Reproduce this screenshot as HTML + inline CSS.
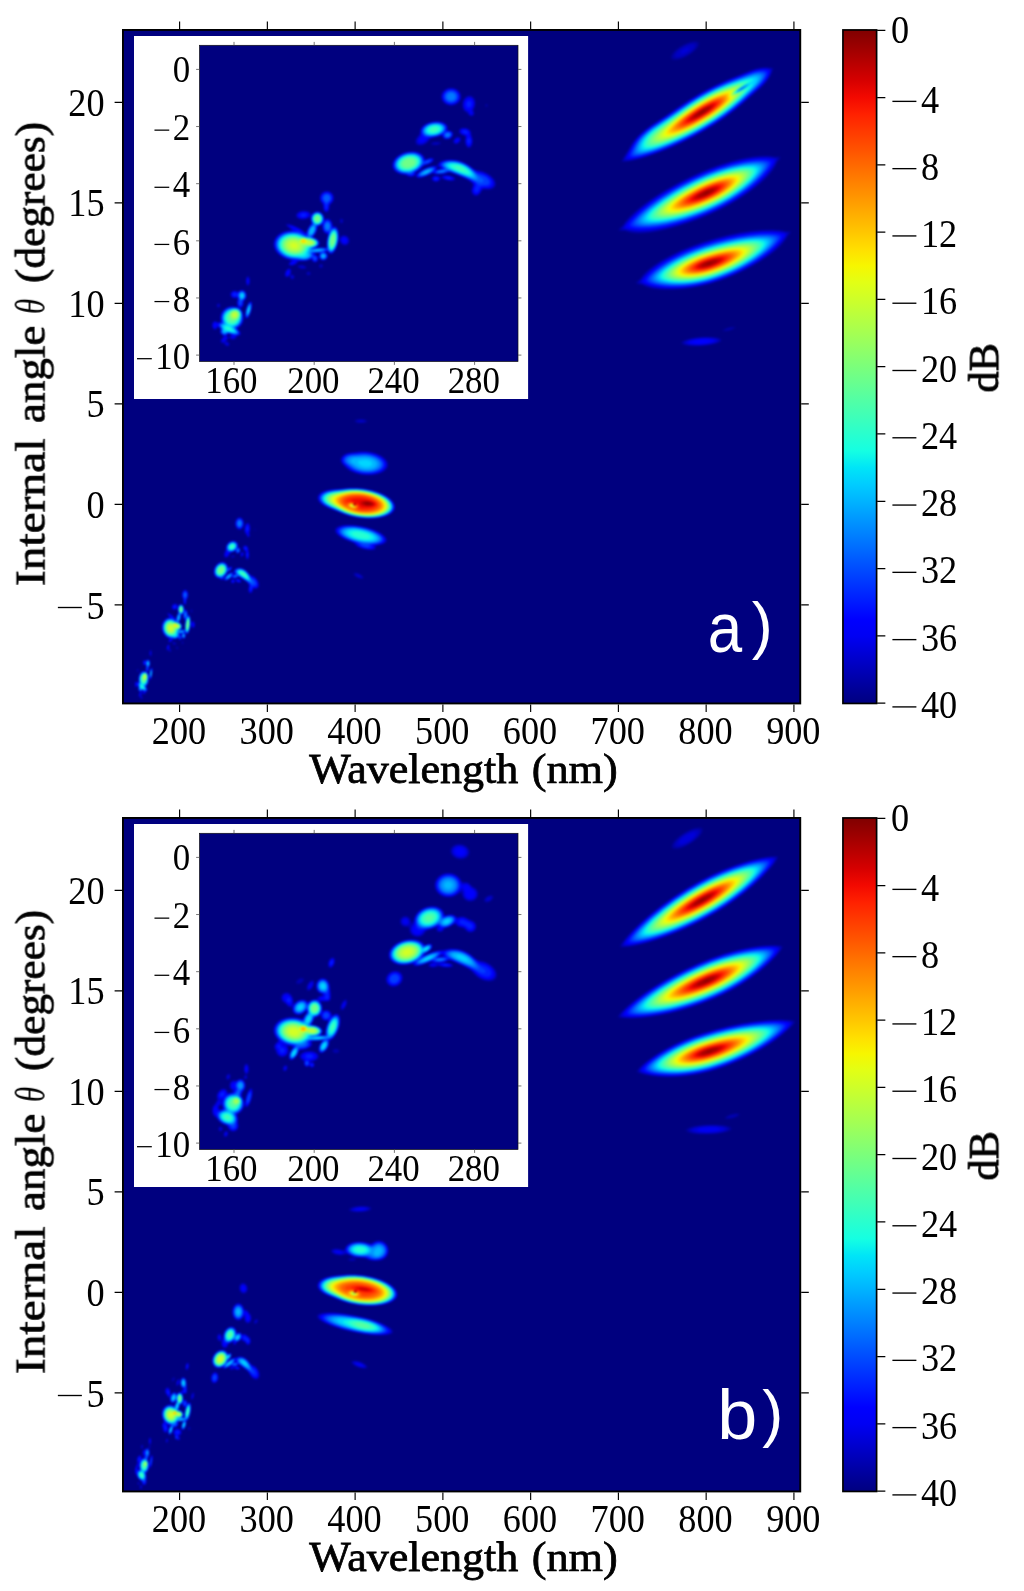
<!DOCTYPE html>
<html><head><meta charset="utf-8"><title>figure</title>
<style>html,body{margin:0;padding:0;background:#fff}svg{display:block}</style></head>
<body>
<svg width="1024" height="1591" viewBox="0 0 1024 1591">
<rect width="1024" height="1591" fill="#fff"/>
<defs><filter id="blM" x="-5%" y="-5%" width="110%" height="110%" color-interpolation-filters="sRGB"><feGaussianBlur stdDeviation="0.9"/></filter><filter id="blI" x="-5%" y="-5%" width="110%" height="110%" color-interpolation-filters="sRGB"><feGaussianBlur stdDeviation="1.2"/></filter></defs>
<g transform="translate(0,0)">
<rect x="122.95" y="29.95" width="677.30" height="673.50" fill="#00007f"/>
<clipPath id="cma"><rect x="122.95" y="29.95" width="677.30" height="673.50"/></clipPath><g clip-path="url(#cma)"><g filter="url(#blM)">
<path fill="#000090" d="M677.4 60l-3 0.2-2-0.3-0.9-0.5-0.5-0.4-0.2-0.6-0.2-1 0.5-2 1.2-2 2.2-2.4 2.5-2.2 3.4-2.5 2.6-1.4 3-1.5 4-1.5 3-0.7 2.4-0.2 2 0.3 1 0.5 0.6 0.5 0.3 0.7 0.1 1-0.2 1-0.7 1.4-1.8 2.6-3.3 3-3.4 2.6-4.2 2.4-4.8 2zM624 162l-2.6-0.1-0.2-0.5 0.7-1.4 4.7-7.6 3.6-6.4 2.6-4 1.9-2.6 4.3-4.5 4-3.7 2.4-2 6-4.5 15-9.7 14-9.7 10-6.6 6.6-4 8-4.5 12-6 9-4 13-5.1 10.4-4.4 7.6-2.4 2.4-0.6 3.6-0.4 4.4 0 2.6 0.3 3 0.1 0.5 0.3 0.2 0.4-0.1 0.6-1.2 2.1-0.3 1.3-1 2.6-1.9 3.4-2.6 3.6-4.7 5-18.9 16.7-8.6 7-10 7.5-12 8-11 6.5-12 6.5-13.4 6.5-10.6 4.5-12 4.5-12.4 4-10.6 2.5zM645.4 233.5l-6.4 0.3-5.6-0.3-4-0.8-4-1.5-4 0.1-2-0.2-1-0.4-0.2-0.3-0.1-0.4 0.5-1 0.9-1 3.5-2.9 1.4-2.7 4.1-5 4-4 5-4.4 6.5-5.1 7-5 8.4-5.5 8.6-5.1 9-5 7-3.6 7-3.4 10-4.5 14-5.5 9-3.1 6.4-1.9 7.6-2 7-1.5 5.4-1 8-1 5-0.3 4.6 0.1 3 0.2 4 0.9 3-0.4 1.4 0.1 0.6 0.1 0.7 0.5 0.1 0.4-0.3 1-3.3 4-1.3 3.6-2.4 4-4 5-4.8 5-5.7 5-8.6 6.6-9.4 6.5-10 6-10.6 5.6-10.4 4.9-11 4.6-12 4.4-11 3.5-11.6 3-9 2zM678 289.5l-3.6 0.2-10 0.1-6-0.2-5-0.6-2.4-0.4-4-1.1-2-0.8-2-1.3-5.6-1.1-0.9-0.3-0.6-0.6-0.2-0.4 0-0.6 1.3-1.5 3.4-2.6 1-1.9 1.5-2 2.1-2.2 2.3-2.2 6.7-5.1 7-4.5 10-5.4 11-5.2 12.4-5 10.6-3.6 11.4-3.4 14-3.5 12.6-2.5 10.4-1.5 5.6-0.5 7-0.4 7 0 6.4 0.4 3.6 0.6 3 0.8 4-0.1 0.9 0.3 0.3 0.6-0.1 0.4-0.6 1-2.5 2.6-1.9 3.4-2.6 3.6-3.5 3.9-4 3.6-6.6 5.1-7.4 5-7.6 4.5-8.4 4.6-8 3.9-8 3.5-8 3.1-10.6 3.5-7.4 1.9-10 2.1-7 1zM727.4 331.1l-4 0.2-1-0.3 0-0.6 0.6-0.6 1.4-0.9 1.6-0.7 3-1 3-0.5 2.4 0 1.1 0.3 0.2 0.4-0.4 0.6-1.9 1.2-2.4 1zM700.4 346l-2.4 0.2-4.6 0-6.4-0.5-2.6-0.6-2.4-1-0.7-0.7-0.2-0.4 0-0.6 0.9-1 1-0.5 4-1.6 4.4-1.1 8-1.1 8-0.3 7.6 0.4 3 0.5 2 0.6 1.1 0.7 0.6 0.4 0.2 0.6-0.3 1-1.3 1-2.3 1.1-2 0.6-7 1.5-4 0.5zM364 423.1l-3 0.2-3-0.2-2-0.5-1-0.5-0.7-0.7 0-0.4 0.3-0.6 0.8-0.6 1.6-0.5 3.4-0.3 4 0.2 2 0.7 0.8 0.5 0.3 0.6 0 0.4-0.5 0.6-1 0.5zM373.4 475.1l-2.4 0.2-5.6 0-5-0.6-5.4-1.4-4-1.7-2.6-1.5-2-1.5-4.1-4.2-1.1-1.4-0.6-1.6-0.2-1.4 0.3-2 1-1.6 1.3-1.2 1.4-1 2.6-1 1.5-0.2 0.5-0.3 2.4-0.3 1-0.2 8-1 4.6 0 5 0.5 6 1.5 4.4 1.9 2 1.2 2 1.5 2.2 2.2 0.9 1.4 0.6 1.6 0.2 2-0.1 1.4-0.7 1.6-1.1 1.4-2 1.8-1.4 1-2 1-3 1zM373.4 518.6l-1.4 0.2-4 0-1.6-0.1-1-0.3-4.4-0.1-0.9-0.3-2.7-0.2-0.7-0.4-1.7 0-0.6-0.1-0.4-0.4-1.6-0.1-0.6-0.4-1.4-0.1-0.5-0.3-1.5-0.2-0.3-0.4-1.1-0.1-0.4-0.3-1.2-0.2-0.4-0.4-1-0.1-0.4-0.3-2.2-0.7-0.3-0.3-0.7-0.1-0.4-0.5-2-0.6-0.6-0.4-1-0.2-1.4-0.8-1-0.1-0.4-0.3-1.2-0.2-0.3-0.4-1.1-0.2-0.3-0.2-2.3-0.7-0.3-0.3-0.7-0.2-0.4-0.4-2.6-1.1-2.4-1.6-3.4-3.3-0.9-1.4-0.4-1.6-0.1-1 0.4-1.4 0.5-1 2.3-2.3 3-1.6 0.9-0.1 0.7-0.4 1-0.2 0.4-0.3 1.8-0.1 0.8-0.4 2.6-0.2 0.8-0.2 7.7-0.2 1.3-0.4 4-0.2 0.6-0.2 1-0.1 12.4-0.1 1 0.1 0.8 0.3 3.2 0.2 0.7 0.4 2.3 0.1 0.5 0.3 1.5 0.1 0.6 0.1 0.4 0.4 1.6 0.1 0.3 0.3 1.1 0.1 0.6 0.2 0.2 0.3 1.2 0.1 0.4 0.3 1.2 0.2 0.3 0.4 1.1 0.1 0.4 0.3 2.2 0.7 0.3 0.3 0.7 0.2 0.4 0.4 0.6 0 0.4 0.4 0.6 0.1 0.4 0.5 0.6 0 0.4 0.5 0.6 0.1 0.3 0.4 0.7 0.2 3.4 2.5 1.9 1.7 1.5 2 1 2 0.5 2-0.2 2-0.8 2-1.9 2.3-2 1.5-0.6 0.2-0.4 0.4-0.6 0.2-0.4 0.3-0.6 0.1-0.4 0.4-2.2 0.6-0.8 0.4-1 0.2-0.4 0.3-1.7 0.1-0.3 0.4-2.5 0.2-1.1 0.3zM241 529.5l-0.6 0.3-1.4 0-0.6 0-0.3-0.4-0.7-0.2-0.8-0.8-1-1.4-0.2-1.1-0.3-0.5 0-3.4 0.6-2 1.3-1.7 1-0.7 1-0.5 1.4 0.1 1.6 0.9 0.7 0.9 0.2 0.4 0.4 0.6 0.6 1.4 0.2 2.6-0.4 2.4-0.9 1.6-1.4 1.3zM249 537.3l-1 0-0.9-0.9-0.1-0.5-0.6-0.8-1.3-1.7-0.5-1-0.2-1.6-0.2-0.8 0-2 0.5-2.6 0.9-1.4 1.4-1.4 1.4 0.1 0.8 0.7 0.6 1 0.5 2 0 4-0.3 0.6-0.3 1.4-0.3 0.6 0 0.6 0.4 0.8 0.1 1.6-0.1 0.4zM374.4 549.7l-3 0.2-4.4-0.1-0.9-0.4-1.7-0.1-0.7-0.3-1.3-0.2-0.5-0.4-0.9-0.1-0.6-0.3-1-0.2-0.3-0.4-1.7-0.6-1.4-1-2.2-2.4-1.4-1-7-2.6-4-2-2.4-1.6-2.1-1.8-1.7-2-0.5-1.4-0.1-1 0.3-1 1.5-1.8 2-1.1 1.6-0.5 1.3-0.2 0.7-0.2 4-0.5 4.4 0 1.6 0.3 4 0.1 1 0.3 2.4 0.2 0.7 0.4 1.9 0.1 0.7 0.3 1.7 0.2 0.5 0.4 1.5 0.1 0.5 0.3 1.5 0.3 0.3 0.3 1.3 0.2 0.3 0.2 1.1 0.2 0.4 0.4 1.2 0.2 0.2 0.2 2.2 0.8 0.3 0.2 0.7 0.2 0.4 0.4 2.6 1.1 4 2.6 2.8 2.7 1 2-0.1 1.6-0.5 1-1.2 1.1-2 1.1-3.4 1-2.4 0.2-1.4 0.6-0.1 0.4 0.2 1.6-0.1 0.4-0.8 0.9zM255.4 530.7l-0.4 0.1-0.8-0.8 0-0.6 0.8-0.8 0.4 0.1 0.4 0.7 0 0.6zM226 558.1l-0.6 0-1-0.7-0.7-1.4-0.1-1 0.6-2.6 1.2-2.1 0.2-2.3 0.4-0.7 0-1.3 0.4-0.5 0.1-0.5 0.5-0.6 0.1-0.4 1.3-1.4 1.6-1.1 0.6-0.1 0.4-0.3 1.3-0.1 0.7-0.4 0.4 0 0.6 0.1 0.2 0.3 1.2 0.1 1.6 1.1 0.9 1.2 0.1 0.7 0.3 0.3 0 0.6 0 2 1.1 0.5 0.9 0.9 0.1 3-0.4 0.5-0.2 0.5-0.8 0.9-0.8 0.1-0.2 0.3-0.6 0.1-0.3-0.4-0.7-0.1-0.3-0.3-0.1-0.6-0.5-0.4-0.1-0.8-0.4-0.1-1 0.7-1.1 0.2-0.5 0.3-0.8 0.1-1.2 0.9-0.6 1.7-1 1.4-0.8 0.8zM247.4 559.8l-0.4 0-0.8-0.8-0.2-1.3-0.3-0.3-0.2-6-0.4-0.4-0.7-0.2-1.2-1.4-0.2-1-0.3-0.4 0.4-1.6 0.9-0.8 1-0.3 1.4 0.3 1.4 1.4 0.5 1 0.1 2.2 0.4 0.8 0.1 2 0.3 1 0.1 1-0.3 1-0.2 2-0.4 0.4-0.1 0.6zM242.4 556.7l-0.4 0.2-1-0.1-0.4-0.4-0.2-0.7-0.2-0.3 0-0.4 0.2-0.3 0.2-1.3 0.8-1 1-0.8 0.6 0 0.8 0.8 0.1 2-0.2 0.6zM233.4 557.6l-1 0.2-1-0.1-0.9-0.7-0.1-0.6 1-0.8 0.8-0.2 0.2-0.2 2 0 0.9 0.8 0 0.4-0.9 0.9zM251 593.3l-1 0-0.6-0.3-0.8-1-0.4-2.6 0.2-0.7 0.2-1.7 0.4-1.2-0.5-1.4-0.5-0.9-2.5-2.5-1.1-0.6-1-1-0.4 0-1.2-1-1.4-0.7-1-0.8-1.4 0-0.6 0.5-0.5 0-0.5 0.5-1.1 0.1-0.3 0.3-0.6 0.1-1.4-0.1-0.5-0.3-1.1-0.4-1 0.3-1.4 1.5-0.6 0-0.4 0.5-1 0.5-0.7 0-0.3 0.4-0.6 0-0.4 0-1.4-1.4-0.6 0.4-2 0-1-0.9-0.8-0.5-1.8-0.2-1.4-0.9-0.9-0.9-1-1.4-0.1-1.2-0.4-0.4-0.1-2 0.1-1 0.4-0.7 0.1-1.3 0.3-0.3 0.1-0.7 0.5-0.4 0.1-0.6 0.9-1 0.2-0.4 0.8-0.8 2-1.5 1.4-0.7 2-0.2 2 0.3 1.6 0.9 1.3 1.4 0.1 0.7 0.4 0.3 0.2 1 0.4 1.1 0.4-0.1 1.2-0.7 1-0.2 0.4 0 0.9 0.9-0.5 1.6-0.4 0.4-2 1.9-0.5 0.1-0.5 0.5-0.4 0-0.6 0.5-0.6 1.6-2.4 2.6 0 1 1.8-2.2 2.2-1.9 0.6 0 1-0.8 1-0.3 0.4-0.3 1.5-0.1 0.5-0.7 0.2-0.9 1.8-1.8 0.6-0.2 0.4-0.3 1-0.1 0.6-0.3 1-0.1 1.4 0.1 0.3 0.3 1.3 0 0.6 0.4 0.8 0.2 1.2 0.8 0.4 0.1 5.4 5.5 2.6 0.6 1.4 1 2.9 2.8 1 1.6 1 3-0.1 2.4-0.5 1-1.3 1.3-1.4 0.5-2-0.3-0.4 0.1-0.6 0.8-0.2 1.2-0.4 0.3-0.1 0.7zM363.4 578.6l-1.4 0.3-2-0.2-2.6-0.9-2.4-1.6-0.8-0.8-0.9-1.4 0-0.6 0.7-0.6 2-0.2 3.4 1.1 2.6 1.5 1.6 1.8 0.3 1zM234.5 574.4l0.5-0.4-0.6-0.6-0.4-0.1-0.6 0.6 0 0.5 0 0.2zM234 583.2l-0.6 0.2-1.4-0.1-0.9-0.9 0-2.4 0.9-0.9 2 0 0.4 0.4 0.6 0.2 0.4-0.6 1-0.5 1.6 0 0.4 0.4 1 0.1 1.6 1.1 0.4 0.8 0 1-0.4 0.4-0.6 0.4-1 0.1-1-0.1-0.3-0.4-0.7 0-0.4-0.5-0.6-0.1-1-0.9-0.4 0.4-0.3 1.1zM185 605l-0.9-0.6-0.1-0.5-0.5-0.5 0-3.4-1.3-2.6-0.3-2.4 0.2-2.6 0.3-0.3 0.2-0.7 1.4-1.4 0.4-0.3 0.6-0.1 0.4 0 1 0.5 0.9 0.9 0.6 1 0.1 0.6 0.3 0.4 0.1 2-0.1 1.4-0.3 0.8-0.2 0.8-1.4 2-0.2 3.4-0.2 0.3-0.2 0.7zM170.4 642.3l-1.4 0.1-0.8-0.4-0.1-1 0.3-0.4 0.2-0.6 0.4-0.6 0.2-0.4-0.5-0.6-0.7-0.1-0.4-0.3-0.6-0.3-1-0.8-1.9-1.9-1-1.6-0.1-0.6-0.4-0.4-0.2-0.7-0.3-0.7-0.1-1-0.3-0.6-0.1-1 0-3 0.4-0.6 0.1-1.4 0.3-0.3 0.1-0.7 0.6-1 1.9-2.2 1.4-1.1 0.8-0.1 0.2-0.3 1.6-0.3 0.2-0.4-0.2-0.6-1.4-1.4-0.2-0.6-0.3-0.4-0.1-0.6 0.4-0.6 1.6 0.3 0.3 0.3 0.7 0.2 1.4 1 2.6 2.1 1.4 1.8 0.6 0.3 0.4-0.9 0.1-1.5 0.5-0.4 0-1 0.4-0.5 0.1-0.5 0.5-0.6 0.2-1-0.2-3.3-0.6-0.3-1.4 1-1.6 0.1-1.4-0.2-1.4-1.3 0-2.4 0.8-1.3 1.6-1 0.4-0.1 2 0.1 1.4 1.3 0.6 0.8 2-1.7 1 0 1 0.7 1 1.2 0 0.5 0.5 0.5 0.1 1.6 0.3 0.4 0.1 0.4 0.6-0.3 1 0.1 0.8 0.8 0.2 0.6 0.3 0.4 0.1 1.1 0.4 0.3 0.1 0.6 0.1 1.6 1 0.1 0.2 0.3 0.7 1 0.1 0.8 0.4 0.6 0 4.2 0.6 0.5 0.4-0.9 1-0.5 0.6 0 0.9 0.7 0.9 1 0.2 1.2 0.2 0.4 0 2-0.2 0.2-0.2 0.8-0.8 0.9-0.6 0.4-1 0-1.3-1.3-0.1-0.7-0.4-0.3-0.2-1-0.1 1.4-0.4 0.6-0.1 2-0.4 0.3-0.1 1.7-0.3 0.3-0.1 0.7-0.5 0.4 0 0.6-1 1.1-0.4 0.3-0.6-0.1-0.8-0.9-0.2-0.8-0.5-0.2 0 0.6 0.4 0.4 0.1 1.1 0.4 0.5 0.1 1-0.5 0.7 0 0.7-1.4 1.5-1-0.1-1-0.8 0-0.6-0.6-0.1 0 1.7-1.4 1.3-1.5-1.3-0.1-0.7-0.4-0.1-0.7 0.2-0.3 0.4-1.2 0.2-0.4 0.3-2.4 0.1-1.3 2zM192 612.7l-0.6 0.1-0.8-0.8 0-0.6 0-1.4 0.8-0.9 0.6 0.1 0.3 0.8 0 2zM185 629.4l0-6 0-0.4 0.4-0.5 0.1-2.1-0.5-0.1-0.9-0.9-0.6-1-0.1-0.6-0.3-0.4-0.1-3.5-0.6 0-1 1.1-0.1 1-0.3 0.4-0.1 2-0.5 0.5 0 1.1-0.5 0.4 0 0.6-0.5 0.7 0 0.7 1.2 1 1.3 1.6 0.1 1.1 0.3 0.3-0.3 0.8-0.1 0.8-1.1 1.4zM181.5 636l0-1.6 0.1-0.4 0.4-0.6-1.2 0-0.7 0.6 1.2 1.4 0.1 0.9zM183 644.1l-0.6 0.2-0.8-0.9 0-1.4 0.8-0.9 0.6 0 0.3 0.3 0.4 1 0 0.6zM176 644.7l-0.6 0.1-1.4 0-0.4-0.4-0.6-0.2-0.8-0.8-0.1-1 1.3-0.7 1.6 0.4 1 0.7 0.3 0.6 0 0.6zM170 652.3l-0.9-0.9-0.1-1.2-0.6 0.1-0.4 0.4-0.6 0.1-0.8-0.8 0-2.6 0.4-0.6 0-0.8 0.5-0.6 0.1-0.4 0.8-0.9 0.6 0 0.3 0.3 0.5 1 0 1-0.4 1 0 1.1 1 0.1 0.4 0.4 0.3 1.4-0.2 1zM177.4 649.3l-0.4 0-0.9-0.9 0.1-1.4 0.8-0.4 0.4 0 0.9 0.8 0 1zM150.4 656.8l-0.3-0.4-0.1-0.8-0.4-0.6-0.1-2 0.1-1.6 0.4-0.7 0.1-0.7 0.3-0.4 0.9 0.8 0.1 2.6-0.1 3zM142 699.3l-0.6 0-0.9-0.9-0.5-1.1-1.4-0.9-0.1-2 1-1.4 0.1-1-0.1-0.6-1-1-0.1-1-0.3-0.4 0-0.6 0.3-0.5 0-1.1-0.3-0.4-0.1-0.5-0.6 0 0 0.5-0.5 0.6-0.5 0.4-0.4 0.1-0.7-0.5-0.3-0.6 0-0.7-0.4-0.7 0-1 0.1-0.6 0.3-0.2 0.1-1.2 0.9-0.9 0.4 0 1 0.9 1-0.1 0.2-5.9 0.4-0.4 0.1-1.2 0.9-1.4 2-1.9 1.1-0.1 0.3-0.3 2.6 0.5 0-0.7-0.4-0.5-0.1-1.6 0.1-1 0.4-0.4 0-1.6-2-0.1-0.9-0.9-0.5-2 0.4-0.6 0.1-0.8 0.9-0.9 1-0.2 1.4 0.6 1-1 1 0 1.4 1.5 0.2 2.2 0.1 0.2-0.1 0.3-0.2 2.3-0.8 1.2-0.2 3.2-0.4 0.4 0 0.6-1 1 0.5 1 0.1 0.6 0.4 0.4 0 1.6 0.4 0.4 0.1 1.6 0 3.4-0.5 0.8-0.1 1.2-0.3 0.4-0.2 0.6-0.4 0.4-0.2 0.6-0.8 1 0 1 0.5 0.6 0.1 0.5 0.4 0.5 0.3 1.4-0.7 1-1 0.8-0.3 1.2-0.7 0.8-1.6 0.1-1-0.7-0.4 0.4-0.6 1.4 0.9 1 0.1 0.7 0.4 0.3 0 0.6zM150 679.9l-0.5-0.5-0.4-1.4 0-1.6 0.4-0.4 0-3 0.5-0.8 0-1.8 0.4-0.4 0.1-1 0.5-0.5 0-0.5 0.4-0.5 0.6 0 0.4 0.5 0 5.4-0.4 0.8-0.1 1.8-0.5 0.5 0 1.5-0.4 0.4-0.1 0.6zM138 671.9l-0.6 0-0.4-0.5-0.4-1 0.1-0.4 0.7-1 0.6-0.1 0.7 1.1 0 1zM142.2 692l0.8-1-0.6-0.6-0.5 0-0.2 1 0.3 0.7z"/>
<path fill="#00009f" d="M676.4 59.5l-2 0-1.6-0.5-0.9-1-0.2-1.6 0.5-1.4 1.3-2 1.8-2 2.3-2 2.8-2 3.4-2 3.2-1.6 2.9-1 2.5-0.5 2.6-0.2 1.6 0.3 0.8 0.4 0.6 0.5 0.2 0.5 0.1 1-0.2 1-0.7 1.6-1.9 2.4-3.3 3-3.8 2.6-4.7 2.4-4.3 1.5zM626 161.5l-3 0.1-0.7-0.2-0.3-0.4 0.3-1 1.1-2 3.8-6 5.3-9 3-4 3.7-4 5.8-5.1 6-4.5 15.2-10 15.2-10.5 8.6-5.6 12.4-7.4 12.6-6.5 12.4-5.6 22.6-9 6-2 6-1.1 3-0.2 2.4 0.1 3.6 0.4 1 0 1 0.4 0 1-0.6 1-1 3-2.4 4.8-3.1 4.2-4.3 4.6-19.2 16.8-7.4 6.2-10 7.6-12 8-10 6-11 6-12 6-12.6 5.5-11.4 4.4-12 4-9.6 2.5zM645 233l-6.6 0.2-5.4-0.4-4-0.8-3.6-1.3-3 0.1-2-0.2-1-0.4-0.2-0.8 1-1.4 2.8-2.4 2.4-3.9 3.7-4.3 4.5-4.4 5.4-4.7 6.9-5.3 7.5-5.3 8.6-5.4 9-5.3 8-4.3 7.4-3.8 8-3.8 8-3.5 7.6-3.1 7.4-2.7 7.6-2.5 7.4-2.2 7.6-1.9 6.4-1.3 6.6-1.1 6-0.6 5-0.2 4.4 0 3.6 0.4 3 0.7 3.4-0.2 0.6 0.1 0.8 0.4 0.1 0.6-0.4 1-2.5 2.9-1.4 3.5-2.7 4.6-4 5-5.4 5.4-7 6-8.1 6.2-9 6-9.4 5.7-10 5.3-11 5.1-11 4.5-11.6 4.1-11 3.5-11.4 3-10 2zM672 289.5l-6 0-5.6-0.2-5-0.5-4-0.6-5-1.4-4-2-4.3-0.8-1-0.6-0.4-0.4 0-0.6 0.2-0.4 0.8-1 2.7-2.1 2.7-3.9 4.3-4.5 5.8-4.5 7.2-4.8 9.4-5.2 10.2-4.9 11-4.6 12-4.2 13-4 12.4-3.2 12.6-2.5 11.4-1.7 10.6-1 9.4-0.1 7.6 0.5 3.4 0.6 3 0.7 2.6 0 1.1 0.4 0.2 0.4-0.5 1-2.2 2.6-1.6 2.9-2.6 3.5-4.1 4.6-5.1 4.4-6.6 5-8.2 5.4-8.4 4.9-9.2 4.7-8.8 4.1-8.6 3.5-9 3.1-8.4 2.5-8.6 1.9-9 1.5-9 1zM726 331l-1.8 0-0.9-0.6 0.3-0.4 1.5-1 2.6-1 1.9-0.6 3.4-0.4 1 0.1 0.6 0.3-0.1 0.6-0.6 0.4-1.9 1-3.2 1zM704.4 345.5l-9 0.4-7.4-0.4-2.8-0.5-1.8-0.6-1.3-1-0.2-0.4 0-0.6 0.9-1 0.8-0.4 4-1.6 4.8-1.1 8-1 7-0.2 6.6 0.3 3.4 0.6 1.7 0.4 1.1 0.6 0.6 0.4 0.3 0.6 0 0.4-0.8 1-3 1.6-5.9 1.5zM362.4 423l-3 0-2.9-0.6-1-0.4-0.6-0.6 0-0.4 0.5-0.7 1.6-0.6 1.4-0.4 2.6-0.1 2.4 0.1 1.6 0.4 1.4 0.7 0.5 0.6 0 0.4-0.5 0.5-1 0.5zM372 475l-6 0.1-5-0.6-6-1.5-4.6-2-2.4-1.6-1.9-1.4-2.7-2.7-1.5-1.9-0.8-1.4-0.4-1.6 0-1.4 0.6-1.6 1.1-1.4 1.6-1.2 2-1 1.4-0.5 2.6-0.5 7-1 4.4-0.3 5 0.1 5 0.7 5.6 1.6 4.4 2.1 3.4 2.4 1.4 1.6 1 1.4 0.6 1.6 0.2 1.4-0.1 1.6-0.5 1.4-0.9 1.6-1.1 1-1.8 1.4-1.8 1-4.4 1.7zM372.4 518.5l-3.4 0.1-7-0.3-2-0.4-2-0.1-0.9-0.4-2.1-0.2-0.6-0.2-2-0.3-0.3-0.3-1.7-0.2-0.3-0.2-1.1-0.2-3.6-1.2-5-1.9-4-1.8-6.4-2.2-5.6-2.6-3-2-1.7-1.7-0.9-1-1-2-0.3-2 0.4-1.4 1.4-2 2.1-1.7 3.6-1.5 4.4-1.1 4.6-0.5 7-0.2 7-0.9 11 0 5 0.6 0.7 0.3 2.3 0.2 0.6 0.2 1.8 0.3 0.6 0.3 3.4 0.7 6 2 4.6 2 3.4 2 1.6 1 3 2.7 1.6 2 0.6 1 0.4 1 0.5 2.6-0.5 2.4-0.5 1-1.7 2-1.4 1.3-1.6 0.9-5 2.1-4 1-3 0.5zM240.4 529.6l-1 0.1-1-0.2-1.4-1-1.3-2.1-0.5-2 0-2.4 0.5-1.6 0.5-1 1.8-1.7 1.4-0.4 1.6 0.4 1 0.7 1.1 1.6 0.7 2 0.1 2-0.2 2-1.1 2-1.2 1.1zM249 537.1l-1 0.1-0.8-0.8-0.6-1.4-1.3-1.6-0.6-1.4-0.2-1.6 0-2 0.3-2.4 1-2 0.6-0.7 1-0.5 0.8 0.2 0.8 0.6 0.7 1.4 0.5 2-0.1 3-0.8 3 0.4 1.4 0 1.6zM374 549.6l-2.6 0.2-4-0.1-5-1.1-4-1.5-2.4-1.6-1.8-2.1-1.5-1-8.3-3.3-3-1.5-3-2.1-2.1-2.1-1-1.4-0.4-1.6 0.3-1.4 0.8-1 1.4-1.1 2.6-1 2.4-0.6 6-0.4 6.6 0.3 6.4 1 6.6 1.6 6 2 5.4 2.5 4 2.7 2.1 2 1.2 2 0.2 1-0.1 1-1 1.4-0.8 0.7-1.6 0.8-2 0.7-4.6 0.8-0.8 0.4-0.3 0.6 0.3 1.6-0.1 0.4-0.5 0.6zM255 530.6l-0.5-0.6 0-0.6 0.5-0.6 0.6 0.6-0.2 0.9zM227 557.6l-1 0.2-1-0.2-0.7-0.6-0.4-1.6 0.4-2.4 1.4-3 0.5-4 0.4-1 1.8-2.3 1.6-1 1-0.5 2.4-0.3 2 0.4 1.5 1.1 0.8 1 0.5 1.6-0.1 2 1.3 0.6 0.8 0.8 0.2 1-0.2 2-1.2 1.6-0.6 0.3-1 0.2-1.1-0.5-0.7-1-0.2-1.1-0.4 0-1.6 0.9-2.1 0.6-1.1 1-1.2 2.6-0.6 0.6zM247.4 559.6l-0.4-0.1-0.8-1.1-0.5-1.4 0-5.6-0.4-0.4-1.5-1-0.7-1 0-0.6-0.1-1 0.3-1 0.7-0.6 1-0.3 1.4 0.3 1.3 1.2 0.5 1 0.2 2.4 0.4 1.6 0.2 3-0.3 3-0.5 1zM242 556.7l-0.6 0.1-0.6-0.4-0.3-1 0.1-1.4 0.2-0.6 0.8-1 0.8-0.6 0.6 0 0.6 0.6 0.1 2-0.4 1zM233 557.5l-1 0-0.6-0.2-0.6-0.3-0.1-0.6 0.7-0.6 1.6-0.5 1 0.1 1 0.6 0 0.4-0.6 0.6zM251 593.1l-1 0.1-0.8-0.8-0.6-1-0.1-2 0.5-4-0.9-2-1.4-1.4-1.7-1.6-5.6-3.6-1.4 0.1-1.6 0.9-2.4 0.5-1-0.1-1.6-0.8-1 0.5-1.4 1.3-0.6 0.2-0.4 0.4-0.6 0.2-0.4 0.3-1.6 0.4-0.4-0.1-0.6-0.3-0.4-0.9-0.6-0.1-0.4 0.4-1.6 0.1-0.4-0.1-1.6-1.3-1.4-0.2-2-1.1-0.7-0.7-1.2-2-0.4-2.4 0-1 0.4-2 0.6-1.6 0.9-1.4 2.8-2.9 2-0.9 2.6-0.2 1.4 0.3 1 0.5 1.3 1.2 1 1.4 0.3 1.3 0.4 0.9 0.6-0.1 1.4-0.9 1 0 0.4 0.4 0.3 0.4-0.3 1-0.5 1-1.3 1.4-1.6 1-0.4 0.1-0.6 0.5-1.1 2-1.9 2-0.2 1 0.2 0.5 1.6-1.9 2.4-2.3 3-1.5 1.8-0.2 0.6-1.6 1.6-1.7 1-0.5 2.6-0.5 3 0.5 2 0.9 1.4 1 4.8 4.9 2.8 0.9 1.4 0.9 2.3 2.2 1.3 2 0.7 1.4 0.3 1.6 0 2-0.6 1.4-1 1-1.4 0.5-2-0.2-0.6 0.1-0.4 0.8-0.9 2.4zM363 578.5l-1 0.2-1.6-0.2-3-1-1.6-1.1-1.2-1-0.8-1-0.1-0.4 0.1-0.6 1.1-0.4 1.1-0.1 2 0.5 2.3 1 2.1 1.6 0.8 1 0.3 1zM234.7 574.4l0.4-0.4-0.7-0.8-0.4-0.1-0.6 0.6-0.1 0.7 0.1 0.4zM233.4 583.3l-1 0-0.4-0.3-0.9-1 0-1.6 0.2-0.4 1.1-0.9 1 0 1.6 0.9 0.4-0.6 1-0.6 1.6 0 1.4 0.4 1 0.8 0.9 1-0.1 1-0.2 0.2-1 0.5-0.6 0-2-0.4-1-0.6-1-1-0.4 0.3-0.2 1-0.4 0.4zM185.4 604.6l-0.4 0.2-0.6-0.1-0.7-1.3-0.2-3.4-1.3-3-0.2-2 0.1-2 0.6-1.6 1.3-1.2 1-0.4 0.4 0 1 0.5 0.7 0.7 0.6 1 0.4 1 0.2 1.4-0.1 2-0.5 1.6-1.4 2-0.1 3zM170.4 642.2l-1.4 0.1-0.5-0.3-0.3-0.6 0.1-0.4 1.1-2.1-0.4-0.5-1-0.3-2-1.4-1.8-1.7-1.4-2.6-0.6-1.4-0.5-2.6 0-2.4 0.4-2 1.1-2.6 1.8-1.9 1.4-1.1 1.6-0.7 1.4-0.3 0.1-0.4-2.2-3-0.1-0.6 0.2-0.3 1.6 0.2 2.4 1.4 2.5 2.3 2.1 2.1 0.4-1 0.2-1.7 0.4-0.4 0.1-1 0.3-0.4 0.2-0.6 0.4-0.6 0.5-1-0.4-1-0.1-2.7-0.6-0.2-1.4 1.1-1.6 0.2-1-0.1-1.1-0.7-0.6-1 0.1-2 1.2-1.5 1.4-0.7 1.6 0 1 0.4 1.4 1.9 1.6-1.5 1-0.5 0.4 0.1 1.9 1.8 0.1 0.6 0.4 0.4 0.2 1.9 0.2 0.5 0.2 0.3 0.6-0.4 0.4-0.1 1.1 0.8 0.7 1 0.5 2 0.3 1.7 1 0.3 0.8 1 0.2 1.1 0.3 0.9 0.1 4.2 0.6 0.1 0.5-0.9 0.9-0.4 1 0.2 0.8 0.8 0.5 1 0.3 1.4 0 1-0.4 1.6-1.2 1.1-1-0.1-1.1-1-0.9-2.6-0.1 1.6-0.4 1-0.1 1.4-0.4 0.8-0.1 1.2-0.3 0.6-0.2 1-0.4 0.4-0.1 0.6-1.3 1.3-0.6-0.1-0.6-0.8-0.4-1-0.6 0 0 0.6 0.4 0.4 0.5 2-0.4 2-0.9 1-0.4 0.4-0.6 0-0.4-0.1-0.8-0.7-0.2-0.7-0.5-0.3 0-0.6 0.1-2 0.4-1-1.4 0-0.7 0.6 1.2 1.4 0.3 1.6-0.1 2-0.9 0.8-0.4 0.3-0.6-0.3-0.8-0.8-0.2-0.9-0.4-0.2-1.6 0.9-1.4 0.4-2 0.1-1.6 2.1zM191.4 612.6l-0.5-0.6-0.2-1 0.2-1 0.5-0.7 0.6 0.2 0.2 0.5 0.1 1-0.1 1-0.2 0.4zM185 629.4l0-5.4 0.2-1 0.3-0.6 0-2-0.1-0.2-0.4-0.2-0.8-0.6-0.6-1-0.5-1.4-0.1-3.3-1.3 0.7-0.4 0.6-0.3 1.2-0.3 2.2-0.3 0.3-0.1 1.3-0.3 0.3-0.2 0.7-0.4 0.4-0.1 1 2.5 2.6 0.2 1.4-0.2 1.6-1.2 1.4 0.4 0.2 4 0zM182.4 644l-0.6-0.6-0.1-1 0.1-0.4 0.6-0.8 0.7 0.2 0.3 1-0.2 1-0.2 0.4zM175.4 644.6l-1 0.1-1.4-0.7-0.7-1 0.1-0.6 1-0.4 1.6 0.3 1.2 1.1 0 0.6zM170 652l-0.7-0.6-0.3-1.6-1.6 0.8-0.5-0.6-0.2-0.6-0.1-1.4 0.6-2 0.5-1 0.7-0.8 0.6 0.1 0.1 0.1 0.5 1 0 1-0.3 1.6 0.1 0.7 0.6 0 0.4 0.2 0.4 0.5 0.1 1-0.2 1zM177.4 649.1l-0.4 0-0.8-0.7 0-1 0.8-0.7 0.4 0 0.7 0.7 0 0.6-0.1 0.4zM150.4 656.5l-0.7-1.5-0.1-2 0.1-1.6 0.7-1.6 0.8 0.6 0.2 2.6-0.1 2.4-0.1 0.6zM142 699l-0.6 0.1-0.4-0.4-1-1.6-1-0.5-0.4-0.6 0.1-1.6 0.8-1.4 0.2-1-0.1-0.6-0.9-1-0.3-1.2-0.2-0.2 0.3-1-0.1-1.3-0.4-0.9-0.6-0.1-0.2 0.7-0.4 0.6-0.4 0.3-0.4 0-0.9-0.9-0.3-2.4 0.3-1.6 0.9-1 0.4 0 1 0.8 1.1-0.2 0.1-5.6 0.5-1.4 1.1-2 1.2-1.3 1-0.6 1.6-0.1 2 0.4 0.1-0.4-0.4-1.6-0.1-1 0.4-1.4 0-1.6 0-0.2-1.6 0.1-0.4-0.2-0.7-0.7-0.5-2 0.5-1.4 0.7-0.8 0.4-0.1 1 0 0.6 0.4 0.4 0.1 1-1 1 0 0.9 0.8 0.5 1 0.1 2-0.1 2-0.9 1.6-0.1 3-0.6 1.4-0.9 1 1 2.6 0.1 1.2 0.4 0.8 0 2 0 2-0.5 2-0.6 1.4-1.5 2 0.2 1 0.9 1.6 0.1 1.4-0.1 0.6-0.3 0.3-1.1 0.7-0.2 1-0.8 1-0.5 0.2-1 0-1-0.9-0.4 0.4-0.8 1.7 1 1 0.4 1 0 0.6zM150 679.7l-0.3-0.3-0.5-2 0.3-1.4 0.1-3 0.4-0.5 0-1.5 0.1-0.6 0.3-0.3 0.2-1.1 0.4-0.4 0.2-0.6 0.2-0.3 0.6-0.1 0.3 0.4 0.1 0.4-0.1 5-0.3 0.5-0.2 2.1-0.4 0.4-0.2 1.6-0.2 0.2-0.2 0.8zM138 671.7l-0.6 0-0.2-0.3-0.3-1 0.3-1 0.2-0.3 0.6 0 0.2 0.3 0.4 1-0.4 1zM142.5 692l0.6-1-0.7-0.6-0.4 0-0.6 1 0.6 0.9z"/>
<path fill="#0000b1" d="M677 58.5l-1.6-0.1-1.4-0.7-0.6-0.7 0-1.6 0.6-1.4 1.5-2 2-2 1.9-1.6 4.9-3 2.1-1 3-1 2.6-0.6 2 0 1.4 0.3 1 0.8 0.3 0.5 0 1-0.8 2-2 2.6-2.9 2.4-2.9 2-3.8 2-4.2 1.6zM627 161l-2 0.1-1.6-0.2-0.4-0.5 0.4-1.4 9.6-16.3 2.8-3.7 3.7-4 5.1-4.6 5.9-4.4 15.9-10.5 14.7-10.1 8.9-5.8 13-7.7 13-6.7 10.6-4.8 23.7-9.4 6.4-2 5.7-1 3-0.2 3 0.2 3.1 0.4 0.9 0.6 0 0.4-1.4 4.2-2.6 4.8-2.9 4-4.3 4.6-18.7 16.4-7.8 6.6-10.3 7.6-10.4 7.1-11 6.6-11.6 6.3-11.4 5.7-11.7 5.1-11.9 4.7-11.4 3.8-9.6 2.6-4.8 0.9zM642 232.5l-5.6-0.1-5-0.6-3.4-0.7-2.6-0.9-4-0.2-0.8-0.6 0-0.4 0.5-1 2.1-2 1.3-2 1.9-2.7 3.4-3.9 5.2-5 5.8-5 7.3-5.4 8.3-5.8 9-5.6 9.6-5.4 15-7.6 8.4-3.9 7-3 7.6-2.9 7-2.5 13.4-4 7-1.7 6.6-1.3 6.4-1 5.6-0.6 5.4-0.2 4.6 0.1 3.4 0.4 2.6 0.6 2.4-0.1 1.2 0.5 0.1 0.4-0.4 1-1.5 2-1.8 4.1-2.9 4.5-4.5 5.4-5.4 5.6-7.2 6.1-8.5 6.3-9.5 6.3-9.6 5.6-10.4 5.3-11 5-11.6 4.5-12 4.1-11.4 3.4-11 2.5-9.6 1.6zM675.4 289l-6.4 0.1-6-0.1-5.6-0.4-5-0.8-5-1.2-2.4-1-2.6-1.4-3.5-0.8-0.7-0.4-0.3-0.6 0.1-0.4 0.7-1 2.3-1.8 1-1.8 1.4-2 4.6-4.5 6.2-4.9 7.2-4.8 9-5 10.6-5.1 11-4.5 11-3.9 13-3.9 12.4-3.2 12.6-2.6 11.4-1.7 11-0.9 9.6-0.1 8.4 0.7 5 1.1 1.6 0 1 0.5 0.1 0.4-0.4 1-1.3 1.3-2 3.4-2.4 3.4-4.5 4.9-5.1 4.4-6 4.6-7.4 5-8.3 5-8.7 4.6-8.6 3.9-8.4 3.6-8.6 3-8.4 2.6-8 2-8.6 1.6-8.4 1.1zM728.4 330l-2 0.2-0.8-0.2 0.3-0.6 2-1 2.1-0.5 2.3 0.1-0.1 0.4-0.7 0.6zM702 345.5l-7.6 0.1-3.8-0.2-2.6-0.3-2.6-0.6-1.4-0.5-0.7-0.6-0.3-0.4 0-0.6 0.3-0.4 1.4-1 4.1-1.6 5.6-1.1 7.6-0.8 7-0.1 5.4 0.4 3.6 0.8 1.4 0.7 0.6 0.7 0 0.4-0.2 0.6-1.3 1-3.9 1.4-5.2 1.2zM363.4 422.5l-2.4 0.2-3-0.3-1.5-0.4-0.6-0.6-0.1-0.4 0.4-0.6 1-0.4 3.8-0.5 3.6 0.5 1 0.4 0.4 0.6-0.1 0.4-0.6 0.6zM374 474.5l-6 0.4-6.2-0.5-5.8-1.3-5-2.1-2.6-1.5-1.9-1.5-2.5-2.5-1.8-2.1-0.9-1.4-0.4-1.6 0.1-1.4 0.4-1.3 0.9-1.3 1.1-1 1.6-1 2-0.7 3.4-0.8 10-1.2 5.6 0.1 5 0.6 4.4 1.2 4.6 1.8 2 1.2 1.8 1.4 2.4 2.4 0.8 1.6 0.5 1.4 0.1 1.6-0.2 1.4-0.7 1.6-0.7 1-1.5 1.4-1.4 1-1.9 1-2.2 0.9zM377.4 518l-1.4 0.2-5.6 0.2-8.4-0.3-3.6-0.4-5.4-1-4-1.1-4.6-1.4-8-3.4-7.4-2.7-3.6-1.6-2.4-1.5-2.6-2-1.6-2-0.8-1.6-0.2-1 0.2-2 0.7-1.4 1.7-1.8 2.2-1.2 2.8-1.1 5-1.1 10-0.7 8-0.9 9 0 6 0.6 8 1.5 6.6 1.9 5 2.1 2 1.1 2.4 1.5 2.8 2.1 2.1 2 1.4 2 0.9 2 0.3 2-0.3 2-1.1 2-1.3 1.4-2.2 1.7-3 1.5-3 1.1-4 0.9zM240 529.5l-1.6-0.2-1.4-1-1.2-1.9-0.5-2.4 0-1.6 0.3-1 0.8-2 1.6-1.5 1.4-0.4 1.6 0.3 1.4 1.4 1.1 2.2 0.3 2-0.2 2-0.9 2-1.3 1.5zM248.4 537.1l-0.4-0.2-0.5-0.5-0.7-1.4-1.4-1.7-0.5-1.3-0.3-2 0.1-2.6 0.5-2 1.2-1.9 1-0.4 1 0.3 0.6 0.6 0.5 1 0.5 2.4 0 2-0.9 3.6 0.5 2 0 1-0.6 0.9zM373.4 549.5l-2 0.2-2.4-0.1-4-0.5-3.6-1-3.7-1.7-1.4-1-1.8-2-1.1-0.8-8.9-3.6-2.8-1.6-3-2-2.1-2-1-1.4-0.3-1.6 0.3-1.4 0.8-1 1.5-1 2.1-0.8 2-0.5 5.4-0.6 6.6 0.2 7 1 6.4 1.5 6 2 5.8 2.6 3.3 2 2.7 2.6 1.1 2 0.2 1-0.1 1-1 1.4-2 1.2-2.4 0.9-5 1-0.7 0.5 0.3 2-0.1 0.4-0.5 0.6zM255 530.2l0-1 0.2 0.2 0 0.6zM226.4 557.5l-1 0-0.8-0.5-0.4-1-0.1-1 0.3-1.9 1.4-3.1 0.4-3.6 0.6-1.4 1.6-2.1 1.6-1.1 1.4-0.6 2.6-0.1 1 0.1 1 0.5 0.8 0.7 0.8 1 0.3 1.6 0.1 2 1.4 0.8 0.8 1.2 0.1 1.4-0.2 1-1.1 1.5-1 0.5-1-0.2-0.6-0.3-0.6-0.9-0.4-1.3-0.4 0.1-1.6 0.9-2.3 0.7-0.7 0.6-2 3.2-1 0.8zM248 559l-0.6 0.3-0.4-0.1-0.6-0.8-0.5-1.4-0.2-2 0.1-3.6-0.4-0.5-1.4-0.9-0.7-1-0.2-1 0.1-1 0.8-1 0.4-0.3 1.6 0.1 1 0.5 0.5 0.7 0.6 1.4 0.2 2 0.4 2 0.2 2.6-0.3 2.4zM242 556.6l-1-0.2-0.3-0.4-0.1-1 0.1-1 0.6-1 0.7-0.7 0.4-0.3 0.6 0.1 0.6 0.9 0 1.4-0.5 1zM234 557l-1 0.2-1 0-0.8-0.2-0.1-0.6 0.6-0.4 0.7-0.3 1.6-0.1 0.6 0.4 0 0.4zM250.4 593l-0.4 0-0.6-0.4-0.6-1.2-0.2-2.4 0.6-3.6-0.6-1.4-1.2-1.5-1.7-1.5-6.3-4.2-1.4 0-1.6 0.9-2.4 0.4-1-0.1-1.6-0.7-1 0.5-1 0.9-1.4 1-1 0.5-1.6 0.3-0.4-0.1-0.7-0.4-0.3-1.5-0.2 0.5-0.8 0.5-0.6 0.2-1 0-2-1.4-1.4-0.3-1-0.4-1-0.6-1.3-1.6-0.4-1-0.5-2.4 0.4-3 1.5-3 1.7-1.9 2-1.4 1.6-0.5 2-0.1 1 0.2 1 0.4 1.5 1.3 1.2 2 0.4 1.4 0.3 0.3 2-0.9 1 0 0.2 0.2 0.3 0.4 0 0.6-0.7 1.4-1.2 1.3-2.6 1.5-1.3 2.2-1.8 2-0.3 1.6 0.4 0.1 1.7-2.1 1.9-1.8 2.4-1.5 1.6-0.4 1.4-0.1 0.6-1.8 1-1.1 2-1.1 2-0.3 2.4 0.3 2.6 1 2 1.5 4 4.3 0.4 0.3 2.6 0.8 2 1.3 1.5 1.6 1.5 2.4 0.8 2.6 0.1 1.4-0.2 1-0.7 1.3-1 0.7-1 0.3-2.6-0.1-0.4 0.7-1 2.5-0.6 0.7zM233.5 575l1.3-0.6 0.5-0.4-1.3-1.3-0.6 0.7-0.2 1 0.1 0.6zM362.4 578.1l-1 0.2-1.4-0.2-3-1.1-2-1.6-0.6-1-0.1-0.4 0.7-0.6 1.4-0.1 2 0.6 1.4 0.5 1.6 1 1.1 1 0.4 1-0.2 0.6zM240 582.5l-1 0-1.6-0.4-1.6-1.1-0.5-0.6 0-0.4 0.7-0.8 1-0.3 2 0.3 1 0.5 0.8 0.7 0.3 0.6 0.1 0.4-0.2 0.6zM233.4 583.1l-1 0.1-0.4-0.3-0.8-0.9 0-1.6 0.8-0.9 0.4-0.3 1 0 1.2 0.8 0.3 0.4-0.3 1.6zM185 604.7l-0.6-0.3-0.7-1.4-0.2-3.6-1.2-2.4-0.2-2 0.2-2 0.7-1.5 1-1.1 1-0.4 0.4 0 1 0.4 0.9 1 0.8 2 0.1 1.6-0.1 1-0.4 1.4-1.4 2.6-0.2 3-0.7 1.4zM170.4 642l-1 0.2-0.7-0.2-0.3-0.6 0.1-0.4 1.2-2-0.3-0.4-2-1-2-1.5-1.6-2.1-1.1-2-0.5-1.6-0.3-2.4 0-1.6 0.4-2.4 1.1-2.5 1.6-1.9 2-1.3 2.7-0.9-0.1-0.4-2.1-3-0.1-0.6 0.6-0.1 0.9 0.1 1 0.6 2.1 1.3 1.8 1.7 2.2 2.3 0.4-1 0.2-1.3 0.7-2 1.2-2.6-0.4-1.4-0.1-2.9-0.6 0.1-1 0.9-1 0.5-1 0.1-1-0.2-0.9-0.5-0.6-1-0.1-1 0.2-1 0.4-0.8 1-0.9 1.6-0.4 1 0.1 1 0.4 0.5 0.6 0.5 1 0.4 0.3 1.6-1.7 1-0.3 0.4 0.1 0.6 0.2 1.2 1.4 0.6 1.4 0.3 2 0.3 0.4 1-0.4 1 0.7 0.8 1.3 0.8 3.5 1 0.2 0.7 0.9 0.6 2.4 0.1 5.6-0.6 4.4-0.4 0.6-0.2 1.4-1 2.6-1.2 1.1-0.6-0.1-0.7-1-0.3-0.7-0.4 0-0.3 0.1 0 0.6 0.6 1 0.2 2-0.3 1.4-1.2 1.3-0.6 0-1-0.6-0.7-1.1-0.1-2 0.5-1.6-0.1-0.1-1.6 0.1-0.6 0.6 1.4 2 0.2 1-0.3 2-0.7 0.7-0.4 0.2-0.6-0.2-0.6-0.7-0.4-1.1-0.4 0-1.6 0.8-1.4 0.3-2 0.1-1.6 2.2zM192 612.1l-0.6 0.3-0.4-1 0-1 0.4-0.9 0.6 0.5 0.1 1zM185.1 629.4l0-5 0.4-2 0.1-2-0.2-0.4-1-0.6-0.7-1-0.5-2-0.1-2.4-0.1-0.5-1.5 0.9-0.3 0.6-0.2 0.8-0.2 2.2-0.6 2-0.8 1.4-0.2 1 2.1 2 0.5 1 0.1 1-0.2 1.6-1.3 1.6 4.6 0.2zM194 627.5l-1 0.4-1-0.5-0.6-0.6-0.5-1.4-0.3-1.4 0.1-1 0.7-1.2 0.6-0.4 0.4-0.2 1 0.2 0.6 0.5 0.7 1.5 0.1 2-0.4 1.4zM183 643.6l-0.6 0.1-0.5-0.7 0.1-0.9 0.4-0.6 0.6 0.2 0.1 0.3 0.1 1zM175 644.5l-0.6 0-1.1-0.5-0.5-0.6-0.2-0.4 0.2-0.6 1.2-0.2 0.9 0.2 0.7 0.6 0.3 0.4 0 0.6-0.5 0.4zM168 650.2l-0.6 0.2-0.3-0.4-0.3-1 0-1 0.5-2 0.6-1 0.5-0.5 0.6 0 0.4 1.5-0.2 2.4 0.1 0.6zM177.4 648.8l-0.4 0.1-0.6-0.5 0-1 0.6-0.5 0.4 0.1 0.4 0.4 0.1 0.6zM170.4 651.6l-0.4 0.2-0.6-0.4-0.1-0.4-0.3-1.6 0.7-0.4 0.4 0 0.5 0.4 0.2 1zM150.4 656.3l-0.6-1.9-0.1-1.4 0.1-1 0.6-1.9 0.6 0.3 0.2 0.6 0.1 2-0.1 2.4-0.2 0.5zM142 698.8l-0.6 0.1-0.4-0.3-0.9-1.6-1.1-0.6-0.3-0.4 0.1-1.6 0.9-1.4 0.2-1-0.1-0.6-0.6-0.4-0.6-1-0.2-3.5-0.4-0.8-0.6-0.1-0.7 1.4-0.3 0.2-0.4 0-0.7-0.8-0.3-1.4 0.1-1.6 0.2-1 0.7-0.8 0.4 0 1 0.7 0.6 0.1 0.6-0.4 0-3 0.2-2.6 0.9-2.4 1.1-1.6 0.6-0.6 1.6-0.6 1-0.1 2 0.5 0.2-0.2-0.5-2.4 0.4-2 0-1.6-0.1-0.4-1.6 0.2-0.9-0.8-0.3-0.4-0.2-1 0.1-1 0.3-1 0.6-0.6 1-0.3 0.4 0.2 0.6 0.4 0.4 0 1-1 1 0 0.9 0.7 0.5 1 0.1 2-0.1 2-0.9 1.6-0.1 0.4-0.2 2.6-0.5 1.4-0.9 1 1.1 2.6 0.4 4 0 2-0.5 2-1 2-1.1 1.4 0.2 1 0.8 1.6 0.2 1.4-0.3 0.8-1.3 0.8-0.2 1-0.3 0.4-0.8 0.7-0.4 0-0.6-0.1-0.9-1 0-0.6 0.7-1.4-0.8-0.7-0.6 0.1-0.5 1 0.7 1.2 0.4 0.4-0.4 0.4-1 2 1 1 0.4 1 0 0.6zM150 679.5l-0.4-0.5-0.2-1.6 0.3-4.4 0.3-0.4 0.1-1.6 0.3-0.7 0.4-1.3 0.5-1 0.7-0.3 0.2 0.3 0.1 1-0.1 4.4-0.2 0.4-0.2 2.2-0.4 0.4-0.1 1-0.7 1.6zM138 671.5l-0.6 0-0.2-0.5 0-1 0.2-0.7 0.6 0 0.3 0.7-0.1 1z"/>
<path fill="#0000c4" d="M679 57l-1.9 0-1.1-0.5-0.5-0.5-0.1-1 0.3-1 0.9-1.6 1.3-1.4 1.7-1.6 3.7-2.4 4.7-2.1 2-0.5 2-0.2 1.4 0.2 0.8 0.6 0.3 0.4 0.1 1-0.6 1.6-1.6 2-2.3 2-2.9 2-2.9 1.4-2.7 1zM628 160.5l-2.6 0-1-0.2-0.3-0.3-0.1-0.6 0.5-1.4 9-15.6 3.1-4 3.3-3.4 5-4.6 6-4.4 15.5-10.2 15-10.3 8.6-5.6 13-7.8 13-6.7 11-4.8 23-9.2 6.4-2.1 5.6-1 3.4-0.1 3 0.2 2.6 0.5 0.7 0.5-0.2 1.6-0.7 2-1.1 2.4-1.3 2.6-3.3 4.4-4.3 4.6-18.7 16.4-7.2 6-9.9 7.6-11 7.4-11 6.6-11.6 6.3-11.3 5.7-11.2 5-11.5 4.5-11.8 3.9-9.3 2.6-4.8 1zM647.4 231.5l-7.4 0.3-6.6-0.4-4.4-0.7-4-1.1-2-0.2-1-0.4-0.1-0.6 0.6-1 0.9-1 2.6-3.6 3.6-4.4 5.1-5 5.7-5 7-5.4 7.6-5.3 8-5.1 9-5.2 7.4-4.1 8-4.1 15.6-7.1 7.4-3 7-2.5 7-2.3 7-2.1 6.6-1.6 7-1.5 6.4-1.1 6.6-0.7 5.4-0.3 5 0.1 4 0.4 2.6 0.5 1.4 0.1 0.9 0.3 0.2 0.6-0.1 0.4-0.9 1.6-2.1 4.3-2.3 3.7-4.3 5.4-5.8 6-6.9 6-7.9 6-8.8 6-9 5.3-9.4 5.1-10.6 4.9-11 4.5-11 4-11 3.4-10.4 2.7-9.6 2zM678.4 288.5l-6.4 0.2-6.6 0-6-0.4-5-0.6-4.4-1-3.6-1-2.4-1.1-1.6-0.9-2.7-0.7-0.5-0.6-0.1-0.4 0.6-1 1.3-1.1 3-4.2 4.2-4.3 5.8-4.6 7.4-5 9-5.1 10-4.9 11-4.6 11-3.9 13-4 12.6-3.2 12-2.4 11.4-1.8 11-0.9 10-0.2 5 0.3 4 0.4 3 0.5 3.3 1 0.2 0.4-0.1 0.6-2.4 3.9-2.4 3.4-4.2 4.7-5.5 5-5.8 4.4-7.3 5-7.8 4.7-8.4 4.6-8 3.9-8.6 3.6-8.4 3.1-8.6 2.7-8 2.1-8 1.6-8 1.1zM704.4 345l-8 0.4-7-0.4-2.6-0.6-1.4-0.4-0.7-0.6-0.4-0.4-0.1-0.6 0.3-0.4 1.4-1 4.3-1.6 5-1 5.2-0.5 6.6-0.3 6 0.4 2.8 0.4 1.5 0.6 0.9 0.4 0.5 0.6 0.1 0.4-0.7 1-1.8 1-1.4 0.6-3.8 1zM363.4 422l-2.4 0.2-2-0.1-1.6-0.7-0.1-0.4 0.5-0.6 1.2-0.3 1-0.1 2 0 2 0.4 0.6 0.6-0.2 0.4zM372.4 474.5l-6 0.2-6-0.7-5.4-1.5-4.5-2.1-2.3-1.4-1.8-1.5-3-2.9-1.2-1.6-0.8-1.6-0.2-1.4 0.2-1.6 0.5-1 0.7-1 1.4-1.1 1.5-0.9 1.9-0.7 4-0.7 10-1.1 5 0.1 5 0.8 4.6 1.2 4.4 2 1.6 1 1.9 1.4 2.2 2.6 0.7 1.4 0.4 1.6 0 1.4-0.4 1.6-0.9 1.4-0.9 1.2-1.7 1.4-1.7 1-4.2 1.5zM376.4 518l-4.4 0.3-4 0-5-0.2-4-0.5-8-1.5-6.6-2.1-8-3.3-8.4-3.2-4.8-2.5-2.5-2-1.7-2.1-0.7-1.5-0.3-1 0.2-2 0.5-1 0.7-1 1.6-1.3 2.4-1.3 3-1.1 5.6-1 8.4-0.5 8.6-0.9 7.4 0 6.6 0.5 8 1.5 7 2.1 3.4 1.4 3.6 1.7 3 1.8 2.6 2.1 1.9 2 1.3 2 0.8 2 0.1 2-0.5 2-0.9 1.6-1.9 1.9-2 1.4-2.4 1.2-3 1.1-4.6 1zM241 529l-1 0.3-1 0-1.6-0.7-1.2-1.6-0.7-2-0.1-2 0.6-2.6 0.6-1 0.8-1 1.6-0.7 1.4 0.1 1.6 1 1 1.5 0.5 1.7 0.1 2-0.3 2-0.9 1.6zM249 536.7l-0.6 0.2-0.4-0.2-0.6-0.5-0.7-1.8-1.3-1.4-0.6-2.6 0-3 0.6-2 1-1.6 1-0.5 1 0.4 0.6 0.5 0.4 1.1 0.4 1.7 0 3-0.8 3 0.5 2.4zM372.4 549.5l-3.4 0-3.6-0.5-2.3-0.6-3-1-2.8-1.4-1.2-1-1.2-1.6-1.4-1-7.5-3-4-2-3.6-2.4-1.8-2-0.6-1-0.3-1 0-1 0.4-1 0.8-1 1.5-1 3.6-1.1 2.6-0.5 2.8-0.1 6.6 0.2 6.9 0.9 6.4 1.6 7.4 2.4 5.1 2.6 3 2 2.1 2 1.1 2 0.1 1-0.1 1-1.1 1.4-1.9 1.2-2.7 0.8-5.1 1-0.4 0.6 0.4 1.4-0.2 1-0.6 0.6zM227 557.1l-1 0.2-0.9-0.3-0.7-1-0.1-1 0.4-2 1.3-2.9 0.3-3.7 0.6-1.4 1.1-1.5 1-0.9 2.4-1.3 2.6-0.2 1 0.2 1 0.5 1 0.9 0.6 1.3 0.3 1.4-0.1 1.6 0.2 0.3 1.4 0.6 0.7 1.1 0.1 2-0.5 1-1.3 1.1-1 0.2-1-0.5-1-2.2-0.4 0.1-1.6 0.9-2 0.6-1 0.5-2 3.2zM247.4 559.1l-0.4-0.1-0.6-0.7-0.5-1.9-0.1-2 0.2-3-0.3-0.4-1.7-1.3-0.7-1.3-0.1-1 0.2-0.6 0.6-0.6 1-0.4 1 0.1 0.9 0.5 0.5 0.7 0.6 1.3 0.2 2 0.4 2 0.2 3-0.3 2-0.5 1.3zM241.4 556.5l-0.4-0.4-0.3-0.7 0.2-1.4 0.5-1 0.6-0.6 0.4-0.2 0.6 0 0.5 0.8-0.1 1.4-0.4 1-0.6 0.7-0.4 0.3zM233 557l-1.1 0-0.2-0.6 0.7-0.5 1.6 0.1 0.1 0.4-0.7 0.6zM222.4 579.6l-1 0-2-1.4-2-0.5-1.4-0.9-1.1-1.4-0.5-1-0.4-2.4 0.4-3 0.9-2 1.1-1.8 1.6-1.4 1.4-0.9 1.6-0.6 1.4-0.1 1.6 0.2 2 1.1 0.8 0.9 0.5 1 0.7 2.2 0.4 0.2 1-0.5 1.6-0.5 0.4 0.1 0.4 0.5-0.1 1-0.6 1-1.1 1.2-2.6 1.5-1.4 2.3-1.8 2-0.3 0.6-0.1 1.4-0.3 0.6zM251 592.7l-0.6 0.1-0.4-0.1-0.6-0.3-0.5-1-0.2-2.4 0.6-3.6-0.6-1.4-1.2-1.6-1.6-1.4-6.5-4.3-1-0.1-2.4 1.1-2 0.3-1.6-0.3-1-0.5-3.4 2.4-2 0.7-1 0-0.6-0.3-0.2-1 0.1-0.6 1-1.4 1.3-1.6 1.4-1.1 2.4-1.5 1.6-0.4 1 0 0.4 0.6-0.4 2 0.4 0 1.6-0.6 0.4-0.4-1.4-1.6-0.2-0.4 0.2-1 0.4-1 0.5-0.6 1.5-0.9 1.6-0.4 2 0 1.4 0.2 2.6 1 2.4 1.9 3.6 3.9 1 0.6 2.4 0.9 2 1.5 1.9 2.3 1.1 2.6 0.2 2.4-0.2 1-0.4 0.9-0.7 0.7-0.9 0.3-1 0.2-2-0.1-0.4 0.6-1 2.6zM362 577.5l-0.6 0.3-1 0-1.4-0.3-1.3-0.5-2.1-1.6-0.5-1 0.3-0.5 1-0.1 1.3 0.2 1.4 0.4 2.3 1.6 0.7 1zM233.4 583l-1 0-0.4-0.3-0.7-0.7 0-1.6 0.7-0.7 0.4-0.3 1 0 1 0.6 0.3 0.4-0.2 1.6zM240.4 582.2l-1 0.2-2-0.4-1.4-1-0.4-0.6-0.1-0.4 0.5-0.6 1-0.4 2 0.3 1 0.5 1 1.2 0 0.8zM185 604.5l-0.6-0.2-0.6-1.3-0.2-3.6-1.1-2.4-0.3-2 0.1-1.6 0.7-1.7 1-1.2 1-0.3 1.1 0.2 1 1 0.7 1.6 0.3 2-0.5 2.4-1.2 1.8-0.2 0.8-0.3 3-0.5 1.2zM175.4 609.5l-1.4 0-1-0.4-0.7-0.7-0.4-1 0.1-1 0.4-1 1.2-1 1.4-0.3 1 0.1 1 0.4 0.6 0.8 0.3 1 0 1-0.4 0.6-1 1zM170 642l-1 0-0.4-0.6 0.2-1 1-1.4-0.2-0.6-2.2-0.9-1.9-1.5-1.6-2-1-2-0.5-1.6-0.4-2.4 0-2 0.4-2 1.2-2.6 1.7-2 1.7-1 3-1-0.2-0.4-1.9-2.6-0.2-0.4 0.3-0.6 0.4 0 1.3 0.6 2.3 1.4 1.7 1.6 2.3 2.4 0.4-0.9 0.8-3.1 1.4-3-0.4-1.4-0.2-4 2-2.3 1-0.3 0.4 0.1 0.6 0.2 1.1 1.3 0.6 1.4 0.3 2.2 0.4 0.4 1-0.4 0.6 0.1 0.4 0.5 0.7 1.2 0.7 3.6 1.2 0.2 0.7 1.2 0.5 2 0.2 5.6-0.6 4-0.6 2.4-1.1 2.6-0.7 0.7-0.4 0.3-0.6-0.1-1-1.7-0.4 0-0.5 0.2 0 0.6 0.7 1 0.2 2-0.3 1.4-1.1 1.1-0.6 0.1-0.9-0.6-0.8-1.6 0-1.4 0.5-1.6-0.2-0.1-1.8 0.1-0.5 0.6 1.4 2 0.2 1-0.1 1.4-0.8 1.2-0.4 0.2-0.6-0.2-0.5-0.6-0.5-1.2-0.4 0-1.6 0.8-1.4 0.3-2 0.1-0.6 0.4-1 1.7zM191.4 612l-0.2-1 0.2-1.1 0.5 0.5 0.1 0.6 0 0.5zM185.1 629.4l0-5 0.4-2 0.2-2-0.2-0.4-1.1-0.7-0.5-0.9-0.6-2-0.1-2.4-0.2-0.6-1.6 1-0.3 0.6-0.4 3-1 3-0.4 0.4-0.2 1 2.1 2 0.5 1 0.2 1-0.3 1.6-1.3 1.4 0.1 0.4 2.6-0.1 2 0.2zM193.4 627.6l-1-0.1-0.4-0.3-0.6-0.8-0.5-1.4 0-1 0.4-1.6 0.7-0.8 0.4-0.2 0.6 0 1 0.8 0.6 1.8 0.1 1.4-0.2 1-0.5 0.8zM183 643.1l-0.6 0.3-0.2-0.4 0-0.6 0.2-0.6 0.6 0.3zM175.4 644l-1 0.2-0.8-0.2-0.6-0.6 0-0.6 0.4-0.4 1 0.1 1 0.7 0.2 0.2zM168 650.1l-0.6 0.1-0.4-0.8-0.1-1.4 0.4-1.6 0.7-1.3 0.4-0.4 0.6 0 0.3 1.3-0.2 2.4-0.4 1zM177.4 648.5l-0.4 0-0.4-0.5 0.4-0.7 0.5 0.1zM170 651.6l-0.6-0.6-0.1-1 0.1-0.6 0.6-0.3 0.5 0.3 0.1 1-0.2 0.9zM150.4 656.1l-0.5-1.7-0.1-1.4 0.1-1 0.5-1.7 0.7 0.7 0.1 2-0.1 2.4zM142 698.6l-0.6 0.1-0.4-0.3-0.7-1.4-0.3-0.4-0.7-0.2-0.4-0.4 0.1-1.5 1.1-2.5-0.2-0.6-1.2-1.4-0.2-1 0.1-2-0.1-0.6-0.5-0.8-0.6-0.2-0.9 1.6-0.5 0-0.6-0.6-0.1-0.4-0.2-1.6 0.1-1 0.2-1 0.6-0.6 0.4-0.1 1 0.8 0.6 0 0.7-0.5 0.1-5 1-3 1.1-1.6 1.1-0.8 1-0.3 1.4 0 1.6 0.4 0.3-0.3-0.4-2.4 0.3-3.6-0.2-0.6-1.6 0.2-0.7-0.6-0.5-1 0-1.4 0.4-1 0.8-0.7 0.6 0 1 0.5 0.4 0 1-1 1 0 0.8 0.6 0.5 1 0.1 2-0.1 2-0.9 1.6-0.1 0.4-0.2 2.6-0.5 1.4-1 1 1.2 2.6 0.5 4-0.1 1.4-0.5 2.6-1 2-1.2 1.4 0 0.6 1.3 2.4 0 1-0.2 0.7-1.5 0.9-0.2 1-0.3 0.6-1 0.4-1-0.6-0.3-0.4 0-0.6 0.6-1.4-0.9-0.8-0.4 0-0.6 0.8-0.3 0.4 0.8 1.6-0.3 1-0.8 1.4 0.2 0.6 0.7 0.4 0.4 0.6 0.1 1zM150.4 679l-0.4 0.4-0.4-1 0-5 0.4-1 0.1-1.4 0.3-0.6 0.2-1 0.8-1.4 0.6-0.1 0.3 1.1-0.1 4-0.3 1-0.1 1.4-0.4 1-0.2 1zM138 671.3l-0.6-0.1-0.1-0.2 0.1-1.5 0.6 0 0.1 0.5z"/>
<path fill="#0000da" d="M684 53l-1.6 0.4-1 0-0.5-0.4-0.1-0.6 0.2-0.4 0.7-1 1.1-1 1.6-1 2.6-1.1 1-0.1 1 0.2 0.2 0.4-0.1 0.6-1 1.4-2 1.6zM631.4 159.5l-3 0.4-2-0.1-0.9-0.4-0.3-0.4 0-0.6 0.3-1 1-2 6.8-12 2.9-4 3.1-3.4 4.8-4.6 6.5-5 16.4-10.6 21.4-14.6 13-7.9 6.6-3.6 7-3.5 11.4-5.1 22.9-9.1 6.7-2.2 3-0.7 3-0.4 3-0.1 3 0.2 2 0.4 0.4 0.3 0.4 0.5 0.1 1-0.6 2-1 2.4-1.4 2.6-2.8 4-4.2 4.4-18.7 16.6-7.1 6-9.9 7.4-10.2 7-10.6 6.4-10.9 6.2-10.9 5.4-10.9 5-11.3 4.6-11.1 4-10.3 3zM643.4 231l-6.4-0.1-6-0.6-3-0.6-2.9-0.7-1.3-0.6-0.3-0.4 0.9-1.9 1.5-2.1 4.1-5 5.6-5.6 7-6 7.4-5.5 8.4-5.8 9-5.6 9.6-5.4 14.4-7.3 14.6-6.4 14-5.2 13.4-4 6.6-1.6 7-1.4 6.4-0.9 6-0.6 6-0.1 5 0.3 3.7 0.5 1.5 0.6 0.5 0.4-0.3 1.6-1.4 2.9-1.8 3.1-2 3-5 6-6.1 6-7.1 6-8.4 6.2-8.6 5.5-9.4 5.5-10 5.1-11 4.8-10.6 4.1-11.4 3.9-11 3.2-10.6 2.4-9.4 1.5zM680 288l-7 0.3-6.6-0.1-6-0.3-5.4-0.7-5-1.1-4.6-1.5-4.4-2.2-0.4-0.4 0-0.6 3.6-5 5-5 6.3-5 7.5-4.9 9-5 10-4.8 10-4.1 11-3.9 12.4-3.8 12.6-3.2 12.4-2.6 11.6-1.7 11-0.9 10.4-0.1 5 0.3 4 0.6 2.7 0.7 1.1 0.4 0.2 0.4-0.1 1.2-0.7 1.4-3.6 5-4.6 5-4.9 4.6-6.1 4.6-7 4.8-8 4.8-8 4.3-8 3.9-8 3.4-8 3-8.4 2.7-7.6 2-8 1.6-7.4 1.1zM699.4 345l-5 0-4.8-0.6-1.9-0.4-1.1-0.6-0.5-0.4-0.1-0.6 0.2-0.4 1.4-1 2.6-1 4.5-1 7.3-0.9 5.4-0.1 5.4 0.4 2.2 0.6 1.2 0.4 0.6 0.6 0.2 0.4-0.1 0.6-1.3 1-2.5 1-1.8 0.4-5.7 1zM369 474.5l-5-0.3-5-0.8-4.7-1.4-4-2-2.2-1.6-2.1-1.8-2.2-2.2-1.3-1.4-0.7-1.6-0.3-1.4 0.2-1.6 0.5-1 1.2-1.4 1.6-1 1.4-0.7 2-0.6 10.6-1.3 5.4-0.2 6 0.6 5 1.3 2.6 1 2.4 1.3 1.7 1 1.8 1.6 2 2.4 0.6 1.6 0.2 1.4-0.1 1.6-0.4 1-0.8 1.3-0.9 1.1-2.7 2-3.5 1.6-4.3 1zM376 518l-4 0.2-4 0.1-4.6-0.3-4.4-0.5-7.6-1.4-3.9-1.1-4.1-1.5-7-2.9-8.2-3.2-4.8-2.5-2.4-2-2-2.5-0.7-2 0.2-2 0.5-1 0.8-1 1.6-1.4 2.6-1.3 3-0.9 5-0.9 18-1.5 7 0 5.4 0.5 3.6 0.5 7 1.5 6 2 3.7 1.5 2.8 1.6 2.5 1.5 2.4 2 1.9 1.9 1.3 2 0.8 2 0.1 2-0.5 2-1 1.8-1.9 1.8-2.1 1.4-2.3 1-3.3 1.2-4 0.9zM240.4 529l-1.4 0.1-1.6-0.8-1-1.3-0.5-1-0.3-1.6 0.1-2.4 0.7-2 1-1.3 1.6-0.8 1.4 0.1 1.5 1 1.1 1.6 0.4 1.8 0.1 2-0.6 2-0.9 1.6zM248.4 536.6l-0.4-0.1-0.5-0.5-0.5-1.8-1-1-0.5-0.8-0.6-2.4 0.1-2 0.4-2.1 1-1.7 1-0.5 0.9 0.3 0.7 0.7 0.4 1.3 0.3 1.4-0.2 3-0.8 2.6 0.6 2.4-0.3 1zM373.4 549l-3 0.4-4.3-0.4-4.1-1-3.5-1.6-1.4-1-1.7-2-1.4-1-8.7-3.4-2.9-1.6-3-2-2-2-1-1.4-0.3-1.6 0.3-1.2 0.6-0.8 1.3-1 1.7-0.7 2-0.6 5-0.6 6 0.1 7 0.8 6.7 1.6 6.2 2 5.6 2.4 3.2 2 2.3 2 1.4 2 0.2 1 0 1-0.8 1.6-0.8 0.7-1.5 0.7-2.1 0.7-4.5 0.9-1.5 0.4-0.2 0.6 0.5 1.4 0 0.6-0.3 0.4zM227 556.7l-1 0.2-0.6-0.2-0.6-0.7-0.2-1 0.3-2 1.2-2.6 0.2-3.4 0.7-2 1-1.3 1-1 1.2-0.7 1.2-0.6 2.6-0.2 1 0.3 0.9 0.5 1.1 0.9 0.5 1.1 0.3 1.4-0.1 1.6 0.2 0.4 1.4 0.6 0.7 1 0.1 1.4-0.5 1.6-1.2 1-1 0.2-0.4-0.1-0.7-0.7-0.9-2-2 1-3 1.1-0.5 0.5-1.5 2.5zM247.4 558.8l-0.4-0.1-0.5-0.7-0.4-1.6-0.2-2 0.3-3-0.3-0.4-1.9-1.5-0.6-1.1 0.1-1.4 0.5-0.6 1-0.5 1 0.2 0.6 0.3 0.8 1 0.4 1 0.3 2.6 0.5 2 0.1 2-0.3 2.1-0.4 1.3zM242 556.2l-0.6 0-0.4-0.5 0-1.6 0.4-1 0.6-0.5 0.4-0.2 0.4 0 0.4 0.6 0.2 0.4-0.2 1-0.4 1zM222 579.5l-1-0.3-1.6-1.1-2.2-0.7-1.4-1-0.8-1-0.6-1.2-0.3-1.2 0-1.6 0.2-2 0.6-1.4 0.8-1.6 1.1-1.4 1.2-1.1 1.4-0.9 1.6-0.5 1.4-0.2 2 0.4 1.8 1.3 1 1.4 0.8 2.5 0.4 0.1 1-0.6 1.6-0.5 0.4 0.2 0.3 0.9-0.1 0.4-1.2 1.6-1.4 1.1-1 0.5-0.9 0.8-1.3 2-1.8 2-0.2 0.6-0.2 1.4-0.3 0.6-0.9 0.4zM250.4 592.6l-0.4-0.1-0.6-0.5-0.4-1.1-0.2-1.9 0.7-3.6-0.6-1.4-1.2-1.6-1.7-1.4-6.6-4.4-1-0.1-2.4 1.1-2 0.3-1.6-0.3-1-0.6-3.4 2.5-2 0.7-1-0.1-0.6-0.5 0-0.6 0.3-1 1.1-1.6 1.6-1.6 2-1.4 1-0.5 1.6-0.4 1 0.2 0.2 0.7-0.4 1.6 0.2 0.2 2.2-0.8 0.4-0.4-1.3-1.6-0.2-0.4 0.1-1 0.8-1.3 1.4-1 1.6-0.5 2 0 1.4 0.2 2.6 1 2.4 1.9 4 4.4 3 1.1 2 1.6 1.7 2 1.1 2.6 0.2 2-0.1 1-0.5 1-0.4 0.4-1 0.6-1 0.2-2-0.1-0.4 0.5-1 2.6-0.5 0.8-0.5 0.4zM360 576.6l-1.5-0.2-0.8-0.4-0.5-0.6 0.1-0.4 0.7 0 1.2 0.4 0.7 0.6 0.2 0.4zM233 583l-0.6-0.1-0.6-0.5-0.4-0.5 0-0.9 0.1-0.6 0.5-0.6 1-0.4 1.1 0.6 0.4 0.4 0.1 0.6-0.2 0.6-0.4 0.8zM240.4 582l-1 0.3-1.7-0.3-1.5-1-0.4-0.6 0-0.4 0.3-0.6 0.9-0.2 2 0.2 1 0.6 0.8 1 0.1 0.4zM185 604.3l-0.6-0.2-0.4-1.2-0.3-3.5-1.1-2.4-0.3-2 0.1-1.6 0.6-1.5 1-1.2 1-0.4 1 0.2 1 0.9 0.7 1.6 0.2 2-0.5 2.4-1.2 2-0.2 2.6-0.4 1.4-0.2 0.5zM176 609.1l-1 0.3-1-0.1-1-0.5-0.7-0.8-0.2-1 0.3-1 0.6-0.8 1-0.7 1-0.2 1 0 1 0.6 0.4 0.7 0.3 0.8-0.2 1-0.7 1zM169.4 642l-0.4-0.3-0.2-0.7 0.2-0.6 1.1-1.4-0.1-0.6-2.6-1.1-1.7-1.3-1.7-2-1-2.2-0.6-1.8-0.3-2 0.1-2 0.4-2 1.1-2.6 1.7-1.9 1.9-1.1 2.7-0.7 0.2-0.3-2-3-0.1-0.4 0.3-0.2 1 0.2 0.9 0.4 2.1 1.6 1.6 1.4 2 2.3 0.4-1 0.8-3.3 1.4-3-0.4-2-0.1-2.4 0.2-1 0.6-1 1.1-1.2 1-0.3 0.4 0.1 0.6 0.2 1 1.2 0.7 1.4 0.3 2.8 0.4 0 0.6-0.4 0.4-0.1 0.6 0.2 0.4 0.5 0.7 1.6 0.6 3 0.3 0.3 1 0.1 0.6 1 0.6 2.6 0.1 4.4-0.6 4.6-0.5 2-1.2 2.9-0.6 0.7-0.4 0.2-0.6-0.1-1-1.6-0.4 0-0.6 0.3 0 0.6 0.7 1 0.3 2-0.4 1.4-0.6 0.7-0.4 0.3-0.6 0.1-0.8-0.5-0.8-1.6 0-1.4 0.5-1.6-0.3-0.2-2 0.2-0.5 0.6 1.5 2 0.2 1-0.1 1.4-0.7 1.1-0.4 0.2-0.6-0.2-1-1.9-0.4 0.1-2 0.9-3.4 0.4-1.2 2-1 0.7zM185 630l0.2-0.6 0-5 0.6-4-0.1-0.4-1.3-0.9-0.4-0.8-0.6-1.9-0.2-3-0.2-0.2-1.7 1.2-0.3 0.6-0.4 3-0.4 1.4-1.2 2.6 0 0.4 1.7 1.6 1 1.4 0 2-0.5 1-1 1 0 0.6 2.2-0.2zM193.4 627.2l-0.4 0.2-1-0.6-0.6-0.8-0.2-1-0.1-1 0.3-1.4 0.6-0.6 0.4-0.3 1 0.3 0.6 0.6 0.5 1.4-0.1 2-0.4 0.8zM174.4 643.6l-0.6-0.2 0.1-0.4 0.5 0.1 0.4 0.3zM168 649.9l-0.6 0-0.2-0.5-0.1-1.4 0.3-1.7 0.6-1 0.4-0.4 0.6 0.1 0.1 0.4 0.1 1.6-0.5 2zM170 651.2l-0.4-0.8 0-0.4 0.4-0.6 0.4 0.5 0.1 0.5-0.2 0.6zM150.4 655.7l-0.4-1.7-0.1-1 0.5-2.4 0.6 0.4 0.1 2-0.1 2.3zM147.4 671.7l-0.4 0.2-0.4-0.5-0.5-1.4-0.1-1.6 0.3-2.4-0.2-1-0.1-0.4-1 0.3-1-0.3-0.6-0.7-0.2-1.5 0.2-1 0.6-0.7 0.4-0.3 0.6 0 1 0.6 0.4 0 1-1.1 0.6-0.1 0.4 0.1 0.7 0.5 0.5 1 0.2 2.6-0.2 1.4-1 2-0.2 2.6-0.4 1.2zM150 679.2l-0.4-0.8-0.1-1 0.2-4 1-4 0.7-1.3 0.6-0.1 0.2 1 0.1 3-0.6 3.4-0.4 1-0.1 1-0.8 1.5zM140 696.3l-0.6-0.1-0.4-0.8 0.2-1 1.2-2.4-0.2-0.6-0.8-0.5-0.7-0.9-0.1-1 0.1-2-0.1-0.6-0.6-0.9-0.6-0.3-1 1.5-0.4 0.1-0.6-0.8-0.2-1.6 0.1-1 0.1-0.7 0.6-0.7 0.4-0.1 1 0.8 1-0.3 0.5-0.4-0.2-3 0.2-2 0.6-2 0.9-1.8 1-1.1 1-0.6 1-0.2 1 0.1 1.9 0.6 0.6 0.4 0.8 1.6 0.5 1.4 0.4 3.6-0.4 3-0.7 2-1.7 2.4 0.1 0.6 1.2 2.4 0 1-0.2 0.6-1.6 1-0.2 1-0.3 0.4-0.8 0.3-0.7-0.3-0.3-0.4-0.1-0.6 0.5-1 0.1-0.4-1.1-0.9-0.4 0-1 1.3 0 0.6 0.6 1-0.1 1-1.1 1.9zM141.4 698.5l-0.4-0.4-0.2-0.7-0.1-0.4 0.3-0.6 0.4 0 0.6 0.6 0.1 1-0.1 0.3z"/>
<path fill="#0000f2" d="M631.4 159l-3 0.1-1.4-0.4-0.5-0.7 0.3-1.6 1.2-2.4 6.1-11 3-4 3.1-3.6 5-4.4 5.9-4.6 16.3-10.6 14-9.7 7.9-5.1 13.1-7.9 13-6.8 11-4.9 22.6-8.9 6.4-2.2 3-0.6 3-0.5 3-0.1 3 0.2 1.6 0.4 0.9 0.7 0.1 1-0.5 2-1 2.6-1.1 2-2.9 4-4.2 4.4-18 16-7.7 6.6-9.9 7.4-10.3 7-10.4 6.4-11 6.1-11 5.5-11 5-11.3 4.6-11.3 3.9-9.1 2.5zM647 230l-8 0.2-7-0.6-3-0.5-2.3-0.7-1-0.4-0.4-0.6 0-0.4 0.6-1.6 1.3-2 4.3-5 5.6-5.4 6.3-5.5 7-5.3 8-5.5 8.6-5.3 9-5.1 14.4-7.5 14.6-6.5 13.4-5.1 13.6-4.1 7-1.7 6.4-1.3 6.6-1 6-0.6 6-0.3 5 0.2 3.4 0.6 1.5 0.4 0.6 0.6 0.2 1-0.7 2-1.3 2.4-1.9 3-4.8 6-6.4 6.6-6.9 6-7.9 6-8.8 5.8-9 5.3-9.6 4.9-10 4.6-10.4 4.2-11 3.8-10.6 3.1-10.4 2.6-9.6 1.7zM681 287.5l-7 0.3-6.6-0.1-6.4-0.4-5.6-0.7-5.2-1.2-4.4-1.4-2.9-1.6-0.5-0.4-0.2-0.6 0-0.4 0.8-1.6 1.8-2.4 2.3-2.6 2.9-2.6 6.4-5.2 7.6-4.9 9-5.1 9.4-4.5 10.6-4.3 10.4-3.7 12.6-3.8 12-3.1 12-2.4 11.4-1.7 11.6-1 10.4 0 4.6 0.3 3.7 0.6 2.3 0.6 0.9 0.8 0.1 1-0.7 1.6-3.2 4.4-4.6 5-5.1 4.6-6 4.7-6.9 4.7-7.5 4.6-8 4.3-8 3.9-8 3.4-8 3-8 2.6-7.6 1.9-7.4 1.6-7.6 1.1zM705 344l-6 0.4-5-0.1-2.6-0.3-1.8-0.6-0.9-0.4-0.3-0.6 0.2-0.4 0.5-0.6 2.1-1 4-1 5.8-0.7 5-0.1 4.4 0.3 2.7 0.5 1 0.6 0.4 0.4 0 0.6-0.5 0.4-1.9 1-3.8 1zM371.4 474l-5.4 0.1-5.3-0.7-5.3-1.4-4-1.8-1.9-1.2-2.1-1.7-3-2.7-1.4-1.6-0.6-1-0.5-1.6 0.1-1.4 0.4-1.2 1.1-1.4 1.3-1 1.6-0.8 1.6-0.5 3.4-0.6 10.6-1 5 0.1 4.9 0.8 4.5 1.4 3.4 1.6 1.6 1.1 1.9 1.5 2 2.4 0.6 1.6 0.2 1.4-0.1 1.6-0.4 1-0.6 1.1-1.2 1.3-2.9 2-3.9 1.6-2.6 0.6zM374.4 518l-7.4 0.1-7.6-0.6-7.9-1.5-3.6-1-4.3-1.6-7.6-3.1-7.4-2.9-3.1-1.4-2.4-1.6-2.3-2-1.5-2-0.6-2 0.2-2 0.8-1.4 1.7-1.7 2.6-1.3 3-1 5.4-1 17-1.5 8 0 8 0.9 7.3 1.6 6.2 2 3.5 1.4 3 1.7 3 1.9 2.3 2 1.8 2 1.1 2 0.6 2 0 2-0.7 2-1 1.4-1.6 1.6-2.5 1.5-3.4 1.5-3 0.8-3.6 0.7zM239.4 529l-1.4-0.5-1.1-1.1-0.9-2-0.3-2 0.3-2 1-1.9 1.1-1.1 1.3-0.3 1.6 0.4 1.1 0.9 0.9 1.7 0.3 2.3-0.2 2-1 2-1.1 1.2zM248.4 536.2l-0.4-0.2-0.4-0.6-0.3-1.4-1.5-1.6-0.4-1-0.2-1.4 0-2 0.5-2 0.7-1.2 1-0.6 0.6 0.1 0.4 0.3 0.6 0.8 0.5 2-0.1 2.6-1.1 3 0.7 2 0 0.6zM372 549l-2 0.1-2.6-0.1-2.8-0.6-3.3-1-3-1.4-1.2-1-1-1.6-1.4-1-7.7-3-4.1-2-3-2-2.1-2-1-2-0.1-1 0.3-1 0.7-1 1.4-1 3.3-1.1 5-0.6 6.6 0.2 7.4 1 6.4 1.5 5.8 2 5.3 2.6 3 2 2.1 2 1 2 0.1 1-0.2 1-1.4 1.4-1.9 1-2.2 0.7-4.4 0.7-1 0.3-0.4 0.3-0.1 0.6 0.5 1 0 1-0.6 0.5zM227 556.2l-1 0-0.5-0.2-0.3-0.6-0.2-1 0.3-1.4 1-2.6 0-2.4 0.3-1.6 0.8-1.9 0.9-1.1 1.1-0.9 2-0.9 1-0.2 1.6 0 1.7 0.6 1.1 1 0.6 1 0.3 1.4-0.1 2 1.5 0.6 0.8 1 0.2 1.4-0.6 1.6-1.1 1-1 0.1-0.4-0.2-0.6-0.5-0.6-2-0.4-0.2-2.3 1.2-3 1-0.6 0.6-1.5 2.4zM247.4 558.4l-0.4-0.1-0.3-0.3-0.5-1.6-0.1-1.4 0.3-3-0.2-1-1.8-1.3-0.7-1.3-0.1-1 0.2-0.4 0.5-0.6 0.7-0.2 1 0.1 0.4 0.3 0.9 0.8 0.3 1 0.2 2 0.6 2.6 0.1 2-0.2 2-0.3 0.9zM242.4 555.6l-0.4 0.3-0.6 0-0.4-0.9 0.4-1.6 0.6-0.5 0.4-0.2 0.6 0.3 0.1 1-0.1 0.8zM223 579l-1 0.3-0.6 0-1.4-1.1-2.5-0.8-1.1-0.6-0.9-0.8-0.6-1-0.5-1.2-0.2-1.4 0-1.4 0.4-2 0.8-2 1-1.4 1.1-1.2 1.5-1 1.4-0.7 1.6-0.3 2 0.3 1 0.4 1 0.8 1.1 1.5 0.9 2.8 0.4-0.1 1.6-0.8 1-0.2 0.4 0.3 0.2 0.6-0.5 1-0.7 1-3.1 2-1.6 2.4-1.8 2-0.5 1.9zM251 592.1l-0.6 0.2-0.4-0.2-0.6-0.5-0.3-1.2-0.1-1.4 0.7-3.6-0.5-1.4-1.3-1.6-1.7-1.4-6.8-4.5-1-0.1-2.4 1.1-2 0.3-1.6-0.3-0.4-0.5-0.6-0.1-3 2.2-1.4 0.7-1 0.3-1-0.1-0.4-0.6-0.1-0.4 0.4-1 1-1.6 1.5-1.5 2-1.4 1.2-0.5 1.4-0.3 0.8 0.3 0.2 0.4-0.4 1.6 0.4 0.4 2.4-1 0.4-0.4-1.2-1.6-0.2-0.4 0-1 0.6-1.1 1.4-1.1 1.6-0.4 2-0.1 2 0.4 1.8 0.7 2.6 2 4 4.5 2.7 1.1 1.9 1.2 1.5 1.8 1.2 2.4 0.3 1 0.1 1.6-0.2 1-0.5 0.8-0.7 0.6-0.7 0.4-2.6-0.1-0.3 0.3-0.4 0.4-0.8 2.6zM240 582l-1.6 0-1.4-0.6-0.6-0.4-0.3-0.6 0-0.4 0.4-0.6 0.9-0.1 1.2 0.1 1 0.6 1 1 0 0.4zM233.4 582.6l-0.4 0.2-1-0.4-0.5-1 0.2-1 0.3-0.4 0.4-0.3 1 0 0.8 0.7 0.2 0.6-0.3 1zM185 604l-0.6-0.2-0.4-1.4-0.2-3-1-2.4-0.4-2 0.2-1.6 0.6-1.4 0.8-1 1-0.4 1 0.2 1 0.9 0.5 1.3 0.3 2-0.4 2-1.3 2.4-0.2 2.6-0.4 1.4zM175.4 609l-1 0.1-1-0.3-0.5-0.4-0.5-1 0-1 0.6-1 1-0.6 1-0.3 1 0.1 0.6 0.4 0.4 0.4 0.4 1-0.5 1.6-0.5 0.5zM170.4 641.5l-1 0.2-0.3-0.3-0.1-0.4 0.4-1 1-1 0-0.6-2.4-1-1.6-1-1.9-2-1.1-2-0.7-2-0.4-2 0-2.4 0.4-2 1.2-2.6 1.5-1.7 2-1.2 2.9-0.5 0.1-0.3 0.1-0.3-0.3-0.4-1.5-2-0.2-0.6 0.5-0.2 1 0.2 2.2 1.6 1.6 1.4 2.2 2.7 0.4-1.1 0.9-3.6 1.3-2.4 0.1-0.6-0.5-2.4 0.1-2.6 0.4-1 1.3-1.5 1-0.3 0.4 0.1 1 0.6 0.8 1.1 0.5 1.6 0.3 2.8 1-0.8 0.4-0.1 0.6 0.2 0.4 0.6 0.6 1 0.5 3.3 0.4 0.4 0.5 0 0.6 0.1 0.5 0.9 0.6 2.6 0.1 4.4-0.6 4.6-0.5 2-1.1 2.8-0.6 0.6-0.4 0.3-0.6-0.2-1-1.5-0.4 0-0.7 0.4-0.1 0.6 0.8 1 0.3 1.4-0.2 1.6-0.7 1-1 0.4-0.4-0.2-0.6-0.5-0.3-0.7-0.3-1 0-1 0.6-1.6-0.4-0.3-2 0.3-0.3 0-0.3 0.6 0.2 0.4 1 1 0.5 1.6-0.1 1.4-0.6 1-0.4 0.2-0.6-0.2-1-2-2.4 1.2-3.6 0.2-0.2 0.2-0.8 1.6zM185.1 630l0.1-5 0.7-5-0.5-0.5-0.4-0.2-0.6-0.4-0.4-0.9-0.6-2 0-2.6-0.4-0.4-2 1.8-0.4 2.6-0.5 2-1.2 2.6 0 0.4 2.2 2 0.6 1.6 0 1-0.3 1-1.6 2 0.6 0.1 2.6-0.3 2 0.3zM193.4 626.8l-0.4 0.1-0.6-0.2-0.4-0.4-0.6-1.2 0.1-1.7 0.5-0.9 0.4-0.3 0.6 0 0.4 0.3 0.6 0.8 0.1 0.7 0.1 1.4-0.2 0.8zM168 649.5l-0.6-0.1-0.2-1.4 0.2-1.3 0.6-1.1 0.4-0.4 0.6 0.3 0 1.9-0.5 1.6zM150.4 655.3l-0.3-2.3 0.3-2 0.6 0.6 0 1.4 0 1.8zM147.4 671.6l-0.6-0.2-0.4-0.5-0.2-0.9-0.1-1.6 0.3-2.4-0.2-1-0.2-0.6-1 0.3-0.6 0-0.4-0.3-0.6-0.9-0.1-1.1 0.3-1 0.4-0.4 0.4-0.3 0.6-0.1 1 0.6 0.4 0 1-1.1 0.6-0.2 0.4 0.1 0.6 0.4 0.5 1 0.2 2.6-0.2 1.4-1 2-0.1 2-0.2 1-0.2 0.6zM150 679.1l-0.4-1.7 0.2-4 1-4 0.6-1.2 0.6 0 0.2 1.2 0 2.6-0.5 3.4-0.6 2-0.7 1.3zM144.4 693.2l-0.4 0.2-0.6-0.4 0-1 0.5-0.6-0.2-0.4-1.3-0.9-0.4-0.1-1 1.3-0.6 0.1-1-0.6-0.6-0.8-0.1-0.6 0.1-2.4-0.8-1.7-0.6-0.4-1 1.5-0.4 0.1-0.6-0.9-0.1-1.2 0.1-1.3 0.6-0.8 0.4-0.1 1 0.7 1-0.3 0.6-0.5-0.1-4.1 0.7-3 0.8-1.6 0.9-1 1.1-0.7 1-0.3 2 0.3 1 0.5 0.6 0.5 0.6 1.3 0.5 1.4 0.3 3-0.1 2.6-0.5 2-0.8 1.8-1.3 1.6 0.1 0.6 1.2 2.4 0 1-0.6 0.7-0.8 0.3-0.7 0.6-0.2 1zM140 695.7l-0.6-0.3 0-1 1-2 0.6 0 0.3 0.6 0 0.4-0.9 1.7zM141.4 697.9l-0.1-0.5 0.1-0.2z"/>
<path fill="#0000ff" d="M634 158l-3 0.3-2-0.2-0.9-0.7-0.2-0.4 0.1-1 1.3-3 5.1-9.6 2.8-4 3.1-3.4 4.8-4.6 5.9-4.4 16.4-10.8 21-14.2 13.1-8 6.5-3.6 7-3.5 11.4-5.1 21.1-8.4 7.4-2.4 5.5-1.1 3-0.2 2.6 0.1 2 0.5 0.7 0.7 0.3 1-0.2 1.4-0.7 2-1.1 2.2-3.1 4.4-4.2 4.4-17.3 15.6-7.4 6.2-9.6 7.3-10.1 6.9-10.3 6.4-10.6 5.9-10.4 5.4-11 5.1-10.6 4.3-11 4-10 2.9zM649.4 229l-8.4 0.3-7.6-0.4-3-0.5-2-0.7-1-0.7-0.2-1 0.6-1.6 1-1.4 3.7-4.6 5.7-5.4 6.4-5.6 6.8-5.1 8-5.5 8-5 9-5.2 14.6-7.5 14-6.3 13.4-5 13-4 7-1.7 7-1.4 6.6-1 6-0.6 6-0.1 4.4 0.2 3.3 0.8 0.9 0.4 0.4 0.6 0.1 1-0.6 2-1.4 2.4-2 3-5 6-6 6-6.9 6-7.8 5.8-8.4 5.7-8.6 4.9-8.4 4.5-10 4.5-10.6 4.2-10.4 3.7-10 3-10 2.5-9 1.7zM681.4 287l-7 0.3-6.4-0.1-6-0.4-5.6-0.7-5.1-1.1-4.4-1.6-2.5-1.4-0.4-0.6-0.1-1 0.6-1.4 1.5-2 2.3-2.6 2.7-2.5 6.4-5.1 8-5.3 8.6-4.7 9.4-4.5 10-4.1 10-3.5 12-3.7 12.6-3.1 11.4-2.4 11-1.6 11.6-1.1 10-0.1 4 0.3 3.6 0.4 2.4 0.7 1.1 0.9 0.2 1-0.2 1-1.1 2-1.5 2-4.5 5-5.5 5-5.7 4.4-6.8 4.8-7.6 4.5-8 4.4-7.4 3.6-8 3.5-8 3-8 2.5-7 1.9-7.6 1.5-7.4 1.2zM705 343l-4.6 0.4-3.4 0-2.9-0.4-1-0.6-0.2-0.4 0.4-0.6 1-0.4 1.6-0.6 2.7-0.4 3.4-0.4 3 0 3 0.3 1.8 0.5 0.3 0.6-0.3 0.4-0.9 0.6zM372.4 473.5l-5 0.3-5-0.4-5-1.1-4.6-1.9-3.8-2.4-3.6-3-1.5-1.6-1-1.4-0.5-1.6 0-1.3 0.5-1.1 0.7-1 1.1-1 1.7-1 1.6-0.6 3-0.5 10.4-1 4.6 0 4.4 0.6 4.6 1.2 4 1.7 1.6 1 1.8 1.5 2 2.4 0.6 1.1 0.4 1.6 0 1.4-0.3 1-0.7 1.3-0.9 1.3-2.7 2-3.5 1.4zM373 518l-7.7 0-8.3-1-7-1.6-7.4-2.4-14.6-6-4.5-2.6-2.3-2-1.5-2-0.6-2 0.2-2 0.9-1.4 1.8-1.7 2.6-1.3 3.2-1 5.2-0.9 17.4-1.5 7 0 7.7 0.8 7.1 1.6 3.5 1 4.1 1.4 3.3 1.6 3.3 1.8 2.4 1.6 2.2 2 1.6 2 1 2 0.4 2-0.2 2-0.8 2-1.3 1.6-1.9 1.4-2.7 1.6-2.7 1-3.6 1-3.8 0.6zM240.4 528.5l-1.4 0.1-1.6-0.9-1-1.5-0.4-1.8 0-2 0.4-1.6 1-1.5 1.6-0.9 1.2 0 1.2 0.7 1 1.4 0.7 1.9 0 2-0.6 2-1.1 1.5zM247.4 532.7l-1-0.3-0.4-0.7-0.4-1.3-0.2-1.4 0.6-2.6 0.5-1 0.5-0.4 0.4-0.1 0.6 0.1 0.7 1 0.3 1 0.2 1.4-0.2 1.9-0.5 1.1-0.5 1zM372 548.5l-2 0.3-2.6-0.1-2-0.4-3.3-0.9-3.1-1.4-1.1-1-1.1-1.6-1.4-1-7.8-3-4.1-2-3-2-2.1-2-0.6-1-0.4-1-0.1-1 0.3-1 0.9-1 1.5-0.9 3.3-1.1 4.7-0.5 6 0.2 6.5 0.9 6.5 1.4 6 2 5.3 2.6 3 2 2.1 2 0.6 1 0.4 1 0 1.4-1.1 1.6-2.3 1.3-2.4 0.7-4.2 0.6-1.4 0.4-0.4 0.4 0.6 2-0.2 0.6zM227 555.2l-0.6 0-0.4-0.2-0.2-1 0.8-2.6 0-4.4 0.4-1.3 0.6-1.3 0.9-1 0.9-0.8 2-0.9 1.3-0.3 1.3 0.1 1 0.3 1 0.5 1 1.1 0.4 1 0.1 1-0.2 2 0.1 0.3 1.6 0.3 0.4 0.4 0.4 0.6 0.2 1.4-0.6 1.4-0.5 0.6-0.9 0.6-1-0.2-0.7-0.8-0.3-1.8-0.6-0.2-2.4 1.4-3.5 1-0.6 0.6-1 1.4zM247.4 557.9l-0.4-0.2-0.6-1.7-0.1-2 0.5-2.6-0.1-0.4-0.7-0.8-1.5-0.8-0.6-1 0.1-1.1 0.4-0.6 0.6-0.2 0.5-0.1 1 0.6 0.5 0.4 0.4 1.2 0.1 2.4 0.6 1.4 0.3 2-0.4 2.6zM242.4 555l-0.4 0.4-0.6-0.4 0-0.6 0.6-1 0.4-0.1 0.3 0.7zM222.4 579.1l-1 0-1.4-1.1-2.6-0.7-1.2-0.9-0.8-0.8-0.6-1.2-0.4-1.4-0.1-1.6 0.2-1.4 0.5-1.6 0.9-2 1.1-1.2 1.3-1.2 1.1-0.7 1.6-0.6 1.4-0.1 2 0.4 1.6 1.1 1 1.4 0.6 2.5 0.4 0.4 2.4-1.1 0.8 0.1 0.2 0.6-0.4 1-0.8 1-3.1 2-1.5 2.4-1.9 2-0.6 2zM251 591.6l-0.6 0.2-0.4-0.2-0.7-1.2 0-2 0.6-3-0.2-1-0.3-0.4-1.3-1.6-1.7-1.4-7-4.6-1-0.2-2.5 1.2-1.9 0.3-1.4-0.3-0.5-0.4-0.1-0.5-0.6 0.2-3 2.3-1 0.5-1.4 0.5-0.7 0-0.5-0.6-0.1-0.4 0.3-1 1-1.6 1.5-1.4 1.5-1.1 2-1 1.4 0 0.4 0.5-0.5 2 0.1 0.3 3.3-1.3 0.3-0.4-1.1-1.6-0.3-0.4 0-1 0.6-1 1.3-1 1.7-0.6 1.8 0 2 0.4 1.6 0.6 1.5 1 1.3 1.2 4 4.6 3 1.3 1.6 1.2 1.4 1.7 1 2 0.3 1.6 0 1-0.6 1.4-1.1 0.9-1 0.1-1.6-0.1-0.4 0.2-0.6 0.9-0.9 2.6zM233 582.5l-0.6 0-0.4-0.5-0.3-1 0.3-0.6 0.4-0.5 0.6 0 0.4 0.1 0.6 0.4 0.1 0.6-0.2 1-0.5 0.4zM240 581.7l-1 0.2-1.6-0.5-1-0.9 0-0.5 1-0.5 1.9 0.5 0.7 0.4 0.2 0.6 0 0.4zM185 603.7l-0.6-0.4-0.1-0.3-0.4-4-0.9-2.1-0.4-1.9 0.2-1.6 0.6-1.4 0.6-0.7 1-0.5 1 0.2 1 1.1 0.5 1.3 0.1 1.6-0.4 2-1.3 2.4-0.5 3.7zM175.4 608.6l-1.4 0.1-0.6-0.3-0.6-1 0-1 0.2-0.4 0.4-0.6 1-0.5 1.6 0.1 0.6 0.4 0.4 0.7 0 0.9-0.2 0.4-0.4 0.6zM180.4 639.2l-0.4 0.2-0.6-0.2-1-2-2.4 1.3-1.6 0.1-2-0.1-1 0.3-0.1-0.4-2.9-0.9-1.4-0.9-2-1.9-1.5-2.3-0.8-2.4-0.3-3 0.2-2 0.5-1.6 0.9-1.7 1-1.3 1.1-1 1.3-0.7 3.6-0.7-0.1-0.6-1.4-2-0.1-0.5 0.6 0 1 0.5 1.4 1.1 1.1 0.9 1.8 2.6 0.7 0.5 0.4-1.1 1-4 1.3-2.4-0.4-3.6 0-1.4 0.3-1 0.9-1.6 0.6-0.4 0.9-0.3 1 0.3 0.5 0.4 0.6 1 0.5 1.6 0.4 3.4 1-1.1 0.4-0.1 0.6 0.2 0.4 0.5 0.6 1.2 0.4 3.5 1-0.1 0.6 0.2 0.4 0.8 0.6 2.5 0.2 4-0.7 5-0.4 2-1.1 2.6-0.6 0.6-0.4 0.3-0.6-0.2-1-1.5-0.4 0-0.9 0.6 0 0.6 0.9 1 0.2 1.4-0.2 1.6-0.6 0.9-0.4 0.3-0.6 0.1-0.4-0.2-0.8-1.1-0.3-1.6 0.5-2.2-0.4-0.2-2.6 0.4-0.2 0.6 0.2 0.4 1 1 0.6 1 0 1.6zM185.2 630l0.1-5 0.7-5.6-1.2-0.4-0.8-1.3-0.5-2.3-0.1-3.2-1 1.2-1.4 1.1-0.5 2.9-0.5 2-1.2 2.6-0.1 0.4 2.3 2 0.6 1.6 0 1-0.3 1-1.8 2 0.9 0.1 2.6-0.2 2 0.4zM193 626.1l-0.6-0.2-0.5-0.9 0.1-1.2 0.4-0.7 0.6-0.1 0.4 0.4 0.3 1-0.3 1.4zM170.4 641.1l-0.4 0.2-0.6-0.3 0.1-0.6 0.9-1 0.6-0.3 0.4 0 0 0.9-0.4 0.8zM168 649.1l-0.6-0.4 0-1.3 0.6-1.3 0.4-0.4 0.4 0.7 0 0.6-0.4 1.5zM150.4 654.5l0-2.7 0.5 1.2 0 0.4zM147.4 671.3l-0.4 0-0.6-0.7-0.1-0.6-0.1-1.6 0.3-2.4-0.5-1.9-1 0.4-0.6-0.1-0.5-0.4-0.4-1.6 0.4-1 0.5-0.5 0.8 0.1 0.8 0.6 0.4-0.2 1-1.2 0.6-0.2 0.8 0.4 0.6 1 0.2 1 0.1 1.6-0.3 1.2-1 2.2-0.4 3zM150.4 678.6l-0.4 0.3-0.3-0.9 0.1-4 0.6-3 0.5-1.6 0.5-1 0.6 0.1 0.1 0.5 0 3.4-0.5 3-0.6 2zM146 691.2l-1.6 0.1-2-1.3-0.4-0.1-1 1.2-0.6 0.2-0.4-0.2-1.1-1.1-0.2-1 0.2-2-0.9-1.9-0.6-0.7-0.4 0.6-0.6 0.9-0.4 0-0.5-1.5 0.5-1.6 0.4-0.1 1 0.7 1.6-1 0.1-0.4-0.2-2 0.1-2 0.7-3 0.7-1.4 1-1.1 1-0.6 1-0.3 1.6 0.1 1.4 0.7 1.1 1.6 0.7 2.4 0.1 3-0.3 2.8-1 2.2-1.5 2 1.2 2.6 0.2 1-0.1 0.4-0.4 0.5zM140 694.7l0-0.5 0.2 0.2z"/>
<path fill="#001fff" d="M635 157l-3 0.1-1.6-0.5-0.4-0.6-0.2-0.6 0.3-1.4 2.7-6 2.7-5 2.9-4 3.1-3.6 5-4.4 5.9-4.5 15-9.8 21.8-14.7 12.8-7.8 13-6.8 11.4-5.1 20.1-7.9 7.2-2.4 5.7-1.3 3-0.2 2.6 0.2 1.4 0.5 1 0.8 0.2 1-0.2 1.4-0.8 2-1.1 2-2.9 4-4.3 4.6-16.1 14.4-7.8 6.6-9.6 7.4-10.4 7.1-10 6.1-10.4 5.9-10.8 5.5-10.8 4.9-11 4.5-10.1 3.6-8.9 2.5-4 0.9zM649 228l-8.6 0.2-3.4-0.2-3-0.4-2-0.5-1.4-0.7-0.7-1 0-1 0.6-1.4 1-1.6 3.9-4.4 5.3-5 6.6-5.6 7.1-5.2 8-5.4 8.6-5.2 8.4-4.8 13-6.6 13.6-6 13-4.9 12.4-3.7 7-1.7 6.6-1.3 6-0.9 6-0.6 5.4-0.2 4 0.3 3 0.7 0.9 0.5 0.4 0.6 0.3 1-0.6 2-1 2-1.6 2.4-4.9 6-6.5 6.6-7.1 6-7.9 5.8-8.4 5.5-8.6 4.9-9 4.5-9 4-10 4-10.4 3.6-10 2.9-9.6 2.2-9 1.6zM679.4 286.5l-6.4 0.1-6.6-0.2-6-0.6-5-0.8-4-1.1-3.5-1.5-0.9-0.6-0.7-0.8-0.2-0.6 0.1-1 0.7-1.4 1.5-2 4.6-4.6 6.5-5 7.9-5 8.6-4.7 8.4-4 10-4.1 10-3.4 11.6-3.5 12-3 11.4-2.3 11-1.7 11-0.9 9.6-0.1 4 0.2 2.9 0.5 1.6 0.6 0.8 0.4 0.5 0.6 0.2 1-0.2 1-0.7 1.4-1.4 2-4.5 5-5.6 5-6.2 4.8-7 4.8-7.5 4.4-7.9 4.3-7.6 3.5-8 3.3-8 2.9-7.4 2.3-7.6 1.9-7 1.3-7.4 1zM372 473l-5 0.2-5-0.4-5-1.3-3.8-1.5-3.8-2.5-3.4-2.9-1.7-1.6-0.9-1.4-0.3-1.2 0.1-1.4 0.4-1 0.8-1 1.3-1 1.3-0.7 2-0.6 3-0.5 10.4-0.8 4 0.1 4.6 0.7 4.3 1.2 3.1 1.5 3 2.1 1 1 1.1 1.4 0.5 1 0.4 1.6-0.1 1.4-0.3 1-0.6 1.2-1 1.2-2.4 1.8-3.6 1.5zM376.4 517.5l-7.4 0.4-4-0.1-4.6-0.4-7.8-1.4-3.8-1-4.4-1.6-15.8-6.4-4.5-2.6-2.4-2-1.5-2-0.6-2 0-1 0.3-1 0.9-1.4 1.7-1.6 1.9-1 3-1.1 5-0.9 17-1.6 7 0 7.7 0.6 7.5 1.6 6.5 2 3.6 1.4 2.9 1.6 3.1 2 2.3 1.8 1.5 1.6 1.3 2 0.8 2 0.1 2-0.6 2-0.9 1.6-1.5 1.4-2.1 1.6-2.2 1-3 1.1-3.4 0.8zM240.4 528.1l-1.4 0.1-1-0.5-1.1-1.3-0.6-2 0-2 0.7-1.9 1-1.2 1-0.5 1.4 0.2 1 0.7 0.9 1.3 0.4 1.4 0.1 1.6-0.4 1.7-1 1.7zM247.4 531.1l-0.4 0-0.6-0.6-0.2-1.5 0.2-1.6 0.6-0.8 0.4-0.2 0.7 0.6 0.4 1.4-0.5 2zM370.4 548l-2 0.2-2.4-0.2-3.7-1-2.6-1.6-1.6-2-1.5-1-8.1-3-5.1-2.4-2.7-2-1.8-2-0.5-1-0.2-1 0.5-1.6 0.7-0.8 1-0.7 2-0.7 2-0.5 5-0.4 5.6 0.2 6.5 0.9 6.1 1.6 5.7 2 5.1 2.4 2.7 2 1.8 2 0.5 1 0.2 1-0.5 1.6-1.1 1.1-2 1-2.6 0.6-5 0.7-1 0.4-0.2 0.2 0 0.4 0.5 1.6-0.1 0.4zM238.4 552.6l-1 0.1-0.4-0.2-0.5-0.5-0.3-2-0.2-0.6-2 1.3-1.6 0.7-3 0.6-1.4-0.2-0.6-0.5-0.3-0.9-0.4-2.4 0.3-2 1-1.7 1-1.1 1-0.7 2-0.8 2 0 1 0.3 1 0.6 1 1.2 0.3 1.2 0 1-0.3 2 2 0.3 0.4 0.4 0.3 0.7 0.1 1-0.3 1zM246.4 549.6l-1.5-0.6-0.4-1 0.5-0.7 0.4-0.1 0.6 0.1 0.4 0.5 0.5 1.2-0.1 0.4zM247.4 556.6l-0.4-0.3-0.3-1.9 0.3-1.4 0.4-0.3 0.6 1.7-0.1 1zM222.4 578.6l-1 0.1-1.4-1-2-0.5-1.6-0.8-0.8-1-0.5-1-0.6-2.4 0.1-1.6 0.4-1.5 0.6-1.5 0.9-1.4 0.9-1.1 1.6-1.1 1.4-0.7 1.6-0.3 2 0.3 1 0.5 1 0.8 1 1.6 0.5 2.4 0.5 0.4 1.4-0.9 1-0.4 0.6 0.2 0.1 0.3-0.3 1-0.8 1-0.7 0.4-1.9 0.9-0.4 0.6-1.6 2.4-2 2.1-0.4 1.7zM251 590.6l-0.6 0.1-0.4-0.4-0.1-0.3 0-1.6 0.5-2.4-0.2-1.6-1.2-1.4-2.3-2-6.3-4.2-1.4-0.8-0.6 0-1.5 1-1.9 0.5-1.9-0.1-0.7-0.4 0-0.6 0.3-0.4 0.8-0.6 2.6-1 0.2-0.4-1.1-1.6-0.3-1 0.3-1 0.9-1 1.9-0.7 2-0.1 2 0.3 2 0.9 1.4 1.1 1.6 1.4 3.4 4.3 1 0.8 2.6 1.1 1.8 1.9 0.6 1.1 0.6 1.5 0.1 1.4-0.3 1-0.4 0.6-1 0.6-2 0-0.8 0.4-0.4 0.4-0.8 2.4zM227 579.6l-1 0.2-0.6-0.1-0.3-0.3-0.2-0.4 0.6-1.6 0.9-1.2 1.9-1.8 1.7-0.9 1.4-0.5 0.6 0.1 0.4 0.3 0 1.1-0.6 1.5-0.4 0.4-2.3 2zM233 582l-0.6-0.2-0.1-0.8 0.1-0.4 0.6-0.2 0.4 0.3 0.2 0.3-0.2 0.7zM239 581.5l-1.5-0.5-0.3-0.6 0.2-0.3 0.6-0.1 1.2 0.4 0.3 0.6zM185 602.8l-0.6-0.6-0.2-3.2-1.1-2.6-0.2-1.4 0.1-1.1 0.4-1.5 0.6-0.6 1-0.5 0.8 0.1 0.6 0.6 0.6 1 0.3 2-0.3 1.9-1.3 2.1-0.3 2.7zM180 639.1l-0.6-0.2-0.5-1.5-0.5-0.5-2 1.2-2 0.3-5-0.8-2.3-1.2-1.7-1.4-1.6-2.6-0.9-2.4-0.3-3 0.4-2.6 1-2.2 1.4-1.9 2-1.3 1.6-0.4 2.6-0.2 0.8-0.7 1 0.7 2 2.2 0.6 0.4 0.1 0 0.3-0.6 0.5-3 0.5-1.7 1.5-2.7-0.6-3.6 0.4-2.4 1-1.6 0.7-0.5 0.6-0.1 1 0.3 1 1.3 0.5 1.6 0.1 3-0.5 1.4-0.4 0.6-1.9 1.4-0.4 2.8-0.4 2-1.4 2.8 0 0.4 1.4 1.1 1 1.1 0.4 0.8 0.2 1-0.2 1-0.4 0.9-1.8 1.7 0.2 0.2 0.6 0.1 3-0.2 2 0.4 0.4-0.5 0-4.6 0.7-6-0.1-0.7-1 0-0.6-0.5-0.5-1.2-0.2-2 0.2-2.6 0.4-1 0.7-0.7 0.4-0.2 0.6 0.3 0.5 0.6 0.5 1.6 0.3 3 0.1 0.2 1-0.4 0.4 0.2 0.6 0.8 0.6 2.6 0.1 3.6-0.6 4.4-0.5 2.5-1 2.5-0.6 0.6-0.4 0.2-0.6-0.1-1-1.6-0.4 0.1-1.2 0.8-0.2 0.6 0.8 0.5 0.7 1.5-0.1 1.4-0.6 1.3-0.4 0.3-0.6 0.1-0.4-0.2-0.6-0.6-0.3-0.9-0.1-1 0.2-1 0.9-1.4-2.7 0.1-1.3 0.3-0.1 0.6 0.2 0.4 0.2 0.6 1 0.8 0.5 1.2-0.2 1.4-0.3 0.5zM175 608l-0.6 0-0.4-0.3-0.4-0.7 0.4-0.9 1-0.5 0.9 0.4 0.2 0.4-0.2 1zM147.4 670.9l-0.4 0-0.6-0.9-0.1-1.6 0.4-2.4-0.7-2.7-1 0.7-0.6-0.1-0.4-0.7-0.1-0.8 0.5-1 0.6 0 1 1 1-1.5 0.4-0.5 0.6-0.2 0.6 0.2 0.7 1 0.2 1 0.1 1.6-0.4 1.4-1 2-0.2 2.6zM150 678.5l-0.3-1.5 0.2-3 0.4-2.6 0.7-1.9 0.4-0.9 0.6 0.3 0 0.5 0 3-0.4 2.6-0.5 2-0.7 1.4zM145.4 691.1l-1-0.2-2-1.1-0.4 0-1 1-0.6 0.2-1-0.5-0.4-0.8-0.2-0.7 0.2-2-1.3-3 0.2-0.6 1.3-1-0.1-4.4 0.3-1.8 0.6-1.4 0.4-0.9 1-1.2 1-0.6 1-0.3 1.6 0.1 1.4 0.7 1 1.4 0.7 2.4 0.1 3-0.3 2.6-0.9 2.2-1.5 1.8-0.1 0.4 1.1 2.6 0.2 1-0.3 0.6z"/>
<path fill="#003dff" d="M635.4 156l-2.4-0.3-1-0.7-0.3-1 0.4-2 2.4-5.6 2.2-4 2.9-4 3.2-3.4 4.5-4 5.3-4 15.4-10 14.5-10 8.3-5.6 12.6-7.5 12.6-6.5 11.4-5 19.4-7.4 7.2-2.4 5.4-1.1 2.6 0 2 0.2 1 0.4 0.9 0.9 0.2 1-0.2 1.4-0.6 1.6-1.1 2-2.9 4-4.4 4.4-15.4 14-7.7 6.6-9.8 7.5-10.6 7.1-10 6.1-10.4 5.8-10.9 5.5-10.7 4.8-10.4 4.2-10.6 3.6-8.4 2.4-3.6 0.6zM649 227l-7.6 0.1-5.4-0.6-1.9-0.5-0.9-0.6-0.7-1-0.1-1 0.6-1.4 1-1.6 3.4-4 5.3-5 6.6-5.4 7.1-5.3 7.6-5 8-4.9 9-5 13-6.6 12.4-5.5 12.6-4.7 12.4-3.7 6.6-1.6 6.4-1.2 6-0.9 5.6-0.5 5-0.2 3.4 0.3 3 0.8 1.2 1 0.2 1-0.2 1.4-0.9 2-1.6 2.6-2.3 3-2.6 3-6.2 6.1-6.9 5.9-7.7 5.6-8.4 5.5-8.6 4.9-8.4 4.3-10 4.4-9.6 3.6-10 3.4-10 2.8-9.4 2.2-9 1.5zM685 285.5l-7 0.4-7 0-6.6-0.4-5.4-0.8-5-1.2-3.6-1.3-1.1-0.8-0.8-1-0.2-0.4 0.1-1 0.6-1.6 1.1-1.4 1.8-2 2.7-2.6 6.4-4.9 7.4-4.8 8-4.3 9-4.3 9.6-3.9 9-3.1 11.4-3.5 11.6-2.9 11.4-2.3 11-1.7 11-1 9-0.1 4 0.3 2.6 0.5 1.4 0.6 1.1 1 0.3 1-0.2 1-0.8 1.4-1 1.6-3.9 4.4-4.9 4.6-5.8 4.4-6.4 4.6-6.8 4.1-7.6 4.2-7 3.4-7 3-7.4 2.9-7.6 2.5-7 2-6.4 1.4-7 1.2zM371 472.5l-4.6 0.1-4.4-0.4-4.6-1.2-3.7-1.6-3-2-3.9-3-1.6-1.4-0.8-1.2-0.4-1.4 0-1 0.3-1 0.6-1 1.2-1 2.9-1.1 3-0.6 10-0.7 4 0 4 0.6 3.4 0.9 3.7 1.5 3.1 2 1.2 1.2 1 1.2 0.6 1.1 0.3 1.5 0 1-0.3 1.3-0.7 1.1-0.8 1-1.2 1-1.7 1-3.6 1.4zM375 517.5l-4 0.2-4 0-4.2-0.3-4.2-0.4-7.4-1.6-3.4-1-4.2-1.4-14.4-6-4.5-2.6-2.5-2-1.4-2-0.7-2 0.1-1 0.2-1 1-1.4 1.8-1.6 2.2-1.1 2.8-0.9 4.8-0.8 17.2-1.6 7.2 0 7.6 0.7 7.9 1.7 6 2 3.4 1.6 3.6 2 2.1 1.4 2.3 2 1.6 2 1 2 0.4 2-0.1 1.6-0.7 2-1.1 1.3-1.4 1.4-2 1.3-3 1.3-3 1-3.1 0.7zM240.4 527.5l-1 0.2-0.4-0.1-1-0.5-0.9-1.1-0.4-1.6-0.1-1.4 0.4-1.6 0.9-1.4 1.1-0.6 1-0.1 1.1 0.7 0.9 1.1 0.4 1.3 0.1 1.6-0.4 1.4-0.7 1.3zM367.4 547l-2-0.2-2.6-0.8-0.8-0.6-2.1-2-0.8-0.4-9.6-3.6-5.2-2.4-2.8-2-1.4-1.6-0.6-1-0.3-1 0.3-1.4 0.8-1 1.7-1 2-0.7 2.4-0.4 6-0.2 7.3 0.7 6.7 1.6 3.2 1 3.9 1.4 4.8 2.6 2 1.4 1.4 1.6 0.8 1.4 0.1 1-0.6 1.6-1 0.9-1.6 0.7-2 0.6-6.1 0.8-1.9 0.4-0.4 0.6 0.1 1-0.1 0.4-0.6 0.4zM231 551.5l-2 0-1-0.5-0.6-0.7-0.4-1.3-0.1-1 0.1-1 0.4-1.6 1.1-1.4 1.9-1.6 1.5-0.4 1.1-0.2 2 0.4 1.1 0.8 0.9 1.4 0.1 1.6-0.5 2-0.7 1-1.8 1.4-1.1 0.6zM238 552.5l-0.6-0.1-0.6-0.4-0.4-0.8 0-1.1 0.5-1.1 0.8-0.6 0.7 0 0.6 0.2 0.4 0.6 0.2 1.2-0.6 1.5zM222 578.1l-0.6 0-1.4-0.7-2-0.4-1.6-1-0.8-1-0.5-1-0.4-2.6 0.3-1.8 0.4-1.5 1-1.7 0.8-1 1.2-1.1 1.6-0.8 1.4-0.4 1-0.1 2 0.5 1.6 1.3 0.9 1.6 0.5 2.7 0.6 0.1 2-1.3 0.5 0.1 0.2 0.4-0.3 0.7-0.8 0.9-2.2 1-0.4 0.5-1.6 2.5-2.3 2.4-0.7 1.4zM255 585.6l-3 0.2-0.6-0.2-0.9-1.6-2.2-2-2.3-1.8-6.6-4.2-1-0.2-1.9 1.2-1.5 0.4-1 0-1-0.3-0.3-0.7 0.4-0.4 0.7-0.6 2.9-1 0-0.4-0.8-1-0.5-1-0.1-1 0.7-1 0.6-0.6 1.4-0.5 2.4-0.1 2.6 0.7 2.4 1.6 2 2 3.6 4.6 3 1.7 1.3 1.6 0.7 1.4 0.2 1.6-0.3 1zM226.4 579.5l-1-0.2-0.1-0.9 0.7-1.4 0.8-1 1.2-1.1 1.4-1 1.6-0.6 1 0.1 0.3 0.6-0.1 0.4-0.4 1-0.6 1-2.4 2-0.8 0.6zM185 599.4l-1.5-3-0.2-1.4 0-1 0.4-1 0.7-1 0.6-0.2 1 0.3 0.4 0.6 0.5 1.3 0.1 1-0.1 1-0.4 1zM180 638.7l-0.6-0.3-0.4-1.8-0.6-0.1-1.1 0.9-0.9 0.6-2 0.2-4.4-0.8-2.6-1-2-1.8-1.4-2.3-1-2.9-0.2-2.4 0.4-2.6 0.9-2 1.3-1.7 2-1.4 2-0.5 3 0.2 1.6 0.7 2 1.8 0.4 0 0.6-3.5 0.4-1.9 1.6-3.1-0.5-3 0.2-2.6 0.7-1.6 0.6-0.5 1-0.3 1 0.3 1 1.2 0.4 1.6 0.1 2.3-0.3 1.6-0.6 1-2 1.4-0.2 2-0.4 2.4-0.6 1.4-1 1.8-0.1 0.4 1.7 1.2 0.7 0.8 0.6 1 0.2 1-0.2 1-0.3 0.8-2.1 1.8 0.1 0.1 0.4 0.4 2.6-0.3 1.4 0.1 1 0.1 0.6 0.5 0.4-0.5 0.1-5 1-7.4-1.1 0.4-0.4-0.2-0.6-0.5-0.4-1.5 0-3 0.4-1.5 0.6-0.6 0.4-0.1 0.6 0.3 0.4 0.7 0.5 2 0.1 3 1-0.8 0.4-0.1 0.6 0.2 0.4 0.9 0.5 2.8 0.1 3-0.5 4-0.5 2.4-0.6 1.7-1 1.6-0.4 0.3-0.6-0.2-1-1.7-0.4-0.1-0.2 0.4-1.4 1.1-4 0.6-0.7 0.3 0.3 1.4 0.3 0.6 0.7 0.3 0.5 0.7 0.1 1.6-0.2 0.4zM184.4 637.5l-0.4 0.3-0.6 0.1-0.7-0.5-0.4-1-0.1-1 0.2-1.3 0.6-0.7 0.4-0.2 0.6 0.1 0.4 0.4 0.6 1.1 0 1.6zM147.4 670.4l-0.4-0.1-0.4-1.3 0.3-2.6-0.7-3.4 0.8-1.8 0.4-0.6 0.6-0.2 0.4 0.1 0.7 0.9 0.3 1.1 0.1 1.5-0.5 1.8-0.9 1.2-0.1 2.3zM150.4 678.1l-0.4 0-0.1-0.1 0-3.6 0.5-3 0.6-1.7 0.4-0.8 0.6 0.5 0 2.6-0.5 3-0.5 2zM146 690.7l-0.6 0.1-1-0.1-2-1-0.4-0.1-1 1-0.6 0.2-0.8-0.4-0.6-1-0.1-0.4 0.2-2-1-2.6 0.2-1 1.2-1-0.3-4 0.2-1.6 0.6-1.6 0.6-1.2 0.8-1 1-0.7 1-0.2 1.6-0.1 1.4 0.7 1 1.6 0.5 1.7 0.1 3.4-0.3 2.6-0.8 2-1.7 2 0 0.4 1.3 3-0.1 0.7z"/>
<path fill="#005cff" d="M640.4 154.5l-3.4 0.3-2.3-0.4-0.7-0.4-0.3-0.6-0.1-1.4 1.3-4 2.4-5 2.3-3.6 3-3.4 4.3-4 5.8-4.6 15.7-10.2 20-13.7 10.6-6.5 10-5.5 10.4-5.1 10.6-4.4 17.4-6.6 7-2.2 3.6-0.6 3-0.1 2.2 0.5 0.8 0.4 0.3 0.6 0.3 1-0.1 1-0.5 1.4-1.1 2-3 4-3.9 4-14.1 13-7.6 6.6-9.3 7.2-10 6.9-9.5 5.9-9.7 5.4-9.8 5.2-10 4.7-10 4.2-10.6 3.9-8.2 2.6zM740.9 89.4l2.2-1.4-0.1-0.3-1.8 0.7-1.3 1 0.5 0.2zM649.4 226l-6.4 0-5-0.6-1.6-0.6-1.1-0.8-0.4-1 0.2-1 0.6-1.6 1.1-1.4 3.5-4 5.4-5 6.3-5 7-5.1 8-5.2 8-4.8 8.4-4.7 13-6.5 11.6-4.9 12.4-4.6 11.6-3.3 6.4-1.5 5.6-1.1 6-0.9 5-0.4 4.4-0.1 3.6 0.4 2.3 0.7 1.1 1 0.3 1-0.2 1.4-0.8 2-1.6 2.6-4.6 5.4-6 6-7.1 5.9-7.4 5.5-8 5.2-8.6 4.8-8.4 4.2-9.6 4.2-9.4 3.6-10 3.3-9.6 2.6-9 2-9 1.5zM684 285l-6.6 0.3-6.4-0.1-6-0.5-5.3-0.7-4.3-1.1-3.3-1.5-0.7-0.5-0.7-0.9-0.2-1.6 0.6-1.4 1-1.6 1.8-2 2.2-2 5.9-4.5 7.4-4.8 8-4.4 8.6-4 9-3.7 9.4-3.3 11.6-3.4 11.4-2.9 11-2.3 10.6-1.6 10.4-0.9 8.6-0.1 3.4 0.4 2.6 0.5 1.2 0.6 1.1 1 0.2 1-0.2 1-0.7 1.4-1 1.6-3.5 4-5 4.4-5.8 4.6-6.5 4.4-6.8 4.2-7.2 3.8-6.8 3.4-7.6 3.2-7.4 2.8-7 2.2-6.6 1.8-7 1.4-6.4 1.1zM369 472l-3.6-0.1-4-0.5-3.5-1-3.5-1.5-6.4-4.5-1.7-1.4-0.9-1.2-0.4-1.4 0-1 0.4-1 0.8-1 1.2-0.8 1.6-0.6 1.4-0.4 13-1 4 0.2 4 0.8 3.9 1.4 2.7 1.4 2.4 2 1.3 2 0.3 1 0 1.6-0.8 2-0.7 1-1.2 1-2.8 1.4-3.4 1zM373 517.5l-8 0-8-1-7-1.5-7.2-2.6-14-6-4.3-2.4-2.2-2-1.2-2-0.4-2 0.3-1.6 1.1-1.4 1.9-1.5 2.1-1.1 2.9-0.8 4-0.7 18-1.8 7 0 7.4 0.9 6.8 1.4 3.4 1 3.8 1.5 3.4 1.5 2.7 1.6 2.8 2 2.1 2 1.4 2 0.9 2 0.3 2-0.3 1.4-0.7 1.7-1.6 1.8-2 1.5-1.9 1-2.5 1.1-3.6 0.9-3.4 0.7zM240 527l-1 0-1-0.7-0.6-0.9-0.4-1.4 0.1-1 0.4-1.6 0.9-1.1 1-0.4 1 0.3 0.6 0.4 0.6 0.8 0.4 1.6-0.1 1.4-0.5 1.4-0.5 0.6zM370.4 543.5l-4.4 0.3-2-0.1-10.7-3.3-4-1.4-4-2-2.3-1.6-1.1-1-1.4-2-0.3-1 0.2-1 0.7-1 1.5-1 1.8-0.6 2.6-0.5 3-0.2 3 0 4 0.3 3.4 0.6 6.4 1.4 3.1 1 3.7 1.6 4.5 2.4 1.8 1.6 1.2 1.4 0.5 1.6-0.2 1-0.7 1-1.3 0.8-1.4 0.6-2.1 0.6zM232.4 551l-2.4 0.3-1.6-0.5-0.4-0.4-0.6-1-0.2-1 0-1.4 0.8-2 1.4-1.7 2-1 2-0.3 1.6 0.4 1 0.8 0.7 1.2 0.2 1.6-0.5 1.6-0.8 1.4-1.6 1.3zM238.4 552l-1 0.1-0.4-0.4-0.3-0.7 0.3-1.5 0.4-0.5 0.6-0.3 1 0.3 0.4 1-0.4 1.4zM221.4 577.5l-3.4-0.8-1.6-1-0.8-1.3-0.4-1-0.3-2.4 0.3-1.6 0.5-1.4 0.7-1.3 1-1.2 1.3-1.1 1.3-0.7 1-0.3 1.4-0.1 1 0.1 1 0.4 1.6 1.4 0.8 1.8 0.5 3 0 0.4-2.3 3.9-2.6 2.6zM229.4 569.3l-0.1-0.3 0.1-0.1 0.2 0.1zM253 583.7l-0.6 0.2-1-0.2-11.4-7.6-1-0.5-1 0-1 0.8-1 0.6-1.6 0.2-1.1-0.2-0.1-0.6 0.3-0.4 0.8-0.6 2.7-0.7 0.2-0.3-1.5-2.4 0-1 0.3-0.6 0.4-0.5 1-0.5 1.6-0.4 1-0.1 2.4 0.6 2.7 1.5 2.5 2.4 3.8 5.7 2 2.3 0.4 1-0.1 0.6-0.3 0.4zM229 569.7l-0.4-0.3 0.4-0.3 0.4 0.3zM227.4 579l-1 0.2-0.4 0-0.3-0.2-0.1-0.6 0.3-1 1.1-1.4 1.2-1 1.8-1.1 1-0.3 0.4 0 0.5 0.4-0.1 1-0.9 1.4-1.7 1.6zM185.4 597.1l-0.4 0.2-0.6-0.4-0.6-1.5 0.2-1.7 0.4-0.8 0.6-0.2 0.4 0 0.6 0.4 0.5 1.3-0.2 1.6zM175.4 638l-1.4 0-4.6-1-2-0.9-1.4-1.3-1.6-2.1-0.9-2.3-0.4-2.4 0.2-2.6 0.7-2.2 1.1-1.8 1.3-1.2 2-0.9 2-0.2 2 0.3 1.6 0.8 2 1.6 0.8 0.2 0.1-0.6 0.1-2.6 0.4-2.4 0.6-1.2 1.1-1.8 0.1-0.4-0.6-3 0.2-2.6 0.4-1 0.8-0.9 1-0.4 0.4 0.1 1 0.7 0.6 1.1 0.4 1.8 0 1.6-0.4 1.6-0.6 0.9-0.6 0.5-1.1 0.6-0.3 0.4-0.1 2-0.3 2-1 2.4-1 1.2 0.1 0.4 1.5 1 1 1 0.6 1 0.1 1-0.3 1.6-1 1-1.4 1 0 0.4 0.8 0.3 2-0.3 2 0 1.2 0.6-0.1 0.4-0.5 0.6-1 0.5-4 0.5-0.6 0.4 0.3 1.6-0.2 1-1.5 1.4zM186 617.5l-0.6 0.3-0.4-0.2-0.6-0.7-0.3-1.5 0-1.4 0.3-1.6 0.6-0.7 0.4-0.1 0.6 0.3 0.3 0.5 0.3 1.6-0.1 2.4zM187.4 632.5l-0.4 0.2-0.6-0.2-0.8-1.5-0.1-5 0.5-4 0.7-3.6 0.7-1.4 0.6-0.5 0.4-0.1 0.6 0.2 0.5 1.4 0.4 2.4 0 3-0.4 3.6-0.5 2.3-0.6 1.5zM184 637.6l-0.6 0.1-0.4-0.2-0.6-0.8-0.1-0.7 0.1-1.6 0.6-0.7 0.4-0.3 0.6 0.1 0.4 0.4 0.5 1.5-0.3 1.6zM180 637.6l-0.2-0.6 0.2-0.2zM147.4 667.9l-0.9-3.9 0-1 0.4-1.6 0.5-0.6 0.6-0.2 0.4 0.2 0.6 0.6 0.4 1.6 0 1-0.4 1.5-1.3 1.5zM150.4 677.8l-0.4-0.2-0.1-0.2 0-3 0.5-2.8 0.6-1.6 0.4-0.8 0.5 0.8 0 2-0.4 3-0.5 1.8zM145.4 690.6l-1-0.1-2.4-1.1-1.2 1-0.4 0.2-0.5-0.2-0.5-0.3-0.2-0.7-0.2-1 0.3-1.4-1-2.6 0.1-0.6 1.1-0.8 0.2-0.6-0.3-2.4 0-2 0.5-2 0.5-1.4 0.6-0.7 1-1 1-0.5 1.4-0.2 1.6 0.3 1 1 0.6 1.5 0.3 2 0 3-0.5 2.2-1 2.1-1.5 1.7 0.1 0.4 1 2 0.3 1-0.3 0.9z"/>
<path fill="#007aff" d="M641 153.5l-2.6 0.1-2-0.4-0.4-0.4-0.6-0.7 0-1.7 1-3.4 2.2-4.6 2.3-3.4 3.1-3.6 4.3-4 5.3-4 14.8-9.6 21-14.4 10-6.2 10-5.5 10-4.8 10.6-4.4 17.4-6.4 6.6-2 3.4-0.5 2.6 0 1.5 0.4 0.8 0.4 0.3 0.6 0.3 1-0.3 1.4-1.5 3-3.1 4-4.5 4.6-12.4 11.4-8.1 7-9.2 7-9.8 6.8-9.4 5.8-9.6 5.4-9.9 5-9.7 4.6-10.7 4.4-9.7 3.6-8 2.3zM739.4 90.4l3-1.4 2.4-2-0.4-0.4-0.4 0.1-2.5 1.3-2.1 1.4-0.8 1zM650 225l-6.6-0.1-2.4-0.4-1.6-0.4-1.1-0.7-0.8-1-0.1-1 0.3-1 0.8-1.4 1.1-1.6 3.6-4 5.1-4.4 6.3-5 6.8-4.9 7.6-4.9 7.4-4.4 8.6-4.7 12-5.9 11.4-5 11.6-4.2 11.4-3.3 11.6-2.5 5.4-0.8 5-0.4 4.6-0.1 3 0.3 2.2 0.8 1.2 1 0.3 1-0.2 1.4-0.8 2-1.3 2-1.9 2.6-2.6 3-6.1 6-6.6 5.4-7.5 5.6-8.3 5.2-8 4.5-8 3.9-9.4 4.1-9.6 3.6-10 3.2-9.4 2.6-9 1.9-8.6 1.3zM682.4 284.5l-6 0.1-6-0.1-5.4-0.5-4.6-0.8-3.4-1-2.8-1.2-0.8-0.7-0.6-0.9-0.2-1.4 0.5-1.6 1-1.4 1.9-2 2.1-2 6-4.6 6.9-4.3 8-4.3 8-3.8 9-3.6 9-3.1 11.4-3.5 11-2.7 11.6-2.3 10-1.5 9.4-0.8 8 0 3 0.3 2.6 0.6 1.1 0.6 0.9 1 0.2 1-0.2 1-0.7 1.4-1 1.6-3.6 4-5 4.4-6 4.6-5.9 4-6.8 4-7.5 4-7.1 3.3-7 2.9-7 2.5-7 2.2-6.4 1.7-7 1.3-7 1zM371 471l-3.6 0.2-4-0.3-4-0.8-3-1.2-2.6-1.5-6.1-4.4-0.8-1-0.5-1 0-1 0.3-1 0.7-1 0.7-0.6 1.3-0.6 1.6-0.5 2.4-0.3 9-0.6 3.6 0.1 3.4 0.5 3.6 0.9 2.3 1.1 2.4 1.4 1.9 2 0.9 2 0.1 1-0.2 1-0.4 1-0.8 1-1.9 1.6-2.9 1.2zM376 517l-7 0.4-7.8-0.4-3.8-0.6-4.4-0.9-7.1-2.1-15.3-6.4-4.7-2.6-2.5-2-1.4-1.8-0.7-1.6 0-1 0.2-1 0.8-1.6 1.7-1.4 2-1.1 2.8-0.9 4.6-0.9 16.6-1.8 7 0 7.1 0.7 7.5 1.4 6.3 2 3.5 1.6 2.8 1.4 2.4 1.6 2.4 1.9 1.4 1.5 1.4 2 0.6 2 0.2 1.6-0.4 2-0.9 1.4-1.4 1.6-2.1 1.4-1.9 1-2.9 1.2-3.6 0.8zM240 526l-1 0-0.6-0.4-0.4-0.9-0.2-0.7 0-1 0.3-1 0.3-0.6 1-0.5 0.6 0.1 0.6 0.4 0.4 0.6 0.3 1 0 1-0.3 1-0.6 0.7zM369 543l-4.6-0.2-3.4-0.6-6.3-1.8-5.4-2-3.8-2-2.6-2-0.8-1-0.5-1-0.2-1 0.3-1 0.9-1 1.4-0.7 2-0.6 2.4-0.4 5.6-0.1 7 0.8 6.1 1.6 3 1 3.5 1.4 1.9 1 2.2 1.6 1.6 1.4 0.7 1 0.4 1-0.1 1-0.5 1-1.4 1-1.4 0.7-2 0.4zM231 551l-1 0-1-0.3-1-0.9-0.6-1.8 0.3-2 1.3-2 1.4-1.1 2-0.6 2 0.2 1.4 0.9 0.6 1 0.2 1.6-0.3 1.4-0.9 1.4-1.3 1.2-1.7 0.7zM238.4 551.5l-0.4 0.2-0.6-0.1-0.3-0.6 0.1-1 0.2-0.4 0.6-0.4 0.4 0.1 0.6 0.7 0 0.6zM221 577l-3-0.6-1.6-1.1-1-1.9-0.3-1.4 0.1-1.6 0.8-2.4 0.9-1.6 1.1-1.1 1.1-0.9 1.3-0.6 1.6-0.3 1 0.1 1 0.3 0.9 0.5 1.2 1.6 0.6 2 0.1 2.4-0.9 2-1.4 2-2.5 2.3zM251 582.1l-1-0.1-1-0.5-9-5.7-1.8-0.8-1.9-2.6-0.2-1 0.4-1 0.5-0.4 1-0.6 2.4-0.2 2.6 0.7 2.4 1.5 2.6 2.9 2.2 3.7 1.1 2.4 0 1zM228 578.5l-1.6 0.4-0.4-0.4 0.2-1.1 0.7-1 1.5-1.4 1-0.7 1-0.4 0.7 0.1 0.3 0.2 0.1 0.8-0.9 1.4-1.6 1.6zM236 576.6l-1.6 0.3-0.6-0.5 0.3-0.4 1-0.6 1.3-0.1 0.7 0.1-0.1 0.6zM178 621.5l-0.6-0.1-0.3-1 0.3-3 0.6-1.9 0.4-0.9 1.1-1.2-0.8-3 0.1-2.4 0.5-1.6 0.7-0.7 0.4-0.3 1-0.1 0.9 0.7 0.7 1 0.4 2-0.2 2-0.3 1-0.7 1-0.8 0.5-1.3 0.5 0 2.4-0.2 1.6-0.9 2.5zM186 616.5l-0.6 0.4-0.4-0.2-0.6-1.6 0.2-1.7 0.4-0.7 0.4-0.3 0.6 0.5 0.2 1.1 0.1 1zM187.4 632.2l-0.4 0.2-0.6-0.3-0.6-1.1-0.2-3 0-2.6 0.4-3 0.7-3.4 0.7-1.6 0.6-0.6 0.4-0.1 0.6 0.3 0.5 1.4 0.3 2.6 0 2.4-0.4 3.2-0.4 2.4-0.6 1.5zM176.4 637.5l-1 0.3-1 0-2-0.6-2.4-0.3-1.3-0.5-2.3-1.5-1-1.1-1-1.6-0.6-1.8-0.4-2 0-2 0.2-1.4 0.6-1.6 0.8-1.4 1-1 1.4-1 2-0.6 2.6 0.2 1.8 0.8 2.2 1.7 1.4 0.2 2 1.1 1.4 1.6 0.4 1 0 1-0.2 0.7-0.6 0.7-2 1.6-0.2 0.4 0.2 0.4 0.6 0.1 3.4-0.5 1 0.2 0.7 0.4 0 0.4-1.1 0.8-1 0.3-3 0.2-0.7 0.3-0.3 0.4 0.4 1.6-0.3 1-0.7 0.8zM183.4 637.5l-0.6-0.5-0.4-1 0-0.6 0.6-1.4 0.4-0.3 0.6 0.1 0.4 0.5 0.3 1.1-0.3 1.4-0.4 0.6zM148 666.3l-0.6 0-0.1-0.3-0.3-0.8-0.3-1.8 0.3-1.6 0.4-0.7 0.6-0.2 0.4 0.1 0.6 0.7 0.2 1.7-0.2 1.8-0.6 0.7zM150.4 677.5l-0.4-0.7 0-1.8 0.4-3.1 0.6-1.6 0.4-0.7 0.4 1.4-0.3 3.4-0.5 2.1zM145.4 690.3l-1 0-2.4-1-1 0.8-0.6 0.2-0.4-0.1-0.7-0.8-0.1-1 0.2-1.4-0.8-2.6 0.4-0.8 0.9-0.6-0.3-3 0-1.6 0.3-2 0.5-1.3 0.8-1.1 0.8-0.8 1-0.5 1.4-0.3 1.6 0.3 0.8 0.7 0.7 1.6 0.3 2-0.2 3.4-0.4 2-0.8 1.6-1.8 2 1.4 3 0 0.8z"/>
<path fill="#0099ff" d="M645 152l-3.6 0.4-2.4-0.2-1.4-0.8-0.3-0.4-0.2-1 0.1-1.6 0.4-1.4 1.7-4 2.2-3.6 2.4-3 4.2-4 5.7-4.4 14.6-9.6 19.5-13.4 10.1-6.4 9.4-5.3 10-5 10-4.3 16.7-6 8-2.6 3.3-0.6 2.6-0.1 1.4 0.3 0.9 0.4 0.5 0.6 0.3 1-0.1 1-0.6 1.4-1.1 2-2.9 3.6-4.9 5-10.6 10-7.5 6.4-9 7-9.3 6.6-8.7 5.3-9.4 5.5-9 4.7-9.6 4.6-10 4.3-9 3.4-8 2.6zM738.8 91l2.3-1 2.4-1.6 2-1.4 0.8-1-0.3-0.3-1.1 0.3-1.9 0.9-2.6 1.5-2 1.6-0.7 1 0.3 0.1zM650.4 224l-4-0.1-3-0.4-1.7-0.5-1.4-1-0.3-0.6-0.1-1 0.5-1.4 1.2-2 2.1-2.6 3.6-3.4 4.1-3.6 5.2-4 5.4-3.8 12-7.6 13-7.2 12.4-6.1 10.6-4.4 11-3.9 11-3.2 11-2.2 5-0.7 4.4-0.4 3.6 0 3 0.3 2.2 0.8 1.1 1 0.4 1-0.2 1.4-0.9 2-1.2 2-4.1 5-5.6 5.6-6.6 5.4-7.6 5.6-7.5 4.8-8.6 4.7-8.4 4.1-9.6 4.1-9.4 3.5-8.6 2.7-9 2.4-9 1.9-8.4 1.2zM680 284l-5.6 0-5.4-0.4-4.6-0.5-4-0.9-3-1.1-1.8-1.1-0.6-0.8-0.4-0.8 0.1-1.4 0.7-1.6 1.2-1.4 3.6-3.6 5.8-4.3 7-4.3 7.4-4 8-3.7 8.6-3.4 9-3.1 11.4-3.3 10.6-2.6 10.4-2.1 10-1.4 9-0.8 7.6 0 3 0.4 2 0.6 1 0.6 0.8 1 0.2 1-0.2 1-0.7 1.4-1.1 1.6-3.6 4-5.2 4.4-6.1 4.6-6.1 4-7 4-7 3.6-7 3.1-7 2.8-7.6 2.6-6.4 1.9-6.6 1.5-7 1.3-7 0.8zM371 470l-3.6 0.3-3.4-0.2-3.1-0.7-2.9-1-2.8-1.4-5.7-4-1.1-1.6-0.1-1 0.1-0.6 0.6-0.8 1.1-1 1.9-0.8 2-0.3 9-0.5 3 0 3.5 0.6 3.9 1.3 2.6 1.4 1.8 1.7 0.8 1.6 0.2 1-0.1 1-0.7 1.4-1.6 1.6-2.4 1.2zM374.4 517l-7.4 0.2-7.6-0.6-3.6-0.6-4.4-1-6.3-2-14.9-6.6-4.4-2.4-1.8-1.6-1.5-2-0.6-2 0.2-1.4 0.9-1.6 1.4-1.2 2-1.1 2.6-0.8 4.1-0.9 16.9-1.9 7-0.1 6.4 0.6 7.5 1.4 6.4 2 3.6 1.6 2.9 1.4 2.4 1.6 2.4 2 1.8 2 1 1.6 0.7 1.8 0 2-0.6 2-1 1.6-1.7 1.4-1.8 1.2-3 1.4-2.6 0.8-3.1 0.6zM374.4 542l-4.4 0.4-5.6-0.3-5.4-1-5.9-1.7-4.7-2-2.5-1.4-1.3-1-1-1-0.6-1-0.3-1 0.2-1 1.1-1.3 2-0.9 3-0.6 3.4-0.2 4 0.3 4.6 0.6 4.4 1 3.2 1.1 3.7 1.4 2.8 1.6 2.6 2 1.1 1.4 0.3 1.6-0.7 1.1-1.4 1.1zM232.4 550.5l-2 0.2-1.4-0.5-0.6-0.4-0.5-0.8-0.2-1 0-1 0.7-2 1.6-1.5 1.4-0.7 2-0.2 1 0.2 1 0.7 0.7 0.9 0.3 1.6-0.4 1.4-1 1.6-1.3 1zM221.4 576.5l-1 0.1-1.4-0.2-1-0.3-1-0.7-0.8-1-0.5-1-0.3-1 0-1.4 0.6-2.6 0.8-1.4 0.8-1 1.1-1 1.3-0.7 1-0.4 1.4-0.1 1 0.2 1 0.4 1.1 1 0.9 2 0.1 2.6-0.5 1.9-1 1.7-1.6 1.6zM250 581.1l-1-0.1-2-1-8.6-5.4-1.6-2.2-0.3-1 0.5-1 1.4-0.8 2-0.1 2.1 0.5 2.6 1.4 2.4 2.6 2.1 3.4 0.9 2.6-0.1 0.4zM227 578.5l-0.6-0.5 0.2-0.6 1.1-1.4 1.2-1 1-0.6 0.5 0 0.6 0.2-0.1 0.8-1.1 1.6-1.4 1zM181 613.5l-1-0.1-0.6-0.8-0.4-1.4-0.3-1.8 0.2-1.4 0.5-1.5 0.6-0.6 1-0.5 1 0.4 0.5 0.6 0.5 1 0.3 2-0.2 1.6-0.6 1.4-0.5 0.6zM178 621l-0.6-0.4-0.1-0.6 0.1-2.3 0.6-1.7 0.4-0.9 0.6-0.6 0.4-0.1 0.6 1-0.2 2-0.4 1.5-0.4 1.1-0.6 0.7zM187 632.1l-0.6-0.4-0.5-1.3-0.2-3 0.1-3.4 0.6-3.6 0.6-1.7 0.7-1.3 0.7-0.4 0.6 0.4 0.5 1.6 0.2 3-0.1 3-0.6 3.6-0.6 1.6-1 1.7zM175.4 637.5l-1 0-2-0.6-2.4-0.3-1.7-0.6-1.3-1-1-1-1.6-2.6-0.5-1.4-0.3-2 0-1.6 0.4-1.6 0.5-1.4 0.9-1.5 1-1 1.6-0.8 2-0.4 2 0.2 1.4 0.7 2.6 1.7 2 0.5 1.4 0.8 0.9 0.8 0.6 1 0.2 1.6-0.4 1-0.5 0.4-2.1 1.6-0.1 1 0.4 0.3 3-0.6 1 0 1.1 0.3 0.1 0.4-0.6 0.6-1.8 0.4-2.8 0.1-0.4 0.2-0.4 0.7 0.4 1.6-0.3 1-0.9 1zM184 637l-0.8 0-0.2-0.3-0.3-0.7 0.2-1.6 0.5-0.3 0.6 0.1 0.5 0.8-0.1 1.2zM148.4 665.6l-0.4 0.3-0.6-0.2-0.5-1.7 0.1-1.6 0.4-1 0.6-0.2 0.5 0.2 0.5 0.8 0.1 0.8-0.1 1.7zM150.4 677.1l-0.3-1.1 0.3-3.6 0.6-1.7 0.4-0.7 0.2 1.4-0.2 2.7-0.4 2zM145 690.1l-1-0.2-2-0.8-0.6 0.1-1 0.8-0.4-0.1-0.6-0.7 0.2-2.2-0.7-2 0-0.6 0.2-0.4 0.9-0.6 0.3-0.4-0.5-2.6-0.1-1.4 0.3-1.9 0.4-1.5 0.7-1.2 0.9-0.9 1-0.5 1.4-0.5 1 0.1 1.2 0.8 0.8 1.6 0.3 2-0.3 3.4-0.4 2-1 1.8-1.5 1.2-0.2 0.6 1.4 3 0 0.4-0.3 0.5z"/>
<path fill="#00b8ff" d="M645.4 151l-3 0.2-2-0.3-0.8-0.5-0.4-0.4-0.4-1.6 0.5-2.4 1.4-3.6 2.2-3.4 2.5-3 3.6-3.6 5.1-4 14.9-9.8 19.7-13.6 9.7-6.1 9-5.1 9.6-4.7 9.4-4.1 12.4-4.6 11.6-3.6 3-0.6 2.6-0.2 1.4 0.2 1.2 0.8 0.4 1-0.2 1.4-0.6 1.6-1.3 2-3.4 4-7.6 7.4-7.4 7-7.7 6.6-7.9 6-8.5 5.8-8.4 5.3-9.6 5.4-9.4 4.9-9 4.4-9.9 4.2-9.1 3.4-7.6 2.3zM738.1 91.4l3.3-1.4 3.3-2 2.4-2 0.4-0.6 0.1-0.4-1.2 0-2 0.8-4.4 2.6-2.4 2-0.6 1 0.4 0.2zM659 222.5l-7.6 0.4-3-0.1-2.7-0.4-1.6-0.4-1.1-0.8-0.6-1.2 0-1 0.4-1 0.9-1.6 2.4-3 4.2-4 4.9-4 6.1-4.4 6.1-4.2 7-4.4 7.6-4.3 12.4-6.4 11.6-5.2 11.4-4.3 11-3.4 6-1.5 5.6-1.1 5-0.8 5-0.5 4 0 3 0.3 2.2 0.8 1.1 1 0.4 1-0.2 1.4-1.4 3-3.5 4.6-4.9 5-5.8 5-6.6 5-7.3 4.9-7.6 4.4-7.4 3.8-8 3.7-8.6 3.4-8.4 3-8.6 2.6-8 2-8 1.6zM687 283l-6 0.3-6 0-5.4-0.3-4.6-0.7-4-1.1-2.8-1.2-0.8-0.7-0.6-0.9-0.2-1.4 0.3-1 0.9-1.6 1.2-1.4 2-2 5.1-4 6.9-4.4 7-3.8 8-3.8 8-3.2 9-3.2 11-3.2 10.4-2.7 10.6-2.1 10-1.5 9-0.8 7 0.1 2.4 0.3 2 0.5 1.5 0.8 0.7 1 0.1 1-0.2 1-1.4 2.4-3 3.6-3.9 3.4-5.1 4-5.9 4-6.2 3.8-6.6 3.5-6.4 3.1-6.6 2.8-6.4 2.5-6.6 2.1-6 1.7-6 1.3-6.4 1.1zM368 469l-2.6 0-3-0.5-2-0.5-2.2-1-6.6-4.6-0.6-1 0-0.5 0.3-0.9 1-1 1.7-0.7 10-0.7 4.4 0.4 2 0.6 2.2 0.8 2.2 1.6 1.2 1.4 0.4 1.6-0.4 1.4-1.3 1.6-1.7 0.9-2 0.7zM372 517l-7-0.1-7.6-0.8-7.2-1.7-5.8-2-13.4-6-4.6-2.4-2-1.7-1.3-1.9-0.6-2 0.3-1.4 1-1.6 1.2-1 2-1 2.6-1 4.4-0.8 13-1.6 4-0.4 7 0.1 7.1 0.7 6.9 1.6 6.1 2 3.4 1.4 2.7 1.6 2.2 1.5 2.3 1.9 1.7 2 1 2 0.4 2-0.2 1.6-0.8 2-1.3 1.4-1.9 1.6-1.9 1-2.4 1-3.6 1-3.7 0.6zM373 541.5l-4.6 0.3-4.8-0.4-5.2-1-5-1.4-4.5-2-3-2-0.9-1-0.6-1-0.2-1 0.1-0.6 0.7-1 2-1 2.4-0.6 3.6-0.2 4 0.2 4 0.6 4.3 1 3.1 1 3.6 1.6 2.6 1.4 1.8 1.6 1 1.4 0.2 1-0.1 0.6-0.7 1-1.8 1zM233 550l-2 0.4-1.6-0.3-0.4-0.3-0.7-0.8-0.3-1.6 0.4-1.8 1-1.3 1.6-1.1 1-0.3 1-0.1 1.4 0.4 1 0.8 0.5 1 0.1 1-0.1 1-0.9 1.4-1 1zM221.4 576.1l-2 0.1-1-0.2-1-0.6-0.9-1-0.5-1-0.3-1-0.1-1.4 0.3-1.6 0.5-1.4 1.6-2.1 1-0.8 1.2-0.7 1.2-0.3 1 0 1.6 0.4 1.4 1.4 0.7 1.5 0.2 2-0.5 2-1.1 2-1.4 1.6zM249.4 580.2l-1 0.1-2-0.9-6.9-4.4-1.1-0.9-1-1.3-0.3-0.8 0.2-1 0.4-0.6 0.9-0.4 1.8-0.2 1.3 0.2 1.3 0.4 1.7 1 2.1 2 1.7 2.6 1.1 2.4 0.1 1zM228 577.6l-0.6-0.2 0.1-0.4 0.3-0.6 1.2-1 1-0.1 0.1 0.1-0.1 0.6-0.4 0.4-1.2 1zM181.4 613.1l-1 0.1-0.4-0.2-0.6-1-0.5-2 0-1.6 0.5-1.4 0.6-0.9 1-0.5 0.9 0.4 0.5 0.6 0.6 1.1 0.1 1.3 0 1.4-0.3 1-0.5 1zM178.4 620l-0.4 0.2-0.2-0.2-0.1-1.6 0.3-1.6 0.4-1.1 0.6-0.5 0.4 0.1 0.1 0.1 0.1 1.6-0.2 1-0.4 1.4zM187.4 631.6l-0.4 0.1-0.4-0.3-0.5-1-0.3-2.4 0-3 0.6-4 0.6-1.9 0.4-1 0.6-0.6 0.4-0.2 0.6 0.5 0.4 1.6 0.2 4.6-0.6 4.2-0.6 1.6zM176 637l-1.6 0.1-2-0.6-2-0.2-1.4-0.4-2.2-1.5-0.9-1-0.9-1.4-0.7-1.6-0.3-1.4-0.1-2 0.2-1.6 0.4-1.4 0.9-1.6 1-1.1 1-0.6 2-0.7 1 0 1.6 0.3 1.4 0.6 2.3 1.5 1.7 0.4 1.6 0.6 1 0.8 0.5 0.8 0.5 1.1-0.2 1.3-0.8 1.1-2.3 1.5-0.1 1 0.1 1-0.5 1 0 0.4 0.3 1 0 1-0.5 0.9zM182 632l-1.6 0.1-0.9-0.1 0.3-0.6 1.6-0.3 0.6 0 0.7 0.3zM183.4 636.5l-0.3-1.1 0.3-0.7 0.6 0.2 0.1 0.5-0.1 0.9zM148.4 665.1l-0.4 0.3-0.6-0.3-0.3-1.1 0.1-1.6 0.2-0.5 0.6-0.3 0.4 0.2 0.5 1.2 0 1zM150.4 676.5l-0.1-1.1 0.1-2.4 0.6-1.8 0.4-0.4 0 2.6-0.4 2.2zM145 689.7l-1-0.1-2-0.8-0.7 0.2-0.9 0.5-0.4-0.2-0.2-2.3-0.6-2 0.2-0.8 1.2-0.8 0.1-0.4-0.7-2.6-0.1-1.4 0.3-2 0.6-1.6 0.6-1 1-0.9 1.6-0.7 1-0.1 1 0.3 0.8 1 0.6 1.4 0.2 1.6-0.4 3.4-0.5 2-0.9 1.6-1.8 1.4 0 0.6 1.3 2.4 0.1 0.6-0.1 0.4z"/>
<path fill="#00d6ff" d="M645.4 150l-2.4-0.1-1.6-0.7-0.4-0.6-0.3-0.6-0.1-1.6 0.7-2.4 1.4-3 2-3 2.7-3 3.8-3.6 4.7-3.4 12.5-8.4 13.7-9.6 8.3-5.6 9-5.6 9-5 9-4.4 9.6-4.1 12.2-4.3 10.2-3 3-0.6 2 0 1.6 0.5 0.4 0.5 0.2 1-0.3 1.6-0.6 1.4-1.3 2-3.9 4.6-8 8-6.5 6-7.2 6-7.8 5.8-8 5.4-8.6 5.3-9.4 5.3-9 4.7-9.7 4.5-9.3 3.8-8.7 3.2-7.3 2zM737.3 92l3.1-1.3 4.7-2.7 3.3-2.6 0.8-1 0.1-0.4-0.9-0.1-2.4 0.9-3 1.6-2.6 1.5-2 1.5-1.6 1.6-0.4 0.4 0 0.6zM660.4 221.5l-7 0.4-3-0.1-2.3-0.4-1.7-0.5-1.2-0.9-0.4-1 0-1 0.4-1 0.9-1.6 2.4-3 3.7-3.4 4.9-4 5.4-4 6.7-4.6 6.8-4.1 7-4 11.4-5.9 11.6-5.2 11-4.2 11-3.4 11-2.5 5-0.8 4.4-0.4 3.6-0.1 3 0.3 2.3 0.9 1.1 1 0.3 1-0.2 1.4-1.4 3-3.1 4-4.9 5-5.9 5-6.2 4.8-7 4.6-7.6 4.3-7 3.6-8 3.6-8.4 3.4-8 2.8-8 2.5-8 2-7.6 1.5zM685.4 282.5l-6 0.2-5.4-0.1-5-0.5-4-0.8-3-0.9-2.5-1.4-0.5-0.8-0.4-0.8 0.1-1.4 0.4-1 1-1.6 3.5-3.4 5.4-4 6-3.8 7-3.7 7.4-3.5 8-3.1 8-2.8 10-3 10.6-2.6 10-2 9.4-1.5 8.6-0.8 6.4 0 2.6 0.3 1.8 0.5 1.2 0.4 1.2 1 0.3 1-0.1 1-1.2 2.6-2.5 3-3.7 3.4-5.1 4-5.9 4-6.6 4-6.4 3.4-6.6 3.1-6.4 2.7-6.6 2.4-6.4 2.1-6 1.6-6.6 1.3-6 0.9zM369 466.5l-1.6 0.2-2 0-1.8-0.3-1.6-0.5-1.8-0.9-1.1-1-1.2-1.6-0.2-0.4 0.2-0.6 0.9-0.4 1.7-0.6 3.5-0.5 3 0.1 2.9 1 1.1 0.6 0.7 0.8 0.3 0.6 0.2 1-0.2 0.6-0.8 0.8-0.8 0.6zM375.4 516.5l-7 0.3-7.4-0.4-8-1.4-6.7-2-3.8-1.6-10.8-5-4.6-2.4-1.8-1.6-1.6-2-0.4-1-0.1-1 0.3-1.4 0.9-1.4 1.5-1.2 1.9-1 2.2-0.6 4-0.8 12-1.7 4.4-0.4 6.6-0.1 7 0.7 7.3 1.5 6.1 1.9 3.6 1.5 2.7 1.6 2.3 1.4 1.8 1.6 1.6 1.7 1.2 1.7 0.7 2 0.1 1.6-0.4 1.7-1 1.7-1.6 1.5-1.4 1.1-2 1-3 1.1-3.4 0.9zM370.4 541l-4 0-4-0.4-3.5-0.6-5-1.6-3.4-1.4-3-2-1.2-1.6-0.3-1 0.1-0.4 0.6-1 2-1 2.6-0.6 2.7-0.1 3 0.2 3.4 0.5 4.4 1 3.1 1 2.4 1 2.7 1.4 1.8 1.6 0.9 1.4 0 1-0.2 0.6-1.1 0.9-1.4 0.6zM232 550l-1.8 0-1.2-0.8-0.6-1.2 0.1-1.6 0.7-1.4 1.2-1.1 1.6-0.7 1.4 0 1 0.4 0.9 0.8 0.4 1-0.1 1-0.3 1-0.9 1.2-1 0.8zM222 575.5l-1 0.3-1 0.1-1-0.1-1-0.4-1-0.9-0.6-0.8-0.4-1.3-0.1-1 0.2-1.4 0.3-1.3 1.5-2.3 1.9-1.4 1.2-0.5 1-0.1 1.4 0.3 1.6 1.1 0.8 1.6 0.2 1.6-0.3 2-0.7 1.7-1.5 1.7zM248.4 579.6l-1-0.2-2-1-3.3-2-2.7-2-1-1-0.6-1-0.1-1 0.3-0.4 1-0.7 2-0.2 2 0.6 2 1.3 1.9 2 1.5 2.4 0.7 2-0.1 0.8zM181 613l-0.6 0-0.4-0.4-0.5-0.6-0.5-1.6-0.1-1 0.1-1 0.4-1.4 0.6-0.7 1-0.5 1 0.4 0.4 0.7 0.6 1.4 0 1.1 0 1.2-0.6 1.4-0.4 0.6zM187.4 631.2l-0.4 0.1-0.5-0.3-0.3-1-0.3-2 0.1-3.4 0.4-3.2 0.6-1.8 0.4-1.1 0.6-0.6 0.4-0.2 0.6 0.6 0.4 2 0 4.1-0.4 3.3-0.6 1.8-0.4 1.1zM175 636.5l-4.6-0.5-2-0.7-2-1.6-1.4-2.3-0.5-1.4-0.3-1.6 0-1.4 0.2-1.9 0.6-1.3 0.8-1.4 1-1 1.2-0.6 2-0.5 2 0.3 3.3 1.8 2.7 0.7 1 0.5 1 0.8 0.6 1 0.2 1.6-0.5 1-0.9 0.7-1.5 0.7-0.5 0.6-0.7 3 0.1 2-0.2 0.4-0.6 0.8zM148 664.6l-0.5-0.6-0.1-0.6 0.1-0.4 0.5-0.7 0.4 0.5 0.1 0.6-0.1 0.7zM151 674.7l-0.4-0.3 0.4-2.3 0.1 0.9zM145 689l-0.6 0.3-0.4 0-2-0.8-1 0-0.6-0.2-0.8-3.3 0.4-0.6 1-0.4 0.2-0.6-0.8-2-0.2-2 0.2-2 0.4-1.4 0.6-1.1 1-0.9 1.6-1 1-0.1 1 0.3 0.7 0.8 0.6 1.4 0.1 1.6-0.4 3.7-0.6 1.7-1 1.6-1.8 1-0.1 0.4 1.3 2.6z"/>
<path fill="#0cf5ea" d="M649.4 148.5l-3 0.2-2-0.2-1-0.4-0.4-0.5-0.5-1.2 0.1-2 1.1-3 1.8-3 2-2.4 3.6-3.6 4.5-3.4 12.8-8.8 18.9-13.2 9.7-6.2 8.4-4.8 8.8-4.6 8.8-3.9 10.4-4 11-3.4 3-0.7 3-0.5 1.6 0.1 1.1 0.4 0.1 0.6-0.2 0.4-1 1-5.6 2.7-4.4 2.6-4.5 3.3-1.1 1-0.7 1 0.3 0.4 0.4 0 1.6-0.4 2-0.8 4.4-2.5 6.6-4.4 1-0.5 0.4-0.1 0.3 0.3 0 0.4-1.2 2-2.5 3-3.8 4-7.2 7-6.9 6-7.7 6-8 5.7-8 5-9 5.3-9 4.8-9 4.3-9 4-9 3.4-7 2.2zM662 220.5l-6.6 0.4-2.4-0.1-2.6-0.4-1.5-0.4-1.4-1-0.4-1 0.1-1 0.9-2 2.4-3 3.6-3.6 4.9-4 5.4-4 6-4 6.6-4 7-4 11-5.6 11.4-5.2 10.6-4 10.4-3.2 10.6-2.4 4.4-0.7 4.6-0.4 3.4-0.1 3 0.4 2 0.8 1 1 0.3 1-0.1 1.4-0.6 1.6-0.9 1.4-3.2 4-4.4 4.6-5.3 4.4-6.2 4.7-7 4.6-7 4.1-7 3.6-7.6 3.3-8 3.2-8 2.9-8 2.4-7.4 1.9-7.6 1.5zM684 282l-5 0.1-5-0.2-4.6-0.6-3.4-0.7-3-1.1-1.5-1.1-0.5-0.6-0.4-0.8 0.1-1.6 0.4-1 1-1.4 1.3-1.6 2.2-2 4.7-3.4 6.1-3.8 6.6-3.5 7.4-3.4 7.6-3 8-2.7 10-3 10-2.5 9.4-1.9 9-1.4 8-0.7 6.6 0.1 2 0.2 2 0.6 1 0.4 1.1 1 0.2 1-0.1 1-1.3 2.6-2.5 3-3.9 3.4-4.5 3.6-6 4-6 3.5-7 3.7-6 2.8-6.6 2.6-6.4 2.4-6.6 2-6 1.5-6.4 1.2-6 0.8zM373.4 516.5l-7 0.1-7.3-0.6-7.4-1.6-6.2-2-3.5-1.4-10.6-5-3.5-2-1.9-1.6-1.6-1.9-0.5-1.5 0.2-1.6 0.8-1.4 1.1-1 1.8-1 2.6-1 4.6-0.9 11.4-1.6 4-0.4 6.6-0.1 7 0.7 6.5 1.3 6.4 2 3.5 1.4 2.9 1.6 2.2 1.4 2.4 2 1.5 1.9 1 1.7 0.5 2 0 1.4-0.8 2-1.1 1.6-1.8 1.4-1.7 1-2.4 1-3.1 1-3 0.6zM369.4 540l-3 0.2-3.4-0.3-4.6-0.9-3.4-1-3.3-1.6-2.2-1.4-1.1-1.6 0-1 0.7-1 1.3-0.6 2-0.4 2.6-0.2 3.4 0.2 3 0.5 5.4 1.5 2.3 1 1.8 1 1.8 1.6 0.7 1 0 1-0.7 1-1.3 0.6zM232.4 549.5l-1.4 0.1-1-0.3-0.9-0.9-0.3-1.4 0.6-1.6 0.9-1 1.1-0.6 1.6-0.2 1 0.2 0.7 0.6 0.3 0.6 0.2 1-0.1 1-0.7 1.1-0.9 0.9zM220.4 575.5l-1 0-1-0.3-1-0.7-0.4-0.5-0.5-1-0.2-1 0.1-2.4 1-2.2 1.6-1.5 2-1 1-0.1 1 0.1 1.4 0.9 0.9 1.2 0.4 1.4-0.2 2-0.8 2-1.1 1.6-1.6 1.1zM248 578.7l-1 0-1.7-0.7-4.7-3-1.1-1-0.8-1-0.3-1 0.1-0.6 0.4-0.4 0.5-0.3 1.6-0.2 1.6 0.5 1.8 1 1.7 1.4 1.4 2 0.8 2 0 0.6zM181.4 612.7l-1 0-0.4-0.4-0.6-0.9-0.3-1.4 0.1-1.6 0.2-1 0.7-1 0.9-0.3 0.9 0.3 0.4 0.6 0.6 2 0 1-0.4 1.4-0.5 0.9zM187.4 630.8l-0.4 0.1-0.6-0.9-0.4-2.6 0.1-2.4 0.3-3.1 0.6-1.9 0.4-1.1 0.6-0.6 0.4-0.1 0.6 0.6 0.3 1.6 0.1 3.6-0.4 3.1-0.6 1.9-0.4 1.2zM175 635.7l-0.6 0.1-3.4-0.1-2-0.5-2-1.4-1-1.3-0.7-1.1-0.5-1.4-0.3-1.6 0-1.4 0.2-1.6 0.6-1.4 0.7-1.2 1-1 1-0.6 2-0.5 2 0.3 2.8 1.4 3.6 1.1 1.5 0.9 0.5 0.9 0.3 1.1-0.3 1.1-0.8 0.9-2.1 1-0.4 0.6-0.9 3-0.2 1.6-0.6 0.7zM144.4 684.1l-1.4 0.2-0.6 0-0.4-0.5-1.2-2.4-0.4-2.4 0.4-2 0.6-1.6 0.9-1 1.1-0.9 1.6-0.4 1 0.3 0.8 1 0.4 1.6 0.1 1.4-0.3 2.2-0.7 2.4-0.9 1.4zM144 688.8l-3-0.9-0.6-0.9-0.3-1.6 0.2-0.4 1.1-0.4 0.6 0 0.4 0.3 1.5 2.1 0.5 1 0 0.4z"/>
<path fill="#25ffd2" d="M649 147.5l-2-0.1-1.6-0.5-0.8-0.9-0.3-1.6 0.4-2 1.1-2.4 1.7-2.6 2.2-2.4 3.2-3 4.5-3.6 31.5-22 8.5-5.3 8-4.7 8.6-4.3 8-3.7 9-3.4 9.4-3 6.6-1.4 2 0 0.6 0.4-0.1 0.4-1.2 1-6.9 4.4-3.4 2.5-2.3 2.1-0.6 1 0.3 0.4 0.6 0 2-0.6 3.4-1.6 7-3.6 0.6-0.2 0.3 0.2-0.3 1-0.8 1-4.4 5-6.6 6.4-6.9 6-7.7 6-8.6 6-8.6 5.4-9 5.2-9 4.7-9 4.2-9 3.8-8.4 3-7 2zM664 219.5l-6.6 0.4-4.6-0.5-1.6-0.4-1.2-1-0.5-1 0.1-1 0.9-2 2.4-3 3.1-3 4.2-3.6 5.4-4 6-4 6.4-3.9 6.4-3.7 11-5.7 11-4.9 10.6-4 10-3.1 5.4-1.3 5-1 4.6-0.7 4-0.3 3.4 0.1 2.6 0.4 1.6 0.7 0.9 1 0.3 1-0.1 1-0.5 1.4-0.8 1.6-2.6 3.4-4.4 4.6-5.2 4.4-6.1 4.6-6.1 4-7 4.1-7 3.6-7 3.2-8 3.2-7.6 2.7-7.4 2.3-7.6 2-7 1.4zM689.4 281l-5.4 0.4-5.6 0-5-0.3-4-0.7-3.4-0.9-2-1.1-0.6-0.4-0.8-1-0.1-1.6 0.3-1 0.8-1.4 2.8-3 4.5-3.6 5.5-3.4 6.5-3.6 7.1-3.2 7.4-3.1 8-2.7 10.6-3.1 9.4-2.4 9.6-1.9 8.4-1.3 7.6-0.7 6 0.1 2.4 0.3 1.7 0.6 0.9 0.4 0.9 1 0.3 1-0.2 1-1 2-2.5 3-3.2 3-4.5 3.6-5.2 3.4-5.6 3.5-5.6 2.9-5.4 2.7-6 2.6-6.3 2.3-6.3 2.1-5.4 1.6-5.6 1.2-5.4 1zM375.4 516l-7 0.4-7.8-0.4-3.6-0.6-4.5-1-6.4-2-4.6-2-9.3-4.4-4.2-2.5-1.8-1.5-1.1-1.6-0.4-1.4 0.1-1.6 1-1.4 1.2-1 2-1 2-0.7 3.4-0.8 10.2-1.5 5.8-0.7 6.6-0.1 7 0.7 6 1.1 6.3 2 3.6 1.4 2.8 1.6 2.4 1.4 1.8 1.6 1.5 1.4 1 1.6 0.9 2 0.2 1.4-0.2 1.6-0.9 1.7-1 1.3-1.8 1.4-1.8 1-2.8 1.2-3.3 0.8zM368 538.5l-2.6 0.3-2.4-0.2-2.6-0.4-3-0.8-2.5-1-1.7-1-1-1-0.3-0.4 0.1-1 0.5-0.6 1.1-0.4 2.8-0.4 3.9 0.4 4.1 1 3.4 1.4 1.8 1.6 0.4 1-0.2 0.4-0.5 0.6zM232 549l-1 0-1-0.4-0.6-0.9 0-1.1 0.6-1.2 1-0.8 1-0.4 1 0 0.8 0.2 0.5 0.6 0.3 0.4 0 1-0.7 1.6-0.9 0.7zM221 575l-1 0.1-1-0.2-1.5-0.9-0.7-1.6-0.2-2 0.4-1.2 0.4-1.1 1.4-1.7 1.6-1 1-0.2 1 0 1.6 0.7 0.8 1.1 0.5 1.4 0 1.6-0.4 1.4-0.9 1.6-1.6 1.4zM247 577.7l-1-0.1-1.6-0.6-3.1-2-1.1-1-0.7-1-0.2-0.6 0.1-0.6 0.6-0.5 1.4-0.1 1.2 0.2 1.8 1.1 1.5 1.5 1 1.4 0.5 1.6-0.1 0.4zM181 612.5l-0.6-0.1-0.5-0.4-0.5-1-0.2-1.6 0.4-2 0.8-0.9 0.6-0.2 0.4 0.1 0.6 0.4 0.4 0.6 0.4 2-0.5 2-0.3 0.6-0.6 0.4zM187.4 630.3l-0.4 0.1-0.6-1-0.3-2.4 0.1-2.6 0.8-3.8 0.4-1.2 0.6-0.7 0.4 0 0.6 0.8 0.1 0.9 0.1 4-0.2 2-0.6 2.1-0.4 1.2zM174 635l-3 0.3-2-0.5-2-1.5-1.6-2.4-0.6-2.5 0-1.4 0.2-1.6 0.4-1.1 0.9-1.3 1.1-1 1-0.6 1.6-0.3 2 0.3 2 1 4.4 1.2 1.2 0.8 0.7 1 0.2 1.6-0.5 0.9-1 0.7-2 0.8-1.7 4.6-0.4 0.4zM144.4 683.6l-0.4 0.2-1-0.1-1-0.7-1-2-0.2-2 0.2-1.6 0.9-2 1.5-1.6 0.7-0.4 0.9-0.1 1 0.3 0.6 0.8 0.5 1.6 0.1 1.4-0.3 1.6-0.9 2.9-0.7 1.1zM143 687.6l-1.2-0.2-0.7-0.4-0.1-1 0.4-0.5 1 0.4 0.5 0.5 0.3 1z"/>
<path fill="#3effb9" d="M653 146l-2.6 0.2-2.1-0.2-1.3-0.8-0.6-1.2 0.1-2 0.8-2 1.2-2 2-2.6 3.1-3 4.3-3.4 28.1-20 9-5.9 8-4.7 8.2-4.4 8.2-3.9 9-3.6 8-2.6 4-1.1 3.6-0.6 1.4-0.1 0.6 0 0.4 0.3-0.2 0.6-1.1 1-6.1 4.3-2.6 2.1-1.5 1.6-0.3 1 0.8 0.2 2-0.5 7-3.3 1.6-0.5 0.5 0.1 0 0.4-0.7 1-2 2.6-5.8 6-6.7 6-7.5 6-7.8 5.6-7.5 4.8-8.5 5.1-9 4.8-8.6 4.2-8.9 3.9-7.8 3-7.3 2.3zM665.4 218.5l-6 0.3-4.4-0.4-1.6-0.5-1.2-0.9-0.4-1 0.1-1 1-2 2.4-3 3.1-3 4.3-3.6 4.8-3.4 6-4 11.9-7.1 10.6-5.4 10.4-4.7 10-3.8 10-3.1 10-2.2 4.6-0.7 3.4-0.2 3 0 2.6 0.4 1.7 0.8 0.9 1 0.3 1-0.1 1-0.5 1.4-0.9 1.6-2.7 3.4-3.9 4-5.3 4.6-5.4 4-6.1 4-6.6 3.8-6.4 3.3-7 3.2-7.6 3.1-7.4 2.6-7.6 2.3-7 1.9-6.4 1.3zM689 280.5l-5.6 0.3-5-0.1-4.4-0.3-4-0.8-3-1-1.8-1.2-0.8-1.4 0.1-1.6 0.4-1 1-1.4 3.1-3 4.7-3.6 5.7-3.4 6-3.1 7-3.2 7.6-2.9 7.4-2.5 9.6-2.7 9.4-2.3 9-1.8 8-1.1 6.6-0.5 5.4 0.2 2.3 0.3 1.5 0.6 0.8 0.4 0.8 1 0.1 1.6-0.3 1-0.9 1.4-2.1 2.6-3.2 3-3.8 3-5.1 3.4-5.9 3.6-5.6 3-5.6 2.6-6 2.5-6 2.2-6 2-5.4 1.5-5.6 1.2-5.4 0.9zM374 516l-6.6 0.2-7-0.5-7-1.3-6.6-2-6.8-3-8-4-3.3-2-1.7-1.4-1.1-1.6-0.5-1.4 0.3-1.6 0.7-1.2 1.6-1.2 2-0.9 2-0.6 13.4-2.4 6-0.7 6.6 0.1 6.4 0.6 6.4 1.3 6.2 2 3.4 1.6 2.7 1.4 2.1 1.6 1.8 1.4 1.4 1.8 1 1.7 0.5 1.5 0.1 1.6-0.6 1.8-1 1.5-1.4 1.4-2 1.3-2.1 1-2.9 0.9zM232 548.1l-1-0.2-0.5-0.5 0-1 0.5-0.7 0.4-0.4 1-0.2 0.6 0.1 0.6 0.8-0.1 1-0.5 0.6zM221 574.5l-1.6 0-1-0.4-0.4-0.4-0.8-1.3-0.1-2 0.6-2 1.3-1.6 1.4-0.9 1-0.2 1 0.1 1 0.4 1 1.1 0.4 1.1 0 1.6-0.4 1.4-0.9 1.6-1.2 1zM245.4 576.2l-1.1-0.2-2.3-1.6-0.9-1-0.2-0.4 0.2-0.6 0.9-0.1 0.9 0.1 1.5 1 0.9 1 0.5 1 0 0.6zM181.4 612.1l-0.4 0.1-0.7-0.2-0.4-0.6-0.5-1.4 0-1.3 0.5-1.3 0.5-0.6 0.6-0.2 0.4 0.1 0.6 0.5 0.4 1 0.2 0.8-0.2 1.6-0.4 1zM187.4 629.8l-0.4-0.1-0.6-1.1-0.1-2.2 0.1-2.4 0.6-2.8 0.4-1.3 0.6-0.6 0.4 0 0.5 1.1 0.2 1-0.1 4-0.6 2.5-0.4 1.2zM173.4 634.5l-1.4 0.4-1 0-2-0.6-1-0.6-1-1-1.4-2.3-0.5-2.4 0.3-2.6 1-2 1-1 1-0.5 1-0.3 1.6-0.1 1.3 0.5 1.1 0.6 1.6 0.1 1.4 0.6 1.6 0.3 1.4 0.8 0.7 1 0.2 1-0.3 1.2-1 0.8-2 0.7-0.5 0.3-0.6 2-0.7 1.6-0.8 0.9zM144.4 683l-1 0.2-0.4-0.2-1-0.8-0.6-1.2-0.2-2 0.4-2 1.1-2 1.3-1.3 1-0.2 1 0.3 0.5 0.6 0.5 1.3 0 1.7-0.3 1.6-0.7 1.9-0.6 1.1z"/>
<path fill="#56ffa0" d="M656 144.5l-3 0.3-2-0.1-1.6-0.5-0.7-0.8-0.3-1.4 0.4-1.6 0.9-2 1.8-2.4 2.9-3 4.2-3.6 26.8-19.4 8.3-5.6 8.3-4.9 8-4.4 8-3.8 8.4-3.5 8-2.6 4-1.1 3-0.5 1.6-0.1 0.4 0.1 0.3 0.4-0.8 1-6.9 5.4-1.4 1.6-0.6 1 0.1 0.4 0.3 0.2 1.6-0.2 6.2-2.4 1.8-0.6 0.1 0.6-0.2 0.4-1.6 2-5.2 5.6-6 5.4-6.7 5.6-7.6 5.4-7.4 4.9-8 4.8-8.4 4.7-8.6 4.2-8.4 3.8-7.6 3-6.4 2.2zM667 217.5l-6 0.3-4-0.5-1.6-0.6-0.9-0.7-0.3-1 0.1-1 0.9-2 2-2.6 3.1-3 4.3-3.4 4.8-3.6 5.3-3.4 11.9-7 10.4-5.3 10-4.5 9.4-3.6 9.6-2.9 9.4-2.1 4-0.6 3.6-0.3 3 0.1 2.4 0.5 1.5 0.7 0.8 1 0.2 1-0.1 1-0.5 1.4-0.9 1.6-2.7 3.4-3.6 3.6-4.7 4-5.3 4-6.2 4-6.5 3.7-6 3.1-7 3.1-7 2.9-7 2.5-7 2.1-7 1.9-6.4 1.3zM687.4 280l-4.4 0.1-4.6-0.1-4-0.4-3.2-0.6-2.7-1-1.4-1-0.4-0.6-0.4-1 0.1-1.4 0.4-1 1.1-1.6 3.1-3 4.1-3 5.8-3.4 6.1-3.2 7-3.1 6.4-2.5 7.6-2.4 9-2.6 9-2.2 8.4-1.6 8-1.1 6.6-0.5 5 0.2 2 0.4 1.3 0.6 0.7 0.4 0.7 1 0.1 1-0.2 1-1.2 2-2.1 2.6-3.4 3-3.9 3-5.3 3.4-5.2 3-5.8 3-5.5 2.6-5.8 2.3-6 2.2-5.4 1.7-5.6 1.4-5.4 1.1-5.6 0.8zM370.4 516l-6.4-0.2-7-0.8-6.5-1.6-5.6-2-4.3-2-7.7-4-3.9-2.4-1.6-1.6-0.9-1.4-0.2-1.6 0.3-1 1.1-1.4 1.6-1 2.5-1 2.6-0.7 14-2.4 5-0.3 5.6 0.1 4.4 0.5 4.3 0.8 4.1 1 4.5 1.4 3.5 1.6 2.7 1.4 2.9 2 2 2 1.6 2.6 0.4 1.4 0.1 1-0.2 1.6-0.4 1-0.7 1-1.2 1.2-2.7 1.8-3.9 1.5-4.5 0.9zM221 574l-1.6-0.1-1-0.6-0.7-1.3-0.1-1.6 0.4-1.4 1.1-1.6 1.3-0.9 1.6-0.2 1 0.3 0.8 0.8 0.5 1 0 1.6-0.3 1.3-0.8 1.1-1.1 1zM181.4 611.7l-0.4 0.1-0.6-0.2-0.4-0.6-0.3-1 0-1 0.3-1.2 0.4-0.6 0.6-0.2 0.4 0.1 0.6 0.6 0.3 1.3-0.1 1.4-0.2 0.8zM187.4 629.1l-0.4-0.2-0.2-0.5-0.3-1.4 0-1.6 0.5-3.4 0.4-1.4 0.6-0.6 0.4 0.2 0.3 0.8 0.2 2.4-0.5 3.6-0.4 1.5zM173 634.1l-2 0.3-2-0.6-1-0.7-1-1-1.1-2.1-0.4-2.6 0.5-2.2 1-1.8 1-0.7 1-0.5 1-0.2 1 0 1 0.3 1.4 0.7 1-0.1 1 0.1 1 0.5 2 0.5 1 0.7 0.6 0.8 0.1 0.9-0.3 1-0.4 0.6-0.9 0.4-2.1 0.6-0.3 0.4-0.6 2-0.6 1-0.9 1.1zM144.4 682l-1 0.3-1-0.6-0.5-1.3-0.2-1.4 0.4-2 0.6-1.6 1.3-1.4 1-0.3 1 0.4 0.4 0.7 0.4 1.2 0.1 1-0.6 2.4-0.9 1.5z"/>
<path fill="#6fff88" d="M654.4 143.5l-1.4-0.2-1.2-0.3-0.8-0.9-0.3-1.1 0.3-1.6 0.7-1.4 1.3-2 1.8-2 3.2-3 4.5-3.6 16-12 9.2-6.4 7.7-5.1 7.6-4.5 7.4-4 7-3.3 7.6-3.1 6.4-2.3 6.6-1.6 2-0.2 1.1 0.1 0.1 0.4-0.3 0.6-5.7 5-1.4 1.4-0.4 1 0.5 0.6 1.1-0.1 6-2 1 0-0.4 1.1-1.1 1.4-5.3 5.6-6.1 5.4-6.9 5.6-7.7 5.4-7.8 5-8.7 5.1-8.6 4.5-8.4 4.1-8 3.4-8 2.8-6 1.6zM668.4 216.5l-5.4 0.3-2.6-0.2-1.4-0.3-1.6-0.7-0.6-0.6-0.3-1 0.1-1 1-2 2-2.6 3.2-3 3.7-3 4.1-3 5.2-3.4 5.8-3.6 6.2-3.4 10.2-5.2 9.4-4.2 9.6-3.6 9-2.7 9-1.9 3.4-0.5 3.6-0.2 2.4 0.1 2 0.4 1.6 0.8 0.8 1 0.2 1-0.1 1-1.2 2.4-2.7 3.6-3.5 3.4-4.1 3.6-5.4 4-6 3.9-6 3.4-6 3.1-6.6 2.9-7 2.9-7 2.5-7 2.1-6.4 1.7-6 1.2zM685 279.5l-4-0.1-3.6-0.2-3-0.5-2.8-0.7-2-1-1-1-0.5-1 0.2-1.6 0.4-1 1.1-1.4 2.6-2.6 4-3 4.9-3 5.7-3 6.4-2.8 6.6-2.6 7-2.3 9-2.6 8.4-2.1 8-1.6 7.6-1.1 6.4-0.6 5 0.2 3 0.6 1 0.5 1 1 0.3 1-0.2 1-1 2-2.1 2.4-3.4 3-4 3-5.4 3.6-5.3 3-6 3-5.6 2.4-5.7 2.3-6 2-5.6 1.6-5.4 1.3-5.6 1-5.4 0.6zM374 515.5l-6.6 0.3-7-0.5-7.1-1.3-6.5-2-6.5-3-6.6-3.6-3.3-2-1.7-1.4-1.1-1.6-0.4-1.4 0.1-1 0.5-1 1.2-1.1 1.6-0.9 2.4-0.9 10.4-2.1 7.6-1 6.4-0.1 6.1 0.5 5.9 1.2 6.2 1.8 3.5 1.6 2.9 1.4 2.2 1.6 1.8 1.4 1.3 1.6 1.1 1.9 0.5 1.5 0.1 1.6-0.5 1.4-0.9 1.6-1.6 1.4-1.5 1-2.1 1-3 1zM221.4 573l-1 0.2-1-0.3-0.8-0.9-0.3-1 0.1-1.2 0.7-1.4 1.2-1 1.1-0.3 1 0.3 0.6 0.3 0.4 0.7 0.2 1-0.2 1.2-0.4 1-0.8 0.8zM181.4 611.1l-0.4 0.2-0.6-0.3-0.4-1 0.1-1.6 0.3-0.6 0.6-0.3 0.6 0.5 0.4 1 0 1.3zM187.4 628.1l-0.5-0.7-0.1-3 0.2-1.1 0.4-1.7 0.6-0.6 0.5 0.4 0.1 3-0.2 1.3-0.4 1.8zM173 633.5l-1 0.3-1 0.1-1.7-0.5-0.9-0.4-1-1-1-1.7-0.5-2.3 0.2-1.6 0.3-1 1-1.7 1.6-1 1-0.2 1 0 2.4 0.9 1.6-0.4 1.4 0.7 2 0.5 1 0.8 0.3 0.4 0.2 1-0.5 1.2-1 0.6-2 0.4-0.6 0.4-0.6 2-0.6 1-0.6 0.8zM145 680.6l-1 0.3-0.9-0.5-0.5-1-0.2-1.4 0.2-1.6 0.7-1.4 0.7-0.7 1-0.4 1 0.5 0.3 0.6 0.3 1 0.1 1-0.4 2-0.3 0.6z"/>
<path fill="#88ff6f" d="M658 142l-1.6 0-1.4-0.2-1-0.4-0.8-1 0-1.4 0.6-1.6 0.9-1.4 1.7-2 3.6-3.6 5.6-4.4 12.4-9.6 9-6.4 7.6-5 7.4-4.5 7.4-4 7-3.4 7.6-3.2 7-2.3 6-1.4 1.4-0.1 0.7 0.3-0.5 1-4.7 4.6-0.8 1-0.3 1 0.6 0.3 1 0 5-1.3 0.6 0.4-1.4 2-4.7 5-5.6 5-6.2 5-6.9 5-6.9 4.6-8.5 5-8.4 4.5-8 3.9-8 3.4-7 2.6-6 1.8zM670 215.5l-5.6 0.2-2-0.2-1.4-0.3-1-0.5-0.9-0.7-0.3-1 0.1-1 1-2 2.1-2.6 2.6-2.4 3.7-3 4.2-3 5.3-3.6 10.6-6.2 9.6-4.8 9.4-4.3 9-3.3 8.6-2.6 8.4-1.8 3.6-0.5 3.4-0.2 2.6 0.1 2 0.5 1.2 0.7 0.8 0.9 0.1 1.1-0.1 1-1.3 2.4-2.3 3-3.5 3.6-4.2 3.4-4.7 3.6-5.6 3.5-6 3.5-5.8 3-6.2 2.7-7 2.9-6.4 2.3-6.6 2-6 1.6-6 1.2zM691.4 278.5l-4.4 0.3-4.6 0-4-0.3-3.1-0.5-2.9-1-1.4-1-0.9-1-0.1-1.6 0.9-2 2.3-2.4 3.8-3 4.7-3 5.7-3 6-2.8 6.6-2.6 7-2.4 8.4-2.4 8.6-2.1 8-1.6 7-1 6-0.5 4.4 0.2 3 0.7 1 0.5 0.9 1 0.2 1.4-0.9 2-1.6 2-2.7 2.6-3.1 2.4-4.4 3-5 3-4.8 2.7-10 4.5-5.6 2.1-5.4 1.8-5 1.4-5 1.1-5 0.9zM370.4 515.5l-6.4-0.1-7-0.9-6.4-1.5-5.5-2-3.2-1.6-5.6-3-3.5-2-2.1-1.4-1.6-1.6-0.6-1-0.4-1.4 0.2-1 1.1-1.6 1.6-0.9 2.4-1 2.6-0.7 6.4-1.4 6-0.9 5-0.4 4.6 0.1 4 0.3 5 0.8 4.4 1.1 3.4 1 3.7 1.6 2.8 1.4 2.3 1.6 2.3 2 1.8 2.4 0.6 1.6 0.1 1-0.1 1.4-0.3 1-1.6 2.1-2.7 1.9-3.7 1.6-4.4 1zM172.4 633.1l-1.4 0.2-1.5-0.3-1.1-0.7-1.1-1.3-0.6-1.6-0.3-2 0.3-1.4 0.7-1.4 1.4-1.2 1.6-0.3 1 0.1 1.6 0.7 1-0.5 1-0.3 1.4 0.8 2 0.6 1 1 0.2 0.9-0.2 0.7-1 0.9-3 0.4-1.1 3-0.9 1.1zM145 680l-0.6 0.1-0.4-0.2-0.6-0.4-0.4-1.1-0.2-1 0.1-1 0.5-1.2 0.9-0.8 0.7-0.1 0.4 0.1 0.6 0.6 0.4 0.9 0.1 1.1-0.1 1-0.4 1.1z"/>
<path fill="#a0ff56" d="M661 140.5l-2 0.1-1.4-0.2-1.2-0.4-0.5-0.6-0.2-1 0.4-1.4 0.8-1.6 1.1-1.4 3.4-3.6 5.9-5 10.2-8 8.2-6 7.5-5 7.2-4.5 7-3.9 7-3.4 7-3.1 6.6-2.3 6-1.6 2-0.2 1 0.1 0.1 0.5-0.3 0.4-3.7 4-0.9 1.6 0 0.4 0.8 0.4 4.4-0.7 0.6 0.2-0.2 0.7-0.6 1-3.7 4-5.4 5-6.2 5-6.1 4.4-6.8 4.6-7.6 4.5-8 4.4-7.4 3.7-7.5 3.4-6.5 2.5-6 1.9zM671.4 214.5l-5.4 0.1-1.7-0.2-1.7-0.4-0.8-0.6-0.6-1-0.1-1 0.3-1 1.2-2 1.8-2 2.7-2.4 3.1-2.6 8.7-6 9.5-5.5 9-4.7 9-4.1 8.6-3.2 8-2.5 8.4-2 6.6-0.7 2.4 0 2 0.3 1.6 0.6 0.8 0.8 0.4 1.6-0.2 1-0.6 1.4-2.2 3-2.9 3-4 3.6-4.7 3.4-5.3 3.6-5.9 3.4-5.4 2.8-6 2.7-6.6 2.7-6.4 2.4-6.6 2-6 1.6-6 1.2zM690 278l-4.6 0.1-4-0.1-3.4-0.4-2.5-0.6-2.2-1-1-1-0.4-1 0.1-1.6 1.2-2 2.5-2.4 4.1-3 4.6-2.8 5.4-2.8 5.6-2.5 6.6-2.4 6.4-2.1 8-2.3 8-1.9 7.6-1.5 6.4-0.8 5.6-0.4 4 0.3 2.6 0.6 0.8 0.6 0.8 1 0 1.4-0.9 2-1.7 2-2.8 2.6-3.2 2.4-4.6 3-5 3-5 2.5-10 4.3-10 3.3-5 1.3-4.6 1-5 0.7zM373.4 515l-6.4 0.2-7-0.5-6.6-1.3-6.3-2-6.4-3-5.3-3-3.1-2-1.8-1.4-1-1.6-0.3-1.4 0.2-1 0.7-1 1.4-1 3.8-1.6 8.7-2 7.6-1 5.8 0 6.1 0.6 5.9 1.1 6 1.9 5.3 2.4 2.3 1.6 1.8 1.4 1.4 1.6 1 1.4 0.5 1.6 0.2 1.4-0.4 1.6-0.8 1.4-1.3 1.4-1.6 1.2-2.1 1-2.7 0.9zM172 632.5l-1.6 0-1-0.3-1-0.8-0.6-1-0.6-1.4-0.1-1.6 0.3-1.4 0.6-1 1-0.8 1.4-0.4 1 0.1 1.6 0.7 1-1 1-0.3 0.6 0.1 0.8 0.7 1.3 0.3 0.9 0.6 0.6 1 0.1 0.4-0.3 0.8-0.6 0.4-1 0.3-2-0.1-0.6 0.2-0.9 3-0.9 1zM145 679.5l-0.6 0-0.7-0.5-0.3-0.6-0.2-1 0.1-1 0.4-1 0.7-0.7 0.6-0.1 0.4 0.2 0.6 0.5 0.3 1.7-0.3 1.4-0.6 0.7z"/>
<path fill="#b9ff3e" d="M663.4 139l-2 0.1-1.4-0.1-1-0.5-0.5-0.5-0.2-1 0.3-1 0.8-1.6 1.1-1.4 3.9-4 5.8-5 8.2-6.6 8.2-6 7.4-4.9 7-4.3 6.7-3.8 6.7-3.3 7.5-3.1 6.1-2.1 5.4-1.2 1-0.1 0.6 0.1 0.3 0.3-0.5 1-2.5 3-0.8 1.4 0.2 0.6 0.7 0.3 3-0.3 0.6 0.2 0.2 0.2-0.2 0.6-0.7 1-3.7 4-4.9 4.4-5.6 4.6-6.1 4.4-6.1 4-7.5 4.5-7.2 4.1-7.2 3.6-7.6 3.3-6.4 2.5-5 1.6zM673 213.5l-5 0.1-1.6-0.2-1.5-0.4-0.9-0.7-0.6-0.9 0-1 0.3-1 1.3-2 1.8-2 5.3-4.4 8-5.6 9.4-5.4 8.8-4.6 8.7-3.9 8-3 8-2.5 7.4-1.7 6-0.6 2 0 2 0.3 1.6 0.5 1 0.9 0.3 1.6-0.2 1-0.7 1.4-1.9 2.6-2.8 3-3.5 3-4.6 3.4-5.4 3.6-5.2 3-5.6 2.8-6 2.8-6 2.4-6.4 2.4-6 1.8-6 1.6-5.6 1.1zM687.4 277.5l-6-0.3-2.4-0.4-2-0.5-1.8-0.9-1.1-1-0.4-1 0.1-1 0.6-1.4 1.1-1.6 3.5-3 5.4-3.4 7-3.7 8.1-3.3 8.9-3.1 10.6-2.9 9.4-2 8.6-1.2 6.4-0.3 2.6 0.2 2 0.4 1.4 0.8 0.6 0.7 0.1 1.4-0.8 2-2.2 2.4-2.8 2.6-3.4 2.4-4.8 3-4.5 2.6-5.2 2.4-10 4.1-5.4 1.9-4.6 1.3-5 1.1-5 0.9-4.4 0.5zM369.4 515l-6-0.2-6-0.8-5-1.1-5.8-1.9-6.1-3-4.3-2.6-2.9-2-1.7-1.4-0.8-1-0.5-1.6 0.1-1 1-1.4 1.6-1 2.4-1.1 5.6-1.5 4.8-1 4.2-0.5 4-0.3 4.4 0.1 4 0.4 4.6 0.7 4.4 1.1 3.1 1.1 3.6 1.4 2.8 1.6 2.2 1.4 2.1 2 1.6 2.6 0.4 2-0.1 1.4-0.4 1-1.6 2-2.7 1.8-3.4 1.3-4.1 0.9zM353.8 506l-0.4-0.2-0.4-0.7-0.6-0.1-0.4 0.1-0.3 0.3 0.3 0.6 0.4 0.2 1 0zM172 631.5l-1 0.2-1-0.2-1-0.8-0.6-0.7-0.5-1-0.1-1.6 0.3-1 0.6-1 1.3-0.6 1-0.1 1 0.4 1 0.8 0.7-1.9 0.7-0.6 0.6 0 0.4 0.1 1.6 1.2 0.8 0.3 0.6 0.4 0.3 1-0.3 0.6-0.8 0.4-1.1 0-2.6-0.4-0.2 0.4 0 1.6-0.3 1-0.6 1zM145.4 678.5l-0.4 0.3-0.6 0-0.4-0.4-0.3-0.4 0-1.6 0.3-0.6 0.4-0.5 0.6-0.1 0.4 0.2 0.5 1 0 1z"/>
<path fill="#d2ff25" d="M666 137.5l-2 0.1-1.6-0.1-1-0.5-0.3-0.6-0.1-1 0.3-1 1.6-2.4 3.8-4 5.7-5 6.8-5.6 7.5-5.4 6.7-4.6 7-4.4 6.4-3.6 6.2-3 6.4-2.9 6-2.1 5.6-1.4 1.4-0.2 1 0.2 0.1 0.4-2.4 3.6-0.3 1 0.2 0.4 0.4 0.3 2.8 0.3 0.2 0.4-0.6 1-3.1 3.6-4.3 4-5.5 4.4-5.4 4-5.9 4-6.6 4.1-7 4-7.6 3.8-7 3.2-6 2.4-5 1.6zM674.4 212.5l-4.4 0-2.8-0.5-0.8-0.6-0.7-1 0-1 0.4-1 0.9-1.4 1.8-2 5.2-4.6 7.2-5 9.5-5.4 8.3-4.3 8-3.6 7.4-2.8 7.6-2.4 7-1.6 6-0.6 2 0 2 0.3 1 0.4 1.1 1 0.2 1.6-0.7 2-1.7 2.4-2.9 3-3.5 3-4.7 3.6-4.7 3-5.2 3-4.9 2.5-5.6 2.5-6 2.4-6 2.2-6 1.8-5.4 1.5-5 1zM693.4 276.5l-4 0.2-4 0-3.3-0.3-2.5-0.4-1.6-0.6-1.6-1-0.7-1-0.1-1.4 1-2 1.9-2 3.2-2.6 4-2.4 4.7-2.6 5.6-2.4 5.4-2.2 6-2 7.6-2.2 7-1.7 7-1.4 6-0.8 5-0.3 4 0.2 2.4 0.7 1 0.6 0.4 0.5 0.2 0.6-0.1 1-0.6 1.4-1.6 2-2.1 2-2.6 2-3.7 2.6-8 4.4-8.9 4-10 3.6-8.4 2.2zM372 514.5l-6 0.2-6.6-0.6-5.7-1.1-6.2-2-6.3-3-4.1-2.6-2.8-2-1.6-1.4-0.8-1-0.4-1.6 0.2-1 0.6-1 1.3-1 3.6-1.4 7.8-2 7-1 5.5 0 5.9 0.5 6 1.2 5.6 1.7 5.2 2.6 2.2 1.4 1.7 1.6 1.2 1.4 0.9 1.6 0.4 1.4-0.1 1.6-0.5 1.4-1 1.4-1.4 1.2-1.7 1-4 1.4-2.5 0.6zM354 506.4l0.4-0.4-1-0.4-0.4-0.7-0.6-0.2-1.1 0.3-0.1 0.4 0.2 0.6 0.6 0.3 1 0.3zM176.4 626.5l-1.4 0.3-1-0.4-0.5-1 0.2-1 0.3-0.4 1-0.5 0.8 0.5 1 1.4 0.1 0.6-0.2 0.4zM171.4 630l-0.4 0.1-0.8-0.1-0.9-1-0.1-1.6 0.2-0.5 0.6-0.5 0.4-0.1 1 0.1 0.5 0.6 0.3 0.4 0.2 1-0.1 0.6-0.3 0.6zM145 677.6l-0.6 0 0-0.9 0.6 0z"/>
<path fill="#eaff0c" d="M668.4 136l-2 0.1-1.4-0.1-1-0.5-0.3-0.5-0.1-1 0.4-1 1.7-2.6 3.8-4 5-4.4 6.2-5 6.8-5 6.7-4.6 6.8-4.1 6-3.4 6.4-3.2 6.6-2.7 5.9-2 4.5-1 1 0.1 0.4 0.3-0.3 1-1.2 2-0.2 1 0.3 0.7 2.2 0.9 0 0.4-0.6 1-2.7 3-4.3 4-4.9 4-5.4 4-5.7 3.9-6 3.7-7 3.9-6.6 3.3-6 2.8-6 2.4-5 1.7zM675.4 211.5l-4-0.1-1.9-0.4-0.8-0.6-0.7-1 0-1 0.4-1 1-1.4 3.4-3.6 5.1-4 6.9-4.4 8-4.6 8-4 7.2-3.1 7.4-2.8 7-2.1 6.6-1.3 5-0.4 2 0.1 1.4 0.3 1 0.5 0.8 0.8 0.2 1.6-0.8 2-1.8 2.4-3 3-3.7 3-4.1 3-4.6 2.9-4.7 2.7-4.9 2.4-5.7 2.6-5.7 2.2-5.4 1.9-5.6 1.7-5 1.3-4.5 0.9zM692 276l-6.6 0-3-0.4-2-0.5-1.4-0.7-1.1-1-0.5-1 0.3-1.4 1.3-2 2.1-2 2.7-2 4.1-2.6 4.5-2.3 5-2.2 5.6-2 6-2 7-2 6.4-1.5 6.6-1.2 5.4-0.7 4.6-0.2 3.4 0.3 1.5 0.4 1 0.4 0.8 1 0 1.6-0.8 1.4-1.7 2-2.2 2-2.7 2-3.9 2.6-8.4 4.4-8.6 3.6-9 3-8.4 2zM373.4 514l-6 0.4-6.7-0.4-5.7-1.1-6.6-1.9-3.5-1.6-2.9-1.4-3.3-2-2.8-2-1.7-1.6-0.8-1-0.6-1.4 0-1 0.5-1 1.1-1 3-1.6 3.1-1 4-1 6.5-1 5.4-0.2 6 0.5 6.6 1.2 5 1.5 2.5 1 2.9 1.6 3.5 2.4 2.1 2.6 0.7 1.4 0.2 1.6-0.2 1.4-0.5 1-1.2 1.6-1.3 1-1.8 1-2.5 0.9zM354.6 506.4l0.2-0.4-0.8-0.2-1.6-1.4-1 0.1-0.6 0.5-0.1 0.4 0.3 0.6 1 0.6 1.4 0.3zM175.4 626.5l-1-0.1-0.4-0.4-0.2-0.6 0.1-1 0.5-0.6 1 0.1 0.8 1.1-0.1 1z"/>
<path fill="#ffe700" d="M671 134.5l-3 0.1-0.8-0.2-0.8-0.4-0.3-1 0.3-1 1.6-2.6 3.1-3.4 4.4-4 5.5-4.6 6.7-5 5.9-4 6.4-4 6-3.4 6-3 6-2.6 5.4-2 4.6-1.1 1.4-0.1 0.7 0.2 0.1 0.6-0.8 2-0.1 1 0.1 0.5 1.4 0.9 0.1 0.6-0.8 1.4-2.8 3-3.8 3.6-4.2 3.4-4.7 3.6-5.2 3.4-6 3.7-6 3.4-6.4 3.4-6.6 3-5 2.1-4.4 1.5zM676 210.5l-3.6-0.4-1-0.3-0.9-0.8-0.2-1 0.2-1 1.7-2.6 3.7-3.4 5.4-4 6.4-4 7.2-4 7.2-3.6 6.9-2.9 7-2.5 6-1.8 6-1.2 4.4-0.3 3 0.4 1 0.4 0.9 0.9 0.1 1.6-0.8 2-2 2.4-2.5 2.6-3.1 2.4-4.1 3-4.8 3-4.5 2.6-5.1 2.4-5.5 2.4-5.6 2.2-5.4 1.8-5.6 1.6-4.4 1.1-4.6 0.7zM696 275l-7 0.4-3-0.2-2.6-0.4-2-0.6-1.1-0.8-0.8-1-0.1-1.4 0.7-1.6 1.8-2 2.5-2 4-2.4 4-2.2 5-2.2 5-2 5-1.7 6.6-1.8 6.4-1.7 5.6-1.1 5.4-0.8 4.6-0.3 3.4 0.1 2.6 0.7 0.9 0.4 0.4 0.6 0.3 1-0.4 1.4-1 1.6-2 2-2.5 2-3 2-7 4-7.7 3.5-9 3.2-7.6 2zM369.4 514l-5.4-0.1-6-0.7-5.5-1.2-5.6-2-5.7-3-4.3-3-1.6-1.6-0.7-1-0.5-1.4 0.1-1 1.1-1.6 1.5-1 2.3-1 3.9-1.1 3.5-0.9 3.9-0.5 4-0.3 4 0 7 0.9 4.4 0.9 3.2 1 2.5 1 3 1.6 2.4 1.4 2.2 2 1.4 2 0.5 1.1 0.1 1.5-0.5 2-0.6 1-1 1-2.3 1.4-3.3 1.3-3.4 0.8zM354.5 507l0.6-0.6 0.1-0.4-1.2-0.2-1.6-1.6-1.4 0.2-0.7 0.6 0 0.4 0.3 0.6 0.8 0.6 1.6 0.5zM175.4 626.1l-0.4 0.1-0.6-0.1-0.4-0.7 0-0.5 0.4-0.8 0.6-0.2 0.7 0.5 0.2 1z"/>
<path fill="#ffcb00" d="M673 133l-2.6 0.1-0.9-0.1-0.6-0.6-0.3-1 0.3-1 1.7-2.4 3.2-3.6 4.4-4 5-4 6.1-4.4 5.9-4 6.2-3.9 5.8-3.1 5.8-2.9 5.4-2.3 5-1.6 4-0.8 1 0.3 0.3 0.3-0.4 2.4 1 2-0.4 1-0.7 1-2.8 3-3.3 3-4.3 3.6-4.8 3.4-5 3.4-5.6 3.3-5.9 3.3-5.5 2.9-5.6 2.6-5 2-4 1.3zM682 209l-4.6 0.4-3-0.4-1-0.5-0.5-0.5-0.2-0.6 0-1 0.7-1.4 1.2-1.6 3.9-3.4 6.3-4.6 7.6-4.4 7-3.7 7.4-3.3 6.6-2.6 6.6-2 6-1.3 4.4-0.4 2 0.1 1.6 0.4 1 0.6 0.4 0.6 0 1.6-0.6 1.4-1.5 2-2.4 2.6-3 2.4-3.4 2.6-7.3 4.4-8.2 4.1-10 4-9 2.9zM695 274.5l-6 0.1-2.6-0.2-2-0.4-1.4-0.6-1.3-1-0.5-1 0.1-1 0.7-1.4 1.9-2 2.6-2 3.2-2 3.9-2 4.4-2 5-2 5-1.6 6-1.8 6-1.4 5.4-1.1 5-0.7 4-0.3 3.6 0.2 2.1 0.7 1.1 1 0.2 1-0.6 1.4-1.1 1.6-2.1 2-2.7 2-3.1 2-6.5 3.4-7.9 3.5-8 2.7-7.4 1.9zM371 513.5l-6 0.1-6-0.6-5.1-1-5.9-2-3.2-1.6-2.7-1.4-4.2-3-1.4-1.6-0.7-1-0.4-1.4 0.2-1 0.7-1 1.3-1 3.2-1.6 5.6-1.5 6.6-0.9 5.4 0 5.6 0.6 6 1.3 4.5 1.5 4 2 2.2 1.6 1.3 1.1 1.1 1.3 0.9 1.6 0.3 1.4 0 1-0.5 1.6-0.7 1-1.1 1-1.6 1-2 0.9-2 0.6zM355.1 507l0.4-0.6 0-0.4-1.5-0.3-1.6-1.7-1.4 0.1-0.8 0.3-0.3 0.6 0.3 1 0.8 0.7 1 0.4 2 0.3zM175.4 625.6l-0.4 0.3-0.6-0.3 0-1 0.6-0.2 0.4 0.3z"/>
<path fill="#ffaf00" d="M675.4 131.5l-1.4 0.2-1.6-0.1-0.5-0.2-0.6-0.4-0.2-0.6 0.1-1 1.1-2 2.6-3 3.7-3.4 4.8-4 6.1-4.6 5.9-4 5.6-3.4 5.4-3 5-2.6 5.6-2.3 4.4-1.6 3.6-0.7 1.4-0.1 0.6 0.3 0.2 0.4 0.1 1.6 0.4 2-0.3 1-0.7 1-2.3 2.4-3.2 3-3.7 3-4.7 3.6-9.4 6-11 6-5.2 2.4-4.8 2-4 1.4zM683.4 208l-4 0.3-2.6-0.3-1.1-0.6-0.5-0.4-0.2-0.6 0.1-1 0.8-1.4 1.2-1.6 3.9-3.4 5.8-4 6.8-4 6.8-3.6 6.6-2.9 6-2.3 6-1.8 5.4-1.2 4.6-0.5 1.4 0.1 1.6 0.4 1 0.6 0.4 0.6 0 1.6-0.7 1.4-1.5 2-2 2-2.4 2-3.4 2.6-7 4.2-8 3.9-9 3.7-8.4 2.6zM698 273.5l-6.6 0.4-4.6-0.5-1.8-0.5-1.4-0.9-0.5-1 0.1-1 0.8-1.6 1.4-1.4 2.5-2 3.2-2 3.9-2 4.4-2 9-3.2 11-2.9 5-1 5-0.6 3.6-0.2 3 0.2 2.1 0.7 1 1 0 1-0.4 1-1.1 1.4-1.5 1.6-4.8 3.4-6.3 3.5-6.8 3.1-7.2 2.6-6.6 1.7zM371.4 513l-5.4 0.2-5.6-0.4-5.4-1-5.8-1.8-5.2-2.6-4.5-3-1.5-1.4-0.7-1-0.5-1.6 0.1-1 0.5-1 1-1 2.9-1.4 4.9-1.6 6.2-0.9 5.6-0.1 5.4 0.5 5.2 1.1 4.7 1.4 4.2 2 3.4 2.6 1.1 1.1 0.8 1.3 0.5 1.6 0.1 1-0.4 1.4-0.6 1-0.9 1-1.4 1-3.7 1.6zM354.9 507.4l0.8-0.4 0.2-0.6 0-0.4-1.9-0.4-0.8-0.6-0.2-1.1-2-0.1-1.3 0.6-0.2 0.6 0.2 1 1.3 1 2 0.6z"/>
<path fill="#ff9200" d="M677.4 130l-2.4 0.1-0.8-0.1-0.5-0.6-0.2-0.4 0.2-1 1.2-2 2.6-3 3.8-3.6 4.3-3.4 5.5-4 5.2-3.6 5.7-3.4 5-2.8 5-2.4 4.4-1.9 4.7-1.5 3.3-0.5 0.6 0.1 0.7 0.4 0.3 0.9 0.1 2.1-0.6 1.6-1.2 1.4-2.4 2.6-3.4 3-7.3 5.4-8.8 5.6-10 5.4-8.4 3.7-4 1.3zM684 207l-3.6 0.1-1-0.2-1.2-0.5-0.6-0.4-0.2-0.6 0.1-1 0.5-1 2.1-2.4 3.6-3 5.1-3.6 6.2-3.5 6.4-3.3 6-2.6 5.6-2.2 5.4-1.6 5-1.1 4-0.3 2.6 0.4 1 0.6 0.4 0.6 0.1 1-0.6 1.6-1.5 2-2 2-2.4 2-3.5 2.4-6.7 4-7.8 3.8-8.6 3.3-8 2.3zM697 273l-5.6 0.1-2-0.2-2-0.4-1.1-0.5-0.9-0.8-0.3-0.8 0-1 0.9-1.4 1.4-1.6 1.9-1.4 3.2-2 7.3-3.6 8.2-2.9 10-2.7 4.4-0.9 4.6-0.6 3.4-0.3 3 0.2 2 0.4 1.2 0.8 0.3 1-0.3 1-1 1.6-1.6 1.4-4.1 3-6.4 3.6-6.8 3-7.3 2.4-6.4 1.7zM371.4 512.5l-5.4 0.3-5.6-0.4-5-1-6.1-2-5.1-2.4-3.5-2.6-1.5-1.4-0.6-1-0.4-1.6 0.2-1 0.6-1 1.1-1 3-1.4 4.9-1.4 5-0.7 5.4 0 5.6 0.5 4.7 1 4.5 1.6 4 2 2.8 2 1 1.1 0.9 1.3 0.4 1.6 0.1 1-0.3 1-0.5 1-0.8 1-1.4 1-3.2 1.4zM354 508l1.4-0.4 0.7-0.6 0.2-0.6-0.3-1-0.6 0.4-1.4-0.2-0.7-0.6-0.3-1.3-0.6-0.1-2 0.1-0.6 0.3-0.6 0.4-0.2 0.6 0.2 1 1 1 1.8 0.8z"/>
<path fill="#ff7600" d="M679.4 128.5l-2.4 0-0.9-0.5-0.1-0.6 0.2-1 1.2-2 2.8-3 3.3-3 4.4-3.4 5.6-4 5.3-3.6 4.6-2.7 5-2.6 4.6-2.1 4-1.6 4-1 2.4-0.1 0.9 0.7 0.3 1-0.2 1.4-0.9 1.6-1.2 1.4-2.5 2.6-2.8 2.4-6.7 5-8.8 5.6-8.4 4.4-8.1 3.6-3 1zM684 206l-2.6-0.3-0.7-0.3-0.6-0.4-0.2-0.6 0-1 1.3-2 2.6-2.4 3.3-2.6 4.6-3 5.3-3 5.4-2.6 5.3-2.4 5.3-1.9 4.4-1.4 4-0.8 3.6-0.4 2.4 0.2 1.1 0.3 0.6 0.6 0.4 1-0.5 1.4-1 1.6-1.9 2-2.3 2-2.7 2-7.1 4.2-8 3.8-8 3-8 2.2-3.6 0.6zM700 272l-5.6 0.4-2.4-0.1-2-0.3-1.5-0.6-0.8-0.4-0.6-1 0-1 0.9-1.6 1.5-1.4 2-1.6 2.4-1.4 6.5-3.2 8-2.8 9.6-2.5 8-1.3 3-0.2 2.4 0.1 2 0.6 1 0.7 0.1 1-0.4 1-0.7 1-1.5 1.6-3.4 2.4-5.4 3-5.7 2.6-6.7 2.4-5.3 1.6zM371 512l-5 0.2-5.6-0.4-4.7-0.8-5.8-2-5.2-2.6-3.3-2.4-1.2-1.6-0.4-1-0.1-1 0.2-1 0.7-1 0.8-0.7 3-1.4 5-1.3 4.6-0.6 5 0 4.9 0.6 4.6 1 4.4 1.4 3.8 2 2.6 2 1.1 1.5 0.6 1 0.2 1.1 0 1-0.3 1-0.6 1-1 1-1.3 0.9-3 1.2zM355.6 508l0.7-0.6 0.3-0.4 0.1-0.6-0.3-1-0.4-0.1-0.6 0.4-0.4 0-1-0.2-0.7-0.5-0.3-1.6-1-0.1-1.6 0.1-1 0.3-0.8 0.7-0.1 0.6 0.1 1 0.8 1 1 0.7 1.6 0.6 1 0.1 1.4-0.1z"/>
<path fill="#ff5a00" d="M681.4 127l-2 0-0.8-0.6-0.2-0.4 0.3-1 1.3-2 2.3-2.6 3.4-3 3.8-3 4.9-3.4 9-5.7 4.6-2.4 4-1.8 4-1.5 3-0.8 2-0.2 1 0.2 0.4 0.3 0.4 0.9-0.3 1.4-0.9 1.6-1.3 1.4-4.9 4.6-6.1 4.4-7.3 4.7-8.2 4.3-6.9 3-2.9 1zM689 204.5l-3 0.3-2.5-0.4-0.8-0.4-0.3-0.4 0-1.2 1.3-2 2.7-2.4 4.2-3 5-3 4.7-2.6 5.3-2.4 5.1-2 4.6-1.6 4.1-1 3.6-0.4 2.4 0.2 1 0.2 0.6 0.6 0.3 1-0.2 1-0.9 1.4-1.4 1.6-4.2 3.4-5.6 3.6-5.9 3-7.2 3-6.9 2.2zM698.4 271.5l-4.4 0-3-0.5-1.1-0.6-0.6-0.4-0.2-0.6 0-1 0.5-1 1.4-1.4 2-1.6 2.4-1.4 6.3-3 7.2-2.6 8.5-2.2 7.6-1.1 3-0.1 2 0.2 1.4 0.6 0.7 0.6 0.1 0.6-0.3 1-0.7 1-1.5 1.4-3.5 2.6-5.6 3-5.9 2.4-5.7 2-5.6 1.3zM369 511.5l-3.6 0.1-3.4-0.2-3.6-0.5-3.3-0.9-0.8-0.6 0.4-0.4 1.7-1 0.8-1-0.1-1-0.7-1-1 0.6-1.4-0.1-0.6-0.5-0.2-0.6 0.2-1.1-1.4-0.3-1.6 0-1 0.3-1.1 0.7-0.6 1-0.3 1.4-1-0.1-2.4-1.3-1.6-1.6-1-1.5-0.1-0.9 0.1-1 1.1-1.6 2.5-1.4 4.4-1.3 5-0.6 4.6-0.1 4.4 0.5 4.5 0.9 4.4 1.6 3.7 2 2.4 2 1.3 2 0.2 1-0.1 1-0.3 1-0.8 1-2 1.4-1.7 0.8-2 0.6z"/>
<path fill="#ff3d00" d="M683 125.5l-1.6-0.3-0.3-0.2-0.1-0.6 0.5-1.4 1.6-2 2.5-2.6 3-2.4 7.5-5.6 8.2-5 7.1-3.4 3-1.1 3-0.8 2-0.1 1.1 0.4 0.3 1-0.3 1-1 1.6-1.3 1.4-4.4 4-6.2 4.6-7.2 4.3-7 3.6-6.1 2.5-2.3 0.7zM689.4 203.5l-2.4 0-1.6-0.5-0.4-0.6-0.1-0.4 0.6-1.6 1.8-2 2.5-2 3.7-2.4 4.3-2.6 4.9-2.4 4.3-1.9 4.2-1.7 3.8-1.1 3.4-0.8 3-0.4 2.6 0.3 1 0.7 0.1 0.9-0.2 1-1 1.4-1.5 1.6-3.8 3-5.6 3.4-6.5 3-6.5 2.6-5.6 1.6zM701 270.5l-4 0.3-3.6-0.4-1.2-0.4-0.7-0.6-0.3-0.4 0-1 0.5-1 1.5-1.6 3.7-2.4 5.5-2.7 7-2.3 8-2 6-0.9 2.6-0.1 2 0.3 1 0.4 0.6 0.7 0.1 0.6-0.4 1-1.8 2-2.8 2-4.6 2.4-4.7 2.1-5.4 2-4.6 1.2zM370 510.5l-3 0.3-3 0-3.6-0.3-2.3-0.5-1-0.6-0.1-0.4 0.7-1.6 0.1-1-0.4-1-1-0.9-0.1 0.5-0.9 0.5-1.3-0.1-0.7-0.4-0.1-0.6 0-0.4 0.3-0.6-0.2-0.4-2.4-0.4-1.6 0.2-1 0.3-2 1.3-1-0.1-1.2-0.9-0.7-1-0.4-1 0.3-1.4 0.6-0.9 0.7-0.7 2-1 3.4-1 4.3-0.5 3.6-0.1 4 0.2 4.4 0.9 3.6 1.1 3.3 1.4 3.1 2.1 1 0.9 0.8 1 0.3 1.6-0.2 1-0.6 1-1.7 1.4-2.6 1.3z"/>
<path fill="#ff2100" d="M687 123.5l-2 0.3-1.1-0.4-0.2-0.4 0-0.6 0.9-1.4 1.7-2 2.2-2 3-2.6 4.2-3 7.3-4.5 7-3.5 3.4-1.3 2.6-0.6 1.5-0.1 1 0.6 0 1-0.4 1-2 2.4-3.3 3-4.7 3.6-5.7 3.5-6.3 3.5-5.7 2.4zM693 202l-2.6 0.2-1.9-0.2-0.7-0.6-0.2-1 0.9-1.4 2.1-2 3.5-2.6 4.2-2.4 8.2-4 3.8-1.6 3.7-1.1 3.4-0.8 2.6-0.2 2 0.3 0.5 0.4 0.3 0.4 0.1 0.6-0.4 1-0.6 1-1.4 1.4-3.2 2.6-4 2.4-5 2.6-5.9 2.4-5 1.6zM703 269.5l-4.6 0.4-3-0.3-1.5-0.6-0.5-0.6 0-1 0.5-1 0.9-1 3.7-2.4 4.2-2 5.5-2 6.8-1.8 6-1 4 0 1 0.2 1 0.8 0.1 0.8-0.2 0.4-1.2 1.6-2.7 2-3.5 2-4.4 2-4.1 1.4-4 1.3zM368.4 509.5l-5 0.2-2.4-0.3-1.6-0.4-0.5-0.6-0.3-2-0.5-1-1.7-1.5-0.2 1.1-0.9 0.4-1 0-0.8-0.4-0.1-1 0.6-0.9 0.7-0.1-3.3-0.8-5 0.1-0.6-0.3-0.2-0.6 0.1-1 0.7-1 1-0.7 1.9-0.7 1.7-0.5 4.4-0.6 5 0 4.6 0.7 4.4 1.4 4.6 2 1.4 1 1 1 0.6 1 0 1-0.5 1-0.5 0.5-1.6 1-1.8 0.9-1.6 0.6z"/>
<path fill="#ee0500" d="M688 122l-1-0.1-0.5-0.5 0-0.4 0.5-1 1.2-1.6 3.8-3.4 6.3-4.6 5.8-3.4 5.3-2.6 2.6-0.9 2-0.5 1.4 0 0.7 0.4 0.1 0.6-0.3 1-2.1 2.4-3.4 3-4.2 3-5.8 3.5-4.8 2.5-4.6 1.9zM696 200.5l-2.6 0.3-1.4 0-1.1-0.4-0.4-0.4 0-0.6 0.4-1 0.9-1 3.1-2.4 4.9-3 6-3 5.2-2 4.4-1.2 2-0.2 1.6 0.1 0.8 0.3 0.5 0.4 0.1 0.6-0.3 1-1.2 1.4-2.3 2-3.9 2.6-3.8 2-4.7 2-4.3 1.4zM704.4 268.5l-3.4 0.4-3-0.1-1.4-0.4-0.6-0.4-0.4-0.6 0-0.4 1-1.6 2.7-2 4-2 4.1-1.5 5.2-1.5 5.4-1 4-0.1 1.2 0.1 0.9 0.6 0.3 0.4-0.1 0.6-1.1 1.4-1.9 1.6-2.6 1.4-3.1 1.6-3.8 1.4-3.8 1.3zM369 507.5l-5 0.2-2.6-0.3-1-0.7-1.5-1.7-1.9-1.8-2-1-4-1.2-0.4-0.6 0.4-0.4 1-0.5 2.7-0.5 3.7-0.2 4 0.3 4.6 0.6 4 1 2.8 1.3 1.2 0.8 0.5 0.6 0.2 1-0.1 0.6-1.2 1-2 0.8zM356 505l-1 0.4-0.6 0-0.7-0.4-0.3-0.6 0-0.4 0.6-0.7 1.4-0.2 0.9 0.9z"/>
<path fill="#cb0000" d="M691 120l-1-0.1-0.4-0.5 0.3-1 0.8-1 3.2-3 4.1-3 4.8-3 5-2.4 3.6-1.2 1-0.1 0.9 0.3 0.2 0.4-0.1 0.6-1.4 2-2.8 2.4-3.4 2.6-4.1 2.4-4.7 2.5-3.6 1.5zM698 199l-2 0.2-1.6-0.1-0.5-0.1-0.3-0.6 0.1-0.4 1.1-1.6 2.5-2 4.1-2.4 4-2.1 3.8-1.5 3.8-1 3-0.4 1.5 0.4 0.2 0.6 0 0.4-1 1.6-1.7 1.4-3 2-3.8 2-3.5 1.6-3.3 1.1zM705.4 267.5l-3 0.4-2-0.1-1.5-0.4-0.6-0.4-0.1-0.6 0.1-0.4 0.8-1 2.1-1.6 2.9-1.4 4.3-1.6 5-1.3 4-0.6 2.6 0.1 1 0.4 0.3 0.4-0.3 1-1 1-1.4 1-2.8 1.6-4.8 2zM372 506l-2 0.3-2 0.1-2.6-0.3-2-0.5-1.6-0.6-1.3-1-0.5-1 0.1-0.6 0.4-0.4 0.9-0.6 2.6-0.6 3 0 3.4 0.6 2.6 1 1 0.8 0.4 0.8-0.1 0.4-0.3 0.6-0.6 0.4zM355.4 505.1l-1 0.2-0.6-0.3-0.3-0.6 0.1-0.4 0.4-0.5 1-0.3 0.4 0.1 0.6 0.5 0.1 0.6-0.3 0.6z"/>
<path fill="#a80000" d="M695 117.5l-1 0.1-0.6-0.2 0-0.4 0.6-1 2.1-2 3.3-2.6 4-2.4 3-1.4 2.6-0.8 1.2 0.2 0.1 0.4-0.2 0.6-0.7 1-1.6 1.4-2.7 2-6.1 3.6zM701.4 197l-3 0.4-1-0.3 0-0.7 0.7-1 1.9-1.4 3.3-2 3.2-1.6 2.7-1 2.2-0.5 2-0.2 0.9 0.3 0.1 0.2 0 0.8-0.8 1-2.6 2-5 2.4zM705.4 266.5l-2 0.1-1.4-0.1-0.7-0.5-0.1-0.6 0.8-1 1.4-1 1.9-1 2.7-1 3.6-1 2.8-0.4 2.1 0 1.1 0.4 0.1 0.6-0.8 1-1.5 1-1.9 1-3.7 1.4zM370.4 505.5l-3 0.1-2.4-0.5-1.6-0.6-0.6-0.5-0.4-0.6 0-0.4 0.4-0.6 0.6-0.3 2-0.5 2.6 0 2.4 0.5 1.8 0.9 0.5 0.4 0.2 0.6-0.2 0.4-0.6 0.6zM355.4 505l-0.4 0.1-1-0.1-0.3-0.6 0.1-0.4 0.6-0.6 1 0.2 0.5 0.4 0.1 0.4z"/>
<path fill="#8b0000" d="M701 113.5l-1.6 0.4-0.1-0.5 1-1 2.2-1.4 2.5-1 0.2 0.4-1 1zM704 194.5l-0.7-0.1 0-0.4 2.2-1.6 2.5-1 1-0.1 0.5 0.1-0.1 0.6-1.3 1-2.1 1zM708 264.5l-1 0.1-1-0.2 0.1-0.4 1.9-1.1 2.4-0.6 1-0.1 0.6 0.2-0.3 0.6-0.8 0.4zM369.4 504.6l-1.4 0-1.5-0.2-1.2-0.4-0.4-0.6 0.3-0.4 1.2-0.4 1-0.1 1.6 0.3 0.6 0.2 0.8 0.6 0 0.5zM355 505l-0.6 0-0.4-0.5 0-0.5 1-0.3 0.6 0.3 0 0.4-0.2 0.3z"/>
</g></g>
<rect x="134.0" y="36.0" width="394.10" height="363.00" fill="#fff"/>
<rect x="199.5" y="45.3" width="318.50" height="316.20" fill="#00007f"/>
<clipPath id="cia"><rect x="199.5" y="45.3" width="318.50" height="316.20"/></clipPath><g clip-path="url(#cia)"><g filter="url(#blI)">
<path fill="#000090" d="M453.5 105.5l-2 0.2-2.5-0.1-3-1.1-1.5-1-1.8-1.7-0.9-1.5-0.6-1.5-0.1-2 0.1-2 1-2.5 2.8-2.8 3-1.4 3.5-0.4 2.5 0.3 1.5 0.5 1 0.5 2.2 1.8 1.6 2 0.4 1 0.6 2 0 1.5-0.1 1.5-0.5 1.5-1.6 2-2.1 1.8-2 1zM472 116.3l-0.5 0.2-1.5-0.4-1.2-0.8-1.8-2.2-2.5-1.7-1.3-1.6-0.9-2.5-0.1-4.5 0.1-1 0.5-1.5 1-1.5 1.4-1.5 0.8-0.7 2-1 1.5-0.2 1.5 0.1 2 1.2 1.7 2.1 0.6 1.5 0.4 2 0 2-0.5 2.5-1.2 2.5-0.2 1 0.1 1 0.4 1 0.2 1.5-0.2 1-1.3 1.3zM487 107.1l-1 0-0.5-0.4-0.6-0.9 0-0.5 0.2-0.5 0.4-0.5 0.5-0.3 1 0 0.5 0.3 0.6 1-0.3 1zM422.5 145.4l-2 0.3-1.5 0-1.5-0.3-1-0.6-0.6-0.5-0.6-1-0.2-1.5 0.2-1.5 0.6-1.5 0.9-1.5 1.8-2 0.9-1.4 0.6-4.1 1.1-2 2.8-2.8 2.5-1.5 2.2-0.7 0.3-0.3 1.2-0.2 0.8-0.4 1.4-0.1 0.6-0.3 3-0.1 4 0 1 0.4 1.5 0.2 0.3 0.3 0.7 0.1 2 1.1 1.7 1.8 0.7 1.5-0.1 3 0.2 0.2 0.5 0.4 1.5 0.1 0.3 0.3 0.7 0.1 1 0.7 0.6 0.7 0.7 1.5 0 1-1 2-1.3 1.3-2 1.1-2.5 0.4-0.7-0.3-1.3-0.1-1.7-1.4-0.6-1-0.2-0.7-0.3-0.3-1.2 0-0.5 0.4-0.9 0.1-0.6 0.4-1.1 0.1-0.4 0.3-1.5 0.1-0.5 0.3-2 0.3-0.5 0.3-1 0.2-1.5 1.3-2 2.6-1 1-1 0.7zM470 148l-1 0.2-1-0.1-1-0.8-0.8-1-0.5-1-0.6-2-0.1-2.5 0.2-3.5-0.1-1-0.8-0.5-1.3-0.3-2-0.9-1.8-1.8-0.5-1 0-1 0.5-1 1.3-1.3 1-0.5 4-0.1 2 0.5 1 0.6 1.7 1.3 1.1 2 0.2 2.4 1.3 4.1 0 4-0.5 2-0.7 1.5-0.3 0.5zM457 144.1l-2.5 0-0.9-0.8-0.4-0.5-0.1-0.5 0.2-2 1-1.5 1.7-1.4 1-0.5 2.5 0.1 0.5 0.3 0.8 1 0 2-0.4 1-0.9 1-1.5 1.3-0.7 0.2zM438 144.9l-1.5 0.3-4-0.1-1.5-0.5-0.4-0.3-0.3-0.5 0.3-0.5 1.4-0.8 2.5-0.5 3-0.2 2.5 0.2 1.3 0.8 0 0.5-0.8 0.8-1 0.5zM477 195.9l-1.5 0.2-1.5-0.5-1.1-0.8-1.1-1.5-0.6-2 0-1 0.5-2 0.8-2.2 0.1-0.8-0.1-1-0.5-0.7-2.4-2.3-2.9-2-1.7-0.7-0.3-0.3-0.7-0.2-0.3-0.3-0.7-0.1-0.5-0.5-2-0.6-1.5-0.8-2-0.6-0.5-0.5-2-0.5-0.4-0.4-2.1-0.6-0.5-0.4-1-0.1-1-0.4-1 0.3-1.4 0.2-0.6 0.4-1.1 0.1-0.4 0.4-1.8 0.1-0.7 0.4-5 0.3-3-0.3-0.7-0.4-1.3-0.2-1.5 0.2-0.5 0.4-0.6 0.1-0.4 0.4-0.6 0.1-0.4 0.4-0.6 0.1-0.4 0.4-0.7 0.1-0.3 0.3-1.1 0.2-0.4 0.4-1 0.1-0.5 0.4-1.2 0.1-0.3 0.3-2.4 0.2-0.6 0.2-1 0-1.5-0.4-1.5-1.5-1 0.2-1 0.4-4 0-1.5-0.6-1.3-0.8-1.4-0.5-2.8-0.2-3.5-1-2-1-1.5-1.1-1.8-2.2-0.9-2-0.1-3.5 0.6-2 1.9-3 2.3-2.3 2-1.5 2.5-1.4 2.2-0.8 0.3-0.3 4.5-1.1 3.5-0.1 3.5 0.1 2.5 0.6 0.3 0.3 0.7 0.1 2 1.1 2.2 1.8 1.1 1.5 0.5 1 0.2 0.8 0.5 0.7 0.9 0 0.6-0.4 0.9-0.1 0.6-0.4 1-0.1 0.5-0.3 0.5-0.1 2.5 0 1 0.9 0.2 0.5-0.4 1-2.3 2.3-0.5 0.1-1 0.9-0.7 0.2-0.3 0.3-0.9 0.2-0.6 0.4-0.7 0.1-0.3 0.3-1.2 0.2-0.3 0.3-0.7 0.2-0.8 0.5-2.5 2.7-2 1.6-2.6 1.7-0.4 0.5-0.1 0.5 0.1 0.3 0.5 0.3 4.5-3.5 0.5-0.1 0.5-0.4 3-1.5 0.6-0.1 0.4-0.4 0.7-0.1 0.3-0.3 1-0.2 0.5-0.4 1.1-0.1 0.4-0.4 1.5-0.1 0.5-0.3 2-0.2 2.5-0.4 0.5-0.4 1-1.7 1.5-1.3 2-1 0.8-0.2 0.7-0.4 1.2-0.1 0.8-0.4 2.5-0.1 1-0.3 3 0 1.6 0.3 2.9 0.2 0.6 0.3 1.9 0.2 0.3 0.3 1.2 0.1 0.4 0.4 1.1 0.1 0.4 0.4 2.1 0.7 0.3 0.3 0.7 0.1 0.4 0.4 0.6 0.2 1 0.6 1 0.8 0.5 0.1 1 0.8 0.5 0.2 3 2.4 1.6 0.9 1.4 0.6 4.5 0.7 2 0.5 4.5 2 2.5 1.5 2.5 2.1 2.3 2.6 0.9 1.5 0.7 2 0.2 2-0.4 1.5-1.2 1.6-1.5 1-1.5 0.6-3 0.5-3.5-0.3-2 0.1-1 0.8-1.2 2.2-1.2 1.5-1.6 1.3zM439.1 169.3l0.4-0.4 1.2-0.1 0-0.5-0.7-0.5-1.5-0.4-0.5 0.2-0.5 0.5-0.6 0.7-0.1 0.5 0.2 0.2zM438 181.6l-3.5 0.1-1.5-0.6-1.3-1.3-0.1-2 1.9-1.8 1.1-0.2 0.4-0.3 2 0 0.6 0.3 1.4 0.3 0.5 0.3 1 0.2 0.5-0.1 1.5-1 3.5-0.4 0.9 0.2 2.6 0.1 0.6 0.4 1.4 0.2 0.3 0.3 0.7 0.1 2 1.1 0.8 0.8 0.2 0.5 0 0.5-0.2 0.5-1.3 0.8-5.5 0.1-1-0.1-0.5-0.3-1.5-0.2-0.3-0.3-0.7-0.1-3-1.5-0.5 0.2-0.5 0.7-0.2 0.7-0.8 0.9zM327 212.5l-1 0.1-1-0.5-0.8-0.8-0.6-1-0.4-1.5-0.2-3.7-0.5-1-1.7-1.8-0.6-1-0.5-1-0.1-2 0.2-2.5 0.4-1 1.1-1.5 2.2-1.8 1.5-0.5 1.5-0.1 2.5 0.1 1 0.5 1.5 1 1.3 1.3 0.5 1 0.5 1 0.4 2-0.4 2.5-0.7 1.5-3.2 3.5-0.4 1.2-0.2 2.8-0.5 1.5zM293 265.6l-2.5 0.2-1.5-0.2-0.7-0.8-0.1-1 1.2-1.5 1.1-1 0.3-0.5-0.6-0.5-3.2-0.8-0.3-0.2-2.2-0.7-0.3-0.3-1.7-0.7-3-2-3.3-3.3-1-1.5-1.4-3-0.6-2.5 0.1-2.5 0.4-2 0.6-1.5 0.9-1.5 1.8-2.2 2.5-2 3-1.6 2.1-0.7 0.4-0.3 2.5-0.5 2.1-0.2 1.3-0.5-0.2-0.5-0.6-0.5-3.1-2.3-1.2-1.2-0.4-1 1.1-0.6 3 0.3 0.4 0.3 1.1 0.2 0.5 0.3 1 0.2 0.5 0.4 2 0.6 0.3 0.3 0.7 0.1 0.5 0.5 0.5 0 1.5 1 0.5 0 0.5 0.5 0.5 0.1 2 1.4 0.5 0.1 2.5 1.9 1 0.4 0.5-0.4 0.1-0.6 0.5-0.5 0.1-1 0.3-0.3 0.1-0.7 0.4-0.4 0.1-0.6 2.1-3 0.9-1 0.4-0.9-0.4-0.6-0.1-1.2-0.3-0.3-0.2-2.1-0.5-1.1-0.5 0-1.5 0.9-1.5 0.6-2 0.5-2.5 0.1-1.5-0.2-1.5-0.4-1.5-0.7-1.3-1.1-0.2-0.5-0.3-0.5 0-1.5 0.5-1 0.8-0.8 2-1.4 1.5-0.6 2-0.4 3-0.1 2 0.5 1.5 0.6 2.5 2.2 1-0.4 2-1.5 0.9-0.1 0.6-0.4 3 0.1 0.3 0.3 0.7 0.1 0.5 0.4 0.5 0.1 2.2 2.4 0.6 1 0.2 1.3 0.2 0.2 0.3 1.5 1 0.1 1-0.4 1-0.1 1 0.1 1 0.5 1.8 1.8 0.6 1 0.1 0.6 0.3 0.4 0.7 3.1 0.5 0.4 2 0.1 1.2 0.9 1.1 1.5 0.2 1.1 0.4 0.4 0.1 1.8 0.4 0.7 0.1 3.4 0.5 1.2 2-1.9 1-0.4 2.5-0.1 1.5 0.6 1 0.8 1.3 1.4 0.5 1 0.4 2-0.4 2-0.6 1-0.7 0.7-2 1.1-2.5-0.1-2-1.1-1.1-1.1-1.4-2.4-0.5 0.7-0.2 1.2-0.3 0.3-0.1 1.2-0.4 0.5-0.1 1-0.4 0.4-0.2 1.1-0.3 0.3-0.1 0.7-0.4 0.5-0.1 0.5-0.4 0.4-0.1 0.6-1 1.5-1.9 1.9-1 0.5-1.5 0-1-0.6-0.8-0.8-0.2-0.5-0.5-0.6-0.5-0.2-1.2 0.3 0.1 0.5 1.5 1.5 0.5 1 0 2-0.5 1.5-1.9 1.8-0.9 0.2-0.6 0.4-1.5-0.1-0.4-0.3-0.6-0.1-1-0.5-1.3-1.4-0.2-0.4-0.5 0-0.1 1.9-0.4 0.4-0.1 0.6-1.4 1.4-0.8 0.1-0.2 0.2-1 0-0.2-0.2-0.8-0.1-1.4-1.4-0.6-1.1-0.5-0.2-1.5 0.3-0.5 0.4-1.1 0.1-0.4 0.3-2 0.2-0.5 0.3-5.8 0.2-0.7 0.4-1.5 1.7-1.5 1.2-0.6 0.2-0.4 0.3-1.2 0.2zM342 223.6l-1 0-0.5-0.3-0.8-1-0.1-0.5 0.1-2 0.8-1.1 1-0.4 1.1 0.5 0.7 1 0.1 0.5-0.1 2zM326.6 247.3l0-6 0.1-0.5 0.3-0.4 0.1-2.1 0.4-0.8 0.3-2.7-0.3-0.5-1.5-0.3-1.5-1.1-1.3-1.6-0.2-0.6-0.3-0.4-0.2-1-0.3-0.5-0.2-3.3-0.5-0.4-0.5 0.1-1 0.5-0.6 0.1-0.4 0.4-0.7 0.1-0.3 0.3-0.5 1-0.1 1.7-0.4 0.7-0.1 0.8-0.4 0.7-0.2 0.8-0.3 0.3-0.2 0.7-0.9 1.5-1.4 1.8-0.1 0.7 0.6 0.2 0.3 0.3 0.7 0.1 0.4 0.4 0.6 0.1 1.5 1 1.8 1.9 0.6 1.5-0.1 1-0.3 0.3-0.1 0.7-1.9 1.9-1.1 0.6 0.1 0.2 7-0.1 2.5 0.3zM318.5 256.8l0.1-1.5 0.4-0.7 0.2-0.8 0.4-0.5-0.1-0.2-0.5-0.3-1.5 0.4-2.2 0.1 0 0.5 1.8 1.5 1.3 1.5 0.1 0.4zM322 268l-1.5 0.1-0.5-0.1-0.8-0.7-0.5-1 0-0.5 0.5-1 0.8-0.8 1-0.1 1 0.1 1.1 1.3 0.2 1-0.5 1zM305.5 268.9l-1 0.2-2 0-2.5-0.5-2.2-1.3-0.5-0.5 0-1 1.2-0.8 1-0.1 3 0.1 2 0.6 1 0.5 1.2 1.2 0.1 0.5-0.2 0.5zM293 279.4l-1 0.2-1-0.5-0.7-0.8-0.3-1.1-0.5-0.7-1 0.3-1.5 0.8-0.5 0-1-0.5-0.8-1.3 0-2.5 0.3-0.3 0.2-1.2 0.6-1 2.2-2.3 1-0.5 1 0.2 0.5 0.3 0.8 1.3 0.1 2-0.5 1.5 0.1 1 2 0.2 1.3 1.3 0.2 1-0.2 1.5-0.8 0.8zM309 275.4l-1 0-1-0.3-0.8-0.8 0-1.5 0.8-0.8 1-0.5 1 0 1 0.5 0.8 0.8 0 1.5-0.8 0.8zM248 286.1l-0.5-0.2-0.7-0.6-0.5-1-0.5-3.5 0.4-3 0.3-0.3 0.2-0.7 0.8-0.8 0.5 0 0.5 0.2 0.8 1.1 0.2 0.9 0.3 0.6 0.1 2-0.1 2.5-0.3 0.5-0.2 1zM227.5 346.4l-1.5-0.3-1.4-1.3-0.6-1.1-2.5-0.6-0.8-0.8-0.3-0.5-0.2-0.5 0.1-1 2.2-2.8 0.6-1.2 0-0.5-1.1-1-0.5-0.2-0.8-0.8-0.2-0.5-0.4-0.5 0-2.5 0.2-1-0.3-0.7-1.5-1.2-0.5 0.2-2 2.1-1 0.2-1-0.2-1.4-1.4-0.5-1-0.3-2 0.4-2 1-1.5 0.8-0.7 0.5-0.2 1.5 0.1 1.5 0.9 1 0.4 1.7-0.5 0.3-0.5-0.3-1.5-0.1-3 0.5-2.5 0.6-1.5 1-1.5 3.3-3.3 3-1.4 3-0.6 1.5 0.1 0.6 0.2 1.9 0.1 1 0.4 0.8 0 0.1-0.5-0.2-0.5-0.4-3 0.2-0.6 0.1-1.4 0.5-1-0.1-1.4-0.5-0.2-2.5 0.4-2-0.6-1.9-1.7-0.4-1 0-1.5 0.4-1 0.9-1 1-0.8 1.5-0.5 1.5 0 1.5 0.5 0.5 0.4 1 0 2.5-1.5 2 0 0.4 0.4 0.6 0.1 1.4 1.4 0.9 1.5 0.1 4-0.5 1.5-2 2.5-0.1 2.5-0.3 0.7-0.2 1.3-1.1 1.5-1.4 1 0.1 1 1.5 2 0.1 0.7 0.3 0.3 0.2 1 0.3 0.5 0.2 1.4 0.3 0.6 0.1 2-0.2 2.5-0.2 0.3-0.2 1.2-0.9 2-0.6 1-0.9 1-1.9 1.8-1.1 0.7 0 1 1.9 2 1 1.5 0 1.5-1.3 1.3-1.3 0.2-0.9 0.5-0.3 0.5-0.2 1-0.8 0.8-0.5 0.4-1.5 0.6-2 0-3-1.3-0.5 0.3-1.7 2.2 0.2 0.5 1 0.6 1.4 1.4 0.4 1-0.1 0.5-0.7 1zM247 318.7l-1 0-0.8-0.9-0.1-0.5 0-4 0-0.5 0.4-0.5 0.1-2 0.4-0.4 0.1-1.1 0.4-0.8 0.1-0.7 0.4-0.8 0.1-0.7 0.4-0.4 0.1-0.6 0.4-0.5 0.1-0.5 0.4-0.5 0.2-0.5 1.3-1.4 1 0 0.9 0.9 0 0.5 0 5 0 0.5-0.4 0.5-0.1 1.5-0.4 0.5-0.2 1.5-0.3 0.3-0.1 0.7-0.4 0.6-0.1 0.9-0.4 0.4-0.1 0.6-1 1.5zM219.5 307.4l-0.5 0.3-1 0-0.6-0.4-0.8-1 0-1.5 0.2-0.5 0.7-0.8 1-0.2 1 0.2 0.7 0.8 0.2 0.5 0 1.5zM228.7 336.3l0.8-0.5 1-1-0.4-0.5-0.6-0.2-0.5-0.3-0.4 0-0.7 0.5-0.5 0.5-0.1 0.5 0.2 0.6 1 0.5z"/>
<path fill="#00009f" d="M453 105.3l-1.5 0.2-2-0.1-2-0.5-2-1-1.5-1.1-1-1.1-1.1-1.9-0.5-1.5-0.2-2 0.2-1.5 0.6-1.5 0.9-1.5 1.1-1.2 1.5-1.1 1.5-0.8 1.5-0.5 2-0.3 2 0.1 1 0.2 2.5 0.9 1.5 0.9 1.4 1.3 1 1.5 0.7 1.5 0.4 2 0.1 1.5-0.3 1.5-0.8 1.5-1.2 1.5-1.9 1.5-2.4 1.2zM473 115.8l-1 0.3-1 0.1-1-0.3-0.8-0.6-1.7-2.1-2.1-1.4-1.1-1-1-1.5-0.7-2-0.2-1.5 0-2.5 0.3-1.5 0.5-1.5 0.9-1.5 1.4-1.5 1.5-1 1.5-0.5 2 0 2 0.9 1.5 1.6 1.1 2.5 0.3 2-0.2 2.5-0.5 2-1.3 3 0.7 2 0.2 1.5-0.3 1zM486.5 106.8l-1-0.5-0.3-1 0.3-0.6 0.5-0.4 0.5-0.1 0.5 0.1 0.5 0.4 0.3 0.6-0.3 1zM421.5 145.3l-1.5 0.2-1.5-0.1-1-0.4-1-0.6-0.5-0.6-0.5-1.3-0.1-1.2 0.2-1 1.2-2.5 2.8-3.5 0.8-4.5 1-2 2.1-2.2 1.5-1 3-1.5 3-1 4-0.6 4.5 0 2.5 0.6 1.5 0.5 2.5 1.6 1.2 1.6 0.5 1.5-0.1 2.5 0.4 0.5 3 0.8 1 0.8 0.8 0.9 0.3 1.5-0.3 1.5-1.3 1.7-1.5 1.1-1 0.4-2.5 0.3-2-0.4-1.4-1.1-1.1-2-0.5-0.3-1 0.2-4 1.3-3.5 0.7-1.8 0.6-1.3 1-2.4 3-1 0.9-3 1.5zM469.5 147.9l-1 0-1-0.4-1.1-1.2-0.5-1-0.7-2.5 0-2.5 0.4-3-0.3-1-0.8-0.6-2.5-0.8-1-0.6-1.2-1-0.6-1-0.3-1 0.2-1 0.7-1 1.2-0.8 1.5-0.4 1.5-0.1 2 0.2 2.5 1 1.4 1.1 0.7 1 0.5 1.5 0.3 2.5 0.7 2 0.5 2 0.1 2.5-0.5 2.5-0.5 1.5-1.2 1.5zM456.5 144l-1.5 0-1.2-0.7-0.5-1 0.1-1.5 0.4-1 0.7-0.9 1.5-1.3 1.5-0.5 1-0.1 1 0.2 1.1 1.1 0.1 1-0.1 1-0.5 1-1.1 1.3-1 0.8zM437 144.9l-4 0-1.8-0.6-0.3-0.5 0.3-0.5 1-0.5 2.8-0.7 4 0 0.9 0.2 0.8 0.5 0.1 0.5-0.4 0.5-1.4 0.6zM477.5 195.5l-2 0.3-1.5-0.5-1-0.7-0.9-1.3-0.5-1.5-0.1-1.5 0.4-2 0.9-2.5 0.1-1-0.4-1-1.5-1.5-2.5-2-3.5-2-13.5-5.6-1.5-0.4-1-0.1-4.5 1.4-3.5 0.6-6-0.1-2.7-0.8-1.3 0.4-2.5 1.4-3.3 1.2-0.2 0.2-4 1.1-2.5 0.2-1.5-0.2-0.5-0.2-0.6-0.6-0.4-0.7-0.5-0.3-2.5 0.8-1.5 0.1-2-0.2-3.7-1.7-2.8-0.3-2.5-0.6-1.5-0.5-2-1-1.4-1.1-1.7-2-0.5-1-0.5-1.5-0.1-2.5 0.5-2 1-2 1.5-2 1.7-1.6 2-1.5 4-2.1 3-1 3-0.6 3.5-0.1 3 0.2 2 0.5 2.5 1 1.8 1.2 1.2 1.1 1.1 1.4 0.9 2.3 0.5 0.4 1-0.1 2-0.8 2.5-0.6 2 0.1 0.8 0.7 0.1 0.5-0.3 1-1.6 1.8-1.5 1-2 1-4.5 1.7-4.5 4.2-3.4 2.3-0.4 1 0.3 0.9 0.5-0.1 0.5-0.3 2.5-2.2 1.5-1 5-2.6 4.5-1.5 2-0.5 4-0.3 0.5-0.3 0.9-1.6 0.9-1 1.7-1.2 2.5-0.9 2.5-0.6 5.5-0.4 4.5 0.4 2.5 0.5 4.5 1.4 5 2.5 7 4.9 1.5 0.7 6 1.2 2.5 0.9 3.2 1.6 2.3 1.5 2.3 2 1.7 2 1.1 2 0.6 2 0 1.5-0.4 1.5-1.3 1.6-1.5 0.9-2.5 0.7-2 0.2-4-0.3-1 0.1-1 0.8-1.4 2.5-1.1 1.3-1 0.9zM439.3 169.3l1.6-0.5 0.2-0.5-1.1-0.7-1.5-0.5-0.5 0.1-0.5 0.5-1 1.6 0.5 0.4zM438 181.3l-1 0.3-2 0-0.5-0.1-1.5-0.7-0.6-0.5-0.6-1 0.1-1.5 1.1-1.2 1-0.6 1.5-0.3 1 0 2 0.4 2 0.9 0.5-0.2 2-1.2 3-0.3 3 0.2 3.5 1.1 2 1.2 0.7 1 0 0.5-0.3 0.5-1.4 0.7-4.5 0.1-3-0.6-1.5-0.5-3-1.6-0.5 0-1.4 2.4zM326.5 212.3l-0.5 0-1-0.4-1.2-1.6-0.5-2-0.3-3.5-2.6-3.5-0.5-1.5-0.2-2 0.2-1.5 0.4-1 0.7-1.3 1-1.1 1.5-1.1 1.5-0.6 2-0.2 1.5 0.2 1.5 0.5 2 1.6 1.1 1.5 0.4 1 0.4 2.5-0.2 1.5-0.5 1.5-1.1 1.5-2.1 1.9-0.3 0.6-0.3 1-0.2 2.5-0.5 1.5-0.5 1-0.7 0.6zM292.5 265.5l-2.5 0.1-0.9-0.3-0.5-0.5-0.2-0.5 0.4-1 2.3-2.5-0.4-0.5-4.7-1.4-4-1.9-3-2.2-2.1-2-2-3-1-2.5-0.4-2.5 0.1-2 0.8-3 1.1-2 1.6-2 1.9-1.6 2.5-1.5 2.5-1.1 3.5-0.9 3.1-0.4 0.6-0.5-0.9-1-2.6-2-1.5-1.5-0.3-0.5 0-0.5 0.6-0.3 2.5 0.1 4.5 1.5 5.5 2.5 2.5 1.5 4 2.8 0.5 0.1 0.5-0.4 1.8-4.3 0.9-1.5 2.4-3-0.1-0.8-0.8-2.2-0.2-2.2-0.5-0.9-3.5 1.7-3.5 0.6-2.5-0.3-2.5-0.8-1-0.7-0.8-0.9-0.3-1 0.1-1 1-1.6 1.2-0.9 1.3-0.7 1.5-0.5 2.5-0.3 3.5 0.3 1.5 0.5 1 0.6 1.5 1.8 0.5 0.1 3-2 1.5-0.5 2.5-0.1 1.5 0.5 1.5 1 1.3 1.3 1 2 0.7 2.8 0.5 0.2 1.5-0.6 1-0.1 1 0.2 1 0.5 1.2 1 1 1.5 1.3 4.4 0.5 0.3 2 0.1 1 0.8 0.8 0.9 1 2.5 0.5 2.5 0.2 3.8 0.5 0.9 0.9-1.2 1.2-1 1.4-0.5 1.5-0.1 1.5 0.5 1 0.6 1.1 1 0.9 1.5 0.4 2-0.4 2-0.7 1-0.8 0.8-1 0.5-1 0.3-2-0.2-1-0.4-1-0.7-1.2-1.3-1.3-2.7-1 2.6-0.8 3.1-1.4 3.5-1.6 2.5-1.7 1.6-1 0.6-1.5 0-1-0.6-1-1.3-0.8-0.8-0.7 0-0.9 0.5 0.2 0.5 1.5 1.5 0.4 1 0.1 1.5-0.6 2-1.2 1.3-1 0.5-1.5 0.4-1-0.1-1-0.3-1-0.6-0.7-0.7-1-1.5-0.1-0.5 0.1-1.5 0.9-2-0.2-0.5-1.4 0-1.1 0.3-1.5 0.1-0.5 0.1-0.1 0.5 2.1 1.6 1.2 1.4 0.2 0.5-0.2 2.5-0.5 1-1.2 1.2-1.5 0.3-1.5-0.3-1.2-1.2-0.8-1.3-0.5-0.3-4 1.4-3 0.4-4.5 0.1-0.5 0.1-0.5 0.3-1.7 1.8-1.3 1.1zM342 223.3l-1 0-0.5-0.3-0.5-0.9-0.2-0.8 0.1-1 0.4-1 0.7-0.6 0.5-0.1 1 0.4 0.6 1.3-0.1 1.8-0.5 0.9zM326.2 247.8l0.4-0.5 0.1-5.5 0.3-1.1 0.2-2.4 0.3-0.4 0.2-1.6 0.3-0.9 0-0.8-0.5-0.5-2-0.6-1-0.8-1.1-1.4-1.1-3-0.2-3-0.1-0.3-0.5-0.1-3.5 1.5-0.5 0.9-0.3 2-0.4 1.5-1.5 3-2 3 0 0.5 0.7 0.5 2 0.8 1.5 1 1.3 1.2 0.9 2 0 0.5-0.5 1.5-1.7 1.8-1.3 0.7 0.3 0.4 5.5-0.2zM321.5 267.9l-1 0-0.5-0.2-0.5-0.5-0.4-0.9 0-0.5 0.4-1 1-0.7 1 0 0.5 0.2 0.5 0.5 0.4 1 0 0.5-0.4 0.9zM304.5 268.9l-2 0-2.5-0.6-1.9-1-0.4-0.5-0.2-0.5 0.5-0.7 1.5-0.5 2.5 0.1 2 0.5 1.3 0.6 1.1 1 0 0.5-0.3 0.5zM293.5 278.9l-1 0.4-0.5 0-1-0.5-0.7-1-0.3-1.3-0.5-0.4-1.5 0.8-1.5 0.4-1-0.5-0.3-0.5-0.4-1 0-1 0.5-2 1-2 1.7-1.6 1.5-0.4 1 0.5 0.3 0.5 0.4 1 0 1-0.5 3 0.3 0.4 1.5 0 0.5 0.2 1.1 0.9 0.2 1-0.1 1zM309.5 275l-1 0.2-1.4-0.4-0.5-0.5-0.2-0.5 0.1-1 0.5-0.6 1-0.4 1 0 1 0.4 0.5 0.6 0.1 1-0.2 0.5zM248.5 285.5l-0.5 0.3-0.5-0.2-0.7-0.8-0.6-1.5-0.1-2 0.2-3 0.7-1.5 0.5-0.4 0.5-0.2 0.5 0.3 0.6 0.8 0.7 2.5-0.1 3-0.4 1.5zM228.5 346l-1 0.2-1.5-0.4-1.1-1-0.9-1.3-2-0.5-1.1-0.7-0.4-1 0.1-1 0.2-0.5 1.7-2 0.8-1.5 0-0.5-1.8-1.4-1.3-1.6-0.1-2 0.4-1.7-0.5-0.8-1.5-1.1-0.6 0.1-1.2 1.5-0.7 0.6-1 0.2-1-0.2-1.2-1.1-0.5-1-0.2-2 0.2-1.5 0.7-1.5 0.5-0.6 1-0.6 1.5 0.2 1.9 1 0.6 0.1 1-0.1 1-0.5 0.1-0.5-0.3-2 0-2 0.6-3 1.5-3 2.6-2.7 2.5-1.4 2-0.7 3-0.2 2.5 0.2 2 0.5 0.6-0.2-0.6-3.5 0.3-2.5 0.4-1-0.1-1.5-0.6-0.3-2 0.3-1-0.1-1-0.2-1-0.5-1.1-1.2-0.5-1.5 0-1 0.4-1 0.7-0.8 1.5-1 2-0.3 3 0.9 1-0.3 1-0.8 1-0.4 1-0.1 1 0.1 1 0.5 1.6 1.7 0.7 1.5 0.1 3-0.7 2-1.7 2-0.2 0.5-0.1 2-0.4 2-0.5 1-0.8 0.9-1.5 1.1 0 0.5 1.7 2.5 0.6 1.5 0.8 3.5 0.1 1.5 0 1.5-0.4 2-1.1 2.5-1.5 2-1.2 1.2-1.8 1.3-0.1 0.5 0.2 0.5 2.5 3 0.4 1-0.1 1-0.6 0.7-1 0.5-1.1 0.3-0.9 0.5-0.6 1.5-0.4 0.5-1 0.7-1.5 0.4-1 0-1.5-0.4-2-1.1-0.5 0.4-1.9 2.5 0.1 0.5 1.3 0.8 1.2 1.2 0.2 1.5-0.4 0.8zM247 318.5l-1 0-0.7-1.2-0.1-3.5 0.4-1.5 0-1.5 0.4-0.7 0.1-1.3 0.4-0.5 0.1-1 0.4-0.5 0.2-1 0.3-0.3 0.7-1.7 1.1-1.5 0.7-0.7 1-0.1 0.7 0.8 0.2 1.5 0 3.5-0.5 1.5-0.1 1.5-0.3 0.3-0.1 1.2-0.4 0.6-0.1 0.9-0.4 0.4-0.8 2.1-0.9 1.5zM219 307.4l-1 0-0.5-0.3-0.6-0.8-0.1-1.5 0.7-0.9 0.5-0.3 0.5-0.1 0.9 0.3 0.8 1-0.1 1.5-0.6 0.8zM229.3 336.3l1.4-1.5-0.3-0.5-1-0.5-0.9-0.1-1.2 1.1-0.3 0.5 0.2 0.5 1.3 0.9 0.5-0.1z"/>
<path fill="#0000b1" d="M454 104.9l-2 0.3-1.5 0-2-0.3-1.5-0.5-1.5-0.7-1.5-1.2-1-1.2-0.9-1.5-0.5-1.5-0.1-1.5 0.1-1.5 0.4-1.5 0.8-1.5 0.8-1 1.4-1.2 1.5-0.9 2-0.7 2-0.3 2 0 2 0.5 1.5 0.6 1.5 1 1.5 1.5 0.9 1.5 0.6 1.5 0.3 2-0.2 2-0.6 1.5-1.1 1.5-1.4 1.3-2 1.2zM472.5 115.8l-1.5 0.1-1.5-0.6-0.9-1-1.1-1.6-2-1.3-1-0.9-1-1.5-0.6-1.7-0.2-1.5 0-2 0.3-2 0.6-1.5 0.9-1.4 1-1.1 1.5-1.1 1.5-0.6 2 0 1 0.4 1 0.6 1.5 1.8 0.9 2.4 0.2 2-0.1 2-0.5 1.7-1.4 3.3 0.9 2.5 0.1 1-0.6 1.3zM486.5 106.3l-0.5-0.2-0.2-0.8 0.2-0.4 0.5-0.2 0.5 0.2 0.2 0.4-0.2 0.8zM422 144.9l-2.5 0.2-1.4-0.3-0.9-0.5-0.7-0.7-0.5-1-0.1-1.3 0.1-1 1-2.2 2.3-2.8 0.6-1 0.6-4 0.5-1.5 0.6-1 1.4-1.5 1.2-1 1.8-1.1 2-0.9 3.5-1.2 4-0.5 3.5 0.1 2.5 0.4 1.5 0.5 2.5 1.4 1.5 1.8 0.5 1.5-0.1 2.5 0.2 0.5 3.4 1 1 0.7 0.6 0.8 0.3 1.5-0.3 1.5-0.7 1-0.9 0.9-1 0.7-1 0.4-2 0.4-2-0.2-1-0.5-0.8-0.7-1.2-2.3-0.5-0.2-0.5 0.1-3 1.1-5.5 1.2-1.8 0.6-1.2 1-1.6 2-1.5 1.5-2.4 1.4zM470 147.4l-1 0.3-1.3-0.4-1-1-0.7-1.4-0.5-1.6-0.2-1.5 0.1-2.5 0.4-2-0.3-1-1-0.8-3.2-1.2-1.2-1-0.7-1-0.2-1 0.2-1 0.8-1 0.8-0.6 1.3-0.4 1.2-0.2 1.5 0.1 1.5 0.3 1.5 0.6 1 0.7 1 1 0.5 0.8 0.4 1.2 0.3 2.5 1.1 3.5 0.2 2.5-0.2 2-0.7 2-0.6 1.1zM456 143.8l-1.5-0.3-0.7-0.7-0.2-0.5-0.1-1 0.5-1.4 1-1.3 1.5-1 1.5-0.4 1.5 0.3 0.5 0.4 0.5 0.9 0 1-0.5 1.3-1.5 1.7-1 0.6zM438 144.4l-2.5 0.4-1.5-0.1-1.8-0.4-0.5-0.5 0.4-0.5 1-0.5 2.4-0.5 2.9 0 1.5 0.5 0.2 0.5-0.5 0.5zM413 176.3l-1.5 0.3-2-0.1-1.5-0.6-2.5-1.2-4-0.6-2-0.5-2.8-1.3-1.3-1-1-1-1.1-1.5-0.5-1.5-0.3-1.5 0.1-2 0.5-1.5 1-2 1.4-1.9 1.6-1.6 1.4-1.1 2.5-1.5 3.5-1.4 4.5-1.1 4-0.1 2 0.1 2 0.5 2 0.7 1.8 0.9 2.3 2 1 1.5 0.8 2 0.6 0.3 1-0.1 2.5-0.9 2-0.4 1.5 0 1.1 0.6 0.1 0.5-0.3 1-1.4 1.6-1.5 1.1-2 1-3.7 1.3-1.3 0.7-3.5 3.4-4.1 2.9-0.4 1 0.3 1.5-0.5 0.5zM477 195.4l-1.5 0.1-1.5-0.5-1-0.8-0.9-1.4-0.3-1.5 0-1.5 1.2-4 0.1-1-0.3-1-1.4-1.5-2.6-2-3.5-2-13.8-5.7-1.5-0.4-1-0.1-4.5 1.4-2.5 0.5-3.5 0.2-3.5-0.2-2.5-0.9-1.5 0.5-5 2.4-3 1-2.5 0.5-2 0.1-1.7-0.3-0.6-0.5-0.6-1.5 3.4-3.1 1.5-1.1 4.5-2.5 2.5-1 3-1 2.5-0.5 4-0.1 0.4-0.2 0.9-2 0.8-1 1.5-1 2.9-1.1 4-0.7 4.5-0.1 3 0.3 2.5 0.4 3.5 1 3.5 1.5 3 1.6 7.5 5.2 1.5 0.5 3.5 0.6 2.5 0.7 2.5 1 2.2 1.1 2.3 1.5 2.4 2 1.6 1.9 1 1.6 0.7 2 0.1 2-0.5 1.5-1.3 1.4-2 1.1-2 0.5-2.5 0-3-0.2-1.2 0.2-1.1 1-1.2 2.2-1 1.3-1.2 1zM437.4 169.8l3.8-1 0.2-0.5-1.9-1.2-1.5-0.4-0.5 0.4-1.2 2.2 0 0.5zM453 180.4l-4 0.1-3-0.7-1.5-0.5-1.9-1-0.7-0.5-0.4-0.5 0.1-0.5 0.5-0.5 1-0.5 1.9-0.3 3.5 0.1 2.5 0.6 2.5 1.1 1.2 1 0.3 0.5-0.1 0.5-0.4 0.5zM437.5 181.3l-2.5 0.1-2-0.8-1-1.3-0.1-1 0.5-1 1.6-1.1 2-0.3 2.4 0.4 1.9 1 0.1 0.5 0 0.5-0.6 1.5-1.1 1zM327 212l-0.5 0.1-1-0.2-0.8-0.6-0.6-1-0.6-2-0.3-3.5-0.5-1-2-2.5-0.6-1.5-0.2-1.5 0.1-1.5 0.5-1.5 1.3-2 1.2-1 1-0.5 2.5-0.6 2.5 0.4 1.5 0.7 1 0.8 1 1.1 0.6 1.1 0.4 1.1 0.2 1.4-0.2 2-0.5 1.3-1 1.5-2.3 2.2-0.4 1-0.2 2.5-0.5 2-0.7 1zM292 265.4l-1.5 0.1-0.9-0.2-0.7-0.5-0.2-0.5 0.3-1 0.4-0.5 2.1-2-0.2-0.5-5.3-1.6-4-1.9-3.5-2.7-1.5-1.5-1.3-1.8-1.4-3-0.6-3 0.3-3 1-2.8 1.1-1.7 1.4-1.6 1.7-1.4 2.3-1.4 2-0.9 2.5-0.8 5.5-0.9 0.1-0.5-0.4-0.5-3.2-2.5-1.5-1.5-0.1-0.5 0.6-0.5 1.5 0 2 0.4 4 1.5 6 3 5 3.5 0.5 0 0.5-0.3 2.3-5.1 2.9-4-0.2-1-0.6-2-0.4-3.2-0.5-0.4-2.6 1.6-1.4 0.5-2 0.4-2.5 0-2.5-0.6-1-0.5-1-0.8-0.5-0.7-0.3-0.8 0.1-1 0.6-1 1.7-1.5 1.9-0.8 2-0.4 2-0.1 2 0.2 1.5 0.5 1.1 0.6 1.1 1 0.8 1.3 0.5-0.2 2.5-1.8 1-0.5 1.5-0.5 1.5 0 2 0.6 1.5 0.9 1.7 2.2 0.5 1 0.8 3.2 0.5 0 1.5-0.6 1-0.1 1 0.2 1 0.5 1 0.9 1 1.5 0.6 1.4 0.5 2.5 0.4 0.7 0.5 0.2 1.5 0 1 0.4 1.1 1.2 0.5 1 0.5 1.5 0.6 3 0.2 5.5-1.7 6-1.6 4-0.9 1.5-1.2 1.6-1.1 0.9-1.4 0.6-1-0.1-0.8-0.5-1.7-2-1-0.1-1.1 0.6 0.2 0.5 1.5 1.5 0.5 1.5 0.1 1-0.5 1.5-0.6 1-1.6 1.2-1.5 0.3-2-0.3-1-0.7-0.9-1-0.6-1-0.1-1 0.4-2 0.5-1 0-0.5-1.3-0.1-3 0.4-0.7 0.2-0.1 0.5 2.5 2 0.7 1 0.3 1-0.1 1.5-0.4 1-0.6 1-0.7 0.5-1.4 0.4-1.4-0.4-1.1-1-0.9-1.5-0.6-0.2-4.5 1.4-3 0.4-4.5 0.1-0.6 0.3-1.8 2-1.1 0.9-1.5 0.7zM342 222.9l-0.5 0.1-0.7-0.2-0.4-0.5-0.3-1 0.1-1 0.3-0.8 0.5-0.4 0.5-0.1 0.5 0.1 0.5 0.4 0.4 1.3-0.3 1.5zM326.5 247.8l0.3-0.5 0-5 0.5-3.5 0.8-3.5 0-1-0.6-0.4-2-0.7-1.6-1.4-0.8-1.5-0.5-1.5-0.5-4-0.6-0.1-3.5 1.5-0.4 0.6-0.4 2-1 3-1 2-2.1 3 0 0.5 3.4 1.7 1 0.8 1.1 1 0.8 1.5 0.1 1-0.5 1.5-1 1.2-2 1.3-0.1 0.5 5.6-0.2 4 0.3zM346 244.9l-2 0.1-1.5-0.5-1.5-1.3-1-1.7-0.4-1.7 0.3-1.5 0.9-1.5 1.5-1 1.7-0.3 2 0.5 1.5 1 1.2 1.8 0.4 2-0.1 1-0.4 1-1.1 1.4zM322 267.3l-1 0.3-0.5-0.1-0.5-0.2-0.4-0.5-0.2-1 0.1-0.5 0.5-0.6 1-0.3 0.5 0.1 0.5 0.2 0.5 0.6 0.1 1zM305 268.4l-2 0.2-2.2-0.3-2.2-1-0.4-0.5-0.1-0.5 0.4-0.5 1.5-0.4 1.5 0 2.1 0.4 1.1 0.5 0.8 0.5 0.3 0.5 0.1 0.5zM287.5 276.9l-1 0.1-0.5-0.1-0.5-0.5-0.5-1.6 0.2-1.5 0.7-2 1.1-1.5 1.3-1 1.2-0.2 0.5 0.1 0.5 0.5 0.4 1.1 0.1 1-0.6 4zM309 274.9l-1.3-0.1-0.7-0.5-0.3-1 0.2-0.5 0.6-0.5 1.5-0.2 0.5 0.2 0.6 0.5 0.2 0.5-0.3 1zM293 278.9l-1 0.1-0.6-0.2-0.5-0.5-0.6-1.5 0-1 0.3-0.5 0.9-0.3 1 0 0.8 0.3 0.5 0.5 0.3 1-0.1 1-0.5 0.7zM248 285.5l-0.5-0.1-0.5-0.6-0.5-1-0.3-3 0.2-2 0.3-1 0.6-1 0.7-0.3 0.5 0.3 0.6 1 0.4 1.5 0.2 1.5-0.1 1.5-0.5 2-0.6 0.9zM228 345.9l-1 0.1-1-0.4-0.9-0.8-1.1-1.6-2-0.4-0.8-0.5-0.3-0.5-0.2-1 0.3-0.9 1.7-2.1 0.8-1.5 0.1-0.5-2.1-1.6-1.1-1.4-0.2-1.5 0.5-2-0.2-0.5-1.5-1.5-0.5-0.3-0.5 0-1.5 1.8-0.5 0.4-1 0.2-1-0.2-1-1-0.6-1.4-0.2-1.5 0.2-1.5 0.8-1.5 1.3-0.9 1-0.1 2.5 1.2 0.5 0.1 1.5-0.3 0.7-0.5 0.1-0.5-0.4-3.5 0.3-2 0.4-1.5 0.9-2 1-1.5 1-1.1 1.5-1.2 2.5-1.3 2.5-0.6 3-0.1 4 0.7 0.4-0.4-0.6-2-0.1-1.5 0.1-2 0.6-2-0.2-1-0.2-0.4-0.5-0.2-2.5 0.4-1.5-0.3-0.9-0.5-0.6-0.5-0.7-1-0.2-1 0.1-1 0.7-1.5 1.6-1.1 1.5-0.3 1 0.1 2.5 0.8 3-1.5 1.5-0.1 1.5 0.6 1.1 1 1.1 2 0.1 2-0.1 1.5-0.4 1-2.2 3-0.5 4-1.1 1.7-1.8 1.3 0.1 0.5 1.4 2 1 2 0.6 2.5 0.3 2.5-0.5 3.5-1.1 2.5-1.5 2-3 2.5-0.1 0.5 2.7 3.5 0.4 1.5-0.5 1-1 0.5-1.6 0.5-0.7 0.5-0.6 1.5-0.6 0.6-1 0.5-1.5 0.3-2-0.4-0.8-0.5-1-1 0.5-1 1.3-1.5-0.4-0.5-1.6-0.7-0.5 0-0.9 0.7-0.9 1 0.2 0.5 1.5 1.5 0 0.5-0.9 1.5-1.3 1.5 0 0.5 2.3 1.5 0.6 1 0.1 1-0.2 0.5zM247 318.3l-0.5 0.1-0.5-0.1-0.7-1.5-0.1-2.5 0.6-3.5 0.9-3.5 1.6-3.5 1.7-2 0.5-0.2 0.5 0.1 0.7 1.1 0.1 1 0 3.5-0.5 2.5-1.1 3.5-0.9 2-1.2 2zM219.5 306.8l-1 0.5-0.5-0.2-0.5-0.3-0.3-0.5-0.2-0.5 0.1-1 0.4-0.6 0.5-0.4 1 0 0.5 0.4 0.4 0.6 0.1 1z"/>
<path fill="#0000c4" d="M453 104.9l-2 0.1-1.5-0.1-2-0.5-1.3-0.6-1.5-1-1.2-1.2-0.9-1.3-0.6-1.5-0.3-1.5 0.1-1.5 0.3-1.5 0.7-1.5 1.1-1.5 1.1-0.9 1.5-1 1.5-0.6 2-0.4 2 0 2 0.4 1.4 0.5 1.6 0.9 1.3 1.1 1.1 1.5 0.7 1.5 0.4 1.9 0 1.6-0.4 1.5-0.7 1.5-1.3 1.5-1.6 1.2-1.5 0.8zM472.5 115.5l-1.5 0.2-1-0.3-0.7-0.6-1.7-2.5-2.1-1.3-1-1-0.9-1.7-0.5-1.5-0.1-1.5 0.1-2 0.3-1.5 0.6-1.5 1-1.5 1-1 1.5-0.9 1-0.4 2 0.1 1.6 0.7 1.5 1.5 1 2.5 0.2 2-0.2 2.5-0.5 1.5-1.3 2.5-0.1 0.5 1 2.5 0.1 1-0.4 1zM422.5 144.4l-1.5 0.3-1.5 0-1-0.3-1-0.5-0.6-0.6-0.5-1-0.1-1 0.2-1.1 1-2.2 2.5-3.2 0.3-1 0.3-3.5 0.4-1.1 0.8-1.4 1.2-1.3 1.5-1.2 1.6-1 2.4-1.1 3.5-1 4-0.5 3.5 0.2 3.6 0.9 2.4 1.4 1.3 1.6 0.5 1.5-0.2 2.5 0.1 0.5 0.8 0.4 2 0.4 1 0.4 1.1 0.8 0.5 1 0.1 1.5-0.6 1.5-1.4 1.5-1.7 0.9-2 0.4-2-0.3-1.6-1-1.3-2.5-1.1 0-3 1-6 1.4-1.8 0.6-0.7 0.5-2 2.4-1.5 1.4-2 1.2zM469 147.3l-0.5 0-1-0.5-1-1.3-0.5-1.2-0.5-3 0.5-4-0.2-1-0.8-0.7-3.5-1.4-1.1-0.9-0.7-1-0.2-1 0.2-1 0.8-1 1-0.5 2.5-0.5 2.8 0.5 2.2 1.2 0.7 0.8 0.6 1 0.7 3.5 1.1 3.5 0.2 3-0.3 2-0.9 2-1.1 1.2zM457 143.4l-1.5 0.2-0.9-0.3-0.5-0.5-0.4-1 0.3-1.5 1-1.4 1.5-1.1 1.5-0.4 1 0.1 1 0.8 0.3 1-0.2 1-0.4 1-0.7 0.8-1 0.8zM436.5 144.3l-2.6 0-0.9-0.5 0.3-0.5 1.4-0.5 0.8-0.1 2.5 0 0.4 0.1 0.6 0.5-0.5 0.5zM412 176.4l-2.5-0.1-1.5-0.5-2.5-1.3-4-0.6-2.3-0.6-2.9-1.5-2.1-2-0.9-1.5-0.5-1.5-0.1-1.5 0.2-2 0.6-1.6 1.1-1.9 1.2-1.5 1.6-1.5 3.6-2.4 3.8-1.6 4.2-0.9 4-0.2 2.5 0.3 2 0.5 2 0.8 1.5 0.8 1.4 1.2 0.9 1 1.7 3.4 1 0 3-1 2-0.4 1.5 0.1 0.8 0.4 0.2 0.5-0.3 1-1.3 1.5-1.4 1-2 1.1-3.5 1.2-1.5 0.7-3.6 3.5-4.2 3-0.3 0.5-0.3 2-0.4 0.5-1.2 0.7zM477.5 194.9l-1.5 0.4-1.5-0.3-1.1-0.7-0.9-1.3-0.5-1.7 0-1.5 1.3-4 0.1-1-0.3-1-1.4-1.5-3.4-2.5-3.3-1.7-14-5.8-2-0.3-5 1.5-4 0.5-4.5-0.1-2.5-0.9-0.5 0-1.5 0.5-5 2.4-3 1-2.5 0.5-2 0.1-1.5-0.3-0.5-0.4-0.3-0.5 0-1 0.7-1 1.6-1.5 3.5-2.5 4.5-2.2 4.5-1.5 3-0.4 2.5 0.2 0.5 0.4 0 0.5-1 2.5 0.5 0.2 5-1.2 0.2-0.5-3.1-2-0.4-0.5 0-1 0.4-1 0.9-1 1.5-1 2.5-0.9 4-0.8 4.5-0.1 5 0.7 4 1.1 2.5 0.9 3 1.6 2.5 1.5 5 3.7 1.5 0.8 1.5 0.5 3 0.5 2.5 0.7 2.5 1 2.5 1.3 2.2 1.5 1.7 1.5 1.6 1.8 1.1 1.7 0.7 2 0.1 1.5-0.4 1.5-1.2 1.5-1.6 1-2.2 0.6-2 0.1-4-0.2-1 0.3-1 1-2 3.4-1 0.9zM452.5 180.3l-3.5 0-2.5-0.5-1.5-0.5-1.2-0.5-1.5-1-0.3-0.5 0.1-0.5 0.9-0.7 2-0.5 3 0.1 2.8 0.6 2.4 1 1.2 1 0.2 0.5 0 0.5-0.5 0.5zM436.5 181.4l-1.5-0.1-1-0.3-1-0.6-0.6-0.6-0.3-1 0-0.5 0.4-0.8 0.7-0.7 1.3-0.6 2-0.2 1.5 0.3 1.8 1 0.3 1-0.6 1.6-1.1 0.9zM326.5 211.9l-0.7-0.1-0.8-0.5-1-1.5-0.3-1.5-0.3-3.5-0.5-1-1.4-1.6-0.8-1.4-0.5-1.5-0.1-1.5 0.3-1.5 0.3-1 1.4-2 1.4-1 1-0.5 2.5-0.4 2.5 0.6 2 1.3 0.8 1 0.7 1.3 0.4 1.2 0.1 1.5-0.4 2-0.6 1.3-0.9 1.2-1.6 1.4-0.5 0.6-0.3 1-0.3 3-0.5 1.5-0.9 1.1zM305 218.8l-2 0.2-1.5 0-1.5-0.3-1.5-0.6-1.1-0.8-0.7-1-0.1-1 0.3-1 0.8-1 1.3-0.9 1.3-0.6 1.7-0.5 1.5-0.1 2 0.1 1.5 0.3 1.5 0.6 0.8 0.6 0.8 1 0.3 1-0.1 1-1 1-1.4 1zM291 265.3l-1-0.1-0.7-0.4-0.3-0.5 0-0.5 0.6-1 2.3-2-0.1-0.5-5.8-1.8-4-1.9-1.8-1.3-1.8-1.5-1.4-1.6-1.3-1.9-1.3-3-0.5-3 0.4-3 1.1-2.5 1.1-1.7 1.5-1.6 1.6-1.2 1.9-1.2 2-0.9 2.5-0.8 5-0.8 1.1-0.3-0.1-0.5-0.5-0.5-3.2-2.5-1-1-0.3-0.5 0-0.5 0.5-0.2 2.6 0.2 3.1 1 2.4 1 4.8 2.5 2.3 1.5 2.3 1.9 0.5 0.3 0.5 0 0.7-0.7 1.2-3 1-2 2.7-3.5 0.2-0.5-0.9-3.5-0.2-4 1.8-2 2.5-1.6 1.5-0.4 1.5-0.1 1.5 0.4 1 0.5 1.5 1.2 1.1 1.5 1.4 4.5 2-0.7 1-0.1 1 0.2 1 0.5 1 0.9 1 1.6 0.5 1.4 0.5 2.4 0.5 0.8 2 0.1 1 0.4 0.9 1 0.6 1 0.6 2 0.5 3 0.1 5-1.6 6-0.9 2.5-1 2-1.2 1.8-1 1.1-1 0.7-1 0.3-1-0.1-0.5-0.2-2-2.2-1-0.1-1.3 0.7 1.8 2 0.4 1 0.2 1-0.3 1.5-0.5 1-0.8 1-1 0.6-1.5 0.3-1.5-0.2-1.3-0.7-1-1-0.5-1-0.2-1.5 0.4-1.5 0.7-1.5-1.6-0.1-3 0.3-1 0.3-0.1 0.5 2.7 2 0.7 1 0.3 1-0.1 1.5-0.4 1-0.6 0.9-0.9 0.6-1.1 0.3-1.1-0.3-0.9-0.6-1.3-1.9-0.7-0.3-4.5 1.4-3 0.3-4.5 0.1-1 0.5-1.7 2-1.4 1-1.4 0.6zM342 222.3l-0.5 0.2-0.5-0.2-0.5-1 0.1-1 0.4-0.6 0.5-0.2 0.6 0.3 0.4 0.9 0 0.7zM326.7 247.8l0.2-0.5 0-5 0.4-3 0.9-4 0-1-0.2-0.5-1.5-0.3-1-0.5-1-0.8-0.7-0.9-1-2.5-0.4-4-0.4-0.4-4.3 1.9-0.3 0.5-0.7 3.5-0.6 1.5-1 2-2.2 3 0 0.5 3.6 1.8 0.9 0.7 1.1 1.1 0.7 1.4 0.1 1.5-0.4 1-0.9 1-2.2 1.5-0.4 0.5 1.6 0.1 5-0.2 4 0.3zM346.5 244.4l-1.5 0.4-1.5-0.3-1.5-0.7-1.3-1.5-0.7-2 0.1-1.5 0.8-1.5 1.1-1 1.5-0.4 2 0.2 1.5 0.9 1.1 1.3 0.6 1.5 0 2-0.8 1.5zM321.5 267l-0.5 0.2-0.5-0.2-0.5-0.4-0.1-0.8 0.2-0.5 0.4-0.3 0.5-0.2 0.5 0.2 0.5 0.4 0.1 0.9zM303.5 268.3l-1.5 0-1.8-0.5-0.9-0.5-0.4-0.5-0.1-0.5 0.7-0.5 1.5-0.1 1.5 0.1 1.5 0.5 1 0.8 0.2 0.2-0.1 0.5-0.6 0.3zM288 276.4l-1 0.4-0.5 0-0.8-0.5-0.3-0.5-0.2-1 0.2-1.5 0.6-1.8 1-1.4 1.5-1.1 1-0.2 0.5 0.3 0.6 0.7 0.2 1-0.1 1.5-0.8 2.5-0.3 0.5zM309 274.4l-1 0-0.5-0.3-0.2-0.3-0.1-0.5 0.3-0.5 1-0.3 1 0.3 0.3 0.5-0.1 0.5zM293 278.6l-1 0.1-0.8-0.4-0.3-0.5-0.2-1.5 0.2-0.5 0.6-0.5 1.2 0 0.8 0.5 0.2 0.5 0.2 0.5-0.2 1zM248.5 284.9l-0.5 0.3-0.5-0.1-0.5-0.6-0.5-1.4-0.2-1.3 0.2-3 0.5-1.3 0.5-0.6 0.5-0.1 0.5 0.3 0.5 0.8 0.5 2.4-0.2 2.5-0.3 1.3zM227.5 345.8l-1.6-0.5-0.5-0.5-0.9-1.6-0.5-0.3-2-0.4-0.5-0.3-0.5-0.7 0-1.2 1.9-2.5 0.9-1.5 0.1-0.5-2.4-1.7-1-1.3-0.2-1.5 0.5-2-0.2-0.5-1.6-1.7-1-0.3-2 2.1-1 0.3-1-0.3-1-1.1-0.4-1-0.2-1 0.1-1.5 0.5-1.4 0.5-0.6 1-0.7 1.5 0.1 1.5 0.8 1 0.3 1.9-0.5 0.5-0.5-0.3-4.5 0.3-2 0.5-1.5 0.7-1.5 1.1-1.5 1.3-1.4 1.5-1.1 2.5-1.1 2.5-0.6 2.5 0.1 4 0.7 0.8-0.1-0.8-2.5-0.2-1.5 0.1-2 0.6-2-0.1-1-0.4-0.6-0.5-0.2-2.5 0.4-1-0.1-1.1-0.5-0.9-0.8-0.5-0.7-0.2-1 0-1 0.9-1.5 0.8-0.7 1-0.4 2-0.1 2.5 0.9 3-1.6 1-0.1 1 0.1 1.5 0.9 1.1 1.5 0.6 1.5 0 2-0.1 1-0.6 1.3-2 2.7-0.3 3-0.7 1.9-1 1.1-1.5 0.7-0.2 0.3 1.8 2.5 0.7 1.5 0.7 2.5 0.4 3-0.4 3-1.2 3-1.8 2.3-2.7 2.2-0.1 0.5 0.3 0.5 2.4 3 0.4 1.5-0.1 0.5-0.7 0.6-2.6 0.9-0.4 0.3-0.5 1.4-0.7 0.8-1 0.5-1.3 0.2-1.3-0.2-0.7-0.3-0.9-0.7-0.3-0.5 0.3-1 1-1 0.2-0.5-0.5-0.5-1.8-0.8-1 0.3-0.6 0.5-0.9 1 0 0.5 1.1 1 0.3 0.5 0.1 0.5-0.5 1.1-1.7 1.9-0.2 0.5 0.4 0.5 2 0.8 0.9 1.2 0 1-0.3 0.5zM247.5 317.8l-1 0.5-0.5-0.3-0.5-1.2-0.2-2.5 0.5-3 1-4 1.1-2.5 1.6-2.4 0.5-0.4 0.8-0.2 0.2 0.1 0.5 0.7 0.2 1.2 0 3-0.5 3-1.5 4.5-1 2zM219 306.8l-1 0-0.5-0.5-0.2-1 0.2-0.6 0.5-0.5 1 0 0.6 0.6 0.1 1-0.2 0.6z"/>
<path fill="#0000da" d="M454 104.3l-2 0.4-1.5 0.1-3-0.7-2.5-1.4-1-1-1-1.4-0.7-1.5-0.3-1.5 0.1-1.5 0.3-1.5 0.8-1.5 0.8-1.1 1-1 1.5-1 1.5-0.6 2-0.4 2 0 2 0.4 1.8 0.7 1.5 1 1.2 1.2 0.8 1.3 0.7 1.8 0.2 1.7-0.1 1.5-0.6 1.5-0.9 1.5-1.5 1.5-1.6 1zM472 115.3l-1.3 0-1.2-0.8-1.5-2.7-2-1.1-1.4-1.4-0.6-1.1-0.5-1.8-0.1-1.6 0.1-1.5 0.3-1.5 0.7-1.5 1.6-2 1.4-0.9 1-0.3 1-0.1 1 0.1 1.5 0.7 1 1 0.5 0.8 0.8 2.2 0.1 2-0.3 2-0.5 1.5-1.4 2.5 0 0.5 1.2 2.5 0 1-0.5 1zM422.5 143.8l-2.5 0.3-1-0.2-1-0.5-0.5-0.6-0.4-1-0.1-1 0.2-1 0.7-1.5 2-2.5 0.6-1 0.4-4.5 0.5-1.5 0.7-1 1.4-1.5 1.2-1 1.8-1.1 2.5-1 3.5-1 4-0.4 3.5 0.3 3 0.9 2.3 1.3 1.2 1.5 0.6 1.5 0 1-0.2 1.5 0.1 0.7 0.5 0.3 2.5 0.4 1 0.4 0.8 0.7 0.6 1 0.2 1.5-0.6 1.5-1.5 1.5-1.5 0.7-1 0.3-1.5 0.1-1-0.1-1-0.4-1.3-1.1-0.8-2-0.4-0.4-0.5 0.1-4 1.3-6 1.3-1.5 0.5-1.1 0.7-1.9 2.3-1.4 1.2-1.6 1zM469.5 146.8l-1 0.1-1-0.6-1-1.4-0.4-1.1-0.4-3 0.6-3.5-0.1-1-0.7-0.8-3-1.1-1-0.5-0.7-0.6-0.7-1-0.3-1 0.3-1 0.4-0.5 1-0.7 2-0.5 2.5 0.2 1.4 0.5 1.1 0.7 0.9 0.8 0.6 1 0.6 3.5 1.2 3.5 0.3 2.5-0.2 1.5-0.6 2-0.8 1.3zM457.5 142.9l-1.5 0.4-1-0.2-0.8-0.8-0.1-0.5 0-1 0.9-1.5 1-0.9 1.4-0.6 1.1 0 1 0.5 0.3 0.5 0.1 1-0.3 1-0.6 1zM411 176.3l-2.5-0.5-3-1.4-4-0.6-3-1-2.5-1.5-1.9-2-0.7-1.5-0.4-1.5 0-2 0.3-1.5 0.6-1.5 1.1-1.7 1.5-1.8 1.5-1.3 3.5-2.2 3.9-1.5 4.1-0.8 4-0.1 4 0.8 1.6 0.6 1.8 1 2.1 2 0.9 1.5 0.6 1.8 0.5 0.4 1-0.1 3.1-1.1 1.4-0.3 1.5 0 1 0.4 0.2 0.4-0.2 1-1.3 1.5-1.4 1-1.9 1-3.9 1.3-1.3 0.7-3.6 3.5-4.2 3-0.3 0.5-0.2 1.5-0.7 1-1.2 0.6zM476.5 194.9l-1.4-0.1-1.1-0.5-1-1-0.4-1-0.3-1.5 0.1-1.5 1.3-3.5 0.1-1-0.3-1-1.3-1.5-3.5-2.5-3.2-1.7-14.5-5.9-2-0.3-5 1.5-4.5 0.6-4-0.2-2.5-1-0.5 0-1 0.3-4.5 2.3-2.5 0.9-2 0.6-2.5 0.4-2 0-1-0.4-0.4-0.6 0-1 0.6-1 1.5-1.5 3.6-2.5 4.2-2.1 4.5-1.4 3.5-0.5 1 0.2 0.8 0.3 0.3 0.5 0 0.5-0.9 2 0.3 0.4 6-1.4 0.1-0.5-2.8-2-0.4-0.5-0.2-1 0.3-1 0.9-1 1.6-1 2-0.7 4-0.8 4.5-0.2 4.5 0.6 4.2 1.1 3.7 1.5 2.8 1.5 8.3 5.8 1.5 0.6 5.3 1.1 2.6 1 2 1 2.2 1.5 1.8 1.5 1.6 1.8 1.1 1.7 0.6 2 0.1 1.5-0.5 1.5-1.3 1.4-1.5 0.8-2 0.5-2 0.1-3.5-0.2-1 0.2-1 0.9-1.5 2.8-1 1.2-1 0.8zM453.5 179.8l-1.5 0.4-1.5 0.1-3.5-0.5-1.6-0.5-2-1-0.9-1 0.1-0.5 0.5-0.5 1.9-0.5 2.4 0 2.8 0.5 2.6 1 1.2 1 0.2 0.5-0.1 0.5zM437.5 181l-2 0.2-1-0.2-1-0.5-1-1.2-0.1-1 0.2-0.5 1-1 1.4-0.5 2 0 1.6 0.5 0.7 0.5 0.3 0.5 0.1 1-0.7 1.3zM327 211.4l-0.5 0.2-1-0.2-1-1.1-0.6-1.5-0.2-3.5-0.2-1-2.5-3.4-0.5-1.5-0.1-1.1 0.1-1.5 0.3-1 1.2-2 2-1.5 1.5-0.5 1-0.1 1.5 0.1 1 0.3 2.1 1.2 0.9 1 0.6 1 0.4 1.1 0.2 1.4-0.1 1.5-0.5 1.5-0.9 1.5-1.7 1.5-0.8 1-0.7 4.7-0.5 1zM305.5 218.4l-2 0.3-1.5 0-1.5-0.2-1.5-0.5-1-0.7-0.8-1-0.1-1 0.3-1 0.8-1 0.8-0.6 1.5-0.7 1.5-0.4 3-0.1 1.7 0.3 1.3 0.5 1 0.8 0.5 0.7 0.3 1-0.3 1-1.4 1.5zM293 264.8l-2.5 0.2-0.6-0.2-0.5-0.5 0-0.5 0.6-1 2.4-2 0.1-0.5-1-0.4-5-1.4-3.7-1.7-3.5-2.5-2.7-3-1.6-3-0.7-3 0.1-3 1-3 1.1-1.7 1.5-1.7 2-1.6 1.7-1 3.8-1.5 2.5-0.6 4-0.4 0.8-0.5-0.8-1-3.8-3-0.3-0.5-0.1-0.5 0.7-0.4 2.5 0.4 5.2 2 3.8 2 2.9 2 2.1 1.8 0.5 0.3 0.5 0 0.5-0.4 0.4-0.7 1.1-3 1-2 1-1.5 1.8-2 0.1-0.5-0.8-3-0.2-1.5 0-2 0.5-1.5 0.8-1 1.1-1 2.2-1.2 1.5-0.3 1 0.1 2 0.5 1.5 1 1.5 1.9 0.6 1.5 0.6 3 0.3 0.4 2.5-0.9 1 0 1.5 0.7 1 0.9 1 1.8 1.1 4.1 0.4 0.3 1.5-0.1 1.1 0.3 0.9 0.7 1 1.7 0.5 1.6 0.4 2.5 0.1 5-0.3 2-1 4-1.7 4.2-1 1.7-1 1.3-1 0.9-1 0.5-1 0.1-1-0.4-2-2.1-1 0-1.6 0.8 0.3 0.5 1.6 1.5 0.5 1 0.1 1-0.2 1.5-0.5 1-0.7 0.8-1.1 0.7-1.4 0.3-1.5-0.2-1.2-0.6-0.9-1-0.6-1-0.1-1.5 0.3-1.4 0.9-1.6-1.4-0.2-3.5 0.3-1.4 0.4 0 0.5 2.9 2.2 0.6 0.8 0.3 1.5-0.4 2-0.5 0.7-1 0.7-1.5 0.2-1-0.5-0.6-0.6-0.9-1.5-0.5-0.4-0.5-0.1-2.7 1-2.3 0.6-2.5 0.2-4 0-1.3 0.2-0.7 0.5-1 1.5-1 0.9-1 0.6zM326.8 247.8l0.2-0.5-0.1-3 0.2-2.5 0.3-2.5 1-4.5-0.1-1-0.3-0.3-1.5-0.3-1-0.4-1.5-1.5-0.8-1.5-0.4-1.5-0.2-4-0.6-0.2-4.5 2.2-0.2 0.5-0.8 3.5-0.5 1.4-1.5 2.8-1.8 2.3 0 0.5 2.8 1.4 1.7 1.1 1.3 1.3 0.6 1.2 0.1 1.5-0.7 1.3-1 1-2.5 1.7 1.5 0.2 6-0.2 3.5 0.3 0.5 0zM345 244.3l-1.5-0.2-1.4-0.8-1.1-1.3-0.4-1.2-0.1-1.5 0.6-1.5 1-1 1.4-0.5 1.5 0.1 1.5 0.7 1.1 1.2 0.6 1.5 0.1 1.5-0.6 1.5-1.2 1.1zM303 267.4l-1.9-0.1-0.5-0.5 0.9-0.3 1 0.1 0.6 0.2 0.3 0.5zM287.5 276.3l-1 0.1-0.7-0.6-0.3-1 0.1-1.5 0.5-1.5 1-1.5 1.4-1 1-0.1 0.5 0.3 0.5 1.1 0 1.2-0.3 1.5-0.4 1-0.7 1zM293 278l-0.5 0.3-0.5-0.1-0.6-0.4-0.2-1 0.1-0.5 0.5-0.5 0.7-0.1 0.7 0.6 0.2 1zM248.5 284.4l-0.5 0.4-0.5-0.2-0.3-0.3-0.4-1-0.3-1.5 0-1.9 0.4-1.6 0.6-0.9 0.5-0.2 0.5 0.4 0.5 0.9 0.3 1.8-0.1 2.5zM241 307.3l-1 0.3-0.5 0-0.5-0.3-0.5-0.6-0.7-1.4-0.3-1-0.1-1.5 0.8-4-0.2-0.7-0.5-0.7-0.5-0.1-2 0.4-1.5-0.1-1.4-0.8-0.8-1-0.3-1 0.1-1 0.4-1 1.2-1 1.3-0.5 1 0 3 0.9 2.5-1.5 1.5-0.3 1 0.2 1 0.4 0.8 0.8 0.7 1 0.6 2-0.2 2.5-0.6 1.5-2 2.5-0.2 3-0.6 1.5-0.5 0.8zM247 318l-0.5 0.1-0.5-0.3-0.5-1.5 0-2 0.3-3 1-3.5 1.2-2.9 1.5-2.3 1-0.7 0.7 0.4 0.5 1.5-0.1 3-0.5 3-0.9 3-1.1 2.5-1.1 1.8zM218.5 306l-0.5-0.2 0-0.5 0.5-0.4 0.5 0.4 0 0.5zM223.5 342.3l-1 0-0.5-0.3-0.5-0.4-0.2-0.8 0.4-1 2.6-3.5 0.1-0.5-2.5-1.5-1.2-1.5-0.3-1.5 0.5-2-0.1-0.5-1.8-1.9-1-0.4-0.5 0.2-1.5 1.8-1 0.4-1-0.4-1-1.2-0.3-1 0-1.5 0.3-1.3 0.9-1.2 1.1-0.5 1 0.2 2 1 2-0.4 1-0.5 0.2-0.8-0.3-2-0.1-2 0.2-1.5 0.5-1.7 0.8-1.8 1.1-1.5 1.5-1.5 1.5-1 2.6-1.1 3-0.4 3 0.2 4 0.9 2 2.3 1 1.6 0.8 2.5 0.4 3-0.2 3-1.1 3-1.8 2.5-3.1 2.5 0 0.5 0.3 0.5 2.4 3 0.4 1-0.1 0.7-0.5 0.7-0.5 0.3-2.8 0.8-0.4 0.5-0.3 1.2-0.8 0.8-1.7 0.4-1.7-0.4-0.6-0.5-0.3-0.5 0-0.5 0.2-0.5 1.1-1 0-0.5-0.6-0.5-1.6-0.7-1-0.2-0.5 0.3-1.9 1.6-0.2 0.5 1.5 1.5 0.1 0.5-0.3 1-1.9 2-0.8 1.3zM228 345.3l-1 0.1-1-0.5-0.5-0.6-0.3-1.5 0.3-0.2 1-0.2 1 0.3 0.5 0.4 0.5 0.6 0.1 0.6-0.1 0.5z"/>
<path fill="#0000f2" d="M452.5 104.3l-2 0.1-1.5-0.2-1.5-0.5-1.5-0.7-1.5-1.2-0.8-1-0.7-1.3-0.4-1.2-0.2-1.5 0.1-1.5 0.5-1.4 0.6-1.1 1.9-2 1.5-0.9 1.5-0.6 2-0.3 1.5 0 1.5 0.3 1.5 0.5 1.5 0.8 1.3 1.2 1.1 1.5 0.6 1.5 0.3 1.5-0.1 1.5-0.4 1.5-0.8 1.5-1 1.2-1.5 1.1-1.5 0.7zM472 114.6l-1 0.1-1-0.4-0.7-1-0.5-2-2.3-1.1-1-0.8-1-1.5-0.5-1.6 0-2.9 0.9-2.6 0.6-1 1-1 1-0.7 1-0.3 1.5-0.1 1.5 0.6 1.4 1.5 0.8 2 0.2 2-0.4 2.4-0.5 1.2-1.7 2.9 1.5 2.5-0.1 1zM421 143.3l-1-0.1-1-0.4-0.8-1-0.2-1 0.5-2 1.9-2.5 0.5-1 0.2-1-0.1-3 0.5-2 1.2-2 1.7-1.5 2.4-1.5 2.7-1.1 3.5-0.9 4-0.3 3.1 0.3 3.2 1 2.2 1.5 1 1.5 0.3 1.5-0.3 2.5 0.1 0.5 2.9 0.5 1 0.3 1.1 0.7 0.6 1 0.2 1.5-0.7 1.5-1.2 1.3-1.5 0.8-1.5 0.3-1 0.1-1.8-0.5-1.2-1-1-2.5-0.5-0.2-5 1.7-7.5 1.6-1.5 0.9-1.7 2-1.8 1.4-1.5 0.7zM469 146.4l-0.5-0.1-1-0.6-0.6-0.9-0.6-1.5-0.3-2.5 0.7-4-0.3-1-0.9-0.7-3.5-1.3-0.6-0.5-0.8-1-0.3-1 0.2-0.7 0.6-0.8 0.9-0.6 2-0.3 2.5 0.4 1.8 1 1.3 1.5 0.3 1 0.2 2.5 1.4 3.5 0.3 2.5-0.3 2-0.5 1.4-1 1.2zM456.5 142.8l-1-0.1-0.6-0.4-0.4-1 0.3-1 0.7-1 1-0.8 1-0.3 1.1 0.1 0.6 0.5 0.2 0.5 0.1 0.5-0.3 1-1.2 1.4zM412.5 175.9l-1.5 0.2-1.5-0.2-3.5-1.6-4-0.6-2-0.5-2.9-1.4-1.3-1-1-1-0.9-1.5-0.5-1.5-0.2-1.5 0.2-2 0.6-1.6 1.1-1.9 1.2-1.5 1.7-1.5 3.5-2.3 4-1.6 4-0.7 4-0.1 2 0.3 2 0.5 2 0.8 1.5 1 1.2 1.1 0.8 1 1.5 3.3 1 0.1 2.5-0.9 2.5-0.6 1.5 0 0.5 0.2 0.4 0.4 0.1 0.5-0.5 1-1 1-1.4 1-2 1-4.1 1.3-1.1 0.7-3.4 3.4-4 2.6-0.7 1-0.3 1.5-0.3 0.5-0.5 0.5zM476.5 194.4l-1 0-1-0.4-0.9-0.7-0.6-1-0.3-1.5 0.1-1.5 1.3-3.5 0.2-1-0.2-1-1.4-1.5-2.8-2-3.9-2.1-15-6.2-2-0.2-5.5 1.6-4.5 0.5-2 0-1.5-0.3-1-0.3-1-0.7-0.5-0.1-1.5 0.5-5.9 2.8-3.2 1-2.4 0.4-1.5-0.1-1.1-0.3-0.4-0.5-0.1-1 0.6-1 0.9-1 3.3-2.5 3.8-2 4.5-1.6 3.5-0.6 2.1 0.2 0.5 0.5 0.1 0.5-1 2.5 0.3 0.2 7-1.7 0-0.5-2-1.5-1-1-0.3-1 0.3-1 0.9-1 1.6-0.9 1.4-0.6 4.1-0.9 4-0.1 4.5 0.4 4.3 1.1 3.7 1.5 2.9 1.5 3 2 4.1 3.2 2 1.2 1.5 0.5 5 1.1 2.5 1 1.9 1 2.2 1.5 1.6 1.5 1.3 1.5 0.9 1.5 0.7 2-0.1 1.5-0.5 1.4-1 1.1-1.5 0.8-1.5 0.4-2 0.1-3.5-0.2-1.4 0.4-1 1-1.3 2.5-0.8 1.2-1 0.8zM452.5 179.8l-3 0.2-3.5-0.7-1.2-0.5-1.4-1-0.3-0.5 0.1-0.5 0.7-0.5 0.6-0.1 2-0.2 2.8 0.3 1.8 0.5 1.1 0.5 1.3 1 0.2 0.5-0.2 0.5zM437 180.9l-2 0-1.3-0.6-0.9-1 0-1 0.2-0.5 1.2-1 1.3-0.3 2 0.2 1.3 0.6 0.5 1-0.1 1-0.9 1zM327 211l-0.5 0.2-1-0.2-1-1.2-0.5-2-0.2-3.5-0.6-1-1.3-1.5-0.6-1-0.4-1-0.2-1.5 0.1-1.5 0.3-1 1.3-2 1.1-0.8 1-0.6 2-0.4 1.5 0.1 1 0.3 2 1.3 1 1.1 0.5 1 0.4 2-0.2 2-0.7 1.5-0.8 1-1.7 1.6-0.5 0.8-0.6 4.1-0.4 1.1zM304 218.3l-3-0.1-1.4-0.4-0.9-0.5-0.7-0.8-0.3-0.7 0-0.5 0.3-1 0.9-1 0.8-0.5 1.1-0.5 1.7-0.4 1.5-0.1 1.5 0.1 1.5 0.4 0.9 0.5 0.6 0.5 0.6 1 0 1-0.6 1-1 0.9-1 0.5zM293.5 264.4l-2.5 0.3-0.9-0.4-0.2-0.5 0.6-1 2.6-2 0.3-0.5-0.9-0.5-5.5-1.4-3.7-1.6-3.6-2.5-1.6-1.5-1.2-1.5-1.6-3-0.7-3 0.1-3 1.1-3 1.2-1.9 1.5-1.6 2-1.5 1.7-1 2.3-0.9 2.5-0.7 6.4-0.9 0.1-0.5-0.4-0.5-3.2-2.5-0.9-1-0.1-0.5 0.6-0.3 2 0.3 1.7 0.5 4.5 2 4 2.5 3.3 2.8 0.5 0.3 0.5 0.1 0.5-0.5 0.5-1 1-2.9 1-2 3-4 0-0.8-0.7-2-0.3-2 0.1-2 0.6-1.5 0.7-1 1.1-1 2-1 1.5-0.3 1 0 2 0.6 1.7 1.2 1.3 1.8 0.6 1.7 0.4 3.3 0.5 0.1 1.5-0.9 1-0.2 1.5 0.1 1 0.6 1 1 0.8 1.5 0.9 4 0.3 0.5 0.5 0.1 1.5-0.1 1 0.2 1 0.8 0.9 1.5 0.6 2 0.3 2 0.2 3-0.2 2.5-1.2 5.5-1.6 4-1 1.7-1 1.3-1 0.9-1 0.5-1 0.1-1-0.4-2-2.1-0.5-0.1-1 0.3-1.4 0.8 2 2 0.5 1 0.2 1-0.2 1.5-0.5 1-1.1 1-1 0.5-1 0.2-1.5-0.2-1.5-1-0.8-1-0.3-1 0-1.5 0.3-1 0.9-1.5-0.1-0.1-1.5-0.2-3.7 0.3-1.5 0.5 0 0.5 0.4 0.5 1.8 1 1 0.9 0.6 1.1 0.2 1-0.1 1-0.4 1-0.4 0.5-0.9 0.7-1 0.2-1.3-0.4-0.7-0.6-1-1.7-0.5-0.4-0.5 0-3.2 1.2-2.3 0.5-2 0.2-5.5 0-0.8 0.3-0.8 1.5-0.9 1zM327 247.8l0.2-6.5 1.4-7.5-0.2-0.5-1.9-0.4-1-0.4-1.5-1.6-1-2.6-0.2-1.5 0.1-2.5-0.1-0.5-0.3-0.2-2 1.2-2.5 1-0.7 0.5-0.8 3.5-0.5 1.6-1.5 2.9-2 2.5 0 0.5 4.6 2.5 1.4 1.5 0.6 1.5-0.2 1.5-0.7 1-1.2 1-2.5 1.5 1 0.3 6.5-0.2 4 0.3 0.5 0zM346 243.4l-1 0.3-1.5-0.3-1.1-0.6-0.8-1-0.5-1.5 0.1-1 0.3-1 1-1 1-0.3 1.5 0.1 1.4 0.7 0.8 1 0.4 1 0 1.5-0.6 1.4zM287.5 275.9l-1-0.1-0.5-0.5-0.2-1 0.2-1.5 0.5-1.2 1-1.3 1-0.6 1 0.1 0.5 0.5 0.1 0.5-0.1 2.1-0.9 1.9-0.6 0.5zM248 284.1l-0.5-0.1-0.5-0.8-0.3-2.4 0.3-2 0.5-0.8 0.5-0.2 0.5 0.4 0.2 0.6 0.4 2-0.2 2-0.4 1zM241 307l-1 0.2-0.5-0.1-1-0.8-0.5-1-0.4-2.5 0.2-1.5 0.5-1.5 0.1-1-0.4-1.1-0.5-0.6-0.5-0.1-1.5 0.4-1.5 0-1.4-0.6-0.9-1-0.4-1 0.2-1.3 0.5-0.8 1-0.8 1-0.3 1 0 1.1 0.2 1.4 0.7 0.5 0 2.5-1.6 1.5-0.3 1 0.1 1 0.5 1.4 1.6 0.6 2.1 0 1.4-0.2 1-0.7 1.5-1.7 2-0.3 0.5-0.1 2.5-0.5 1.7-0.5 0.8zM246.5 317.8l-0.6-0.5-0.3-2 0.3-3.5 0.5-2.5 1-3 1.1-2.2 1-1.4 1-0.5 0.5 0.2 0.3 0.4 0.3 1.5 0 2-0.5 3-1 3.5-1.1 2.5-1.5 2.1-0.5 0.4zM234 338l-1.5 0.1-1-0.4-0.3-0.4 0-0.5 0.3-0.5 1.1-1-0.3-0.5-0.8-0.5-2-0.8-1-0.2-0.5 0.2-2 1.6-1 0.4-1.5-0.5-1-0.5-1-0.7-0.9-1.5-0.1-1 0.5-2-0.1-0.5-1.9-2.1-1-0.6-0.5 0.1-1.5 1.8-1 0.4-1-0.4-0.5-0.5-0.5-1.7 0-1 0.3-1 0.6-1 0.6-0.4 1.1-0.1 2.4 1 1.5-0.3 1.7-0.7 0.2-0.5-0.4-3 0-2 0.5-2.1 1.1-2.4 1.5-2 1.9-1.5 2.5-1.2 2.5-0.6 2.5 0 2.5 0.4 2.5 0.7 1 0.6 1.4 1.6 0.9 1.5 0.7 2 0.4 2.5 0.1 2-0.1 1.5-1 3-0.9 1.5-1 1.3-3.3 2.7 0.1 0.5 0.3 0.5 1.8 2 0.6 1 0.3 1 0 0.5-0.3 0.5-0.7 0.5-3.6 1-0.3 0.5-0.1 1zM224 341.4l-0.5 0.1-0.8-0.2-0.4-0.5-0.1-0.5 0.1-0.5 2.2-2.8 0.5-0.3 1 0 0.7 0.6 0.1 0.5 0 0.5-0.3 0.5zM227.5 344.4l-0.5 0.1-0.5-0.2-0.2-0.5 0.2-0.3 0.5-0.1 0.5 0.3z"/>
<path fill="#0000ff" d="M453 103.8l-3 0.2-1.5-0.3-1.5-0.6-1.2-0.8-1.1-1-0.8-1-0.7-1.5-0.3-1 0-1.5 0.1-1.1 0.5-1.4 1-1.5 1-1 2.5-1.4 1.5-0.4 2-0.1 1.5 0.2 1.5 0.4 1.5 0.8 1.3 1 1.1 1.5 0.6 1.2 0.3 1.3 0 1.5-0.3 1.5-0.7 1.5-0.8 1.1-1.5 1.2-1.5 0.8zM469 109.8l-1 0-1-0.4-1.3-1.1-0.8-1.5-0.3-2.5 0.4-2 1.1-2 1.4-1.2 1-0.4 1-0.1 1.5 0.5 1.2 1.2 0.8 1.8 0.2 1.7-0.4 2-0.8 1.8-1.5 1.6zM471 113l-0.5-0.2 0.2-0.5 0.4 0 0.2 0.5zM422 141.8l-1 0-0.5-0.2-0.5-0.4-0.3-0.9 0.3-1.3 1.6-2.7 0.1-1-0.4-4 0.2-1.2 0.5-1.3 1.5-2 1.9-1.5 2.9-1.5 2.7-0.9 3.5-0.6 3.5-0.1 3 0.5 2.5 1 1 0.6 1 1 0.9 1.5 0.1 1.5-0.5 2.5 0.5 0.4 2.5 0.2 1.5 0.4 1.2 1 0.4 1-0.1 1.5-0.5 1-1.5 1.4-1.5 0.7-2 0.2-1-0.2-1-0.5-1-1.1-0.5-2-0.4-0.5-0.6 0-5.5 1.9-8.1 1.6-1.9 1-2 2-1 0.6zM469.5 145.4l-1 0.1-0.5-0.2-1-1.4-0.3-1.1-0.3-1.5 0.1-1.3 0.9-3.2-0.1-1-0.8-0.7-3.5-1.3-1.4-1-0.6-1 0-0.5 0.4-1 0.6-0.5 2-0.5 2 0.3 1.6 0.7 0.9 0.8 0.5 0.8 0.4 1.4-0.1 2 1.7 3.3 0.3 2.2-0.3 2.6-0.5 1.1zM457 141.9l-0.5 0.1-0.8-0.2-0.3-0.5 0.1-0.8 1-1.2 1-0.3 0.5 0.1 0.5 0.4 0 1-0.5 0.8zM411 175.8l-2-0.3-3-1.5-4-0.6-2.5-0.7-2.7-1.4-2-2-0.8-1.5-0.4-1.5-0.1-1.5 0.2-1.5 0.8-2 0.9-1.5 1.3-1.5 1.6-1.5 3.1-2 3.6-1.5 4.5-0.9 3.9-0.1 2.1 0.3 2 0.5 1.6 0.7 1.6 1 2 2 0.8 1.5 0.5 1.8 0.5 0.4 1-0.1 3-1.1 1.5-0.4 1.5 0 0.9 0.4 0.2 0.5-0.1 0.5-1.3 1.5-2.4 1.5-4.8 1.6-1 0.5-4 3.9-3.9 2.5-0.4 0.5-0.6 2-0.6 0.7-1 0.5zM476 193.8l-1.5-0.5-0.8-1-0.4-1-0.1-1 0.3-1.5 1.3-3 0.1-1-0.2-1-1.3-1.5-3-2-3.9-2.1-15.5-6.3-2-0.3-5.8 1.7-4.7 0.5-2-0.2-1.5-0.3-1.5-1.3-8.3 3.8-2.7 0.8-2 0.4-1.5 0-1-0.3-0.6-0.4-0.1-1 0.5-1 0.9-1 3.2-2.5 3.9-2 4.2-1.5 3.5-0.5 1 0 1 0.5 0.3 0.5 0 0.5-1.2 2.5 0.4 0.2 8-2.2 0-0.5-2-1.5-0.9-1-0.2-0.5 0-1 0.6-1 0.5-0.5 1.5-0.9 1.7-0.6 3.3-0.7 4-0.1 4 0.3 4.3 1 3.7 1.4 3.1 1.6 3 2 4.4 3.5 2 1.3 1.5 0.6 5 1.2 4 1.8 1.7 1.1 1.7 1.5 1.3 1.5 0.9 1.5 0.5 1.5 0.1 1.5-0.6 1.5-0.9 1-1.2 0.6-2 0.6-4.5-0.1-1.5 0.2-0.5 0.3-0.8 0.9-1.2 2.5-1 1.4-1 0.7zM452.5 179.3l-1 0.3-1.5 0.1-3-0.4-2.4-1-0.5-0.5-0.2-0.5 0.3-0.5 1.5-0.5 1.9 0 2.4 0.5 2.3 1 0.5 0.5 0.1 0.5zM437.5 180.3l-1 0.3-1 0-1.5-0.6-0.5-0.4-0.3-0.8 0.3-1 0.6-0.5 1.4-0.5 1.1 0 1.4 0.5 0.6 0.5 0.2 1-0.5 1zM327 210.4l-1 0.2-0.5-0.2-0.5-0.6-0.6-1.5-0.3-4-0.4-1-1.9-2.5-0.5-1-0.2-1.5 0.3-2 1.1-2 1-0.9 1-0.5 2-0.5 1 0 1.5 0.4 1.6 1 0.9 1 0.5 0.9 0.5 2.1-0.1 1.5-0.5 1.5-0.9 1.2-1.5 1.3-0.7 1-0.3 1-0.4 3.5-0.6 1.2zM304 217.9l-2.5-0.1-2-0.8-0.7-0.7-0.3-0.5 0-0.6 0.4-0.9 0.6-0.7 1-0.6 2.5-0.7 2.5 0.1 1.2 0.4 0.8 0.5 0.7 1 0 1-0.2 0.5-1 1-0.9 0.5zM315.5 261.4l-1 0-1-0.5-0.5-0.6-1-1.8-0.5-0.2-4 1.4-2.5 0.5-2.5 0.1-4-0.2-3 0.2-1.4-0.5-5.1-1-3.5-1.2-2.5-1.3-2-1.3-2-1.7-1.3-1.5-1.3-2-0.9-2-0.5-2-0.1-2 0.4-2.5 1.1-2.5 1.6-2.1 2.5-2.1 2.5-1.3 3-1.1 3.5-0.7 4-0.2 1.1-0.5-0.7-1-2.9-2.5-0.2-0.5 0.2-0.2 0.5-0.1 1.6 0.3 3.7 1.5 4.2 2.5 4 3.5 1 0.3 0.4-0.3 1.6-4.3 1-2.2 1-1.5 2.2-2.5 0-1-0.7-2-0.3-2 0-1.5 0.4-1.5 1-1.5 1.4-1.2 1.8-0.8 1.7-0.2 1.5 0.2 1.2 0.5 1.3 1 0.9 1 0.6 1.1 0.5 1.4 0.2 2 0 2 0.3 0.5 1.5-1.3 1-0.5 1-0.1 1.5 0.4 1.1 1 1 1.5 0.4 1.5 0.5 3 0.5 0.5 2.5-0.2 1 0.5 0.5 0.5 0.9 1.7 0.6 2 0.3 2.5 0 3-0.6 4-1.2 4.3-1.5 3.4-1.7 2.3-1.3 1-1.5 0.2-1-0.4-1.5-1.7-0.5-0.3-0.5-0.1-1.5 0.6-1.3 0.7 0.4 0.5 0.9 0.6 1 0.9 0.6 1.5 0 1.5-0.4 1-0.7 0.9-0.8 0.6-1.2 0.5-1.5 0-1.5-0.7-1-1.1-0.5-1.2 0-1 0.4-1.5 1.1-1.5-0.5-0.4-5.5 0.3-1 0.2-0.7 0.4 0.1 0.5 0.6 0.8 2 1 0.7 0.7 0.8 1.5 0 1.2-0.5 1.3-0.5 0.6zM326.8 248.3l0.4-0.5 0.1-0.5-0.1-3.5 0.3-3.5 1.3-6 0-1-0.3-0.5-1.5-0.1-1.2-0.4-0.8-0.6-1-1.4-0.6-1.5-0.3-2 0.4-5 0 0.5-2.5 2-1.5 0.8-1.9 0.7-0.5 0.5-0.6 3.1-1 2.8-1.5 2.5-1.7 2.1-0.1 0.5 0.8 0.5 2.5 1.1 1.5 1 1.3 1.4 0.6 1.5-0.2 1.5-0.7 1-1.2 1-2.7 1.5 0.4 0.4 7-0.2 4.5 0.4zM345.5 242.3l-1.5 0.1-1-0.5-0.4-0.6-0.4-1.5 0.3-0.8 0.8-0.7 0.7-0.2 1 0.1 0.8 0.6 0.4 0.5 0.4 1-0.1 0.8-0.4 0.7zM293.5 263.9l-1 0.2-1 0-0.5-0.3-0.1-0.5 0.4-0.5 1.2-1 2-0.9 1 0 0.3 0.9-0.2 0.5-1 1zM288 275l-1 0.2-0.5-0.4-0.2-1 0.2-1 1-1.8 1-0.6 0.5 0 0.5 0.4 0.1 0.5-0.1 1.5-0.5 1.2zM248 283.1l-0.5-0.3-0.4-2 0.4-1.6 0.5-0.3 0.5 0.7 0.1 1.2-0.1 1.6zM240.5 306.9l-0.8-0.1-0.7-0.4-0.5-0.6-0.5-1.1-0.2-2.4 0.8-3-0.2-1-0.4-1-0.5-0.7-0.5-0.1-2 0.6-1.5-0.2-1-0.6-0.5-0.7-0.2-0.8 0-1 0.6-1 0.7-0.5 0.9-0.3 1-0.1 1 0.3 1.5 0.8 0.5-0.1 2.5-1.8 1-0.3 1 0 1.5 0.6 0.9 0.9 0.5 1 0.5 2 0 1-0.4 1.5-0.5 1-1.9 2-0.3 1 0 2-0.5 1.5-0.8 1.1zM247 317.5l-0.5 0-0.5-0.5-0.3-1.2 0.1-2.5 0.6-3.5 1.1-3.4 1-2.1 1-1.3 1-0.6 0.6 0.4 0.4 1.6 0 1.9-0.5 3-1 3.5-1 2.3-1 1.6zM238 334.8l-2 0.4-2 0-4-1.7-1.5-0.3-0.5 0.1-1.5 1.2-1 0.5-1 0.1-1-0.3-1.5-0.8-1-1.1-0.3-1.6 0.5-2-0.1-0.5-2.6-2.9-0.5-0.4-0.5-0.1-1.5 1.8-1 0.5-0.9-0.4-0.6-1 0-1.7 0.5-1.1 0.5-0.4 1-0.2 2 0.9 0.5 0.1 3-1.2 0.6-0.4 0.1-0.5-0.4-2.5-0.1-2 0.4-2 0.7-2 1.2-1.9 1.5-1.6 1.5-1.1 2-0.9 2-0.5 2.5-0.1 2.5 0.2 2.5 0.7 1 0.5 1.5 1.4 0.9 1.3 0.7 1.5 0.5 2.5 0.2 2.5-0.2 2-0.5 2-1 2-1.1 1.4-1.5 1.4-1.8 1.2-0.3 0.5 0.5 1 2.1 2.5 0.5 1-0.1 1-0.3 0.5zM224 340.1l-0.5 0-0.2-0.3 0.2-0.5 0.5-0.4 0.5 0.1 0 0.5z"/>
<path fill="#001fff" d="M452.5 103.3l-1.5 0.1-1.5-0.1-2.5-0.9-2-1.7-0.9-1.4-0.4-1-0.2-1.5 0.1-1 0.4-1.5 0.5-0.9 0.9-1.1 1.1-1 2.2-1 1.8-0.3 1.5 0 1.5 0.3 1.3 0.5 1.5 1 1 1 0.7 1.1 0.5 1.3 0.2 1.1-0.1 1.5-0.5 1.5-0.6 1-1 1.1-1.2 0.9-1.3 0.6zM469.5 107.4l-1 0.2-1-0.4-0.8-0.9-0.4-1.5 0.2-1.5 0.5-1.2 1-1 1-0.3 0.5 0 1 0.5 0.7 1 0.3 1.4-0.1 1.1-0.4 1.1-0.6 0.9zM447 138.3l-1.5-0.3-1.2-0.7-0.4-0.5-0.4-1 0-2.1-0.5-0.2-4.3 1.8-3.7 1-7 0.9-1.5 0-1.5-0.2-1.5-0.8-1-1.5-0.7-2.4 0-1.5 0.2-1 1.1-2 1.5-1.5 2.2-1.5 3.2-1.3 3-0.8 3-0.3 3 0.2 2.8 0.7 1.2 0.5 1.5 1 0.9 1 0.5 1 0.2 1.5-0.9 3 0.1 0.5 2.7-0.2 1.5 0.2 1.5 0.8 0.7 1.2-0.1 1.5-0.9 1.5-1.7 1.1zM467.5 133.8l-1.1 0-2.9-0.9-0.7-0.6-0.3-0.5 0-0.5 0.5-0.6 1-0.4 1 0 1.4 0.5 0.7 0.5 0.8 1 0.1 1zM469.5 143.5l-0.5 0.3-0.5-0.1-0.5-0.5-0.5-1.4 0-1.5 0.2-1 0.8-1 0.5-0.1 0.5 0.2 0.5 0.7 0.4 1.7-0.4 2zM412.5 174.9l-1.5 0.4-1-0.1-4-1.5-3.5-0.5-2-0.5-3-1.4-1.3-1-0.9-1-0.8-1.5-0.5-1.5-0.1-1.5 0.2-1.5 0.8-2 0.9-1.5 1.3-1.5 1.7-1.5 3.3-2 3.9-1.5 4-0.7 3.5 0 2 0.3 2 0.6 1.7 0.8 1.5 1 1.8 2 0.7 1.5 0.3 1.5 0.5 0.7 1-0.1 2.8-1.1 1.8-0.5 1.7 0 0.6 0.5 0 0.5-0.7 1-2 1.5-2.4 1-2.8 0.7-1.5 0.8-3.4 3.5-4.6 3-0.4 0.5-0.9 2zM476.5 192.3l-0.5 0-0.9-0.5-0.6-1.5 0.2-1.5 1.2-3 0.1-1-0.2-1-0.8-1-1.3-1-4.7-2.7-7-3.1-11.5-4.5-2-0.1-4 1.4-2.2 0.5-3.3 0.3-3-0.3-1-0.5-0.3-0.5 0.2-0.5 0.6-0.5 2.5-1 4.6-1 1.3-0.5-0.1-0.5-2-1.5-0.9-1-0.3-1 0-0.5 0.7-1 0.7-0.6 1.9-0.9 1.6-0.5 4.5-0.6 4.5 0.2 4.5 0.9 2.9 1 2.3 1 4.3 2.5 6 4.8 2 1.4 1.5 0.6 5 1.4 3.5 1.7 2.6 2.1 0.9 1.1 0.8 1.4 0.5 1.5-0.1 1-0.3 1-0.8 1-1.1 0.7-1.5 0.4-5 0-1.5 0.4-1 1-2 3.6-0.5 0.5zM422.5 176.4l-2.5 0.3-1.5-0.3-0.6-0.6 0.1-1 1.1-1.5 1.7-1.5 2.4-1.5 3.1-1.5 2.7-1 3-0.6 2 0 0.5 0.1 0.6 0.5 0.1 0.5-0.3 1-1 1.5-1.1 1-5.6 3-2.6 1zM450.5 178.9l-1.5 0.1-1.4-0.2-1.3-0.5-0.6-0.5 0.1-0.5 1.7-0.3 2.1 0.3 1.1 0.5 0.4 0.5-0.2 0.5zM436.5 179.8l-1.1 0-0.9-0.5-0.2-0.5 0.2-0.6 0.4-0.4 0.6-0.2 1 0 0.6 0.2 0.5 0.5 0.1 0.5-0.2 0.5zM326.5 209.4l-0.5 0-0.6-0.6-0.4-1.3-0.2-2.7-0.2-1-0.5-1-1.9-2.5-0.4-1-0.1-1.5 0.5-2 1.2-1.5 1.6-1 2-0.3 2 0.5 1.5 1.1 1.1 1.7 0.3 2-0.3 1.5-0.5 1-2.8 3-0.5 1.5-0.3 2.8-0.5 1zM315.5 261l-1 0-1-0.6-1.1-2.1-0.4-0.4-1 0.1-2.5 1.2-2 0.5-4 0.4-11-1.2-3-0.7-2.7-0.9-2.3-1.2-2.1-1.3-1.8-1.5-1.6-1.8-1.1-1.7-0.9-2-0.5-2-0.1-2 0.3-2 0.5-1.5 1.1-2 1.3-1.5 1.7-1.5 1.7-1.1 2-0.9 2.5-0.8 3.5-0.7 6-0.2 0.7-0.3 0.3-0.8 0.5-0.1 2.1 0.9 5.4 3.6 1 0.5 0.5-0.1 0.4-0.5 1.1-4.2 1-2.3 1.5-2.3 2-2.2-0.1-1-0.7-2-0.3-1.5 0-2 0.5-1.5 1-1.5 1.2-1 1.9-0.8 1.5-0.2 1.5 0.2 1 0.4 1.3 0.9 0.9 1 0.8 1.5 0.3 1 0.2 1.5-0.1 1.5-0.2 1-0.5 1-1.3 1.5-1.6 1-2.8 1.1-0.4 0.9-0.4 3-0.8 2-1.4 2.5-2.1 2.5-0.1 0.5 0.8 0.5 2.9 1.3 1.7 1.2 0.9 1 0.6 1.5-0.2 1.3-0.8 1.2-1.2 1-3 1.5-0.2 0.5 1.2 0.2 7.5-0.3 2.1 0.1 2.4 0.5 0.5-0.1 0.3-0.4 0.1-0.5-0.1-3.5 0.2-3.2 0.5-2.9 1.1-4.4 0.1-1.5-0.2-0.2-1.5 0.1-1-0.2-1.2-0.7-0.8-0.9-0.5-1-0.6-2.6 0.1-2 0.5-1.8 0.8-1.2 1.2-1 1-0.4 1 0.1 1 0.4 1 0.9 1 2 0.3 1.5 0.2 2.5 0.2 0.5 0.3 0.1 2-0.5 1 0.1 0.7 0.3 0.8 0.8 0.9 1.7 0.5 2 0.2 2.5 0 2.5-0.5 4-1.2 4-1.4 3.3-1 1.5-1 1.1-1.5 0.9-1 0.1-1-0.5-1.5-1.6-1-0.4-3.6 1.6 0.3 0.5 1.3 0.5 1 0.8 0.5 0.7 0.3 1 0.1 1-0.4 1.4-0.5 0.7-1 0.8-1.5 0.4-1.5-0.2-1-0.6-1.1-1.5-0.2-1.5 0.3-1.2 0.5-0.9 1.5-1.4-2-0.1-5.5 0.4-1.1 0.2-0.7 0.5 0.2 0.5 0.6 1.1 2.5 1.2 1 1.3 0.2 0.9-0.2 1.3-0.5 0.8zM303.5 216.8l-1 0-1.5-0.5-0.4-0.5-0.2-0.5 0.1-0.5 0.4-0.5 1.1-0.6 1.5-0.3 1.5 0.2 1 0.5 0.4 0.7-0.4 1-1 0.6zM240.5 306.3l-0.5 0-0.9-0.5-0.8-1.5-0.1-2 0.7-3-0.4-1.5-1-2.1-0.5-0.3-1.5 0.8-1.5 0.1-1-0.7-0.4-0.8 0-0.5 0.5-1 0.7-0.5 0.7-0.1 1.1 0.1 1.4 1.1 0.5 0.1 1.7-1.7 1.3-1 1-0.3 1 0 1.5 0.7 1 1.2 0.6 1.4 0.1 2-0.7 2-2.2 2.5-0.2 0.5-0.2 2.5-0.4 1.3-0.5 0.7zM247.5 316.9l-0.5 0.3-0.5-0.1-0.5-0.8-0.1-0.5 0-3 0.6-3 1-3.1 1-2.1 1-1.3 0.5-0.4 0.5-0.1 0.5 0.5 0.3 1.5-0.3 4.1-0.5 2.1-1 2.8-1 1.9zM236.5 334.8l-1.5 0.1-1.5-0.3-4-1.4-1-0.2-0.5 0.1-1.5 1.1-1 0.5-1.5 0-1.2-0.4-1.3-1-0.5-1-0.1-1 0.5-2 0-0.5-2.1-2.5-0.6-1-0.1-0.5 0.2-0.5 0.5-0.5 2.4-1 0.4-0.5-0.5-3 0-2 0.4-2.5 1-2.1 1-1.4 1.5-1.5 2-1.2 2-0.8 2-0.3 2.5 0 2 0.2 2 0.6 1.5 1 1 1 1 1.5 0.5 1.5 0.4 2.5 0.1 2.5-0.3 2-0.5 1.5-0.7 1.5-1.1 1.5-1.4 1.4-2.4 1.6-0.1 0.5 0.2 0.5 2.5 3 0.4 1.5-0.2 0.5-0.5 0.5z"/>
<path fill="#003dff" d="M453.5 102.3l-2.5 0.4-2.5-0.4-2-1.2-1.5-1.8-0.6-2 0.1-2 1-2 1-1 1-0.7 2.5-0.8 2.5 0 1.5 0.5 1 0.5 1.2 1 0.8 1 0.5 1 0.3 1.5-0.1 1.5-0.3 1-0.5 1-0.9 1-1.3 1zM433 136.3l-3.5 0.3-2.5-0.1-2-0.6-1.5-1.1-1-1.9-0.2-2.1 0.6-2 1.6-2 2-1.5 2.5-1.2 2.6-0.8 3.4-0.5 3 0 2.5 0.4 2.5 1 1.4 1.1 1 1.5 0.2 1.5-0.6 2.1-1.3 1.9-2.4 1.5-2.3 1.1-3 0.9zM448 137.8l-2 0-1.1-0.5-0.7-1-0.2-1.5 0.5-1.3 1-0.9 1.5-0.5 2 0 1 0.3 1 0.9 0.2 0.5 0.1 1-0.3 1-0.9 1-0.7 0.5zM410.5 174.3l-1.5-0.1-2.5-0.8-4.2-0.6-2.3-0.7-1.8-0.8-1.2-0.9-1.1-1.1-0.7-1-0.6-1.5-0.2-1.5 0.1-1.5 0.4-1.5 0.7-1.5 1.1-1.5 1.5-1.5 1.8-1.4 3-1.7 4-1.3 3.5-0.5 3.5 0.1 3.5 0.9 1.8 0.9 1.4 1 1.5 2 1.3 3.7 1 0.1 3-1.3 1.8-0.5 1.2 0 0.5 0.4-0.1 0.6-0.3 0.5-2.2 1.5-1.4 0.5-3 0.7-1 0.4-4.5 4.4-4.6 3-1.4 1.8-0.5 0.3zM487 184.8l-1.5 0.3-6.5 0.1-0.5-0.2-2.8-2.7-4.4-2.5-7.3-3.3-13.5-5.3-2-0.1-4.8 1.7-3.2 0.5-3 0-1.6-0.5-0.4-0.5 0.2-0.5 1.6-1 1.7-0.5 5-1 0.8-0.5-0.3-0.5-2.4-2-0.6-1 0-1 0.2-0.5 1.1-1 1-0.5 3.2-1 3.5-0.3 4 0.2 3.5 0.6 4.5 1.5 3.1 1.5 3.8 2.5 7.6 6.2 2 1 4.5 1.5 1.6 0.8 1.5 1 1.8 2 0.6 1 0.2 1 0 1-0.5 1-0.7 0.6zM421 176.3l-1.3 0-0.7-0.2-0.5-0.6 0-0.7 0.6-1 0.9-1 2.8-2 4-2 3.2-1 3-0.3 1 0.2 0.5 0.5-0.1 1.1-0.9 1.3-1.3 1.2-1.6 1-2.8 1.5-2.4 1-1.9 0.6zM326.5 204.5l-0.5-0.2-0.9-1.5-2-2.5-0.6-1.5 0-1 0.5-1.8 1-1.2 1.5-0.8 1.5-0.2 1.9 0.5 1.1 0.9 0.9 1.6 0.2 1.5-0.3 1.5-0.6 1-2.2 2zM315.5 260.4l-1 0-0.8-0.6-1.2-2.6-1 0.2-2.5 1.3-1.8 0.6-2.2 0.4-2 0.1-11.5-1.3-3-0.7-2.5-0.9-2.3-1.1-2.2-1.5-1.8-1.5-1.3-1.5-1-1.5-0.9-2-0.5-2-0.1-2 0.3-2 0.6-1.5 0.8-1.5 1.4-1.7 1.5-1.4 2-1.2 2-1 2.3-0.7 2.2-0.4 2.5-0.3 3 0.1 3.5 0.3 2 0.5 1.5 0.6 4.5 2.4 1 0 0.4-0.7 0.6-3.8 1-2.7 1.5-2.4 2.1-2.1 0.3-0.5-0.2-1-0.8-2-0.3-1.5 0.1-2 0.5-1.5 1-1.5 1.3-1 1.5-0.6 1.5-0.2 1.5 0.2 1 0.4 1 0.7 1 1.1 0.5 0.9 0.6 1.5 0.2 1.5-0.1 1.5-0.8 2-1.4 1.5-1.5 0.9-2 0.6-0.9 0.5-0.2 0.5-0.4 3.2-1 2.7-1.5 2.4-2.2 2.2 0 0.5 0.8 0.5 2.9 1.2 2 1.3 1 1.2 0.4 1.3-0.2 1.5-0.7 1-1.5 1.1-3.1 1.4-0.4 0.5 0.5 0.4 0.5 0 6.3-0.4 3.2 0.1 2.4 0.4 1 0.5 0.1 0.5-1.5 1-2.5 0.9-8.5 0.8-1.6 0.3-0.3 0.5 0.9 2.2 0.5 0.4 2 0.5 0.5 0.4 0.5 0.7 0.2 0.8-0.1 1-0.6 0.8zM331 252.3l-1-0.2-0.5-0.4-2.2-2.4 0.4-1.5-0.2-4 0.3-3.5 0.7-3.5 1.5-5.3 0-0.7-2.5 0.8-1.5-0.5-0.9-0.8-0.6-0.9-0.6-2.1 0-2 0.6-2.1 1-1.4 1.5-0.7 1 0 1 0.5 0.7 0.7 0.6 1 0.7 2.5-0.2 3.5 0.2 0.3 3-1.3 1 0 0.5 0.3 0.8 0.7 0.7 1.2 0.5 1.5 0.3 1.8 0.2 3-0.3 3-0.7 3.5-0.9 3-1.1 2.4-1.5 2.2-1.1 0.9zM323.5 259.3l-1.5-0.2-1-0.7-0.8-1.1-0.2-1 0.2-1.5 0.6-1 1.2-0.9 1-0.3 1.5 0.3 1 0.6 0.9 1.3 0.2 1-0.1 1.2-0.8 1.3-1.2 0.8zM241 305.4l-1 0.1-0.5-0.2-0.5-0.6-0.3-0.9 0-1.5 0.6-2.5-1.2-4 0-1 0.6-1.5 1.3-1.3 1.4-0.7 1.1 0 1.5 0.7 1 1.3 0.4 1.5 0 1.5-0.4 1.5-0.5 0.8-2.2 2.2-0.2 0.5-0.2 2.5-0.4 1zM247.5 316.5l-0.5 0.3-0.5-0.2-0.5-1.3 0-2 0.5-3 1-3.2 1-2.2 1-1.3 0.5-0.3 0.5 0 0.5 0.7 0.2 1.8-0.2 2.4-0.5 2.1-1.5 4.2-1 1.6zM237 334.4l-1.5 0.1-1.5-0.1-5.5-1.6-1 0.3-1 0.8-1 0.5-1.5 0.1-1.6-0.7-0.5-0.5-0.6-1-0.1-1 0.5-2-0.1-0.5-1.9-2.5-0.4-1 0-0.5 0.2-0.5 0.5-0.4 2-0.8 0.5-0.3 0.1-0.5-0.7-4 0.1-1.7 0.4-1.8 1.1-2.3 1.4-1.7 2-1.5 2.1-1 2-0.4 2.5-0.1 2 0.1 2 0.5 1.5 0.7 1 0.9 1 1.3 0.6 1.5 0.4 2 0.1 3-0.2 2-0.5 2-1.1 2-1.3 1.5-3.5 2.5 0 0.5 0.3 0.5 1.8 2 0.9 1.5 0.1 1-0.3 0.5z"/>
<path fill="#005cff" d="M453.5 101.3l-2 0.5-2-0.2-1.8-0.8-1.5-1.5-0.7-1.6 0-1.9 0.6-1.5 1.4-1.6 2-0.9 2.5-0.1 2 0.6 1 0.7 1 1.1 0.6 1.2 0.2 1-0.3 2-1 1.6-1 0.9zM434.5 135.8l-3.5 0.4-2.5-0.1-2-0.3-1.9-1-1.1-1.2-0.7-1.8 0.2-2 0.7-1.5 1.4-1.5 2.1-1.5 2.8-1.2 3-0.8 3.5-0.3 2.8 0.3 2.7 0.9 1.7 1.1 1.1 1.5 0.3 1.5-0.6 2-1 1.4-1.5 1.3-2.4 1.3-2.6 0.9zM448 137.4l-1.5 0-1-0.4-0.7-0.7-0.2-1 0.2-1 0.8-1 1.4-0.7 1.5-0.1 1 0.2 0.8 0.6 0.3 0.5 0.2 1-0.3 0.8-0.5 0.7-1 0.7zM410.5 173.3l-1.5 0.1-6.5-0.9-2.3-0.7-2-1-1.7-1.5-1.2-2-0.4-2 0.2-2 0.9-2.3 1.7-2.2 2.3-2 3-1.7 3.5-1.3 3-0.5 3.5 0 3 0.5 1.5 0.5 1.8 1 1.2 1 0.9 1 0.9 2 0.8 3.5-0.1 0.5-2.9 3.5-2.1 2-4.2 2.5-2.3 1.7zM427 162.4l-1 0.1-0.3-0.2 1.6-1 0.7-0.1 0.7 0.1-0.4 0.5zM481.5 182.4l-2 0.1-2-0.6-11.5-4.9-15.5-6.1-1.5-0.3-1 0.1-3.6 1.6-2 0.5-1.9 0.2-2 0-1.3-0.2-0.7-0.5 0.1-0.5 0.6-0.5 1.1-0.5 1.7-0.5 5-0.7 0.7-0.3 0.1-0.5-2.4-2-1.1-1.5 0.1-1 0.3-0.5 0.5-0.5 1.3-0.8 2.5-0.8 3.5-0.4 3.5 0.1 3.5 0.6 3 0.8 3.6 1.5 3.5 2 3.2 2.5 6.7 6.2 5.5 4.3 0.6 1-0.1 1-0.5 0.5zM422.5 175.8l-1.5 0.1-1.1-0.1-0.6-0.5-0.1-0.5 0.8-1.5 2.5-2 2.6-1.5 4-1.5 2.9-0.5 1 0.2 0.6 0.3 0.2 0.5-0.3 1-1.3 1.5-1.3 1-2.6 1.5-2.3 1zM327.5 201.4l-1 0.3-1-0.5-1-0.9-0.7-1.5-0.1-1 0.3-1.1 0.7-0.9 1.3-0.7 1-0.1 1.2 0.3 1.1 1 0.5 1 0.1 1-0.4 1.3-1 1.2zM305.5 259.4l-3.5 0-4.5-0.7-6.5-0.6-4-1.2-3.5-1.7-2-1.4-1.6-1.5-1.3-1.5-1.1-1.9-0.6-1.6-0.4-2 0-2 0.3-1.5 0.5-1.5 0.9-1.5 1.2-1.5 1.6-1.4 1.8-1.1 1.7-0.8 4-1.1 4.5-0.4 4.5 0.5 3.5 1 5 2.5 1 0.2 1-0.2 0.2-0.2-0.3-2 0.1-1.5 1-3.4 1.5-2.5 2.7-2.6-0.1-1-1-2.5-0.3-1.5 0.1-2 0.5-1.5 1.1-1.5 1.5-1 2-0.6 2 0.2 1 0.5 1 0.7 1.3 1.7 0.7 2-0.1 2.5-0.8 2-1.4 1.5-1.7 0.9-2.4 0.6-0.6 0.5-0.3 3.5-1.1 3-1.6 2.4-2.5 2.1 0.2 0.5 3.8 1.6 2 1.2 1.1 1.2 0.6 1.5-0.3 1.5-0.9 1.1-1.5 1-3.2 1.4-0.5 0.5 0.1 0.5 1.1 0.2 6.5-0.5 3.5 0.1 2 0.5 0.4 0.2 0.2 0.5-0.4 0.5-1 0.5-2.2 0.7-3.5 0.5-5.5 0.3-1 0.2-0.5 0.3-0.1 0.5 0.6 1.5 0.1 1-0.7 1-2.4 1.5-1.5 0.6zM328.5 230.5l-1 0.2-0.5 0-1-0.5-1-1.2-0.5-1.5 0-2.2 0.4-1.5 1.1-1.4 1-0.5 1 0 1 0.6 0.9 1.3 0.4 1.5 0.1 1.5-0.4 1.9-0.7 1.1zM331.5 251.9l-1 0-0.5-0.3-1-0.8-1-1.5-0.4-5 0.3-3.5 1.1-5.2 1.6-4.3 0.7-1 1.2-1 1-0.5 1-0.1 1 0.3 0.5 0.4 0.6 0.9 0.6 1.5 0.5 3.5-0.1 4.5-1.1 4.8-1.5 3.7-1.5 2.2-1 0.9zM324.5 258.8l-1 0.2-1.4-0.2-0.8-0.5-0.8-1-0.2-1 0.2-1.5 0.7-1 0.8-0.6 1-0.2 1.5 0.2 1 0.7 0.6 0.9 0.2 1-0.2 1.5-0.6 0.8zM315 258.9l-0.5-0.1-0.2-1 0.2-0.2 0.5 0 0.4 0.7zM240.5 303.3l-0.5-0.4 0.4-1.6-1.6-4.5-0.3-1 0-1 0.7-1.5 0.9-1 0.9-0.6 1.5-0.1 1.4 0.7 0.8 1 0.5 1.5 0 1.5-0.5 1.5-0.7 1-3.3 2.5zM247.5 316.1l-0.5 0.2-0.5-0.4-0.2-0.6-0.1-1.5 0.3-2.8 1-3.5 1-2.2 1-1.3 0.5-0.3 0.3 0.1 0.4 0.5 0.3 1.5-0.5 4.1-1.5 4.2-1 1.6zM237 334l-1.5 0.2-1.5-0.1-5.5-1.5-1 0.2-2 1.3-1.5 0.1-1.5-0.7-0.9-1.2-0.1-1 0.4-1.5 0-1-1.7-2.5-0.4-1 0.1-0.5 0.4-0.5 2.4-1 0.4-0.5-0.8-4 0-2 0.4-1.5 0.8-2 1.5-2.1 1.8-1.4 2.2-1.1 2-0.4 2.5-0.3 2 0.1 1.5 0.3 1.5 0.7 1 0.7 1.2 1.5 0.7 1.5 0.4 2 0 3-0.2 2-0.6 2-0.8 1.5-1.2 1.5-1.5 1.2-2.2 1.3-0.4 0.5 0.5 1 2.2 2.5 0.5 1-0.1 1z"/>
<path fill="#007aff" d="M451.5 100.3l-1.5-0.1-1.5-0.7-1-1-0.5-1.2 0.1-1.5 0.9-1.5 1-0.7 1.5-0.5 1.5 0 1.6 0.7 1 1 0.6 1.5-0.2 1.5-0.5 1-1.2 1zM435 135.4l-3 0.4-2.5 0-2-0.3-2-0.8-1.4-1.4-0.6-1.3-0.1-1.7 0.6-1.5 1.1-1.5 2-1.5 2.4-1.2 3-0.9 3-0.3 3 0.1 2.5 0.7 2 1.1 1.2 1.5 0.3 1.5-0.3 1.5-1 1.5-1.6 1.5-1.7 1-2.5 1zM448.5 136.5l-1.5 0.3-1.1-0.5-0.4-0.5 0-0.9 0.7-1.1 0.8-0.4 1-0.2 0.8 0.1 0.8 0.5 0.3 0.5-0.1 1-0.3 0.5zM411 172.3l-2 0.4-5-0.4-2.6-0.5-2.3-1-1.9-1.5-1.1-1.5-0.7-2 0.1-2 0.8-2.5 1.5-2 2.1-2 2.4-1.5 3.2-1.3 2.9-0.7 3.1-0.2 3 0.2 1.8 0.5 1.7 0.7 1.2 0.8 1.3 1.2 0.9 1.3 0.4 1 0.2 1.5 0 2-0.3 1-0.6 1-1.1 1.5-1.5 1.6-2.7 1.9zM477 180l-2-0.1-3-0.9-20-7.9-4-1.3-4.2-3.5-0.5-1 0.1-1 0.9-1 2.1-1 2.3-0.5 2.8-0.2 3 0.2 3.2 0.5 3.3 1 2.4 1 2.8 1.5 2.9 2 2.9 2.5 3.3 3.5 2 2.5 0.7 1.5 0.1 1-0.1 0.5-0.5 0.5zM423 175.3l-1.5 0.2-0.9-0.2-0.5-0.5 0-0.5 1-1.5 2-1.5 2.7-1.5 2.7-1 3-0.5 1.3 0.5 0.2 0.5-0.5 1-0.9 1-1.3 1-3.8 2zM442.5 172.4l-2 0.2-1.5-0.1-0.9-0.2-0.2-0.5 0.6-0.5 1.3-0.5 2.7-0.5 2.3 0 0.8 0.5-0.4 0.5-0.9 0.5zM310.5 236l-1 0-0.8-0.7-0.3-1 0-1.5 0.6-2.5 1-2.1 1.5-1.9 2.2-1.5 0.2-0.5-1.4-2.9-0.5-1.6 0-2 0.4-1.5 1.1-1.6 1-0.9 0.9-0.5 2.1-0.4 1.8 0.4 1.2 0.7 0.9 0.8 1.1 2 0.3 2.5-0.4 2-1 1.5-1.4 1.2-1.5 0.6-3 0.7-0.2 0.5 0.2 1.5 0 1.5-0.5 1.9-0.5 1.2-1 1.7-1 1.1-1 0.8zM328 229.4l-1 0-0.5-0.2-0.8-0.9-0.3-1-0.1-1.5 0.2-1.1 0.5-0.9 1-0.6 1 0 0.5 0.3 0.6 0.8 0.4 1.2 0 1.3-0.2 1-0.6 1zM331.5 251.4l-1 0-0.5-0.2-1-0.9-0.6-1-0.6-4.5 0.2-4 1-4.5 1-2.9 0.8-1.6 0.7-1.1 1-0.9 1-0.5 1-0.2 1 0.4 0.5 0.5 0.5 0.8 0.6 1.5 0.5 3.5-0.2 4-0.9 4.2-1.5 3.8-1.5 2.3-1 0.9zM306.5 258.8l-2 0.3-2 0-5-0.8-6.5-0.7-2.5-0.6-2-0.7-2-1-2-1.3-1.9-1.7-1.3-1.5-1.3-2-0.7-2-0.3-2 0.1-2 0.6-2 1.2-2 1.1-1.3 1.4-1.2 1.6-1.1 2-0.9 3.5-1 4.5-0.4 3.5 0.4 3 0.7 2.5 0.9 3.6 1.9 4.4 0.6 3.8 1.4 1.9 1 1.2 1 0.7 1 0.3 1.5-0.3 1-0.8 1-0.8 0.6-4.4 1.9-0.5 0.5-0.1 0.5 0.5 0.5 1 0.1 5.2-0.6 4.3 0 2.4 0.5 0.3 0.5-0.4 0.5-0.9 0.5-1.9 0.5-3.3 0.5-5.7 0.2-1.3 0.3-0.6 0.5 0.7 2 0 1-0.3 0.5-1.8 1.5zM324.5 258.4l-1 0.3-1-0.2-1-0.5-0.5-0.7-0.4-1 0.1-1 0.5-1 0.8-0.6 1-0.4 1 0.1 1 0.5 0.7 0.9 0.3 1-0.2 1-0.5 1zM241.5 299.8l-0.5 0-0.5-0.3-0.5-0.7-0.9-2-0.2-1.5 0.4-1.5 0.7-1 1-0.7 1-0.2 1 0.2 1 0.8 0.7 1.4 0.2 1.5-0.3 1.5-0.6 1-1 0.9zM247.5 315.6l-0.5 0.1-0.5-0.9-0.1-0.5 0.1-2.2 0.4-2.3 0.6-1.8 1-2.3 1-1.2 0.5-0.2 0.5 0.3 0.3 1.2-0.3 3.4-0.5 1.9-1 2.6-1 1.5zM235.5 333.8l-2.5-0.2-4.5-1.3-1 0.1-1.5 1.1-1 0.3-1 0-1-0.4-0.7-0.6-0.4-1 0-1 0.4-1.5 0-0.5-1.4-2-0.4-1 0-0.7 0.5-0.6 2.6-1.2 0.1-0.5-0.9-3.5-0.1-2 0.5-2.5 1.3-2.3 1.6-1.7 1.9-1.2 2.2-0.8 2.8-0.5 2 0 1.5 0.2 1.5 0.5 1 0.7 1 0.9 0.8 1.2 0.7 2.5 0 2-0.2 3-0.4 1.5-0.6 1.5-1 1.5-1.3 1.3-3.6 2.2-0.1 0.5 0.3 0.5 2.2 2.5 0.7 1.5 0 0.5-0.3 0.5-0.7 0.3z"/>
<path fill="#0099ff" d="M433 135.3l-3 0.1-2-0.4-1.9-0.7-1.2-1-0.8-1.5 0-1.5 0.5-1.5 1.2-1.5 2.1-1.5 2.1-1 2-0.6 2.5-0.4 2.5-0.1 2.5 0.4 1.8 0.7 1.4 1 1 1.5 0.2 1.5-0.6 1.5-1.2 1.5-2.1 1.5-2 0.9-2 0.6zM410 171.9l-3 0.2-3.8-0.3-2.7-0.8-2-1.2-1.5-1.5-0.9-2-0.2-2 0.5-2 1.1-2 1.9-2 2.1-1.6 3-1.5 3-0.8 3-0.4 3 0.1 2.9 0.7 2.7 1.5 1 1 0.7 1 0.4 1 0.3 1.5-0.1 1.5-0.4 1.5-1.6 2.5-2.4 2.2-3 1.8zM475.5 178.4l-1 0.3-1-0.1-3.5-0.9-7.9-2.9-12.6-5.1-1.5-0.8-2.8-2.1-0.7-1-0.2-0.5 0.2-1 1.1-1 1.4-0.6 2-0.5 3-0.2 3 0.2 2.5 0.4 2.6 0.7 2.6 1 2.9 1.5 2.3 1.5 2.4 2 2.5 2.5 1.7 2 1.2 2 0.4 1.5-0.1 0.5zM423 174.8l-1 0-0.5-0.3-0.2-0.2 0-0.5 0.6-1 2-1.5 1.8-1 2.7-1 2.1-0.3 1.1 0.3 0.2 0.5-0.6 1-1.7 1.5-2.9 1.5-1.6 0.6zM318.5 224.3l-2.5 0.3-1-0.2-0.5-0.3-1.5-2.2-0.7-2.1 0-2 0.7-2.1 1.5-1.6 2-0.9 2 0.1 2 1 1.3 1.5 0.7 2 0 2-0.7 2-1.3 1.5zM311.5 234.9l-1 0.3-0.5 0-0.6-0.4-0.4-0.8-0.1-0.7 0.2-2 0.9-2.3 1-1.5 1.5-1.3 1-0.4 0.5 0.1 0.5 0.3 0.5 1.1 0 1.5-0.1 1-0.4 1.2-1 1.9-1 1.2zM332 250.8l-1 0.2-0.5-0.1-1-0.7-0.7-0.9-0.3-1-0.4-3 0.1-4 0.8-4.3 1.6-4.2 0.9-1.5 1-1 1-0.6 1-0.1 1 0.4 0.5 0.6 0.9 2.2 0.5 3-0.2 3.5-0.7 4-1 3-1.5 2.7-1 1.1zM306.5 258.4l-2 0.3-2 0-4.5-0.8-7-0.7-2-0.5-2.4-0.9-3.6-2-1.7-1.5-1.8-2-1-1.8-0.6-1.7-0.3-2 0.1-2 0.7-2 0.8-1.5 1.2-1.5 1.2-1 1.4-1 2-1 4-1.1 4-0.3 3 0.2 3 0.7 2.5 0.9 4 1.9 1 0.2 3 0.3 1.5 0.4 2.5 0.8 2 1.1 1.1 0.9 0.9 1.4 0.1 1.1-0.3 1-0.8 1-1 0.7-4.6 1.8-0.5 0.5-0.1 0.5 0.2 0.7 0.5 0.3 1 0.1 4-0.6 4.5-0.3 2.3 0.3 0.7 0.5-0.3 0.5-1.1 0.5-2.1 0.5-3.5 0.3-4.5 0-1.5 0.2-0.7 0.5-0.2 0.5 0.9 2 0 0.7-0.4 0.8-1.1 1.1zM324.5 257.8l-1.5 0.4-1-0.4-0.5-0.5-0.4-1.5 0.4-1 0.5-0.6 1-0.4 0.5 0 1 0.4 0.6 0.6 0.4 1 0 0.5-0.4 1zM242.5 298.9l-1 0.2-1-0.5-0.8-1.3-0.4-1.5 0.2-1.5 0.5-0.8 1-0.9 1-0.2 1 0.2 0.8 0.7 0.6 1 0.2 1-0.1 1.2-0.5 1.2-0.5 0.6zM247.5 315l-0.5-0.2-0.3-1 0.3-3.4 0.5-1.8 1-2.3 1-1.2 0.5-0.1 0.4 0.8 0.1 1-0.5 3.6-1 2.7-1 1.6zM235.5 333.4l-2.5-0.1-4-1.2-1-0.1-1 0.3-1.7 1-0.8 0.1-1-0.2-1-0.9-0.2-1 0.4-1.5 0-1-1.3-2-0.3-1 0.1-0.5 0.4-0.5 2.4-0.9 0.4-0.6-1-3-0.3-2.5 0.4-2.5 1.3-2.5 1.7-1.8 2-1.2 2.5-0.8 3-0.5 2.7 0.3 1.3 0.5 1 0.6 0.9 0.9 0.6 1 0.6 1.5 0.2 1.5-0.1 2-0.5 3-0.4 1.5-0.8 1.5-1 1.3-1 0.9-1.5 0.9-2 0.9-0.4 0.5 0.5 1 1.8 2 0.9 1.5 0.1 0.5-0.2 0.5z"/>
<path fill="#00b8ff" d="M433.5 134.8l-2.5 0.1-2-0.2-1.5-0.4-1.6-1-0.8-1-0.4-1.5 0.4-1.5 1-1.5 1.8-1.5 2-1 2.1-0.7 2.5-0.4 2.5 0 2 0.3 2 0.8 1.3 1 0.7 1 0.2 1.5-0.6 1.5-1.1 1.3-1.6 1.2-2 1-1.9 0.6zM410 171.3l-2.5 0.3-3.5-0.1-2.5-0.6-2.1-1.1-1.6-1.5-1.1-2-0.2-2 0.5-2 1.1-2 1.9-2 2.2-1.5 2.8-1.3 3-0.8 3-0.3 3 0.2 2.3 0.7 2.5 1.5 0.9 1 0.6 1 0.4 1 0.2 1.5-0.5 2.5-1.6 2.5-2.2 2-3.1 1.8zM473.5 177.4l-1 0.1-1.5-0.2-3.6-1-6.9-2.5-9.5-4-2.5-1.3-2.2-1.7-0.7-1-0.1-1 0.8-1 1.7-0.8 2-0.4 2.5-0.2 2.5 0.2 2.5 0.4 2.9 0.8 2.5 1 2.8 1.5 2.2 1.5 2.3 2 1.9 2 1.5 2 0.9 2-0.2 1zM425.5 173.4l-1.5 0.2-0.7-0.3 0.1-0.5 0.5-0.5 2.4-1.5 1.7-0.6 1.6 0.1 0.1 0.5-0.9 1-1.7 1zM319 223.9l-2 0.4-1-0.1-1-0.4-1.5-1.6-0.9-1.9-0.2-2 0.6-2 1.1-1.5 0.9-0.7 1-0.5 2-0.1 1 0.2 1 0.5 1.5 1.6 0.7 1.5 0.1 2-0.5 2-1.1 1.5zM311.5 233.9l-1 0.2-0.5-0.3-0.3-0.5-0.1-1.5 0.4-1.5 0.5-1.1 1-1.4 1-0.7 1-0.2 0.5 0.4 0.4 1-0.3 2-1.1 2.3zM332 250.4l-1 0.1-0.5-0.1-1-0.8-0.5-0.8-0.7-3.5 0.1-4.5 1.1-4.7 1.5-3.5 1.5-1.8 1-0.6 1-0.1 1.1 0.7 1 2 0.5 3-0.1 3.8-0.7 3.7-1.3 3.5-1.5 2.3zM306 257.9l-3 0.3-5-0.8-4.5-0.3-2.2-0.3-2-0.5-2.3-0.8-3.5-2-2-1.7-1.3-1.5-0.9-1.5-0.8-2-0.3-2 0.2-2 0.6-1.9 0.9-1.6 2.1-2.1 3.1-1.9 3.9-1.2 4-0.3 3 0.3 2.5 0.5 6.7 2.7 5.8 0.9 3 1.1 1.5 0.8 1.2 1.2 0.5 1 0.1 1-0.3 1-0.9 1-0.7 0.5-1.4 0.6-3 1-0.8 0.4-0.4 0.5-0.3 1 0.3 1.5-1.1 1.5-0.1 0.5 0.8 2-0.1 1-0.3 0.5-1 0.8zM319.5 250.8l-3 0.3-2.7-0.3 0.3-0.5 1.8-0.5 3.1-0.2 2.2 0.2 0 0.5zM323.5 257.3l-0.5 0-0.5-0.3-0.5-0.7 0.2-1 0.8-0.6 1 0.2 0.4 0.4 0.2 0.5-0.3 1zM242 298.4l-1-0.2-0.5-0.5-0.5-0.9-0.2-1 0.1-1 0.5-1 0.6-0.6 1-0.2 1 0.3 0.5 0.4 0.5 1 0.1 1.1-0.1 0.7-0.5 1-0.5 0.5zM248 313.9l-0.5 0.2-0.4-0.8-0.1-1 0.2-1.5 0.8-2.8 1-1.7 0.5-0.4 0.5 0.3 0.1 0.6-0.1 2.4-1 3.2zM235 332.9l-2.5-0.1-4.5-1.1-1.1 0.1-1.9 0.8-1 0-0.5-0.3-0.3-0.5-0.1-3-1.2-2.5-0.1-0.5 0.3-0.5 0.9-0.5 1.7-0.5 0.6-0.5-0.1-0.5-1.3-3-0.3-2 0.3-2.5 1.1-2.5 1.5-1.7 2-1.3 3.5-1.2 2.5-0.3 2.5 0.3 2.1 1.2 0.9 1 0.5 1 0.5 2.5-0.1 2-0.6 3-0.6 1.5-0.8 1.5-0.9 1.1-1.5 1.2-3.7 1.7 0 0.5 0.3 0.5 2.3 2.5 0.6 1 0 1-0.5 0.5z"/>
<path fill="#00d6ff" d="M434 134.3l-2 0.1-2-0.1-1.9-0.5-1.1-0.6-1-1-0.4-1.4 0.3-1.5 0.6-1 1-1 1.5-1 2.3-1 2.2-0.5 2.5-0.2 2 0.2 1.7 0.5 1.6 1 0.8 1 0.3 1.5-0.4 1.1-1 1.4-1.3 1-1.9 1-1.4 0.5zM410 170.8l-2.5 0.3-3-0.1-2.5-0.5-2-1-1.5-1.3-1-1.7-0.3-1.7 0.3-2.1 0.9-1.9 1.6-1.8 2.3-1.7 2.2-1.1 2.7-0.9 2.8-0.4 3 0.1 2.5 0.6 2.3 1.2 1.1 1 0.7 1 0.6 2 0 1-0.3 1.5-0.4 1-1 1.5-2 2-3 1.8zM472 176.3l-2.1 0-3.9-1-5.6-2-7.2-3-3-1.5-2.1-1.5-1.2-1.5 0-1 1.1-1 1.4-0.5 2.1-0.3 2-0.1 2.5 0.3 2.5 0.5 4.5 1.6 4.2 2.5 1.8 1.5 1.9 2 1.4 2 0.6 1.5-0.2 1zM318 223.9l-2-0.1-1.5-0.8-1.2-1.7-0.6-2 0-1 0.3-1.3 1-1.7 1.2-1 1.8-0.6 1 0 1 0.3 1.5 1 1 1.3 0.6 2-0.2 2-0.9 1.8-1.4 1.2zM332 249.8l-1 0.2-0.5-0.2-1-1-0.4-1-0.6-3.3 0.2-3.7 0.8-4 1.5-3.6 1.5-1.9 1-0.6 1 0 1 0.6 0.5 0.8 0.5 1.3 0.4 2.9-0.2 3.5-0.7 3.6-1 2.8-1.5 2.4zM304 257.3l-2 0-4-0.5-4.5-0.2-2.5-0.4-4-1.3-2-1-1.6-1.1-1.6-1.5-1.2-1.5-1.1-2-0.5-1.5-0.1-2 0.1-1.5 0.7-2 1-1.5 2.3-2.2 3-1.6 3.5-0.9 3.5-0.3 4.2 0.5 2.3 0.7 3.1 1.3 1.7 0.5 2.2 0.5 4.5 0.6 2.6 0.9 1.8 1 1 1 0.5 1 0.1 1-0.3 1-0.7 0.7-1.1 0.8-1.4 0.6-3.2 0.9-0.9 0.5-0.5 1-0.5 2-0.8 1.5-0.1 0.7 0.4 1.8-0.1 0.5-0.8 1-0.9 0.5zM242.5 297.1l-0.5 0.2-0.5-0.1-0.5-0.5-0.2-0.4-0.1-1 0.2-0.5 0.6-0.7 0.5-0.1 0.5 0.1 0.6 0.7 0.1 1-0.1 0.5zM248 312.5l-0.3-1.2 0.3-1.8 0.5-1.3 0.5-0.6 0.5 0.2 0 1.5-0.5 1.8-0.5 1zM234.5 332.3l-2 0.1-4-1-2.5-0.1-1-0.3-0.5-0.3-0.5-0.8-1.3-3.6 0.2-0.5 0.6-0.4 2.3-0.6 0.6-0.5-1.8-3.5-0.4-2-0.1-1.5 0.3-1.5 1.1-2.3 1.5-1.6 2-1.3 3.5-1.3 2.5-0.3 1.5 0.2 1 0.4 1.7 1.2 0.8 1 0.4 1 0.3 2-0.2 2-0.8 3-0.7 1.8-0.7 1.2-1 1-1.3 1-1.5 0.7-2.9 0.8 0 0.5 0.3 0.5 2.4 2.5 0.7 1 0.1 1z"/>
<path fill="#0cf5ea" d="M433 133.8l-2 0-1.5-0.3-1.5-0.6-0.7-0.6-0.6-1-0.1-1 0.4-1.3 1-1.2 1.3-1 1.2-0.6 2-0.6 2-0.4 2 0 1.5 0.3 1.5 0.5 1.1 0.8 0.6 1 0.2 1-0.4 1.2-1.1 1.3-1.4 1-1.5 0.7-2 0.6zM409.5 170.4l-3 0.2-2.5-0.2-2.1-0.6-1.8-1-1.4-1.5-0.7-1.5-0.1-1.5 0.5-2 1.1-1.9 1.6-1.6 2.2-1.5 2.2-1 2.5-0.7 3-0.2 2.5 0.2 2.2 0.7 2.3 1.5 1 1.5 0.5 2-0.1 1-0.4 1.5-1.3 2-2.2 2-2.6 1.5zM470.5 175.1l-1 0.1-1 0-3.5-0.9-4.5-1.5-4.8-2-3.2-1.5-2.4-1.5-1.5-1.5-0.1-1 0.5-0.7 1-0.5 1.5-0.4 2-0.2 4 0.5 4.3 1.3 2 1 2.4 1.5 1.9 1.5 1.4 1.5 1.1 1.5 0.5 1 0.1 1-0.3 0.5zM318.5 223.4l-2 0.2-1.5-0.7-1.1-1.1-0.8-2 0-2 0.5-1.5 1.4-1.5 1.5-0.7 1.5 0 1.8 0.7 1.2 1.3 0.7 1.7 0 2-0.5 1.5-1.2 1.4zM331.5 249.4l-1-0.3-0.5-0.4-0.8-1.9-0.4-3 0.2-3.6 1-4 1.5-3.1 1.5-1.6 0.6-0.2 0.9 0 1 0.8 0.5 0.9 0.4 1.3 0.2 3-0.2 3-0.9 3.9-1 2.3-1.5 2.1-1 0.7zM302 256.3l-7.5-0.1-3.5-0.5-4-1.3-3.3-2.1-1.6-1.5-1.1-1.5-1-2-0.3-1.5-0.1-2 0.3-1.5 0.6-1.5 1-1.5 2.3-2 3-1.5 3.2-0.8 3.5-0.2 4 0.6 5.6 1.9 3.4 0.7 3 0.3 2 0.5 2.5 0.9 1.6 1.1 0.8 1 0.3 1-0.2 1-0.5 0.8-0.8 0.7-1.2 0.7-4.5 1.2-0.9 0.6-1.1 2.7-1.1 1.8-0.6 2.5-0.8 0.7-1 0.5zM232 325.3l-2-0.1-1-0.2-1.5-1.1-1.4-1.6-0.8-1.5-0.5-1.5-0.1-1.5 0.3-1.8 0.5-1.3 0.9-1.4 1-1 1.5-1 1.9-1 2.2-0.8 2-0.2 1.5 0.2 2 1 0.8 0.8 0.7 1 0.3 1 0.2 1.5-0.5 2.5-1.5 4-1.5 2-1 0.8-1.4 0.7zM233.5 331.5l-1 0.2-1-0.1-5.8-1.3-0.7-0.5-0.5-0.9-0.5-1.6-0.1-0.5 0.3-0.5 0.8-0.4 1.5-0.3 1.5 0.1 1 0.3 1.5 1 2.5 2.3 0.8 1.5-0.1 0.5z"/>
<path fill="#25ffd2" d="M434.5 132.9l-3 0.1-1.1-0.2-1.2-0.5-0.7-0.5-0.5-1 0-1 0.4-1 1.8-1.5 1.3-0.6 2-0.6 3 0 1.1 0.2 1.4 0.7 0.5 0.4 0.5 0.9 0 1-0.5 1-1.8 1.5-1.2 0.5zM409 169.9l-2.5 0.2-2.4-0.3-2.1-0.7-1.5-1-1.1-1.3-0.6-1.5 0-1.5 0.6-2 1-1.5 1.6-1.5 2.5-1.5 2-0.7 2.5-0.5 2.5-0.1 2.2 0.3 1.8 0.7 1.9 1.3 0.7 1 0.4 1 0.1 2-0.6 1.9-1.5 2-2 1.6-2.5 1.2zM468 173.8l-2-0.1-3.4-0.9-6.3-2.5-3-1.5-1.4-1-1-1-0.3-1 0.3-0.5 0.8-0.5 1.3-0.3 2-0.1 3.1 0.4 1.7 0.5 2.5 1 3.3 2 2.6 2.5 0.6 1 0.3 1-0.1 0.5zM319 222.9l-1 0.3-1 0-1.5-0.4-1.1-1-0.8-1.5-0.2-2 0.4-1.5 0.7-1.1 1.5-1 1.5-0.3 1.6 0.4 1.3 1 0.8 1.5 0.3 1.5-0.5 2-1 1.4zM332.5 248.3l-1 0.4-0.5-0.1-0.5-0.3-0.7-1-0.6-2.5 0-3.5 0.7-4 1.1-2.7 1.5-2 1-0.6 0.5-0.1 1 0.5 0.5 0.7 0.5 1.2 0.3 2.5-0.1 2.5-0.4 2.5-0.8 2.8-1 2.1zM300.5 255.3l-5 0.3-4-0.3-2-0.6-2-0.7-2-1.1-1.5-1.2-1.4-1.4-1.1-1.5-0.7-1.5-0.5-2 0-1.5 0.4-1.5 0.7-1.5 1.1-1.5 1-1 1.5-1 2.5-1.1 3-0.7 3.5-0.1 3.5 0.6 4 1.4 2.5 0.2 2.5 0.7 4.5 0.5 2.7 1 1.8 1.3 0.5 0.7 0.3 1-0.2 1-0.7 1-1.9 1.1-5.3 1.4-0.5 0.5-1.3 3-2.4 3.2-1.5 0.9zM233.5 324.4l-2 0.2-1.5-0.3-1.1-0.5-1.4-1-1.2-1.5-0.6-1.5-0.3-1.5 0.1-1.5 0.5-1.5 0.6-1 0.9-1.1 1.7-1.4 1.8-1.2 2-0.8 1.5-0.2 1.5 0 2 0.8 1.4 1.4 0.7 2 0 2-0.9 2.5-1.8 3.5-1.5 1.5-0.9 0.5zM231 329.9l-0.5 0.1-2.2-0.2-1.8-0.5-0.5-0.5 0-1.1 0.2-0.4 0.8-0.3 1.9 0.3 0.9 0.5 1 1 0.4 0.5 0 0.5z"/>
<path fill="#3effb9" d="M435 131.4l-2 0.3-1.8-0.4-0.7-0.5-0.2-0.5 0.1-1 1.1-1 2-0.8 1.5-0.1 1.8 0.4 0.6 0.5 0.2 0.5-0.1 1-1.1 1zM408 169.3l-2 0-2-0.3-1.7-0.7-1.4-1-0.9-1.5-0.3-1.5 0.2-1.5 0.8-1.5 1.3-1.5 1.5-1.1 1.6-0.9 2.4-0.8 2.5-0.4 2 0.1 2 0.5 1.5 0.7 1.5 1.4 0.6 1.5 0 2-1 2-1.3 1.5-2.2 1.5-2.4 1zM465 171.5l-1 0.1-1.8-0.3-4.1-1.5-2.6-1.5-1-1-0.1-0.5 0.3-0.5 0.3-0.1 2-0.2 2 0.3 2.6 1 1.7 1 1.7 1.5 0.5 1-0.1 0.5zM319 222.4l-1.5 0.4-1.5-0.3-1.1-0.7-0.9-1.5-0.3-1.5 0.3-1.5 1-1.5 1-0.7 1.5-0.3 1.5 0.4 1 0.8 0.8 1.3 0.3 1.5-0.3 1.5-0.8 1.3zM331.5 247.9l-1-0.6-0.5-0.8-0.3-1.2-0.3-2.5 0.2-2.5 0.9-3.5 1-2.2 1.1-1.3 0.9-0.5 0.5 0 1 0.6 0.7 1.9 0.3 2.5-0.3 3-0.7 2.8-1 2.2-1.2 1.5-0.8 0.5zM298 254.8l-4 0.2-4-0.7-3.5-1.6-1.5-1-1.5-1.4-1.7-2.5-0.5-1.5-0.2-1.5 0.2-1.5 0.4-1.5 0.8-1.3 1-1.2 2-1.5 2.5-1.1 3-0.6 3-0.1 3 0.5 4 1.2 3 0.1 3 0.8 4 0.5 2.5 0.9 1.7 1.3 0.6 1 0.1 1-0.4 0.9-0.6 0.6-1.9 1-4.8 1-0.7 0.3-0.7 0.7-1.3 2.8-2 2.2-2 1.2zM234 323.3l-1.5 0.4-1.5-0.1-1.1-0.3-1.4-0.8-1-1-0.7-1.2-0.4-1.5 0-1.5 0.2-1 0.7-1.5 1.2-1.5 1.6-1.5 2.5-1.5 1.4-0.4 1.5 0 2 0.6 1.5 1.3 0.7 1.5 0.1 2-0.8 2.5-1.5 2.4-1.8 2.1z"/>
<path fill="#56ffa0" d="M409 168.3l-2 0.2-1.5-0.1-1.9-0.6-1.1-0.6-1-1.1-0.5-1.3 0-1.5 0.3-1 1-1.5 1.1-1 1.6-1 2-0.8 1.5-0.4 2-0.1 2 0.2 1.5 0.6 1.4 1 0.9 1.5 0.2 1.5-0.5 1.5-1 1.5-1.9 1.5-2 1zM318.5 222l-1.5 0.2-1-0.3-1-0.8-0.6-1.3-0.1-1.5 0.2-1 0.7-1 1.3-0.8 1-0.1 1.5 0.4 1 1 0.4 1 0.1 1.5-0.3 1-0.7 1.1zM332 246.8l-0.5 0-0.5-0.3-0.5-0.6-0.4-1.1-0.2-2 0.1-2.5 0.5-2.2 1-2.4 1-1.4 1-0.5 0.5 0 0.5 0.3 0.5 0.7 0.4 1.5 0.1 2-0.1 2-0.4 2-1 2.5-1 1.4zM296.5 254.3l-2 0.1-2-0.2-3.5-1-1.9-0.9-1.4-1-2.2-2.2-0.8-1.3-0.5-1.5-0.1-2.5 0.4-1.5 0.5-1 1-1.3 1.4-1.2 1.8-1 2.3-0.8 2.5-0.3 2.5 0 2.5 0.4 3 1 4-0.1 3 0.8 3.8 0.5 2.6 1 1.1 0.8 0.6 0.7 0.4 1-0.1 0.5-0.4 0.8-0.7 0.7-2.3 1-4 0.6-1.4 0.4-0.5 0.5-1.5 3-2 2-2.6 1.3zM233 322.3l-2 0-1-0.3-1-0.7-0.8-1-0.4-1-0.2-1 0.1-1.5 0.5-1.5 0.9-1.5 1.9-2.2 1.3-0.8 1.2-0.4 1.5-0.2 1.1 0.1 1.4 0.6 1.4 1.4 0.6 1.5-0.1 2-0.9 2.1-1.5 1.8-2 1.7z"/>
<path fill="#6fff88" d="M407.5 167.3l-1.5-0.1-1.2-0.4-0.9-0.5-0.9-1-0.4-1 0.1-1 0.3-1 0.7-1 1.9-1.5 1.4-0.6 1.6-0.4 1.4-0.1 1.5 0.2 1.3 0.4 0.8 0.5 0.9 1 0.3 1-0.2 1.5-0.6 1-1 1.1-1.5 0.9-2 0.8zM318 221.4l-1 0-1-0.4-0.6-0.7-0.4-1 0-1 0.4-1 0.6-0.7 1-0.4 1 0 1 0.6 0.5 0.6 0.3 0.9 0 1-0.3 0.9-0.5 0.6zM332 245.4l-0.5-0.1-0.7-1-0.3-1.5 0.1-2 0.4-2.3 0.5-1.3 1-1.5 0.5-0.4 0.5-0.1 0.5 0.2 0.3 0.4 0.4 1 0.2 1.5-0.1 2-0.3 1.5-1 2.4-0.5 0.6zM298 253.3l-3.5 0.3-3.5-0.5-3.2-1.3-2.6-2-0.8-1-0.9-1.5-0.4-1.5-0.1-1 0.2-1.5 0.3-1 1.5-2 2-1.5 2-0.8 2.5-0.5 2.5-0.1 2.5 0.4 3 0.9 3-0.6 2 0.1 2.5 0.9 2.5 0.2 2 0.5 2.1 1 1 1 0.3 1 0 0.5-0.4 0.7-0.9 0.8-1.1 0.5-1.5 0.4-5 0.6-0.7 0.5-1.2 2.5-1.6 1.9-2 1.3zM234 320.3l-2 0-1-0.4-0.7-0.6-0.7-1-0.3-1 0-2 0.9-2 0.8-1 1-0.8 2-0.9 2 0.1 1.5 0.6 1 1 0.6 1.5-0.1 1.9-0.7 1.6-1.3 1.5-1.5 1z"/>
<path fill="#88ff6f" d="M298 252.4l-3 0.4-3-0.3-3-1.1-2.4-1.6-1.6-2-0.5-1-0.3-1.5 0.2-2 1.1-2 1-1 1.5-1 3-0.9 2-0.2 2 0.1 4 1.1 0.5 0 2.5-1 1.5-0.1 1.5 0.3 2.5 0.9 2.5 0.3 1.5 0.4 1.3 0.6 1.1 1 0.4 1-0.1 0.5-0.7 1-1 0.6-1.5 0.4-6.2 0.5-0.6 0.5-1 2.5-1.2 1.5-2 1.4zM235.5 319l-1 0.2-1 0-1.5-0.5-1.4-1.4-0.4-1.5 0.2-1.5 0.8-1.5 1.3-1.1 1-0.5 1-0.2 1.5 0.1 1.4 0.7 0.8 1 0.5 1.5-0.2 1.5-0.5 1.1-1 1.2z"/>
<path fill="#a0ff56" d="M297.5 251.4l-2.5 0.4-2.5-0.2-2.5-0.8-2.3-1.5-1.6-2-0.6-2 0.3-2 0.9-1.5 1.9-1.5 2.4-0.8 2-0.3 1.6 0.1 4.4 1.1 2.5-1.6 2-0.3 1.7 0.3 2.3 1.1 3.5 0.6 1 0.4 1.1 0.9 0.4 1-0.1 0.5-0.9 0.9-1 0.5-3 0.4-4.5-0.2-1 0.4-0.8 2.5-1 1.5-1.7 1.3zM235 318.4l-1.5-0.1-1.1-0.5-1-1-0.4-1.5 0.3-1.5 0.7-1 1.4-1 1.6-0.3 1 0.2 1.1 0.6 0.8 1 0.2 1.5-0.4 1.5-0.7 1-1 0.7z"/>
<path fill="#b9ff3e" d="M296 250.4l-2 0.1-2-0.4-1.9-0.8-1.6-1.3-0.8-1.2-0.4-1.5 0.2-1.5 1-1.5 1-0.8 1.5-0.6 2.5-0.4 2.1 0.3 1.5 0.5 1.9 0.9 0.5 0 0.3-1.4 0.7-1 1.5-0.9 1.5-0.2 1.5 0.3 2.5 1.4 2.3 0.4 1.2 0.4 0.9 0.6 0.3 0.5 0.1 0.5-0.2 0.5-0.5 0.5-1.1 0.5-1 0.1-2 0.1-6.9-0.7 0.1 2.5-0.2 1-0.5 0.8-1.5 1.4-1 0.5zM235.5 317.4l-1 0.1-1-0.1-0.9-0.6-0.6-1-0.1-1 0.3-1 0.8-0.9 1-0.5 1-0.1 1 0.2 0.5 0.3 0.7 1 0.1 1-0.2 1-0.6 0.9z"/>
<path fill="#d2ff25" d="M306 243.3l-2.5 0.3-2-0.6-0.9-0.7-0.2-0.5-0.1-1 0.3-0.5 0.9-0.9 1-0.4 1.5-0.1 1.2 0.4 1.4 1 1.4 2-0.1 0.5zM296 248l-1 0.2-1.5 0-1.3-0.4-0.9-0.5-0.5-0.5-0.5-1 0-1 0.5-1 1.2-0.8 1.5-0.3 1.5 0.2 1.8 0.9 0.8 1 0.2 1-0.1 0.5-0.6 1zM235 315.8l-1 0-0.4-0.5 0-0.5 0.4-0.5 0.8 0 0.5 0.5 0.1 0.5z"/>
<path fill="#eaff0c" d="M305 243l-2 0.1-1.5-0.6-0.6-0.7-0.1-0.5 0.2-1 1-0.9 1-0.2 1.5 0.1 1 0.5 0.8 1 0.1 1-0.4 0.6z"/>
<path fill="#ffe700" d="M305 242.4l-1.5 0.4-1.5-0.5-0.5-0.5-0.2-0.5 0.2-1 0.6-0.5 0.9-0.3 1 0 0.8 0.3 0.7 0.5 0.3 1-0.1 0.5z"/>
<path fill="#ffcb00" d="M304.5 242l-1 0.2-1-0.3-0.5-0.6 0.1-0.5 0.4-0.5 0.5-0.2 1.5 0.2 0.5 0.5 0.1 0.5z"/>
</g></g>
<rect x="199.5" y="45.3" width="318.50" height="316.20" fill="none" stroke="#111" stroke-width="0.7"/>
<path d="M234.00 361.5v3.4M234.00 45.3v-3.4M314.20 361.5v3.4M314.20 45.3v-3.4M394.40 361.5v3.4M394.40 45.3v-3.4M474.60 361.5v3.4M474.60 45.3v-3.4M199.5 69.40h-3.4M518.0 69.40h3.4M199.5 126.54h-3.4M518.0 126.54h3.4M199.5 183.68h-3.4M518.0 183.68h3.4M199.5 240.82h-3.4M518.0 240.82h3.4M199.5 297.96h-3.4M518.0 297.96h3.4M199.5 355.10h-3.4M518.0 355.10h3.4" stroke="#555" stroke-width="0.8" fill="none"/>
<rect x="122.95" y="29.95" width="677.30" height="673.50" fill="none" stroke="#000" stroke-width="1.9"/>
<path d="M179.60 704.40v7.6M179.60 29.00v-7.4M267.36 704.40v7.6M267.36 29.00v-7.4M355.12 704.40v7.6M355.12 29.00v-7.4M442.88 704.40v7.6M442.88 29.00v-7.4M530.64 704.40v7.6M530.64 29.00v-7.4M618.40 704.40v7.6M618.40 29.00v-7.4M706.16 704.40v7.6M706.16 29.00v-7.4M793.92 704.40v7.6M793.92 29.00v-7.4M122.00 604.80h-7.4M801.20 604.80h7.6M122.00 504.30h-7.4M801.20 504.30h7.6M122.00 403.80h-7.4M801.20 403.80h7.6M122.00 303.30h-7.4M801.20 303.30h7.6M122.00 202.80h-7.4M801.20 202.80h7.6M122.00 102.30h-7.4M801.20 102.30h7.6" stroke="#000" stroke-width="1.15" fill="none"/>
<g font-family="Liberation Serif, serif" opacity="0.999">
<text transform="translate(151.81,744.32) scale(0.893,1)" font-size="40.6" text-anchor="start" fill="#000">200</text>
<text transform="translate(239.57,744.32) scale(0.893,1)" font-size="40.6" text-anchor="start" fill="#000">300</text>
<text transform="translate(327.33,744.32) scale(0.893,1)" font-size="40.6" text-anchor="start" fill="#000">400</text>
<text transform="translate(415.09,744.32) scale(0.893,1)" font-size="40.6" text-anchor="start" fill="#000">500</text>
<text transform="translate(502.85,744.32) scale(0.893,1)" font-size="40.6" text-anchor="start" fill="#000">600</text>
<text transform="translate(590.61,744.32) scale(0.893,1)" font-size="40.6" text-anchor="start" fill="#000">700</text>
<text transform="translate(678.37,744.32) scale(0.893,1)" font-size="40.6" text-anchor="start" fill="#000">800</text>
<text transform="translate(766.13,744.32) scale(0.893,1)" font-size="40.6" text-anchor="start" fill="#000">900</text>
<rect x="57.87" y="606.83" width="24.0" height="1.35" fill="#000"/><text transform="translate(86.47,618.62) scale(0.893,1)" font-size="40.6" text-anchor="start" fill="#000">5</text>
<text transform="translate(86.47,517.72) scale(0.893,1)" font-size="40.6" text-anchor="start" fill="#000">0</text>
<text transform="translate(86.47,417.22) scale(0.893,1)" font-size="40.6" text-anchor="start" fill="#000">5</text>
<text transform="translate(68.34,316.72) scale(0.893,1)" font-size="40.6" text-anchor="start" fill="#000">10</text>
<text transform="translate(68.34,216.22) scale(0.893,1)" font-size="40.6" text-anchor="start" fill="#000">15</text>
<text transform="translate(68.34,115.72) scale(0.893,1)" font-size="40.6" text-anchor="start" fill="#000">20</text>
<text transform="translate(205.24,393.31) scale(0.935,1)" font-size="37.3" text-anchor="start" fill="#000">160</text>
<text transform="translate(287.24,393.31) scale(0.935,1)" font-size="37.3" text-anchor="start" fill="#000">200</text>
<text transform="translate(367.44,393.31) scale(0.935,1)" font-size="37.3" text-anchor="start" fill="#000">240</text>
<text transform="translate(447.64,393.31) scale(0.935,1)" font-size="37.3" text-anchor="start" fill="#000">280</text>
<text transform="translate(172.76,81.81) scale(0.935,1)" font-size="37.3" text-anchor="start" fill="#000">0</text>
<rect x="154.46" y="129.52" width="14.8" height="1.25" fill="#000"/><text transform="translate(172.76,140.35) scale(0.935,1)" font-size="37.3" text-anchor="start" fill="#000">2</text>
<rect x="154.46" y="186.66" width="14.8" height="1.25" fill="#000"/><text transform="translate(172.76,197.49) scale(0.935,1)" font-size="37.3" text-anchor="start" fill="#000">4</text>
<rect x="154.46" y="243.80" width="14.8" height="1.25" fill="#000"/><text transform="translate(172.76,254.63) scale(0.935,1)" font-size="37.3" text-anchor="start" fill="#000">6</text>
<rect x="154.46" y="300.94" width="14.8" height="1.25" fill="#000"/><text transform="translate(172.76,311.77) scale(0.935,1)" font-size="37.3" text-anchor="start" fill="#000">8</text>
<rect x="137.02" y="358.07" width="14.8" height="1.25" fill="#000"/><text transform="translate(155.32,368.91) scale(0.935,1)" font-size="37.3" text-anchor="start" fill="#000">10</text>
<text transform="translate(891.00,43.22) scale(0.893,1)" font-size="40.6" text-anchor="start" fill="#000">0</text>
<rect x="892.40" y="100.70" width="24.0" height="1.35" fill="#000"/><text transform="translate(921.00,112.50) scale(0.893,1)" font-size="40.6" text-anchor="start" fill="#000">4</text>
<rect x="892.40" y="167.98" width="24.0" height="1.35" fill="#000"/><text transform="translate(921.00,179.78) scale(0.893,1)" font-size="40.6" text-anchor="start" fill="#000">8</text>
<rect x="892.40" y="235.26" width="24.0" height="1.35" fill="#000"/><text transform="translate(921.00,247.06) scale(0.893,1)" font-size="40.6" text-anchor="start" fill="#000">12</text>
<rect x="892.40" y="302.55" width="24.0" height="1.35" fill="#000"/><text transform="translate(921.00,314.34) scale(0.893,1)" font-size="40.6" text-anchor="start" fill="#000">16</text>
<rect x="892.40" y="369.82" width="24.0" height="1.35" fill="#000"/><text transform="translate(921.00,381.62) scale(0.893,1)" font-size="40.6" text-anchor="start" fill="#000">20</text>
<rect x="892.40" y="437.11" width="24.0" height="1.35" fill="#000"/><text transform="translate(921.00,448.90) scale(0.893,1)" font-size="40.6" text-anchor="start" fill="#000">24</text>
<rect x="892.40" y="504.39" width="24.0" height="1.35" fill="#000"/><text transform="translate(921.00,516.18) scale(0.893,1)" font-size="40.6" text-anchor="start" fill="#000">28</text>
<rect x="892.40" y="571.67" width="24.0" height="1.35" fill="#000"/><text transform="translate(921.00,583.46) scale(0.893,1)" font-size="40.6" text-anchor="start" fill="#000">32</text>
<rect x="892.40" y="638.95" width="24.0" height="1.35" fill="#000"/><text transform="translate(921.00,650.74) scale(0.893,1)" font-size="40.6" text-anchor="start" fill="#000">36</text>
<rect x="892.40" y="706.23" width="24.0" height="1.35" fill="#000"/><text transform="translate(921.00,718.02) scale(0.893,1)" font-size="40.6" text-anchor="start" fill="#000">40</text>
<g transform="translate(0,783)" font-size="41.7"><text transform="translate(309.20,0) scale(1.056,1)" stroke="#000" stroke-width="0.75">Wavelength</text><text transform="translate(531.70,0) scale(1.063,1)" stroke="#000" stroke-width="0.75">(nm)</text></g>
<g transform="translate(44.6,584.8) rotate(-90)" font-size="41.7"><text transform="translate(-1.28,0) scale(1.139,1)" stroke="#000" stroke-width="0.75">Internal</text><text transform="translate(161.79,0) scale(1.079,1)" stroke="#000" stroke-width="0.75">angle</text><text transform="translate(270.80,0) scale(0.744,1)" font-style="italic">θ</text><text transform="translate(301.85,0) scale(1.039,1)" stroke="#000" stroke-width="0.75">(degrees)</text></g>
<text transform="translate(998.2,367.9) rotate(-90) scale(1.02,1)" font-size="41.7" stroke="#000" stroke-width="0.75" text-anchor="middle">dB</text>
</g>
<text transform="translate(707.7,652.3) scale(0.877,1)" font-family="Liberation Sans, sans-serif" font-size="70.5" fill="#fff">a</text>
<text x="751.7" y="646.9" font-family="Liberation Sans, sans-serif" font-size="63" fill="#fff">)</text>
<linearGradient id="cb0" x1="0" y1="0" x2="0" y2="1"><stop offset="0.0000" stop-color="#800000"/><stop offset="0.0250" stop-color="#9c0000"/><stop offset="0.0500" stop-color="#b90000"/><stop offset="0.0750" stop-color="#d60000"/><stop offset="0.1000" stop-color="#f30900"/><stop offset="0.1250" stop-color="#ff2100"/><stop offset="0.1500" stop-color="#ff3900"/><stop offset="0.1750" stop-color="#ff5000"/><stop offset="0.2000" stop-color="#ff6800"/><stop offset="0.2250" stop-color="#ff8000"/><stop offset="0.2500" stop-color="#ff9700"/><stop offset="0.2750" stop-color="#ffaf00"/><stop offset="0.3000" stop-color="#ffc600"/><stop offset="0.3250" stop-color="#ffde00"/><stop offset="0.3500" stop-color="#f7f600"/><stop offset="0.3750" stop-color="#e2ff15"/><stop offset="0.4000" stop-color="#ceff29"/><stop offset="0.4250" stop-color="#b9ff3e"/><stop offset="0.4500" stop-color="#a5ff52"/><stop offset="0.4750" stop-color="#90ff67"/><stop offset="0.5000" stop-color="#7bff7b"/><stop offset="0.5250" stop-color="#67ff90"/><stop offset="0.5500" stop-color="#52ffa5"/><stop offset="0.5750" stop-color="#3effb9"/><stop offset="0.6000" stop-color="#29ffce"/><stop offset="0.6250" stop-color="#15ffe2"/><stop offset="0.6500" stop-color="#00e5f7"/><stop offset="0.6750" stop-color="#00ccff"/><stop offset="0.7000" stop-color="#00b3ff"/><stop offset="0.7250" stop-color="#0099ff"/><stop offset="0.7500" stop-color="#0080ff"/><stop offset="0.7750" stop-color="#0066ff"/><stop offset="0.8000" stop-color="#004cff"/><stop offset="0.8250" stop-color="#0033ff"/><stop offset="0.8500" stop-color="#001aff"/><stop offset="0.8750" stop-color="#0000ff"/><stop offset="0.9000" stop-color="#0000f3"/><stop offset="0.9250" stop-color="#0000d6"/><stop offset="0.9500" stop-color="#0000b9"/><stop offset="0.9750" stop-color="#00009c"/><stop offset="1.0000" stop-color="#000080"/></linearGradient>
<rect x="842.95" y="29.95" width="33.65" height="673.50" fill="url(#cb0)" stroke="#000" stroke-width="1.7"/>
<path d="M877.15 30.30h8.2M877.15 97.58h8.2M877.15 164.86h8.2M877.15 232.14h8.2M877.15 299.42h8.2M877.15 366.70h8.2M877.15 433.98h8.2M877.15 501.26h8.2M877.15 568.54h8.2M877.15 635.82h8.2M877.15 703.10h8.2" stroke="#000" stroke-width="1.25" fill="none"/>
</g>
<g transform="translate(0,788)">
<rect x="122.95" y="29.95" width="677.30" height="673.50" fill="#00007f"/>
<clipPath id="cmb"><rect x="122.95" y="29.95" width="677.30" height="673.50"/></clipPath><g clip-path="url(#cmb)"><g filter="url(#blM)">
<path fill="#000090" d="M678 61.1l-3 0.2-2-0.3-0.9-0.6-0.4-0.4-0.4-1.6 0.6-2 1.6-2.4 2.1-2.6 2.8-2.5 4-3 2.6-1.6 4.5-2.3 3.9-1.7 3.6-0.8 2.4-0.2 2 0.3 1.2 0.8 0.4 1 0 1-0.9 2.6-2.2 3-3.6 3.4-3.3 2.6-5 3.1-5 2.4zM627.4 159l-5.4 0.4-1.6-0.1-0.7-0.3 0.3-1 0.8-1.6 4-5.4 2.9-3.6 7.7-8.1 7.6-7.1 4.4-3.9 6-5 7-5.5 12-8.6 7.6-5 8-4.9 11.4-6.6 13-6.5 12.6-5.4 12-4.5 11.4-3.6 12.6-3 10-1.5 5-0.1 2.4 0.3 0 0.6-0.4 1-1.4 2.4-2.5 3.6-4 5-7.4 8-9.3 8.7-9.4 8-8.6 6.4-9.4 6.6-9.6 6-10.4 6-11.6 5.9-12 5.6-12 5-11 3.9-11.4 3.6-10 2.5-5 1zM634 230.5l-6.6 0.1-6.4-0.4-3-0.6-0.4-0.2-0.2-0.4 0.5-1 1.9-2.6 6.2-6.1 7-6 10-7.6 12-8 9-5.4 10-5.6 14-7 14.4-6.5 10.6-4 13.4-4.5 13.6-3.5 13-2.5 7.4-1 5.6-0.5 7.4-0.2 5.6 0.2 3.4 0.7 0.7 0.5-0.5 1.6-2 3-4.5 5.4-8.7 8.8-7.4 6.4-8 6.1-10.6 7-8.4 5-10.6 5.5-10 4.5-11.4 4.5-10 3.5-12 3.5-10 2.5-13 2.5-10.6 1.5-5.4 0.5zM676 289l-4 0.2-7.6 0-7.4-0.5-4.6-0.5-6-1-4.4-1.1-3-1-1.5-0.7-0.9-0.4-0.2-0.6 0.9-1.4 1.7-2 5.4-5.2 8-6.1 8.6-5.4 10-5.6 9.4-4.5 11-4.5 10-3.4 12-3.6 14-3.5 14.6-2.9 13-2.1 9-1 6.4-0.5 10.6-0.2 8 0.3 4 0.6 2 0.5 0.6 0.5-0.5 1-1.5 2-6.2 6.2-6.4 5.5-6 4.6-9 6-7.6 4.5-6.4 3.5-10 5-8 3.5-9 3.5-10.6 3.5-7 2-8.4 2-8.6 1.4-9 1.1zM729 331.1l-3 0-1.3-0.7-0.1-0.4 0.8-1.1 2-1.2 2-0.9 3.6-1 3-0.5 1.4-0.1 1.6 0.2 0.9 0.6 0.1 0.4-0.3 0.6-2.3 1.6-4 1.6zM715 346l-2.6 0.2-9 0.2-6.4-0.2-4-0.5-3-0.7-3-1-1.4-1-0.2-0.6 0.1-0.4 0.8-1 0.7-0.6 2.4-1 2-0.6 4.6-1 3.4-0.5 7-0.6 11.6 0 6 0.6 3 0.5 3 1 1.1 0.6 0.8 1 0.1 0.6-0.7 1-1.9 1-1.4 0.6-6 1.5zM361 424l-4.6 0.2-4.4-0.5-2-0.7-1-0.6-0.4-0.4 0-0.6 0.4-0.5 1-0.7 2.4-1 1-0.1 1-0.4 4.6-0.6 5.4 0 2.6 0.2 2.4 0.5 1 0.4 1 0.6 0.4 0.6-0.1 0.6-0.4 0.4-2.3 1.3-4 1zM354 473l-1.6 0.2-2-0.1-1.4-0.4-1.1-0.7-0.1-0.6 0.2-0.4 1-0.7 2-0.6 2.4-0.3 0-0.4-0.9-0.6-2.1-0.7-1.4-0.8-2-0.5-0.9 0-2.7 0.8-2.4 0.2-3-0.1-2.6-0.6-2.4-1.1-1.5-1.2-0.8-1 0-1 0.3-0.4 1-0.8 2-0.6 4 0 3 0.6 1 0.4 2 0 0.5-0.6 1.1-2.6 1.8-1.8 1.6-0.9 2.1-0.7 0.3-0.4 1.4-0.2 0.6-0.3 2.1-0.1 0.5-0.3 1-0.1 5 0.1 0.7 0.3 2.3 0.1 0.6 0.3 1.4 0.2 0.4 0.4 1.6 0.2 0.4 0.3 1.6 0 4-2.2 2-0.7 4 0.1 1.4 0.4 2 1.1 2.8 2.8 1.1 2 0.4 1.4 0.1 2 0 2-0.5 1.6-1 2-1.3 1.4-2 1.8-1 0.5-3.6 1-6.4 0.1-1-0.1-0.5-0.3-1.5-0.1-0.7-0.3-0.9-0.2-2.4-1.4-1.6-0.5-8-0.1-0.6 0.2 0.5 1 0 0.4-0.2 0.6-1.1 0.7zM378 517.6l-2.6 0.3-9.4 0-2.6-0.1-1-0.4-3-0.1-1-0.3-2.4-0.2-0.7-0.4-1.9-0.1-0.7-0.3-1.7-0.2-0.5-0.4-1.5-0.1-0.5-0.3-1.5-0.2-0.4-0.4-1.2-0.1-0.4-0.3-1-0.2-0.6-0.4-1-0.1-0.4-0.4-1-0.1-0.4-0.4-2.2-0.6-0.3-0.4-2.1-0.6-0.4-0.4-0.6 0-0.7-0.4-0.9-0.2-0.3-0.4-1.1-0.1-0.4-0.3-2.2-0.7-0.5-0.3-0.9-0.2-0.4-0.4-0.6-0.1-0.6-0.3-2-0.9-3-1.8-2.8-2.9-1-1.4-0.5-1.6 0-1.4 0.2-1 0.4-1 1-1.6 1.3-1.1 2.4-1.7 2.6-1 0.7-0.2 0.3-0.2 1.5-0.2 0.5-0.4 1.8-0.2 0.6-0.3 2.6-0.1 1-0.4 3.7-0.2 1.3-0.3 4-0.1 1.4-0.4 12.6-0.1 1.4 0.1 1 0.4 3.6 0.1 0.6 0.3 2.4 0.2 0.7 0.4 2.3 0.1 0.3 0.3 1.7 0.2 0.6 0.4 1.4 0.1 0.6 0.3 1.4 0.2 0.4 0.4 1 0.1 0.7 0.3 2.3 0.6 0.7 0.4 0.9 0.2 0.3 0.4 2.1 0.6 0.4 0.4 0.6 0.1 0.5 0.3 0.5 0.1 1.6 1 0.4 0.1 0.6 0.4 0.4 0.1 3 2 2 1.6 1.8 1.7 1.6 2.6 0.9 2.4 0 1.6-0.5 2-1 1.4-1.8 1.9-3 1.9-2.1 0.8-0.3 0.3-1.1 0.1-0.5 0.4-1.1 0.2-0.3 0.3-1.6 0.1-1 0.4-1.6 0.2-0.8 0.3-2.6 0.1zM245 505.7l-2 0.1-1.6-0.9-0.6-0.5-1.1-1.4-0.5-1.6-0.1-3 0.6-1.4 1.3-1.5 1.4-0.7 1-0.1 1.6 0.6 0.4 0.3 1.3 1.4 0.6 1 0.4 1.4 0.1 2.6-0.6 1.4-0.8 1.2zM248 535.6l-1.6-0.4-1.2-1.2-0.5-1-0.5-1.6-0.2-1.4-0.6-0.3-3 2.4-1.4 0.5-1 0-1.6-0.3-1.4-1.1-1.8-2.2-0.2-1-0.4-0.6-0.2-1.2-0.3-0.8 0.1-3.4 0.2-0.5 0.3-1.5 1-2 2.3-2.3 1.4-0.6 1.6 0 1.4 0.5 1 0.7 1.9 2.1 1.1 2.9 0.6 0.3 1.4 0 0.6 0.4 1.2 1.4 0.2 0.7 2.3 2.3 0.5 1 0.5 2.6-0.4 2.4-1.3 2.2-1 0.7zM381 547.5l-8-0.2-1.5-0.3-3.5-0.2-0.8-0.4-2.8-0.1-1-0.4-2-0.1-0.7-0.4-2.3-0.2-0.5-0.2-1.9-0.2-0.6-0.4-2-0.2-0.4-0.2-1.6-0.2-1-0.4-1.4-0.2-0.4-0.2-1.6-0.3-0.4-0.3-1.6-0.2-0.3-0.2-1.3-0.2-0.6-0.4-1.4-0.1-0.4-0.3-3-0.8-0.3-0.2-2.7-0.8-0.4-0.2-1.2-0.3-0.2-0.3-3.8-1.2-0.2-0.2-0.8-0.2-3.4-1.6-3-1.6-3-2-1.7-1.6-0.6-1.6 0.1-1 1.2-1.1 1-0.5 2-0.6 3.4-0.6 8.6 0 2.4 0.1 1.4 0.3 3.6 0.1 1.6 0.4 2.4 0.1 0.9 0.4 2.7 0.2 0.6 0.2 2.4 0.3 0.5 0.3 1.9 0.1 1 0.4 1.6 0.1 1 0.4 1.4 0.1 0.7 0.3 1.9 0.2 0.4 0.4 1.6 0.1 0.6 0.3 1.4 0.2 0.7 0.4 1.3 0.1 0.6 0.3 1.4 0.2 0.4 0.4 1 0.1 0.8 0.3 1.2 0.3 0.3 0.3 1.3 0.1 0.3 0.3 1.1 0.3 0.3 0.3 1.3 0.2 1.4 0.8 1 0.2 0.3 0.2 0.7 0.2 0.5 0.4 1.1 0.2 3 1.4 4.4 2.6 2.8 2.2 1 1.6 0.2 1-0.5 1-1.5 1.1-1.4 0.5-3 0.6zM255.4 536l-0.4 0.2-0.6-0.3-0.7-0.9 0-0.6 0.4-1.4 1.9-1.9 1-0.4 0.4 0.1 0.7 0.6 0.2 0.6-0.1 1-0.2 0.2-0.2 0.8-0.8 0.9-1 0.9zM225 560.5l-1.6-0.3-1.3-1.2-0.9-2-0.2-2.8-0.9-0.8-1.1-0.2-1.4-1.2-0.5-1 0-3 0.7-1.6 0.6-0.7 1-0.2 1 0.2 0.8 0.7 0.6 1 0.2 1.1 0.4 1.2 0.6-0.7 0.1-2 0.3-0.4 0.1-1.2 0.5-0.5 0.1-0.9 0.3-0.4 0.3-0.6 1.6-2 1.7-1.5 2-0.9 3 0.1 1.4 0.9 0.9 0.8 0.9 1.6 0.8 3 1-0.4 2.4 0 1.6 1.5 1 0 1.4-0.4 1.6 0.6 3.8 3.1 0.5 1 0.1 0.8 0.3 0.2 0.1 2.6-0.5 1.4-0.9 1.3-1 0.6-1 0-1.3-1.3-0.5-0.6-0.2-0.6-0.8-0.8-1.2-0.3-0.4-0.4-2-2-1.6 1.5-1.4 1.1-0.7 0.1-0.5 0.4-0.4 0.6-0.1 1-0.9 0.8-1.4 0-0.9-0.8-0.1-0.8-0.6-1.1-2.9 1.3-0.6 0.6-1.1 2.4-0.8 1-1 0.9zM257 591.7l-1.6 0-1.4-0.5-1.6-1-1.7-1.8-1-1.4-1.2-2.6-1.5-1.8-2.5-2.2-0.5-0.1-1-0.9-0.6-0.2-1.4-1.3-0.6-0.1-1-0.9-1 0-1.4 1-0.6 0.1 0.9 0.4 1.7 0.3 1.4 1.3 0.3 0.4-0.4 0.6-0.3 0.3-0.6 0.1-0.4 0.4-2 0-0.5-0.4-1.1 0-0.6-0.4-0.8-0.1-1.6 0.9-1.4 0-1.4-0.8-0.2-1 0.3-1 1.3-0.9 0-0.2-0.7 0.1-2.9 1.8-0.6 0.2-0.4 0.3-1 0.1-0.4 0.4-1.6 0-0.8-0.8-0.2-0.6-0.4 0-0.6 0.4-1.4 0.2-0.6 0.3-0.4 0-1.6-0.1-0.2-0.2-1.2-0.2-1.6-1-0.8-0.8-1-1.6-0.2-1.1-0.3-0.3 0-4 0.3-0.5 0.1-1.1 0.5-0.4 0.2-1 0.8-1 0.1-0.6 3.3-3.2 0.7-0.2 0.3-0.4 0.8-0.2 0.2-0.2 1.7-0.2 0.9-0.4 1 0 2 0.6 0.4 0.4 2 1.8 0.6 1.2 1.1-0.2 0.3-0.3 1-0.1 1 1 0 2-0.4 0.4-0.1 0.6-0.5 0.4-0.1 0.6-1.9 2-0.1 0.4 0.1 0.2 0.6-0.1 1-0.9 0.4-0.1 0.6-0.5 0.4 0 0.6-0.5 0.5-0.1 0.5-0.4 0.6 0 0.4-0.4 1.4-0.1 0.6-0.3 1.3-0.2 0.7-0.4 4-0.1 0.4 0.2 0.3 0.3 0.7 0 0.6 0.5 0.4 0 1.6 1 1.9 1.9 1.4 1.6 0.1 0.5 1.9 1.9 2.1 0.7 1 0.5 1.6 1.2 1.8 2.2 0.9 1.4 1 3 0 3-0.5 1.6-1.2 1.2zM366.4 580.5l-1.4 0.2-2-0.1-4-0.9-0.3-0.3-2.3-0.7-2.4-1.4-1.7-1.3-1.1-1.6 0.1-1 0.7-0.6 0.4-0.1 3.6-0.1 3 0.6 0.2 0.2 2.2 0.7 3 1.6 1.6 1 1.2 1.3 0.5 1 0 0.4-0.3 0.6zM235.5 574l-0.1-0.6-0.4 0-0.6 0.6zM187 582.2l-0.6 0.1-0.7-0.9-0.2-0.4 0.1-3 0.4-0.5 0-1.1 0.5-0.4 0.1-0.6 0.8-0.8 0.6 0 0.8 1.4 0 2.4-0.4 0.7-0.1 1.3-0.6 1zM215.4 595.3l-2 0-0.4-0.1-0.9-0.8-0.9-1.4-0.4-2.6 0.3-2.4 0.6-1.6 1.7-1.8 0.6-0.5 0.4 0 1.6 0 0.4 0.2 0.9 0.7 0.9 1.4 0.4 2.6-0.3 2.4-0.6 1.6zM173 593.6l-0.6 0.1-0.4-0.3-0.4-0.4-0.1-0.6 0.2-1.4 1.7-1.9 1-0.2 0.8 0.5 0.1 1.6-0.5 1-0.8 0.9zM170 646.9l-1-0.1-0.4-0.4-0.1-0.4 0.1-4 0.4-0.4 0.1-1.2 0.3-0.3 0.1-0.7 0.5-0.4 0-1-0.4-0.6-0.6-0.1-0.6 0.1 0 1.3 0.3 0.7 0 1.6-0.5 2-1.2 1.4-0.6 0.4-1.4 0-1.3-0.8-0.6-1-0.1-0.9-0.4-0.7-0.1-1.4-0.4-1-0.1-2.6 0.6-1.4 0.8-1.1 0.1-1.5-0.9-1.4-0.2-0.8-0.2-0.2-0.2-1.6-0.4-0.4 0.1-4 0.3-0.4 0.1-1.2 0.3-0.5 0.4-0.9 1-1.6 1.2-1.1 2-1.2 1.4-0.5 3 0 0.6 0.1 0.2 0.3 0.8 0.1 0.5 0.3 0.9 0.2 0.6-0.6 0-1 0.4-0.5 0.1-0.5 0.5-0.8 0.1-1.2-0.1-0.2-2 2.1-1 0.4-1 0-1.5-1.3-0.5-1 0-1.8-0.5-1.2-1.1-0.2-0.3-0.4-1.1-2.1-1.3-1.3-0.3-0.7-0.3-0.3 0-3.6 0.5-1 1.4-1.3 1 0 0.4 0.5 1.3 1.4 0.3 1 0.3 0.4 0.1 2 0.3 0.6 0.3 1.8 2-2.2 0.6-0.2 0.4-0.3 1 0 1 0.5 1 1.4 2-1.9 1.2-0.1 0.9-1.6 0.9-0.8 0.6-0.2 0.5-0.4-0.1-0.4-0.6-0.3-1.3-1.3-0.1-0.7-0.4-0.3-0.2-1.9-0.3-0.7 0-0.4 0-1 0.3-0.8 0.1-1.2 0.5-0.5 0-0.5 1-1 1-0.9 0.4 0 1 0.5 0.9 0.8 0.1 0.6 0.5 0.4 0.1 0.7 0.3 0.3 0.1 3.3 0.3 0.3 0.1 1 0.1 6 0 1.4-0.2 0.6-0.7 0.8-3.6 0.2 0 0.5 0.5 0.5 0.1 1.2 0.2 0.2 0.2 0.6 0 3 0.6-0.4 1.4-0.1 1.5 1.5 0.1 0.5 0.3 0.5 0.1 1.1 0.6-0.1 1-0.8 0.4-0.1 1.4 1.3 0.5 4-0.3 0.9-0.1 3.1-0.1 0.6-0.4 0.3 0 1.7-0.4 0.4-0.1 1-0.5 0.8 0 0.8-0.5 0.4-0.1 1-0.9 1.6-1.5 1.3 0 2.7-0.1 0.4-0.3 0.4-0.1 1.2-0.5 0.4-0.1 1-0.9 1.2 0 0.4-1 0.9-1 0.4-0.8-0.9-0.1-4.4 0.5-0.8 0-0.8 0.4-0.6 0.2-0.8 0.4-0.4 0-0.6-0.6 0.3-0.4 0.1-3.1 0 0 3-0.6 1-1.9 1.8-0.6 0.2-0.4 0.4-2 0.1-0.4 0.5-0.1 1.6-0.5 0.7 0 0.7-0.4 0.5-0.1 0.5-0.5 0.6 0 0.4zM177.4 598.2l-0.4 0.1-0.9-0.9 0-2.4 0.3-0.5 0.2-1.1 1-2 0.8-0.8 0.6 0 0.8 0.8 0 2.6-0.4 0.3-0.1 1.1-0.4 0.6-0.1 0.4-0.4 0.6-0.1 0.4zM192 611.9l-0.6 0-0.3-0.5 0-3 0.3-0.7 0.2-1.3 0.4-0.3 0.1-0.7 1.3-1.3 0.7 0.9 0.2 0.4-0.1 1-0.3 0.6 0 1.4-1.1 2.6zM184 629.4l0.2-2 0.2-0.4 0.1-3 0.1-0.6 0.4-0.3 0-1.7 0.5-0.4 0-1.6-1.5-0.1-0.9-0.9-0.1-0.4-0.5-0.6-0.1-1.1-0.4-0.5-2 1.4-0.2 0.8-0.4 0.3-0.1 1.7-0.4 0.4 0 1.6 0.5 0 0.5 0.4 0.5 0.1 0.6 0.5 0.4 0 1.4 1.4 0.2 0.6 0.4 0.4 0 2-0.1 0.6-0.9 1 0 0.4zM190 642l-0.6 0.3-0.4 0-0.6-0.2-0.7-0.7-0.2-1 0.3-1 1.2-0.7 0.4 0 0.6 0.4 0.8 0.9 0 1-0.2 0.4zM179 652.3l-0.6 0-1-1-0.5 0.1-0.5 0.5-0.7-0.5-0.7-1 0-2.7-1.4-1.3-0.5-1 0.1-2.4 1.2-1.6 1-0.8 2-0.3 2 0.4 1.5 1.3 0.8 1 0 2.4-1 1.6-1.4 1 0.1 1 0.5 0.4 0 1.6-0.2 0.4zM149.4 660.7l-0.8-0.7 0-1.6 0.4-0.4 0.5-1-0.4-0.6-0.1-1.5-0.4-0.5 0-2 0-0.4 0.4-0.5 0.1-1.5 0.9-0.9 0.7 0.9 0.6 3.4-0.3 1-0.1 1.6-0.6 1 0.1 3zM167 654.8l-0.6 0.1-0.4-0.5-0.4-1 0-0.4 0.4-0.7 0-0.9 1-1.1 0.4 0.2 0.5 0.5 0 1-0.1 2zM142.4 660.5l-0.4 0.4-0.6-0.1-0.3-0.4-0.1-1 0.1-2 0.9-0.9 0.4 0 0.5 0.5 0.4 1-0.5 2zM145 697.2l-1.6 0.1-0.4-0.5-0.9-0.8-0.1-0.8-0.4-0.8-0.2-1-0.9-1-0.5-0.1-1.9-1.9-0.1-0.4-0.5-0.6-0.1-0.5-1.8-2.5-0.5-1-0.5-3.4 0.4-1.1 0.2-1.9 0.8-1.3 0.1-0.7 0.3-0.4 0.3-1.2 0.3-0.4 0-1-0.4-1 0.1-1 0.3-0.5 0.1-1.5 0.3-0.4 0.2-0.6 1.8-1.9 1-0.1 0.9 0.4 0.5 1 0.2 1.6 0.4 0 1-0.6 0.2-0.4-0.9-1.6-0.4-2.4 0.3-2.6 0.8-1 0.6-0.3 1.4 0 1.6-1.1 0.4 0 0.6 0.1 0.8 0.9 0.2 0.5 0.4 0.5 0 1.5 0.4 0.5 0 1.4-0.1 0.6-0.3 0.2-0.1 1.8-0.9 1.2-0.1 1.2-0.4 0.6 0.1 1.4 0.4 0.6 0 0.6 0.4 0.4 0.2 1.7 0.4-0.7 0.2-2.6 0.4-0.3 0-1.7 0.4-0.7 0.2-1.3 0.4-0.3 0.1-0.7 0.9-0.8 0.7 0.8 0.1 0.6 0 3-0.4 1 0 2.4-0.4 0.8-0.2 1.8-0.4 0.3-0.1 1.1-0.3 0.4-0.1 0.6-0.9 0.9-1-0.4-0.1 1.1-0.5 0.4-0.1 1-2.2 3 0.2 1 0.1 5 0.4 1 0 1.6-0.4 0.7 0 0.7-0.6 1zM139 681.4l0.5-0.4 0-0.6-0.5-1.6-0.7 0.6-0.4 1 0.5 1.2zM139 697.1l-0.6 0.2-0.8-0.9-0.1-0.4 0.1-1.6 0.8-0.8 0.6 0 0.3 0.4 0.1 0.7 0.3 0.3 0 1zM141 701.3l-0.6-0.1-0.2-0.2-0.5-1.6 0.3-0.4 0.1-1.6 0.9-0.8 0.4 0 0.4 0.4 0.4 1.4-0.2 0.4-0.1 1.2-0.2 0.4z"/>
<path fill="#00009f" d="M678 60.5l-2.6 0.1-1.4-0.2-0.8-0.4-0.5-0.6-0.3-0.5-0.1-0.9 0.6-2 1.3-2 2.1-2.6 2.7-2.4 3.4-2.6 3.2-2 3.8-2 3-1.2 2.6-0.8 3-0.4 2 0.1 0.9 0.3 0.6 0.6 0.5 1 0 1-0.2 1-0.8 1.4-2.2 3-3.2 3-4 3-5.1 3-4.7 2zM624.4 159l-3 0-0.9-0.6 0.4-1.4 1.1-1.7 3.2-4.3 4.3-5 5.2-5.6 6.2-6 11.5-10 11-8.5 12.8-8.9 13.8-8.6 13.4-7.5 11.6-5.6 10.4-4.5 12-4.4 11.6-3.5 6-1.6 7-1.4 6-1 4.6-0.5 3.7 0 1.3 0.6 0.1 0.4-0.4 1-1.4 2.6-2.5 3.4-3 3.7-7.1 7.9-8.9 8.5-9.4 8-10.6 8-9.4 6.5-10.6 6.6-12.4 6.9-11 5.5-11 5-12.6 5-11.4 4-12.6 3.6-11 2.3zM638.4 230l-8 0.3-7-0.2-4.1-0.7-0.9-0.4-0.1-0.6 0.8-1.4 1.6-2 6.1-6 7-6 8.6-6.6 8.8-6 9.8-6 10.4-6 10.6-5.5 15-7 13.4-5.5 13.6-4.6 12.4-3.4 6.6-1.5 8-1.5 6.4-1 6.6-0.7 6-0.4 5.4 0 4.6 0.5 1 0.2 1.2 0.4 0.2 0.6-0.1 0.4-1.1 2-2.1 3-2.9 3.6-6.8 7-8.5 7.4-8.5 6.6-8 5.5-9 5.5-11 5.9-10 4.6-12.4 5-10 3.5-11.6 3.5-10 2.5-12 2.5-10 1.5zM680.4 288.5l-7 0.4-7 0-7.4-0.3-5.6-0.6-6.4-1-6-1.6-2.6-1-0.9-0.4-0.3-0.6 0-0.4 1-1.6 2.2-2.4 2.6-2.6 3.6-3 7.5-5.4 8.9-5.6 9.2-5 9.8-4.5 10-4.1 10-3.4 14-4 14.4-3.6 12.6-2.4 13.4-2 12.6-1.2 11-0.4 5.4 0.1 4 0.3 3.6 0.6 1.5 0.6 0.2 0.6-0.8 1.4-4 4.6-6.1 5.4-7 5.6-7.1 5-7.3 4.5-8 4.6-8.4 4.4-10 4.5-7.6 3.1-8 2.8-8 2.6-7.4 2-9.6 2-6.4 1.1zM730.4 330.5l-3.4 0.2-1.2-0.3-0.4-0.4 0.2-0.6 0.5-0.4 1.5-1 4-1.6 2.4-0.5 3-0.2 1.7 0.3 0.4 0.4-0.1 0.6-0.5 0.4-1.5 1-2.6 1.1zM712 346l-9.6 0.1-4-0.2-4.4-0.5-2.7-0.4-3.1-1-1.4-1-0.2-0.6 0-0.4 0.8-1 1.8-1 5.2-1.6 6.6-1 7.4-0.5 8 0 7 0.7 3 0.6 2.5 0.8 1.1 0.5 0.8 0.9 0 0.6-0.2 0.4-1.2 1-3.9 1.6-6.1 1.2zM364.4 423.5l-6 0.4-5.4-0.3-2.4-0.6-1-0.6-0.4-0.4 0-0.6 0.3-0.4 0.6-0.6 2.9-1.1 2.4-0.5 4.6-0.5 5 0 3.4 0.5 1.9 0.6 0.7 0.6 0.3 0.4-0.3 0.8-1.1 0.8-2.9 1zM379 472.6l-3 0.1-3-0.1-3-0.5-1.6-0.5-2.4-1.3-1.6-0.5-5.4-0.2-4-0.3-6-2.5-2-0.6-1 0-3.6 0.9-2 0.1-2.4-0.2-3.6-1-2-1-1-1-0.3-0.6 0-1 0.4-0.4 0.7-0.6 2.8-0.6 2.4 0 5.6 1.1 1 0 0.5-0.5 1.4-3 1.5-1.5 3-1.7 3.6-1 3.4-0.4 3.6 0 3.4 0.4 5 1.4 1.6 0.1 0.7-0.3 3.7-2.1 2.6-0.5 2.4 0 3 1 1.6 1 1.6 1.6 1 1.6 0.6 1.4 0.4 2 0 2-0.5 2.6-0.5 1-1 1.4-1.2 1.3-1 0.9-2 1.1-1.4 0.5zM352 473l-2.8-0.6-0.8-0.4-0.1-0.6 0.2-0.4 0.8-0.6 2.7-0.5 2.4 0.1 1 0.4 0.4 0.6 0.1 0.4-0.3 0.6-0.8 0.4zM377.4 517.5l-2.4 0.3-7.6 0-7.4-0.6-8.6-1.4-0.7-0.4-3.3-0.7-5-1.5-8-3.3-7.4-2.7-3-1.5-2.6-1.7-2.2-2-1.3-2-0.6-2.6 0.5-2 1.3-2 1.9-1.6 3-1.6 2.4-0.9 4.6-1.1 3.4-0.5 11-1 10.6-0.1 6.4 0.6 8.6 1.5 5.4 1.5 0.4 0.2 2.6 0.8 7 3 3.6 2 2 1.5 2.4 2.3 1.7 2 1 2 0.4 2.4-0.4 2-1.2 2-1.5 1.6-2.4 1.7-2 1-4.6 1.5-5 1zM244.4 505.5l-1.4 0-1-0.5-0.8-0.6-1.2-1.4-0.7-2 0-2 0.7-2 1-1.2 1.4-0.7 1 0 1 0.2 1.6 1.1 1 1.6 0.5 2 0 1.4-0.6 2-0.9 1.3zM249 535.1l-1.6 0.1-0.7-0.2-0.7-0.6-1.3-2-0.7-3-0.6-0.1-2.4 2.3-1 0.5-1.6 0.3-1.4-0.2-1-0.5-1-0.8-1.3-1.5-1-2.4-0.4-2-0.1-2 0.5-2.6 0.7-1.4 0.9-1.6 1.1-1.1 1-0.6 1.6-0.4 1 0 1.4 0.5 1.6 1.2 1.1 1.4 1.3 3.2 0.6 0.2 1.4 0 0.6 0.4 0.7 0.8 0.7 1.3 1.7 1.7 1 2 0.2 1.4 0 1.6-0.3 1.4-0.4 1-0.6 0.9zM386.4 547l-7.4 0.3-4.6-0.1-5.4-0.5-7-1-5.6-1.1-13-3-5-1.5-6-2-5-2-3.4-1.7-2.6-1.4-2.8-2-1.2-1.6-0.3-1 0-0.4 0.6-1 0.7-0.6 1-0.5 2-0.5 4.6-0.6 7.4 0 6.6 0.5 10 1.4 10.4 2 8 2 6.6 2 6.4 2.5 6.4 3.2 3.5 2.6 0.9 1 0.6 1 0.1 1-0.5 1-0.6 0.4-1.4 0.7zM256 535.6l-1 0.2-0.6-0.1-0.4-0.7 0.1-1 0.3-1 0.8-1 0.8-0.7 1-0.3 0.7 0.4 0.3 1-0.5 1.6zM226 560l-1 0.3-1-0.2-1-0.6-0.6-0.5-0.6-1-0.4-1.6-0.2-2-0.2-0.9-0.6-0.3-1.4-0.3-1.1-0.9-0.6-1.6-0.1-2 0.5-1.4 0.7-0.9 0.6-0.3 1 0 0.4 0.2 0.8 1 1.2 3.3 0.6-0.8 0.7-4.1 1.5-3 2.2-2.3 1.6-1 1.4-0.4 1-0.1 1 0.1 1 0.4 1.2 0.9 1.2 1.4 0.4 1 0.2 1.4 0.6 1.3 1.4-0.5 1.6 0 0.4 0.1 1.6 1.5 0.4 0.2 1.6-0.4 1.4 0.2 3.6 2.8 1.2 1.4 0.5 2-0.1 1.6-0.5 1.4-0.7 1-1 0.7-0.4 0-1-0.4-0.8-0.7-1.3-2-1.9-0.8-1.2-1.2-0.4-0.6-0.4-0.2-3 2.5-0.8 0.3-0.8 0.7-0.3 1.3-1.1 0.7-1-0.1-0.7-0.6-0.3-2.1-0.6 0-3.1 1.5-0.9 1-0.8 2-0.6 0.8zM257.4 591.2l-1 0.2-1.4-0.2-1.6-0.6-1-0.7-2.1-2.5-1.7-3-1.6-2-2.4-2-5.2-3.6-1 0-1.4 1-0.7 0.2 0.7 0.4 1.4 0.2 1 0.5 0.9 0.9 0.1 0.4-0.4 0.8-1.6 0.5-1.4-0.1-1.6-0.4-0.4-0.3-1-0.2-1.6 0.9-1.4 0.1-1.1-0.7-0.3-1 0.4-1 1.2-1-0.2-0.3-1 0.3-1 0.8-3 1.5-1.6 0.5-1-0.2-1-1.3-1.4 0.5-2.6 0.4-2-0.4-1-0.5-1.1-0.9-1.2-1.4-0.9-2.6 0-3 0.5-2 0.9-2 1-1.4 1.4-1.4 1-0.9 1.4-0.9 1.6-0.6 3-0.4 1.4 0.4 1 0.5 1.8 1.7 0.8 1.4 0.4 0 1-0.5 1-0.2 0.9 0.9 0 2-0.3 0.3-0.2 0.7-1 1.4-1.5 1.6-0.3 0.6 0 0.4 1-0.5 2-1.4 0.4-0.1 1.6-0.9 1.4-0.4 1.6-0.2 2.4-0.8 3.6 0 2.4 1 1.6 1 1.8 1.7 3.3 4 3.3 1.5 1.4 1.1 1.4 1.4 0.9 1.6 0.9 2 0.5 2 0.1 1.4-0.6 2.4-0.6 0.7zM364.4 580.5l-3-0.4-2-0.5-2.4-1-2-1-1.8-1.2-1-1-0.6-1-0.1-0.4 0.3-0.6 1.2-0.5 3-0.1 4 1 3.4 1.6 2.9 2 0.8 1 0.1 0.6 0 0.4-0.4 0.6-0.8 0.3zM235.7 574l0-0.6-0.3-0.2-0.4 0.1-0.7 0.7 0.1 0.1zM186.4 582l-0.7-1-0.1-2.6 0.4-1 0.2-1 0.5-1 0.7-0.6 0.6 0 0.7 1.2 0 2.4-0.3 0.4-0.1 1.2-0.5 1-0.8 0.9zM215.4 595l-1 0.3-1-0.1-1-0.8-1.2-2-0.2-2 0.3-2.4 0.9-2 1.2-1.3 1-0.5 0.6 0 1 0.1 1 0.6 0.4 0.6 0.8 1.5 0.2 2-0.1 2-0.6 1.4-0.5 1zM173.4 593l-1 0.3-0.4-0.3-0.3-0.6 0.1-1 0.5-1 0.7-0.6 0.4-0.4 1-0.1 0.6 0.7 0 1-0.5 1zM170 646.8l-0.6 0-0.6-0.4-0.2-0.4-0.1-1.6 0.2-2.4 0.3-0.3 0-0.7 0.4-0.8 0.2-0.8 0.4-0.4 0.1-1-0.2-0.6-0.9-0.3-0.6 0-0.2 0.3 0.3 2.6-0.3 2.4-0.5 1-0.7 0.8-1 0.5-1-0.1-1-0.6-0.7-1-0.7-3-0.4-1-0.1-2 0.1-0.6 0.6-1.4 0.8-1 0.1-1-0.1-0.6-0.9-1.4-0.5-1.6-0.5-2.4 0.1-2.6 0.4-2 1-2 1.2-1.4 1.6-1.3 2.4-1 1.6-0.1 1.4 0.1 3 1.1 0.6-0.7 0.1-1.1 0.3-0.4 0.2-0.6 0.4-0.6 0.4-1.4-0.4-0.4-2 2.2-1 0.4-1-0.1-1.4-1.1-0.4-1-0.2-2.5-0.3-0.5-1.3-0.6-3-4.4-0.3-1.6 0.2-2 0.5-1 1.2-1 1 0 0.7 0.6 0.5 0.4 0.9 2 0.5 4 0.1 0.6 0.3 0 1.4-1.8 1.6-0.9 1 0 1 0.6 1 1.2 1.4-1.5 1-0.5 1.2-0.1 0.7-1.6 0.7-0.6 0.9-0.4 0.4-0.4-0.2-0.6-0.7-0.2-0.7-0.8-1.1-2-0.3-2.4 0.3-2.6 0.5-1.4 0.9-0.9 0.4-0.5 1-0.3 1 0.4 0.8 0.7 0.6 1 0.2 1 0.3 0.6 0.1 3.3 0.4 1.7 0.1 5-0.2 1.4-0.7 1.1-0.6 0.2-3 0-0.1 0.3 0.1 0.6 0.3 0.4 0.3 1.5 0.3 0.5 0 3 0.1 0.2 1-0.6 1 0.1 1.3 1.3 0.5 1 0.2 1.3 0.6-0.1 0.4-0.5 1-0.4 0.9 0.7 0.5 1 0.2 3-0.2 4-0.4 1-0.2 2-0.2 0.2-0.2 1.2-0.4 0.6-0.1 1-0.3 0.3-0.7 1.7-0.6 1-1.3 1.2-0.1 2.8-0.3 0.5-0.2 1.5-0.4 0.3 0 0.7-1.2 2-0.8 0.7-1 0.3-0.7-0.6-0.1-0.4 0-4 0.4-0.5 0.1-1.1 0.3-0.4 0.1-0.6 0.5-0.5 0.1-0.9-1.1 0.3-3.3 0.1-0.1 0.6 0.1 2.4-0.5 1-1.2 1.3-1 0.6-1 0.4-1.6 0.1-0.4 0.5-0.2 1.7-0.4 0.4-0.1 1-0.3 0.4-0.2 0.6-0.4 0.6-0.1 0.4zM177 598.1l-0.6-0.7-0.2-1 0-1 0.5-2 1.1-2 0.6-0.5 0.6-0.1 0.5 0.6 0.2 1-0.1 1-0.3 1.6-0.6 1.4-0.7 1-0.6 0.5zM192 611.7l-0.6 0-0.1-0.3-0.2-1.4 0.1-1.6 1.1-3 0.7-0.8 0.4-0.3 0.6 1.1-0.3 3-1 2.6zM184.1 629.4l0.3-0.4 0.2-5 0.4-0.7 0.1-1.9 0.4-0.4 0.1-1.6-0.2-0.1-1 0-0.4-0.2-0.7-0.7-0.6-1-0.3-1.4-0.4-0.4-1.6 1.2-0.5 0.2-0.2 1-0.3 0.2-0.1 1.2-0.4 1-0.2 1.6 0.7 0.2 0.3 0.2 0.7 0.2 0.4 0.4 0.6 0.2 1.3 1.2 0.5 1 0.1 2-0.1 0.6-0.8 1-0.1 0.4zM189.4 642l-1-0.2-0.6-0.8 0.2-1.3 0.4-0.5 0.6-0.1 0.4 0 0.7 0.3 0.4 0.6 0.1 0.4-0.1 0.6-0.3 0.4zM179 652.1l-0.6 0.1-0.7-0.8-0.3-0.4-1 0.7-0.8-0.7-0.4-0.6-0.1-0.4-0.1-2.6-1.1-1-0.6-1 0-2 0.4-1 0.9-1 1.4-0.7 1.4-0.2 1.6 0.2 1 0.6 0.7 0.7 0.9 1.4 0 1.6-0.4 1-0.8 1-1.4 1 0.3 1 0.5 0.4 0 1 0 0.6zM150 660.2l-0.6 0.2-0.4-0.3-0.3-1.1 0.1-0.6 0.8-1 0.2-0.4-0.7-1-0.4-3 0.4-2.6 0.2-0.4 0.7-0.6 0.7 1 0.3 2.6-0.3 3-0.6 1 0.2 2.4-0.1 0.6zM167 654.7l-0.6 0-0.2-0.3-0.3-1.4 0.2-1.6 0.9-0.9 0.4 0.1 0.3 0.4 0.1 1 0 1.4zM142 660.7l-0.7-0.3-0.2-1 0-1.4 0.2-0.6 0.7-0.7 0.4 0 0.5 0.7 0.1 1-0.3 1.6zM144.4 697.2l-1-0.2-0.7-0.6-0.4-0.4-0.9-2.8-2.7-2.2-1.1-1.6-0.6-1.5-1.3-1.5-0.6-1.4-0.2-3 0.3-2.6 1.2-2.5 0.7-1.9-0.2-2.6 0.2-2 0.7-1.4 1.6-1.8 1-0.1 0.6 0.3 0.3 0.6 0.7 2.1 0.4 0 1.3-0.7 0.2-0.4-1.2-2-0.1-0.6-0.1-1.4 0.2-2 0.5-1 0.8-0.8 1.4 0 1.6-1 0.4-0.1 0.6 0.2 0.7 0.7 0.5 1 0.5 2.4-0.4 3-0.9 1.6-0.5 2.4 0 1 0.9 2 0.2 1.6 0.4-0.7 0.2-2.3 0.4-1 0.1-1.6 0.4-0.4 0.1-1 0.6-1.6 0.8-0.7 0.7 1.3 0 2.4-0.3 1.6-0.1 2.4-0.3 0.5-0.2 1.5-0.4 0.7-0.2 1.3-0.5 1-0.7 0.8-1-0.6-0.3 1.4-0.9 2-1.8 2.3-0.1 0.7 0.4 1 0 4.4 0.3 2-0.4 2-0.8 1.2zM139.2 681.4l0.3-0.4 0.1-0.6-0.6-1.7-0.6 0.2-0.4 0.8-0.1 0.7 0.1 0.6 0.4 0.7zM138.4 697l-0.5-0.6-0.3-1 0.2-1 0.6-0.7 0.6 0.3 0.6 1.4-0.3 1-0.3 0.4zM141 701l-0.6-0.1-0.3-0.5-0.1-1 0.1-1.4 0.9-1.2 0.4-0.1 0.5 1.3-0.1 2z"/>
<path fill="#0000b1" d="M679 59.5l-2.6 0.1-1.4-0.4-0.9-0.8-0.2-0.4-0.1-1 0.5-1.6 1.2-2 1.8-2 2.7-2.4 2.7-2 3.1-2 2.9-1.6 3.6-1.4 2.7-0.8 2.4-0.2 1.6 0.2 1.2 0.8 0.3 0.4 0.1 1-0.2 1-0.7 1.6-1.9 2.4-3.2 3-3.3 2.6-4.2 2.4-4.5 2zM626 158.5l-3 0-1-0.3-0.4-0.2 0-1 0.8-1.6 2.8-4 4.2-5 5.2-5.4 5.6-5.6 10.8-9.4 12.1-9.6 12.9-9 13.5-8.4 11.5-6.6 12.1-6 12.3-5.3 12-4.4 12.6-3.8 6-1.5 6-1.2 5-0.8 5-0.5 3.4 0 1.2 0.5 0.2 0.6-0.3 1-1.1 2-2.4 3.4-2.8 3.6-7.3 8-8.8 8.4-8.8 7.6-9.8 7.4-10.1 7-10.4 6.6-11.6 6.4-11.4 5.9-12 5.4-11.8 4.7-11.8 4.1-11.7 3.5-10.7 2.4zM631.4 230l-5-0.1-4.4-0.5-1.9-0.4-0.6-0.6-0.1-0.4 0.7-1.6 2.1-2.4 6.2-6 7.8-6.6 9.6-7 9.8-6.4 10-6 10.9-6 11.5-5.7 13.4-6.1 12.6-4.8 13-4.2 12.4-3.3 13-2.5 6.6-0.9 6-0.6 6-0.2 5 0.1 3.4 0.4 1.1 0.2 0.8 0.6 0.1 0.4 0 0.6-1 2-2.5 3.4-3 3.6-6.9 7-8.7 7.4-8.9 6.7-9.4 6.3-9.6 5.6-10.4 5.3-11 4.8-11.6 4.4-11.4 3.8-11.6 3.2-11.4 2.7-11.6 2-11 1.2zM676.4 288.5l-6.4 0.2-6-0.1-6-0.4-6-0.7-5.6-1-4.1-1.1-2.7-1-0.9-0.4-0.5-0.6-0.1-0.4 0.7-1.6 1.6-2 2.5-2.4 3.5-3 7.5-5.6 8.7-5.4 9.2-5 9.6-4.6 10-4.1 10.6-3.6 13.4-3.9 13.6-3.4 13-2.6 13-2 13-1.3 11.4-0.4 5 0.1 4.6 0.4 3 0.5 0.9 0.3 0.6 0.6-0.1 1-0.9 1.4-4.2 4.6-6.2 5.4-7.1 5.6-7.3 5-8.2 5-8.1 4.4-9 4.4-8.4 3.8-8.6 3.3-9 3.1-8 2.4-8 1.9-8 1.5-8 1zM731 330l-3 0.1-0.7-0.1-0.3-0.6 0.9-1 2-1 1.5-0.4 3.6-0.7 1.4 0 1 0.3 0.2 0.4-0.3 0.4-1.5 1-2.6 1zM714 345.5l-9.6 0.3-4.4-0.1-4-0.4-3-0.5-2.9-0.8-1.6-1-0.3-0.6 0-0.4 0.8-1 0.8-0.6 2.5-1 1.9-0.4 5.8-1.1 8.4-0.7 8 0.1 6.7 0.7 3.9 1 1.1 0.4 1.1 1 0.1 0.6-0.7 1-1.8 1-1.4 0.4-4 1zM362.4 423.5l-4.4 0.2-4.1-0.3-2.2-0.4-1.2-0.6-0.5-0.4-0.1-0.6 0.4-0.4 0.6-0.6 2.7-1 2.4-0.4 4.4-0.5 3.6 0 3.6 0.5 1.7 0.4 0.8 0.6 0.4 0.4-0.1 0.6-0.5 0.4-2.1 1-1.8 0.6zM377.4 472.5l-3.4 0-3.6-0.5-1.7-0.6-2.7-1.3-1.6-0.5-9-0.5-1.4-0.4-6-2.5-1.6-0.4-1 0.1-2 0.7-1.8 0.4-2.2-0.1-2.4-0.3-2.1-0.6-1.9-1-1.1-1-0.4-1 0.5-0.9 1-0.6 2.4-0.5 3 0.2 4.6 1.1 1 0 0.4-0.3 0.4-0.6 0.8-2 0.6-1 1.5-1.4 2.7-1.6 4-1.1 4-0.4 3.6 0.2 2 0.2 6.4 1.6 1.6-0.4 2.4-1.5 2-0.7 2.6-0.4 2 0.3 1.4 0.4 1.7 0.8 1.3 1.1 1.3 1.5 0.9 1.4 0.6 2 0.3 2-0.1 1.6-0.4 1.6-0.9 1.8-1.1 1.6-1.1 1-1.5 1-2 0.8-2 0.5zM353.4 472.5l-1.4 0.1-1.6-0.2-1.1-0.4-0.2-0.6 0.3-0.4 1.2-0.6 1.8-0.1 1.6 0.1 0.9 0.6 0.1 0.4-0.3 0.6zM376.4 517.5l-3 0.2-5.4 0-7.6-0.5-9-1.6-5.4-1.4-4.6-1.5-15.4-6.2-2-1-2.4-1.5-2.1-2-1.3-2-0.4-1-0.2-1.6 0.4-2 1.3-2 1.8-1.4 2.9-1.6 3-1.1 4.4-1 4-0.5 11-1 9.6 0 9 0.9 7.4 1.5 8 2.5 5 2.2 3.6 1.9 3 2.1 1.4 1.3 2.1 2.2 1.2 2 0.5 2 0 2-0.8 2-1.1 1.6-1.9 1.5-2.4 1.5-2.6 1.1-3.4 1.1-5 0.9zM245 505l-1.6 0.2-1.4-0.5-1-0.7-0.6-0.8-0.7-1.8-0.2-2 0.5-1.8 1-1.4 1.4-0.8 1.6 0 1 0.6 1.4 1.4 0.7 1.6 0.2 2-0.3 1.8-1 1.5zM248.4 535l-1.4-0.2-1-0.7-0.5-0.7-0.7-1.4-0.5-2.6-0.3-0.9-3 2.9-1 0.5-1 0.3-1.6-0.1-1.4-0.6-1-0.8-1.1-1.3-0.9-2-0.4-1.4-0.2-2 0.2-2 0.3-1.6 0.9-2 1.2-1.4 1-0.8 1-0.5 1.4-0.2 1.6 0.3 1 0.6 1.5 1.6 1.9 3.9 0.6 0.2 1-0.1 1 0.4 1.4 2.3 1.8 1.7 0.8 2 0.2 1.6-0.1 1.4-0.5 1.6-0.6 0.9-0.6 0.5zM384.4 547l-4 0.1-4.4 0-10-1-11.6-2.1-6.4-1.4-7.6-2.1-9-3-3.8-1.5-4.1-2-3.2-2-1.6-1.6-0.9-1.4 0-1 0.6-1 0.8-0.6 1.2-0.5 2-0.5 5.6-0.5 7 0.2 8 0.8 9.4 1.4 10 2.1 7.6 1.9 7.4 2.5 6.2 2.6 5.3 3 1.9 1.6 0.9 1 0.5 1 0.1 1-0.7 1-0.6 0.4-2.8 1zM255.4 535.5l-0.7-0.1-0.4-0.4 0.1-1.6 0.6-1 1-0.8 0.4-0.2 0.9 0 0.3 0.6 0.1 0.4-0.3 1.2-0.9 1.4zM225 560l-1.6-0.4-1-1-0.4-0.9-0.4-1.3-0.3-3-0.3-0.5-1.6-0.1-0.8-0.4-0.5-0.4-0.6-1.6-0.1-2 0.6-1.4 0.4-0.6 0.9-0.4 0.7 0 1 1 0.6 1.4 0.4 2.3 0.4 0.3 0.6-0.8 0.7-4.2 1-2.6 0.6-1 1.4-1.4 1.3-1.1 1-0.6 1.4-0.5 1 0 2 0.5 1 0.7 1.2 1.4 0.5 1 0.5 2.6 0.4 0.2 1.4-0.5 1.6 0 1 0.6 1 1.1 0.4 0.2 1.6-0.4 1.4 0.2 3.6 2.8 1 1.2 0.5 2-0.2 2-0.9 1.7-1 0.7-0.4 0.1-1-0.4-2-2.7-2-0.8-0.6-0.6-1-1.3-0.4-0.1-2.6 2.2-1.4 0.8-0.6 0.4-0.6 1.6-0.8 0.6-0.8-0.2-0.8-0.5-0.3-0.9 0.1-1-0.2-0.5-3.6 1.7-0.9 0.8-1.6 3-0.9 0.7zM257 591.1l-1 0.1-1-0.2-1.3-0.6-1.3-0.8-1.9-2.2-2.1-3.4-1.2-1.6-2.5-2-5.3-3.7-1 0-1.4 0.9-0.9 0.4 0.2 0.4 2.1 0.4 1 0.5 0.7 0.7 0.1 0.4-0.2 0.6-1.6 0.5-1 0-1.4-0.3-2-0.6-2 0.9-1-0.1-0.6-0.2-0.4-0.5-0.3-0.7 0.3-0.7 1.1-0.9 0.3-0.4-0.4-0.5-1 0.4-3 1.9-2.6 0.8-1-0.2-0.5-1-0.5-0.3-1.4 0.5-2.6 0.3-2-0.3-1-0.4-1-0.8-1.1-1.4-0.5-1-0.5-2 0-2 0.4-2 1.1-2.6 1.9-2.4 2.3-1.8 2-0.9 3-0.3 1.4 0.3 1.6 1 1 1.1 1 1.6 0.4 0 1.6-0.8 0.4 0 0.8 0.8 0.1 1.4-0.5 1.6-1.1 1.4-1.7 1.9-0.2 0.7 0.2 0.1 3-1.9 2-0.9 3.4-0.8 2-0.7 3 0 3 1.1 2 1.4 1.2 1.1 3.4 4.1 1 0.7 2 0.7 1.5 1.1 1.4 1.4 1 1.6 1.2 3 0.2 1.4 0 1.6-0.3 1.2-0.6 0.9-0.4 0.5zM236 574l-0.1-0.6-0.5-0.4-0.4 0.2-0.8 0.8 0.2 0.2zM365.4 580l-1.4 0.2-2.1-0.2-2.1-0.6-2.7-1-1.9-1-2.1-1.4-0.8-1-0.1-1 0.4-0.6 0.8-0.2 2-0.1 2.6 0.4 4.1 1.5 2.6 1.4 1.6 1.6 0.4 1-0.2 0.4zM187 581.7l-0.6 0.1-0.5-0.8-0.2-1 0.1-1.6 0.5-2 0.6-1 0.5-0.4 0.6 0 0.6 1.4 0 1.6-0.4 2-0.5 1zM215 595l-1.6-0.1-1-0.6-0.5-0.9-0.5-1-0.3-2 0.2-2 0.5-1.4 0.6-1 1-1.1 1.6-0.6 0.9 0.1 0.5 0.3 1 1.1 0.7 1.6 0.2 1.6-0.2 2-0.5 1.4-1.2 1.7zM173.4 592.6l-0.4 0.2-0.6 0-0.3-0.8 0.3-1 0.3-0.6 0.7-0.6 0.6-0.1 0.5 0.3 0.1 1-0.5 1zM170 646.7l-0.6 0-0.7-0.7-0.1-1.6 0.1-2 0.4-1.4 1-2 0.2-1-0.3-0.7-1-0.4-0.8 0.1-0.2 0.4 0.3 2.6-0.1 1.4-0.5 1.6-0.7 1-1 0.5-1-0.1-1-0.8-0.7-1.2-1-4-0.1-1.4 0.5-1.6 1-1.4 0.2-1-1.7-4-0.4-2.6 0.3-2.4 0.7-2.6 1-1.4 1.4-1.6 1.8-1 2-0.6 1.4 0 2 0.4 2 0.8 0.6-0.7 0.3-1.3 1.1-2.5 0.1-0.5-0.1-0.3-0.4-0.3-1.6 1.8-1 0.6-1 0.2-1-0.4-0.6-0.6-0.5-1-0.3-3.4-1-0.1-0.6-0.3-1.4-2.4-1.2-1.4-0.5-1.4 0-2 0.7-1.5 1-0.8 1 0 0.9 0.7 0.7 1 0.5 1.6 0.3 4.4 0.6-0.2 1.4-1.9 1.6-0.8 0.4-0.1 1 0.3 1.6 1.6 1.4-1.6 1-0.5 1.4-0.2 0.7-1.6 1.7-1 0.3-0.4-0.2-0.6-1.5-1-1.1-2-0.2-2.4 0.2-2.6 0.6-1.4 0.7-0.8 0.4-0.5 1-0.2 1 0.4 0.6 0.5 0.6 1 0.5 1.6 0.6 5.4 0.1 4.6-0.2 1.4-0.6 0.9-0.6 0.2-3 0-0.2 0.5 0.6 1.4 0.4 2 0 2.6 0.2 0.3 1-0.5 0.6-0.1 1 0.5 0.6 0.8 0.8 2.6 1.6-1 0.4-0.1 0.7 0.5 0.5 1 0.3 2.4-0.1 3.6-0.5 3.4-1.1 3.6-1 2-0.7 1-1.1 1-0.1 0.4-0.1 2-0.5 2.6-0.3 0.2-0.1 0.8-0.5 1-0.7 1-0.7 0.6-1 0.3-0.5-0.5-0.3-1 0.1-3.4 0.3-0.6 0.1-1 0.3-0.3 0.9-2.1-4.7 0.4-0.2 0.6 0.2 2-0.6 1.4-1 1.1-1 0.6-1 0.4-1.6 0.2-0.4 0.5-0.3 1.8-0.9 2.4-1.1 1.6zM177.4 597.7l-0.4 0.1-0.6-0.8 0-1 0.4-2 0.6-1.6 0.6-0.8 0.4-0.4 0.6-0.1 0.2 0.3 0.3 1-0.4 2.6-0.6 1.4zM192 611.5l-0.6-0.2-0.1-0.3 0-2 0.5-2 0.6-1.5 0.6-0.7 0.4-0.2 0.4 1.4-0.1 2-0.7 2-0.5 1zM184.3 629.4l0.2-0.4 0.1-4.6 0.4-1 0.1-1.4 0.4-1 0.2-1.6-0.3-0.3-1 0-0.9-0.7-0.6-1-0.5-1.9-0.4-0.1-1.6 1.3-0.5 0.3-0.5 1-0.2 1.4-0.7 2 0.1 0.6 1.8 0.7 1 0.7 0.7 0.6 1 1.4 0.2 0.6 0 1.4-1.2 2zM189.4 641.6l-0.9-0.2-0.4-0.4-0.1-0.6 0.2-0.4 0.8-0.6 0.4 0 0.6 0.3 0.2 0.7-0.2 0.9zM178.4 652l-0.6-0.6-0.4-0.6-1 0.8-0.8-0.6-0.5-1 0-2.6-1.1-1.2-0.6-1.2 0-1.4 0.5-1.2 1.1-1 1.4-0.6 2 0 1.5 0.6 1 1 0.5 1.6-0.2 1.4-0.5 1-1.3 1-1.4 0.8 0 0.4 0.4-0.6 1.2 1.4 0.1 0.6 0 1-0.7 0.9zM150 656.8l-0.7-0.8-0.4-3 0.4-2.6 0.7-0.7 0.6 0.7 0.3 2.6-0.2 2.4-0.1 0.6zM167 654.5l-0.6-0.1-0.4-1.4 0.3-1.6 0.7-0.7 0.6 0.3 0.2 1-0.1 1.4zM142 660.5l-0.6-0.1-0.1-0.4 0-2 0.7-1.1 0.4 0 0.3 0.5 0.1 1-0.3 1.6zM150 660l-0.6 0.2-0.3-0.2-0.3-0.6 0.2-0.9 0.4-0.8 0.6 0 0.2 0.7 0 1zM144.4 697l-0.4 0-1.1-0.6-0.7-1-0.8-2.4-2.6-2-1-1.6-0.8-1.7-1.1-1.3-0.6-1.4-0.2-3.6 0.3-2 0.7-1.4 1.2-3-0.2-3 0.2-1.6 0.7-1.4 1-1.2 1-0.5 0.4 0 0.6 0.4 0.3 0.7 0.4 1.6 0.3 0.3 0.4-0.1 1.6-0.7 0.1-0.5-0.1-0.5-0.6-0.6-0.6-1.5-0.2-1.4 0.3-2 0.5-1 0.6-0.6 1.4 0.1 1.6-1.2 0.4 0 1.1 0.7 0.5 1 0.2 0.4 0.3 2-0.3 3-0.9 1.6-0.5 2.4 0 1 0.8 2 0.4 2.1 0.4-0.8 0.3-2.7 1-4 0.7-1.6 0.6-0.4 0.6 1.4 0 1.6-0.4 4-1 4-0.7 1.4-0.5 0.6-1-0.9-0.8 2.9-0.5 1-1.7 2-0.2 0.4 0.4 2 0.2 6.6-0.3 1.4-0.7 1zM139.3 681.4l0.3-0.4 0-0.6-0.2-1-0.4-1-0.6 0.3-0.4 0.6-0.2 1.1 0.2 1 0.4 0.5zM139 696.6l-0.6 0.2-0.6-0.8 0-1 0.6-1.1 0.6 0.2 0.3 0.9 0 1zM141 700.8l-0.6-0.1-0.1-0.3-0.2-1 0.1-1 0-0.4 0.8-1 0.4 0 0.4 1-0.1 1.4-0.1 0.6z"/>
<path fill="#0000c4" d="M681 58l-2.6 0.4-1.4-0.2-1.1-0.8-0.3-1 0.3-1.4 0.9-1.6 1.2-1.4 2-2 2.5-2 2.9-2 5.2-2.6 2.8-0.8 2-0.4 2 0.2 0.9 0.6 0.4 0.4 0.1 1-0.8 2-1.4 2-2.6 2.6-3.3 2.4-3.3 2-3.1 1.6zM627 158l-3 0-1.3-0.6-0.1-0.4 0-0.6 1-2 2.9-4 3.8-4.4 4.7-5 5.6-5.6 10.8-9.4 12.1-9.6 12.8-9 13.1-8.2 12-6.7 12-5.9 12-5.2 12-4.4 13-4 11.6-2.5 5.4-0.9 4-0.3 3 0.1 1.2 0.6 0.2 1-0.9 2-2 3-3.1 4-7.2 8-8.9 8.4-8.8 7.6-9.8 7.4-10.1 7-10 6.3-11.1 6.3-11.8 6-11.7 5.3-11.6 4.7-11.4 4-11.8 3.4-11.1 2.6zM636.4 229.5l-6.4 0.1-5.6-0.3-2-0.3-1.3-0.6-0.5-0.4-0.1-0.6 0.7-1.4 1.6-2 5.5-5.6 7.8-6.4 8.7-6.6 8.9-6 10.3-6.2 10.2-5.8 10.8-5.4 14.2-6.6 12.6-5 13.2-4.4 13-3.4 7-1.6 6.4-1.2 6.6-0.9 6.4-0.6 6-0.3 5 0.1 3 0.4 1.3 0.5 0.6 0.4 0.1 1-0.9 2-2.1 3-2.5 3-6.8 7-8.6 7.6-8.6 6.4-8.9 6-9.3 5.6-9.7 5-10 4.6-11 4.4-11.5 4-11.1 3.2-11 2.7-11 2.2-11 1.6zM680 288l-7 0.3-6.6 0.1-6.4-0.3-6.6-0.7-6-1-5.3-1.4-2.2-1-0.6-0.6-0.3-1 0.8-1.4 1.6-2 2.6-2.6 3.6-3 7.5-5.4 8.9-5.5 9-4.9 9.4-4.4 10-4 10-3.4 13.6-3.9 13.4-3.3 13.4-2.6 12.6-2 13-1.2 11.6-0.4 4.4 0.2 4 0.4 2.6 0.5 1 0.5 0.4 0.4 0 1-0.9 1.6-3.7 4-5.6 5-7 5.4-7.3 5-7.5 4.7-8 4.5-8.4 4.3-8 3.6-8.6 3.4-8.4 3-8.6 2.7-7.4 1.9-7.6 1.5-8 1.2zM706.4 345.5l-7-0.3-5.2-0.8-3-1-0.8-0.4-0.4-0.6 0-0.4 0.8-1 0.9-0.6 2.7-1 2.1-0.4 6.5-1 5.4-0.4 6.6 0 6 0.6 3.7 0.8 1.3 0.4 1.3 1 0.1 0.6-0.2 0.4-1.3 1-2.6 1-1.9 0.6-6.2 1zM360 423.5l-3.6-0.1-3.4-0.4-1.4-0.6-0.6-0.4-0.1-0.6 0.3-0.4 0.7-0.6 1.1-0.4 3.4-0.8 3.6-0.4 3-0.1 3 0.3 2.1 0.4 1 0.6 0.4 0.4 0 0.6-0.5 0.4-2.2 1-2.4 0.6zM380 472l-4.6 0.4-4.4-0.4-2-0.6-4-1.8-7.6-0.4-3-0.5-7-2.9-1.4-0.4-4 1.2-2 0.1-2.4-0.3-1.9-0.4-2.1-1-1.2-1-0.2-1 0.2-0.6 0.6-0.5 1.4-0.5 1.6-0.1 2.5 0.1 4.9 1.3 1-0.1 0.6-0.5 1.1-3.1 1.3-1.6 1.3-1 1.7-0.8 4-1.2 3.6-0.3 4 0.1 4 0.7 4 1.1 1 0.1 1-0.3 2.4-1.5 2-0.8 2-0.4 2 0.2 1.6 0.3 1.4 0.7 1.6 1 1.1 1.1 1 1.6 0.7 1.4 0.3 1.6 0.2 2-0.3 1.9-0.6 1.4-0.9 1.7-0.8 1-1.3 1.1-1.4 0.9zM353 471.5l-1 0.1-0.7-0.2 1.1-0.1zM375 517.5l-8 0.1-6-0.5-3.6-0.5-7.4-1.5-4-1.1-4.6-1.5-14.1-5.5-3.1-1.6-2.3-1.4-2.2-2-1.3-2-0.4-1.3-0.2-1.3 0.4-2 1.4-2 2.5-2 3.3-1.5 3.6-0.9 7-1.1 8.4-0.8 5-0.3 6 0.1 5.6 0.4 6.4 1 5 1.1 6.6 1.9 4 1.6 5 2.4 3.8 2.7 2.7 2.4 1.2 1.6 0.8 1.4 0.5 1.6 0.1 1.4-0.1 1.2-0.5 1.4-1 1.4-1.1 1.2-3 2-4.4 1.9-4.6 1.1-3 0.5zM245 504.6l-1.6 0.3-1.4-0.6-1-0.9-1-2-0.2-2 0.3-1.4 0.9-1.4 0.9-0.6 0.5-0.3 1.6 0.1 1 0.5 1.1 1.1 0.7 1.6 0.3 2-0.3 1.4-0.8 1.5zM248.4 534.6l-1.4-0.1-1.2-1.1-0.9-2-0.5-3.2-0.4-0.4-2.6 3-1 0.7-1.4 0.5-1.6 0-1-0.4-1.4-1.1-0.9-1.1-0.7-1.2-0.5-1.8-0.3-2 0-2 0.3-1.4 0.8-2 1-1.6 1.2-1 1.1-0.5 1.4-0.2 1.4 0.3 1.2 0.5 1 1 0.7 0.9 1.7 3.9 1.6-0.1 1 0.5 1.4 2.3 1.6 1.6 0.8 1.8 0.1 2.6-0.4 1.4-0.5 1-0.6 0.7zM381 547l-8.6-0.3-9.4-1.2-12.8-2.5-11.2-3-8.6-3-4.5-2-2.8-1.6-2.3-1.4-1.6-1.6-0.8-1.4 0.1-1 0.8-1 0.8-0.6 1.4-0.4 2.5-0.6 5.4-0.3 7 0.3 9.6 1 8.9 1.6 9.1 1.9 7.4 2 7.3 2.5 6.4 3 4 2.6 1.7 1.4 0.6 1 0.3 1-0.1 0.6-0.7 1-0.9 0.5-1.6 0.6-2 0.4zM256 535l-0.6 0.1-0.6-0.1-0.2-0.6 0.2-1 0.2-0.4 0.9-1 1.1-0.2 0.4 0.6 0 0.6-0.4 1zM225.4 559.6l-1.4 0-0.9-0.6-0.7-0.8-0.4-1.1-0.3-1.1 0.1-3 0.4-1 0.8-1.1 0.8-4.9 1-2.6 1-1.4 1.2-1.2 1-0.8 1.4-0.8 2-0.3 2 0.5 1 0.7 1.1 1.3 0.6 1.6 0.4 2 0.5 0.3 1.4-0.5 1.6 0 1 0.6 1 1.3 0.4 0.2 1.6-0.6 1.1 0.1 0.8 0.6 1.5 1.3 1.6 1.1 0.5 0.6 0.5 1 0.4 2-0.3 1.4-0.7 1.5-1 0.7-1 0-0.4-0.3-2-2.7-2-0.9-0.8-0.7-0.8-1.2-0.4 0-2.6 2.3-1.6 0.9-0.5 0.4-0.3 1-0.4 0.6-0.6 0.4-1-0.2-0.6-0.6-0.1-0.6 0.1-1.7-0.4 0-4 2.1-0.7 0.6-1.3 2.5-0.6 0.6zM220.4 552.5l-1 0-1-0.5-0.4-0.8-0.4-1.2 0-1 0.4-1.6 0.4-0.7 1-0.5 0.6 0.1 0.7 0.7 0.8 2 0 2.4-0.2 0.6zM257.4 590.5l-1 0.4-1-0.1-1.2-0.4-1.2-0.7-2-2-2.4-3.7-1.3-1.6-2.9-2.2-4.4-3.3-1-0.5-0.6 0.1-3 1.8-2.5 0.1 1.1 0.5 1.4-0.4 2.6 0.3 1.4 0.6 0.6 0.6 0.1 0.4-0.1 0.3-0.6 0.4-1 0.3-2.4-0.3-2-0.7-2 0.9-0.6 0.1-1-0.4-0.4-0.6 0-1 0.4-0.5 1.2-0.5 0.1-0.4-0.7-0.6-4 2.3-1 0.4-1.6 0.4-1-0.3-0.4-1-0.6-0.2-2 0.6-2 0.3-2-0.4-1-0.5-1-0.7-1-1.3-0.5-1-0.4-1.6-0.1-2.4 0.4-2 0.6-1.6 1.5-2.4 2.1-2 2-1.2 1.4-0.5 2-0.2 1.6 0.2 1.4 0.8 1.5 1.3 1.1 1.7 0.4-0.1 1.6-0.7 0.4 0 0.7 0.7 0.1 1.4-0.5 1.6-1.1 1.4-1.6 1.8-0.3 0.8 0.3 0.2 3-1.9 2-0.9 3.4-0.7 2.6-0.8 2.4 0 2.6 0.8 1.4 0.9 1.6 1.3 4 4.8 1 0.7 1.6 0.6 1.4 0.8 1.2 1.2 1.2 1.4 1.2 2.6 0.4 1.4 0.1 1.6-0.3 2-0.6 1zM236.2 574l-0.2-0.8-0.6-0.4-0.4 0.3-0.9 0.9 0.3 0.3zM365.4 579.5l-1.4 0.3-1.6-0.1-1.6-0.3-3.1-1-2-1-2.1-1.4-0.7-1-0.1-0.6 0.1-0.4 1.1-0.6 2.4 0 2.4 0.6 2.8 1 1.9 1 1.9 1.4 0.6 1 0 0.6zM187 581.6l-0.6 0-0.4-0.6-0.2-2 0.5-2 0.7-1.4 0.4-0.4 0.6 0 0.5 1.2 0 1.6-0.5 2-0.4 1zM215.4 594.6l-1.4 0.3-1-0.4-0.6-0.5-0.8-1.6-0.3-2 0.2-2 0.9-2.2 1-1.1 1.6-0.6 1.4 0.4 1 1.1 0.6 1.4 0.2 1.6-0.2 2-0.6 1.4-1 1.5zM170 646.5l-0.6 0.1-0.6-0.6-0.2-1.6 0.2-2 1.6-4.4-0.1-0.6-0.3-0.3-1.6-0.4-0.6 0.3 0.4 2.4-0.1 1.6-0.3 1.4-0.8 1.4-1 0.5-1-0.1-0.9-0.8-0.7-1-1-4-0.1-1 0.2-1 0.5-1.2 0.8-1.2 0.2-1-1.2-2.6-0.5-1.4-0.3-2.6 0.2-2.4 0.6-2 1.1-2 1.5-1.6 1.6-0.9 1.4-0.4 2-0.2 2 0.4 2 0.9 0.6-0.8 0.7-2.4 0.7-1.4 0.1-0.6-0.1-0.6-0.4-0.1-0.9 1.1-1.1 1.1-1.6 0.4-1-0.4-0.5-0.5-0.6-1.6-0.3-3.6-1 0.4-0.6-0.2-1.4-2.5-1-1.1-0.6-1.6 0.1-1.8 0.5-1.2 1-0.9 1 0 1 0.8 0.4 0.9 0.7 1.8 0.2 4 0.1 0.7 1.6-2.1 1.4-1.2 1-0.3 1 0.3 1.6 1.6 1.4-1.6 1-0.4 1.6-0.2 0.4-1.2 0.3-0.6 1.7-0.9 0.2-0.5-0.2-0.6-1.4-1-0.7-1-0.5-1-0.3-2.4 0.3-2.6 0.6-1.4 0.6-0.7 0.4-0.5 1-0.2 0.9 0.4 0.7 0.6 0.5 0.8 0.6 2 0.5 5.6 0.1 4-0.3 1.4-0.4 0.7-0.6 0.2-3 0-0.3 0.1 1 4 0 2.6 0.3 0.5 1-0.6 0.6 0 1 0.4 0.7 1.1 0.7 2.4 1.6-1.1 0.4 0 0.6 0.2 0.3 0.5 0.4 1 0.2 3-0.2 3-0.5 3-1 3-1 2.6-1.9 2-0.1 2.4-0.4 2-1.1 2.6-0.7 0.9-1 0.8-0.6 0-0.6-0.7-0.2-1 0.2-3 0.4-1.6 1.3-2.4-0.5-0.2-1.6 0.4-2.4 0.1-0.6 0.1-0.2 0.6 0.3 2-0.5 1.3-1 1-1 0.7-1.6 0.5-1 0.1-0.4 0.4-0.3 1.4-1 3-1.1 1.6zM178 597l-0.6 0.4-0.4 0-0.4-1 0.1-1.4 0.7-2.4 1-1.2 0.6 0 0.3 1-0.1 1.6-0.2 1zM192 611.2l-0.6-0.4 0-0.8 0.4-2.6 0.6-1.6 0.6-0.7 0.4-0.1 0.3 1-0.2 2-0.5 1.8-0.6 0.9zM184.4 629.4l0.1-0.4 0.2-4.6 1.2-5-0.5-0.4-1 0-1-0.8-0.6-1.2-0.4-2-2.6 2-0.4 1-0.2 1.4-0.8 2 0 0.6 2 0.8 1.6 1.1 0.8 1.1 0.4 1 0 1.4-0.5 1-0.8 1 2.1 0.2zM179 651.8l-0.6 0.1-0.4-0.5-0.6-0.7-1 0.7-0.7-0.4-0.5-1 0-2.6-1.2-1.4-0.4-1 0.1-1.6 0.5-1 1.1-1 1.1-0.4 1.6-0.1 1.4 0.5 1.2 1 0.5 1 0.1 1.6-0.8 1.4-1 0.8-1.6 0.8 0 0.4 0.2 0.5 0.4-0.4 0.6 0.2 0.6 1.3 0 1zM150 656.4l-0.6-0.4-0.1-0.6-0.3-2.4 0.4-2.6 0.6-0.5 0.6 1.1 0.2 2-0.2 2.4zM167 654.3l-0.6 0-0.3-1.3 0.3-1.6 0.6-0.5 0.4 0.1 0.3 1-0.2 1.4zM142 660.3l-0.6-0.3-0.1-1.6 0.1-0.5 0.6-0.7 0.4 0 0.3 0.8-0.1 1-0.2 0.7zM149.4 660l-0.4-0.6 0-0.4 0.4-1 0.6 0.1 0.1 0.9-0.1 0.7zM145 696.6l-1 0.3-1-0.6-0.6-0.9-0.9-2.4-2.1-1.6-1.5-2-0.9-1.9-1-1.3-0.6-1.2-0.3-2 0.1-1.6 0.2-1.7 0.9-1.7 1.1-3-0.2-3 0.2-1.6 0.6-1.1 1-1.4 1-0.5 0.4 0.1 0.6 0.4 0.5 2.1 0.3 0.4 0.6 0 1.6-0.8 0.3-0.6-0.1-0.6-0.8-1-0.6-1.4 0-1.6 0.3-1.4 0.3-0.9 0.6-0.4 1.4-0.1 1-0.8 1-0.4 0.6 0.2 0.7 0.8 0.5 1 0.2 1.6-0.2 3-1.2 2.9-0.3 2.1 1 3 0.3 2.4 0.4-1.3 0.3-2.7 1.1-4.4 0.6-1.4 0.6-0.4 0.4 1.2 0.1 1.6-0.4 4-1 4-0.7 1.3-0.4 0.4-1-1.6-0.4 2.3-0.5 1.6-0.6 1-1.7 2 0 1 0.4 2-0.1 3 0.2 2.4-0.3 2zM138.7 682l0.7-0.5 0.3-0.5-0.3-1.9-0.4-1-1 0.9-0.4 1 0.4 1.7 0.4 0.4zM139 696.5l-0.6 0.1-0.4-0.8-0.1-0.8 0.5-0.8 0.6 0.1 0.2 0.7zM141 700.6l-0.6-0.2-0.2-1 0.1-1 0.1-0.4 0.6-0.8 0.4 0 0.3 0.8-0.1 1.4-0.1 0.6z"/>
<path fill="#0000da" d="M682 56l-1.6 0.1-1-0.3-0.4-0.6-0.1-0.8 0.3-1 1-1.4 2.5-2.6 3.7-2.4 3-1.6 3.6-0.9 1.4 0.1 0.8 0.4 0.3 0.4 0.1 0.6-0.5 1.4-1.1 1.6-2.1 2-2.7 2-2.7 1.4-2.4 1zM631.4 157l-3.4 0.4-2.6-0.1-1.1-0.3-0.4-0.6-0.1-0.4 0.3-1 0.8-1.6 2.5-3.4 4.3-5 4.7-5 5.2-5 6.1-5.6 12.3-10 13.1-9.4 14.3-9.3 12-6.8 11.8-5.9 12.2-5.5 12-4.6 12.9-3.9 6.1-1.6 6-1.3 5.6-0.9 4.4-0.3 2.6 0.1 1 0.3 0.4 0.3 0.2 0.4 0 1-0.7 1.4-1.9 3-2.7 3.6-6.7 7.4-8.2 8-8.7 7.6-9 7-9.9 7-10.3 6.4-10.5 6.1-11 5.7-11.1 5.2-11.5 4.8-11.4 4.2-11 3.5-10 2.5zM638.4 229l-7 0.2-5.4-0.3-3-0.7-1-0.8-0.1-0.4 0.6-1.6 1.1-1.4 2.2-2.6 3.1-3 7.1-6 8.7-6.4 8.9-6 9.7-6 10.7-6 10.4-5.4 14.4-6.6 12.5-5 13.1-4.5 13-3.5 7-1.5 6.6-1.2 6.4-1 6.6-0.6 6-0.3 4.4 0.2 3 0.4 1.1 0.4 0.6 0.6 0.2 1-0.8 2-1.7 2.4-2.5 3-6.8 7-7.9 7-8.5 6.6-8.9 6-9.2 5.5-10 5.2-9.6 4.4-11 4.4-11 3.8-11 3.3-11 2.8-10.4 2.1-10.6 1.6zM675 288l-6.6 0.1-6.4-0.2-6-0.6-5.6-0.7-5-1.2-3-1-1.7-1-0.4-0.4-0.1-1 0.7-1.6 1.7-2 2.6-2.4 3-2.6 7.5-5.4 8.9-5.6 8.8-4.7 9.6-4.4 10-4 10-3.4 13.4-3.8 13-3.2 13-2.6 13-1.9 13-1.3 11-0.3 4.6 0.2 3.7 0.4 2.3 0.6 0.7 0.4 0.4 0.6 0 1-0.9 1.4-3.6 4-6.2 5.6-7.2 5.4-7.4 5-8.3 5-8.4 4.6-8.2 4-8.5 3.6-8.4 3.3-9 3-8 2.3-8 1.8-8 1.4-8 1zM714 344.5l-8 0.4-7.1-0.5-2.9-0.4-1.6-0.6-1-0.4-0.5-0.6-0.2-0.4 0.3-0.6 0.6-0.4 0.9-0.6 3.2-1 6.3-0.9 5-0.3 6.4 0.1 5 0.6 2.4 0.5 1.1 0.6 0.6 0.4 0.2 0.6-0.2 0.4-0.5 0.6-2.2 1-4.1 1zM362 423l-3.6 0.1-2.9-0.1-2.2-0.6-0.9-0.4-0.2-0.6 0.3-0.4 0.8-0.6 1.3-0.4 2.3-0.6 3.1-0.3 3 0 3 0.3 1.5 0.6 0.6 0.4 0 0.6-0.5 0.4-0.9 0.6-1.7 0.4zM379 472l-3.6 0.2-3.4-0.2-2.6-0.6-3.4-1.7-1-0.3-6.6-0.3-3-0.4-2-0.6-2.9-1.1-5.5-2.9-1.4 1.3-1.2 0.6-2.4 0.3-2.6-0.3-1.9-0.6-1.1-0.5-1.1-0.9-0.2-0.6 0-0.4 0.3-0.6 1-0.4 1.6-0.3 1.4 0 3.6 0.7 3.4 1.5 0.6-0.1 0.9-3.8 0.5-1 0.7-1 1.2-1 1.8-1 3.9-1.3 4-0.5 4 0.1 3 0.5 4.4 1.3 1.6 0.2 1-0.3 2.6-1.6 1.8-0.7 2-0.3 2 0.1 1.6 0.4 1.4 0.7 1.6 1.1 1.1 1.3 1 1.4 0.6 1.6 0.3 1.4 0 2-0.5 2-0.5 1.4-1 1.5-1 1-2.6 1.7-1.4 0.5zM373.4 517.5l-5.4 0-6.6-0.5-4-0.5-5.4-1-4-1-5-1.5-14.1-5.6-2.9-1.2-2.3-1.2-2.2-1.6-1.5-1.4-1.1-1.6-0.7-2-0.1-1.4 0.4-1.6 1.4-2 2.6-2 3.4-1.4 3.7-1 5.8-0.9 10.6-1 6-0.2 6 0.2 6.4 0.8 5.6 1 5.9 1.5 4.5 1.6 4.6 2 4.5 2.4 3.3 2.6 2.3 2.4 0.9 1.6 0.6 1.4 0.3 1.6-0.1 1.4-0.6 1.6-0.6 1-1.2 1.3-1.4 1.1-3.7 2-4.6 1.6-5.7 1zM245 504.1l-1 0.3-1.6-0.3-1-0.7-1-1.7-0.2-1.7 0.2-1.8 0.9-1.2 1.1-0.8 1.6 0.1 1 0.5 1 1.1 0.4 1.1 0.3 1.4-0.2 1.6-0.5 1.2zM249 534l-1 0.3-0.6 0-0.6-0.3-0.8-0.8-0.8-1.8-0.3-3-0.5-1.4-0.4 0-1.2 2-1.3 1.4-1.1 0.9-1 0.4-1 0.1-1.4-0.2-1.6-0.9-1-1.1-0.9-1.6-0.5-1.6-0.2-1.4-0.1-2 0.3-1.6 0.6-2 0.8-1.3 1.1-1.1 0.9-0.7 1.6-0.4 1.1 0.1 1.3 0.5 1 0.7 1.1 1.2 0.7 1.6 0.8 2 0.4 0.8 1.6-0.2 1 0.5 1.4 2.4 1.6 1.6 0.6 1.9 0.1 1.4-0.3 1.5-0.4 1.1zM384.4 546.5l-3.4 0.2-4.6 0-9.4-0.8-11.5-1.9-12.4-3-9.5-3-3.8-1.6-4.3-2-2.7-1.4-2-1.6-1.3-1.4-0.4-1 0-0.6 0.6-1 0.6-0.4 1.1-0.6 2-0.5 5-0.5 6.6 0 7.4 0.7 8.9 1.3 10.1 2 6.3 1.6 6.5 2 6.4 2.4 4.9 2.6 3.6 2.4 1 1 0.6 1 0.2 1-0.4 1-0.6 0.6-1.5 0.6zM256 534.1l-0.6-0.1 0-0.6 0.6-0.6 0.4 0 0.1 0.6zM226 559l-1 0.3-0.6 0-0.8-0.3-0.6-0.6-0.6-0.8-0.3-1.2-0.1-1 0.1-1.4 1.1-3 0.8-5 1-2.5 1-1.5 1-1.1 1.2-0.9 1.2-0.6 2-0.4 2 0.6 1.2 0.8 0.8 1.2 0.6 1.4 0.4 2.2 0.6 0.3 2-0.6 0.9 0.1 0.9 0.4 1.2 1.6 0.4 0.2 1.6-0.6 1.4 0.3 3.6 2.8 1 1.6 0.2 1.7-0.2 1.4-0.6 1.2-1 0.8-0.4 0-1-0.4-1.6-2.2-0.4-0.5-2.1-0.9-1.5-2-0.4 0.2-2.6 2.4-1.9 1-0.4 0.4-0.7 1.6-1 0.2-0.4-0.2-0.4-0.6-0.1-1 0.3-1-0.1-0.4-0.3-0.1-4.9 2.5-0.5 0.6-1 2zM220 552l-0.8 0-0.7-0.6-0.6-1.4 0-1 0.2-1 0.7-1 0.6-0.3 0.6 0.1 0.6 0.6 0.4 0.7 0.2 1.3-0.2 1.9-0.6 0.5zM256.4 590.5l-1 0-1-0.3-2-1.2-1.4-1.7-2.2-3.3-1.3-1.6-3.5-2.7-4-2.9-1-0.5-0.6 0.1-1.6 1-1.8 0.8-2.6 0.1-1.4-1-4 2.3-2.6 0.7-1-0.3-0.4-1.2-2.6 0.7-1.4 0.2-2-0.2-1.4-0.5-1.2-0.9-0.9-1.1-0.5-1.2-0.4-1.4-0.1-1.4 0.1-1.6 0.3-1.4 0.8-2 1.8-2.6 2.5-2 2.4-1 2.6-0.2 1.4 0.4 1.4 0.8 1 1 1.2 1.9 2-0.9 0.4 0.1 0.6 0.5 0.1 1.4-0.5 1.6-1.1 1.4-1.5 1.6-0.6 1.5 0.6-0.1 2.4-1.6 2.6-1.3 1.4-0.4 2-0.2 2.6-0.9 2.4 0 2.7 1 1.6 1 1.7 1.4 3.6 4.6 1 0.7 1.9 0.7 1.1 0.7 1.3 1.3 1.1 1.6 1.1 2.4 0.3 1.6 0 1.4-0.2 1-0.5 1-0.7 0.6zM234.6 574.4l1.8-0.4-0.4-1.1-0.6-0.3-1 0.8-0.4 0.6-0.1 0.4zM364.4 579.1l-1.4 0.3-1.6-0.2-1.2-0.2-2.8-1-1.8-1-1.2-1-0.6-1 0-0.6 0.8-0.4 1.8-0.1 2.6 0.5 1.7 0.6 2 1 1.9 1.4 0.5 1-0.3 0.6zM187 581.4l-0.6 0-0.2-0.4-0.2-1 0-1 0.4-2 0.6-1.2 0.4-0.4 0.6 0 0.2 0.6 0.2 1.4-0.4 2.4-0.6 1.1zM239.4 581l-1 0.3-1.4-0.1-1-0.2-2-0.9-0.6 0.2-1 0.7-1 0.1-1-0.4-0.2-0.7 0.2-0.7 1-0.5 1 0 1 0.4 0.6 0 1.4-0.5 1.6 0 1 0.2 1.2 0.5 0.5 0.6 0.2 0.4zM215 594.6l-1.6-0.1-1-0.8-0.6-1.3-0.4-2 0.2-2 0.8-1.9 1-1.1 1.6-0.7 1 0.2 1 0.8 0.6 1.3 0.4 2-0.2 2-0.8 2-1 1.1zM169.4 646.5l-0.4-0.4-0.3-0.7 0-2 0.6-2.4 1.2-3-0.1-0.6-0.4-0.4-1.6-0.6-1.1 0 0.7 2.8 0 1.8-0.6 1.7-1 1.1-0.4 0.2-1-0.1-1-0.9-0.6-1.2-0.3-1.8-0.6-2-0.1-0.7 0.6-1.8 1.1-1.5 0.1-0.6-0.2-1-1.2-2.4-0.5-2-0.2-2.6 0.3-2 0.7-2 1-1.4 1.3-1.4 1.6-0.9 1.4-0.5 1.6-0.1 2 0.2 2.4 1 0.3-0.3 1.9-4.6-0.2-1.3-0.4 0-1 1.3-1 0.9-1 0.4-1-0.1-1-0.8-0.6-1.4-0.2-2 0.1-1.4 0.4-1 1.3-1.9 1.4-1.2 1-0.2 1 0.2 1.6 1.7 1-1.2 1-0.7 1-0.3 1.4 0 0-1 0.2-0.4 0.4-0.6 1.4-0.7 0.3-0.3 0.1-0.4-0.2-0.6-1.5-1-0.7-1-0.6-1.4-0.2-2.6 0.3-2 1-2 1.1-0.6 1 0.1 1.1 1.1 0.5 1 0.4 1.4 0.5 6 0.1 4-0.3 1-0.3 0.5-0.6 0.3-2 0-1.4-0.3-0.2 0.5 0.8 2 0.4 2 0.1 3 0.3 0.4 1-0.7 0.6-0.1 1 0.5 0.6 0.9 0.5 2 0.3 0.6 1-0.8 1-0.4 0.6 0.3 0.4 0.9 0.3 2 0.1 2-0.2 2.4-0.5 3-0.9 3-1.2 2.6-1.8 2-0.1 2-0.4 2.4-0.6 1.6-1.1 1.8-1 0.8-0.6 0-0.5-0.6-0.2-1.6 0.1-2 0.4-1.4 0.6-1.6 0.8-1.4-0.6-0.2-4.6 0.5-0.2 0.1-0.1 0.6 0.2 2-0.3 1-0.8 1-1.2 0.8-1 0.4-1.6 0.2-0.4 0.4-0.8 3.2-0.6 1.4-1.2 1.6zM177.4 597l-0.4-0.2-0.2-0.4 0.1-2 0.5-1.4 0.6-0.8 0.4-0.4 0.6 0.3 0 0.3 0 2-0.6 1.4-0.4 0.8zM169.4 608.7l-0.4 0.2-0.6-0.3-2.6-4.2-0.2-1.4 0.2-1 0.4-1 0.8-0.8 0.4-0.1 1 0.5 1 1.4 0.4 1 0.3 1.4 0 2-0.1 1.4zM192 610.7l-0.3-0.3-0.1-1 0.3-2 0.5-1.2 0.6-0.7 0.4 0.1 0 2-0.4 1.8-0.6 0.9zM184.5 629.4l0.2-4.4 1.3-6 0-0.2-1.6 0-1-0.8-0.5-1-0.5-2.4-1.2 1.4-1.5 1-1.4 5 2.7 1.2 0.9 0.8 0.8 1 0.4 1 0 1.4-0.5 1-0.8 1 2.2 0.3zM179 651.7l-0.6 0-1-1.2-0.3 0.5-0.7 0.3-0.6-0.3-0.5-1 0.1-2.6-0.2-0.4-0.9-1-0.4-1 0.1-1.5 0.4-1 1-0.9 1-0.4 1.6 0 1 0.2 1.3 1 0.6 1 0.1 1.4-0.5 1.2-1.1 0.9-1.4 0.6-0.3 0.5-0.1 0.4 0.4 0.7 0.4-0.4 0.6 0.1 0.5 1.2 0 1zM150 656.1l-0.6-0.7-0.2-2.4 0.2-2.2 0.6-0.6 0.5 0.8 0.2 2-0.3 2.4zM167 654l-0.6 0-0.1-1 0.1-1.2 0.6-0.7 0.4 0.3 0.1 1-0.1 0.8zM142 659.8l-0.4-0.4-0.1-0.4 0.5-1.4 0.4 0.2 0.1 0.6-0.1 0.6zM149.4 659.6l-0.1-0.6 0.1-0.6 0.5 0.6zM144.4 696.6l-1-0.1-0.4-0.4-0.6-0.8-0.7-2.3-2.3-1.7-1.1-1.3-2.7-5-0.3-1.6 0-2 0.2-1.4 1.1-2 1.1-3-0.4-3 0.1-1.1 0.6-1.5 1-1.2 1-0.5 0.4 0.1 0.6 0.6 0.4 2.1 0.6 0.2 2-0.8 0.3-0.5 0.2-1-0.2-0.4-0.9-0.8-0.4-1.2 0-1.9 0.3-1.1 0.7-1 1.4-0.1 1-1 1-0.4 0.6 0.2 0.6 0.7 0.4 1 0.3 2-0.2 2.6-1.1 2.5-0.4 2.5 0.9 3 0.3 3.4-0.2 1.6-0.7 2-0.9 1.4-1.3 1.6-0.1 0.4 0.5 2.6 0.1 6-0.2 1-0.5 1zM150.4 679.1l-0.4 0.3-0.5-1.4 0.3-4.6 1.1-4.4 0.5-1.2 0.6-0.3 0.3 0.9 0.1 1-0.3 4-0.5 2.6-0.6 2zM139.2 676l0.2-0.5 0-0.5-0.4-0.2-0.3 0.6 0.3 1zM139 682l0.6-0.6 0.2-0.4-0.4-2.4-0.4-1.1-1.3 1.5-0.2 1 0.2 1.4 0.3 0.6 0.4 0.2zM139 696l-0.6 0.2-0.1-0.2-0.1-0.6 0.2-0.9 0.6 0.3zM141 700.4l-0.6-0.2-0.1-0.8 0.1-1.2 0.6-0.8 0.4 0.2 0.2 0.8-0.2 1.2z"/>
<path fill="#0000f2" d="M631.4 156.5l-3.4 0.2-2-0.4-0.6-0.3-0.2-0.6 0.3-1.4 1.5-2.6 3.1-4 4-4.4 4.9-5 5.3-5 5.7-5 11.8-9.6 13.2-9.3 13.4-8.6 11.6-6.5 12-6.1 12.4-5.5 12-4.4 13-4 6.5-1.6 5-1 4.5-0.6 4-0.3 2.6 0.2 0.6 0.3 0.6 0.4 0.1 1-0.7 2-1.6 2.6-2.7 3.4-6.7 7.6-8.3 8-8.8 7.4-9 7-9.5 6.7-10.1 6.3-10.5 6-11.4 6-11 5.1-11 4.6-10.6 3.9-11.2 3.4-9.9 2.6zM639.4 228.5l-7 0.2-5.4-0.4-1.7-0.3-1.2-0.6-0.5-0.4-0.1-1 0.7-1.6 1.1-1.4 4.9-5 7.1-6 8.8-6.6 8.9-6 9.8-6 10.2-5.6 10.4-5.3 14.2-6.5 12.7-5 13.1-4.4 13-3.5 7-1.5 6.8-1.2 6.8-0.8 6-0.5 5.4-0.2 4 0.3 2.6 0.7 0.7 0.5 0.3 0.5 0 1.1-1 2-1.7 2.4-2.5 3-6.4 6.6-8.1 7-7.9 6-9 6-9.1 5.4-9.9 5.2-9.4 4.3-11 4.4-10.6 3.7-11 3.3-10.4 2.6-10.6 2.1-10 1.5zM678 287.5l-7 0.2-6.6-0.1-6-0.4-6-0.8-5-1-4-1.3-1.7-1.1-0.3-0.6 0-1 0.8-1.4 1.7-2 2.6-2.6 3-2.4 7.7-5.6 8.2-5 8.6-4.5 9.4-4.4 9.6-3.8 10-3.4 13.3-3.9 13.1-3.1 13-2.6 12.6-1.9 12.4-1.2 11-0.3 4.6 0.2 3.5 0.5 1.9 0.5 0.8 0.5 0.4 0.4 0 1-0.4 1-1 1.6-1.8 2-5.5 5-7 5.4-7.3 5-8.1 5-8.2 4.6-8.3 4.1-8 3.5-8.5 3.4-8.5 2.9-8 2.4-7.6 1.9-8 1.5-8 1.1zM713.4 343.5l-5.4 0.4-5-0.2-2.1-0.3-2.1-0.4-1-0.6-0.3-0.4 0.1-0.6 0.7-0.4 1.7-0.7 4.4-0.8 3.6-0.3 4 0 3.8 0.2 2.5 0.6 1.1 0.4 0.5 0.6-0.1 0.4-0.5 0.6-1.1 0.4zM361 422.5l-4-0.1-1.9-0.4-0.5-0.6 0.2-0.4 1-0.6 2-0.4 2.6-0.3 4 0.3 1.2 0.4 0.2 0.6-0.5 0.4-1.3 0.6zM377 472l-3 0-2.6-0.3-2.4-0.7-3.6-1.7-8.4-0.6-2.6-0.5-2.2-0.8-4.1-2-1.8-1.4-0.4-1.6 0.3-2.4 0.5-1 0.8-1 1.9-1.5 2.5-1.1 3.1-0.7 3.4-0.3 3.6 0.1 3 0.5 4.4 1.3 1.6 0.3 1-0.3 3-1.7 2-0.7 2.4-0.2 2.6 0.5 1.4 0.7 1.4 1.1 1.2 1.2 0.7 1.2 0.7 1.6 0.3 1.4 0 2-0.3 1.6-0.6 1.4-0.8 1.4-1 1.2-1.3 1-1.7 0.9-1.6 0.5zM341 465.5l-2 0.1-2-0.4-1.7-0.8-0.5-0.4-0.2-0.6 0.4-0.5 1.4-0.5 1.9 0 2 0.6 1.1 0.4 0.6 0.6 0.2 0.4-0.2 0.6zM378 517l-8 0.4-9-0.5-8.6-1.5-4.2-1-4.9-1.4-15.2-6-2.7-1.3-2.1-1.3-2.5-2-1.6-2-0.4-1-0.4-1.4 0.3-2 1.1-2 1.6-1.6 2.5-1.4 2.6-1 2.9-0.8 3.6-0.7 12-1.2 8.4-0.3 8.6 0.7 8 1.3 4 1 4.6 1.4 3.9 1.6 3.3 1.4 3.4 2 2.8 2 2 2 1.5 2 0.9 2 0.2 2-0.4 2-0.8 1.6-1.4 1.5-2.6 1.7-2.5 1.2-2.9 1.1-4 0.9zM244.4 503.6l-1 0.2-1-0.3-1-1-0.5-1.1-0.2-1.4 0.3-1.5 0.6-1.1 0.8-0.5 1-0.1 1 0.4 1 1 0.6 1 0.2 1.2-0.2 1.6-0.6 1zM248.4 533.7l-0.4 0.1-1-0.3-1-1.1-0.6-1.6-0.1-2.8-0.9-2.2-0.4 0.2-0.9 2-1.1 1.7-1 0.9-1.6 0.8-1.4 0.2-1-0.3-1.5-0.9-0.9-1-0.9-1.4-0.5-1.6-0.3-2 0.1-1.8 0.3-1.6 0.7-1.7 0.8-1.3 1.1-1 1.1-0.6 1-0.2 1.4 0.1 1 0.4 1 0.8 1.2 1.5 0.6 1.4 0.8 2.4 0.4 0.8 1.6-0.4 1 0.4 1.4 2.5 1.5 1.9 0.4 1.4 0 1.6-0.3 1.1-0.6 0.9zM381 546.5l-7.6-0.1-9-1-10.4-2-12-3-9-3-4.8-2-3-1.4-2.4-1.6-1.8-1.4-0.9-1.6 0-1 0.7-1 0.8-0.4 1.4-0.6 2.3-0.4 5.1-0.4 6.6 0.2 6.4 0.7 9.6 1.5 10 2 7.6 2 7.1 2.4 5.5 2.6 4 2.4 1.8 1.6 0.7 1 0.4 1-0.1 0.4-0.6 1-0.7 0.6-3 1zM225.4 558.7l-1 0.1-1-0.6-0.6-0.8-0.4-1.4 0-1.9 1-3.1 0.6-4.6 0.9-2.4 1.3-2 1.8-1.7 2-0.9 1.4-0.2 1 0.1 1 0.4 1 0.7 0.8 1 0.5 1 0.7 3.2 0.6 0 2-0.6 1 0.1 1.1 0.9 0.9 1.5 0.4 0.1 1.3-0.6 1.3 0 3.9 3 0.9 1.4 0.2 1-0.1 1.6-0.5 1.1-1 0.9-1 0-0.4-0.4-1.6-2.2-0.4-0.4-2-0.9-1.6-2.2-2.4 2.6-1 0.7-1.8 0.8-0.8 1.4-0.4 0.4-0.6 0-0.5-0.4-0.1-1 0.4-1-0.1-0.4-0.1-0.3-0.6-0.1-2.1 1.4-3.2 1.4-0.5 0.6-1.2 2zM220 551.2l-0.6 0-0.4-0.2-0.6-1 0.1-1.6 0.5-0.7 0.4-0.2 0.8 0.5 0.4 1-0.1 1.4zM256.4 590l-1.4-0.1-2-1-1.6-1.4-2.3-3.5-1.4-1.6-7.7-5.8-1-0.5-0.6 0.1-2 1.3-1.4 0.6-2 0-2-1-4 2.4-2 0.6-1.3-0.1-0.3-1-0.4-0.5-2.6 0.9-1.4 0.2-1.6-0.1-1.4-0.5-1-0.6-1-1.1-0.8-1.3-0.5-1.6-0.1-1.4 0.1-1.6 0.3-1.4 0.8-2 1.6-2.4 2-1.7 2.6-1.2 2.4-0.4 1.6 0.3 1.4 0.8 1.2 1 1.4 2 2-0.9 0.4 0.1 0.6 0.5 0.1 0.9-0.4 1.4-1.3 2-1.5 1.6-0.6 1.4 0.1 0.3 3.8-2.3 2.2-1 1-0.1 1.6 0 2.1-0.9 1.9-0.3 2 0.2 2 0.7 1.5 1 1.7 1.4 4.2 5.3 3.4 1.7 1.2 1.1 1 1.3 1.2 2.6 0.3 2.6-0.2 1-0.5 1-0.4 0.4zM235.3 574.4l1.1-0.2 0.3-0.2-0.7-1.6-0.6-0.1-1 0.9-0.7 1.2 0.3 0.2zM362.4 578.5l-1.5-0.1-3.1-1-0.9-0.4-1.2-1-0.3-0.6 0.2-0.4 0.8-0.3 1.6 0.1 2.3 0.6 1.1 0.6 1.4 1 0.4 0.4 0.2 0.6-0.4 0.4zM187 581.1l-0.6-0.1-0.3-1 0-1 0.3-1.9 0.6-1 0.4-0.4 0.6 0.3 0.2 2-0.2 1.5-0.6 1.1zM239 581l-1.6 0.1-1.2-0.1-1.9-1 0-0.6 1-0.4 0.7-0.2 2 0.2 1 0.4 0.5 0.6 0.1 0.4zM232.4 580.5l-1 0.3-0.6-0.4-0.2-0.4 0.4-0.6 0.4-0.2 1 0.1 0.5 0.1 0.2 0.6zM215.4 594.1l-1 0.3-0.4 0-1-0.5-1-1.5-0.4-2 0.2-2 0.6-1.5 1-1.2 1.6-0.7 1 0.2 1 0.9 0.6 1.3 0.2 1.6-0.1 1.4-0.5 1.6-0.8 1.3zM185 605l-2-0.1-0.9-0.5-0.3-0.4 0.1-1 0.6-0.6 0.9-0.4 0.5-0.6 0.1-0.4-0.2-0.6-1.5-1-0.9-1-0.5-1.4-0.2-1.6 0.1-2 0.4-1.4 0.8-1.4 1-0.7 1 0.1 1 0.9 0.5 1.1 0.5 2 0.4 6.4 0 2.9-0.4 1.3-0.6 0.3zM178 596l-0.6 0.2-0.1-0.2-0.1-1 0.2-1.2 0.6-0.9 0.4-0.3 0.2 0.4 0.1 1-0.3 1zM169.4 608l-0.4 0.3-0.6-0.2-2-3.1-0.4-1 0-1.6 0.4-1.2 0.6-0.5 0.4-0.1 1 0.4 1 1.5 0.4 1.5 0.2 1.4-0.2 1.6zM170 646.3l-0.6 0.1-0.4-0.5-0.3-1.9 0.7-3 1.2-3 0-0.6-0.3-0.4-3.3-1.3-1-0.6-0.3 0.3 0 0.6 0.3 0.4 1 0.8 0.6 1.8 0.2 1.4-0.3 1.6-0.5 1-0.6 0.4-1 0.3-1-0.6-0.6-1.1-1.1-4.6 0.3-1.5 1.4-1.9 0.1-0.6-1.5-3.4-0.6-1.7-0.2-2.3 0.3-2.6 0.8-2 1-1.4 1.1-1.2 1.6-0.9 1.4-0.5 2-0.2 1.6 0.3 2.5 0.9 0.5-0.6 0.3-1.4 1.4-3-0.3-1.6-0.4 0.1-1 1.4-1 0.9-1 0.4-1.1-0.2-0.9-0.9-0.6-1.4 0-2.1 0.3-1.6 1.3-2.1 1.4-1.3 1-0.2 1 0.3 1.6 1.7 1.7-1.8 0.7-0.4 1 0 1 0.6 1.1 2.2 0.4 2.6 0.1 3.9 0.1-0.5 1.1-1 0.8-0.2 0.4 0.2 1 1.1 0.6 2.7 0.4 0.1 1.6-1.3 0.4 0 0.6 0.4 0.2 0.6 0.4 1 0.1 2.4-0.1 2.6-0.5 3-1 3.4-1.1 2.5-0.6 0.7-1.4 1.4 0 2-0.4 2.4-0.5 1.6-1.1 1.7-1 0.8-0.6-0.1-0.4-0.6-0.3-1.4 0.1-1.4 0.4-2 0.6-1.6 0.9-1.4-0.7-0.3-4.6 0.5-0.4 0.2-0.1 0.6 0.2 2-0.3 1-0.8 1-1 0.7-1 0.4-1.6 0.1-0.4 0.5-0.9 3.3-0.4 1-0.7 1.3zM192.4 609.7l-0.4 0.1 0-1.5 0.4-1.5 0.6-0.6 0.2 0.8-0.1 1-0.1 0.6zM184.6 629.4l0.2-4.4 1.3-6-0.1-0.6-1 0.3-0.6-0.1-0.8-0.6-0.6-1.5-0.3-2.1-0.3-0.2-1 1.4-1.8 1.4-1.4 5 2.8 1.2 0.8 0.8 0.8 1 0.5 1.4-0.1 1-0.5 1-0.9 1 0.8 0.3 1.6 0zM179 651.5l-0.7-0.1-0.9-1.3-0.4 0.8-0.6 0.3-0.5-0.2-0.5-1.6 0.1-2.4-1.1-1.5-0.1-0.5 0-1.6 0.6-1 0.6-0.4 1.4-0.6 1.1 0 1.3 0.6 1 1 0.3 1 0 1-0.5 1-1.1 0.8-1 0.4-0.4 0.2-0.1 0.6 0.1 1 0.4 0.4 0.4-0.5 0.6 0.1 0.2 0.4 0.3 1zM150 655.6l-0.6-0.6-0.1-2 0.1-1.6 0.6-0.7 0.4 0.9 0.2 1.4-0.2 1.8zM167 653.6l-0.4-0.2-0.2-0.4 0.1-0.6 0.5-0.8 0.3 0.4 0 0.4zM144 696.5l-0.6-0.3-0.7-0.8-0.9-2.4-2.4-1.8-1.3-1.8-1.1-2.5-1.2-1.9-0.4-1.6 0-2.2 0.6-1.7 0.8-1.1 0.6-1.9 0.6-0.7 0.2 0.6 0 0.6-0.3 1-0.7 1 0 0.4 0.5 2.6 0.3 0.4 0.4 0 1.4-1 0.1-1-0.5-3 0.2-3-0.2-0.2-1 0.2-0.4-0.4-0.3-0.6-0.2-1.4 0.4-2 1.1-1.6 1-0.4 0.4 0.2 0.5 0.8 0.3 1.4 0.2 0.6 2.8-1 0.3-0.6 0.3-1.4-1.4-1.6-0.2-1.4 0.2-1.8 0.6-0.7 1-0.1 0.4-0.3 1-1 1-0.4 0.6 0.2 0.5 0.5 0.6 1.6 0.1 1.4-0.2 2.6-1.1 2.4-0.4 2.6 1 3.4 0.2 3-0.2 1.6-0.7 2-0.8 1.4-1.4 1.6 0.4 3.4 0 6.1-0.8 1.5-0.8 0.4zM150 679.1l-0.4-1.7 0.3-4 1.1-4.2 0.4-1.1 0.6-0.3 0.3 2.2-0.3 3.4-1 4.4-0.6 1zM141 699.9l-0.5-0.5 0-0.4 0.5-1.1 0.4 0.5z"/>
<path fill="#0000ff" d="M634.4 155.5l-3.4 0.3-2.6-0.1-0.9-0.3-0.5-0.4-0.2-1 0.8-2 2.4-3.6 3.4-4 4.2-4.4 5.1-5 5.5-5 5.9-5 6.3-5 13.2-9.6 14-9 11.8-6.8 12-6.1 12.6-5.5 12-4.5 6.4-2.1 6.6-1.8 6.4-1.6 5-1 4.6-0.6 3.4-0.2 2.6 0.4 0.5 0.4 0.4 0.4 0 1-0.8 2-1.6 2.6-2.3 3-6.2 7-8.3 8-8.1 7-9 7-9.3 6.4-9.9 6.3-10 5.8-11 5.8-10.9 5.1-10.5 4.5-10.9 4.1-10.7 3.4-9.7 2.6zM640 228l-6.6 0.1-5-0.4-2.4-0.7-0.6-0.6-0.3-1 0.6-1.4 1-1.6 2.3-2.4 2.6-2.6 7.1-6 8.1-6 9-6 9.8-6 9.9-5.4 10.5-5.4 14-6.4 12-4.8 13-4.3 13-3.5 7-1.5 6.8-1.1 6.6-0.9 5.6-0.5 5-0.1 4 0.3 2.4 0.6 0.8 0.6 0.3 0.4 0 1.6-0.7 1.4-1.3 2-2.4 3-6.4 6.6-8 7-7.9 6-9 6-9.3 5.4-9.5 5-9.6 4.3-10.6 4.3-10.8 3.7-10.6 3.2-10.4 2.6-10.6 2.1-10 1.5zM679.4 287l-7 0.3-6.4-0.1-6-0.3-6-0.7-5.6-1.1-3.4-1.1-1.6-1-0.4-0.6-0.3-1 0.6-1.4 1.1-1.6 2.4-2.4 2.9-2.6 6.8-5 8.8-5.4 8.7-4.7 9.3-4.3 9.7-3.9 10-3.4 13-3.8 13-3.1 12.4-2.5 12.6-2 12.4-1.2 10.6-0.3 4.4 0.2 3.4 0.4 1.7 0.6 1 0.4 0.4 0.6 0.2 1-0.4 1-1 1.4-1.7 2-4.9 4.6-6.3 5-7.2 5-7.2 4.4-8 4.6-9 4.4-8 3.6-8.4 3.4-8.6 3-8 2.4-7.4 1.9-7.6 1.5-7.4 1.1zM379 471.5l-3.6 0.3-3.4-0.3-2.2-0.5-3.1-1.6-1.3-0.4-7.4-0.3-2.6-0.5-2.4-0.7-3.4-1.5-1.6-1-1-1-0.5-1-0.2-1 0.3-2 0.9-1.6 1.7-1.4 2.8-1.3 3-0.8 3.4-0.3 4 0.2 3 0.5 4 1.3 1.6 0.3 1-0.2 3-1.7 2-0.8 2.4-0.2 2.2 0.4 1.4 0.6 1.3 1 1.8 2 0.7 1.4 0.4 1.6 0.2 1.4-0.1 1.6-0.9 2.4-1 1.5-0.9 1.1-2.5 1.6zM377 517l-4 0.2-4.6 0-5-0.2-4.4-0.5-8.3-1.5-3.8-1-4.6-1.6-14.9-6-2.1-1-2.4-1.4-2.2-2-1.4-2-0.5-2 0.2-2 1.2-2 1.6-1.6 2.6-1.4 2.6-1 3-0.8 3.4-0.6 12.6-1.3 8.4-0.1 8.9 0.8 8 1.4 3.8 1 4.6 1.6 3.6 1.4 3.1 1.6 3.3 2 2.6 2 1.9 2 1.3 2 0.7 2 0.1 2-0.7 2-1 1.4-1.6 1.6-2.4 1.4-2.6 1.2-3.6 1.1-3.4 0.7zM244 502.5l-1 0-0.6-0.4-0.6-1.1-0.2-1 0.3-1 0.5-0.7 0.6-0.3 0.4 0 1 0.5 0.6 0.7 0.2 0.8 0 1-0.2 0.7-0.6 0.6zM239.4 531.1l-1 0.2-1-0.1-1-0.4-1-0.7-1.4-2.2-0.6-1.5-0.2-1.4-0.1-1.6 0.3-2 1-2.4 1.6-1.7 1-0.6 1-0.2 1 0 1 0.3 1 0.6 0.9 1 1.1 2 0.8 3.6-0.1 1.4-1.2 3-1.5 1.9zM248.4 532.8l-0.4 0.1-1-0.4-0.6-0.6-0.3-0.9-0.2-2.6-0.7-3 0.2-0.8 0.6-0.3 0.4-0.1 0.6 0.3 1 2 1.1 1.5 0.5 1 0.2 1-0.3 1.4-0.5 1zM383 546l-3.6 0.2-4 0-8.9-0.8-11.4-2-10.4-2.4-9.6-3-5.1-2-3.1-1.6-2.6-1.4-1.9-1.6-1.2-1.4-0.1-1 0.3-0.9 0.8-0.7 1-0.4 1.8-0.6 4.4-0.5 6 0.1 7 0.6 9.4 1.4 10.2 1.9 6.2 1.5 6.4 2 4.9 2 4.8 2.6 3.4 2.4 0.9 1 0.4 1 0 1-0.3 0.6-0.7 0.6-1.6 0.6zM225 558l-1-0.3-0.6-0.5-0.5-1.8 0.1-1 0.6-2.4 0.4-4.8 0.8-2.8 1.5-2.4 2.1-1.8 1.6-0.7 1-0.1 1 0 1 0.3 1 0.6 1 1.1 0.7 1.6 0.4 2.4 0.3 0.5 2.6-0.7 1.3 0.2 0.7 0.6 0.4 1 0.4 1 0 1-2.4 2.9-1.4 1.2-2.3 0.9-0.7 0.7-0.4-0.3-0.2-1.4-0.4-0.7-0.6 0-2.4 1.7-2.6 1-0.9 0.4-1.5 2.1zM248.4 555.5l-0.4 0.1-0.6-0.2-2-2.5-2-0.9-0.5-0.6-0.5-1-0.3-1.4 0.3-0.6 1-0.9 1-0.2 0.6 0.1 3.4 2.7 0.8 0.9 0.4 1 0 1.4-0.2 1-0.4 0.8zM257 589l-1 0.4-1 0-2-1-1-1-2.6-3.4-1.4-1.6-8-5.9-1-0.6-0.6 0-2 1.5-2 0.6-2-0.2-1-0.8-0.4 0-4 2.3-2 0.7-1-0.2-0.3-0.4-0.3-1.2-4 1.3-1.5-0.1-1.8-0.4-1.1-0.8-0.8-0.8-0.8-1.1-0.5-1.3-0.2-1.6 0-1.4 0.3-1.6 0.7-2 1.6-2.4 2.1-2 2.6-1.2 2.4-0.3 1.6 0.3 1.4 0.7 1 1 1 1.6 0.6 0.5 2-1 0.4 0.1 0.6 0.7-0.1 1-0.5 1.4-1 1.5-1.7 1.7-0.7 2 0.4 0 4-2.6 2.6-0.9 1-0.1 1 0.5 2-1.2 2-0.4 2 0.1 1.5 0.6 1.8 1 1.7 1.4 4.4 5.7 1 0.7 2.3 1.2 1.7 1.8 1 1.9 0.6 2.3-0.1 1.4-0.5 1zM236.6 574.4l0.5-0.4-1.1-2.4-0.6 0.3-1.9 2.5 0.5 0.3zM187 580.7l-0.6-0.3-0.1-2 0.1-0.8 0.6-1.1 0.4-0.5 0.6 0.4 0 2-0.6 1.8zM238.4 581l-1.5 0-1.4-0.6-0.6-0.4 0.1-0.6 1.4-0.4 2.1 0.4 0.6 0.6 0.1 0.4zM215 594l-1 0-1-0.6-0.9-1.4-0.3-1.6 0.2-1.5 0.7-1.9 0.9-1 1.4-0.6 1 0.2 1 1 0.5 1.4 0.1 1.4-0.2 1.1-0.4 1.5-1 1.4zM185.4 604.6l-2.2-0.2-0.8-0.4 0-0.7 1.5-1.3 0.3-1-0.2-0.6-0.4-0.4-1.6-1.1-0.6-0.9-0.5-1.6-0.1-2 0.3-2 0.9-1.6 1-0.7 1 0.1 1 0.9 0.4 1 0.5 1.9 0.4 9-0.3 1.2zM169 607.5l-0.6 0-0.4-0.6-1.6-3.4 0.1-1.1 0.5-0.8 0.4-0.2 1 0.3 0.6 0.5 0.5 1.2 0.2 2.6-0.3 1zM170 646.2l-0.6 0-0.4-0.6-0.2-2.2 0.5-2 1.5-4-0.4-0.6-3-1.2-2.4-1.7-1.7-3.5-0.7-2-0.2-2.4 0.3-2.6 0.7-1.9 1-1.5 1.1-1 1.7-1 1.8-0.5 1.4-0.1 2 0.4 2 0.9 0.3-0.3 2-5-0.3-1.9-0.4 0.2-1 1.5-1 0.8-1 0.4-1-0.1-0.6-0.4-0.4-0.7-0.5-1.2 0-1.6 0.3-2 1.2-1.9 1.4-1.3 1-0.3 1 0.4 0.6 0.5 0.4 0.9 0.6 0.4 1.4-1.9 1-0.5 1 0.1 1 0.7 1.2 2.5 0.3 2.4-0.1 2.6-0.6 1.4-0.8 1-1.5 1-0.4 0.6-1.4 5 0.3 0.3 2.6 1 0.7 0.7 0.8 1 0.5 1.4-0.1 1-0.5 1-1 1 0.6 0.3 2 0.1 0.4-0.1 0.3-0.3 0.2-4.4 0.5-2.6 1-4.1 0.1-0.9 1.9-1.9 0.6-0.2 0.4 0 0.6 0.4 0.4 1.2 0.2 1.1 0 3.4-0.6 3.6-1 3.4-1 2.3-0.6 0.8-1.3 0.9-0.2 0.6 0 2-0.4 2.4-0.5 1.6-1 1.6-1 0.7-0.6 0-0.5-0.9-0.1-1.4 0.5-3 0.6-1.6 1-1.4-0.5-0.3-0.4 0-4.6 0.4-0.6 0.3-0.1 0.6 0.2 2-0.3 1-0.6 0.7-1 0.8-1.4 0.5-1.2 0.1-0.4 0.3-0.9 3.6-0.5 1-0.6 1.2zM186 618l-1 0.4-0.6 0-0.9-1-0.4-1-0.1-1 0.2-1.4 0.6-1 0.6-0.4 0.6-0.1 0.4 0.1 0.6 0.5 0.5 0.9 0.3 3zM166 643.1l-1-0.1-0.6-0.6-0.4-1-0.4-2-0.7-1.4 0.1-1.1 0.4-1.2 1-0.9 0.6 0.2 0.4 1.6 1.6 1.4 0.4 1.4 0 1.4-0.3 1.2-0.7 0.9zM176.4 651.1l-0.4-0.3-0.4-0.8-0.2-1 0.5-2-0.1-0.6-0.9-1-0.2-1.4 0.4-1 0.9-0.8 1-0.3 1 0 1 0.4 0.7 0.7 0.3 0.4 0.2 1-0.2 0.9-0.6 0.7-0.6 0.4-1.4 0.6 0 3-0.4 0.7zM179 651.3l-0.6 0.1-0.5-1-0.1-0.4 0.6-0.8 0.6 0.1 0.2 0.7 0.1 0.4zM150 654.8l-0.4-0.8-0.1-1 0.5-1.4 0.3 1.4zM144.4 696.1l-0.9-0.1-0.5-0.6-1-2.4-2.6-2-1-1.2-2.4-5.3-0.3-2.5 0.3-1.6 0.4-0.5 0.6 0.4 0.3 1.7 0.3 0.4 0.4 0.3 1.5-0.7 0.5-0.6 0.1-0.4-0.5-3.6 0.2-3.4-0.4-0.4-1 0.1-0.4-0.5-0.2-0.8 0.1-1.4 0.5-1.5 1-1 0.6-0.1 0.5 0.6 0.5 2.3 0.4 0.1 3-1.4 0.8-2.6-0.2-0.6-1-0.6-0.2-0.2-0.2-1 0.2-1 0.2-0.6 1-0.4 1.4-1.7 0.6-0.4 0.4 0 0.6 0.2 0.6 0.9 0.4 1 0.2 1.4-0.2 2.4-1.3 2.6-0.3 2.6 1 3.4 0.2 3-0.4 2-0.5 1.6-0.7 1.2-1.6 1.8 0.5 3-0.2 3 0.2 2.4-0.5 1.8-0.4 0.7zM150.4 678.5l-0.4 0-0.3-1.1 0.2-3.4 1.1-4.5 0.4-1 0.6-0.2 0.2 1.7-0.2 3-0.6 2.9z"/>
<path fill="#001fff" d="M636 154.5l-3.6 0.2-2.3-0.3-0.9-0.4-0.2-0.5-0.1-1.1 0.9-2 2-3 2.9-3.4 4.2-4.6 4.6-4.4 5.5-5 5.9-5 6.4-5 12.7-9.2 13.6-8.8 11.8-6.8 11.6-5.9 12-5.3 12-4.6 6.4-2.1 6.4-1.9 6.1-1.4 5.1-1 4-0.6 3.4-0.1 2 0.2 1 0.5 0.5 0.4 0.1 1-0.7 2-1.2 2-2.2 3-6.2 7-7.8 7.6-8.1 7-8.8 6.8-9.5 6.6-9.5 6-10 5.8-10.6 5.5-11 5.2-10.4 4.5-10.6 3.9-10 3.2-9.4 2.5zM644.4 227l-7.4 0.3-5.9-0.3-2-0.6-1-0.4-0.4-0.6-0.3-1 0.6-1.4 1-1.6 3.8-4 6.3-5.4 8-6 8.9-6 8.9-5.6 9.5-5.3 9.6-4.9 14-6.6 12.4-5 13-4.5 13-3.5 7-1.6 6.6-1.2 6.4-0.9 6-0.5 5-0.1 3.6 0.3 2.4 0.7 0.9 0.7 0.3 0.4-0.1 1.6-0.6 1.4-1.3 2-2 2.6-5.8 6-7.4 6.4-7.9 6-8.1 5.6-9.2 5.4-9.2 5-9 4.1-10 4.1-10.6 3.8-10 3.1-10.4 2.8-10 2.1-9.6 1.6zM679 286.5l-7 0.2-6.6-0.1-6-0.4-5.7-0.8-4.4-1-2.9-1.1-1-0.6-0.6-0.7-0.2-0.6 0.1-1 0.7-1.4 1.6-2 5.1-4.6 6.9-5 8.3-5 8.6-4.4 9.1-4.2 9.4-3.7 9.6-3.2 12.4-3.6 13-3.1 13-2.6 12-1.7 12-1.1 10-0.2 4 0.3 3 0.5 1.4 0.6 0.7 0.4 0.3 0.6 0 1-0.3 1-1 1.4-1.8 2-4.8 4.6-6.5 5-6.6 4.4-7.4 4.6-8.1 4.4-8.3 4.2-8 3.5-8 3.1-8 2.8-8 2.4-7.6 1.9-7.4 1.4-7.6 1.1zM379 471l-3 0.4-3-0.2-3-0.7-2.6-1.3-1.4-0.5-7.6-0.3-2.4-0.4-2.6-0.6-3.1-1.4-1.5-1-1-1-0.6-1-0.3-1 0-1 0.2-1 1-1.6 1.9-1.5 2.4-1.1 3.6-0.8 3.4-0.2 3.6 0.3 3 0.6 5 1.6 1.4-0.3 2.7-1.6 1.9-0.6 2-0.3 2.4 0.4 2.1 1.1 1.1 1 0.9 1 1.1 2.4 0.3 1.6-0.1 1.4-0.3 1.6-0.5 1.3-1.7 2.1-2.3 1.6zM375 517l-8.6 0-8.4-0.8-8.6-1.8-7.9-2.4-13.5-5.6-2.1-1-2.4-1.4-2.3-2-1.4-2-0.6-2 0.3-2 1.3-2 1.6-1.5 2.6-1.4 2.4-0.9 2.8-0.8 3.8-0.6 13-1.4 4.4-0.1 4.6 0.1 8.4 0.9 8.2 1.7 7.9 2.4 3.5 1.6 3.7 2 2.3 1.4 2.4 2 1.8 2 1.1 2 0.6 2-0.1 2-0.8 2-1.3 1.6-1.9 1.4-2.8 1.6-2.7 1-3.8 1-3.5 0.6zM240 530.5l-1 0.3-1 0-1-0.2-1.1-0.6-0.9-1-0.7-1-0.5-1.6-0.3-1.4 0.1-3 0.8-2.4 1.6-1.8 1-0.6 1-0.3 1 0 1 0.4 1.4 1.1 1.2 2 0.7 2.6 0 2-0.7 2.4-1.2 1.9zM382.4 545.5l-3.4 0.3-4 0.1-9-0.8-9.5-1.7-12.4-3-9.2-3-6.9-3-2.5-1.4-1.9-1.6-0.9-1.4-0.1-1 0.4-0.6 1-0.7 3-0.9 4-0.4 5.6 0 6 0.6 7.2 1 11.1 2 6.5 1.5 6.3 1.9 5 2 4.7 2.6 2.7 2 0.9 1 0.6 1 0.1 1-0.3 0.4-0.4 0.6-1 0.6-1.6 0.5zM227 555l-1 0.2-0.6 0-0.4-0.4-0.6-0.7-0.3-2.1-0.1-4 0.4-2.2 1-2.3 1.6-1.9 1.4-1.2 1-0.5 1.6-0.3 1 0.1 1 0.3 1 0.6 1 1.4 0.6 1.4 0.4 2.6 0.4 0.2 2-0.8 1 0 1 0.5 0.5 0.5 0.4 1-0.1 1.6-1.1 2-1.7 1.6-1.4 0.6-1.6 0.2-1.4-1.5-0.6 0.1-2.4 1.7zM248 554.6l-0.6-0.2-2-2.4-2-1.2-0.3-0.8 0-0.6 0.6-1 0.7-0.1 0.6 0.1 2.8 2 0.6 0.7 0.6 1 0 1.3-0.6 1zM256 588.1l-0.6 0.2-1-0.1-1.3-0.8-1.1-1-2.6-3-1.6-1.4-7.8-5.8-1.6-0.8-1.4 1.6-1 0.5-1.6 0.3-1.4-0.1-0.7-0.3-0.9-0.7-1 0.4-3 1.9-2 0.7-1 0-0.3-0.3-0.2-0.4 0.1-1.3-0.6 0.1-2 0.9-1.4 0.5-2 0.1-1.6-0.4-1-0.6-1-0.9-0.9-1.4-0.5-1.6-0.1-1.4 0.1-1.6 0.9-3 1.5-2.3 2-1.9 2.6-1.2 2.4-0.3 1.6 0.3 1.4 0.8 1.2 1.2 0.8 1.6 0.6 0.1 1.2-0.7 0.8-0.2 0.4 0.1 0.4 0.5 0 1-0.4 1.2-1 1.6-1.8 1.8-1 2.4 0.4 0.1 2.9-2.1 1.7-1 1.4-0.5 1-0.2 0.9 0.3 0.2 0.4-0.4 1-1.5 2 0.1 0.6 4.1-0.3 0.3-0.3-0.7-1.4-0.3-1 0.3-1 0.4-0.6 1.6-0.7 1.4-0.2 2 0.3 1.6 0.6 1.6 1 1.8 1.8 4.6 6.1 2.4 1.5 1.6 1.6 0.9 2 0.2 1.6-0.4 1.4zM187 579.8l-0.3-0.8 0.1-1 0.2-0.6 0.4-0.5 0.2 1.1-0.1 1zM238 580.5l-1.5-0.1-0.7-0.4 0.5-0.6 1.1 0 0.9 0.6-0.1 0.4zM214.4 593.5l-1-0.4-0.6-0.7-0.4-1-0.2-1.4 0.2-1.5 0.6-1.1 1-1.1 1-0.3 1 0.3 0.6 0.7 0.4 1 0.2 1.4-0.2 1.6-0.6 1.1-1 1zM185.4 604.1l-0.4 0-0.4-0.1-0.4-0.6-0.1-0.4 0.5-2-0.2-0.6-0.4-0.4-1.6-0.9-0.4-0.5-0.6-0.8-0.4-1.8-0.1-2 0.5-2 0.7-1 0.9-0.7 1 0.1 1 1 0.4 1.1 0.4 1.5 0.2 2-0.2 5 0.2 2zM169 606l-0.6 0.3-0.4-0.5-0.3-0.8 0.1-1.6 0.6-0.5 0.6 0.4 0.3 1.1zM170 646l-0.6 0-0.3-0.6-0.2-2 0.5-2 1.5-3.4 0.1-1-0.6-0.6-3-1.1-1.7-1.3-0.7-0.9-1.5-2.7-0.6-2-0.3-2.4 0.3-2.6 0.6-1.4 0.9-1.6 1.5-1.4 1.5-0.9 1.6-0.4 1.4 0 2 0.4 2 0.9 0.6-0.5 0.9-3.1 1-2-0.5-2.5-0.4 0.4-1 1.6-1 0.9-1 0.4-1-0.2-1-1-0.3-1 0-2 0.3-1.6 1-1.6 1.4-1.4 1-0.2 0.8 0.2 0.8 0.8 0.4 1.1 0.6 0.2 1.4-2.1 1-0.5 1 0.1 1 0.7 1.1 2.3 0.3 2-0.1 2.4-0.4 1.6-0.6 1-0.7 0.7-1.6 1-1.5 5.3 0.5 0.4 1.6 0.5 1 0.5 1.1 1 0.5 1 0.3 1-0.1 1-0.5 1-1.1 1 0.8 0.4 2 0.1 0.4 0 0.5-0.5 0.1-4 1-4.8 1.1-3.2 0.9-1.1 1-0.8 0.4 0.1 0.6 0.5 0.5 1.9 0 3.4-0.6 3.6-0.9 3.2-1 2.2-1 1.3-1.4 0.7 0.2 2.6-0.3 2-0.5 1.7-1 1.7-1 0.7-0.6-0.1-0.4-1-0.1-1 0.5-3 1-2.2 0.8-0.8-0.2-0.4-6 0.5-0.5 0.3-0.2 0.6 0.2 2-0.3 1-0.8 0.8-1 0.6-2 0.3-0.4 0.3-0.9 3.4-0.6 1.6-0.5 1zM185 618l-0.6 0-0.5-0.6-0.5-0.7-0.1-1.3 0.1-1 0.5-1 0.5-0.4 0.6-0.1 0.4 0.2 0.6 0.5 0.5 1.8-0.2 1-0.3 1-0.6 0.5zM166 642l-0.6 0-0.6-0.6-0.3-1 0.1-1.4-0.3-0.6-0.3-0.1-0.3-0.3-0.1-0.6 0.1-0.4 0.3-0.5 0.4-0.2 0.6 2 1 0.1 0.4 0.5 0.2 0.5 0 1.6-0.2 0.5zM178.4 645.5l-1 0.3-1.1-0.4-0.4-0.4-0.1-0.6 0.2-1 1-0.5 1 0 0.4 0.2 0.6 0.6 0.1 0.7-0.2 0.6zM177 650.5l-0.6 0.3-0.4-0.2-0.4-1.2 0.2-1.4 0.2-0.5 0.4-0.5 0.6 0.5 0.2 0.9 0 1zM178.4 651l-0.1-0.6 0.1-0.7 0.6 0.2 0 0.5 0 0.3zM144.4 695.6l-0.4 0-0.6-0.2-0.4-0.8-0.7-1.6-0.4-0.6-2.3-1.4-1.2-1.4-1.2-3.2-0.4-2.4 0.2-0.5 1-0.3 1.9-1.2 0.4-0.6-0.5-4.4 0.7-4 0.4-0.6 1.1-1 1-0.5 1.4-0.5 0.4-0.4 0.8-2.6-0.6-2 0.2-2 1.2-1.8 0.6-0.4 0.4-0.1 0.6 0.3 0.4 0.6 0.6 1.4 0 1-0.1 2-0.5 1.3-0.7 1.3-0.5 3 1 3 0.2 3.4-0.3 2-0.7 1.7-0.9 1.3-1.1 1-0.2 0.6 0.5 3-0.1 5.4-0.5 1.6zM150.4 677.9l-0.4-0.5 0-2.4 0.4-3.2 0.6-1.8 0.4-0.9 0.6 0.3 0 2.9-0.6 3-0.4 1.7zM139.4 672.5l-0.4 0.2-0.4-0.3-0.2-1 0-0.6 0.5-0.8 0.5-0.5 0.6 0.1 0.2 1.4-0.2 1z"/>
<path fill="#003dff" d="M637 153.5l-3 0-2-0.4-0.8-0.7-0.2-0.4 0.1-1 0.9-2 2.1-3 3.4-4 3.8-4 9.7-9 11.7-9.6 12.5-9 13.2-8.4 11.6-6.6 11.4-5.8 11.6-5.1 11.4-4.4 12-3.7 5.9-1.4 5.1-1 4-0.6 3-0.1 2 0.3 0.9 0.4 0.5 0.4 0.3 1-0.6 2-1.2 2-1.8 2.6-5.7 6.4-7.7 7.6-8.1 7-8.6 6.6-9 6.4-10 6.2-10 5.8-10.4 5.5-10.6 4.9-10.4 4.4-11 4.1-9.7 3.1-9.3 2.3zM640.4 226.5l-5-0.2-3.4-0.5-1-0.4-1-0.9-0.2-0.5 0.1-1 0.7-1.6 1.1-1.4 4.4-4.6 6.7-5.4 7.5-5.6 8.3-5.4 9.4-5.7 9.7-5.3 10.3-5.2 13-5.9 12-4.7 12-4 12.2-3.2 6.8-1.5 6-1.1 6-0.7 5-0.5 4.4 0 3.6 0.2 2 0.6 0.9 0.4 0.5 0.7 0.3 1.3-0.5 1.6-1.2 2-1.9 2.4-5.8 6-7.4 6.6-8 6-8.9 5.9-9 5.2-9.4 4.9-9.6 4.3-10.6 4.1-10.4 3.6-10.6 3.1-10 2.4-10.4 2-10 1.4zM678.4 286l-6.4 0.2-6-0.1-6-0.5-5-0.7-4.1-0.9-2.5-1-1-0.7-0.7-0.9-0.2-0.4 0-1 0.7-1.6 1.1-1.4 2-2 2.9-2.6 6.2-4.4 8.1-5 8.5-4.6 9-4 9.4-3.8 9.6-3.2 12.4-3.6 12.6-3 12.4-2.5 12-1.7 11.6-1.1 9.4-0.2 3.6 0.3 2.4 0.4 2 0.7 1 0.9 0.3 0.8-0.3 1-0.8 1.6-1.2 1.4-4.1 4-6.3 5-7.3 5-7.3 4.6-8.2 4.4-8.2 4-8 3.5-8 3.1-8.6 2.9-7.4 2.3-7.6 1.8-7.4 1.4-7.6 1zM376 471l-2-0.1-2.5-0.5-3.5-1.6-1.6-0.4-8-0.3-2.4-0.4-2.7-0.7-3.1-1.6-1.7-1.4-0.7-1-0.3-1 0-1 0.2-1 1-1.6 2-1.4 2.5-1 2.8-0.7 3.4-0.2 3.9 0.3 2.7 0.7 4.4 1.6 1 0.1 1-0.2 3-1.6 1.6-0.7 2.4-0.2 2 0.4 1.6 0.8 1 0.8 1 1.1 0.7 1.2 0.6 2.6-0.1 1.4-0.3 1.6-0.5 1-1 1.4-1 1-1.4 1-2.6 1.1zM378 516.5l-8 0.4-4.6-0.1-4.4-0.4-8.8-1.4-4-1-4.8-1.6-14.7-6-2.3-1-2.4-1.4-2.3-2-1.4-2-0.6-2 0.4-2 0.8-1.6 1.5-1.5 2.5-1.5 2.6-1 3.5-0.8 3.4-0.6 12-1.3 8-0.2 8.6 0.7 8.4 1.6 7.2 2.2 3.8 1.4 3.1 1.6 3.4 2 2.5 1.9 1.6 1.5 1.4 2.1 0.9 1.9 0.2 2-0.5 2-0.9 1.6-1.5 1.4-2.2 1.6-2.4 1.1-3 1-3.6 0.8zM239.4 530.1l-1 0.2-1-0.1-1.4-0.8-1.5-2-0.7-2.4 0.2-3 0.7-2 1.3-1.7 1-0.6 1-0.3 1 0 1 0.4 1.3 1.2 1.1 2 0.5 2-0.1 2.4-0.6 2-1.2 1.8zM378 545.5l-7-0.2-8-1-9.5-1.9-11.5-3-7.2-2.4-3.5-1.6-2.9-1.4-2.3-1.6-1.1-1-0.6-1-0.1-1 0.6-1 0.9-0.4 2.6-0.8 4.6-0.3 5.4 0.1 9 1 9.4 1.4 7.4 1.6 5.6 1.4 5.8 2 4.3 2 4 2.6 2 2 0.4 1 0 0.4-0.5 1-0.7 0.6-1 0.4-1.8 0.6zM229.4 554l-2.4 0.4-1-0.3-0.8-0.7-0.5-1-0.3-1.4-0.2-2 0.2-2 0.4-1.6 0.6-1.5 1-1.5 1-1 2-1.2 1-0.3 1.6 0 1.4 0.7 1.3 1.4 0.7 1.4 0.3 2.6 0.3 0.6 2.4-0.9 1-0.1 0.6 0.2 0.4 0.4 0.5 0.8 0.1 1.4-0.3 1-0.7 1.4-1 1.1-1 0.7-1 0.4-1 0.1-0.6-0.2-1.4-1.5-0.6 0.2-2 1.6zM225.4 579.5l-0.6-0.1-0.5-0.4 0.4-2-0.3-0.2-2 1.3-1.4 0.6-1.6 0.4-1.4 0-1.6-0.5-1.1-0.6-1-1-0.8-1.6-0.4-1.4 0-2 0.3-2 0.7-1.6 0.9-1.4 1.4-1.8 1.6-1.1 1.4-0.7 2.6-0.5 1.4 0.2 1 0.3 1 0.7 0.9 0.9 1.1 2 0.6-0.1 1.6-0.9 0.6 0 0.5 0.4 0 1-0.3 1.1-1 1.5-2 2-1.5 3-0.1 0.4 5.1-3.4 1.5-0.7 1.6-0.3 0.6 0.4 0 0.6-1.8 3 0.2 0.3 1.7-0.3 1.3-0.1 1 0.2 0.5 0.3 0 0.6-0.3 0.4-0.6 0.6-1.1 0.4-1.5 0.2-1-0.1-0.8-0.5-0.2-0.6-0.6-0.1-3.4 2.2zM254 585.6l-1-0.1-1-0.6-3.7-2.9-9.6-7-1-1.6-0.4-1 0-1 0.3-0.4 0.6-0.6 1.2-0.5 2.6 0 2.4 1 2 1.5 2 2.3 3.6 5.7 2.3 3 0.3 1.6-0.2 0.4zM215 592.5l-1 0-0.6-0.4-0.4-0.8-0.2-1.3 0.2-1.2 0.4-1.1 0.9-0.7 0.7-0.2 0.4 0.1 0.7 0.5 0.3 0.7 0.2 1.3-0.2 1.3-0.3 0.7-0.7 0.9zM185 599.6l-0.6 0.1-2-0.9-0.6-0.8-0.6-1.6-0.1-2 0.3-2 0.6-1 1-0.8 1 0.1 0.4 0.4 0.6 0.7 0.4 1.2 0.3 2 0 2-0.3 1.9zM170.4 645.5l-0.4 0.3-0.6-0.1-0.3-0.7 0-1.6 0.4-2 1.9-4 0-0.4-0.4-0.7-2.6-0.9-1.4-0.8-1.4-1.2-0.6-0.8-1.3-2.2-0.6-2-0.3-2.4 0.2-2 0.7-2 1-1.6 1.3-1.2 1.4-0.8 1.6-0.4 1.4-0.1 2 0.4 2 1 0.6-0.4 1-3.2 1-2.3-0.6-3.5-1 2.1-1 1.2-1 0.6-1 0.1-1-0.7-0.5-1.2 0-2 0.3-1.6 1.2-2 1-0.7 1-0.2 1 0.4 0.7 1.1 0.3 1.3 0.6-0.3 0.7-1.6 0.7-0.8 0.6-0.3 1-0.2 1 0.4 1 1.5 0.6 2.4 0 2.6-0.5 2-0.6 1-0.5 0.5-1.6 0.9-0.9 3.6-0.8 2 0.3 0.4 1.8 0.6 1.2 0.5 1 0.9 0.5 1 0.2 1.6-0.2 1-0.5 0.7-1.1 0.7 0.1 0.2 0.4 0.3 2.6 0.1 0.6 0 0.4-0.4 0.1-4.2 0.9-4.4 1.3-3.6 0.7-0.8 1-0.7 0.4 0 0.6 0.6 0.4 1.9 0 2.6-0.5 3.4-0.5 2-1 2.7-1 1.8-0.4 0.6-2 0.8-6.6 0.5-0.6 0.2-0.7 0.4-0.2 0.6 0 2.4-0.5 0.8-0.9 0.8-1.1 0.3-1 0-0.4 0.3-1 4.1-0.6 1.2zM185 617.5l-0.6-0.1-0.4-0.6-0.4-1.4 0.4-1.3 0.4-0.5 0.6-0.2 0.4 0.3 0.5 0.7 0.2 1-0.1 1.1-0.6 0.7zM183.4 640.7l-0.4 0.2-0.7-0.5-0.3-1.4 0.2-1.6 0.2-1.3 1-2.1 0.6-0.7 1-0.6 0.4 0.5 0.2 0.8 0.1 1.4-0.2 1.6-1.1 2.5zM176.4 650.5l-0.4-0.4-0.2-1.1 0.2-0.9 0.4-0.5 0.6 0.6 0 0.8 0 1zM144.4 694.6l-0.4 0.1-0.4-0.3-0.8-1.4-0.5-0.6-2.3-1.4-1.1-1-1.2-2.6-0.3-2.4 0.3-1 0.5-0.6 2.1-1.4 0.1-0.4-0.4-4.2 0.5-3.4 0.5-1 0.8-1 1.2-0.8 1.4-0.5 0.6-0.5 0.9-2.2-0.5-3 0.2-1.6 0.8-1.5 0.6-0.4 0.4-0.1 0.6 0.3 0.4 0.7 0.5 2-0.3 2.6-1 1.4-0.3 1-0.3 2.6 1.1 3 0.2 3.4-0.3 1.9-0.7 1.7-0.9 1.2-1.4 1.2-0.1 0.6 0.6 2.4 0 1.6-0.5 5zM150.4 677l-0.2-1.6 0.2-2.7 0.6-1.9 0.4-0.9 0.3 1.5-0.3 3-0.4 1.8z"/>
<path fill="#005cff" d="M641.4 152l-4 0.4-2.4-0.2-0.9-0.2-0.6-0.6-0.4-1 0.4-1.4 1.4-2.6 2.3-3 3.1-3.4 4.4-4.6 4.9-4.4 5.8-5 5.6-4.6 12.2-9 13.2-8.6 11.6-6.8 11.4-5.9 11.6-5.3 11.2-4.4 12.2-3.9 5.6-1.4 5-1 4.4-0.6 3-0.1 2 0.3 0.8 0.3 0.6 0.4 0.3 1-0.3 1.6-1 2-1.3 2-5.1 6-7 7-7.4 6.4-8.2 6.6-9.1 6.4-9.3 6.1-9.4 5.6-10 5.3-10 4.9-10 4.4-10 3.9-10 3.4-9 2.5zM645.4 225.5l-6.4 0.1-2.6-0.2-2-0.4-1.2-0.6-0.8-0.5-0.3-0.9 0.1-1 0.7-1.6 1.1-1.4 3.9-4 6-5 6.7-5 8.3-5.6 8.2-5 8.9-5 9.7-5 13.3-6.1 12-4.8 12.4-4.3 12-3.3 12.6-2.5 6-0.9 5.4-0.4 4-0.1 3.6 0.3 2.3 0.7 1.2 1 0.3 1-0.3 1.4-1.1 2-1.5 2-5 5.6-7.4 6.4-7.8 6-8.2 5.6-8.5 5-9 4.7-9 4.2-10 4-10 3.6-10 3-9.6 2.5-10 2.2-9.4 1.5zM677.4 285.5l-6 0.1-6-0.2-5.4-0.4-4.6-0.8-3-0.8-2.4-1.1-1-0.8-0.4-0.5-0.2-1.6 0.6-1.4 1.2-1.6 1.9-2 2.3-2 6.1-4.4 8.2-5 8.3-4.4 8.4-3.9 9-3.5 9.6-3.3 12.1-3.5 12.3-3 12.6-2.4 11.4-1.7 11-1.1 9-0.1 3.6 0.3 2.4 0.4 1.8 0.6 1 1 0.2 1-0.2 1-0.9 1.6-1.2 1.4-4.2 4-5.7 4.6-7.3 5-7.5 4.4-7.4 4.1-8.6 4.1-7.8 3.4-7.9 3-8.3 2.7-7.4 2.2-7.6 1.8-7.4 1.3-7.6 1zM376 470.5l-2-0.2-1.7-0.3-3.3-1.6-1.6-0.4-8.4-0.1-2.8-0.5-2.8-0.8-3-1.6-1.6-1.6-0.6-1.4-0.1-1 0.3-1 1-1.6 2-1.3 2.6-1 3-0.5 3.4-0.1 3.6 0.4 2 0.5 4.4 1.8 1 0.2 1.6-0.2 2.9-1.8 1.5-0.5 2-0.1 2 0.5 1.3 0.7 1.2 1 1.2 2 0.4 1 0.1 1.4-0.1 1.6-0.3 1-1.2 2-1 1-1.4 1-2.6 1zM376 516.5l-4 0.2-4.6 0-8.6-0.7-7.9-1.6-3.8-1-4.5-1.4-14.3-6-2.3-1.2-2.1-1.4-1.7-1.4-1.4-2-0.5-2 0.3-2 0.9-1.6 1.6-1.4 2.6-1.6 2.7-0.9 3-0.8 4-0.6 11.6-1.3 8-0.1 8.2 0.7 7.9 1.6 3.8 1 4.5 1.4 3.6 1.6 3 1.5 3.1 1.9 2.5 2 1.8 2 1.1 2 0.6 2-0.1 1.6-0.7 2-1.1 1.4-1.8 1.6-2 1.1-3 1.3-3 0.9-3.2 0.7zM239.4 529.5l-1.4 0.2-1-0.3-0.8-0.4-1.2-1.7-0.8-2.3 0.1-2.6 0.7-2 0.6-1 0.8-0.8 1.6-0.6 1.4 0.2 1.6 1.1 1 1.6 0.5 2.1-0.1 2-0.5 2-0.9 1.5zM378.4 545l-6.4 0-7.6-0.8-9.3-1.8-9.9-2.4-7.8-2.6-3.7-1.4-3.1-1.6-2.4-1.4-1.2-1-0.7-1-0.2-1 0.1-0.6 0.8-0.6 2.4-0.9 4-0.5 5.6 0.1 6 0.5 9.8 1.4 8.1 1.6 5.9 1.4 5.9 2 4.4 2 3.2 2 2.1 2 0.5 1.6-0.4 1-0.5 0.4-2.4 1zM230 553.6l-2.6 0.3-1-0.3-0.8-0.6-0.6-1-0.3-1-0.2-2 0-1.6 0.3-1.4 0.6-1.6 1.6-2.2 2-1.5 1-0.4 1.4-0.1 1.6 0.4 1 0.8 0.4 0.6 0.8 2 0.4 3 0.4 0.1 2.3-1.1 1.1-0.1 0.8 0.5 0.4 0.6 0.2 1.4-0.3 1-0.5 1.1-1 1.2-1.2 0.7-0.8 0.3-1 0-0.6-0.3-1-1.3-0.4-0.2-2.6 2zM221 578.5l-1.6 0.4-1.4-0.1-1.4-0.4-1.2-0.6-1-1-0.7-1.4-0.4-1.4 0-2 0.2-1.6 0.8-2 0.9-1.4 1.2-1.5 1.6-1.2 1.4-0.7 1.6-0.4 1.4-0.1 1.6 0.4 1.4 0.9 1 1 1 1.9 1.6-0.9 1-0.3 0.5 0.3 0.1 1-0.6 1.8-1 1.2-1.8 1.6-1.2 2.4-1 1.5-1.9 1.5zM251.4 582.5l-0.4 0.3-0.6-0.1-1.4-0.8-5.2-3.5-3.9-3-1.1-1-0.9-1.4-0.1-1 0.5-1 0.8-0.6 0.9-0.2 2 0 2 0.8 2.1 1.4 1.9 2 2.1 3.6 1.3 3 0.2 1zM226.4 579l-1 0.2-0.4-0.1-0.3-0.7 0.5-1.4 1.3-1.6 2.4-2 2.4-1.4 1.7-0.6 1 0.1 0.1 0.5-0.3 1-1.8 2.6-3.4 2.4zM236 577l-2 0.4-1-0.3-0.5-0.7 0.2-0.4 0.9-0.6 1.4-0.2 1 0 0.8 0.2 0.2 0.6-0.2 0.4zM184.4 599.1l-1-0.1-1-0.5-0.4-0.6-0.6-1.5-0.2-1.4 0.2-2.1 0.6-1.1 1-0.9 0.7 0.1 0.7 0.4 0.6 0.8 0.4 1.6 0.2 1.6-0.1 2-0.5 1.3zM170 645.6l-0.6-0.2-0.2-1 0.2-2.4 1-2.6 1.4-2 0.1-0.4-0.1-0.6-0.8-0.4-2-0.6-1.6-0.8-1.4-1.2-1-1.2-1-1.8-0.8-2.4-0.2-2 0.3-2 0.7-1.9 1-1.6 1.1-1.1 1.3-0.7 1.6-0.5 1.4 0 2 0.4 2 1 0.6-0.2 1-3.4 0.8-1.6 0.3-1-0.4-3 0-1.4 0.6-1.6 1-1.4 0.7-0.6 1-0.2 1 0.5 1 1.5 0.5 2.2 0 2.6-0.3 1.4-0.8 1.4-0.4 0.5-1.6 0.8-0.2 0.3-0.8 3.3-0.9 2.3 0.2 0.4 2.3 0.7 1.4 1 1 1.3 0.2 1.6-0.3 1-0.9 1-1 0.7-1.2 0.3 5.2 0.2 0.6-0.2 0.2-0.6 0-4 0.8-4 0.8-2.4 0.6-1.5 1-1.1 0.6-0.2 0.4 0.1 0.6 0.8 0.3 2.3-0.2 3.6-0.7 3-1.4 3.8-0.8 1.2-0.8 0.6-4 0.9-4.4 0.2-1 0.5-0.5 0.8-0.2 2-0.3 0.7-1 0.8-2 0.2-1.1 4.7-0.9 2.2zM173.4 613.5l-1 0.1-0.4-0.3-0.6-0.6-0.4-1.3 0.1-1.4 0.3-1.6 1-1.6 1-0.8 1-0.2 1 0.5 0.4 0.7 0.3 1 0.1 1.4-0.5 1.6-0.7 1.3-0.7 0.7zM183.4 640.5l-0.4 0.1-0.6-0.3-0.1-0.3-0.2-1.6 0.3-1.4 0.6-1.9 0.4-0.9 1-1 0.6 0 0.5 0.8-0.1 2.5-1 2.8zM176.4 649.7l-0.2-0.7 0.2-0.6 0.2 0.6zM144 692.7l-0.6 0.1-2.4-1.3-1.6-1.2-0.9-1.3-0.4-1-0.4-2.6 0.2-1 0.7-1 2.1-1.4 0.1-0.6-0.6-2.4-0.1-1.6 0.3-2 0.4-1.4 0.6-1.3 1-1 1-0.5 1.3-0.2 0.5-0.6 1.1-2.4-0.6-2.6 0.2-2 0.5-1 0.6-0.5 0.4-0.1 0.6 0.3 0.4 0.8 0.3 1.5-0.3 2.3-0.4 0.9-0.8 0.8-0.2 0.6-0.3 2.4 0.2 1 0.8 1.6 0.4 1.4 0 3.6-0.5 2-0.6 1.2-2.3 2.2 0.6 3 0 1.6-0.4 2.4-0.5 1z"/>
<path fill="#007aff" d="M642.4 151l-3.4 0.2-2.2-0.2-0.8-0.5-0.6-0.5-0.1-1 0.6-2 1.3-2 2.3-3 3.2-3.6 4-4 4.8-4.4 10.9-9 12.3-9 13.2-8.6 11.2-6.4 11.3-5.9 11.6-5.1 11-4.3 12-3.7 5-1.2 4.4-0.9 4-0.4 2.6 0 2 0.4 1 0.9 0.2 1.2-0.4 1.4-1.1 2-1.4 2-5.2 6-6.6 6.6-7.5 6.4-8.4 6.6-8.4 6-9.2 5.9-9 5.2-10 5.3-10 4.8-9.8 4.2-10.2 4-9.4 3-8.2 2.3zM649.4 224.5l-6.4 0.2-5-0.3-1.6-0.4-1.1-0.6-0.8-1-0.1-1 0.5-1.4 1-1.6 3.3-3.4 5.2-4.6 6.6-5 7.4-5 8-5 8.8-5 9.2-4.8 13-6.1 12.3-5.1 12.3-4.2 12-3.3 6.1-1.5 6.3-1.1 5.6-0.9 5.4-0.4 4.6-0.1 3 0.2 2.4 0.8 1.2 1.1 0.2 1-0.3 1.4-1.1 2-1.4 2-4.7 5-6.1 5.6-7.1 5.4-8.1 5.6-8.2 5-8.8 4.7-8.6 4-9.4 3.9-9.6 3.5-9.4 3-10 2.8-9.4 2.1-8.6 1.5zM676.4 285l-5.4 0-5.6-0.2-5-0.5-4-0.7-3.4-1.1-1.7-1.1-0.9-1-0.1-1.4 0.6-1.6 1.1-1.4 1.9-2 2.3-2 6.2-4.6 7.4-4.4 7.7-4 8.9-4.1 9-3.6 9.6-3.1 12.4-3.6 12-2.8 12-2.4 11-1.5 10.6-0.9 8.4-0.1 3 0.3 2.6 0.6 1.3 0.6 0.8 1 0.1 1-0.3 1-0.9 1.6-1.2 1.4-4.3 4-5.8 4.6-6.7 4.4-7.6 4.6-7.6 4-8.5 4-7.3 3.1-8 2.9-8.6 2.8-7 2-7.4 1.6-7 1.2-7.6 0.9zM378.4 469.5l-2 0.3-2-0.2-1.4-0.5-2.6-1.4-1.4-0.4-9 0.3-2.6-0.3-2.4-0.6-3.1-1.3-1.9-1.4-1-1.6-0.2-1 0.1-1 0.8-1.4 2-1.6 2.5-1 2.8-0.5 3.4-0.1 3.6 0.5 2.3 0.7 4.1 1.9 1.6 0.3 1.4-0.4 2.6-1.5 1.4-0.6 1.6-0.1 2 0.3 1.7 1.1 1.3 1.4 0.7 2 0.1 2-0.7 2-1.1 1.6-2 1.4zM373.4 516.5l-8-0.1-8.4-0.9-7.4-1.5-7.7-2.6-13-5.4-2-1-2.4-1.6-1.7-1.4-1.4-2-0.6-2 0.4-2 0.5-1 0.9-1 2-1.6 3.3-1.4 3.5-1 6.7-1 8.3-1 5.6-0.2 5.4 0.2 5 0.5 5.6 0.9 6.2 1.6 4.6 1.4 4.7 2 3.7 2 2.8 2 2.5 2.6 1.1 1.4 0.7 1.6 0.3 1.4 0 1-0.3 1.6-0.5 1-1.1 1.4-1.2 1-3.4 2-4.1 1.5-5.2 1.1zM239 529l-1.6-0.1-1.3-0.9-0.9-1.6-0.5-2 0.1-2 0.6-1.7 1-1.3 1.6-0.7 1.4 0.2 1 0.7 1 1.5 0.6 1.9-0.1 2-0.5 1.6-1 1.5zM378 544.5l-6 0.2-7.3-0.7-8-1.6-9.9-2.4-7.8-2.6-5.9-2.4-2.6-1.6-1.3-1-0.8-1-0.3-1 0.2-0.4 0.7-0.7 2.2-0.9 3.8-0.4 4.4 0.1 6 0.5 10.3 1.4 5.7 1 6.4 1.4 4.7 1.6 4.7 2 3.4 2 2.2 2 0.7 1.4-0.2 1-0.5 0.6-2 1zM229 553.5l-1 0-1-0.2-1-0.7-0.6-0.6-0.4-1.3-0.2-1.3 0.1-3 1.1-2.5 1.5-1.9 1.5-1 1-0.4 1-0.2 1 0.2 1.4 0.7 1 1.3 0.6 1.4 0.2 3.4 0.2 0.5 2-1.3 1.6-0.4 0.7 0.2 0.5 0.6 0.3 1-0.1 1-0.4 1-0.7 1-0.9 0.8-1 0.5-1 0.2-1-0.5-1-1.9-0.4 0.2-2.6 2.3-1 0.5zM220.4 578.5l-2 0.2-2-0.6-1.4-1.1-1-1.6-0.5-2 0.1-2.4 0.8-2.5 1.4-2.1 1.6-1.4 1.6-1 1.4-0.5 1.6-0.2 1.4 0.2 1.8 0.9 0.9 1 0.9 1.7 0.4 0.5 1.7-1.2 0.9-0.1 0.2 0.1 0.2 0.4 0.1 0.6-0.5 1.6-1 1.3-1.7 1.1-1.3 2.7-1 1.3-2 1.9zM250 581.4l-1.6-0.4-2-1.1-3.5-2.5-2.5-2-1.4-1.4-0.5-1-0.1-1 0.3-0.6 0.5-0.4 0.8-0.3 2-0.1 2 0.7 2 1.4 2 2.2 1.4 2.6 0.7 1.5 0.3 1.4 0 0.6zM227 578.6l-1 0.2-0.6 0-0.3-0.4 0-0.4 0.4-1 1.3-1.6 1.7-1.4 2.3-1.6 1.6-0.6 0.6-0.1 0.6 0.3-0.1 1-1.8 2.4-2.6 2zM235 577l-1.4 0-0.4-0.6 0.3-0.4 1.3-0.6 0.7 0 0.9 0.6-0.2 0.4zM184.4 598.6l-1 0-1-0.5-0.4-0.7-0.5-1.4-0.1-1.6 0.3-1.4 0.5-1 0.8-0.7 1 0.1 0.4 0.4 0.6 0.9 0.3 1.3 0.1 1.4-0.1 1.6-0.3 1zM175 636l-0.6 0.3-1 0.1-4-1.2-2-0.9-1.4-1.3-1.5-2-0.8-2-0.4-2 0.1-2.6 0.6-1.7 1-1.7 1-1.1 1.5-0.9 1.9-0.5 1.6 0 1.6 0.5 1.8 0.9 0.6 0 1-3.5 1.2-2.4-0.3-4 0.4-2 1.1-2 1-0.5 0.6-0.1 1 0.5 1 1.6 0.4 2 0 2.5-0.4 1.4-0.6 1.1-0.9 0.9-1.1 0.4-0.4 0.6-0.6 2.9-1.1 2.7 0.1 0.5 2.6 0.7 1.4 1 0.9 1.2 0.2 1.6-0.3 1-0.8 0.8-1.4 0.8-1.6 0.3 0 0.2 0.6 0.2 3-0.1 2.4 0.2 0.6-0.1 0.3-0.3 0-4 0.7-4.2 0.4-1.6 1-2.3 1-1.1 0.6-0.2 0.6 0.4 0.5 1.4 0.1 2-0.2 2.7-0.6 2.4-1 3-1.6 2.5-0.8 0.5-4 0.9-4.6 0.2-0.6 0.4-0.4 0.4-1 2.1zM173.4 613.2l-1 0-0.7-0.8-0.4-1 0-1.4 0.4-1.6 0.7-1.3 1-0.8 1-0.2 0.6 0.2 0.5 0.7 0.3 1 0.1 1.4-0.5 1.5-0.4 1-0.6 0.6zM183.4 640.2l-0.4 0.1-0.6-0.4-0.1-1.5 0.1-1.5 1-2.5 1-0.9 0.6 0 0.4 1.4-0.1 1.5-0.3 1.5-0.6 1.1zM170.4 645l-0.4 0.3-0.6-0.3-0.1-1 0.1-1.7 1-2.7 1-1.4 0.6-0.2 0.3 0.4 0 0.6-0.3 3-0.6 1.5zM147.4 667.5l-0.4 0.1-0.6-0.7-0.4-1.9 0.1-1 0.3-1.1 0.6-0.5 0.4-0.1 0.6 0.3 0.3 0.8 0.2 1.6-0.3 1.4-0.2 0.7zM143.4 692.1l-1-0.2-1.4-0.7-1.6-1.1-1.1-2.1-0.4-1.6 0-1 0.3-1 0.7-1 1.8-1 0.4-0.4-0.7-2.8-0.1-1.8 0.3-2 0.7-2 0.7-0.9 1-0.8 3-0.7 1.7 3.4 0.3 1.6-0.1 2.4-0.4 2-0.5 1.4-1 1.2-1.4 1-0.2 0.4 0.6 2.6 0.1 2-0.1 1.1-0.6 1.3-0.4 0.5z"/>
<path fill="#0099ff" d="M643 150l-3 0-1.6-0.5-0.7-0.5-0.2-0.6-0.1-1 0.8-2 1.6-2.4 2.5-3 3.2-3.6 4.2-4 5-4.4 10.5-8.6 11.8-8.4 12-7.7 11-6.3 10.9-5.6 11.1-4.9 10.6-4.1 11.2-3.4 4.6-1.2 4.6-0.8 3.4-0.4 2.6 0 2 0.4 0.6 0.4 0.4 0.6 0.2 1-0.3 1.4-1.1 2-1.3 2-4.7 5.6-6.7 6.4-7.5 6.6-7.8 6-8.5 6-9.4 6-9.5 5.4-10 5.2-10 4.8-9.4 4-9.6 3.6-9.2 3-7.8 2zM652.4 223.5l-7 0.3-5.2-0.4-1.8-0.4-0.9-0.6-0.7-1-0.1-1 0.3-1 0.9-1.4 3.1-3.6 4.5-4 6.6-5 7.3-5 7.3-4.4 8.7-5 8.6-4.6 13-6.1 12.4-5.2 12-4.2 12-3.3 6.6-1.5 6-1.1 5.4-0.8 5-0.4 4 0 3 0.3 2.3 0.9 0.9 1 0.2 1-0.3 1.4-0.8 1.6-1.4 2-4.5 5-6.2 5.4-7.2 5.6-7.4 5-8 4.8-8 4.3-8 3.8-9 3.8-9 3.3-9.6 3.1-9.4 2.7-9 2.1-8.6 1.5zM683.4 284l-6.4 0.4-6 0-6-0.3-4.9-0.7-4.1-1-2.2-1-0.8-0.6-0.7-0.8-0.2-1.6 0.6-1.4 1.1-1.6 3.7-3.4 5.3-4 7.3-4.6 7.6-4 8.7-4 8.8-3.4 9.2-3.1 11.9-3.5 11.7-2.8 11.4-2.3 11-1.6 10-0.9 8-0.1 3.4 0.3 2.4 0.4 1.3 0.6 1.2 1 0.3 1-0.2 1-1.5 2.4-2.9 3-4.8 4-5.7 4-7.2 4.6-7.2 4-7.1 3.5-7.4 3.4-7.6 3-7.4 2.6-7.6 2.4-6.4 1.7-7 1.5-7 1.1zM379 468.5l-2 0.4-1.6-0.1-1.4-0.6-2.6-1.9-1-0.2-5.5 0.9-3.5 0.2-3-0.1-2.9-0.7-2.6-1-2.1-1.4-1-1.6-0.2-1 0.1-1 0.9-1.4 1.8-1.4 2.6-0.9 3-0.5 3.4 0.1 3.5 0.7 2.6 1 3.5 2 1 0.4 1.4-0.3 2.6-1.7 1.4-0.6 1.6-0.2 1.4 0.3 1.6 0.8 1 1.1 0.6 1.6 0.1 1.6-0.3 1.4-1 1.6-1.6 1.4zM377 516l-4 0.3-4 0.1-8.6-0.6-8-1.4-3.9-1-4.7-1.4-14.1-6-2.7-1.4-1.8-1.2-1.8-1.4-1.5-2-0.5-2 0.2-1.6 0.7-1.4 1.5-1.6 2.5-1.4 2.7-1 3.4-0.9 3.9-0.7 10.7-1.2 8-0.1 8 0.7 8.4 1.6 6.8 2 3.7 1.6 3.1 1.4 2.5 1.6 2.6 2 2 2 1.3 2 0.7 2 0.1 1.4-0.4 1.6-0.8 1.5-1.4 1.5-2.2 1.4-2.4 1.2-3 1-3.5 0.8zM239 528l-1.6-0.1-1-0.7-0.7-1.2-0.3-1.6 0-1.7 0.6-1.4 1-1.2 1-0.5 1 0.1 1 0.6 0.8 1.1 0.5 1.6 0 1.4-0.3 1.6-1 1.4zM377.4 544l-5 0.3-6.4-0.5-7.5-1.4-8-2-8.3-2.4-6.3-2.6-2.8-1.4-1.3-1-1-1-0.3-1 0.2-0.6 0.5-0.4 1-0.6 1.2-0.3 3-0.3 4 0 8 0.6 8 1 5.8 1 4.3 1 4.9 1.6 3.8 1.4 3.7 2 2.4 2 0.8 1.6-0.1 1-0.4 0.4-1.7 1zM230 553l-1.6 0.2-1-0.2-1-0.5-0.4-0.5-0.6-0.9-0.3-1.1-0.1-2.6 0.3-1.4 0.6-1.6 1.5-2 1-0.8 1-0.5 1-0.3 1 0 1.7 0.6 1.2 1.6 0.5 2-0.1 2.4-0.6 2-1.1 1.5-1.6 1.3zM237.4 552l-1 0.1-0.9-0.7-0.3-1 0-1 0.5-1 1-1 1.3-0.7 1-0.1 0.4 0.2 0.6 0.5 0.1 0.7-0.1 1-0.4 1-0.6 1zM219 578.5l-1.6-0.2-1.6-0.9-1.3-1.4-0.6-1.6-0.3-2 0.3-2 0.8-2 1.3-2 1.4-1.3 1.6-0.9 1.4-0.5 1.6-0.2 1.4 0.3 1.6 0.8 1.2 1.4 0.8 1.7 0.4 0.2 1.6-1.2 0.4-0.2 0.6 0 0.2 0.5 0.1 0.4-0.5 1.6-0.8 1.1-2 1.3-1.2 2.6-1.4 1.8-1.3 1.2-1.1 0.7-1.6 0.5zM249 580.3l-1.4-0.3-1.9-1-2.3-1.6-2.4-2-1.7-2-0.2-1 0.3-0.7 0.6-0.4 1-0.3 1.4 0.1 2 0.9 1.4 1 1.6 1.8 1.6 2.6 0.5 2-0.1 0.6zM227.4 578.1l-1 0.3-0.4 0-0.4-0.4 0.3-1 1.2-1.6 1.7-1.4 1.6-1.1 1.6-0.7 1 0.1 0.1 0.7-0.2 0.4-1.5 1.9-1.9 1.7zM184.4 598l-0.4 0.2-1-0.2-0.6-0.6-0.5-1-0.3-1.4 0.2-1.6 0.6-1.3 0.6-0.4 0.4 0 0.6 0.2 0.4 0.5 0.6 1.1 0.2 2.5-0.2 1.1zM173.4 635.5l-2.4-0.2-2-0.5-1.6-0.8-1.4-1.4-1.2-1.6-0.9-2-0.4-2.6 0.2-2 0.7-2 0.9-1.4 1.1-1.1 1.6-0.8 1.4-0.4 2 0.2 3.6 1.5 0.3-0.4 0.7-3.1 1.4-2.9-0.3-3.6 0.3-2.4 1-1.7 0.6-0.4 1-0.2 1 0.5 1 1.6 0.4 2.2-0.1 2-0.3 1.2-0.7 1.2-0.9 0.8-1 0.4-0.4 0.4-0.6 2.7-0.4 1.4-1 1.9 0 0.4 0.4 0.3 2.6 0.6 1 0.7 1.2 1.4 0.2 1.6-0.3 1-0.7 0.7-1 0.6-2.4 0.6-0.1 0.5 0.5 0.3 4-0.4 1.4 0.1 1.2 0.4 0.4-0.1 0.3-0.7-0.3-2 0-2 0.6-3.6 0.4-1.8 1-2.3 1-1.2 0.6-0.1 0.5 0.4 0.5 2 0 2.7-0.6 2.9-0.4 1.8-1 2.3-1 1.3-0.6 0.4-1.4 0.4-0.3 0.2-1.2 0.6-1.5 0.3-1.6 0.1-3-0.1-1 0.7-2 2.2zM174 612.5l-1 0.3-0.9-0.4-0.5-1-0.1-1 0.3-1.4 0.6-1.4 0.7-0.6 0.9-0.4 0.4 0 0.6 0.4 0.4 0.7 0.2 1.3-0.2 1.1-0.4 1.2zM183 640l-0.4-0.6-0.2-1 0.6-2.6 1-1.7 0.4-0.3 0.5 0.2 0.4 1.4-0.3 2.1-1 2-0.6 0.4zM170 645l-0.5-0.6-0.1-1 0.6-2.4 1-1.9 0.4-0.4 0.6 0 0.1 0.7-0.1 1.6-0.5 2-0.5 1.1-0.6 0.6zM147.4 666.7l-0.6-0.3-0.4-0.7 0-0.7 0-1 0.3-0.6 0.3-0.3 0.4-0.1 0.6 0.5 0.1 1.5-0.1 1.1zM143.4 691.5l-1 0-1.4-0.5-1.6-1.3-1-1.8-0.2-1.5 0-1 0.2-0.8 0.6-0.8 0.4-0.4 2-1 0-0.4-0.7-2.6-0.2-2 0.3-2 0.6-1.8 0.6-0.7 1-0.8 1-0.4 1.4 0 1 0.8 1 1.6 0.5 1.9-0.1 2-0.4 2-0.9 2-0.9 1-1.6 1 0 0.4 0.8 2.6 0.2 1.4-0.6 2.2-0.4 0.7z"/>
<path fill="#00b8ff" d="M647.4 148.5l-3.4 0.3-2.6-0.2-1.3-0.6-0.5-1 0.2-1.6 1-2 1.8-2.4 2.5-3 3.9-4 4.3-4 10.2-8.6 11.5-8.4 12.2-8 11.1-6.6 10.7-5.5 11-5 11-4.3 11-3.5 4.5-1.1 4.5-0.9 3.4-0.4 2.6 0 2 0.4 1 0.9 0.2 1-0.2 1.4-0.8 1.6-1.2 2-4.2 5-6 6-6.9 6-7.6 6-8.3 5.9-8.6 5.5-8.5 5-9.5 5.2-9 4.4-9.4 4.2-9.5 3.8-8.5 2.9-7.6 2.1zM655 222.5l-7.6 0.4-5-0.4-1.4-0.4-1.3-0.7-0.6-1-0.1-1 0.4-1 0.9-1.4 2.6-3 4.5-4 5.8-4.6 6.6-4.4 8-5 7.8-4.6 8.5-4.4 12.9-6.1 12-5.1 12-4.2 11.4-3.2 6.3-1.4 5.7-1.1 5.6-0.8 5-0.4 3.4 0 3 0.3 2 0.7 1 0.7 0.3 0.6 0.1 1-0.3 1.4-0.8 1.6-1.4 2-4.1 4.4-5.6 5-6.5 5-7.3 5-7.8 4.8-8 4.3-8 3.8-8.6 3.6-9 3.4-9 3-9 2.5-8.4 2.1-8.4 1.5zM683 283.5l-6 0.3-5.6 0-5.4-0.3-4.6-0.6-3.5-0.9-2.2-1-0.7-0.6-0.8-1-0.2-1.4 0.4-1 0.9-1.6 1.3-1.4 2.1-2 5.3-4 7.3-4.6 7.6-4 8.5-3.8 8.6-3.4 9-3 11.4-3.3 11.6-2.7 11.2-2.2 10.8-1.6 10-0.9 7.4 0 3 0.4 2 0.5 1.2 0.6 0.9 1 0.2 1-0.2 1-1.6 2.4-2.9 3-5 4-5.7 4-6.6 4-7.3 4-7.2 3.6-6.8 3-7.4 2.9-7.6 2.6-7 2.2-7 1.7-6.4 1.4-6.6 1zM364.4 466.5l-3 0.2-2.4-0.1-2.6-0.4-2.4-0.9-1.6-0.9-1.5-1.4-0.5-1.6 0.4-1.4 0.8-1 1.5-1 1.9-0.7 2.4-0.5 2.6-0.1 2.4 0.2 2.5 0.5 1.5 0.7 1.7 0.9 1.8 1.4 1 1.6-0.1 1-1.1 1.4-1.3 0.9-1.6 0.7zM377.4 467.5l-1.4-0.1-0.9-0.4-0.7-0.7-0.3-0.9 0-0.4 0.4-2 0.7-1.6 1.2-1.1 1.6-0.7 1.4 0 1 0.4 1 1 0.5 1.4-0.2 1-0.8 1.6-1.3 1.4-1.2 0.8zM374.4 516l-7.4 0.1-8-0.7-7.7-1.4-3.8-1-4.4-1.6-12.7-5.4-4.6-2.6-1.8-1.5-1.5-1.9-0.5-2 0.2-1.6 0.8-1.4 1.6-1.6 1.8-1.1 2.6-1 3.2-0.9 3.2-0.6 6.4-0.8 5.6-0.6 7.6-0.1 8 0.7 7.7 1.4 3.8 1 4.4 1.6 3.5 1.4 2.9 1.6 2.4 1.4 2.5 2 1.8 2 1.2 2 0.5 2-0.1 1.6-0.8 2-1.3 1.4-1.9 1.6-1.8 1-2.5 1-3.6 1-3.3 0.5zM239 526.3l-0.6 0.1-1-0.3-0.5-0.7-0.3-1-0.1-1 0.3-1 0.6-0.8 0.6-0.3 1 0.1 0.6 0.6 0.4 1 0.1 1-0.1 1-0.6 0.9zM377 543.5l-4.6 0.3-5.9-0.4-6.1-1-6.3-1.4-8.3-2.6-6.7-2.4-2.9-1.6-1.5-1-1-1-0.2-1 0.2-0.4 0.7-0.6 1.6-0.5 3-0.3 4 0 7 0.6 7.2 0.8 5.7 1 4.2 1 4.6 1.4 3.5 1.6 2.7 1.4 1.8 1.6 1 1.4 0.1 0.6-0.4 0.9-0.6 0.5-0.8 0.5zM230 552.6l-1 0.2-1-0.1-0.7-0.3-0.9-0.5-0.6-0.9-0.3-1-0.2-2.6 0.7-2.4 1.4-2.2 1-0.8 1-0.6 1-0.2 1 0 1.6 0.6 1 1.2 0.5 2 0 2-0.6 2-0.9 1.4-1.6 1.5zM237.4 551.5l-1 0-0.4-0.4-0.3-0.7 0.1-1 0.5-1 1-1 1.1-0.3 0.6 0.1 0.4 0.2 0.2 0.6-0.1 1.4-1.1 1.5zM220.4 578l-2 0.2-2-0.6-1.3-1.2-0.8-1.4-0.4-2 0.1-2 0.7-2 1.3-2.1 1.4-1.5 1.6-0.9 1.4-0.6 1.6-0.1 1.4 0.2 1.6 1 1 1 1 2.4 0.4-0.1 1.6-1.4 0.4-0.1 0.6 0.1 0 1.1-0.6 1.2-1 1-1.4 0.8-1.4 3-1.1 1.4-2.1 1.7zM248 579l-1-0.1-2-0.9-3.3-2.6-0.9-1-0.6-1 0-1 0.2-0.3 1-0.4 1.6 0.1 1.3 0.6 1.4 1 1.3 1.5 1 1.7 0.4 1.8zM228 577.5l-1 0.3-0.6-0.1-0.1-0.3 0.1-0.5 1.1-1.5 1.8-1.4 1.7-1 1-0.3 0.4 0.3-0.3 1-1.2 1.4-1.9 1.6zM184 597.6l-0.9-0.2-0.6-0.4-0.5-1.7 0-1.3 0.4-1 0.6-0.7 0.4-0.1 0.6 0.2 0.4 0.7 0.5 1.9-0.1 1-0.2 1zM173 635l-2 0-2-0.5-1.6-0.9-1.4-1.4-1.2-1.8-0.7-2-0.3-2 0.2-2 0.4-1.5 1-1.6 1.5-1.3 1.5-0.7 1.6-0.3 1.4 0.2 1.6 0.5 2 1.2 0.4-0.2 0.6-3.3 0.4-1.2 1.2-1.8-0.4-4 0.2-2 1-1.9 0.9-0.5 0.7-0.1 1 0.5 1 1.9 0.2 2.1-0.2 2-0.5 1.6-0.5 0.6-0.6 0.4-1.4 0.4-0.4 0.6-0.2 1.7-0.4 1.9-1.5 2.4 0.1 0.4 0.4 0.3 2.4 0.6 1.6 0.8 1 1.3 0.3 1.6-0.4 1-0.9 0.9-1 0.4-2 0.4-0.4 0.3-0.2 0.4 0.6 0.6 4-0.5 2 0.5-0.1 0.4-1.5 0.6-2 0.2-2.4-0.2-1 0.2-2.6 2.2zM173.4 612.2l-0.4 0-0.6-0.2-0.4-0.9-0.1-1.1 0.5-1.7 0.8-0.9 0.8-0.3 0.4 0.1 0.6 0.5 0.2 0.7 0 1-0.2 1.1-0.6 0.9zM186.4 630l-0.4-0.5-0.5-2.1 0.1-2 0.4-2.4 0.4-1.9 1-2.4 1-1.1 0.6-0.1 0.4 0.5 0.4 2 0 2-0.4 2.3-0.4 2-1 2.3-1 1.2zM183.4 639.5l-0.4 0-0.3-0.5 0.1-2 0.6-1.8 0.6-0.7 0.4-0.3 0.6 0.4 0 0.4 0 1.8-0.6 1.5zM170 644.5l-0.4-1.1 0.4-2 1-1.9 0.4-0.4 0.4 0.3 0.2 0.6-0.6 2.7-1 1.7zM143.4 691l-1 0.2-0.8-0.2-1.6-1.1-1.1-1.5-0.4-1.4-0.1-1 0.2-1 0.7-1 0.7-0.6 1.8-0.4 0.3-0.6-1-2.4-0.3-1.6 0.1-2.4 0.5-1.8 0.6-0.8 1-1 1-0.3 1 0 1 0.3 1 1 0.6 1.6 0.1 2-0.3 2.4-1 2.2-1 1.1-2 0.7 0 0.6 1.1 2.4 0.2 1.6-0.3 1.7-0.4 0.9z"/>
<path fill="#00d6ff" d="M648 147.5l-2.6 0.1-2-0.2-0.9-0.4-0.5-0.6-0.3-1 0.3-1.4 1.4-2.6 1.9-2.4 2.7-3 3.5-3.6 4.4-4 9.7-8 11-8 11.5-7.4 10.3-6.1 10.6-5.5 10.9-5 10.2-4 10.3-3.2 8.6-2 3.4-0.4 2.6 0 2 0.4 1 0.8 0.3 1-0.3 1.4-0.6 1.6-1.3 2-4.2 5-5.5 5.4-6.9 6-7.7 6-7.8 5.6-8.6 5.5-8.4 5-9.6 5-9 4.4-9.1 4.1-9 3.4-8.9 3-7.4 2zM651.4 222l-4-0.1-3-0.4-1.7-0.5-1.1-1-0.2-0.6 0-1 0.6-1.4 1.4-2 1.9-2 3.3-3 4.4-3.6 10.2-7 12.6-7.4 13.2-6.9 12.4-5.7 10.6-4.1 11.4-3.9 11-2.9 11-2.1 5-0.6 4-0.3 3 0.1 2.6 0.4 2 0.9 0.7 1.1 0.2 1-0.4 1.4-0.8 1.6-1.4 2-4.2 4.4-5.7 5-6.7 5-7.5 5-7.8 4.6-8.5 4.4-7.9 3.7-9.6 3.8-9 3.2-9.1 2.9-9.3 2.4-8.6 1.8-8 1.2zM682 283l-5.6 0.2-5.4-0.1-4.6-0.3-4-0.6-2.7-0.8-2.3-1-1-0.9-0.3-0.5-0.2-1.6 0.6-1.4 1-1.6 3.7-3.4 5.5-4 6.7-4 7.8-4 7.8-3.5 8.4-3.3 8.6-2.7 11.4-3.3 11.6-2.7 10.6-2.1 10.4-1.4 9-0.7 7 0.1 2.4 0.3 2 0.6 1.2 0.7 0.8 1 0.1 1-0.3 1-1.7 2.4-3.6 3.6-4.5 3.4-5.9 4-5.8 3.6-6.7 3.6-7.6 3.6-7 3-7.1 2.8-7.3 2.5-7 2-6.6 1.6-6.4 1.3-6.6 1zM363.4 466l-2.4 0.2-2-0.1-2.6-0.5-1.8-0.6-1.6-1-1-1-0.5-1.6 0.2-1 0.6-1 1.4-1 1.7-0.6 2-0.5 2-0.1 2.6 0.2 2 0.4 1.8 0.6 1.7 1 1 1 0.7 1.6-0.2 1-0.6 1-1.3 1-1.7 0.6zM377 515.5l-7.6 0.4-8.4-0.5-4-0.5-4.8-0.9-7.1-2-5.1-2-8.9-4-4.6-2.6-1.9-1.4-1.5-2-0.5-2 0.2-1.6 0.9-1.4 1.6-1.6 1.8-1 2.5-1 2.8-0.7 4.1-0.7 10.5-1.3 7.4-0.2 7.6 0.6 7.8 1.3 7.1 2 3.8 1.6 3.2 1.4 2.6 1.6 2.7 2 1.8 1.7 1.2 1.7 0.8 1.7 0.2 1.9-0.2 1.5-1 1.8-1.6 1.6-1.5 1.1-1.9 1-3 1.1-3.5 0.9zM376 543l-4.6 0.3-5.4-0.3-5.9-1-5.8-1.6-7.5-2.4-6-2.6-1.7-1-1.2-1-0.6-1 0.1-0.3 1-0.8 2.6-0.5 3.4-0.1 5.6 0.1 9 0.9 4.4 0.7 4 1 3.1 1 3.6 1.6 2.6 1.4 1.8 1.6 0.8 1.4-0.3 1-1.3 1zM230.4 552l-1 0.3-1 0-1.4-0.6-1-1.5-0.4-2.2 0.4-2 0.4-1.2 0.9-1.4 1.7-1.3 1-0.4 1-0.1 1.4 0.4 1 0.9 0.7 1.5 0.1 1.6-0.2 1.8-0.8 1.6-1.2 1.6zM238 550.5l-1 0.1-0.5-0.6 0.1-0.6 0.4-0.7 0.4-0.5 0.6-0.2 0.4 0 0.5 0.4 0 0.6-0.4 1zM219 578l-1.6-0.3-1.4-0.8-1-1.1-0.8-1.8-0.1-2 0.4-2 0.9-2 1.2-1.6 1.4-1.1 1.4-0.8 1.6-0.4 1-0.1 1.7 0.4 1.4 1 0.9 1.2 1 2.6 1.4-1.6 1-0.4 0.3 0.2 0.1 0.6-0.4 0.9-1 1.1-1.4 0.3-1.6 3.4-1.4 2-1 0.8-1.6 0.9-1.4 0.5zM246.4 577.2l-1.3-0.2-2.1-1.6-1.2-1.4 0-0.6 0.2-0.3 0.4-0.2 0.8 0.1 1.8 1 1 1 0.6 1 0.1 1zM228.4 576.6l-0.4 0.2-0.5-0.4 0.7-1 2-1.4 0.8-0.2 0.2 0.2-0.2 0.4-0.8 1zM184 596.6l-0.6 0-0.4-0.3-0.5-1.3 0.4-1.6 0.5-0.2 0.6 0.3 0.4 1.5-0.1 1zM179.4 615l-1 0.1-0.4-0.7-0.6-2.4-0.1-2 0.3-1.6 0.7-1.4 0.7-0.6 1-0.3 1 0.6 0.5 0.7 0.5 1.6 0.1 2-0.2 1.4-0.7 1.6-0.8 0.7zM173.4 611.2l-0.6-0.2-0.2-1 0.4-1.2 0.4-0.5 0.6-0.1 0.4 0.4 0.1 1.4-0.5 0.9zM177 620.5l-0.6 0.2-0.3-0.7 0.1-2 0.2-1.1 0.6-0.9 0.4-0.4 0.6-0.2 0.2 1.6-0.2 1.4-0.6 1.5zM187 629.3l-0.6 0-0.5-0.9-0.2-2 0.3-2.5 0.4-2.2 1-2.5 1-1.1 0.6 0 0.4 0.8 0.2 1.1-0.2 3.5-1 3.6-1 1.8zM173 634.5l-2.6 0.1-1.4-0.5-1-0.5-2-1.9-0.9-1.3-0.6-1.4-0.3-1.6-0.1-1.4 0.2-1.6 0.5-1.4 1.4-2 1.2-1 1-0.4 2-0.2 2.3 0.6 2.7 1.6 1.6 1.4 2.4 0.4 1.2 0.6 1 1 0.5 1-0.1 1.4-0.7 1-1.3 0.7-2 0.3-0.6 0.2-0.3 0.8-0.1 1-0.4 0.6-2.2 1.9zM182.4 631.5l-2 0.3-1.2-0.4 1.2-0.4 1.6-0.1 0.6 0.1 0.2 0.4zM183.4 639l-0.4-0.4 0-1.4 0.4-1.5 0.6-0.7 0.4-0.1 0.4 1.1-0.3 1.4-0.5 1.2zM170.4 643.9l-0.4-0.1 0-1.6 0.4-1.4 0.6-0.8 0.4-0.2 0.2 0.6-0.2 1.7-0.4 1.2zM145 682.5l-1.6 0.2-1-0.6-1-1.8-0.4-2.3 0.2-2 0.8-2.1 1-1 1.4-0.5 1 0.1 1 0.5 0.9 1.4 0.3 1.6-0.6 4-1 1.8zM143.4 690.5l-1 0.3-1.2-0.4-1.2-0.9-0.8-1.1-0.4-1-0.1-1.4 0.3-1 1-1.1 1.4-0.4 1 0.3 0.6 0.4 0.8 1.2 0.5 1.6 0.1 1.4-0.4 1.6z"/>
<path fill="#0cf5ea" d="M652 146l-3 0.3-2.6 0-1.4-0.4-0.7-0.5-0.3-0.4-0.1-1.6 0.6-1.4 1.6-2.6 2.1-2.4 3.2-3.6 3.7-3.4 9.4-8 10.8-8 11.7-7.8 10.6-6.2 10.4-5.5 10.4-4.9 10.5-4.2 10.1-3.2 5-1.2 3.4-0.7 3-0.4 2.9 0.1 1.7 0.4 1 0.7 0.3 0.9-0.2 1.4-1.6 3-3.6 4.6-5.4 5.4-6.2 5.6-7 5.4-7.6 5.6-8.3 5.3-8 4.8-8.9 4.9-8.5 4.2-8.6 3.8-8.4 3.5-8.4 2.9-7.2 2.2zM654.4 221l-5 0-3.4-0.6-1.1-0.4-1-1-0.2-1 0.2-1 1.5-2.6 2.8-3 4.7-4 5.4-4 6-4 7.3-4.4 8.1-4.6 7.8-4 11.9-5.5 10.9-4.5 11.1-3.8 10.6-2.9 10.4-2.2 4.6-0.6 4.4-0.4 3.6 0 2.4 0.3 2 0.6 1.1 1 0.4 1-0.3 1.6-0.6 1.4-1 1.6-3.5 4-5.6 5-6.5 5-6.6 4.4-7.8 4.7-8.2 4.3-7.8 3.7-9 3.7-8.7 3.2-8.9 2.8-8.4 2.3-8.6 1.9-8 1.3zM680.4 282.5l-5 0.1-5-0.2-4.4-0.4-3-0.7-2.6-0.9-1.6-1-0.5-0.4-0.5-1 0.1-1.6 0.5-1 1-1.4 3.7-3.6 4.9-3.4 6.6-4 6.8-3.6 8-3.5 8-3.1 8.7-2.8 10.9-3.1 10.4-2.5 10-2 10-1.5 8.6-0.7 7 0 2.6 0.2 2.1 0.6 1.3 0.5 1 0.9 0.2 1-0.1 1-0.5 1-1.1 1.6-2.9 3-4.4 3.4-5.1 3.6-6.6 4-7.5 4-7.5 3.4-7.1 3-7 2.7-7.4 2.5-6.6 1.8-6.4 1.5-6.6 1.2-6.4 0.9zM362 465.5l-3.6-0.2-1.6-0.3-1.8-0.8-1.1-0.8-0.8-1-0.3-1 0.3-1 0.8-1 1.1-0.6 1.4-0.5 2-0.4 2 0 2 0.3 1.6 0.4 1.8 0.8 1.5 1.6 0.3 1-0.2 1-0.8 1-1.2 0.6-1.4 0.5zM375 515.5l-8 0.2-8-0.7-8-1.6-6.6-2-4.9-2-8.7-4-4.3-2.4-1.7-1.6-1-1.4-0.4-1-0.2-1 0.3-1.6 0.9-1.4 1.6-1.4 2-1.2 2.4-0.8 3-0.8 4.9-0.8 9.7-1.2 7.4-0.1 7.9 0.7 7.7 1.6 6.6 2 3.6 1.4 3 1.6 2.5 1.4 2.5 2 1.8 1.9 1 1.7 0.6 2 0 1.4-0.6 2-1 1.4-1.6 1.3-2.1 1.3-2.4 1-3.4 1zM374.4 542.5l-4 0.3-4.4-0.3-5-0.9-4.7-1.2-5.8-2-4.3-2-2.3-1.4-0.8-1-0.1-0.6 0.3-0.4 0.8-0.6 2-0.4 2.9-0.3 3.4-0.1 4 0.2 4 0.6 7.1 1.6 3 1 3.3 1.4 1.7 1 1.7 1.6 0.5 1-0.2 1-0.4 0.4-0.8 0.6zM230.4 551.5l-1.4 0.3-1.6-0.4-0.4-0.5-0.6-0.9-0.4-2 0.4-2.3 1-1.8 1-0.9 0.8-0.6 1.8-0.4 1 0.3 1 0.8 0.7 1.3 0.2 1.6-0.4 2-0.5 1.2-1 1.3zM220.4 577.5l-1.4 0.2-1-0.1-1-0.4-1.1-0.8-0.8-1-0.5-1-0.3-1.4 0.1-1.6 0.4-1.4 0.6-1.6 1-1.4 1-1 1.6-1 1-0.4 1-0.2 1.4 0 1.7 0.6 1.3 1.3 0.8 1.7 0.2 1.4 0 1-0.8 2.6-1.3 2-1.9 1.6zM228.4 569.2l-0.4-0.2 0.4-0.7 0.6-0.2 0 0.5zM180.4 614.5l-1 0.2-1-0.3-0.4-1.1-0.5-1.9 0-1.4 0.5-2 0.4-0.9 1-0.7 0.6 0 1 0.7 0.5 0.9 0.5 1.9-0.1 1.5-0.4 1.6-0.5 1zM187 628.6l-0.6-0.1-0.3-1.1-0.1-1.4 0.1-1.6 0.9-3.5 1-1.8 0.4-0.4 0.6 0.2 0.3 1.1 0.1 1.4-0.1 1.6-0.9 3.5-1 1.8zM173.4 634l-1 0.2-1.4 0.1-1.6-0.3-1-0.5-2-1.6-0.9-1.5-0.5-1.1-0.5-1.3-0.1-1.6 0.1-1.4 0.4-1.6 0.5-1 1-1.3 1-0.7 1-0.5 2-0.2 2 0.5 3 1.8 1.6 1.2 2 0.2 1.4 0.6 1 0.9 0.5 1.1-0.1 1.4-0.7 1-1.1 0.6-2.9 0.4-0.7 2-0.4 0.6-1.6 1.4zM145 682l-1 0.2-0.6-0.1-1-0.7-0.9-2-0.2-2 0.3-2 0.8-1.6 1-0.7 1.6-0.4 1 0.2 0.6 0.5 0.6 1 0.3 1.6-0.2 1.4-0.9 3-0.4 0.8zM143 690.2l-1 0.1-1-0.4-1-0.9-0.7-1-0.3-1.6 0.2-1 0.7-1 0.5-0.3 1-0.1 1 0.4 1 1 0.4 1 0.3 1-0.1 1.5-0.6 0.9z"/>
<path fill="#25ffd2" d="M652.4 145l-3 0.1-2-0.3-0.6-0.4-0.5-0.4-0.3-1 0.4-1.6 1-2 1.9-2.4 2.2-2.6 3.5-3.4 3.8-3.6 9.2-7.4 10.3-7.6 10.7-6.8 10-5.9 10-5.2 10-4.6 10-3.9 9.7-3 7.7-1.7 3-0.3 2 0.1 1.6 0.4 0.7 0.5 0.4 0.4 0.2 1-0.2 1-0.6 1.6-1.2 2-3.7 4.4-5.1 5-6.3 5.6-7.1 5.4-7.1 5.1-8 5.2-8 4.7-8.6 4.6-8.4 4.1-8.6 3.8-8.4 3.4-7.8 2.7-7.2 2zM657.4 220l-5.4 0-3.7-0.6-1.3-0.6-0.8-0.8-0.2-1 0.2-1 1.6-2.6 2.8-3 4.2-3.4 4.7-3.6 5.9-4 6.5-4 7.1-4 8-4.1 11.4-5.4 11-4.6 11-3.8 10.6-3 10-2.1 5-0.7 4-0.3 3.4 0.1 2.6 0.3 1.5 0.6 1.1 1 0.3 1-0.1 1-0.6 1.6-0.9 1.4-3.5 4-4.9 4.6-6.5 5-6.7 4.4-7.3 4.4-7.4 4-7.6 3.5-8.4 3.5-8.6 3.2-8.4 2.7-8 2.3-8.6 1.9-7.4 1.3zM677.4 282l-8-0.4-3.4-0.5-2.4-0.7-2.3-1-1.1-1-0.5-1 0.1-1.4 1.1-2 1.8-2 3-2.6 3.5-2.4 8.5-5 5-2.6 5.7-2.5 11-4.3 11.9-3.6 13.7-3.5 12.4-2.5 12-1.6 5-0.4 4.6-0.1 3.4 0.3 2.6 0.4 1.9 0.8 0.9 1 0.2 1-0.3 1-1.6 2.6-3.6 3.4-4.6 3.6-6.2 4-6.1 3.4-6.9 3.6-7.7 3.4-7 2.8-7 2.5-7 2.2-6.6 1.7-6.4 1.4-7 1.1-6.6 0.6zM360.4 464.5l-2.9-0.5-1.8-1-0.7-1.1 0-0.9 0.3-0.6 0.7-0.5 1.4-0.6 1.6-0.3 1.4 0 2.6 0.5 1 0.5 1.2 1 0.2 0.5 0 0.9-0.9 1-1.5 0.7zM371.4 515.5l-7-0.2-7.5-0.9-6.9-1.5-7.5-2.5-10.9-5-4.4-2.4-1.7-1.6-1.1-1.4-0.4-1-0.1-1 0.3-1.6 1.2-1.7 2-1.5 3.1-1.2 3.8-1 6.1-1.1 7-0.8 5-0.2 5.6 0.2 5 0.5 5 0.9 5.8 1.5 4.4 1.4 3.5 1.6 3.7 2 2.7 2 2.4 2.4 1.4 2.6 0.2 1.4 0 1-0.5 1.6-0.5 1-2.1 2-3 1.7-4 1.3-4.6 1zM372.4 542l-3 0.1-4-0.3-4.9-0.8-3.7-1-4-1.6-2.8-1.4-1.7-1.6-0.4-1 0.2-0.4 0.9-0.8 1.4-0.4 2.4-0.4 2.6 0 5.6 0.6 6.3 1.4 5 2 1.7 1 1.6 1.6 0.3 1-0.1 0.4-0.4 0.6-1 0.5zM230.4 551l-1.4 0.2-1-0.2-0.6-0.4-0.6-1.2-0.3-2 0.5-1.8 1-1.6 1.4-1.1 1.6-0.3 1 0.4 0.9 1 0.4 1 0.1 1.4-0.4 1.6-0.6 1.1-1 1.2zM221 577l-1.6 0.4-1-0.1-1-0.2-1-0.7-1-0.9-0.4-1-0.3-1.1-0.1-1.4 0.3-1.6 0.5-1.4 1.6-2.2 1-0.9 1.4-0.8 1.6-0.4 1-0.1 1.4 0.4 1.6 1.1 0.9 1.9 0.2 2-0.6 2.4-1.1 2-1.5 1.6zM180.4 614.1l-1 0.3-0.8-0.4-0.6-1.4-0.3-1.2 0-1.4 0.3-1.4 0.5-1.2 0.9-0.6 1 0.1 0.6 0.5 0.4 1 0.3 1 0.1 1.6-0.3 1.4-0.5 1.2zM187.4 627.5l-0.4 0.3-0.6-0.6-0.1-1.2 0.1-2 0.6-2.2 0.4-1.2 0.6-0.7 0.4-0.3 0.6 0.8 0 3-0.6 2.2zM171.4 634l-1-0.1-1.4-0.5-2-1.4-1.4-2-0.8-2.6 0-2.4 0.5-1.6 0.5-1 0.6-0.8 1-0.8 2-0.7 1 0 1.6 0.3 1.2 0.6 1.4 1 0.8 0.3 1.6 1.1 1.4 0.1 1.7 0.5 1.2 1 0.5 1.4-0.2 1-0.8 1-1.4 0.6-2 0-0.4 0.2-1.1 2.2-0.9 1.1-1.6 1zM145 681.5l-1 0.2-0.6-0.2-1-0.9-0.5-1.2-0.3-2 0.4-1.9 0.5-1.1 1.2-1 0.7-0.3 1-0.1 1 0.4 0.4 0.6 0.4 1 0.1 1-0.2 1.4-0.9 2.6-0.6 1zM142.4 689.7l-1-0.1-0.4-0.3-0.6-0.4-0.6-0.9-0.3-1 0.1-1 0.4-0.8 0.4-0.4 0.6-0.2 1 0.2 0.8 0.6 0.6 1 0.2 1-0.1 1-0.5 1z"/>
<path fill="#3effb9" d="M656 143.5l-3 0.4-2-0.1-1.6-0.4-0.7-0.4-0.4-0.6 0-1.4 0.6-1.6 1.3-2 2-2.4 2.8-3 3.6-3.6 8.3-7 10.1-7.4 10.6-7 10.1-6 9.7-5.2 10-4.7 9.6-3.8 9.4-3.1 4.6-1.1 3.4-0.6 3-0.3 2 0.1 1.6 0.3 1 0.8 0.3 1-0.1 1-0.6 1.6-0.9 1.4-3.2 4-4.4 4.6-5.6 5-6.9 5.4-6.9 5-7.7 5-7.5 4.6-8.1 4.4-8 4-8.4 3.9-8 3.3-8 2.8-7 2zM659.4 219l-5.4 0.1-3.6-0.7-1-0.4-0.9-1-0.1-1 0.2-1 1.2-2 2.8-3 4-3.6 4.7-3.4 6-4 6.6-4 7.1-4 6.8-3.6 11.2-5.2 10.4-4.3 10.6-3.7 10-2.8 10-2.1 4.4-0.7 4-0.2 3 0 2.6 0.4 1.7 0.6 0.9 1 0.3 1-0.2 1-0.6 1.6-0.9 1.4-3 3.6-5 4.4-5.8 4.6-6.7 4.4-6.7 4.1-7.6 3.9-7 3.3-8 3.4-8 3-8.4 2.8-8 2.2-7.9 1.9-7.1 1.2zM685.4 281l-5 0.3-5 0-4.4-0.3-3.5-0.6-3.1-0.9-1.8-1.1-0.8-1-0.2-1.4 0.3-1 0.9-1.6 3-3 4.7-3.4 5.7-3.6 6.7-3.4 7.5-3.4 8-3.1 8-2.6 10.6-3 10-2.3 10-2 9-1.2 8-0.6 6 0.2 2.4 0.4 1.6 0.5 0.9 0.5 0.7 1 0.1 1-0.3 1-1.3 2-2.5 2.6-3.6 3-4.4 3-5.7 3.4-6.4 3.6-6.5 3.1-6.6 2.8-6.4 2.5-6.6 2.3-6.4 2-6 1.5-6 1.2-6 1zM375 515l-7.6 0.2-8-0.6-4-0.6-4.4-1-6.5-2-3.7-1.6-7.4-3.4-3-1.6-2.4-1.4-1.8-1.6-1.1-1.4-0.4-1-0.1-1 0.3-1.6 1.1-1.4 1.2-1 1.8-1 2.7-1 7.3-1.6 5.4-0.7 4.6-0.4 7-0.1 7.6 0.8 7.5 1.4 6.4 2 3.5 1.6 2.9 1.4 2.4 1.6 1.8 1.4 1.9 2 0.9 1.6 0.6 2 0 1.4-0.5 1.6-1 1.4-1.6 1.4-1.8 1.2-2.2 1-3.3 1zM371.4 541l-3 0.3-3.4-0.3-3.5-0.6-3.6-1-2.6-1-1.9-1-1.6-1.4-0.2-1 0.4-0.6 1-0.6 1.5-0.4 1.9-0.1 5 0.5 5.1 1.2 3.8 1.4 1.8 1 1.1 1 0.4 1-0.1 0.6-0.5 0.5zM229.4 550.5l-1-0.2-0.8-0.9-0.4-1 0-1.4 0.2-1.1 1-1.5 1.6-0.9 1-0.1 0.9 0.6 0.5 0.7 0.3 1.3 0 1-0.3 1-1 1.4-1 0.8zM220 577l-2-0.1-1.1-0.5-0.9-0.8-0.6-0.8-0.4-1.4 0-2.4 1-2.6 1-1.2 1-0.9 1.3-0.9 1.1-0.3 2-0.1 1.6 0.7 1.1 1.3 0.7 2-0.1 2-0.7 2.1-1.4 1.9-1.6 1.3zM180 614l-1-0.2-0.6-0.6-0.5-2.2 0-1.6 0.4-1 0.6-1 0.5-0.3 0.6 0 0.4 0.3 0.6 0.5 0.4 1.1 0.2 1-0.1 1.4-0.2 1-0.6 1zM172 633.5l-2-0.1-2-1-1-1-0.8-1-1-2.4-0.1-2.6 0.3-1.4 0.5-1 1.5-1.7 1-0.5 1-0.3 1.6 0 1.4 0.5 1.6 1 1.4 0.5 1.6 1.1 1.4 0 1.4 0.4 1.2 0.8 0.6 1.2 0 1-0.6 1.1-0.6 0.4-1 0.3-2.4 0-0.4 0.2-0.9 2-0.8 1-1.5 1.1zM187.4 626.1l-0.4-0.2-0.1-1.9 0.5-2 0.6-0.7 0.4 0.2 0.1 1.9-0.5 2zM145 680.7l-1 0.2-1-0.6-0.7-1.3-0.2-1.6 0.2-1.4 0.7-1.2 1.4-1.3 1-0.3 0.6 0.1 0.6 0.7 0.5 1 0.1 1-0.1 1-0.4 1-1.3 2.2zM142.4 688.5l-0.4 0.2-0.6-0.1-0.4-0.3-0.6-0.8 0-1.1 0.6-0.7 0.4-0.1 0.6 0.2 0.5 0.6 0.3 1z"/>
<path fill="#56ffa0" d="M656.4 142.5l-2.4 0.1-1.7-0.2-1.2-0.4-0.7-1 0.2-1.6 0.6-1.4 1.7-2.6 2.2-2.4 6.1-6 8.5-7 8.9-6.6 10.4-6.7 9.7-5.7 9.3-4.9 9.4-4.4 9-3.6 8.6-2.8 7.4-1.6 3-0.4 2 0.1 1.6 0.4 1 0.7 0.3 0.9-0.1 1-0.6 1.6-0.8 1.4-2.8 3.6-4.3 4.4-5.7 5-6.3 5-6.9 5-7.8 5.2-7.4 4.4-8.2 4.4-8 3.9-8 3.6-7.4 3.1-7.6 2.6-6.4 1.8zM662 218l-5.6 0.1-3.4-0.6-1.3-0.5-0.6-0.6-0.4-1 0.1-1 1.1-2 2.6-3 3.4-3 4.6-3.4 5.2-3.6 6.5-4 7.1-4 6.7-3.4 11-5.2 10.4-4.4 10-3.5 10-2.8 9.6-2 4.4-0.6 3.6-0.2 3 0.1 2.4 0.4 1.4 0.6 0.9 1 0.2 1-0.2 1-0.7 1.6-0.9 1.4-3.1 3.6-4.5 4-5.9 4.4-6 4-6.6 4-6.7 3.6-6.9 3.2-7.7 3.2-7.7 2.9-8 2.7-7.6 2.1-7.4 1.8-7 1.3zM684.4 280.5l-5 0.2-4.4-0.1-4-0.4-3-0.7-2.6-0.9-1.4-1.2-0.5-1 0.1-1.4 0.5-1 1-1.6 3.2-3 4.2-3 5.9-3.4 6.6-3.4 7-3.1 7.4-2.8 7.6-2.4 9.4-2.7 9.6-2.3 9.4-1.8 8.6-1.2 7.4-0.6 6 0.1 3.6 0.6 1.1 0.6 1.1 1 0.2 0.4 0 1-0.4 1-1 1.6-2.4 2.4-3.6 3-4.4 3-5.8 3.6-5.6 3-6.3 3-6.5 2.7-6.4 2.5-6.6 2.3-6.4 1.9-6 1.5-6 1.2-6 0.9zM371 515l-7-0.2-7.2-0.8-6.8-1.6-7.3-2.4-10.5-5-4.1-2.6-1.5-1.4-0.9-1.6-0.3-1.4 0.3-1.6 1.2-1.4 2.2-1.6 2.4-1 3.7-1 6.2-1.1 6.6-0.7 5-0.2 5.4 0.2 4.6 0.5 5 0.9 5.7 1.4 4.3 1.5 3.4 1.5 3.5 2 2.6 2 1.9 2 1.3 2.6 0.3 1.4-0.1 1-0.3 1-0.6 1.3-2 1.9-3.3 1.8-3.7 1.3-4.6 0.8zM366.4 540l-4.2-0.6-3.4-1-1.1-0.4-1.4-1-0.5-1 0.2-0.5 1-0.6 2-0.2 2.7 0.3 2.3 0.4 1.8 0.6 2.3 1 1.4 1 0.3 0.4 0 0.6-0.4 0.4-1.4 0.4zM230 549l-1 0-0.5-0.6-0.2-1.4 0.1-0.7 0.6-0.9 0.7-0.4 0.7-0.2 0.6 0.2 0.4 0.5 0.2 1.5-0.6 1.3zM220.4 576.5l-2 0.1-1-0.3-1-0.7-1-1.7-0.2-1.5 0.1-1 0.2-1 0.6-1.4 1.5-2 1.4-1 1-0.4 2-0.3 1.4 0.5 1.3 1.2 0.6 1.4 0.2 2-0.5 2-1 1.7-1.6 1.5zM180 613.5l-0.6 0-0.6-0.5-0.4-0.6-0.2-1.4 0.2-2.3 0.6-0.8 0.4-0.3 0.6 0 0.5 0.4 0.5 0.6 0.3 1.4 0 1-0.3 1.4-0.6 0.8zM172.4 633l-2 0-2-0.8-1.4-1.4-0.6-0.8-0.7-1.6-0.3-2.4 0.6-2.2 0.4-0.9 0.9-0.9 1.7-0.9 1-0.2 1.4 0.1 2.6 1.3 1.4 0.3 1.6 1.3 1.4-0.1 1 0.2 1.4 1 0.6 1 0 1-0.6 1-1.4 0.6-3-0.1-0.4 0.5-0.5 1.4-0.7 1-1.2 1zM144.4 679.6l-0.4 0-0.8-0.6-0.2-0.8-0.1-1.2 0.3-1 0.6-1.6 0.6-0.6 1-0.4 1 0.6 0.3 0.4 0.3 1 0 1-0.6 1.5-1 1z"/>
<path fill="#6fff88" d="M660 141l-3 0.3-2 0-1.6-0.5-0.7-0.8-0.1-1 0.5-1.6 1.1-2 1.6-2 5.3-5.4 7.6-6.6 9.4-7 9.9-6.5 9.4-5.7 9-4.8 9-4.3 9-3.7 9-2.9 7-1.7 3-0.3 2 0.1 1.6 0.4 1 0.7 0.3 0.7-0.1 1-0.5 1.6-0.9 1.4-2.7 3.6-3.9 4-5 4.4-6.3 5-6.3 4.6-7.2 4.7-7 4.2-7.4 4.1-7.8 4-7.6 3.4-7.2 3-7 2.6-6.4 1.9zM664 217l-5.6 0.1-2-0.3-1.4-0.4-1-0.4-0.6-0.6-0.3-1 0.1-1 1.1-2 2.2-2.4 3.3-3 4.6-3.6 5.2-3.4 5.7-3.6 6.2-3.4 6.9-3.7 10.6-5 10-4.1 10-3.5 9.4-2.8 9.6-1.9 4-0.5 3.4-0.2 3 0.1 2 0.4 1.5 0.6 0.8 1 0.1 1-0.2 1-1.3 2.6-3 3.4-3.9 3.6-5.1 4-5.9 4-6.7 4-6.7 3.5-6.6 3.1-7.4 3.2-7.6 2.8-7.4 2.5-7.6 2.2-7 1.7-6.4 1.2zM682 280l-7.6-0.2-3-0.5-2.4-0.6-1.8-0.7-1.2-1-0.5-1 0-1.6 0.5-1 1.1-1.4 2.6-2.6 4.1-3 5.8-3.4 6.4-3.2 7-3.1 7.3-2.7 7.7-2.5 9.4-2.6 9.6-2.2 9-1.7 7.9-1 7.1-0.5 5 0.2 3.2 0.7 0.9 0.6 0.9 1 0.1 1-0.3 1-1.2 2-2.5 2.4-3.8 3-4.5 3-6.1 3.6-5.8 3-6.6 3-6.3 2.6-6.6 2.3-6.4 2.1-6 1.7-6 1.3-6 1-5.6 0.6zM374.4 514.5l-7 0.2-7.4-0.5-6.9-1.2-7-2-7.1-3-6-3-3.4-2-1.8-1.6-1.1-1.4-0.5-1.6 0.2-1.4 0.9-1.6 1.2-1 1.7-1 2.7-1 6.8-1.4 8.7-1.2 7-0.1 7 0.6 6.6 1.2 6.9 1.9 3.7 1.6 3 1.4 2.4 1.6 1.9 1.4 1.5 1.6 1.1 1.4 0.8 2 0 1.6-0.3 1.4-1 1.6-1.6 1.4-1.6 1-2.2 1-3.2 1zM221 576l-2 0.3-1-0.3-1-0.6-1.1-1.4-0.3-2 0.4-2 0.5-1 0.9-1.4 1-0.9 1-0.5 2-0.5 1.6 0.3 1.1 1 0.8 1.4 0.2 1.6-0.2 1.4-0.9 2.1-1.3 1.5zM180.4 612.5l-0.4 0.3-0.6 0-0.4-0.4-0.4-1-0.1-1 0.2-1 0.3-0.7 0.4-0.4 0.6 0 0.4 0.3 0.6 1.3 0 1.2zM172.4 632.5l-2 0.1-1.6-0.6-1.6-1.6-1-2-0.3-1 0-1.4 0.5-2 1-1.5 1.6-0.9 1-0.2 1 0 1 0.3 1.4 0.8 2 0.2 1.6 1.4 1.4-0.1 1.5 0.4 0.7 0.6 0.5 1 0 1-0.1 0.4-1 0.8-1.6 0.3-2-0.5-0.4 0.2-1 2.2-0.6 0.7-1 0.9zM146 678l-0.6 0.2-0.4 0-0.4-0.2-0.5-0.6-0.3-1 0-1 0.4-1 0.8-0.6 0.4-0.1 0.6 0.1 0.4 0.5 0.5 1.1-0.2 1.6z"/>
<path fill="#88ff6f" d="M660 140l-2.6 0-1.4-0.3-1-0.7-0.2-1 0.4-1.6 0.8-1.4 3.2-4 5.7-5.6 7.3-6 8.9-6.4 9.3-6 9-5.4 8.6-4.4 8.4-4 8.6-3.3 8-2.6 6.4-1.4 2.6-0.2 2 0.1 1.4 0.6 0.6 0.6 0.3 1-0.2 1-1.2 2.4-2.8 3.6-3.9 4-5.1 4.4-5.8 4.6-6.9 4.8-7 4.6-7 4.1-7.4 4-7.6 3.7-7.4 3.4-7 2.8-6.6 2.2-6 1.6zM665.4 216l-5 0.1-3.1-0.7-1-0.4-0.7-1-0.1-1 0.3-1 1.3-2 2.4-2.6 3.5-3 4.1-3 4.5-3 5.7-3.4 12.1-6.6 10.6-4.9 9.4-4 9.6-3.3 9.4-2.6 8.6-1.7 3.4-0.5 3.6-0.2 2.4 0.1 2 0.4 1.5 0.7 0.8 1 0.1 1-0.2 1-1.4 2.6-3.1 3.4-4 3.6-4.6 3.4-6 4-5.9 3.6-6.6 3.4-6.6 3.1-7 2.9-7 2.6-7.4 2.5-6.7 1.9-6.9 1.7-6.4 1.2zM688.4 279l-4.4 0.3-4.6 0-4-0.3-3-0.4-2.1-0.6-1.9-1-0.8-1-0.3-1.6 0.4-1 0.9-1.4 2.5-2.6 4-3 4.9-3 5.8-3 6.8-3 6.8-2.6 7.6-2.4 9.4-2.7 9-2.1 8.6-1.7 8-1.1 7-0.4 5 0.2 1.9 0.4 1.4 0.4 0.7 0.6 0.7 1-0.1 1.4-1.1 2-2.5 2.6-3.1 2.4-3.6 2.6-5 3-5.7 3-5.2 2.4-11.4 4.7-11.6 3.9-10.4 2.4-5.6 1zM376 514l-7 0.4-7.6-0.3-7-1.1-7.4-2-3.9-1.6-3.3-1.4-5.9-3-3.4-2-1.8-1.6-1.2-1.4-0.4-1.6 0.2-1.4 0.6-1 1.1-1.1 1.4-1 2.6-1 6.4-1.6 9-1.2 6.6-0.1 6.5 0.4 6.5 1.1 7 1.9 5.9 2.6 2.7 1.4 2.1 1.6 1.6 1.4 1.2 1.6 0.8 1.4 0.4 1.6-0.1 1.4-0.6 1.6-1.2 1.4-1.4 1.1-1.5 0.9-2.5 1.1-3.4 0.9zM221 575.5l-1 0.3-1 0-1.6-0.6-1-1.2-0.4-2 0.4-2.1 1.3-1.9 1.7-1.4 1-0.3 1-0.1 1.6 0.4 0.9 0.8 0.7 1.6 0.1 1.4-0.4 1.6-0.9 1.5-1 1.1zM172 632l-1.6 0-1.4-0.6-1.2-1-1-1.4-0.4-1.6 0-2 0.6-1.5 1-1.2 1-0.5 1.4-0.3 1 0.2 2 0.9 1.6-0.3 1 0.5 1 1.2 2-0.1 0.4 0.2 1 0.7 0.5 1.2-0.5 1.2-1 0.5-1 0.1-2.4-0.7-0.7 0.5-0.7 2-0.6 0.9-1 0.8zM146 677.5l-0.6 0.2-0.4-0.1-0.6-0.5-0.2-0.7 0.1-1.4 0.7-0.8 0.4-0.2 0.8 0.4 0.4 1-0.2 1.5z"/>
<path fill="#a0ff56" d="M664 138.5l-2.6 0.2-2 0-1.4-0.4-0.9-0.9-0.1-1 0.5-1.4 0.9-1.6 1.5-2 4.9-5 7-6 8.1-6 9-6 8.5-5.1 8.6-4.6 9-4.2 8-3.3 8-2.6 6-1.4 2.4-0.3 2 0 1.6 0.4 0.9 0.7 0.2 0.4 0.1 1-0.2 1-0.8 1.6-2.2 3-3.8 4-4.5 4-5.6 4.4-6.2 4.6-6.1 4-6.4 3.8-7 3.9-7 3.5-7 3.3-7 2.9-6 2.2-5.9 1.8zM667.4 215l-4.4 0-2-0.2-1.4-0.4-0.9-0.4-0.5-0.6-0.3-1 0.1-1 1.2-2 2.2-2.4 2.9-2.6 4-3 9.3-6 12-6.4 9.4-4.6 9.4-3.9 9-3.2 9-2.6 8.2-1.7 6.8-0.8 2.6 0.1 2 0.3 1.4 0.5 1 0.9 0.3 1-0.1 1-0.9 2-2.4 3-3.7 3.4-4.5 3.6-5.1 3.4-5.8 3.6-6.8 3.6-6 2.9-7 3-7 2.6-7 2.4-7 2-6.4 1.6-6 1.2zM687 278.5l-4 0.1-4-0.1-3.6-0.3-2.4-0.6-1.8-0.6-1.3-1-0.6-1 0.1-1.6 0.4-1 1.2-1.4 2.7-2.6 3.5-2.4 5-3 6-3 5.8-2.6 6.6-2.4 6.8-2.2 8.6-2.4 8.4-2 8-1.6 7.6-1.1 6.4-0.4 5 0.1 3 0.7 1 0.5 0.9 0.8 0.2 0.6-0.1 1-1 2-1.9 2-3 2.4-3.6 2.6-4.9 3-5.7 3-5.3 2.4-11.1 4.6-5.9 2-6 1.8-5 1.3-5.6 1.1-5.4 0.8zM373 514l-7 0.1-7.1-0.7-7.5-1.4-6.2-2-3.5-1.6-5-2.4-3.7-2-2.3-1.6-1.6-1.4-0.9-1.6-0.2-1.4 0.2-1 0.8-1.1 1.4-1.3 1.6-0.8 2.3-0.8 7.1-1.6 8.6-1 7-0.1 6.4 0.7 7.2 1.4 6.2 2 5.2 2.6 2.3 1.4 1.8 1.6 1.4 1.4 1.1 2 0.4 1.6-0.1 1.4-0.7 1.6-0.8 1-1.8 1.4-1.8 1-4.4 1.6-3 0.5zM354.8 506l0.2-0.6-0.6-0.4-1.4-0.1-0.3 0.1-0.2 0.4 0.9 0.6zM220.4 575.1l-1.4 0.1-1.5-0.8-0.8-1.4-0.1-1.6 0.6-2 1.2-1.4 1.6-1 1.4-0.2 1 0.2 1.1 1 0.5 1 0.1 1.4-0.3 1.6-0.8 1.4-1.2 1zM171.4 631.5l-1.4-0.2-1-0.6-1-0.9-0.8-1.4-0.3-1.4 0.1-1.6 0.4-1.1 1-1.1 1-0.5 1-0.2 1 0.2 1.6 0.8 1.4-0.6 0.6-0.1 1 0.6 1 1.4 1-0.2 1 0 0.7 0.4 0.5 0.4 0.4 1-0.2 0.6-0.4 0.6-0.6 0.2-1 0.1-1-0.3-1-0.6-0.4 0.1-0.8 0.3-0.5 0.6-0.5 1.4-0.8 1.1-1 0.7zM146 677l-0.6 0.2-0.4-0.2-0.5-1 0.3-1 0.6-0.5 0.6 0.2 0.3 0.7 0.1 0.6z"/>
<path fill="#b9ff3e" d="M663.4 137.5l-2-0.1-1.4-0.4-0.5-0.6-0.3-1 0.4-1.4 0.9-1.6 2.8-3.4 5.2-5 6.8-5.6 7.6-5.4 8.5-5.6 8.6-4.9 7.6-4.1 8.4-3.8 7.4-3 7-2.2 5.6-1.1 2.4-0.2 1.6 0.1 1 0.3 1 0.8 0.2 0.7-0.1 1-1.2 2.4-2.3 3-4 4-4.6 4-5.1 4-6.4 4.6-6.2 4-6.3 3.6-7.1 3.8-6.9 3.5-7 3.1-6.3 2.4-5.8 2-5.5 1.5zM669 214l-4 0-3-0.6-1-0.5-0.7-0.9 0-1 0.4-1 1.3-2 2-2 2.9-2.6 4.1-3 8.6-5.4 10.8-5.9 9-4.3 9-3.7 8.6-3.1 8.4-2.4 8-1.7 6.6-0.7 4 0.3 1.4 0.6 1 0.9 0.2 0.4 0.1 1-0.3 1-0.8 1.6-2.5 3-3.3 3-4.5 3.4-5.2 3.6-5.9 3.4-5.6 3-6.2 2.9-6.4 2.8-6.6 2.5-7 2.3-7 2-6 1.5-6 1zM691.4 277.5l-4.4 0.3-4 0.1-3.6-0.1-3-0.4-2-0.5-1.9-0.9-1-1-0.2-0.6-0.1-1 0.3-1 0.6-1 2.4-2.4 3.2-2.6 4.9-3 5.8-2.9 5.8-2.5 6.2-2.4 6.6-2.2 8.4-2.3 8.6-2.1 8-1.5 7-1 6-0.4 4.4 0.2 3 0.7 1 0.7 0.6 0.7 0.1 0.6-0.1 1-0.8 1.4-1.8 2-2.3 2-3.5 2.6-4.1 2.4-4.5 2.6-5.1 2.4-10.5 4.4-11 3.7-9.4 2.4zM374.4 513.5l-6.4 0.3-6.6-0.4-6.4-1-7.4-2-3.9-1.4-3.2-1.6-4.8-2.4-3.3-2-1.8-1.6-1.2-1.4-0.4-1.6 0.1-1 0.5-1 0.9-1 1.6-1 2.3-1 6-1.5 8.6-1.1 6-0.2 6.4 0.4 6.6 1.1 6.4 1.9 5.9 2.4 2.5 1.6 2 1.4 1.5 1.6 1.1 1.4 0.7 1.6 0.1 1.4-0.2 1.5-0.6 1.1-1.4 1.4-1.4 1-2 1-2.6 1zM355.5 506l0.1-0.6-2.2-0.9-1 0.1-0.4 0.4-0.1 0.4 0.5 0.6 1 0.3 1 0.1zM220 574.5l-1.6-0.4-0.7-0.7-0.4-1 0-1.4 0.6-1.6 1.1-1.1 1.4-0.7 1 0 1 0.4 0.6 0.5 0.4 0.9 0 1.6-0.4 1.2-1 1.2-1 0.8zM172 630.5l-1 0.2-1-0.3-1-0.6-1.1-1.4-0.3-1.4 0-1 0.4-1.1 1-1.1 1-0.4 1 0 2 0.8 1-1 1-0.2 1 0.6 1 1.8 1.4-0.4 1 0.3 0.6 0.6 0 0.5-0.2 0.6-0.8 0.4-1-0.1-1-0.7-0.6-0.2-1 0.7-1.2 0.3-0.9 2-0.4 0.6z"/>
<path fill="#d2ff25" d="M667 136l-2 0.2-1.6-0.1-1-0.4-0.8-0.7-0.1-1 0.5-1.6 0.9-1.4 1.6-2 4.5-4.6 5.9-5 7.5-5.4 8.3-5.6 8.3-4.8 7.4-4 7.8-3.6 7.4-3 6.8-2.3 5.6-1.2 2-0.2 2 0.1 1 0.3 0.9 0.7 0.2 0.6 0 1-1.2 2.4-2.3 3-3 3-3.9 3.6-5.1 4-5.5 4-6.2 4-5.8 3.4-6.7 3.7-6.4 3.3-6.6 2.9-6.4 2.7-5.6 1.9-5 1.4zM670 213l-2.6 0-2-0.3-1.4-0.5-1-0.8-0.3-1 0.2-1 0.8-1.4 1.3-1.6 3.9-3.4 6.3-4.6 8.3-5 8.5-4.4 8.5-4 8.5-3.6 8.4-2.9 7.6-2.2 7.4-1.5 6-0.6 2.6 0.1 1.4 0.3 1 0.5 1 0.9 0.2 0.4 0 1-0.3 1-0.9 1.6-2.1 2.4-3.3 3-3.8 3-5.2 3.6-5.9 3.4-5.7 3-6 2.8-6.4 2.7-6.6 2.4-6.4 2.2-6 1.7-6 1.4-5 0.9zM690.4 277l-7.4 0.2-3.4-0.2-2.7-0.6-1.5-0.5-1.5-0.9-0.6-1 0-1.6 1.2-2 2.6-2.4 3.5-2.6 4.3-2.4 5-2.6 5.8-2.4 5.7-2.2 6-1.9 8-2.3 7.6-1.8 7-1.4 7-0.9 5.4-0.4 4.6 0.1 3 0.6 1 0.6 0.5 0.6 0.2 0.4 0 1-0.7 1.6-1.7 2-2.3 2-2.8 2-4 2.4-4.6 2.6-5.1 2.4-10.1 4.2-11 3.7-9.4 2.3-5 0.8zM369.4 513.5l-6-0.2-6.7-0.9-6.4-1.4-5.6-2-7.1-3.6-4.8-3-1.6-1.4-0.7-1-0.4-1.6 0.1-1 1-1.4 2.3-1.6 2.6-1 3.9-1 5.4-0.9 4.6-0.4 4.4-0.2 4.6 0.2 4 0.5 4.8 0.8 3.9 1 4.3 1.6 3.4 1.4 3.3 2 1.9 1.6 1.7 2 0.7 1.1 0.4 1.3-0.2 2-0.4 1-0.7 1-1.8 1.6-3 1.4-3.3 1-4 0.7zM355.6 506.4l0.5-0.4-0.1-0.6-1.6-0.5-1-0.7-1.4 0.2-0.6 0.6 0 0.4 0.4 0.6 1 0.4 1.6 0.3zM220.4 573l-1 0-0.4-0.3-0.5-0.7-0.1-0.6 0.3-1 0.7-1 0.9-0.4 0.7-0.1 1 0.6 0.2 1.5-0.2 0.7-0.6 0.7zM175 627l-0.9 0-1.1-0.6 0-0.4 0-1 0.5-1 0.5-0.6 1-0.3 0.4 0.2 0.7 0.7 0.4 1.4-0.5 1zM171 629.5l-0.6-0.1-1-0.6-0.6-0.8-0.2-1 0.4-1.6 0.4-0.5 1-0.4 1 0.2 1.5 1.3 0 1.4-0.3 1-0.6 0.8z"/>
<path fill="#eaff0c" d="M670 134.5l-2.6 0.3-1.4 0-1.3-0.4-0.6-0.4-0.3-1 0.2-1 0.7-1.6 1.1-1.4 3.7-4 5.8-5 6.6-5 8.2-5.6 7.4-4.4 7.5-4.1 7.4-3.6 7-2.9 6.6-2.3 5.4-1.3 2-0.2 2-0.1 1.6 0.4 0.7 0.5 0.3 0.6 0 1-0.8 2-1.8 2.4-2.8 3-3.9 3.6-4.3 3.4-5.5 4-5.3 3.6-5.6 3.4-6 3.3-12 5.9-5.6 2.4-5.4 2.1-4.6 1.4zM676 211.5l-5 0.4-3.6-0.3-1.4-0.6-0.6-0.5-0.2-0.5 0-1 0.7-1.6 1.1-1.4 2.1-2 3-2.6 7.4-5 9.8-5.4 8.7-4.3 8.6-3.7 8.4-3.1 8-2.4 7.4-1.7 6-0.6 2.6 0.1 1.4 0.3 1 0.5 0.9 0.9 0.2 0.4 0 1-1 2-2 2.6-2.7 2.4-3.8 3-4.3 3-5 3-4.6 2.6-5.1 2.5-5.6 2.4-11.4 4.4-11 3.2-5.6 1.3zM688 276.5l-6-0.2-2.6-0.3-1.7-0.6-1.3-0.6-0.9-0.8-0.4-1 0.2-1 1.2-2 2-2 3.5-2.6 4.2-2.4 5.1-2.6 5.7-2.4 5.6-2 5.8-1.9 7.6-2.1 7-1.6 7-1.3 6-0.8 5-0.3 4 0.1 1.9 0.3 1.1 0.4 0.9 0.6 0.4 0.6 0.1 0.4-0.1 1-0.8 1.6-1.9 2-2.4 2-3.7 2.4-4.3 2.6-9.4 4.4-10.2 4-10.2 3.2-9.4 1.9-4.6 0.6zM371.4 513l-6 0-6.4-0.6-5.6-1-6.3-2-6.7-3-3.6-2-3-2-1.5-1.4-0.7-1-0.4-1.6 0.3-1 0.6-1 1.2-1 1.8-1 1.9-0.6 6-1.5 7.4-0.9 6.6 0 6 0.6 6 1.1 5.9 1.9 5.3 2.4 3.5 2.6 1.4 1.4 0.9 1.6 0.5 1.4 0 1.6-0.5 1.2-1 1.2-1.1 1-1.9 1.2-2.3 0.8-2.3 0.7zM354.8 507l1.2-0.4 0.4-0.5 0-0.7-0.3-0.4-0.7 0.1-1-0.3-1-0.8-0.4 0-1.6 0.4-0.5 0.6 0.1 0.4 0.3 0.6 0.8 0.4 1.3 0.5zM175.4 626.6l-1 0.2-0.4-0.3-0.7-1.1 0-0.4 0.4-1 0.7-0.7 1 0.2 0.7 0.9 0.2 1-0.2 0.6z"/>
<path fill="#ffe700" d="M670 133.5l-1.7-0.1-1.3-0.3-0.8-0.7-0.1-0.4 0.1-1 0.7-1.6 2.3-3 4.1-4 5.5-4.4 6.9-5 7.3-4.7 7.3-4.3 6.7-3.6 7.4-3.4 6.6-2.5 5.4-1.7 4.6-0.9 2-0.1 1.4 0.1 1 0.5 0.4 0.6 0.1 0.4-0.1 1-0.9 2-2 2.6-2.9 3-4 3.4-4.5 3.6-5 3.4-5.5 3.6-11.6 6.5-11.4 5.4-5.6 2.2-5 1.7-4.2 1.2zM677.4 210.5l-4.4 0.3-3.5-0.4-1.1-0.4-0.5-0.6-0.3-0.4 0-1 0.8-1.6 1.2-1.4 2.1-2 3.1-2.6 6.8-4.4 8.9-5 8.2-4 8.3-3.6 8-2.9 7-2.1 7-1.6 5.4-0.5 2.6 0 1.4 0.4 1 0.4 0.8 0.9 0.2 0.4-0.1 1-1 2-1.6 2-2.7 2.6-3.1 2.4-4.4 3-4.1 2.6-5 2.7-10 4.6-11 4.2-10.4 3.1-5 1.1zM693 275.5l-7 0.3-3-0.2-2.6-0.5-1.6-0.7-1.3-1-0.4-1 0.1-1 1.3-2 2.1-2 2.8-2 4.2-2.4 5.1-2.6 4.7-2 5.6-2 6-1.9 7.4-2 6.6-1.5 6-1.1 6-0.8 5-0.2 3.4 0.2 1.6 0.3 1 0.5 0.6 0.5 0.3 0.6 0.1 1-0.7 1.4-1.3 1.6-2.3 2-2.9 2-3.2 2-8.9 4.4-8.7 3.6-9.6 3.2-8.4 2.1zM372 512.5l-6 0.2-6-0.5-6.6-1.2-5-1.6-3.8-1.4-3.1-1.6-3.6-2-2.2-1.4-1.8-1.6-0.8-1-0.5-1.4 0-1 0.5-1 1-1 1.7-1 1.6-0.7 5-1.4 7.6-1 6-0.2 6 0.5 6.4 1.2 5.2 1.6 2.6 1 3 1.4 3.6 2.6 1.4 1.4 0.8 1.2 0.5 1.4 0 1.4-0.4 1.6-0.7 1-1.1 1-1.6 1-3.8 1.4-2.5 0.6zM356.1 507l0.7-0.6 0.2-0.4-0.1-0.6-0.4-0.4-2.1-0.3-1-0.9-2 0.2-0.7 0.4-0.2 0.6 0 0.4 0.3 0.6 1.6 0.9 2 0.4zM175 626.6l-0.6-0.1-0.4-0.3-0.4-0.8 0-0.4 0.4-1.1 0.4-0.3 0.6-0.1 0.7 0.5 0.4 1-0.2 1z"/>
<path fill="#ffcb00" d="M673 132l-3 0-1-0.4-0.6-0.6 0-1 0.4-1 1.7-2.6 3.3-3.4 5.3-4.6 6.1-4.4 6.8-4.6 7-4.1 6.4-3.5 7-3.3 6-2.5 6-1.9 4.6-1 3 0 1 0.3 0.6 0.6 0.2 0.4 0 1-0.7 1.6-1.8 2.4-2.4 2.6-3.3 3-4.4 3.4-4.9 3.6-4.6 3-10.7 6.1-11 5.3-9.6 3.7-4.4 1.3zM678.4 209.5l-4 0.2-2.4-0.3-1.1-0.4-0.5-0.6-0.3-0.4 0-1 0.8-1.6 1.2-1.4 2.2-2 2.5-2 6.9-4.6 9-5 7.3-3.4 8-3.4 7.3-2.6 6.7-2 6-1.2 5-0.5 2 0.1 1.4 0.3 1 0.5 0.7 0.8 0.2 0.4-0.1 1-0.8 1.6-1.5 2-2.7 2.4-3.2 2.6-3.6 2.4-4.2 2.6-4.8 2.6-9.5 4.4-10.9 4.1-10 2.8-4.6 1zM691 275l-5.6-0.1-2.4-0.3-1.6-0.5-1.3-0.7-0.5-0.4-0.5-1 0.2-1 0.8-1.6 2-2 2.7-2 4.2-2.4 4-2 5-2.2 5-1.8 5.4-1.8 6.6-1.8 6.4-1.5 6-1.1 5.6-0.7 4.4-0.3 3.6 0.2 2.4 0.7 1 1 0.1 1.3-0.8 1.4-1.4 1.6-2.5 2-3 2-3.4 2-8.3 4-9 3.4-9.1 2.9-8 1.7zM372 512l-5.6 0.2-6-0.4-5.4-1-6.5-1.8-5.7-2.6-3.7-2-2.2-1.4-1.7-1.6-0.8-1-0.4-1.4 0.1-1 0.6-1 1.1-1 3.2-1.6 6-1.4 6-0.7 5.4-0.1 6 0.5 6.3 1.3 4.9 1.4 4.4 2 3.7 2.6 1.3 1.2 0.8 1.2 0.6 1.6 0.1 1-0.4 1.4-0.6 1-0.9 1-1.5 1-3.7 1.6-2.4 0.5zM355.5 507.4l0.9-0.2 0.9-0.8 0.1-0.4-0.5-1-2.5-0.3-0.8-0.7-0.2-0.4-2 0.1-1.2 0.7-0.2 0.6 0 0.4 0.4 0.7 1 0.8 2 0.6zM175.4 626.1l-0.4 0.2-0.6-0.1-0.4-0.5-0.2-0.7 0.1-0.6 0.5-0.6 0.6-0.1 0.4 0.3 0.3 0.4 0.1 1z"/>
<path fill="#ffaf00" d="M676 130.5l-2 0.2-1.6 0-0.8-0.3-0.7-0.4-0.2-0.6 0.1-1 0.4-1 1.1-1.4 3.2-3.6 4.6-4 5.4-4 6.7-4.4 6.6-4 6.2-3.4 6.4-3.1 5.6-2.2 5.4-1.9 4.6-1 3 0 1 0.3 0.4 0.5 0.2 1.2-0.6 1.6-1.8 2.4-2.4 2.6-6.6 5.4-8.7 6-9.5 5.6-10 4.9-9 3.6-4 1.3zM679.4 208.5l-3.4 0-2.5-0.5-0.6-0.6-0.3-0.4 0-0.6 0.2-1 1-1.4 1.4-1.6 4.4-3.4 6.2-4 8.2-4.6 7.3-3.4 6.7-2.8 6.4-2.4 6.6-1.8 6-1.3 4.4-0.3 1.7 0 1.3 0.4 1 0.5 0.6 0.7 0.1 0.4-0.1 1-0.8 1.6-1.7 2-2.2 2-3.2 2.4-3.7 2.6-8 4.4-9.4 4.4-10.1 3.6-9.5 2.7-4 0.9zM695 274l-6 0.3-4.6-0.5-1.4-0.5-1.3-0.9-0.5-1 0.1-1 0.8-1.4 2.1-2 2.8-2 3.4-2 4.1-2 4.5-2 9.4-3.2 6.6-1.8 6-1.4 5.4-1 5-0.6 4-0.3 3.5 0.3 1.9 0.4 0.8 0.6 0.4 0.4 0.1 1-0.7 1.6-1.3 1.4-1.8 1.6-5.5 3.4-6.9 3.6-7.9 3.2-8.6 2.8-7.4 1.9zM371.4 511.5l-6 0.2-6.4-0.6-5.4-1.1-6-2-5.4-2.6-2.5-1.4-2.1-1.6-1.4-1.4-0.5-1-0.2-1 0.2-1 0.7-1 1.3-1 3.3-1.4 5-1.2 6-0.6 6 0 5.4 0.6 5.2 1 4.7 1.6 4.3 2 3.4 2.4 1 1 0.9 1.6 0.3 1 0.1 1-0.3 1-0.6 1-1 1.1-1.4 1-3.6 1.4zM356.7 507.4l0.8-0.4 0.3-0.6 0.1-0.4-0.2-0.6-0.7-0.8-1.6 0.2-1-0.2-0.7-0.6-0.3-0.7-0.4 0-2 0.2-0.9 0.5-0.5 0.4-0.2 0.6 0.2 1 0.8 0.8 1 0.6 1 0.3 1.6 0.2 1.4-0.1zM175 626l-0.6-0.2-0.3-0.8 0.3-0.8 0.6-0.1 0.4 0.3 0.2 0.6-0.2 0.6z"/>
<path fill="#ff9200" d="M678.4 129l-3 0.3-1-0.1-1-0.5-0.3-0.7 0-0.6 0.4-1 1-1.4 2.7-3 4-3.6 5.2-4 6-4 6.6-3.9 5.4-3 5.6-2.7 5.6-2.4 5.4-1.8 4-0.9 3 0 0.7 0.3 0.6 0.4 0.2 1-0.6 1.6-1.4 2-2.3 2.4-6 5-7.9 5.6-8.5 5-8.9 4.4-8.5 3.5-3.4 1.2zM684.4 207l-4.4 0.4-3-0.2-1.5-0.8-0.3-0.4 0-1 0.5-1 1.2-1.6 3.4-3 5.1-3.4 7-4 7-3.6 6.9-3 6.7-2.4 6-1.8 5.4-1.3 5-0.5 1.6 0.1 1.4 0.3 1 0.6 0.4 0.6 0.1 1-0.7 1.4-1.1 1.6-2.1 2-5.3 4-7.6 4.4-7.7 3.7-9 3.5-9 2.8zM692.4 273.5l-4-0.1-3-0.6-1-0.5-0.9-0.9-0.2-0.4 0-1 0.5-1 0.8-1 3.1-2.6 4.1-2.4 5.3-2.6 6.3-2.4 6.6-2 7.4-2 7-1.4 6-0.7 4.6-0.2 3 0.5 1 0.5 0.6 0.7 0 1-0.9 1.6-1.5 1.4-1.9 1.6-5.8 3.4-7.4 3.6-7.9 3-7.8 2.3-7.4 1.5zM369.4 511l-3.4 0.1-4-0.2-3.6-0.5-3.6-1-0.9-0.4 3.5-1.4 0.8-0.6 0.2-1-0.5-1-0.9-0.7-1 0.4-1.6-0.1-0.7-0.6-0.3-0.9-2.4 0.1-1.7 0.8-0.6 1 0 1 0.4 1-0.1 0.2-1-0.1-2-0.7-4-2-3.3-2.4-0.9-1-0.4-1 0-1.6 1-1.5 1.6-0.9 1.4-0.7 5.6-1.3 5.4-0.6 5.6 0 5.3 0.6 4.8 1 4.6 1.4 4.2 2 2.7 2 1.4 1.5 0.6 1.1 0.3 1 0 1-0.4 1-0.6 1-1.1 1-1.6 1-2.2 0.8-2 0.6z"/>
<path fill="#ff7600" d="M681 127.5l-2.6 0.4-2-0.2-0.4-0.3-0.4-0.4 0-1 0.4-1 1.1-1.6 3.4-3.4 4.9-4 6.4-4.6 5.7-3.4 5.3-3 5.2-2.6 5.4-2.5 5-1.7 4-1 3-0.2 1 0.2 0.6 0.4 0.3 0.8-0.5 1.6-1 1.4-1.8 2-5.1 4.6-7 5-7.5 4.4-9 4.7-8 3.4zM685 206l-3.6 0.2-2.2-0.2-0.8-0.4-0.4-0.5-0.3-0.7 0.1-0.4 0.5-1 1.2-1.6 3.5-3 5.3-3.4 6.3-3.6 6.2-3 6.2-2.6 6-2.2 5.4-1.6 5-1.1 4-0.4 1.6 0.1 1.4 0.4 0.8 0.4 0.3 0.6 0.1 1-0.7 1.4-1.2 1.6-1.6 1.4-5.4 4-6.9 4-7.5 3.6-8.9 3.3-8 2.4zM696.4 272.5l-5 0.2-3.4-0.5-1.6-0.6-0.7-0.6-0.3-0.6 0-1 0.9-1.4 1.5-1.6 2.1-1.4 3.4-2 4.1-2 3.6-1.5 8-2.7 10.4-2.6 4.6-0.8 4.4-0.6 3.6-0.1 2.7 0.3 1.5 0.4 0.6 0.6 0.3 0.4-0.1 1-0.6 1-2.7 2.6-4.8 3-6.1 3-6.4 2.5-7.4 2.5-6.6 1.6zM371 510l-3 0.3-3.6 0-3.9-0.3-2.2-0.6-0.8-0.4 0.2-0.6 0.7-0.7 0.6-0.9 0-0.8-0.5-1-1.1-0.9-0.4 0-0.4 0.3-0.6 0.3-1.6-0.2-0.6-0.5-0.4-1.2-2-0.1-1.4 0.4-1.7 0.9-1.3 1.3-1.6-0.2-2.4-1.3-2.5-1.8-1.1-1.6-0.1-1 0.2-1 0.7-1 0.6-0.4 2.6-1.3 4-0.9 5.6-0.6 4.4-0.1 4.3 0.3 5.3 1 3.4 1.1 3.6 1.5 3.4 2 2.1 2 0.6 1 0.2 1-0.1 1-0.5 1-0.8 1-1.4 1-3.1 1.3z"/>
<path fill="#ff5a00" d="M683 126l-2.6 0.4-1.4-0.2-0.6-0.2-0.3-0.6 0.1-1 0.4-1 1.2-1.4 3-3 4.3-3.6 5.8-4 4.8-3 5.3-3 5-2.4 5-2.2 4-1.4 4-1 2.4-0.1 0.6 0.1 0.7 0.6 0.2 1-0.3 1-1 1.4-1.8 2-4.6 4-6.4 4.6-7.5 4.4-7.9 4-7 3zM685.4 205l-2.7 0-1.7-0.6-0.4-0.4-0.1-1 0.8-1.6 2.6-2.4 3.4-2.6 4.1-2.4 5.6-3 5.2-2.6 5.8-2.4 4.4-1.6 5-1.5 4.6-0.9 3.4-0.3 2.6 0.3 0.9 0.4 0.3 0.6 0.1 1-0.8 1.4-1.3 1.6-1.6 1.4-2.7 2-3 2-6.4 3.6-7.1 3.1-8 2.9-7 2zM699 271.5l-5 0.4-4-0.4-1.4-0.5-0.7-0.6-0.3-0.4 0-1 0.5-1 1.4-1.6 1.9-1.4 2.5-1.6 6.3-3 7.8-2.7 9-2.3 8.4-1.5 3.6-0.2 2.4 0.1 2 0.5 0.9 0.7 0.2 0.4-0.2 1-0.7 1-1.6 1.6-3.8 2.4-4.7 2.6-5.9 2.4-7.2 2.6-5.5 1.4zM370 509l-5 0.3-4-0.4-1-0.6-0.2-2.3-0.6-1-0.5-0.6-1.3-0.7-1.4 0.9-1.6-0.1-0.5-0.5-0.5-1.5-2-0.2-1.4 0.2-3.6 1.2-1.3-0.3-1.7-0.9-1-1.1-0.6-1 0.1-1.4 0.5-0.9 0.8-0.7 2.2-1 4-0.8 4.6-0.5 4 0 4.1 0.3 4.9 1 3.2 1 3.2 1.5 2.8 1.5 1.7 1.6 0.6 1.4-0.2 1-0.3 0.7-2 1.9-2.6 1.2z"/>
<path fill="#ff3d00" d="M685 124.6l-2 0.2-1.6-0.1-0.5-0.3-0.3-0.4 0.2-1 1.3-2 3.1-3 4.4-3.6 5.1-3.4 5-3 4.3-2.4 4.4-2.2 4-1.6 4-1.4 3-0.6 2 0 0.6 0.2 0.5 0.4 0 1-0.4 1-1.1 1.6-1.5 1.4-4 3.6-5.7 4-6.8 4-6.9 3.4-6.1 2.6zM689.4 203.5l-3 0.2-2-0.2-1-0.5-0.2-1 0.5-1 0.8-1 2.9-2.6 3.7-2.4 5.3-3 5.1-2.6 5.5-2.3 4.4-1.7 5-1.4 4-0.9 3-0.3 2 0.2 1 0.4 0.4 0.6 0.1 1-0.5 1-2.3 2.4-4 3-6 3.6-6.5 3-6.5 2.4-6.6 2zM697 271l-3-0.1-2.7-0.5-0.9-0.4-0.4-0.5-0.2-1.1 0.9-1.4 2.3-2 3.4-2 3.1-1.6 4.9-1.9 5-1.5 5.6-1.5 5-1 4.4-0.6 3.6-0.1 2.4 0.3 0.7 0.3 0.5 0.6 0.2 0.4-0.4 1-0.8 1-1.7 1.6-4.1 2.4-5.2 2.6-6.5 2.4-5.7 1.8-5.4 1.2zM368 507.5l-2.6 0.2-2.6-0.3-0.9-0.4-1-1.6-1.1-1-1.8-1-0.6-0.2-1 1.1-0.4 0.3-1.5-0.2-0.6-0.4-0.1-0.6 0-0.4 0.4-0.6-0.2-0.3-2.6-0.4-4.4 0.1-0.9-0.4-0.5-0.4-0.3-0.6 0-1 0.9-1 0.8-0.4 3.4-1 5-0.5 5 0.1 5 0.8 5 1.4 4 1.8 1.2 0.8 0.8 1 0.1 1-0.2 0.6-1.3 1-4 1.8z"/>
<path fill="#ff2100" d="M687 123l-2 0.2-1.3-0.2-0.4-0.6 0-0.4 0.8-1.6 1.8-2 2.3-2 6.9-5 8.5-5 4.1-2 3.6-1.4 3.1-1.1 2.6-0.6 2 0 0.6 0.1 0.4 0.4 0.1 0.6-0.4 1-2 2.6-4 3.4-5.1 3.6-5.9 3.4-5.9 3-5.8 2.5zM693 202l-3 0.4-2 0-1.4-0.4-0.5-0.6 0-0.4 0.4-1 1.4-1.6 3.9-3 6.1-3.4 7.4-3.6 6.7-2.4 6-1.6 4-0.3 1.4 0.3 0.9 0.6 0.1 0.4-0.2 1-1.6 2-3.2 2.6-4.8 3-5.1 2.4-6.1 2.5-6 2zM699.4 270l-3.4 0-2.6-0.4-1-0.6-0.3-0.6 0.2-1 0.7-1 1.1-1 3.9-2.4 5.7-2.6 6.3-1.9 6.4-1.6 6-1 4.4 0.1 1.6 0.4 0.4 0.6 0.1 0.4-0.4 1-1.5 1.6-3 2-5 2.4-5 2-5.6 1.8-5 1.2zM371.4 504.5l-3.4 0.3-4-0.2-2.6-0.6-5-1.8 0 0.2 0.4 0.6 0.1 0.4-0.2 0.6-0.7 0.5-1 0-0.9-0.5-0.1-0.9 1-1.1 0.7 0-4.1-1.6-0.4-0.4-0.1-0.6 0.5-0.4 1.4-0.7 4-0.5 5.4 0.2 5 0.9 4.6 1.5 1 0.6 1.2 1 0.3 0.4 0 0.6-0.3 0.4-1.2 0.7z"/>
<path fill="#ee0500" d="M688.4 121.5l-1.4 0-0.8-0.5 0.2-1 1-1.6 2.1-2 2.5-2 5.8-4 7.2-3.9 5.9-2.5 2.5-0.8 2-0.4 1.5 0.2 0.5 0.4 0.1 0.6-0.5 1-2.2 2.4-3.7 3-4.4 3-5.3 3-5.2 2.6-4.2 1.6zM692.4 201l-2-0.1-1-0.5-0.2-0.4 0.1-0.6 0.6-1 1.5-1.4 2-1.6 3.3-2 3.7-2 8-3.4 6.6-2 3-0.6 2 0 1.4 0.5 0.3 0.5 0 0.6-0.5 1-2 2-3.5 2.4-4.6 2.6-4.5 2-5.4 2-5.2 1.4zM701.4 269l-3 0.1-2.4-0.3-0.8-0.4-0.5-0.4 0-1 0.7-1 1.1-1 3.3-2 4.6-2 4.5-1.6 6.1-1.5 5.4-0.8 3.6 0 1.3 0.3 0.5 0.6 0.1 0.4-0.2 0.6-1.4 1.4-2.2 1.6-3.8 2-4.9 2-4.4 1.4-4 1zM370.4 503.5l-4 0.2-5-0.6-4.7-1.7-1.6-1-0.2-0.4 0.4-0.6 1.1-0.4 2.6-0.3 3.4 0.1 4.1 0.6 3.3 1 1.8 1 0.5 0.6 0.1 0.4-0.3 0.6zM356 504.5l-1.1-0.1-0.7-0.4-0.2-0.6 0.1-0.4 0.9-0.8 1 0 0.7 0.8 0.1 0.4-0.2 0.6z"/>
<path fill="#cb0000" d="M692 119.5l-1.6 0.1-0.8-0.2-0.2-0.4 0.1-0.6 1-1.4 1.6-1.6 5.5-4 5.1-3 5.3-2.4 2.9-1 1.5-0.4 1 0 1.1 0.4-0.1 1-1.6 2-2.3 2-3.6 2.4-4.2 2.6-3.9 2-3.5 1.4zM698 199l-2.6 0.3-1.4 0.1-1-0.3-0.4-0.7 0.1-0.4 0.8-1 2.5-2 4.2-2.6 5.2-2.5 5-1.8 4-1 3-0.2 0.6 0.1 0.7 0.4 0.1 0.6-0.2 0.4-1.2 1.6-1.9 1.4-3.2 2-4.1 2-3.7 1.6zM702 268l-2 0-1.6-0.3-0.6-0.3-0.4-0.3 0-0.7 0.2-0.4 0.9-1 2.3-1.6 3.1-1.4 4.3-1.6 5.2-1.3 4-0.7 3.6-0.1 0.5 0.1 0.9 0.6 0.1 0.4-0.2 0.6-0.9 1-2.2 1.4-3 1.6-3.7 1.4-4.1 1.4-3 0.7zM368.4 502.5l-2 0.2-3.2-0.3-3.5-1-0.8-0.4-0.3-0.6 0.6-0.4 1.2-0.3 4.1 0.3 3.5 1 0.8 0.4 0.2 0.6zM355.4 504.5l-1-0.4-0.3-0.7 0.3-0.7 0.6-0.3 0.4-0.1 0.6 0.1 0.4 0.4 0.3 0.6-0.3 0.6z"/>
<path fill="#a80000" d="M696 117l-2 0.4-0.6-0.1-0.3-0.3 0.5-1 0.9-1 3.9-3 4.1-2.6 4.4-2 2.5-0.7 1 0 0.6 0.3 0 0.4-0.2 0.6-0.9 1-3.8 3-5.2 3zM699 197.5l-1.6 0-0.4-0.2-0.4-0.3 0.1-0.6 0.9-1 1.3-1 3.3-2 4.3-2 4.5-1.4 3-0.4 1.2 0.4 0.1 0.4-0.3 0.6-0.9 1-3.8 2.4-5.7 2.6-3.2 0.9zM705.4 266.5l-2.4 0.2-1.6-0.1-0.8-0.6 0.1-0.6 0.9-1 2.5-1.4 2.3-1 3.2-1 3.8-0.9 2.6-0.3 2 0.1 0.6 0.5-0.1 0.6-1 1-2.6 1.4-5.1 2zM356 504.1l-0.6 0.2-1-0.3-0.1-0.6 0.1-0.4 1-0.5 1 0.5 0 0.7z"/>
<path fill="#8b0000" d="M700.4 113.6l-1 0.2-0.2-0.4 1-1 2.3-1.4 2.4-1 0.6 0 0 0.4-1.1 1-2.5 1.6zM704 194.5l-1-0.1 0.1-0.4 2.3-1.6 2.6-1 1-0.1 0.8 0.1-0.3 0.6-1.4 1-2.2 1zM708 264.5l-1.6 0.1-0.6-0.2 0.2-0.4 2-1.1 3-0.7 1 0.1 0.3 0.1-0.4 0.6-0.9 0.4zM356 504l-1.2 0-0.3-0.6 0.2-0.4 0.7-0.2 0.7 0.2 0.2 0.4z"/>
</g></g>
<rect x="134.0" y="36.0" width="394.10" height="363.00" fill="#fff"/>
<rect x="199.5" y="45.3" width="318.50" height="316.20" fill="#00007f"/>
<clipPath id="cib"><rect x="199.5" y="45.3" width="318.50" height="316.20"/></clipPath><g clip-path="url(#cib)"><g filter="url(#blI)">
<path fill="#000090" d="M463 71.3l-1 0.2-2 0-3-0.5-3-1.5-1.5-1.3-1.2-1.4-1-2.5-0.2-1.5 0.3-1.5 1-2 1.6-1.6 2-1.1 1.5-0.5 2.5-0.2 2.5 0.2 2 0.5 2 1 1.5 1.1 1.1 1.1 1 1.5 0.7 2-0.1 2.5-0.6 1.5-1.1 1.5-1.5 1.2-2 1zM472.5 113.5l-2.5 0.2-2-0.2-2.5-1.1-2.2-2.1-0.9-1.5-1-2.5-0.4-0.6-0.5-0.3-1 0.2-5.5 3-1.5 0.5-2.5 0.5-3 0-2.5-0.5-2-0.6-2-1.1-2-1.4-1.2-1.2-1.4-2-1.1-2.5-0.5-2.5 0.1-1.5 0.3-2 1-2.5 1-1.5 2.8-2.7 2.5-1.4 1.5-0.7 2-0.5 3-0.1 3 0.2 3 0.9 2 1.1 2.7 2.2 1.6 2 1.2 2 0.6 0.5 0.9 0.2 3 0 1.5 0.5 1 0.6 3 2.9 3 1.6 2.2 2.2 1 2 0.2 1 0.1 1.5-0.3 2-1.1 2-1.1 1.2-2 1.4zM487.5 114.5l-2 0-1.3-0.7-0.3-0.5-0.1-1 0.5-1.5 2.2-2.2 2-1.1 1.5-0.4 1-0.1 1 0.1 1 0.5 0.5 0.7 0.2 1-1 2-1.2 1.2-1.5 1.1zM420 148.9l-2.5 0.3-2.5-0.2-1.5-0.6-1.5-1-1.2-1.1-1-1.5-0.5-1.5-0.6-3-0.4-0.5-1.2-0.5-2.6-0.3-1.5-0.5-1.5-1.1-0.5-0.6-0.7-1-0.5-1.5 0.1-2 0.8-2 1.8-1.7 1.5-0.6 2.5 0 1.5 0.6 1 0.7 1.3 1.5 1.2 2.6 0.5 0.5 0.5 0 0.5-0.5 0.5-1.2 0.7-2.4 1.1-2.5 1.4-2 1.3-1.4 1.5-1.4 3-1.9 2.5-1.2 2.5-0.6 0.5-0.3 3.5-0.5 2.5 0.1 0.7 0.2 1.8 0.2 3 1.1 1.5 1 1.8 1.7 1 1.5 0.5 1.5 0.2 1.1 0.5 0.6 3-0.1 1.5-0.5 2.5 0.1 2 0.5 3 1.9 1.5 0 2-0.4 2-0.1 1.5 0.1 1.5 0.5 4 2.4 2 0.7 2 0.9 2.3 2.3 0.5 1 0.4 1.5 0 1-0.4 2-0.6 1-1.2 1.3-0.5 0.5-2 0.9-2.5 0.1-1.5-0.5-1-0.5-3.5-3.4-1.5-0.5-1.5-0.1-2-0.7-1.5-0.8-2-1.9-1 0-0.5 0.4-0.5 0.1-2 1.4-0.6 0.2-0.4 0.4-0.6 0.1-0.4 0.4-3.8 1.1-0.8 0.5-0.6 1.5-0.8 0.8-0.5 0.4-1.5 0.6-2 0-1.5-0.6-1.3-1.2-0.4-2-0.3-0.2-1.5 0.2-0.5 0.3-1.1 0.2-0.4 0.3-3 0.7-2.2 1-1 1-1.6 2.5-1.2 1.1-1 0.7zM491.5 193.4l-2 0.2-2.5-0.2-3.5-0.8-2.5-1.1-4-2.5-2.5-2.2-3.5-4-2.5-2-3.7-2-1.8-0.7-0.5-0.4-0.5 0-0.4-0.4-3.1-1.2-1.4-0.8-3.1-1.2-0.3-0.3-0.7-0.2-0.4-0.3-0.6-0.1-0.5-0.4-2-0.5-1.8 0.5-0.7 0.4-0.7 0.1-0.3 0.3-1 0.1-0.5 0.4-0.8 0.2 1.8 0.2 0.5 0.3 2.5 0.1 0.7 0.4 1.3 0.2 0.4 0.3 0.6 0.1 1 0.6 0.8 0.8 0 0.5-0.8 0.8-1.5 0.6-3.5 0.2-4-0.2-0.5-0.1-0.5-0.3-1.5-0.1-1-0.5-1.5 0-0.8 0.1-1.7 0.8-2 0.5-2 0-2-0.5-1-0.5-0.8-0.8-0.1-1 0.1-0.5 1.3-1.2 2.1-0.8-0.1-0.5-0.5-0.1-0.6 0.1-0.4 0.3-2.1 0.7-0.4 0.3-1 0.2-0.5 0.4-1 0.1-0.5 0.4-0.8 0.1-0.7 0.4-1 0.1-0.5 0.4-1 0-0.5 0.4-2.1 0.2-0.9 0.4-2 0-1-0.3-0.9-0.6-0.7-1-0.4-0.1-1.5 0-1 0.4-2.1 0.2-0.9 0.3-6.5 0-0.8-0.3-1.7-0.2-0.5-0.3-1-0.2-0.5-0.3-1-0.3-1.5-0.9-2.2-1.8-1.1-1.5-1-2-0.1-2 0.1-2.5 1-2.5 2.1-3 1.7-1.7 3.5-2.6 1.7-0.7 0.3-0.3 0.7-0.2 0.3-0.3 2.2-0.7 0.3-0.3 1.4-0.2 0.6-0.4 1.5-0.1 1-0.4 2.5-0.1 1.5-0.3 3.5 0.1 2.5 0.5 1.5 0.5 2 0.9 1.5 1 3 2.9 1-0.1 0.5-0.4 1.2-0.1 0.3-0.3 1-0.1 2 0 1 0.9 0.4 0.5 0 1.5-1 2-2.9 2.9-0.5 0.1-1 0.9-0.5 0.1-1.2 1-0.4 0.5-0.1 0.5 0.2 0.1 0.7-0.1 0.3-0.3 1-0.2 0.5-0.4 0.7-0.1 0.3-0.3 1-0.2 0.5-0.4 0.7-0.1 0.3-0.3 1.2-0.2 0.3-0.3 1.2-0.2 0.3-0.3 1.3-0.2 0.7-0.4 1.3-0.1 0.7-0.4 1.9-0.1 0.6-0.3 3-0.2 0.5-0.2 2.2-0.3 0.8-0.3 4-0.5 2 0 4.5 0.5 0.8 0.3 1.7 0.2 0.4 0.3 1.1 0.1 0.5 0.4 1 0.2 0.4 0.3 2.1 0.7 0.3 0.3 1.7 0.8 3 1.9 5.5 4.4 1.6 0.9 1.6 0.5 4.3 0.8 1.5 0.5 3 1.4 2.5 1.6 2.6 2.2 2.1 2.5 1.4 2.5 0.6 2 0 2.5-0.7 2-1.5 1.6-2 1.1zM442.2 168.3l-0.1-0.5-0.6-0.2-1 0.1-1 0.6 0.5 0.2zM331 180l-1 0.1-0.5-0.1-0.8-0.7-0.5-1-0.1-2.5 0.1-1.5 1.5-3 1.3-1.3 1-0.6 1.5 0.1 1.3 1.3 0.1 1.5-0.1 2.5-1 2.5-1.3 1.6zM394.5 198.9l-1.5 0.1-2.5-0.5-1-0.5-1.5-1-0.6-0.7-1.2-2-0.5-1.5 0-2 0.5-2 0.5-1 1-1.5 1.8-1.7 3-1.6 2.5-0.4 1 0 2 0.4 1.5 0.7 1.9 1.6 0.8 1 0.5 1 0.4 3-0.3 2-0.5 1-0.5 1-1.3 1.6-2 1.6-1 0.6-1.5 0.5zM298 196.3l-1-0.1-0.8-0.4-0.5-1 0.3-1.5 1-1.3 1-0.9 1.5-0.8 2-0.6 1 0 1.4 0.6 0.3 0.5 0.1 1-0.4 1-0.7 1-1.2 1.1-1 0.6-1 0.5zM292 272.1l-1.5 0.1-1-0.9-0.4-0.5-0.5-2 0.5-3 1.6-3 1.8-2.5 0-1-0.6-0.5-1.9-0.5-0.8 0-0.6 0.5 0.4 3.5-0.3 2.5-0.5 1-0.7 1-2 1.7-1.5 0.6-1.5 0.1-2-0.1-2-1-1-0.9-1.1-1.4-0.6-1.5-0.3-1.3-1.3-2.7-0.1-2.5 1.1-2 2.4-2.5 0.2-1-0.2-0.5-2.4-3-1.5-3-0.4-2-0.1-1.5 0.1-1.5 0.4-1.5 1.1-2.5 2.2-2.7 2-1.6 1.5-0.9 4-1.6 4.5-1 4.5-0.1 4.5 0.6 0.6 0.3 1.4 0.2 0.5 0.3 1.5 0.3 1-0.2 1-1.6 0.1-0.5 0.5-0.5 0-0.5 2-2.5 0.1-1-0.2-0.5-0.2 0-0.8 0.4-1.5 1.4-0.5 0.1-0.5 0.5-1.6 0.6-0.4 0.4-1.2 0.1-0.8 0.3-2 0-1.5-0.5-1-0.6-1.3-1.2-0.5-1-0.5-1.5-0.2-1.8-0.4-0.7-0.6-0.2-1.5-0.1-1-0.5-3-3.2-2-1.2-1.8-1.8-0.5-1-0.4-1.5 0-1 0.4-1.5 0.5-1 0.8-0.9 1-0.9 1-0.5 2-0.2 1.5 0.2 2 1 1.7 1.8 0.6 1 1 2.5 0.2 2.9 0.5 1.6 1-0.4 1.5-1.4 0.5-0.1 1-0.8 3-1.2 3.5 0.1 2 1 1.5 1.4 0.5 0 1-0.5 1-1 0.5-0.1 0.5-0.4 0.7-0.1 0.3-0.3 1.9-0.2 1.9-0.5 1-1.5 1.7-1.2 1.5-0.6 1.3-0.2 0.7-0.5-0.3-0.5-2.7-1.1-2.4-2.4-0.1-0.5-0.4-0.5-0.1-0.7-0.3-0.3-0.4-3.5 0.4-2 1-2 2.3-2.3 0.7-0.2 0.3-0.3 2-0.4 2.5 0.4 1.5 1 1.4 1.3 0.9 1.5 0.6 1.5 0.1 1.1 0.4 0.9 0.1 2.5 0.3 1 0.2 2 0.3 1 0.1 6.5-0.1 0.5-0.6 1-0.7 0.7-1 0.6-7.5 0-0.3 0.2 0.3 1.4 0.9 1.6 0.1 0.8 0.4 0.7 0.1 3.6 0.5 0.6 1.5-0.6 1.5-0.1 2 0.2 1 0.5 2.3 2.3 0.7 2 0.5 0.2 1-0.2 1.5-0.9 1.5-0.3 1.5 0.4 1.3 1.3 0.2 0.7 0.3 0.3 0.2 1.4 0.3 0.6 0.1 4-0.4 1-0.1 2-0.4 0.7-0.1 1.3-0.4 0.4-0.1 1.1-0.4 0.5-0.2 1-0.3 0.3-0.1 0.7-0.4 0.4-0.1 0.6-0.4 0.4-0.1 0.6-0.4 0.4-0.2 0.6-0.8 1-0.2 0.5-0.8 1-0.2 0.5-1.3 1.3-2 1.4-0.7 0.3-0.4 0.5-0.4 0.7-0.1 2.3-0.4 0.7-0.2 1.3-0.3 0.3-0.1 0.7-0.4 0.4-0.1 0.6-1 1.5-2.9 2.9-2 1-1.5 0-1-0.2-0.8-1.2-0.1-4.5 0.4-0.7 0.1-0.8 0.4-0.5 0.1-0.5 0.5-1 0.4-0.5 0.1-0.5 1.9-2-0.2-0.5-1.1 0-1.2 0.4-6.7 0.1-0.3 0.3-0.9 0.2-0.1 0.5 0.6 2-0.4 1.5-1.7 1.8-2.5 1.5-2.5 1-2.5 0.5-3.5 0.2-0.5 0.7-0.1 0.8-0.4 0.4-0.2 1.1-0.3 0.3-0.1 0.7-1 1.5-3.4 3.4zM309 202.8l-1 0.2-1.1-0.7-0.6-2 0.5-2.5 1-2 1.7-2.2 1.5-1.1 1-0.5 1 0.1 0.5 0.2 0.8 1 0.1 1.5-0.2 2-0.9 2-1 1.5-1.8 1.8zM342 222.5l-0.5 0-0.5-0.3-0.7-1.4 0-1 0.4-2 0.5-1.5 0.3-0.3 0.8-1.7 1.7-2 1-0.8 1-0.2 0.5 0.2 0.8 1.3 0 1-0.5 2.5-0.5 1.5-1.5 2.5-1.8 1.8zM324.6 247.3l0.5-0.5 0-3.5 0.4-1.1 0.2-1.9 0.3-0.4 0.1-1.1 0.9-2.2 0.1-0.8 0.4-0.5 0.2-1 0.3-0.5 0-0.5-0.5-0.2-2 0-1.5-0.5-1-0.5-1.7-1.8-0.7-1.5-0.1-0.8-0.5-0.4-0.5 0.1-1.5 1-0.7 0.1-0.3 0.3-1.2 0.2-1.3 0.8-0.2 0.7-0.3 0.3-0.7 2.2-0.3 0.3-0.2 0.7-0.8 1.3-0.1 0.7 0.6 0.5 1.5 0.1 0.4 0.4 1.6 0.1 0.4 0.4 1.1 0.1 0.4 0.4 0.6 0.1 0.4 0.4 0.6 0.1 1 0.9 0.5 0.3 1.4 1.7 0.1 0.6 0.3 0.4 0 1-1.1 2-1.3 1 0.1 0.3 0.5 0.2zM337 265.3l-1.5 0.1-1.5-0.3-1-0.7-0.7-1.1 0.1-1 1.1-1.1 1.5-0.6 2 0 1.5 0.6 1.1 1.1 0.1 1-0.7 1.1-1 0.7zM312.5 279.7l-1 0-0.5-0.4-0.5-0.1-1-1-1 0.1-0.5 0.4-0.7 0.1-0.3 0.2-1.5-0.4-0.8-0.8-0.2-0.6-0.4-0.4-0.4-3.5-2.7-1.7-1.2-1.3-0.5-1 0.1-2 0.5-1 1.1-1.1 2-1.2 2.5-0.9 3-0.2 3 0 1 0.1 3 1 2 1.2 1.1 1.1 0.6 2-0.1 1-0.5 1-1.6 1.6-1 0.6-2.1 0.8-0.8 0.5 0.2 0.5 1.1 1.5 0 2-0.1 0.5-0.8 0.9-0.5 0.1zM246 291.5l-1 0.1-1-0.6-0.4-0.7 0-1.5 0.6-1 1.1-1 0-0.5-1.1-2-0.5-3.5 0.5-3 0.3-0.3 0.2-0.7 1.3-1.3 0.5 0 0.5 0 0.8 0.8 0.9 2 0.2 4-0.1 1-0.5 1.5-1.4 2 0.5 1.5 0 2zM285 283.4l-0.5 0.1-1.2-0.7-0.5-1-0.1-1.5 0.3-0.4 0.3-1.1 0.3-0.5 1.4-1.2 1-0.2 0.5 0.2 0.8 0.7 0.4 1.5-0.1 0.5-0.3 1.5-1.3 1.5zM228.5 292l-1 0.1-1.1-0.8-0.5-1.5 0-0.5 0.3-1.5 0.6-1 0.7-0.7 1-0.5 0.5-0.1 1.2 0.8 0.5 1 0.1 1-0.6 2-0.7 0.9zM235 343.5l-1 0.2-2-0.1-1.5-0.5-1-0.7-0.7-0.6-0.6-1-0.5-1-0.2-1-0.8-1-0.7-0.5-3-1.1-0.4-0.4-0.6-0.2-1.5-1-2.4-2.3-1.1-1.5-2.5-1.7-0.8-0.8-1-1.5-0.5-1.5-0.2-3 0.2-2.5 0.5-1.5 0.6-1 1.7-2 1.5-2.5 0.4-1.5-0.4-2.5 0.2-2 0.6-1.5 1-1.5 1.2-1.3 2-1.4 1.5-0.6 2 0.1 1 0.4 1.2 1.3 0.6 2 0.4 0.5 1.3 0.1 1.8-0.6 0.7-0.5 0.1-0.5-1.8-2-0.6-1-0.5-1.5 0.1-2.5 0.5-1.5 0.7-1 0.5-0.7 2-1 1.5 0 1.5 0.3 1.5-0.5 1.5-0.9 2.5-0.1 1.5 0.6 1.2 1.3 1.1 2 0.4 2.5-0.4 3-0.3 0.3-0.1 0.7-0.4 0.4-0.2 0.6-1.8 2-0.6 2 0 2 1.3 2 1.3 3.3 0.5-0.5 0.2-1.3 0.3-0.5 0.2-1.5 0.3-0.5 0.1-1 0.4-0.7 0.1-0.8 0.4-0.7 0.1-0.8 0.5-0.5 0-0.5 0.4-0.5 0.6-1.5 1.2-1.5 1.2-0.8 0.5 0.1 0.7 0.7 0.2 0.5 0.3 2.5-0.4 4-0.3 0.6-0.1 1.4-0.4 0.8-0.1 1.2-0.4 0.5-0.1 1-0.4 0.4-0.7 2.1-1.5 2.5-0.8 0.8-1 0.5-0.5 0-1.5-1-2.1 3.7-2.9 2.8-1.2 0.7-0.8 0.8-0.1 1.2 0.4 0.5 0.2 1.3 0.3 0.7 0 4 0.1 1.5 0.4 1 0 2.5-1 2-1.8 1.7zM221.4 321.3l1.1-0.9 0-1-0.5-1.3-0.3-0.3-0.2-0.2-1 0.1-1 0.6-0.4 1 0.3 1.5 0.6 0.6zM221 343.5l-1 0-0.5-0.3-0.9-0.9-0.4-1 0.1-1 0.5-1 1.2-0.8 1 0 1 0.6 0.7 1.2 0 1.5-0.7 1zM226 349.1l-1.5 0-0.7-0.8-0.2-1.5 0.1-1.5 0.5-1 1.3-1.3 1-0.3 0.5 0 0.5 0.3 0.7 0.8 0.2 1-0.1 1.5-0.3 0.3-0.1 0.7-0.8 1z"/>
<path fill="#00009f" d="M463.5 70.9l-3 0.3-3-0.5-1.5-0.5-1.6-0.9-2.3-2-1.1-2-0.4-1.5-0.1-1 0.3-1.5 0.4-1 0.7-1 1-1 1.6-1 2-0.8 2-0.3 2 0.1 2 0.4 2 0.8 1.5 0.8 1.6 1.5 1.1 1.5 0.6 1.5 0.2 2-0.4 1.5-0.8 1.5-1.3 1.4-1.8 1.1zM471.5 113.3l-2 0.1-1.5-0.2-1.5-0.6-1.5-1-1-0.9-1-1.4-1.5-3.9-0.5-0.5-1 0.1-4 2.4-2 0.9-2 0.6-2 0.3-2 0.1-3-0.3-2-0.6-2.5-1.3-1.8-1.3-1.7-1.8-1.1-1.7-1-2.5-0.3-2.5 0.2-2 0.6-2 1-2 1.6-2.1 2.5-1.9 2-1.1 3.5-1 2.5-0.1 2.5 0.2 3 0.8 2.4 1.2 1.6 1.2 1.3 1.3 2.8 4 0.9 0.4 3 0 2 0.5 1.5 1.1 2.5 2.5 3.5 2.1 1.6 1.9 0.9 2 0.2 1.5-0.2 1.8-0.6 1.7-1.1 1.5-1.3 1.1-1.5 0.9zM488.5 113.9l-2 0.4-1-0.2-0.7-0.3-0.4-0.5-0.2-1 0.5-1.5 1.4-1.5 1.4-1 1.1-0.5 2.4-0.5 1.6 0.5 0.4 0.5 0.2 1-0.5 1.5-0.8 1-1.2 1zM419 148.8l-2 0.2-2-0.4-1.9-0.8-1.3-1-1-1-0.8-1.5-0.5-1.5-0.3-2.5-0.6-1-0.6-0.2-3-0.4-1.5-0.4-1.5-0.9-1-1.1-0.6-1-0.2-1-0.1-1 0.2-1.5 0.5-1 0.7-1 1.4-1 1.6-0.6 2 0.1 1.5 0.6 1.1 0.9 1.1 1.5 1.3 3.2 0.5 0.3 0.5-0.1 0.5-0.6 0.5-1.1 0.9-3.2 0.9-2 0.5-1 2.1-2.5 1.1-1.1 3-2.1 3-1.5 3.5-1 3.5-0.3 2 0 2 0.3 3 1 2 1.3 1.5 1.4 1.2 2 0.8 2.5 0.5 0.5 1 0 3.5-0.7 2 0 2.5 0.7 2.5 1.6 1 0.4 4.5-0.7 1.5 0.1 1.5 0.4 4.5 2.5 3 1.2 1.5 0.9 1.5 1.6 0.8 2 0.1 1-0.1 1.5-0.9 2-1.5 1.5-0.9 0.6-1.5 0.4-1.5 0.1-2-0.5-1.5-1-2-2.2-1-0.7-4.5-1.1-1.9-1.1-1.6-1.5-0.5-0.3-0.5 0-1 0.3-4.5 2.6-4.2 1.4-0.6 0.5-0.7 1.5-0.5 0.6-1 0.6-1 0.3-1 0.1-1-0.1-1-0.3-1-0.6-0.7-1.1-0.1-1.5-0.3-0.5-1.9 0.3-5.4 1.7-1.3 0.5-1.3 0.9-2 2.8-1.4 1.3-1.6 0.9zM492 192.9l-2.5 0.4-2.5-0.2-3-0.7-3-1.2-2.4-1.4-2.1-1.5-2-1.9-3.2-3.6-2.8-2.2-4.5-2.3-13.7-6-1.3-0.1-5.8 2.1 0.8 0.3 4 0.4 2 0.5 1.5 0.6 1 0.6 0.5 0.6 0 0.6-0.5 0.5-2 0.7-3 0.1-3.5-0.1-4-1-1.5-0.1-1 0.2-2 0.8-2 0.4-1 0-2-0.4-1.4-0.7-0.5-0.5-0.3-1 0.2-0.5 1-0.9 2.6-1.1-0.2-0.5-0.9-0.2-1 0.2-4 1.7-4.5 1.5-2 0.5-3 0.5-1.5 0-1-0.3-0.6-0.4-0.9-1.2-0.5-0.1-6.5 1-5 0-2.5-0.5-3-1-2-1.1-1.9-1.6-1.2-1.5-1.1-2.5-0.1-1.5 0.1-2 0.7-2 1.3-2.5 2.3-2.5 1.9-1.7 1.5-1 2.5-1.4 4-1.6 4.5-1.1 4-0.3 4 0.3 3.5 1.1 2 1 1.5 1 2.1 2.2 0.4 0.2 1-0.1 1-0.4 2-0.5 2 0.1 0.9 0.7 0.3 0.5 0.1 1.5-1 2-2.8 2.7-2.2 1.3-1.2 1-0.6 1 0.5 0.2 1-0.2 1.5-0.7 2.2-0.8 0.3-0.3 3-1 5.5-1.5 5-0.5 4.5-0.9 3-0.3 5.5 0.2 3 0.6 4.5 1.5 4 2 3 2 5 4 1.5 0.9 1.5 0.5 4.5 0.9 3.5 1.4 3 1.8 2.7 2.2 1.8 2.1 1.5 2.4 0.7 2 0.2 2-0.4 2-0.9 1.5-1.6 1.3zM440.1 168.8l2.5-0.5-0.1-0.5-1-0.5-1 0.3-1.2 0.7 0.2 0.5zM330.5 179.8l-1-0.1-0.5-0.4-0.6-1-0.2-1.5 0.1-2 1-2.5 1.2-1.6 1.5-1 1.5 0 0.7 0.6 0.5 1 0.1 2-0.2 1.5-0.5 1.5-0.9 1.5-1.7 1.7zM396 198.4l-2 0.3-1.5-0.1-1.5-0.2-1.5-0.7-1.5-1.1-1.1-1.3-0.5-1-0.4-2 0-1.5 0.3-1.5 0.7-1.5 1.1-1.5 1.6-1.5 1.8-1.1 1.5-0.5 1.5-0.3 1.5 0 1.5 0.3 1.5 0.5 1 0.6 1.1 1 0.9 1.3 0.5 1.2 0.3 1.5-0.2 2.5-0.5 1.5-1 1.5-2.1 2.1-1.5 0.9zM299 195.9l-1.5 0-1-0.6-0.3-0.5 0.1-1 0.9-1.5 1.3-1.1 2-0.9 2-0.2 1 0.6 0.3 0.6 0 0.5-0.3 1-0.5 0.7-1.5 1.3-1 0.6zM291.5 272l-1-0.1-1.3-1.1-0.3-2 0.3-2.5 0.5-1.5 2.9-4.5 0.1-1-0.7-0.7-2-0.5-1 0-0.6 0.2-0.2 0.5 0 0.5 0.5 3-0.3 2.5-0.5 1-0.9 1.2-1 0.9-1 0.5-1 0.4-1.5 0.2-1.5-0.1-1-0.3-2.1-1.3-1.5-2-0.9-3-1.1-2-0.1-2 0.5-1.5 0.6-1 2.5-2.5 0.2-0.5 0-0.5-3.2-4.5-1-2.5-0.4-3 0.4-3 1.5-3 2.3-2.5 3.3-2.2 3.5-1.4 2.5-0.6 3-0.4 3-0.1 4.5 0.5 4.2 1.2 0.8 0.1 0.5-0.3 0.5-0.7 1.4-2.6 1.6-2.1 0.4-0.9 0-0.5-0.4-0.7-0.5 0.1-3 2.3-2.5 1.1-2 0.3-1 0-1.5-0.3-1-0.5-1-0.8-1.1-1.5-0.5-1.5-0.4-2.5-0.4-0.5-2.1-0.1-1-0.5-3-3.1-2.5-1.7-1-1.1-0.5-1-0.4-1.5 0-1 0.4-1.5 0.5-1 0.9-1 1.1-0.7 1-0.4 1.5-0.2 1 0.1 2 0.9 1.5 1.3 1.5 2.5 0.6 2 0.4 3.9 0.5 0.4 3.5-2.5 2-1 1.5-0.4 2.5-0.1 2 0.6 2.5 1.9 1-0.3 2.5-1.7 1.5-0.6 2.2-0.2 1.3-0.3 1.2-1.7 0.8-0.7 1-0.5 2.8-0.8 0.5-0.5-0.3-0.5-2-0.8-1.5-1-1.2-1.2-1-1.5-0.5-1.5-0.3-2 0.4-3 0.4-1 1-1.5 1.2-1.2 1-0.6 1-0.4 1-0.2 2.5 0.2 2 1.1 1.1 1.1 1 1.5 0.6 1.5 0.5 2.5 0.2 2.5 0.8 4.5 0.1 4.5-0.1 1-0.7 1.4-0.6 0.6-0.9 0.5-1 0.2-6.5-0.1-0.5 0.2-0.1 0.2 0 0.5 1.4 2.5 0.4 1.5 0.3 4 0.5 0.4 2-0.6 1.5-0.1 1 0.1 1.5 0.6 1.7 1.6 1.3 2.8 0.5 0.2 2.5-1.2 1-0.2 1.5 0.2 1.1 0.7 1.1 2 0.5 2 0.1 2-0.6 4.5-1.4 4.5-1.6 3.5-3.1 4.5-2.1 1.7-1.4 0.8-0.4 0.5-0.4 1-0.1 2-1 3-1.4 2.5-2.8 2.7-2 1-2 0-0.8-0.7-0.5-1.5 0-3 0.5-2 1-2 1-1.5 1.4-1.5 0-0.5-1.6 0-2 0.3-6.1 0.2-1.1 0.5 0 0.5 0.4 1.5 0.1 1-0.4 1-0.9 1.1-2 1.5-2.5 1.1-2.5 0.7-4.5 0.5-0.5 0.6-1.3 3.5-0.9 1.5-3.3 3.3zM309.5 202.4l-1.5 0.2-0.5-0.2-0.5-0.5-0.4-1.6 0.3-2 1.1-2.4 1.5-1.9 1-0.9 1-0.6 1-0.2 0.5 0.1 0.6 0.4 0.5 1 0.1 1.5-0.3 1.5-0.9 1.9-1 1.5-1 1.1zM342.5 222l-1 0.1-0.5-0.3-0.2-0.5-0.2-1.5 0.3-2 1.1-2.5 0.9-1.5 1.6-1.7 1-0.5 0.5 0 0.5 0.3 0.3 0.4 0.2 1-0.4 3-1.4 3-1.1 1.5zM324.8 247.3l0.4-0.5 0-3 0.5-3 1-3.5 1.3-3.1 0.2-0.9-0.2-0.3-0.5-0.2-1.5 0.1-2-0.5-1-0.6-1.1-1-0.6-1-0.8-2.2-0.5-0.2-2 1.1-1.5 0.6-1 0.2-1 0.6-0.5 0.9-0.2 1-0.7 1.5-1.1 2-0.2 1 0.7 0.6 1 0.1 3.5 0.9 1.5 0.6 1.5 1 2.3 2.3 0.4 1.5-0.4 1.5-0.8 1-1.2 1 0 0.5zM337.5 264.9l-2 0.2-1.5-0.4-1-0.9-0.3-1 0.2-0.5 1.1-1 1-0.3 1.5-0.1 1.5 0.4 1.1 1 0.1 1-0.6 1zM312.5 279.5l-1 0-1-0.5-1-1-0.5 0-1 0.6-1 0.2-1-0.2-1.1-0.8-0.6-1-0.4-3.5-0.4-0.5-2.5-1.6-0.8-0.9-0.5-1-0.2-1 0.2-1 0.6-1 1-1 1.7-1 2-0.8 2-0.4 3 0 2 0.1 3 0.9 2.1 1.2 1.1 1 0.5 1 0.2 1-0.2 1-0.5 1-1.7 1.6-3.2 1.4-0.7 0.5 1.7 2 0.1 1-0.3 1.5-0.6 0.7zM246.5 291l-1 0.3-1-0.2-0.5-0.5-0.3-0.8 0.1-1 0.4-0.5 1.5-1.5 0-0.5-0.9-1.5-0.6-1.5-0.2-2.5 0.3-2.5 0.6-1.5 0.4-0.5 0.7-0.5 0.5-0.1 1 0.6 0.6 1 0.6 2 0.1 1.5-0.1 2-0.6 2-1.6 2 0.7 1.5 0.1 1-0.2 1zM285.5 283l-1 0.2-0.9-0.4-0.5-1-0.2-1 0.4-1.5 0.5-1 1.2-0.9 1-0.2 1 0.6 0.4 1 0 1-0.2 1-0.5 1zM229 291.4l-1 0.4-1-0.3-0.6-0.7-0.3-1 0.2-1.5 0.7-1.3 1-0.9 1-0.2 1 0.5 0.4 0.9 0.1 1-0.3 1.5-0.6 1zM234.5 343.4l-1 0.1-1.5-0.1-2.3-1.1-1.3-1.5-0.7-2-0.7-1-1-0.6-3-1.2-2.5-1.6-1.7-1.6-2.3-2.7-2.5-1.8-1-1.6-0.7-1.9-0.1-2.5 0.1-2 1-2.5 1.9-2.5 1.8-3.1 0.2-0.9-0.5-2.5 0.1-1.5 1-2.5 1.7-2 1.5-1.2 1-0.5 1.5-0.3 1 0 1 0.3 1 0.7 0.5 0.8 0.6 1.7 0.4 0.7 0.5 0.2 1-0.2 2.3-0.7 0.7-0.5 0.1-0.5-2.3-2.5-0.5-1-0.3-1.5 0.1-2 0.3-1 0.6-1.2 1-1 1.5-0.7 1-0.1 2 0.3 3.5-1.5 2 0 1.5 0.7 0.6 0.5 1 1.5 0.7 2 0.1 2-0.1 2-0.6 1.5-2.4 3-0.6 3 0.1 1 1.4 2.5 1.3 3.3 0.5-0.5 1.3-5.3 1.5-4 1.7-2.8 1-1 0.5-0.2 0.5 0.1 0.4 0.4 0.4 1 0.1 2-0.1 3.5-0.6 2.5-1.4 4.5-1.6 3-0.7 1-0.5 0.5-1 0.6-0.5-0.1-1.5-1.2-1.3 2.7-1 1.5-2.2 2.2-2.5 1.8-0.3 0.5 0 0.5 0.9 3.5-0.1 3 0.6 3.5 0 1.5-0.4 1.5-1 1.5-1.2 0.9zM221.7 321.3l0.8-0.5 0.2-1-0.7-2.1-0.5-0.4-0.5 0-1 0.4-0.7 0.6-0.3 0.5-0.1 1 0.6 1.6 0.5 0.2 0.5 0zM221.5 343l-1 0.3-0.5-0.1-0.7-0.4-0.7-1-0.2-1 0.4-1 0.4-0.5 0.8-0.5 1 0 0.5 0.2 0.5 0.5 0.4 0.8 0.2 0.5-0.2 1-0.2 0.5zM226 348.9l-1 0.1-0.9-0.7-0.4-1 0-1.5 0.7-1.5 0.6-0.7 1-0.6 1 0 0.6 0.3 0.5 1 0.1 1.5-0.5 1.5-0.7 0.8z"/>
<path fill="#0000b1" d="M463.5 70.4l-3 0.4-2.9-0.5-2.6-1.1-2.3-1.9-1.2-2-0.4-1.5 0-1 0.5-2 0.6-1 0.9-1 1.4-1 1.5-0.7 2-0.4 2 0 2 0.3 2 0.7 1.5 0.8 1.5 1.3 1.1 1.5 0.6 1.5 0.2 2-0.3 1.5-0.9 1.5-1 1-1.6 1zM472 112.9l-2 0.2-1.5-0.2-1.7-0.6-1.6-1-1.2-1.2-0.8-1.3-0.6-1.5-0.6-2.6-0.5-0.8-0.5 0-0.5 0.2-4 2.7-2 1-3.5 1.1-2.5 0.2-3-0.3-2-0.5-2.5-1.2-1.9-1.3-1.6-1.6-1.3-1.9-0.8-2-0.5-2 0.1-2.5 0.5-2 0.9-2 1.6-2.2 2-1.7 2.5-1.4 2.5-0.8 3-0.4 2.5 0.2 3 0.7 2.4 1.1 1.6 1.1 1.5 1.4 3 4.4 1 0.4 3-0.1 2 0.6 1.5 1.1 2.5 2.5 3.3 2.1 1.4 1.5 0.7 1.5 0.3 1.5-0.1 2-0.4 1.5-1 1.5-1 1-1.6 1zM487 113.8l-1.5-0.2-0.7-0.8-0.1-0.5 0.2-1 1.1-1.5 1.5-1.1 2-0.8 1.5-0.1 1.3 0.5 0.3 0.5 0 1-0.4 1-0.7 0.9-1.4 1.1-1 0.5zM419.5 148.3l-2 0.3-2-0.2-2-0.8-1.5-1.1-1-1.2-0.8-1.5-0.3-1.5-0.2-2.5-0.3-1-0.9-0.4-4-0.2-2.1-0.9-1-1-0.7-1.5-0.2-1.5 0.2-1.5 0.5-1 0.8-0.9 1.5-1 1.5-0.3 2 0.3 1.5 0.9 0.9 1 0.8 1.5 0.8 3.1 0.5 0.5 0.5 0 1-0.8 0.5-1 1-3.8 1-2.5 1-1.6 1.6-1.9 2.4-2 2.5-1.6 2.5-1 3.5-1 3-0.3 2.5 0.2 3 0.6 2 0.9 1.7 1.2 1.4 1.5 0.9 1.6 0.7 2.4 0.3 0.5 0.5 0.2 4.5-0.7 2 0 2.5 0.7 2.5 1.7 1 0.4 4.5-0.7 1.5 0.1 1.5 0.4 4 2.2 3 1.3 1.7 0.9 1.5 1.5 0.8 2 0.1 1-0.1 1.5-0.9 2-1.6 1.5-2 0.8-2 0-1.5-0.5-1.5-1.1-2.5-2.5-1-0.4-3-0.7-1.5-0.5-1.5-1-1.5-1.5-0.5-0.2-0.5 0-6 3.3-4 1.3-0.5 0.5-0.8 1.5-0.5 0.5-0.8 0.5-0.9 0.3-2 0-0.9-0.3-0.8-0.5-0.7-1-0.1-1 0.2-1-0.2-0.4-1.5 0.2-7 2.2-2 1-2.3 3-1.2 1.1-1.4 0.9zM490 192.8l-2 0-2.5-0.3-2.3-0.7-2.3-1-2.4-1.4-2-1.5-4.9-5.1-3.1-2.4-7-3.4-10-4.5-1.5-0.4-1.5 0.1-3 1.3-2.8 0.8 0.8 0.4 4 0.4 2.5 0.6 1.5 0.6 0.8 0.5 0.4 0.5 0 0.5-0.5 0.5-1.2 0.5-1.5 0.2-5 0-4.5-1-1.5-0.2-1 0.2-2 0.8-1.5 0.3-1.5 0-2-0.3-1-0.5-0.6-0.5-0.2-1 0.2-0.5 0.6-0.6 3.2-1.4-0.3-0.5-0.9-0.4-1.5 0.3-4.5 1.8-4.5 1.5-2 0.5-2.5 0.3-1.5-0.1-1-0.3-0.6-0.6-0.4-0.7-0.5-0.3-1 0-4.5 0.9-3 0.2-3-0.1-3.5-0.6-2.5-0.9-1.8-1-1.4-1-1.3-1.5-0.9-1.5-0.6-2-0.1-2 0.4-2 1.1-2.5 1.9-2.5 2.2-2.1 3-2 3-1.5 4.5-1.5 3-0.5 3.5-0.3 4 0.3 3.5 1.1 3 1.7 2.5 2.5 0.5 0.2 4-1.1 1.5 0 1.2 0.7 0.4 0.5 0.1 1-0.5 1.5-0.6 1-2.1 2.2-4.1 2.8-0.7 1 0.2 0.5 1.6-0.4 5.5-2.3 5-1.5 2.5-0.5 5-0.5 4.5-0.9 3-0.3 3 0.1 2 0.2 4.5 1 4 1.5 3 1.6 3 2 4.5 3.6 2 1.3 1.5 0.6 4.5 1 2.7 1 3.5 2 3 2.5 1.8 2.2 1.3 2.3 0.6 2.5-0.1 2-0.6 1.5-1.3 1.5-1.9 1zM441.2 168.8l1.8-0.5-0.1-0.5-0.9-0.6-1 0-1.9 1.1-0.2 0.5zM331 179.5l-1 0.1-0.5-0.2-0.6-0.6-0.5-1.5 0-2 0.6-2 1.2-2 1.3-1.1 0.9-0.4 0.6 0 0.9 0.5 0.6 1 0.2 1.5-0.1 1.5-0.5 1.5-1.1 2-1 1.1zM395 198.3l-2 0.1-1.5-0.2-1.5-0.5-1.4-0.9-1.1-1.2-0.8-1.3-0.4-1.5-0.1-1.5 0.3-1.5 0.5-1.5 1-1.6 1.4-1.4 1.5-1 1.6-0.7 1.5-0.4 2 0 2.6 0.6 0.9 0.5 1.2 1 1.4 2 0.4 1.5 0.1 1.5-0.6 2.5-1.6 2.5-1 1-1.4 0.9-1.5 0.7zM300.5 194.8l-1.5 0.5-1-0.1-0.7-0.4-0.3-0.5 0-0.5 0.9-1.5 1.4-1 1.3-0.5 1.5 0 0.7 0.5 0.2 1-1 1.5zM291.5 271.8l-1-0.1-0.5-0.2-0.6-0.7-0.3-1 0-1.5 0.2-2 0.6-1.5 3-5 0.1-0.5-0.3-0.5-0.9-0.5-2.8-0.5-1 0.2-0.3 0.3 0.7 3.5-0.2 2.5-0.4 1-0.8 1.3-1 0.9-1 0.6-2 0.6-1 0.1-1.5-0.3-2-1.1-1.5-1.7-0.5-1-0.7-2.4-1.3-2.5 0-1.5 0.5-1.5 0.5-0.8 2.7-2.7 0.2-0.5-0.1-0.5-2.8-3.9-1.2-2.6-0.4-1.5-0.2-2 0.5-3 0.6-1.5 0.9-1.5 2.3-2.5 3-2 4-1.5 4-0.8 4.5-0.1 3.5 0.3 5.5 1.3 0.5-0.2 0.5-0.7 1.9-3.3 1.2-1.5 0.5-1 0-0.5-0.2-0.5-0.4-0.5-0.5 0.2-3 2.3-2 0.9-1.5 0.4-2.5 0-2-0.7-1.2-1.1-0.8-1.2-0.4-1.3-0.3-2.5-0.3-1-2 0.1-1.5-0.5-3-3.1-2.1-1.5-1-1-0.6-1-0.4-1.5 0.1-1.5 0.3-1 1.2-1.6 1-0.8 1-0.4 2-0.2 1.5 0.5 1 0.5 1.6 1.5 1.4 2.5 0.5 2 0.2 3.5 0.3 0.8 1-0.5 3-2.3 2-1 1.5-0.4 2-0.2 2 0.5 1.2 0.6 1.8 1.5 1-0.3 2.5-1.7 1.5-0.6 3.5-0.4 0.5-0.3 0.7-1.2 1-1 1.3-0.6 2.5-0.7 0.6-0.7-0.2-0.5-0.4-0.3-2-0.7-1.5-0.9-1.1-1.1-0.9-1.5-0.6-1.5-0.2-2 0.1-2 0.5-1.5 1.2-2 2-1.6 1-0.4 1.5-0.3 1.5 0.1 1 0.4 1.4 0.8 1.1 1.1 1.2 1.9 0.5 1.5 1.3 9.5 0.1 3.5-0.1 1.4-0.9 1.6-1.1 0.7-1.5 0.3-6.5-0.1-0.2 0.1-0.2 0.5 1.6 3.5 0.5 2 0.1 2.5 0.2 1.1 0.5 0.1 2.5-0.8 2 0.1 1.3 0.5 1.3 1 0.9 1.4 1 2.3 0.5 0 3-1.3 1-0.1 1.5 0.4 1 1.1 0.5 1.2 0.4 1.5 0.2 3-0.5 3.5-1.4 5-2 4-2.3 3.5-1.4 1.3-2.5 1.6-0.5 0.5-0.8 4.6-0.6 1.5-1.9 3-2.2 2-1 0.7-1 0.3-1.5 0.1-1-0.6-0.6-1-0.2-1 0.1-2.5 0.6-2 0.9-2 1.1-1.5 1.3-1.5 0.2-0.5-1.4-0.1-3 0.4-6.1 0.2-0.9 0.5 0 0.5 0.5 1.5 0 1-0.4 1-0.7 1-2.2 1.5-2.7 1.2-2.5 0.6-4 0.4-0.6 0.8-1.1 3-1.6 2.5-2.7 2.7-1 0.5zM308.5 202.3l-1-0.4-0.6-1.1 0-1.5 0.6-2 1-1.8 1.5-1.7 1.5-0.9 1-0.2 0.5 0.2 0.5 0.4 0.4 1.5-0.1 1.5-0.8 2-1 1.6-1 1.1-1 0.8zM342 221.8l-0.5-0.1-0.4-0.4-0.3-1 0.2-1.9 0.5-1.6 1-2 1-1.5 1.5-1.2 1 0 0.5 0.4 0.3 1.3-0.3 2-0.5 1.5-1 1.9-1 1.4-1 0.8zM325 247.3l0.3-0.5 0.1-2.5 0.5-3.5 1-3.5 1.3-3.5 0-1-0.2-0.2-3-0.1-1.7-0.7-1.1-1-0.7-1-0.9-2.5-0.1-0.2-0.5 0-2.5 1.4-2.3 0.8-0.7 0.4-2.9 6.6 0.4 0.5 3.5 0.8 3 1.1 1.5 0.9 1.8 1.7 0.6 1.5-0.1 1.5-0.5 1-1.7 1.5-0.2 0.5 4.1 0.2zM337.5 264.3l-1.5 0.3-1.5-0.3-0.7-0.5-0.3-0.4 0-0.7 0.5-0.7 1-0.5 1-0.1 1.5 0.3 0.8 0.6 0.2 0.5 0 0.5-0.3 0.5zM312 279.3l-1.4-0.5-1.1-1.1-0.5 0.1-1 0.6-1 0.2-1-0.1-1-0.8-0.7-1.4-0.1-2.5-0.2-0.9-2.5-1.7-0.9-0.9-0.5-1-0.1-1 0.2-1 0.6-1 1-1 1.8-1 1.9-0.6 2.5-0.4 2.3 0 2.7 0.4 1.8 0.6 1.8 1 1.1 1 0.5 1 0.2 1.5-0.3 1-0.7 1-1.3 1-1.1 0.6-3 1.1-1.6 0.3-0.2 0.5 0.3 0.2 1-0.5 0.5 0 1 0.5 0.7 0.8 0.5 1 0.1 1-0.4 1-0.9 0.8zM247 285.9l-0.5 0.2-0.5 0-1-1.2-0.6-1.6-0.2-2 0.2-2.5 0.5-1.5 0.6-0.9 0.5-0.3 0.5-0.1 0.5 0.2 0.5 0.5 0.5 0.8 0.6 2.8 0 2-0.4 1.5-0.7 1.5zM285 283l-1-0.2-0.5-0.5-0.3-1 0-1 0.3-1 0.6-1 0.9-0.7 1-0.2 0.5 0.2 0.5 0.7 0.2 1 0 1-0.7 1.6-1 0.9zM228.5 291.4l-1 0-0.5-0.2-0.5-0.7-0.1-1.2 0.1-1 0.5-1 1-0.9 1-0.2 0.5 0.1 0.5 0.6 0.2 1.4-0.1 1-0.4 1zM246 291l-1 0-0.5-0.2-0.6-1 0.1-0.7 0.5-0.9 1-0.8 0.5-0.2 0.5 0.4 0.4 0.7 0.2 1-0.3 1zM233.5 343.3l-2-0.3-1.5-0.7-1.3-1.5-1.1-2.5-0.3-0.5-0.8-0.5-3.5-1.5-2.4-1.5-1.6-1.5-2.5-3-2.5-1.9-1-1.6-0.4-1.5-0.3-2 0.1-2 0.6-2 0.5-1 1.7-2 2.1-3.5 0.2-1-0.5-2.5 0.1-1.5 0.9-2.3 1.3-1.7 1.1-1 1.1-0.7 1-0.4 1.5-0.2 1 0.2 1.1 0.6 0.7 1 0.7 2 0.5 0.5 1.5-0.1 3-0.9 0.6-0.5 0-0.5-2.5-2.5-0.8-2 0-2 0.2-1.1 0.5-1.1 1-1.2 1.1-0.6 1.4-0.2 2 0.2 3.5-1.6 1.5 0 1.5 0.5 1 0.8 1.2 1.8 0.5 1.5 0.1 2-0.2 2-0.9 2-2 2.5-0.8 3 0.2 1 1.9 3.5 1 3.4 0.5-0.9 1.3-5.5 1.6-4.5 1.6-2.6 1-0.9 0.5-0.2 0.5 0.1 0.4 0.6 0.3 1 0.1 1.5-0.1 3-0.5 2.5-1 3.5-1.6 3.5-1.1 1.7-1 0.9-0.5 0.2-0.5-0.1-0.5-0.5-1-1.5-1.3 3.3-1.2 2-2 2-2.8 2-0.1 1 0.8 3.5 0 3.5 0.5 3-0.1 2-0.6 1.5-1.2 1.3-1.5 0.9zM220.7 321.8l1.4-0.5 0.6-0.5 0.2-0.5-0.1-1-0.6-1.5-0.2-0.5-0.5-0.4-1 0.2-1 0.6-0.8 1.1 0 1 0.5 1.5 0.6 0.5zM221 343l-0.5 0-0.9-0.2-0.8-1-0.1-1 0.3-1 1-0.8 0.5 0 1 0.3 0.7 1 0.1 1-0.3 0.9zM225.5 348.8l-1-0.3-0.5-0.7-0.1-1 0-1 0.6-1.3 0.6-0.7 0.9-0.6 1 0 0.5 0.4 0.4 0.7 0.1 1-0.2 1-0.8 1.6-0.5 0.5z"/>
<path fill="#0000c4" d="M463.5 69.9l-2.5 0.4-3-0.4-2.5-1-2.1-1.6-1.3-2-0.4-2 0.3-2 0.5-1 0.8-1 1.4-1 1.8-0.8 1.5-0.3 2-0.1 1.5 0.2 2 0.7 1.5 0.8 1.5 1.2 1 1.3 0.6 1.5 0.2 1.5-0.2 1.5-0.6 1.3-1.1 1.2-1.4 1zM472 112.4l-2 0.2-1.5-0.1-1.8-0.7-1.4-1-0.9-1-0.9-1.5-0.5-1.5-0.5-3.2-0.5-0.8-0.5-0.1-0.5 0.2-2.8 2.4-2.3 1.5-2 1-2.4 0.7-2.5 0.3-3-0.2-2.5-0.6-2.5-1.1-2-1.5-1.5-1.6-1.3-2-0.7-2-0.3-2 0.1-2 0.4-2 1-2 1.5-2 1.8-1.6 2.4-1.4 2.6-0.9 2.5-0.3 3 0.1 2.6 0.6 2.4 1.1 2 1.3 1.5 1.5 2.5 4 0.5 0.5 1 0.4 3-0.2 2 0.6 1.1 0.8 2.4 2.5 3.1 2 1.5 1.5 0.8 1.5 0.4 1.5 0 1.5-0.4 1.5-0.9 1.5-1 1.1-1.3 0.9zM489 112.9l-1.5 0.4-1.5-0.3-0.5-0.7 0-0.8 0.3-0.7 0.9-1 1.8-1.1 1.5-0.4 1 0.1 0.5 0.3 0.4 0.6 0.1 0.5-0.4 1-0.9 1zM419.5 147.9l-2 0.3-2-0.3-2-0.8-1.6-1.3-1-1.5-0.5-1.5-0.1-2.5 0.4-2 0.3-0.5 2-1.9 0.5-0.8 1-4.3 0.7-2 1.1-2 1.5-2 2.2-2 3-1.9 3-1.3 3-0.7 3-0.3 2.5 0.1 2.7 0.6 2.3 1 1.5 1.1 1.5 1.6 0.9 1.8 0.6 2 0.5 0.8 1 0.1 3.5-0.7 2.5 0 2.5 0.6 1.1 0.7 1.4 1.2 1 0.4 4-0.8 2 0.2 1.5 0.4 4 2.2 3.3 1.4 1.2 0.7 1.5 1.6 0.7 1.7 0.2 1-0.2 1.5-0.3 1-0.9 1.3-1 0.9-1 0.5-1.1 0.3-1.4 0.1-1.5-0.4-1-0.5-2.7-2.7-1.3-0.8-3.5-0.9-2-0.8-2.5-2.3-0.5-0.2-1 0.4-4.5 2.7-5.4 1.9-0.5 0.5-0.7 1.5-0.6 0.5-1 0.5-1.3 0.2-1-0.1-1.5-0.7-0.5-0.7-0.2-0.7 0.6-2-0.4-0.4-9.6 2.9-1.9 1-2.4 3-1.1 1-1 0.6zM407.5 137.8l-2 0.1-2-0.5-1.5-1.1-0.7-1-0.4-1.5 0-1 0.3-1 1-1.5 1.3-0.9 1.5-0.4 2 0.3 1.4 1 1.1 1.5 0.5 2 0 2.5-0.3 0.5-0.5 0.5zM490.5 192.3l-2 0.2-2.5-0.3-2.5-0.7-2.5-1-2-1.2-2-1.5-5-5-3-2.3-6-3-11-4.9-2-0.7-1.5 0.2-3 1.2-4 1.3-5.5 0.2 0.6 0.5 1.4 0.2 4-0.6 5.5 0.4 2.3 0.5 1.3 0.5 0.9 0.5 0.4 0.5 0 0.5-0.6 0.5-1.5 0.5-1.3 0.1-4.5 0-6-1.3-1 0.1-3 1.1-2 0.1-1.5-0.2-1-0.4-0.6-0.5-0.3-0.5 0-0.5 0.2-0.5 0.7-0.6 1-0.4 2-0.5 0.5-0.5-1.5-0.9-0.5-0.1-1.5 0.3-7.5 2.8-3.5 0.9-2 0.3-1.5 0-1.2-0.3-0.6-0.5-0.4-1-0.8-0.3-5 1-3.5 0.3-3.5-0.2-3-0.6-2.1-0.7-2-1-1.8-1.5-1.1-1.3-0.9-1.7-0.4-1.5-0.1-2 0.4-2 1.1-2.5 1.8-2.5 2.2-2 2.9-2 3-1.5 3-1.1 4-0.8 3.5-0.3 4 0.2 3.5 0.9 3 1.6 3.2 3 0.8-0.1 3.5-1 1.5 0 1.1 0.6 0.3 0.5 0.2 1-0.5 1.5-0.6 1-2 2.1-4.3 2.9-0.7 1-0.1 0.5 0.1 0.1 1 0 6.5-2.6 5-1.5 3-0.6 4-0.3 5.5-1.1 3-0.2 3 0.1 3 0.4 2.9 0.7 4 1.5 3.7 2 2.9 2 4 3.3 2 1.4 1.5 0.7 5 1.1 2.5 1 3 1.8 2.7 2.2 1.7 2 1.2 2 0.7 2 0.1 2-0.6 2-1.2 1.5-1.6 1zM442.1 168.8l1.4-0.5-0.2-0.5-0.8-0.7-1-0.2-1.5 0.6-1.1 0.8-0.4 0.5 1 0.2zM330.5 179.4l-1-0.3-0.5-0.5-0.3-0.8-0.2-1.5 0.3-2 0.7-1.7 1-1.4 1.1-0.9 1.4-0.2 0.5 0.2 0.5 0.5 0.4 1 0.1 1.5-0.2 1.5-0.8 2-1 1.4-1 0.8zM396 197.8l-1.5 0.3-1.5 0.1-1.5-0.2-1.7-0.7-1.3-1-0.9-1-0.8-1.5-0.3-1.5 0-1.5 0.4-1.5 0.7-1.5 0.9-1.3 1.3-1.2 1.6-1 1.6-0.6 1.5-0.3 1.5 0 1.5 0.3 2.2 1.1 1.1 1 0.7 1 0.5 1.1 0.3 1.4-0.2 2.5-1.2 2.5-1.9 2-1.5 0.9zM292.5 271.4l-1.5 0.3-1-0.4-0.6-1-0.3-1.5 0.3-2 0.4-1.5 1-2 2.3-3.5 0.1-0.5-0.2-0.5-1-0.7-3-0.6-1 0-0.8 0.3-0.1 0.5 1 3.5-0.1 2-0.5 1.5-0.5 0.8-1 1-1 0.7-2 0.6-1.5 0-1-0.2-2-1.1-1.4-1.8-1-3-1.3-2.5-0.1-1.5 0.3-1 0.5-1 1-1.2 1.5-1.3 0.7-1-0.4-1-2.6-3.5-1.2-2.5-0.5-2-0.1-1.5 0.5-3 0.6-1.5 0.9-1.5 2.4-2.5 3.1-2 3.6-1.4 4-0.7 4.5-0.2 3.5 0.4 5.5 1.3 0.5-0.2 0.5-0.7 1.5-2.8 2-2.7 0.2-1-0.2-0.7-0.5-0.5-0.5 0.2-1.7 1.5-1.5 1-1.8 0.8-1.5 0.4-2.5 0-2-0.8-1.4-1.4-0.7-1.5-0.3-1.5-0.1-3.5-1.5 0.6-1 0.1-1-0.2-1-0.7-2-2.2-2.7-2.1-0.8-1-0.5-1-0.2-1 0.2-2 0.5-1 0.8-1 0.7-0.5 1.2-0.5 1.3-0.2 1 0.2 1 0.3 1.1 0.7 0.9 0.8 1 1.3 1 2.2 0.4 2.2-0.1 3.5 0.2 0.8 4-3.3 1.6-1 1.9-0.7 2-0.2 2 0.2 1.5 0.8 2 1.6 0.5 0 2.3-1.7 1.7-0.8 1.5-0.3 3-0.2 0.4-0.2 0.6-1.5 1-0.9 1.3-0.6 2.7-0.8 0.4-0.7-0.2-0.5-0.7-0.5-2-0.7-1.3-0.8-1.1-1-0.7-1-0.7-1.5-0.4-2 0.1-2 0.5-2 0.6-1.1 1-1.2 2-1.4 1-0.3 1.5-0.1 2 0.4 1.5 1 1 1 1 1.7 0.5 1.5 1.3 9 0.1 5-0.3 1-0.6 0.8-0.5 0.4-1 0.5-5 0-2.5-0.1-0.5 0.1-0.3 0.3 1.9 4 0.5 2 0.1 3.5 0.3 0.6 3-1 2 0.1 1.5 0.6 1 0.9 0.8 1.3 0.7 2 0.5 0.6 0.5-0.1 2.5-1.3 1.5-0.2 1.5 0.5 0.9 1 0.6 1.4 0.3 1.1 0.1 3.5-0.3 2.5-0.4 2-1.2 3.5-1.9 4-2.4 3.5-1.7 1.5-2.5 1.6-0.3 0.9-0.5 3.5-1 2.5-1.6 2.5-2.2 2-1.9 0.9-1.5 0-0.8-0.4-0.4-0.5-0.4-1-0.1-1 0.1-2 1-3 1.1-1.8 2.1-2.7-1.6-0.2-3 0.4-5 0.1-1.5 0.2-0.8 0.5-0.1 0.5 0.6 1.5 0 1-0.3 1-0.8 1-2.2 1.5-2.4 1-2.5 0.6-4 0.4-0.5 0.5-1.3 3.5-1.6 2.5-2.1 2.1zM309 201.8l-1-0.1-0.5-0.5-0.3-0.9 0.1-1.5 0.7-1.9 1-1.7 1.5-1.4 1-0.6 1.3 0.1 0.5 0.5 0.3 1-0.1 1.5-0.5 1.4-1 1.8-1 1.1-1 0.8zM342.5 221.3l-0.5 0.1-0.5-0.3-0.4-1.3 0.2-1.5 0.6-2 1.1-2 1-1.1 1-0.7 0.5-0.1 0.5 0.2 0.4 0.7 0.1 1-0.5 2.5-1.5 2.8-1 1.1zM325.2 247.3l0.3-0.5 0-2.5 0.4-3 0.9-3.5 1.4-3.5 0.4-1.5-0.1-0.2-0.5-0.2-2 0.1-1-0.1-2-1-1.3-1.6-0.8-2.5-0.4-0.6-3 1.7-3 1.2-0.5 0.7-0.9 2.5-1.7 3.5 0.3 0.5 0.3 0.1 3.5 0.8 2.5 0.9 2 1.1 1.6 1.6 0.7 1.5-0.1 1.5-0.7 1.2-1.6 1.3-0.4 0.5 4.5 0.2zM313 278.9l-1 0.3-1-0.3-1.5-1.4-0.5 0.1-1.1 0.7-0.9 0.2-1-0.1-1-0.9-0.6-1.2-0.2-3.5-0.2-0.3-2.5-1.7-0.9-1.5-0.2-1 0.2-1 1.2-1.5 1.4-1 1.8-0.7 2-0.4 2.5-0.2 2.5 0.3 2 0.5 2 1 1.2 1 0.6 1 0.2 1.5-0.4 1-0.7 1-1.4 1-1 0.5-2 0.7-2 0.3-0.6 0.5 0.1 1.1 0.5 0 1-0.5 1 0.1 1 0.7 0.4 0.6 0.3 1-0.1 1-0.6 0.8zM247 285.5l-0.5 0.2-0.5-0.1-0.5-0.4-0.7-1.4-0.4-2 0.1-2.5 0.4-1.5 0.6-1 0.5-0.4 0.5-0.1 0.8 0.5 0.6 1 0.6 2.5 0 1.5-0.4 2-0.6 1.2zM285.5 282.5l-1 0.2-0.7-0.4-0.4-1 0-1 0.6-1.5 0.5-0.6 0.5-0.4 1-0.1 0.8 0.6 0.2 0.5 0.1 1-0.6 1.7zM228.5 291l-0.5 0.1-0.9-0.3-0.3-0.5-0.2-1 0.4-1.5 0.5-0.7 0.5-0.4 1-0.2 0.5 0.3 0.3 0.5 0.2 1.1-0.5 1.6zM245.5 290.8l-1-0.4-0.3-1.1 0.3-0.7 0.5-0.6 0.5-0.3 0.5 0 0.6 0.6 0.3 1-0.4 1zM234.5 342.9l-2 0.2-1-0.3-1.1-0.5-1.4-1.4-1.5-3.1-1-0.7-4.2-1.8-2.6-2-2.7-3.2-2.5-2.1-1-1.3-0.8-2.4-0.1-3 0.4-1.9 0.5-1.1 2-2.4 2.3-4.1 0-1-0.6-2 0.1-1.5 0.7-2 1.5-2 2.1-1.5 1.4-0.5 1 0 1 0.2 1 0.6 0.5 0.7 0.9 2.5 0.6 0.3 1.5-0.2 3.5-1.1 0.5-0.5 0-1-1.5-1-1-0.9-0.6-1.1-0.3-1-0.1-2 0.7-2 0.8-1 1-0.6 1-0.2 2.5 0.1 3-1.5 1-0.3 1 0 1.4 0.5 1.1 0.9 1 1.6 0.6 2 0.1 2-0.4 2-0.8 1.6-1.9 2.4-0.8 3 0.1 1 1.5 2.5 0.8 2 0.5 2.5 0 1.5-0.9 3-1.5 2.5-1.8 1.8-3 2.2-0.1 1 0.6 2 0.3 1.5-0.1 3.5 0.5 3 0 1.5-0.5 1.5-0.7 1.1-1 0.9zM247.5 318.3l-1 0.5-0.5-0.2-0.6-0.8-0.4-1.5 0.3-2.5 1.1-5 1.6-4.3 1.5-2.5 1-0.9 0.5-0.2 0.5 0.2 0.4 0.7 0.3 1.5-0.1 3-0.5 3-1 3.5-1.1 2.5-1 1.8zM221.2 321.8l1.3-0.6 0.5-0.4 0.1-0.5-0.6-2.5-0.5-1-0.5-0.3-1.5 0.6-1 0.7-0.4 0.5-0.2 1 0.3 1.5 0.6 1 0.7 0.3zM221.5 342.4l-1 0.4-0.5-0.1-0.5-0.3-0.4-0.6-0.2-0.5 0.1-1 0.5-0.7 0.5-0.3 1 0 0.5 0.3 0.5 0.7 0.1 1zM226 348.4l-1 0.1-0.5-0.4-0.4-0.8-0.1-1 0.5-1.5 0.5-0.6 0.5-0.5 1-0.3 0.5 0.2 0.5 0.4 0.2 0.8 0 1-0.2 0.9-0.5 0.9z"/>
<path fill="#0000da" d="M463 69.3l-2.5 0.3-2.5-0.4-2.2-0.9-1.8-1.5-1-1.5-0.5-2 0.4-2 1.1-1.5 1.3-1 1.2-0.6 2-0.4 1.5 0 3 0.7 1.5 0.8 1.2 1 0.9 1 0.7 1.5 0.2 1.5-0.1 1-0.7 1.5-0.9 1-1.3 0.9zM472 111.8l-2 0.3-1.5-0.2-1.5-0.6-1.5-1.1-1-1.3-0.5-1.1-0.8-5-0.7-1-0.5-0.4-0.5 0-0.5 0.4-2.3 2.5-2.2 1.8-2.2 1.2-2.3 0.8-2.5 0.4-3-0.1-2.5-0.5-2.5-1.1-2-1.4-1.5-1.5-1.1-1.6-0.9-2-0.4-2 0-2 0.3-2 0.9-2 1.4-2 1.8-1.7 2.1-1.3 2.9-1 3-0.4 2.5 0.1 2.5 0.6 2.5 1.1 1.6 1.1 1.5 1.5 1.1 1.5 1.8 3.2 0.5 0.5 1 0.2 3-0.3 1.6 0.4 1.4 1 2.5 2.7 2.8 1.8 1.4 1.5 0.7 1.5 0.3 1-0.1 1.5-0.4 1.5-0.7 1.2-1 1-1.1 0.8zM488.5 111.8l-1-0.1-0.2-0.4 0.2-0.5 0.4-0.5 1-0.5 0.9 0 0.3 0.5-0.2 0.5-0.4 0.5zM419.5 147.4l-2 0.2-1.5-0.1-1.9-0.7-1.4-1-0.8-1-0.7-1.5-0.3-1.5 0.3-2 0.4-1 2.2-3 1.5-6.5 0.9-2 1.5-2 2.3-2.2 2.7-1.8 3.3-1.5 3-0.7 3-0.3 2.5 0.1 2.5 0.6 2 0.8 1.6 1 1.5 1.5 1.1 2 0.7 2.5 0.6 0.6 1 0 3.5-0.7 2.5-0.1 1.1 0.2 1.4 0.5 3 2.5 1 0 2.5-0.7 1.5-0.1 1.5 0.1 1.5 0.5 3.5 1.9 3.5 1.5 1.3 0.8 1.4 1.5 0.8 2 0 1-0.3 1.5-1.2 1.8-0.9 0.7-1.1 0.5-2 0.2-1-0.2-1.5-0.8-2.5-2.5-1-0.7-1-0.4-3-0.6-1.5-0.6-1.2-0.9-1.3-1.6-0.5-0.3-0.5 0-5.6 3.4-5.7 2-1.2 1.9-1 0.7-1 0.2-1 0-1.2-0.3-0.6-0.5-0.4-0.5 0-1 0.8-1.5 0.1-0.5-0.7-0.4-0.5 0.1-5 1.8-5 1.4-1.5 0.6-1.2 1-1.3 1.8-1 1-1.1 0.7zM407.5 137l-1.5 0.3-1.5-0.2-1.5-0.7-0.9-1.1-0.5-1.5 0-1 0.6-1.5 1-1 1.3-0.6 1.5 0 1.4 0.6 1.1 1.1 0.6 1.4 0.1 2-0.2 0.8-0.4 0.7zM490 191.8l-2 0.1-2.5-0.3-2.5-0.8-2-0.9-3.5-2.2-5-4.9-3-2.2-5-2.6-14-6.1-1.5-0.1-4 1.6-2.5 0.7-2.5 0.3-5 0-1-0.2-2-1.1-1 0.1-8.5 3.1-5 1.1-2.5-0.1-0.8-0.5-0.7-1.5-0.5-0.1-7 1.3-3 0.1-2.5-0.1-2.5-0.5-2.5-0.8-2.5-1.4-1.5-1.4-1.2-1.6-0.8-2-0.2-2 0.2-2 1-2.5 1.7-2.5 2-2 2.8-2 3-1.6 3.5-1.3 3.5-0.8 3.5-0.4 4.5 0.3 3.5 0.9 1.8 0.9 1.5 1 2.7 2.6 1 0 2-0.8 2-0.3 1 0.1 1 0.5 0.4 0.9 0 1-1 2-2 2-4.4 3-1 1.5 0.1 0.5 1.4-0.3 5.5-2.3 3-1 5-1.2 5-0.3 4.5-1 3.5-0.4 4.5 0.2 4.3 0.8 4.2 1.5 3.8 2 2.9 2 4.8 4 2 1.3 1.5 0.6 4.5 1.1 2.5 1 2.6 1.5 2.4 2 1.8 2 1.2 2 0.6 2 0.1 2-0.4 1.5-1.2 1.5-1.6 1zM443.2 168.8l0.9-0.5-1.1-1.4-1-0.4-1.5 0.5-1.5 1-0.8 0.8 0.3 0.3 0.5 0zM331 179l-1 0-0.5-0.3-0.5-0.7-0.3-1.7 0.3-2 0.6-1.5 1.1-1.5 1.3-0.9 1 0 0.6 0.4 0.5 1 0.2 1.5-0.2 1.5-1.1 2.5-1 1.1zM449 178.8l-4 0-2.7-0.5-2.8-0.8-1.5-0.2-1 0.2-2.5 1-2 0.1-1.5-0.2-1-0.6-0.3-0.5 0-0.5 0.2-0.5 0.7-0.5 1.9-0.5 1.5-0.1 4 0.7 3.5-0.7 2.5-0.1 2.8 0.2 2.5 0.5 1.4 0.5 0.8 0.5 0.4 0.5 0 0.5-0.7 0.5zM394.5 197.8l-1.5 0.1-1.5-0.3-1.5-0.6-1-0.7-1-1.1-0.8-1.4-0.3-1.5 0-1.5 0.4-1.5 0.7-1.5 1-1.3 1-0.9 1.5-1 1.5-0.5 1.5-0.3 1.5 0 2.5 0.7 1 0.6 1 0.9 0.9 1.3 0.3 1 0.2 1 0 1.5-0.8 2.5-1.6 2.1-1.1 0.9-1.4 0.8zM292 271.4l-1 0.1-1-0.4-0.6-1.3-0.1-1.5 0.2-1.5 0.7-2 2.8-4.5 0.4-1 0-0.5-0.9-0.7-3.5-0.9-2-0.1-1 0.2 0.1 0.5 1.4 3 0.3 1.5-0.1 1-0.2 1-0.8 1.5-0.9 1-1.3 0.8-2 0.5-2-0.3-1.7-1-1.3-1.6-0.9-2.9-1.4-2.5-0.2-1.5 0.5-1.4 0.5-0.8 2.6-2.3 0.4-0.5 0.1-0.5-0.4-1-2.8-3.5-1.3-3-0.4-2 0-1.5 0.2-1.5 0.5-1.5 1.4-2.5 2.4-2.5 3.2-2 3.6-1.3 3.5-0.6 4-0.2 4.5 0.5 4.5 1.2 0.5 0 0.5-0.2 2-3.4 2.2-3 0.1-1-0.3-1.1-0.5-0.4-0.5 0.2-2.7 2.3-2.8 1.3-2.5 0.3-2-0.4-1.8-1.2-0.7-1-0.4-1-0.3-2.5 0.1-1.5 0.4-1 1.1-1.5 2.1-2 2-1.3 2-0.7 2-0.3 2 0.3 1.5 0.8 1.5 1.5 0.5 0.2 0.5-0.1 2.5-1.9 1.5-0.7 2-0.3 3.5 0.1 0.4-0.1 0-1.5 0.7-1 1.4-0.7 2.5-0.7 0.7-0.6 0.1-0.5-0.2-0.5-0.6-0.5-2.5-0.9-1.1-0.6-0.9-0.8-0.9-1.2-0.7-1.5-0.4-2 0-2 0.4-1.5 0.6-1.3 0.9-1.2 1.1-1 1-0.5 2-0.5 1 0.1 1.5 0.4 1.5 1 1 1.1 1 1.8 0.5 1.6 1.1 8.5 0.1 4-0.2 1.5-0.5 0.9-0.5 0.5-1.5 0.6-5 0-3-0.4-0.5 0.4 2 3.3 0.6 1.7 0.4 2 0 3.9 0.5 0.1 2-1 1-0.2 2 0.1 1.3 0.6 1.2 1.1 0.8 1.4 0.7 2.4 0.5 0 2.5-1.3 1.5-0.4 1.5 0.2 1.2 1.1 0.5 1 0.4 1.5 0.2 2-0.1 2-0.6 4-1.6 4.5-1.5 3-2.5 3.5-1.5 1.4-2.8 1.6-0.6 4.5-1 2.5-1.7 2.5-2.2 2-1.2 0.6-1 0.2-1.4-0.3-0.8-1-0.4-2 0.3-2 0.9-2.5 1.4-2.3 1.9-2.2-1.4-0.3-4.5 0.4-4 0.1-2 0.3-0.7 0.5 0 0.5 0.6 2-0.2 1-1 1.5-2.2 1.5-2.5 1-2.5 0.5-3.5 0.3-0.6 0.7-1.4 3.5-1.5 2.4-2 2.1zM310 200.9l-1 0.3-0.5-0.1-0.5-0.3-0.3-1.5 0.3-1.5 1-1.9 1-1.2 1-0.7 1.1-0.2 0.4 0.2 0.6 0.8-0.2 2-0.9 2-1 1.3zM290.5 218l-1 0-1-0.5-3-3.1-2-1.6-0.8-1-0.4-1.5 0.2-2 1-1.5 1-0.7 1-0.4 1-0.1 2 0.5 2 1.5 1.2 1.7 0.8 2.5 0 3.3-0.5 1.7-0.5 0.6zM343 220.5l-0.5 0.2-0.5-0.1-0.5-0.8 0-1 0.5-2 1.5-2.6 1-0.9 1-0.2 0.5 0.6 0.1 1.1-0.6 2.4-1 1.8zM325.4 247.3l0.2-0.5 0.1-3 0.4-3 0.9-3 1.7-4.5 0.1-1-0.3-0.3-3 0.2-1.4-0.4-0.8-0.5-1-1-0.6-1-0.7-3.1-0.5 0.1-3 2-3 1.1-0.5 0.6-1 2.7-1.8 3.6 0.2 0.5 0.6 0.2 3 0.6 3 1.1 2 1.1 1.5 1.5 0.7 1.5-0.1 1.5-1 1.5-1.9 1.5 1.3 0.2 3.5 0.1zM312.5 279l-1.5-0.2-1.5-1.6-1.5 0.9-1 0.3-1-0.2-1-0.9-0.6-1.5 0.1-3.3-2.5-1.9-0.6-0.8-0.4-1 0.3-1.5 1.2-1.5 1.5-0.9 1.6-0.6 2.4-0.4 2 0 2.5 0.3 1.7 0.6 1.7 1 1 1 0.4 1 0.1 1-0.4 1-0.8 1-1.2 0.8-1.5 0.7-3.5 0.8-0.4 0.7 0.1 1 0.3 0.6 1.5-0.7 0.5-0.1 1 0.4 0.7 0.8 0.3 1-0.1 1-0.4 0.6zM247 285l-0.5 0.2-0.5-0.1-0.5-0.4-0.6-1.4-0.4-2 0.1-1.5 0.4-1.6 0.5-0.9 0.5-0.4 0.5-0.1 0.5 0.2 0.6 0.8 0.4 1 0.2 1.5-0.2 2.9-0.5 1.2zM285 282.4l-0.6-0.1-0.5-0.5-0.2-1.5 0.3-1 0.5-0.7 0.5-0.4 1-0.1 0.6 0.7 0.1 1.5-0.7 1.4zM228.5 290.4l-0.5 0.1-0.5-0.2-0.4-1 0.4-1.4 0.5-0.5 0.5-0.2 0.6 0.1 0.4 1 0 0.5-0.4 1zM246 290l-0.5 0.2-0.6-0.4 0-1 0.6-0.5 0.5 0 0.3 0.5 0.1 0.5zM234 342.8l-2-0.1-1.5-0.7-1.2-1.2-1.2-2.5-0.6-0.7-1-0.6-4-1.8-1.5-0.9-1.5-1.4-2.5-3.2-2.5-2.2-0.9-1.2-0.6-2-0.1-3 0.7-2.5 2.2-2.5 2.7-4.5 0-0.5-0.9-2.5-0.1-1 0.6-2 1.4-2.1 2-1.5 1-0.4 1.5-0.2 1 0.3 1 0.8 0.5 1.1 0.3 1.5 0.7 0.7 1-0.1 4.5-1.2 0.6-0.4 0.3-0.5 0.2-1-0.2-0.5-1.4-0.7-1-0.8-0.9-1.5-0.2-2 0.1-1 0.5-1.2 1-1.1 1-0.5 3-0.1 3-1.6 1-0.3 1 0 1.5 0.6 1 0.8 1 1.7 0.6 2.2-0.1 2-0.4 1.5-0.8 1.5-1.8 2.2-0.9 3.3 0.1 1 1.5 2.5 0.8 2 0.4 2 0 2-0.9 3-1.4 2.5-1.6 1.6-2.9 1.9-0.4 0.5 0 1 0.6 2 0.3 1.5-0.1 3.5 0.4 3 0 1.5-0.5 1.5-0.9 1.2-1 0.8zM246.5 318.3l-0.5-0.2-0.4-0.8-0.3-1.5 0.2-2.5 1-4.3 1-3 1-2.2 1.5-2.1 1-0.4 0.5 0.3 0.3 0.7 0.3 2-0.3 3-0.8 3.5-1 3.1-1 2.1-1.5 2zM222.1 313.8l0.4-1 0-0.6-0.5-0.6-0.5 0-0.4 0.2-0.4 0.5 0 0.5 0.8 1.4 0.5-0.2zM220 322.3l2.5-0.8 0.7-0.7 0-1-0.7-2.6-0.5-1.2-0.5-0.5-2.5 1.8-0.9 1-0.1 1 0.6 2 0.4 0.7 0.5 0.3zM221 342.1l-0.5 0.2-0.5-0.2-0.5-0.5 0-1.2 0.5-0.5 0.5-0.2 0.5 0.2 0.5 0.5 0.1 0.9zM226 348l-0.5 0.2-0.8-0.4-0.3-0.5-0.1-1 0.2-0.8 0.5-0.9 0.5-0.5 1-0.3 0.7 0.5 0.2 0.5 0.1 1-0.5 1.3z"/>
<path fill="#0000f2" d="M462.5 68.4l-2 0.3-2.4-0.4-2-1-1.2-1-0.9-1.5-0.3-1.5 0.3-1.5 1-1.5 2-1.2 1.5-0.3 1.5-0.1 2.5 0.6 1.5 0.8 1 0.9 0.9 1.3 0.3 1 0.1 1-0.2 1-0.5 1-0.9 1-0.7 0.5zM472.5 110.8l-2 0.5-1.5-0.1-1.5-0.6-1.5-1.1-0.9-1.2-0.4-1-0.3-3.5-0.3-1-1.1-2.1-0.5-0.6-0.5-0.2-0.5 0.1-0.5 0.5-2 2.8-1.5 1.5-2.1 1.5-2.4 1.1-2.5 0.6-3 0.1-2.5-0.3-2.7-1-1.8-1.1-1.6-1.4-1.4-1.8-0.9-1.7-0.5-2-0.2-2 0.3-2 0.8-2 1.3-2 1.7-1.7 2-1.3 2.5-1 2.5-0.5 2.9 0 2.6 0.5 2.3 1 2.2 1.4 1.5 1.6 1.1 1.5 1.9 3.9 0.5 0.5 0.5 0.2 3-0.7 1 0.1 1 0.3 1.5 1 2.3 2.7 2.3 1.5 1.1 1 0.6 1 0.4 1 0.1 1-0.1 1.5-0.4 1-0.8 1.1-1 0.9zM418.5 146.8l-2.5-0.1-2-0.8-1.5-1.6-0.6-1.5-0.1-1.5 0.3-1 1.9-3.4 0.4-1.1 0.6-4.5 0.5-2 1-2 1-1.5 1.4-1.5 1.8-1.5 1.8-1.2 2-1 2.3-0.8 2.2-0.5 3-0.3 2.5 0.1 2.8 0.7 2.1 1 1.3 1 1.4 1.5 0.8 1.5 0.6 2.5 0.5 0.7 1 0.1 4.2-0.8 2.3 0 1.5 0.4 1.3 0.6 2.7 2.7 0.5 0.1 2-0.8 2-0.4 1.5 0.1 1.5 0.3 4 2.2 3 1.3 1.5 0.8 1.5 1.7 0.5 1.5-0.2 2-0.4 1-0.8 1-1.7 1-1.4 0.2-1-0.1-1-0.3-1-0.7-2.1-2.1-1.4-1-4-1-1.2-0.5-1.2-1-1.6-2-0.5 0-1 0.5-3.6 2.5-1.8 1-5.6 1.7-0.9 0.8-0.6 1.1-1 0.6-1 0.2-1.5-0.4-0.4-0.5-0.1-0.5 0-0.5 0.9-1.5 0-0.5-0.4-0.5-0.5-0.3-1 0.1-4.5 1.8-6 1.6-1.5 0.6-1.1 0.7-1.9 2.2-0.9 0.8-1.1 0.6zM406.5 136l-1 0.1-1.4-0.3-0.7-0.5-0.6-1-0.1-1 0.2-1 0.6-0.8 1-0.6 1-0.1 1 0.3 0.9 0.7 0.6 1 0.1 1-0.2 1-0.4 0.6zM491 190.8l-2 0.4-2 0-2.5-0.5-2.5-0.9-3.5-2.1-5.4-4.9-3.6-2.5-5.5-2.7-12.5-5.6-1.5-0.5-1.5 0.1-2.4 1.2-2.1 0.7-2 0.5-2 0.2-3 0.1-2-0.2-1-0.3-1.5-0.8-1-0.1-9.4 3.4-4.6 0.9-1.5 0-1.3-0.4-0.3-0.5-0.4-1.3-0.5-0.1-5 1.1-3.5 0.4-3.5 0-3.5-0.6-2-0.6-2-1-1.8-1.4-1.2-1.3-0.9-1.7-0.5-1.5-0.1-1.5 0.3-2 1-2.5 1.7-2.5 2-2 2.8-2 2.9-1.5 3.3-1.2 3.5-0.8 3.5-0.4 4.5 0.3 3.5 1 3 1.6 1.1 1 1.4 1.6 0.5 0.3 4.5-1.3 1.5 0.1 1 0.7 0.3 0.6-0.1 1-0.9 2-2 2-4.6 3-1.2 2 0.5 0.3 8.6-3.3 3.3-1 2.5-0.5 2.1-0.2 3.5 0.1 5-1.4 3-0.3 4 0.1 4 0.7 4.6 1.5 3.9 2 2.9 2 5.1 4.4 2 1.4 1.5 0.7 4.1 1 2.4 0.9 2.5 1.4 2.2 1.7 1.4 1.5 1.3 2 0.7 1.5 0.3 2-0.2 1.5-0.7 1.3-1 1zM439.2 169.3l4.8-0.4 0.3-0.1 0.4-0.5-1.7-2-0.5-0.3-0.5 0-2 1.1-2.1 1.7 0.1 0.5zM331.5 178.4l-1 0.2-0.5-0.1-0.5-0.4-0.5-1.2 0-1.6 0.5-1.7 1-1.7 1-0.8 1-0.3 0.5 0.1 0.5 0.4 0.3 0.5 0.2 1 0 1.2-0.5 1.8-0.5 1zM450 178.4l-3 0.3-3.8-0.4-3.2-1-0.9-0.5 0-0.5 1.4-0.6 2.5-0.4 2.5 0 3 0.5 1.5 0.5 0.9 0.5 0.4 0.5-0.1 0.5zM434.5 177.9l-1.5 0.3-1.5-0.3-0.8-0.6 0-0.5 0.4-0.5 0.4-0.2 1-0.3 1 0 2.6 0.5 0.4 0.5-0.6 0.5zM395 197.3l-1.5 0.2-1.5-0.2-1.4-0.5-1.1-0.7-1-1-0.8-1.3-0.3-1-0.1-1.5 0.2-1.5 0.5-1.2 0.8-1.3 0.9-1 1.3-1 1.5-0.7 1.5-0.4 1.5-0.1 1.3 0.2 1.2 0.4 1.1 0.6 0.9 0.8 1.1 1.7 0.4 1.5 0 1-0.6 2.5-1.3 2-2.1 1.6zM328 212.3l-1.5 0.2-5-0.2-1.6-0.5-0.6-0.5-0.2-0.5 0.3-1 0.6-0.5 3.5-1.2 0.6-0.8 0.1-0.5-0.2-0.5-0.5-0.5-3-1.1-1.5-1-1.5-1.9-0.7-2-0.2-1.5 0.1-1.5 0.8-2.4 1.5-1.9 2-1.2 1.5-0.3 1 0.1 2 0.7 1 0.7 1 1.2 1.1 2.1 0.5 3 0.7 6.5 0.1 4-0.1 1-0.4 1-0.4 0.5zM310 199.9l-0.5 0.2-0.8-0.3-0.2-0.5 0.1-1 0.9-2.1 1-1 1-0.3 0.5 0.2 0.3 0.7-0.2 1.5-1.1 1.8zM291 216.8l-1 0.5-0.5-0.1-1-0.4-5-5-0.6-1.5 0.1-1.4 0.5-1.1 1-1 1.5-0.5 1 0 1 0.3 1.5 0.8 1.5 1.5 1 2.3 0.2 2.1-0.3 2-0.4 1zM291.5 271.4l-1-0.2-0.8-0.9-0.3-1 0-1.5 0.5-2 0.6-1.5 3.2-5 0.1-0.5-0.3-0.5-0.5-0.3-2-0.7-5-0.9-3-1.1-0.5 0.1-0.2 0.4 0.3 1 2.4 1.3 1 1 0.7 1.2 0.4 1 0.1 1.5-0.5 2-0.7 1.1-1 0.8-1.2 0.6-1.3 0.2-1.5-0.1-1.3-0.6-1.2-1-0.6-1-1-3-1.3-2-0.1-1.5 0.5-1.5 0.5-0.7 1-1 1.9-1.3 0.2-0.5 0-0.5-0.6-1-2-2.4-1-1.6-1.1-2.5-0.4-2 0-1.5 0.4-2 0.5-1.5 1.6-2.5 2.5-2.3 3-1.7 3.5-1.2 3.5-0.6 3.5-0.1 4.5 0.5 4.5 1.3 0.5 0 0.7-0.4 1.9-3.5 2.3-3 0.1-1-0.5-1.5-0.5-0.3-0.5 0.3-2 1.8-2 1.2-1.5 0.6-2 0.3-2-0.3-1.3-0.6-1.1-1-0.8-1.5-0.3-2.5 0.3-1.5 0.4-1 1.5-2 2.3-2 1.5-0.8 1.5-0.5 1.5-0.3 1.4 0.1 2.1 0.8 2 1.9 0.5 0.2 3-2.2 2-0.9 2.5-0.2 1.5 0.2 1 0.4 1 0.9 1 1.3 0.9 1.6 0.6 1.5 0.4 3-0.2 2.5-0.3 1.5-0.8 1-2.5 2-3.8 1.5-0.6 1-1.2 3.2-1.3 2.3-0.2 0.5 0.1 0.5 0.9 0.3 3.5 0.8 2.5 0.9 1.8 1 1.6 1.5 0.6 1.5-0.1 1.5-1 1.5-2.1 1.5 1.2 0.3 4 0.1 1-0.1 0.6-0.3 0.2-0.5 0.1-3.5 0.5-3 1.1-3.5 1.6-4 0.1-1-0.2-0.3-2 0.4-1.5 0-1-0.2-1-0.6-0.9-0.8-0.6-1-0.4-1.5 0-1.5 0.1-1 1.6-1.5 1.7-0.8 2-0.1 1.5 0.5 1.5 1.4 0.7 1.5 0.3 2.2 0.3 0.3 0.7-0.2 2.5-1.4 1.5-0.4 1 0 0.9 0.5 1.1 1.5 0.4 1.5 0.2 1.5-0.1 3.5-0.9 4-1.2 3.5-1.9 3.5-2.2 3-1.3 1.2-2.7 1.3-0.3 0.3-0.2 0.7-0.2 3.5-1.1 3-2 2.8-2 1.7-1.5 0.5-1.5 0-0.5-0.3-0.5-0.7-0.5-2 0.3-2 0.7-2.2 1-1.8 2.7-3-0.2-0.2-1.5-0.1-10.5 0.6-0.6 0.2-0.5 0.5-0.1 0.5 0.5 1.5 0.1 1-0.3 1-0.8 1-1.8 1.2-2.5 1-2.5 0.5-3.5 0.4-0.8 0.9-1.3 3.5-1.6 2.5-2.3 2.2-1 0.6zM343 219.5l-0.5 0-0.3-0.7 0.3-1.9 1-1.8 1-0.8 0.5 0 0.4 0.5 0 0.5-0.4 1.8-1 1.7zM312 278.8l-0.5 0-0.8-0.5-1.2-1.8-0.1 0.3-1.2 1-1.2 0.4-1-0.2-1-1-0.5-1.7 0.5-3-0.3-0.5-2.1-1.5-0.8-1.5 0.3-1.5 1.3-1.5 1.6-0.8 1.5-0.4 2-0.3 1.5 0 2 0.3 2 0.7 1 0.5 1 1 0.5 1 0.1 1-0.8 1.5-1.3 1-1.1 0.5-3.4 0.8-0.5 0.2-0.2 0.5 0.2 2.1 0.5 0.7 1-0.9 1-0.3 1 0.4 0.5 0.5 0.3 1-0.1 1-0.7 0.7zM246.5 284.5l-0.5-0.1-0.5-0.6-0.5-1.2-0.2-1.8 0.2-1.4 0.5-1.3 0.5-0.5 0.5-0.1 0.5 0.2 0.5 0.8 0.5 2.3-0.2 1.5-0.3 1.2-0.5 0.8zM285.5 281.5l-0.5 0.2-0.5-0.1-0.4-0.8 0.4-1.5 0.5-0.5 0.5-0.1 0.5 0.2 0.3 0.9-0.2 1zM234.5 342.3l-2 0.2-1.8-0.7-1.2-1.2-1.1-2.3-0.8-1-4.7-2-1.6-1-1.3-1.1-1.2-1.4-2.3-3.2-1.5-1.3-1-1.2-0.7-2.3 0-2.5 0.2-1.1 0.5-1.1 0.5-0.7 1.6-1.1 1.4-2.6 1.5-1.5 0.5 0.1 0.3 0.5 0 1-0.9 1.5-1.4 1.5-0.1 0.5 0.2 1.5 0.7 2 0.7 0.7 1 0.1 2.3-0.8 0.9-0.5 0.3-0.5 0.1-0.5-1.2-5 0.6-3-0.1-1-0.4-0.3-0.5-0.1-2 0.2-0.5-0.1-1-1-0.5-1.2 0-1 0.1-1 0.7-1.5 1.1-1.5 1.1-0.9 1.2-0.6 1.3-0.2 1.2 0.2 0.8 0.6 0.5 1 0.4 1.9 0.6 0.6 1-0.1 5.5-1.5 0.8-1 0.3-1 0.1-1-0.2-0.3-2-0.7-1-1-0.5-1-0.1-1 0.1-1.2 0.5-1.2 0.5-0.6 1-0.6 2.5-0.2 3.5-2 1-0.3 1 0 1.5 0.6 1 0.9 1 1.8 0.4 1.8 0 1.5-0.4 1.9-0.9 1.6-1.7 2-1 4 0.3 1 1.3 2 0.6 1.5 0.5 2.5 0 2-0.6 2.6-1.5 2.7-1.7 1.7-3.1 2-0.3 0.5 0 1 0.7 2 0.3 1.5-0.2 3.5 0.4 3 0 1.5-0.5 1.5-0.6 0.8-0.8 0.7zM247 317.8l-0.5 0-0.5-0.4-0.4-1.6 0.1-2.5 0.8-3.8 1-3.1 1-2.2 1.5-2.1 0.5-0.3 0.5 0 0.5 0.6 0.1 0.4 0.3 2-0.3 3-0.6 2.7-1 3-1 2.1-1 1.5zM226 347.4l-0.5 0.1-0.5-0.3-0.1-1.4 0.6-1 0.5-0.3 0.5 0.1 0.5 0.6 0 0.7-0.5 1.1z"/>
<path fill="#0000ff" d="M461.5 66.9l-1.5 0.1-1-0.2-1.2-0.5-1.2-1-0.6-1-0.1-1 0.2-1 0.8-1 1.6-0.7 2-0.1 2 0.8 1 0.9 0.6 1.1-0.1 1.6-1 1.3zM451.5 107.4l-2.5 0.3-2 0-2-0.4-2-0.7-2-1.1-1.5-1.2-1.5-1.8-0.9-1.7-0.6-2-0.1-2 0.3-2 0.6-1.5 0.8-1.5 1.4-1.7 1.6-1.3 1.9-1 2.5-0.8 2.5-0.3 2.5 0.1 2.5 0.7 2 0.9 2 1.4 1.7 2 1.1 2 0.9 2.5 0.2 1.5-0.3 1.5-1.2 2.5-1.5 2-1.8 1.5-2.1 1.2zM471.5 109.9l-1.5 0.1-1.3-0.2-1.2-0.6-1-1.1-0.6-1.3-0.4-3.5-1.5-3.5 0.1-1 0.4-0.5 2-0.6 1.5 0.3 1 0.9 1.5 2.2 2.5 1.8 1 1.2 0.5 1.7-0.2 1.5-1 1.5-0.8 0.6zM419.5 145.4l-2 0.4-2-0.5-1.4-1-0.8-1.5-0.2-1 0.2-1 1.2-2.8 0.3-1.2 0.6-6 1.1-3 1-1.5 1.3-1.5 3-2.5 3.2-1.6 3-1 3-0.4 3 0 2.5 0.5 2.5 1.1 1.3 0.9 1 1 1.2 2 0.8 3 0.3 0.5 0.9 0.2 5-1 2.5 0.1 1.5 0.6 1 0.6 0.8 1 0.6 1 0.3 1.5-0.6 1-3.5 3-1.6 1-2 1-2 0.7-3.6 0.8-1.9 1.1-0.5 0.1-0.6-0.2-0.2-0.5 0.1-1-0.5-1-0.8-0.6-1-0.1-5.5 2.2-7.6 2-1.8 1-2.1 2zM471 142.3l-1.2 0-1.4-0.5-2.9-2.7-1-0.7-1-0.4-3.2-0.7-1.3-0.6-1-1-0.7-1.4-0.2-1 0.1-0.5 0.4-0.5 1.3-1 1.1-0.5 1.5-0.3 1.5 0.1 2 0.6 2.5 1.5 3.7 1.6 1.3 0.8 0.8 0.7 0.7 1 0.4 1.5-0.1 1-0.4 1-0.7 1-1.2 0.8zM489 190.3l-1.5 0.1-2-0.2-2-0.6-2-0.8-2.5-1.6-5.8-4.9-3.1-2-4.6-2.3-13.5-6.1-2-0.7-1.5 0.1-1.8 1-2.2 0.9-4 0.8-2.5 0.1-2.5-0.1-1.5-0.5-1.5-0.8-1 0-8.2 3.1-3.3 0.9-2 0.3-1.5 0-1-0.2-0.6-0.5-0.2-1.5-0.2-0.3-0.5-0.1-7 1.6-3 0.3-3-0.1-2.5-0.5-2.8-0.9-1.8-1-1.9-1.5-1.1-1.5-0.9-2-0.2-2 0.2-2 1-2.5 1.5-2.2 2.3-2.3 2.7-1.9 3-1.5 3-1.1 3.5-0.8 3.5-0.4 4 0.2 2 0.4 2 0.7 1.8 0.9 1.4 1 2.3 2.5 1 0 2.5-0.9 1.5-0.3 1.5 0.1 0.8 0.6 0.3 0.5 0 1-0.4 1-0.7 1.2-1.3 1.3-1.2 1-4 2.5-1.4 2-0.2 0.5 0.1 0.2 1-0.1 9-3.6 5-1.2 3-0.2 2.5 0.7 4.9-1.8 4.1-0.6 4 0.2 4 0.7 4.5 1.6 3.9 2.1 2.8 2 5.3 4.7 2 1.4 1.5 0.7 5.5 1.7 2.5 1.4 2.1 1.6 1.3 1.5 1.1 1.7 0.7 1.8 0.1 1.5-0.4 1.5-0.9 1.2-1.2 0.8zM440.9 169.3l3.6-0.2 1-0.3-0.1-0.5-2.4-3.2-0.5 0-1.5 0.9-2.9 2.3-0.9 1 0.8 0.2zM331.5 177.8l-1 0.2-0.5-0.2-0.6-1 0-1.5 0.4-1.5 0.7-1.3 1-0.9 1-0.3 0.5 0.3 0.5 0.7 0.1 2-0.7 2zM448.5 178.4l-3.5-0.1-2.7-0.5-1.2-0.5-0.7-0.5 0.2-0.5 1.1-0.5 0.8-0.1 3.5 0 3.1 0.6 1 0.5 0.4 0.5-0.2 0.5zM395 196.8l-1.5 0.2-1.4-0.2-1.1-0.4-1.1-0.6-0.9-0.9-0.7-1.1-0.3-1-0.2-1.5 0.2-1.3 0.5-1.3 0.9-1.4 1.1-1 1-0.7 1.5-0.6 2.5-0.4 1.2 0.2 1.3 0.5 1.5 1.1 0.7 0.9 0.5 1 0.3 2-0.4 2-1.2 2-1.9 1.6zM328 211.9l-1.5 0.2-4-0.3-1.5-0.5-0.5-0.5 0-0.5 0.4-0.5 2.1-0.8 1-0.7 0.6-1 0.1-0.5-0.2-0.5-1-0.8-3-1.1-1.5-1-1.2-1.6-0.8-2-0.1-2.5 0.7-2.5 1.4-2 1-0.8 1-0.4 1-0.3 1.5 0 2 0.8 1.5 1.3 1.3 2.4 0.7 3.5 0.5 10-0.3 1.5-0.4 0.5zM290.5 215.8l-1 0.4-0.5-0.1-1-0.5-1.3-1.3-2.2-3-0.4-1 0-1 0.4-0.8 0.7-0.7 1.3-0.4 2 0.3 1.5 1 0.9 1.1 0.6 1.5 0.2 2-0.4 1.5zM292.5 270.9l-1 0.3-1.2-0.4-0.6-1-0.1-2 0.3-1.5 0.5-1.5 1.1-1.9 2.5-3.6 0.2-0.5-0.1-0.5-0.6-0.5-1-0.4-6-1.3-5.5-2.1-1.5-2.2-2.5-3-1.6-3-0.4-1.7-0.1-1.8 0.1-1.5 0.6-2 1.4-2.5 2.5-2.4 3-1.8 3.5-1.2 3.5-0.6 3.5-0.1 4.5 0.5 4.5 1.2 1-0.1 0.5-0.5 1.8-3.5 2.2-3 0.2-0.5-0.1-1-0.6-1.6-0.5-0.2-2.5 2.3-1.5 1-2 0.9-1.5 0.2-1.9-0.1-1.4-0.5-1.2-1-0.9-1.5-0.3-2 0.5-2.5 0.5-1 1.2-1.5 2.4-2 2.6-1.1 1.5-0.2 1.5 0.1 2 0.8 2 2.1 0.5 0.1 2.8-2.3 1.7-0.8 2.5-0.4 2.5 0.5 1 0.7 1 1 1 1.5 0.7 1.5 0.4 1.5 0.1 1.5-0.4 3.5-0.4 1-0.7 1-1.7 1.5-1.5 0.9-2.5 0.8-0.5 0.4-1.5 3.8-1.7 3.1 0 0.5 1.2 0.5 3.5 0.7 2.3 0.8 1.8 1 1.6 1.5 0.5 1 0.2 1-0.4 1.5-1 1.1-2.2 1.4 0.7 0.3 1.5 0.1 4 0.1 1-0.2 0.4-0.3 0.1-0.5 0-3.5 0.9-4.5 1.1-3 2.4-5.5 3.6-2.6 1.5-0.6 1 0 1 0.3 1 1.1 0.7 1.8 0.3 2-0.1 2.5-0.4 2.5-1.5 4.8-2 3.9-2.4 3.3-1.6 1.3-2.8 1.2-0.2 0.5 0 3.5-0.5 2.1-1.6 2.9-1.3 1.5-1.2 1-1.9 0.8-1.5-0.1-0.5-0.4-0.5-0.7-0.3-1.6 0.2-2 0.7-2 1.4-2.5 2.5-2.5-0.5-0.5-12.5 0.8-0.7 0.2-0.5 0.5 0 0.5 0.6 2.5-0.3 1-0.9 1-1.5 1-2.4 1-2.4 0.5-2.9 0.2-0.8 0.3-0.7 1-1.2 3.5-1.2 2-1.9 2zM327.5 231.5l-1.5 0.1-1.5-0.3-1.4-1-0.9-1.5-0.3-2 0.5-1.5 1.1-1.2 1.5-0.8 2-0.1 1.4 0.6 1.2 1 0.7 1.5 0.2 1.5-0.3 2-0.4 0.5-0.8 0.5zM282.5 266.8l-1-0.1-1-0.3-1.4-1.1-0.8-1.5-0.5-2-1.3-1.7-0.4-0.8 0-1 0.6-1.5 1.3-1.2 1.5-0.7 1 0 0.5 0.6 0.7 1.8 0.5 0.5 1.8 0.8 1.1 0.7 0.9 1.2 0.5 1.3 0 1-0.2 1-0.8 1.5-1.2 1zM307.5 277.9l-0.5 0.1-1-0.2-1-1.1-0.2-1.9 0.9-3-0.4-0.5-1.4-1-0.8-1-0.2-1 0.3-1 0.8-0.9 0.9-0.6 2.6-0.8 3 0 1.7 0.3 1.3 0.5 1 0.7 0.7 0.8 0.3 1-0.2 1-0.8 1-1.5 0.9-1.5 0.5-2 0.3-0.6 0.3-0.1 0.5 0.4 2.5 0 1-0.7 1zM312.5 278.5l-0.5 0.1-0.9-0.3-0.7-1 0-1 0.4-0.5 0.7-0.5 1 0.1 0.6 0.4 0.4 0.6 0.1 0.9-0.3 0.5zM246.5 283.3l-0.5-0.2-0.5-0.8-0.1-1.5 0.1-1 0.2-0.5 0.3-0.4 0.5-0.2 0.5 0.4 0.4 1.7-0.4 2zM234.5 341.9l-1 0.2-1 0-1.5-0.6-1-1-1.1-2.2-0.9-1-5-2.2-1.5-0.9-1.5-1.3-1.4-1.6-2.1-3.4-2-2.3-0.6-1.8-0.1-2 0.2-1.1 0.4-0.9 0.6-0.6 0.5-0.2 0.5 0 0.5 0.3 1.4 3 0.5 0.5 0.6 0.2 1-0.1 2.9-1.1 0.8-0.5 0.2-0.5-1.1-5 0-1 0.7-4-0.5-0.7-2.5 0.1-1-0.3-0.5-0.6-0.4-1 0-1 0.2-1 1.2-1.9 1-0.9 1-0.5 1-0.3 1.1 0.1 0.8 0.5 0.3 0.5 0.7 3 0.6 0.3 4-1.3 3-0.7 0.9-0.8 1.2-2.5 0.1-0.5-0.2-0.5-0.5-0.5-1.9-0.5-0.7-0.5-0.4-0.8-0.1-0.7 0.3-1.5 0.8-0.8 2.5-0.8 3.4-2.4 1.1-0.3 1 0 1.5 0.6 1 1 0.9 1.7 0.3 1.5 0 1.5-0.3 1.5-0.9 1.8-1.9 2.2-1 4 0.4 1 1.3 2 0.6 1.5 0.5 2.5 0 2-0.6 2.5-1.4 2.5-1.4 1.5-3.5 2.3-0.5 0.7 0.2 1 0.9 3-0.2 4.5 0.3 3.5-0.2 1-0.5 1.1-0.9 0.9zM247.5 317l-0.5 0.2-0.5-0.1-0.6-1.3 0.1-2.5 0.5-3 1-3.4 1-2.3 1-1.5 1-0.7 0.5 0.1 0.2 0.3 0.4 1.5-0.1 2.8-0.5 2.7-1.5 4.4-1 1.8z"/>
<path fill="#001fff" d="M451 106.9l-2 0.2-2-0.1-2-0.3-2.2-0.9-1.8-1.1-1.5-1.4-1.1-1.5-0.7-1.5-0.4-1.5-0.2-2 0.4-2 0.5-1.5 1-1.6 1.5-1.6 1.9-1.3 1.6-0.7 2-0.6 2.5-0.2 2.5 0.2 2.4 0.8 1.8 1 1.8 1.5 1.2 1.5 1 2 0.5 2 0.1 2-0.6 2-0.7 1.5-1.1 1.5-1.9 1.6-2 1.2zM423 141.4l-2.5 0.4-1.5-0.1-1.5-0.7-0.7-0.7-0.7-1.5-0.3-2-0.2-3 0.2-2.5 0.5-2 0.7-1.5 1-1.5 1.3-1.5 1.7-1.5 1.5-1 1.9-1 2.1-0.8 2.8-0.7 2.7-0.2 2.5 0.2 2.2 0.5 2.3 1.1 1.2 0.9 0.9 1 1.1 2 0.7 3 0.3 0.5 0.3 0.1 1 0 4.5-1.1 2.5 0.1 1.4 0.4 0.9 0.5 0.9 1 0.5 1 0.1 1-0.3 1-1.6 2-2.5 2-1.8 1-1.6 0.6-2.5 0.6-3 0.2-1-0.3-2-1.6-1-0.3-1 0.3-3.2 1.5-2.8 1zM471 140.8l-1 0-1-0.3-4-3-1-0.5-3.6-1.2-0.6-0.5-0.6-1 0-0.5 0.3-0.8 0.8-0.7 0.7-0.3 1-0.2 1 0.2 6.6 2.8 1.7 1 1.3 1.5 0.2 1.5-0.3 1-0.5 0.5zM489 188.4l-1.5 0.4-1.5-0.1-2-0.4-1.5-0.5-2.5-1.4-5.6-4.1-3.9-2.3-18.5-8.4-3-1.1-1 0.1-1.2 1.2-1.8 1-2.5 0.7-3 0.4-3-0.1-2.1-0.5-1.4-0.9-1-0.1-7.8 3-3.5 1-2.2 0.4-1.5 0-1.1-0.4-0.4-0.5 0.2-2-0.2-0.1-1 0.1-5 1.5-3.5 0.6-4 0.1-3.5-0.6-2-0.6-2-1-1.5-1.1-1.3-1.4-0.9-1.5-0.5-1.5-0.1-1.5 0.2-2 1-2.5 1.4-2 1.9-2 2.7-2 2.8-1.5 3.3-1.3 3.5-0.8 3.5-0.3 4.5 0.3 3.5 1.1 2.6 1.5 1.1 1 1.3 1.6 0.5 0.3 1-0.2 3.5-1.2 1.5 0 1 0.5 0.3 0.5 0.1 1-0.4 1-0.6 1-2 2-4.3 2.5-0.6 0.5-2 3-0.2 0.5 0.2 0.1 1.5-0.5 5.9-2.6 4.1-1.4 3.5-0.9 2.5-0.2 1 0.1 0.8 0.4 0.2 0.5-0.2 0.5-0.9 1-2.8 2.5-0.5 0.5 0 0.5 5.4-0.3 4.5 0 0.4-0.2-0.1-0.5-1.7-2-0.4-1.5 0.4-1 1.5-1 2.9-0.9 3-0.3 3.5 0.1 3.3 0.6 4.6 1.5 3.9 2 3.4 2.5 5.8 5.3 2 1.6 2 1 4.5 1.6 1.7 1 1.3 1 1 1 1.1 1.5 0.4 1 0.3 1.5-0.2 1-0.5 1-0.6 0.6zM331.5 176.6l-0.5 0.1-0.5-0.2-0.3-1.2 0.3-1.2 0.5-0.8 0.5-0.5 0.5-0.1 0.5 0.2 0.3 1.4-0.3 1.1zM447.5 177.8l-2.5 0-1.8-0.5-0.6-0.5 0.9-0.6 3.2 0.1 1.5 0.5 0.4 0.5zM395.5 195.9l-1.5 0.2-1 0-2-0.7-1-0.8-0.6-0.8-0.5-1-0.2-1 0.3-2 1.1-2 1.9-1.5 1-0.5 1.5-0.3 1.5 0 1 0.3 1.5 0.9 1 1.2 0.6 1.9-0.3 2-0.8 1.6-1.5 1.5zM327 211.3l-1-0.1-0.9-0.4-0.5-1 0-0.5 0.9-2-0.1-1-1.2-1-3.2-1-1.5-0.9-1-1.1-1-2-0.3-1.5 0-1.5 0.3-1.5 0.4-1 0.6-1 1-1 2-1 2-0.1 2 0.8 1.5 1.4 1.2 2.4 0.5 3-0.2 7.5 0.3 2.5-0.2 1-0.4 0.5zM289 214.4l-0.7-0.1-0.8-0.7-0.5-0.8-0.2-1 0.2-1 0.3-0.5 0.7-0.6 0.5-0.2 1 0.3 0.5 0.5 0.7 1.5-0.3 1.5-0.4 0.6zM292 270.8l-1.1 0-0.4-0.2-0.5-0.7-0.2-1.6 0.1-1.5 1.2-3 3.3-4.5 0.4-1-0.3-0.5-0.9-0.5-5.6-1.3-2.5-0.8-3.5-1.7-1.5-1.3-3-3.4-1.6-3-0.4-1.6-0.2-1.9 0.2-1.5 0.6-2 1.5-2.5 2.1-2 2.8-1.7 3.5-1.3 3.5-0.7 3.5-0.1 4.5 0.5 5 1.4 0.5-0.1 0.5-0.5 2-3.9 2.3-3.1 0.1-1-0.4-1.7-0.5-1.2-0.5 0-3 2.9-1.6 1-1.9 0.6-2.5 0.1-1-0.3-1-0.5-1-1-0.6-1.4-0.2-1.5 0.2-1.5 0.5-1.5 0.7-1 1.3-1.5 1.3-1 1.3-0.7 1.5-0.6 1.5-0.2 1.5 0.1 1 0.4 1 0.6 2 2.4 0.5-0.1 2.5-2.4 1.7-1 2.3-0.5 1.5 0.2 1 0.3 1.5 0.9 1 1 1.5 2.6 0.4 1.5 0.1 1.5-0.3 3-1 2-1.4 1.5-1.8 1.1-2.5 0.8-0.8 0.6-1.2 3.4-1.8 3.1-0.3 1 0.9 0.5 3.2 0.6 3 0.9 1.8 1 1.7 1.5 0.6 1.5-0.1 1.5-1.1 1.5-2.6 1.5 0.2 0.4 6 0.2 1.6-0.1 0.6-0.5 0-4 0.8-4 1-3 2-4.2 1.2-1.8 1.8-1.6 2-1.1 1.5-0.1 1 0.5 1 1.2 0.5 1.6 0.2 2-0.1 2.5-0.4 2.5-0.7 2.4-1 2.6-2 3.6-2.3 2.9-1.7 1.2-2.3 0.8-0.9 0.5 0.5 1.5 0.1 1.5-0.2 1.5-0.4 1.5-0.8 1.8-1 1.5-1.1 1.2-1.4 1-1 0.5-1 0.1-0.5-0.1-0.8-0.5-0.7-1.5 0-2 0.5-2 1.4-2.5 1.1-1.4 2.3-2.1-1.8-0.2-12.5 0.8-1 0.4-0.4 0.5-0.1 1 0.5 2-0.3 1-0.4 0.5-1.2 1-2.2 1-2.4 0.5-3 0.2-1 0.4-0.5 0.9-1.2 3.5-1.3 2.3-2 2.2-1 0.7zM327.5 230.8l-1.5 0.3-1.2-0.3-1.3-0.9-0.7-1.1-0.3-1.5 0.4-1.5 0.7-1 1.4-0.9 1.5-0.2 1.5 0.5 1 0.8 0.7 1.3 0.2 1.5-0.4 1.3-1 1.2zM283.5 264.9l-1 0.3-1-0.2-1-0.6-0.5-0.6-0.3-1 0.1-2.5-1.8-0.7-0.5-0.8 0.4-1 0.6-0.6 1-0.3 0.5 0.4 0.2 0.5 0.3 2 2.5 0.3 1 0.5 0.5 0.6 0.3 1.1 0 1-0.6 1zM311 270.3l-2 0.2-2-0.3-1.3-0.9-0.3-0.5 0.1-1 1.1-1 1.8-0.5 1.6 0 1.8 0.5 0.7 0.5 0.4 0.5 0.1 1-0.9 1zM307.5 277.6l-1 0-0.6-0.3-0.7-1-0.2-0.9 0.1-1.1 0.4-0.9 0.5-0.6 1-0.5 0.5 0.1 0.5 0.4 0.5 0.7 0.3 1.3-0.1 1.5-0.7 1zM312.5 277.8l-1 0-0.4-0.5-0.1-0.6 0.5-0.6 0.5-0.2 0.7 0.4 0.3 0.5-0.1 0.5zM234 341.3l-1.5 0-1-0.4-1-0.9-1.3-2.2-0.5-0.5-1.2-0.7-4.5-1.8-2.5-1.8-1.5-1.7-0.9-1.5-1.4-3.5-0.3-1.5 0.2-0.5 0.4-0.3 2.5-0.5 4-1.6 0.8-0.6 0-1-0.9-3-0.2-2 0.6-3 1.1-3 1-1 2.6-1.4 2-0.7 3-0.6 1-0.6 1.6-2.7 0.4-1-1.2-3 0-1.5 0.4-1 1.1-1.5 1.7-1.4 1.5-0.6 1 0.1 1.5 0.6 1 1.1 0.6 1.2 0.4 2-0.1 1.5-0.4 1.3-0.7 1.2-1.5 1.5-0.7 1-0.9 3.5 0.1 1 1.7 2.5 0.7 2 0.4 2-0.1 2.2-0.6 2.3-1.4 2.5-2 1.9-2.8 1.6-0.5 0.5-0.1 1 0.9 2.5 0.3 1.5-0.4 4 0.1 3.5-0.2 1-0.7 1-0.6 0.6zM247.5 316.2l-0.5 0-0.4-0.4-0.2-1 0-2.5 0.6-2.9 1.5-4 1-1.5 0.5-0.4 0.5-0.1 0.5 0.5 0.2 1.9-0.2 2.5-0.4 2-0.6 1.8-1 2.3-1 1.4zM223 308.3l-1 0.4-1 0-0.7-0.4-0.4-1 0.2-1 0.6-1 0.8-0.7 1-0.4 1 0.1 0.5 0.5 0.3 1-0.3 1.5z"/>
<path fill="#003dff" d="M450 106.3l-2 0.1-2-0.2-1.5-0.4-2-1-1.5-1.1-1.3-1.4-0.9-1.5-0.6-1.5-0.3-1.5 0.1-2 0.5-1.6 1-1.9 1.4-1.5 1.3-1 1.8-1 1.5-0.5 2.5-0.3 2 0.1 2 0.4 1.8 0.8 1.7 1.1 1.4 1.4 1.1 1.7 0.7 1.8 0.2 2-0.1 1.5-0.7 2-0.9 1.5-1.5 1.5-1.7 1.2-2 0.9zM426 140.3l-2.5 0.2-2 0-1.5-0.4-1.5-0.8-1-1-0.8-1.5-0.4-2-0.2-2 0.2-2 0.5-1.5 0.7-1.6 1.4-1.9 1.5-1.5 2-1.5 1.7-1 2.4-1 2.5-0.6 2.5-0.2 2.5 0.1 2.5 0.6 2.5 1.2 1.9 1.9 1 2 0.4 3 0.3 0.5 0.4 0.2 0.5 0 4.5-1.2 3-0.1 1.5 0.4 1 0.6 0.6 0.6 0.4 1 0.1 1-0.3 1-1.4 2-2.6 2-2.8 1.3-2.5 0.6-2.5 0-1.5-0.6-2-1.5-1-0.2-4 1.9-2.5 1-2.5 0.6zM418.5 176.3l-1.5-0.2-0.5-0.3-0.3-0.5 0.2-1 1.1-2.1-7 2.6-2.5 0.5-2.5 0.4-3 0-2.5-0.3-2.5-0.6-2-0.8-1.5-1-1.4-1.2-0.8-1-0.8-1.5-0.3-1.5-0.1-1.5 0.4-2 0.6-1.5 1.6-2.5 2-2 2.7-2 2.9-1.5 3.2-1.1 3.5-0.8 3.5-0.2 3 0.2 3 0.7 2.7 1.2 2 1.5 1.8 2.2 1 0 2.7-1.2 1.8-0.4 1.5 0.4 0.5 0.6 0 1.4-1.2 2-2.3 2-4 2.1-4.1 5.4 1.1-0.4 6.6-3.1 3.7-1.5 3.7-1.1 3.5-0.5 1 0.1 0.8 0.5 0.1 0.5-0.3 0.5-1.3 1.5-2.3 2-0.6 1 0.6 0.1 4.1-0.6 2.9-0.1 2.5 0.4 0.6 0.2 0.5 0.5-0.1 0.5-0.4 0.5-1.9 1-1.9 0.5-2.3 0.3-2.5 0-1.9-0.3-1.1-0.5-0.8-1-0.7-0.1-1.5 0.4-8 3.2-2.5 0.7zM484.5 184.9l-2 0.1-2.5-0.8-9-4.5-13.4-5.9-8.3-4-1.8-1.4-1.4-1.6-0.3-1 0.3-1 1.1-1 2.3-0.9 2.5-0.3 2.5-0.1 3 0.3 2.5 0.5 3 1 3.2 1.5 2.5 1.5 2.6 2 8.2 8.2 5.2 4.3 0.8 1 0.2 1-0.2 0.5zM395 194.8l-2 0.1-1.5-0.6-0.5-0.5-0.7-1-0.3-1.5 0.1-1 0.4-1 1-1.3 1.5-1 2-0.4 1.5 0.3 1.3 0.9 0.7 1 0.3 1.5-0.2 1.5-1 1.5-1.2 1zM326.5 204.9l-0.5 0.1-1 0-4.2-1.2-0.8-0.5-1-0.9-1-1.6-0.5-2.5 0.4-2.5 1.1-2 1-0.9 1-0.6 1.5-0.3 2 0.3 1.5 1 0.9 1 0.6 1.1 0.5 1.4 0.3 1.5 0 3-0.3 1.5-0.4 1zM292.5 270.4l-1 0.2-1-0.5-0.5-1.3 0.2-2 0.4-1.5 0.9-1.8 1.5-2.1 2.3-2.6 0.2-0.5 0-0.5-0.5-0.5-1-0.4-5.3-1.1-3.2-1.1-3.5-1.9-2-1.7-2.5-3.1-0.9-1.7-0.5-1.5-0.2-1.5 0-1.5 0.2-1.5 0.5-1.5 1.6-2.5 2.3-2.1 3-1.6 3.5-1.2 3.5-0.5 4 0.1 3 0.4 4.5 1.3 1 0.1 0.5-0.4 0.4-0.6 1.6-3.5 2.6-3.5 0-1.5-1.1-3.8-0.5 0.4-2 2.6-2 1.6-2.5 1-1.5 0.1-1-0.1-1-0.3-1.3-1-0.7-1-0.3-1-0.1-1 0.2-1.5 0.6-1.5 0.6-1 1.4-1.5 1.6-1.1 2-0.8 2-0.2 1.5 0.3 1.3 0.8 0.9 1 0.8 1.9 0.5 0.4 2.2-2.8 1.2-1 1.1-0.6 1-0.4 1.5-0.2 1.5 0.1 1 0.4 1 0.5 1 0.9 1 1.3 0.7 1.5 0.5 1.5 0.1 1.5-0.4 3-1 2-1.5 1.5-1.4 0.8-2.5 0.8-0.7 0.4-0.4 0.5-1.4 3.9-2 3.1-0.1 0.5 0.6 0.5 4.5 0.8 2.5 0.9 2.2 1.3 1.3 1.5 0.4 1 0 1-0.8 1.5-1.6 1.2-2.9 1.3 8.4 0.3 1 0 0.7-0.3 0.4-0.5-0.2-3.5 0.5-3 0.6-2.5 1.5-3.7 1.5-2.7 1.2-1.6 1.8-1.5 2-0.8 1.5 0.2 1 0.9 0.6 1.2 0.3 2 0 2.5-0.3 2.5-0.6 2.2-1 2.8-1.5 2.9-1.5 2.1-1.8 2-1.7 1.1-4.5 1-8 0.5-7 0.2-1.2 0.2-1.1 0.5-0.6 1 0.3 2-0.1 1-0.7 1-1.4 1-1.2 0.5-2.2 0.5-3.3 0.2-0.5 0.3-0.6 1-1.3 4-1.1 2-1.8 2zM327.5 229.9l-1 0.3-1 0-1-0.5-0.8-0.9-0.3-1 0.1-1.4 0.5-0.8 1-0.8 1-0.2 1.4 0.2 0.7 0.5 0.7 1 0.3 1-0.2 1-0.6 1zM322.5 263.5l-1.5-0.1-0.5-0.3-0.6-0.8-0.2-2 0.2-1.5 0.6-1.5 1.5-2.5 1.5-1.5 2-1.2 1-0.1 0.5 0.1 0.7 0.7 0.4 1.5-0.1 2-0.5 1.8-1 1.9-1 1.4-1.5 1.3zM307.5 277.1l-0.5 0.1-1-0.3-0.6-1.1 0-1 0.5-1 0.6-0.6 0.5-0.1 0.5 0.2 0.5 0.4 0.4 1.1-0.2 1.5zM234 339.9l-1 0.2-0.9-0.3-1.9-2-1.2-0.9-5-1.9-2.8-1.7-1.4-1.5-1.3-2-0.6-2-0.1-1.5 0.4-1 1-1 1.8-1 3-1.2 0.6-0.3 0.3-0.5-1.1-4-0.2-2 0.6-3 1.2-2.5 1.5-1.5 1.7-1 2.4-0.9 3-0.5 0.9-0.6 2.3-3.5-0.1-1-1-2.5 0-1.5 0.4-1 1-1.5 1-0.9 1.4-0.6 1.1 0 1.2 0.5 1 1 0.7 1.5 0.2 1.5-0.1 1.5-0.5 1.5-0.6 1-2.1 2-1 4 0.1 1 1.8 2.5 0.6 1.5 0.4 2.5-0.1 2.5-0.8 2.5-1.3 2-1.5 1.5-3.5 2-0.4 0.5 0.1 1 1.1 3 0.1 2-1.1 6.5-0.5 1zM247.5 314.8l-0.5-0.5-0.1-1.5 0.1-1.4 0.5-2.3 1-2.6 1-1.4 0.5-0.3 0.5 0.4 0.2 1.6-0.2 2-0.5 2-1 2.5-1 1.3z"/>
<path fill="#005cff" d="M450.5 105.4l-2 0.2-1.5-0.1-2-0.5-1.5-0.6-1.5-1-1-0.9-0.9-1.2-0.8-1.5-0.4-1.5 0-2 0.4-1.5 0.7-1.5 1-1.4 1-0.9 1.5-1 1.5-0.6 2-0.5 2-0.1 2 0.3 1.5 0.5 1.5 0.8 1.7 1.4 1.1 1.5 0.7 1.5 0.4 2 0 1.5-0.4 1.5-0.8 1.5-1.2 1.5-1.2 1-1.8 1zM426.5 139.8l-4 0-1.5-0.4-1.5-0.7-1.1-0.9-0.9-1.4-0.6-1.6-0.2-2 0.1-2 0.5-1.5 0.7-1.5 1.4-2 1.6-1.5 1.5-1.1 2-1.1 2-0.9 2.5-0.6 2.5-0.3 2.5 0.2 2 0.5 2.7 1.3 1.1 1 0.8 1 0.9 2 0.2 3 0.3 0.8 0.5 0.2 0.5-0.1 4.2-1.4 2.8-0.3 1.5 0.2 1 0.4 0.8 0.7 0.6 1 0.1 1-0.3 1-1.4 2-2.3 1.8-2.6 1.2-2.4 0.5-2.5-0.1-1.5-0.8-1.5-1.4-0.5-0.3-0.5-0.1-6.5 3.1-2.5 0.7zM406 175.3l-2.5 0.1-2.2-0.1-2.3-0.4-1.9-0.6-2-1-1.4-1-1.2-1.3-0.8-1.2-0.5-1.5-0.2-1.5 0.1-1.5 0.6-2 0.8-1.5 1.1-1.5 1.5-1.5 1.8-1.5 3.5-2 3.1-1.2 3.5-0.8 4-0.3 4 0.4 3.5 1.1 2.5 1.7 2 2.5 0.5 0.3 0.5-0.1 4-1.6 1.5-0.1 1.1 0.6 0.2 0.5-0.1 1-0.4 1-0.8 1.1-2.4 1.9-4 2-2.6 3.4-2.5 2.3-2.5 1.5-3 1.3-3.3 1zM478 180.9l-1 0.1-1-0.2-3-1-11.1-4.5-7.6-3.5-3.7-2-2.1-1.5-1.2-1.5-0.3-1 0.2-0.5 0.8-1 1.5-0.7 2.5-0.5 2.5-0.1 3 0.2 2.7 0.6 3 1 2.2 1 2.5 1.5 2.1 1.5 2.2 2 2.8 3 2.3 3 1.1 2 0.2 1-0.1 0.5zM420 175.8l-1.5 0.1-1-0.3-0.3-0.3-0.1-0.5 0.1-0.5 0.6-1 0.9-1 3-2 5.9-3 5.6-2 2.3-0.5 1.5-0.1 1.2 0.1 0.6 0.5-0.2 1-0.8 1-4.3 3.6-7.8 3.4-3.1 1zM440 173.3l-2.2 0-1.8-0.4-0.9-0.6 0-0.5 0.4-0.5 1.1-0.5 3.4-0.7 3.5 0.1 0.8 0.1 1 0.5 0.1 0.5-0.3 0.5-0.8 0.5-1.3 0.5zM326 203.9l-1.5 0.3-2.4-0.4-1.1-0.4-1.5-1-1.1-1.6-0.5-2 0.2-2.5 1-2 0.9-0.9 1-0.6 1.5-0.4 2 0.4 1.5 1 1.3 2 0.6 2.5 0 2.5-0.8 2zM293 269.9l-1.5 0.3-0.5-0.2-0.5-0.6-0.2-1.6 0.2-1.5 1-2.4 1-1.6 1.5-1.7 2.6-2.3 0.1-0.5-0.3-0.5-0.9-0.5-6-1.2-3.5-1.2-3.1-1.6-2.4-1.9-2.3-2.6-0.8-1.5-0.6-1.5-0.3-1.5-0.1-1.5 0.1-1.5 0.5-1.5 1.5-2.5 2-2 3-1.8 3.5-1.2 3.5-0.5 3.5 0 4 0.6 4.5 1.4 1-0.2 0.5-0.7 1.5-3.6 1-1.5 1.5-1.6 0.5-0.9-0.8-5.5 0.1-1 1-2 1.7-1.9 2-1.2 2-0.3 2.3 0.4 1.2 0.7 1 0.9 1 1.4 0.5 1 0.4 1.5 0.2 1.5-0.1 1.5-0.4 1.5-1.1 2-1.5 1.5-1.5 0.8-2.5 0.6-0.7 0.6-1.3 3.8-2.4 3.7-0.2 0.5 0.6 0.6 5 0.9 3 1.1 1.4 0.9 1 1 0.6 1 0.2 1-0.5 1.5-0.7 0.8-1 0.7-3 1.2-1.8 0.3 0.8 0.3 10 0.2 1-0.1 0.8-0.4 0.2-0.5-0.3-3 0.3-3 0.9-3.5 1.1-2.6 1.5-2.8 1.5-1.9 2-1.6 1.5-0.5 1 0.2 1 0.6 0.6 1.1 0.5 2 0.1 2-0.2 2-0.5 2.5-1 2.9-1.5 3-1.5 2.2-2.3 2.4-1.7 0.9-3.5 0.7-7.5 0.9-9 0.2-1.3 0.3-0.7 0.4-0.6 0.6-0.4 1-0.1 1.5-0.3 1-0.9 1-1 0.5-1.7 0.5-3.5 0.1-0.8 0.4-0.4 1-0.8 3.5-1 2.3-1.5 2.2zM301 224.4l-2.5 0.4-1.5-0.3-1-0.6-0.6-0.6-0.6-1-0.2-1 0-1.5 0.4-1.3 0.6-1.2 1.9-2 1.5-0.9 1.5-0.6 1.5-0.2 1 0.1 1.5 0.6 1.1 1 0.6 1.5 0.1 2-0.9 2-1.2 1.5-1.2 1zM323 263l-1.5 0.2-0.7-0.4-0.5-0.5-0.3-0.9-0.1-1.1 0.6-2.5 1-2 1.8-2 1.7-1.1 1.5-0.1 0.5 0.2 0.5 0.5 0.3 1 0.1 1.5-0.4 1.7-1 2.1-1 1.4-1.3 1.3zM307.5 275.8l-0.5 0.3-0.6-0.3-0.2-0.5 0.3-1 0.5-0.1 0.5 0.3 0.1 0.8zM233.5 337l-1 0.3-1.5-0.2-6-2-2.6-1.3-1.8-1.5-1.1-1.5-0.9-2-0.2-2 0.7-1.5 1-1 1.7-1 2.9-1 0.7-0.5 0-1-1.2-3.5-0.2-2 0.5-2.5 1.2-2.5 1.3-1.5 2-1.3 2-0.7 3.5-0.5 0.9-0.5 0.4-0.5 2.2-3 0-1-1.3-3 0.1-1.5 0.3-1 0.6-1 1.1-1 1.2-0.5 1 0 1 0.5 1 1 0.6 1.5 0.1 2-0.2 1-0.8 1.5-2.5 2-0.3 0.5-0.8 4 0.3 1 1.7 2 0.9 2 0.4 2.5-0.2 2.5-0.8 2.5-1.4 2-2 1.7-3.4 1.8-0.2 0.5 0.1 0.5 1.3 3 0.2 2.2-0.4 1.8-0.6 1.8-0.5 1z"/>
<path fill="#007aff" d="M450.5 104.4l-3 0.1-1.5-0.2-1.5-0.6-1.5-0.8-1-0.9-0.9-1.2-0.6-1.1-0.4-1.4-0.1-1.5 0.7-2.5 0.8-1.3 1-1.1 1-0.7 1.5-0.8 1.5-0.4 1.5-0.2 1.5 0.1 2 0.4 1.5 0.7 1.5 1.1 1 1.2 0.8 1.5 0.4 1.5 0.1 1.5-0.3 1.5-0.8 1.5-0.7 1-1.5 1.3-1.3 0.7zM427 139.3l-2 0.1-2-0.2-1.5-0.4-1.5-0.8-1-0.8-1-1.4-0.5-1.5-0.2-1.5 0.1-2 0.4-1.5 0.7-1.5 1.1-1.5 1.4-1.5 1.5-1.1 2-1.2 2-0.8 3-0.8 3-0.1 3 0.5 2.2 1 1.8 1.5 1 1.5 0.6 2 0 3.5 0.4 0.6 5-2 2.5-0.5 1.5 0.1 1.1 0.3 0.9 0.6 0.7 0.9 0 1.5-0.3 1-0.7 1-2.2 1.8-2.5 1.3-2.5 0.5-1.5-0.1-1-0.2-1.2-0.8-1.4-2-0.4-0.3-0.5 0-4.5 2.7-2 0.9-2.5 0.8zM407.5 174.8l-4.5 0.3-2.5-0.2-2-0.5-1.6-0.6-1.9-1-1.2-1-1.3-1.5-0.7-1.5-0.3-1.5 0-1.5 0.5-2 0.7-1.5 1-1.5 1.3-1.5 1.8-1.5 3.2-2 3.5-1.4 3.5-0.8 4-0.3 4 0.4 3.2 1.1 1.7 1 1.1 1 2 2.5 1-0.1 3-1.4 1-0.3 1 0 1.1 0.3 0.3 0.5 0.1 1-0.5 1-0.7 1-1.1 1-1.5 1-3.7 1.7-2.7 3.3-2.3 2.2-2.5 1.6-2.5 1.2-3 1zM475.5 178.8l-1 0.2-1-0.1-3.9-1.1-7.7-3-6.5-3-3.6-2-2-1.5-1.2-1.5-0.1-1 0.2-0.5 1.3-1 1.5-0.5 2-0.3 2 0 2.5 0.3 2.3 0.5 2.9 1 2.1 1 2.5 1.5 2 1.5 3.5 3.5 1.5 2 1 2 0.2 1.3zM420.5 175.3l-1.5 0-0.5-0.2-0.4-0.3 0.2-1 0.7-1 1.1-1 3.1-2 5.1-2.5 4.2-1.5 3.5-0.6 1.1 0.1 0.6 0.5-0.2 1-0.9 1-2.6 2.2-1.5 1-6.2 2.8-3 1zM440.5 172.8l-2.5 0-1.3-0.5-0.1-0.5 0.5-0.5 1.4-0.5 2-0.2 2.5 0.1 0.4 0.1 0.5 0.5-0.2 0.5-0.9 0.5zM325 203.5l-2 0-2.1-0.7-1.4-1.1-1-1.9-0.2-2 0.4-2 1.3-1.8 1.5-0.9 1.5-0.2 1.5 0.4 1.5 1.2 1 1.8 0.5 2-0.2 2.5-0.8 1.7-0.5 0.5zM303 256.8l-1.5 0.4-2 0-3.5-0.9-6-1-3.5-1.1-3.5-1.9-3-2.5-1.2-1.5-0.9-1.5-0.6-1.5-0.3-1.5 0-2 0.2-1.5 0.6-1.5 0.7-1.2 2.2-2.3 2.8-1.8 3.5-1.2 3.5-0.6 4 0 3.5 0.6 4.5 1.5 1-0.1 0.7-0.9 0.9-2.5 0.9-1.8 2.7-3.2 0.1-1-0.6-3-0.1-1.5 0.2-1.5 0.9-2 1.3-1.5 1.5-1.1 2-0.5 2 0.1 1.2 0.5 1.3 1 1.5 2 0.6 1.5 0.2 1.5 0 1.5-0.3 1.5-0.9 2-1.6 1.6-1.5 0.9-2.5 0.6-0.8 0.4-0.3 0.5-0.9 3-0.5 1.2-2.6 3.8 0.2 0.5 0.4 0.2 5 0.8 2 0.6 1.9 0.9 1.3 1 0.8 1 0.4 1 0 1-0.9 1.5-1.5 1.1-3 1-3.3 0.4-1 0.5 1.3 0.3 7.5-0.3 5.5 0.3 1.5-0.3 0.4-0.5 0-0.5-0.4-2.5 0.1-2.5 0.5-2.5 1-3 1.4-3 1.5-2.2 1.9-1.8 1.6-0.8 1 0 1 0.5 0.6 0.8 0.6 1.5 0.2 1.5-0.1 2-0.8 4.2-1.5 3.7-1.5 2.6-2 2.2-2 1.6-1.5 0.5-7.5 1.2-4.5 0.4-6-0.1-2 0.3-1.2 0.4-0.8 0.5-0.9 1-1.4 2-0.7 0.6zM301 223.9l-1.5 0.4-1 0-1-0.2-1-0.5-0.8-0.8-0.5-1-0.1-1 0-1 0.9-2.2 1-1.3 1-0.8 1.1-0.7 1.4-0.5 1.5-0.2 1 0.1 1.2 0.6 1 1 0.5 1.5 0 1.5-0.6 1.5-1.1 1.6-1.5 1.2zM323.5 262.4l-1 0.3-1 0-0.5-0.3-0.5-0.6-0.3-1.5 0.4-2 0.9-2 1.6-2 1.9-1.2 1-0.1 0.5 0.1 0.7 0.7 0.3 1 0 1.5-0.4 1.5-0.6 1.4-1 1.4-1 1.1zM292 269.8l-0.5 0-0.5-0.4-0.4-1.1 0.2-2 0.7-2 1.5-2.2 1.5-1.6 1.5-0.9 1-0.2 0.4 0.4 0.2 0.5 0 1.5-0.4 2-0.7 1.9-1 1.6-1 1.2-1 0.8zM241 301.3l-1 0.3-1-0.4-1-1.4-0.6-1.5 0-1.5 0.6-1.3 1-1.1 1-0.4 1 0 1 0.5 0.6 0.8 0.6 1.5 0 1.5-0.3 1-0.9 1.4zM233 335.9l-1.5 0.4-2-0.3-4-1-2.5-1.2-1.9-1.5-1.2-1.5-0.8-2-0.1-1.5 0.4-1.5 1.5-1.5 1.6-0.8 3-1 0.4-0.2 0.3-0.5-1.5-4-0.2-2.5 0.5-2.7 0.6-1.3 0.9-1.3 2-1.7 2-0.9 1.5-0.4 3-0.2 2-0.6 0.5 0.2 0.4 0.4 0.6 1 2 2.2 0.9 1.3 0.4 1 0.2 1.5-0.1 3-0.3 1.5-0.6 1.4-1.5 2.1-2 1.5-3.4 1.5-0.4 0.5 0.2 1 1.4 3 0.3 2-0.3 1.5-0.7 1.5-0.6 0.9z"/>
<path fill="#0099ff" d="M451 102.8l-2.5 0.4-2.5-0.3-2-1.1-1.5-1.5-0.9-2-0.1-1 0.2-1.5 1-2 1.7-1.5 1.1-0.6 1.5-0.4 1.5-0.1 1.5 0.1 1.5 0.5 1 0.5 1.2 1 0.7 1 0.6 1.2 0.3 1.3-0.1 1.5-0.4 1-0.5 1-0.8 1-1.4 1zM427 138.8l-2.5 0-2.5-0.6-1.7-0.9-1.4-1.5-0.8-2-0.2-2 0.5-2.5 1.1-2 1.7-2 1.9-1.5 2.4-1.3 2.5-0.8 2.5-0.4 2.5 0 2.3 0.5 2.2 1 1.2 1 0.8 1 0.8 2 0.2 1.5-0.2 1.5-0.5 2-0.5 1-0.9 1-1.8 1.5-3.1 1.9-3.1 1.1zM445.5 137.3l-2-0.1-1-0.4-0.6-0.5-0.6-1-0.2-1 0.3-1 0.3-0.5 1.1-1 1.6-1 2.6-1 1.5-0.3 1.5 0 1.1 0.3 0.7 0.5 0.7 1 0 1-0.4 1-0.7 1-1 1-1.6 1-1.3 0.6zM404.5 174.8l-4-0.3-2-0.5-1.8-0.7-1.7-1-1.1-1-0.9-1.1-0.7-1.4-0.3-1.5 0-1.5 0.3-1.5 0.6-1.5 0.9-1.5 1.2-1.5 3.1-2.5 2.9-1.6 3.5-1.3 3.5-0.6 3.5-0.2 3.5 0.5 3.3 1.2 2.2 1.6 0.8 0.9 1.2 1.9 0.5 0.2 1-0.3 2.4-1.3 1.6-0.5 1.1 0 0.8 0.5 0.2 0.5-0.1 1-0.6 1-0.9 1-2.3 1.5-2.7 1-1 0.5-3 3.9-3 2.4-3 1.6-2.9 1.1-3.1 0.7zM473 177.3l-2 0-3.6-1-5.2-2-5.5-2.5-3.5-2-2-1.5-1-1.5 0.1-1 0.7-0.7 1.5-0.6 2-0.3 2 0 2.5 0.4 2 0.5 4 1.6 3.9 2.6 1.6 1.5 1.8 2 0.9 1.5 0.6 1.5-0.1 1zM423.5 174.3l-3 0.5-1-0.3-0.2-0.7 0.6-1 1.6-1.5 3.3-2 3.1-1.5 2.6-1 3.5-0.9 1.5-0.1 1 0.5 0 0.5-0.3 0.5-0.8 1-3.4 2.5-4.1 2zM324.5 202.8l-1.7 0-1.8-0.6-1.1-0.9-0.8-1.5-0.3-2 0.3-1.5 0.9-1.5 1.5-1 1.5-0.2 1.5 0.4 1.4 1.3 0.8 1.5 0.3 2-0.3 2-1.1 1.5zM301 255.8l-3 0.1-4.5-0.4-3-0.5-4-1.3-3.5-1.9-2.8-2.5-1.1-1.5-0.8-1.5-0.5-1.5-0.3-2 0.1-1.5 0.4-1.5 1.4-2.5 2.1-2 3-1.7 3.5-1.1 3.5-0.4 3.5 0.1 3.5 0.7 4.5 1.5 1-0.2 0.5-0.7 0.8-2.7 0.7-1.6 1-1.4 2-2 0.2-0.5-0.1-1-0.7-3 0-1.5 0.4-2 0.7-1.4 1.4-1.6 1.7-1 1.9-0.4 2 0.4 1 0.5 1 0.9 0.9 1.1 0.6 1.1 0.4 1.4 0.2 1.5-0.1 1.5-0.5 1.5-1 1.8-1.5 1.3-1.5 0.7-2.5 0.6-0.9 0.6-0.6 2.5-0.8 2-0.7 1.1-2.3 2.9 0.1 0.5 0.7 0.4 5.5 0.8 2 0.6 1.5 0.7 1.4 1 0.8 1 0.4 1 0 1-0.9 1.5-1.5 1-2.7 0.9-4.7 0.6-0.6 0.5 0.2 0.5 1.6 0.2 8-0.5 3.5 0.2 3 0.5 1-0.2 0.5-0.6 0.1-0.6-0.7-2.5 0-2.5 0.4-2.5 0.7-2.5 1.5-3.4 1.5-2.2 1.9-1.9 1.6-0.7 1 0.1 1 0.6 0.6 1 0.4 1.5-0.1 3.5-1 4-1.4 3.3-1.5 2.3-2 2-2 1.2-1 0.3-1.5 0.1-4.1 1.3-3.3 0.5-4.1 0.2-6-0.1-1.5 0.2-1.7 0.7-3.8 2.9zM301 223.3l-2 0.4-1-0.2-1-0.4-1-1.3-0.3-1 0.1-1 0.7-2 0.8-1 1.1-1 2.1-0.9 2-0.1 1.2 0.5 1 1 0.3 1 0 1.5-0.5 1.5-1 1.3-1.5 1.2zM322 262.3l-1-0.6-0.4-1.4 0.2-1.5 0.7-1.9 1.1-1.6 1.4-1.3 1.5-0.5 1 0.3 0.5 0.6 0.2 1.4-0.2 1.5-0.6 1.5-0.9 1.4-1 1.1-1.5 0.9zM292.5 269.3l-1-0.1-0.5-0.9-0.1-1.5 0.6-1.9 1-1.8 1.5-1.7 1.5-1 1-0.1 0.5 0.4 0.2 1.1-0.2 1.8-0.5 1.5-1 1.8-1 1.2-1 0.8zM240.5 300.3l-1-0.2-0.5-0.5-0.5-0.8-0.3-1 0.1-1 0.5-1 0.7-0.6 1-0.3 1 0.4 0.5 0.6 0.4 0.9 0.1 1-0.5 1.5-0.5 0.6zM232 335.4l-2 0.2-2.5-0.4-2.5-0.8-2-1-1.3-1.1-1.3-1.5-0.8-2-0.1-1.5 0.6-1.5 1.4-1.4 1.5-0.7 3.6-0.9 0.5-0.5-0.3-1-1.5-3-0.4-2.5 0.1-1.5 0.4-1.5 0.6-1.3 0.9-1.2 1.7-1.5 2.4-1.1 2-0.3 3.5 0.1 1.5 0.6 1.5 1.2 1 1 0.6 1 0.6 2-0.3 3.5-0.3 1.5-0.6 1.4-1.7 2.1-1.8 1.3-3.4 1.2-0.7 0.5 0.1 1 1.2 2 0.7 1.5 0.2 2-0.4 1.5-0.7 1.3-1 0.9z"/>
<path fill="#00b8ff" d="M449 100.8l-1.5 0-1.4-0.5-1.1-0.9-0.6-1.1-0.2-1.5 0.3-1 1-1.2 1.5-0.9 2-0.1 1.5 0.4 1.1 0.8 0.9 1.5 0 1.5-0.7 1.5-1.1 1zM426.5 138.3l-2.5-0.2-2-0.7-1.5-1-1-1.1-0.8-2-0.1-2 0.5-2 1.1-2 1.3-1.5 2-1.6 2-1.1 2.5-0.9 2.5-0.4 2.5 0.1 2 0.4 2.1 1 1.2 1 0.7 1 0.7 2 0.1 1.5-0.3 1.5-0.5 1.4-0.7 1.1-2 2-3.1 2-3.2 1.1zM447 136.4l-1.5 0.2-1 0-1-0.3-0.5-0.4-0.5-0.6-0.2-1 0.7-1.5 1.9-1.5 2.6-1 2-0.1 1.4 0.6 0.4 0.5 0.2 1-0.6 1.5-1.6 1.5zM406.5 174.3l-4.5 0.1-2-0.4-2-0.6-1.5-0.7-1.5-1-1-1-0.9-1.4-0.5-1.5-0.2-1.5 0.2-1.5 0.5-1.5 0.9-1.5 1.1-1.5 2.9-2.5 3-1.7 3.5-1.3 3-0.6 3.5-0.3 4 0.6 1.5 0.4 1.8 0.9 2.2 1.8 1.5 2.5 0.5 0.5 1-0.3 2.5-1.5 1.3-0.5 1.2-0.1 0.6 0.1 0.4 0.4 0 1.2-0.5 0.9-1 1-1.4 1-1.1 0.5-3 0.9-0.7 0.6-2.5 3.5-3 2.5-2.3 1.3-2.5 1.1-2.5 0.7zM471 175.4l-1.5 0.3-2.5-0.5-4.1-1.4-4.5-2-2.7-1.5-2.1-1.5-1.2-1.5 0.1-1 0.5-0.5 1.4-0.5 3.1-0.1 3.2 0.6 3.8 1.5 3.1 2 2.5 2.5 1 1.5 0.4 1 0 0.5zM423.5 173.8l-2 0.1-0.4-0.1-0.3-0.5 0.2-0.5 0.9-1 2.1-1.5 2.7-1.5 3.7-1.5 2.6-0.6 1.7 0.1 0.2 0.5-0.5 1-2.5 2-3.9 2zM324.5 201.9l-1 0.1-1.5-0.2-1.5-1-0.6-1-0.4-1.5 0.2-1.5 0.8-1.4 1-0.7 1-0.3 1.5 0.2 1 0.7 1 1.5 0.3 1.5-0.1 1.5-0.7 1.4zM301 254.8l-1.5 0.3-2.5 0.1-5.3-0.4-4.2-1.2-3.6-1.8-1.4-1-1.6-1.5-1.1-1.5-0.9-1.5-0.5-1.5-0.3-2 0.1-1.5 0.4-1.5 1.5-2.5 2.3-2 2.8-1.5 3.3-1 3.5-0.3 3.5 0.2 3.5 0.7 4 1.6 1 0.1 0.5-0.1 0.5-0.7 0.6-3 0.8-2 1.1-1.4 1.9-1.6 0.3-0.5-0.1-1-0.7-2.5-0.2-2 0.3-2 0.6-1.5 1.2-1.5 1.7-1.1 2-0.4 2 0.4 1 0.5 1 0.9 0.9 1.2 0.4 1 0.4 1.5 0.1 1.5-0.6 2.5-1.2 1.9-1.4 1.1-1.6 0.6-2.5 0.4-0.8 0.5-0.3 0.5-0.4 2.6-0.5 1.4-1 1.6-2.6 2.4-0.2 0.5 0.2 0.5 0.7 0.5 5.9 0.7 2 0.6 1.7 0.7 1.4 1 0.8 1 0.4 1 0 1-0.3 0.7-0.7 0.8-1.6 1-2.7 0.8-4.5 0.4-0.7 0.3-0.5 0.5 0 0.5 0.7 0.6 1 0.2 6.5-0.8 3.7 0 2.9 0.5 0.4 0.5-0.9 0.5-2 0.5-3.1 0.3-3 0.1-5-0.3-1.5 0-2 0.7-4 2.5zM300 222.8l-1.5 0-1-0.5-0.5-0.5-0.4-1.5 0.2-1.5 1-1.5 1.2-1 1-0.5 1-0.2 1.5 0.1 1 0.6 0.5 0.7 0.2 1.3-0.1 1-0.6 1.2-1 1.1-1 0.7zM331 247.8l-1 0.3-0.5-0.1-1-1-0.5-1.1-0.2-1.6 0-1.5 0.6-3.5 1.1-3.2 2-3.3 2-1.9 1-0.5 1.1-0.1 0.9 0.5 0.4 0.5 0.6 1.5 0.1 3-0.5 3-1.1 3-1.5 2.8-1.5 1.8zM323.5 261.4l-1 0.3-1-0.4-0.5-1.5 0.5-2 1-1.8 1-1.1 1.5-0.8 1 0.1 0.5 0.5 0.2 0.6 0 1-0.2 1.3-1.2 2.2-0.8 0.9zM293.5 268.4l-1 0.4-0.5-0.1-0.5-0.4-0.2-1 0.2-1.5 0.9-2 1.1-1.4 1.5-1.2 1-0.2 0.5 0.4 0.2 0.9-0.3 2-0.9 2-1 1.3zM231.5 334.8l-1.5 0.2-2.5-0.3-2-0.5-2-1-1.7-1.4-1.1-1.5-0.5-1.5-0.1-1.5 0.7-1.5 1.7-1.3 2-0.7 3.5-0.5 0.5-0.5-2.2-3.5-0.8-2.5-0.1-1.5 0.2-1.5 0.6-1.5 0.9-1.5 1.6-1.5 2.3-1.1 2.5-0.3 3 0.2 1.5 0.5 1 0.6 1 0.9 0.8 1.2 0.6 2-0.3 3-0.5 2-0.6 1.2-0.9 1.3-1 1-2.1 1.2-4 0.9-0.6 0.4 0.1 0.5 2.4 3.5 0.5 1.5 0.1 1-0.3 1.5-0.7 1.3-1 0.8z"/>
<path fill="#00d6ff" d="M430 137.3l-2.5 0.4-2-0.1-2-0.4-1.8-0.9-1.5-1.5-0.7-1.5-0.2-1.5 0.3-2 0.9-1.9 1.3-1.6 1.8-1.5 1.9-1.1 2.5-0.9 2-0.4 2.5 0 2 0.4 1.2 0.5 1.3 0.8 1.4 1.7 0.6 2 0 1.4-0.3 1.1-1.2 2.4-2 2-2.6 1.6zM446.5 135.3l-1.2 0-0.9-0.5-0.2-0.5 0.3-1.1 0.9-0.9 1.6-0.7 1.5-0.1 0.8 0.3 0.4 0.5 0 0.5-0.5 1-1.2 1zM407.5 173.8l-2.5 0.3-2 0-2-0.3-2-0.5-1.5-0.6-1.6-0.9-1.1-1-1.1-1.5-0.6-1.5-0.1-1.5 0.1-1.5 0.6-1.5 0.8-1.5 1.2-1.5 2.8-2.4 2.9-1.6 3.1-1.1 3.5-0.7 3.5-0.2 3.5 0.6 1.5 0.5 1.7 0.9 1.3 1 0.9 1 1.6 3.1 0.5 0.3 2.6-1.9 1.9-1 1.5 0 0.4 0.5 0 0.5-0.5 1-1.7 1.5-1.7 0.6-2.5 0.3-0.5 0.4-2.5 3.8-1.3 1.4-1.8 1.5-3.9 2.1-2.5 0.9zM467.5 172.9l-1 0.3-1-0.1-4-1.3-3.7-2-1.1-1-0.5-1 0.3-0.5 0.5-0.2 1.5-0.2 2.5 0.4 1.5 0.5 1.9 1 2 1.5 1.2 1.5 0.1 0.5zM425.5 172.4l-1 0.1-0.9-0.2 0.1-0.5 1.1-1 2.6-1.5 2.6-1 1.5-0.2 0.6 0.2 0 0.5-0.5 0.5-1.3 1-1.9 1zM324.5 200.4l-1 0.3-1-0.2-1-0.6-0.5-0.6-0.2-1 0.1-1 0.6-1 0.5-0.3 0.5-0.2 1 0.1 1 0.6 0.5 0.8 0.3 1.5-0.3 1zM313 226.8l-1.7 0-0.3-0.1-0.3-0.4-1.6-4.5-0.1-1.5 0.2-1.5 0.8-2 1.5-1.7 2-0.9 2 0 2 0.9 1.5 1.7 0.5 1 0.4 1.5-0.1 2.5-0.8 2.2-1.5 1.7-2 0.9zM300.5 221.3l-1 0.1-1-0.5-0.4-0.6 0-1 0.5-1 0.9-0.8 1-0.4 1-0.1 0.6 0.3 0.5 0.5 0.1 0.5-0.1 1-0.6 1zM307 234.8l-0.5-0.2-0.2-0.3-0.3-1 0.1-1.5 0.5-1.5 0.6-1 0.8-1 1.5-0.8 1-0.1 0.4 0.9 0.2 1-0.1 1-0.5 1.6-0.5 0.9-1 1.1-1 0.7zM331.5 246.9l-1 0.3-1-0.3-0.5-0.5-0.5-0.9-0.3-2.7 0.4-3 1.4-3.8 1.5-2.5 1-1.2 1-0.7 1-0.5 1 0 1 0.8 0.6 1.9 0.1 2.5-0.5 2.5-0.7 2.1-1.5 2.9-1.5 1.9zM300 254.3l-2 0.3-2.5 0.1-2.5-0.2-2.5-0.4-2.5-0.8-2-0.8-2-1.2-1.5-1.2-1.3-1.3-1.2-1.7-0.8-1.8-0.4-1.5 0-2 0.3-1.5 0.7-1.5 1.1-1.5 1.1-1 1.5-1.1 1.8-0.9 1.7-0.6 4-0.7 4 0.1 2.5 0.4 2.6 0.8 5.4 2.2 1.8 1.3 0.7 0.3 5 0.4 3 0.8 2.1 1 1.5 1.5 0.4 1 0 1-0.6 1-1.2 1-1.2 0.6-1.6 0.4-5.9 0.6-0.6 0.4-0.4 0.5-0.2 1.5-0.2 0.5-5.1 3zM321 250.3l-4.5 0.4-3.1-0.4 0.7-0.5 3.2-0.5 1.7 0 1.5 0 1.4 0.5zM323 260.9l-0.6-0.1-0.5-0.5-0.2-1 0.3-1.5 0.5-1 1-1.2 1-0.6 1 0 0.5 0.6 0.1 0.7-0.1 1-0.3 1-1.2 1.7zM293 267.9l-0.5 0-0.5-0.6 0-1.4 0.4-1.1 0.6-1.1 1-1.1 1-0.6 0.5 0 0.5 0.5 0.1 0.8-0.5 2-1.1 1.6-1 0.8zM234.5 322.9l-1.5 0.1-1.5 0-1-0.3-1-0.5-1-0.8-1.3-1.6-0.8-1.5-0.4-1.5 0-1.5 0.2-1.5 0.6-1.5 0.6-1 1-1 1.1-0.8 1.5-0.7 1-0.3 3.5-0.1 1.5 0.2 1 0.4 1 0.6 1 0.9 0.6 0.8 0.5 1.5 0 1.5-0.4 1.5-0.7 2.5-0.8 1.5-0.9 1-1.2 1-1.1 0.6zM230.5 334.4l-2 0-2.5-0.5-2-1-1.5-1.1-1.2-1.5-0.5-1.5 0-1.5 0.9-1.5 0.8-0.7 1.5-0.6 3-0.4 2.5 0.5 2 1.4 1.8 2.3 0.5 1.5 0.1 1-0.4 1.4-0.8 1.1-0.7 0.6z"/>
<path fill="#0cf5ea" d="M429 136.8l-2.5 0.2-2-0.3-2-0.9-1-0.9-0.8-1.1-0.4-1.5 0.1-2 0.5-1.5 1-1.5 1.5-1.5 1.6-1.1 2-0.9 2-0.6 2-0.2 2 0.2 1.9 0.6 1.1 0.6 1 0.9 0.9 1.5 0.3 2-0.2 1.1-0.5 1.3-1.5 2.1-1.8 1.5-2.7 1.4zM408 173.4l-3.5 0.3-3-0.2-3-0.8-2.4-1.4-1.6-1.7-0.6-1.3-0.3-1 0-2 0.9-2.5 1.8-2.5 2.2-1.9 2.7-1.6 3.3-1.3 3.5-0.7 3.5-0.1 3.3 0.6 2.5 1 1.4 1 1 1 0.7 1 0.6 1.5 0.3 2-0.5 1.5-0.8 1.5-2 2.6-3 2.3-3.2 1.6zM425.5 161.9l-0.8-0.1 0-0.5 0.4-0.5 1.4-0.7 0.5-0.1 0.3 0.3-0.2 0.5-0.5 0.5zM314.5 226.3l-1.5 0-1-0.3-1-0.7-1.2-2.5-0.4-2.5 0.3-2 1.1-2 1.7-1.3 2-0.5 2 0.5 1.5 1.1 1.1 1.7 0.4 1.2 0.1 1.3-0.1 1.5-0.3 1-1.2 1.9-1.5 1.1zM308.5 231.8l-0.3 0-0.2-0.5 0.5-0.7 0.5 0.2zM331.5 246l-1 0.2-0.5-0.2-0.5-0.4-0.5-0.8-0.3-2 0.4-3 0.9-2.8 1.5-2.6 1-1.2 1-0.8 1-0.4 0.5 0 1 0.7 0.5 1.1 0.2 2-0.4 2.5-0.8 2.6-1 2-1.5 2zM299.5 253.8l-2 0.3-2.5 0.1-4.5-0.6-4-1.5-2-1.1-1.5-1.2-1.5-1.5-1-1.5-0.6-1.5-0.4-1.5 0-2 0.4-1.5 0.7-1.5 0.9-1.2 2.5-2 3-1.4 4-0.7 4 0.1 2.5 0.4 2.5 0.8 3.3 1.5 2.2 0.8 2.5 1.3 4.5 0.2 3 0.7 2.2 1 1.5 1.5 0.5 1-0.1 1-0.6 1-1 0.8-1.5 0.7-1.5 0.4-5 0.3-1.5 0.3-0.5 0.6-1 1.9-1 1-3.5 2.1zM233.5 322.3l-1.5-0.1-1.5-0.4-1.5-1-1-1-0.9-1.5-0.4-1.5-0.1-1.5 0.3-1.5 1.1-2.2 1-1 1.2-0.8 1.3-0.5 2-0.4 2-0.1 1.5 0.2 2 0.9 1.3 1.4 0.5 1.5-0.2 2-1.6 4-1 1.4-2 1.5zM231 333.4l-2 0.4-2-0.3-2-0.7-1.6-1-1.3-1.5-0.5-1.5 0.1-1.5 0.6-1 0.7-0.6 1-0.5 2.5-0.4 2.5 0.5 1.8 1 1.7 2 0.4 1 0.2 1-0.1 1-0.5 0.9-0.5 0.6z"/>
<path fill="#25ffd2" d="M430 135.8l-2 0.3-2-0.1-1.5-0.4-1.5-0.8-1-1-0.5-1.1-0.2-1.4 0.2-1.5 0.8-1.5 1.2-1.5 1.3-1 1.7-1 1.5-0.5 2-0.4 2 0 1.5 0.4 2 1 1.2 1.5 0.4 1.5-0.3 2-1.1 2-1.5 1.5-1.7 1.1zM408.5 172.8l-3.5 0.5-3-0.2-3-0.8-2-1-1.6-1.5-1-2-0.2-2 0.6-2.5 1.3-2 1.9-2 3-1.9 3-1.3 3.5-0.8 3-0.2 3 0.4 2.6 0.8 2.3 1.5 0.9 1 0.6 1 0.4 1 0.2 1.5-0.1 1-0.5 1.5-1.5 2.5-1.4 1.4-1.4 1.1-3.6 2zM315 225.8l-2-0.1-1.5-0.8-1.1-1.6-0.4-1.1-0.2-1.4 0.2-2.1 0.9-1.9 1.6-1.3 1.5-0.5 2 0.3 1.5 0.9 1.2 1.6 0.5 2-0.1 2-0.9 2-0.7 0.8-1 0.7zM331.5 244.8l-1 0-0.5-0.5-0.4-1-0.1-2 0.3-2 0.7-2 1.5-2.5 1.5-1.3 1-0.2 0.5 0.2 0.5 0.5 0.4 1.3 0 1.5-0.4 2.4-1 2.4-1 1.6-1 1.1zM299 253.3l-4 0.4-2.5-0.2-2-0.4-2-0.7-2-0.9-2-1.2-1.2-1-1.4-1.5-0.9-1.5-0.6-1.5-0.2-1.5 0-1.5 0.4-1.5 0.8-1.5 0.8-1 2.3-1.8 3-1.3 3.5-0.7 4 0.1 4 0.9 3.5 1.5 2.5 0.7 3 1.5 4 0.1 3 0.6 2.2 0.9 1.7 1.5 0.4 1-0.1 1-0.6 1-1.1 0.8-1.5 0.6-1.5 0.3-6.2 0.3-0.8 0.5-1.5 2.4-1.2 1.1-2.8 1.6zM234.5 321.4l-1.5 0.1-1.5-0.2-1.1-0.5-1.3-1-0.8-1-0.7-1.5-0.2-1.5 0.1-1.2 0.4-1.3 0.6-1 0.9-1 1.1-0.7 1.8-0.8 1.9-0.5 1.3-0.2 1.5 0.2 1.5 0.6 1.5 1.4 0.5 1.5-0.1 1.5-0.6 1.5-2 3.5-1.8 1.5zM229.5 332.9l-1.5 0-1.5-0.3-1.5-0.6-1-0.8-1-1.2-0.4-1.2 0.1-1 0.5-1 0.8-0.6 1-0.4 2-0.1 2 0.5 1.6 1.1 0.9 1 0.4 1 0.1 1.5-0.5 0.9-0.5 0.5z"/>
<path fill="#3effb9" d="M429.5 134.8l-1.5 0.2-1.5-0.1-1.5-0.5-1-0.6-0.8-1-0.4-1-0.1-1 0.2-1 0.6-1.2 1-1.2 2.4-1.6 1.6-0.6 1.5-0.2 1.5 0 1.2 0.3 1.8 1 0.8 1 0.4 1.5-0.3 1.5-0.8 1.5-1.6 1.5-1.7 1zM405 172.8l-3-0.2-2.5-0.7-2.1-1.1-1.5-1.5-1-2 0-2 0.6-2 1.3-2 2-2 2.4-1.5 2.8-1.2 3-0.8 3-0.2 3 0.3 2.5 0.7 2 1.2 1 1 0.7 1 0.4 1 0.2 1.5-0.1 1-0.4 1.5-1.6 2.5-2.2 2-3.5 2-3.5 1.1zM314.5 225.3l-1.5-0.2-0.6-0.3-0.9-0.7-1-1.8-0.3-2 0.3-1.7 1-1.7 1.5-1.1 1.5-0.3 1.5 0.3 1.5 1.1 1 1.8 0.3 1.6-0.3 1.8-0.9 1.7-1.2 1zM298.5 252.8l-4 0.3-4-0.6-2.1-0.7-1.9-0.9-2.8-2.1-1.9-2.5-0.6-1.5-0.3-1.5 0.1-1.5 0.5-1.5 0.5-1 1-1.3 2.2-1.7 2.8-1.2 3.5-0.6 3.5 0.1 3.2 0.7 3.7 1.5 3.1 0.6 3 1.6 4 0 3 0.6 2.5 1.2 1.2 1.5 0.2 1-0.1 0.5-0.7 1-0.7 0.5-1.4 0.6-2 0.5-5.5-0.1-1 0.2-0.5 0.3-2 2.8-1.4 1.2-2.6 1.3zM332.5 242.3l-1 0.3-0.5-0.4-0.3-1.4 0.2-1.5 0.6-1.5 1-1.5 1-0.7 0.5 0 0.5 0.6 0.1 0.6-0.1 2-1 2.4zM234 320.4l-1.5 0-1-0.3-1-0.5-0.9-0.8-0.7-1-0.3-1-0.1-1.5 0.2-1 0.4-1 0.8-1 2.9-2 2.2-0.8 1.5 0 1 0.2 1.5 0.9 0.9 1.2 0.3 1.5-0.2 1.3-1 1.7-2.5 2.8-1 0.8zM229 331.3l-1 0.2-1-0.1-1.5-0.8-1-1.3 0-1 0.3-0.5 0.7-0.5 1-0.2 1.5 0.2 1 0.5 0.9 1 0.3 1-0.4 1z"/>
<path fill="#56ffa0" d="M429.5 132.9l-2 0.1-1.5-0.7-0.6-1 0-1.5 1.1-1.5 1.5-0.9 2-0.4 1.5 0.2 1 0.6 0.4 0.5 0.2 1-0.2 1-1.1 1.5-0.8 0.6zM405 172.3l-3-0.2-2.5-0.8-1.7-1-1.4-1.5-0.7-1.5-0.1-2 0.6-2 1.3-2 1.6-1.5 2.4-1.6 3-1.3 2.8-0.6 2.7-0.2 2.5 0.2 2.5 0.8 2 1.2 1.5 1.8 0.4 1.2 0.1 1 0 1-0.5 1.5-1.5 2.4-2.4 2.1-2.7 1.5-3.4 1.1zM315.5 224.5l-1.5 0.1-1.5-0.6-1-1-0.6-1.7 0-2 0.6-1.4 1-1.1 1.5-0.6 1.4 0.1 1.1 0.5 1 1.1 0.6 1.4 0.1 1.5-0.4 1.5-0.8 1.2zM297.5 252.4l-3.5 0.1-3.7-0.7-3.5-1.5-2.6-2-0.8-1-1-1.5-0.4-1.2-0.2-1.3 0.1-1.5 0.3-1 0.8-1.5 0.8-1 2-1.5 2.7-1.1 3-0.6 3.5 0.1 2.7 0.6 3.3 1.3 4 0.5 3 1.7 4 0 2.8 0.5 2.1 1 0.6 0.5 0.8 1 0.1 1-0.1 0.5-0.8 1-0.7 0.5-1.3 0.5-2.5 0.4-6-0.3-0.7 0.4-1.6 2.5-1.7 1.5-2.5 1.3zM234.5 318.3l-1 0.3-1-0.1-1.3-0.7-0.7-1-0.1-0.5-0.1-1 0.3-1 1.5-2.5 1.4-1.3 2-0.7 1 0 1 0.3 1.3 0.7 0.8 1 0.3 1-0.2 1.5-0.7 1.3-1 0.9z"/>
<path fill="#6fff88" d="M408.5 171.3l-2.5 0.4-2.5 0-2.5-0.6-2-0.9-1.6-1.4-0.8-1.5-0.2-2 0.6-2 1.4-2 1.6-1.4 2-1.3 2.5-1.1 3-0.7 2.5-0.1 2.5 0.3 2 0.6 2 1.3 0.8 0.9 0.6 1 0.3 2-0.5 2-1.2 2-2.2 2-2.7 1.5zM315.5 223.5l-1 0.2-1.4-0.4-1-1-0.4-1 0-1.5 0.3-1.1 1-1.1 1-0.4 1.5 0.1 0.8 0.5 0.7 0.9 0.3 1.1 0.1 1-0.4 1.2-0.5 0.8zM296 251.8l-3.5-0.2-3.5-1-3-1.7-2-2.1-1-2.1-0.3-1.4 0.1-1 0.4-1.5 0.5-1 1.8-1.8 2-1.2 2.5-0.8 2.5-0.2 2.5 0.1 2 0.4 3.5 1.2 2.5 0 1.5 0.2 1.4 0.6 2.1 1.3 3.5-0.1 2.5 0.4 2.3 0.9 0.7 0.6 0.7 0.9 0.2 1-0.2 0.5-0.7 0.9-1.1 0.6-1.9 0.5-1.5 0.1-2-0.1-3.5-0.5-1 0.1-0.6 0.4-1.5 2.5-1.9 1.7-2.9 1.3zM237 316.4l-1.5 0.2-1-0.2-1.5-1.1-0.5-1-0.1-1 0.5-1.5 1.1-1 1-0.5 1.5-0.1 1 0.3 1.2 0.8 0.6 1 0.2 1.1-0.5 1.4-1 1.1z"/>
<path fill="#88ff6f" d="M407.5 170.9l-2.5 0.1-2.4-0.2-1.6-0.5-1.8-1-1-1-0.7-1.5 0-2 0.5-1.5 1.4-2 1.6-1.3 2.1-1.2 2.4-0.9 2.5-0.5 2.5 0 2.3 0.4 1.7 0.7 1.6 1.3 0.9 1.5 0.2 2-0.7 2-1.5 2-2 1.5-2.5 1.2zM297.5 250.8l-3 0.3-3-0.5-3-1.1-2.4-1.7-1.6-2-0.5-1.3-0.2-1.2 0.3-2 0.5-1 0.8-1 2.1-1.5 2-0.8 2.5-0.4 2.5 0 2.5 0.5 2.5 0.9 3.5-0.3 1.5 0.2 1.5 0.7 2 1.4 3.5-0.1 2.5 0.3 2 0.9 1.1 1.2 0.1 1-0.5 1-0.7 0.5-1.5 0.5-1.5 0.2-2 0-4.5-1-1.6 0.3-0.5 0.5-1.4 2.5-1 1-2 1.3zM236.5 315.9l-1 0-1-0.4-0.8-0.7-0.5-1 0-1 0.5-1 0.8-0.7 1-0.4 1.5 0 1 0.5 0.6 0.6 0.4 1-0.1 1-0.5 1-0.9 0.8z"/>
<path fill="#a0ff56" d="M408.5 169.8l-2.5 0.4-2-0.1-2-0.4-1.5-0.8-1-0.9-0.7-1.2-0.2-1.5 0.3-1.5 0.9-1.5 1.5-1.5 1.7-1.1 2-0.8 2-0.5 2-0.2 2 0.1 1.8 0.5 1.7 1 1 1.1 0.5 1.4 0 1-0.2 1-1.2 2-1.6 1.5-2 1.2zM297.5 249.9l-3 0.3-2.6-0.4-2.7-1-2.1-1.5-1.5-2-0.5-2 0.4-2 1-1.5 1-0.8 1.3-0.7 1.4-0.5 1.8-0.3 1.5-0.1 2 0.3 3.5 1.1 3-0.8 1.5-0.1 2 0.6 2.5 2.1 3-0.3 2 0.2 2.3 0.8 1 1 0.1 1-0.2 0.5-0.7 0.6-1.5 0.5-1.5 0.2-2-0.1-4-1.2-1.9 0.5-1.2 0.5-0.5 0.5-0.9 1.9-1.1 1.1-1.7 1zM237 315l-1.5 0.1-1.1-0.8-0.4-1 0-0.5 0.5-0.8 0.5-0.4 0.8-0.3 0.8 0 0.9 0.4 0.6 0.6 0.2 1-0.1 0.5-0.2 0.5z"/>
<path fill="#b9ff3e" d="M408 168.9l-2 0.2-1.5-0.1-1.2-0.2-1.3-0.6-1.1-0.9-0.6-1-0.2-1 0.4-1.5 1-1.5 1-0.9 1.5-1 1.5-0.6 2-0.4 1.5-0.1 1.5 0.1 1.5 0.5 1.4 0.9 0.8 1 0.3 1.5-0.5 1.5-1 1.4-1.3 1.1-1.8 1zM296.5 248.9l-2 0.1-2-0.2-2.5-0.9-1.6-1.1-1.2-1.5-0.5-1.5 0.1-1.5 0.8-1.5 0.9-0.8 1-0.6 2-0.7 1.5-0.1 2 0.1 3.5 1.1 0.5-0.1 2.5-1.3 2-0.3 1.1 0.2 1.4 0.7 0.8 0.8 1.2 1.7 2.5-0.5 2 0 1.1 0.3 0.9 0.5 0.5 0.5 0.2 0.5-0.1 0.5-0.4 0.5-1.7 0.6-2.6-0.1-1.4-0.5-1.5-1-3 1.2-2.5 0.5-0.6 0.3-0.6 1.5-0.9 1-1.6 1z"/>
<path fill="#d2ff25" d="M408.5 166.8l-2.5 0.4-1-0.2-1-0.4-0.5-0.4-0.5-0.9 0-1 0.5-1 1.5-1.2 2-0.8 2-0.1 1.6 0.6 0.9 1 0.1 0.5-0.1 1-1.1 1.5zM303.5 243.8l-1 0.1-1.5-0.3-1.9-0.8 0-1.5 0.8-1.5 1.2-1 1.4-0.5 1.5 0.1 1.5 0.6 0.9 0.8 0.7 1.5-0.3 1-0.5 0.5-1.3 0.7zM295 247.3l-1.5 0-1.5-0.4-1.2-0.6-1.1-1-0.6-1-0.1-1 0.3-1 0.8-1 1.9-0.9 2.5-0.1 1.8 0.5 2.2 1.5 0.3 0 0.2 2-0.6 1.5-1.4 1.1z"/>
<path fill="#eaff0c" d="M304.5 243.3l-2 0.2-1-0.3-0.8-0.4-0.5-0.5-0.3-1 0.2-1 0.3-0.5 1.1-0.9 1.5-0.4 1.5 0.2 1.1 0.6 0.8 1 0.2 1-0.1 0.5-0.9 1z"/>
<path fill="#ffe700" d="M304.5 243l-1 0.2-1-0.1-1-0.3-0.5-0.4-0.6-1.1 0.1-1 0.4-0.5 0.6-0.5 1.5-0.5 1.5 0.2 1 0.6 0.7 1.2-0.1 1-0.6 0.7z"/>
<path fill="#ffcb00" d="M303.5 242.8l-1 0-1-0.5-0.6-1 0.1-0.9 0.4-0.6 1.1-0.6 1-0.1 1 0.3 0.6 0.4 0.6 1-0.2 1-0.4 0.5z"/>
<path fill="#ffaf00" d="M303.5 242.3l-1-0.1-0.6-0.4-0.3-0.5-0.1-0.5 0.3-0.5 0.7-0.5 1.5-0.1 0.5 0.3 0.5 0.6 0.1 0.7-0.4 0.5z"/>
</g></g>
<rect x="199.5" y="45.3" width="318.50" height="316.20" fill="none" stroke="#111" stroke-width="0.7"/>
<path d="M234.00 361.5v3.4M234.00 45.3v-3.4M314.20 361.5v3.4M314.20 45.3v-3.4M394.40 361.5v3.4M394.40 45.3v-3.4M474.60 361.5v3.4M474.60 45.3v-3.4M199.5 69.40h-3.4M518.0 69.40h3.4M199.5 126.54h-3.4M518.0 126.54h3.4M199.5 183.68h-3.4M518.0 183.68h3.4M199.5 240.82h-3.4M518.0 240.82h3.4M199.5 297.96h-3.4M518.0 297.96h3.4M199.5 355.10h-3.4M518.0 355.10h3.4" stroke="#555" stroke-width="0.8" fill="none"/>
<rect x="122.95" y="29.95" width="677.30" height="673.50" fill="none" stroke="#000" stroke-width="1.9"/>
<path d="M179.60 704.40v7.6M179.60 29.00v-7.4M267.36 704.40v7.6M267.36 29.00v-7.4M355.12 704.40v7.6M355.12 29.00v-7.4M442.88 704.40v7.6M442.88 29.00v-7.4M530.64 704.40v7.6M530.64 29.00v-7.4M618.40 704.40v7.6M618.40 29.00v-7.4M706.16 704.40v7.6M706.16 29.00v-7.4M793.92 704.40v7.6M793.92 29.00v-7.4M122.00 604.80h-7.4M801.20 604.80h7.6M122.00 504.30h-7.4M801.20 504.30h7.6M122.00 403.80h-7.4M801.20 403.80h7.6M122.00 303.30h-7.4M801.20 303.30h7.6M122.00 202.80h-7.4M801.20 202.80h7.6M122.00 102.30h-7.4M801.20 102.30h7.6" stroke="#000" stroke-width="1.15" fill="none"/>
<g font-family="Liberation Serif, serif" opacity="0.999">
<text transform="translate(151.81,744.32) scale(0.893,1)" font-size="40.6" text-anchor="start" fill="#000">200</text>
<text transform="translate(239.57,744.32) scale(0.893,1)" font-size="40.6" text-anchor="start" fill="#000">300</text>
<text transform="translate(327.33,744.32) scale(0.893,1)" font-size="40.6" text-anchor="start" fill="#000">400</text>
<text transform="translate(415.09,744.32) scale(0.893,1)" font-size="40.6" text-anchor="start" fill="#000">500</text>
<text transform="translate(502.85,744.32) scale(0.893,1)" font-size="40.6" text-anchor="start" fill="#000">600</text>
<text transform="translate(590.61,744.32) scale(0.893,1)" font-size="40.6" text-anchor="start" fill="#000">700</text>
<text transform="translate(678.37,744.32) scale(0.893,1)" font-size="40.6" text-anchor="start" fill="#000">800</text>
<text transform="translate(766.13,744.32) scale(0.893,1)" font-size="40.6" text-anchor="start" fill="#000">900</text>
<rect x="57.87" y="606.83" width="24.0" height="1.35" fill="#000"/><text transform="translate(86.47,618.62) scale(0.893,1)" font-size="40.6" text-anchor="start" fill="#000">5</text>
<text transform="translate(86.47,517.72) scale(0.893,1)" font-size="40.6" text-anchor="start" fill="#000">0</text>
<text transform="translate(86.47,417.22) scale(0.893,1)" font-size="40.6" text-anchor="start" fill="#000">5</text>
<text transform="translate(68.34,316.72) scale(0.893,1)" font-size="40.6" text-anchor="start" fill="#000">10</text>
<text transform="translate(68.34,216.22) scale(0.893,1)" font-size="40.6" text-anchor="start" fill="#000">15</text>
<text transform="translate(68.34,115.72) scale(0.893,1)" font-size="40.6" text-anchor="start" fill="#000">20</text>
<text transform="translate(205.24,393.31) scale(0.935,1)" font-size="37.3" text-anchor="start" fill="#000">160</text>
<text transform="translate(287.24,393.31) scale(0.935,1)" font-size="37.3" text-anchor="start" fill="#000">200</text>
<text transform="translate(367.44,393.31) scale(0.935,1)" font-size="37.3" text-anchor="start" fill="#000">240</text>
<text transform="translate(447.64,393.31) scale(0.935,1)" font-size="37.3" text-anchor="start" fill="#000">280</text>
<text transform="translate(172.76,81.81) scale(0.935,1)" font-size="37.3" text-anchor="start" fill="#000">0</text>
<rect x="154.46" y="129.52" width="14.8" height="1.25" fill="#000"/><text transform="translate(172.76,140.35) scale(0.935,1)" font-size="37.3" text-anchor="start" fill="#000">2</text>
<rect x="154.46" y="186.66" width="14.8" height="1.25" fill="#000"/><text transform="translate(172.76,197.49) scale(0.935,1)" font-size="37.3" text-anchor="start" fill="#000">4</text>
<rect x="154.46" y="243.80" width="14.8" height="1.25" fill="#000"/><text transform="translate(172.76,254.63) scale(0.935,1)" font-size="37.3" text-anchor="start" fill="#000">6</text>
<rect x="154.46" y="300.94" width="14.8" height="1.25" fill="#000"/><text transform="translate(172.76,311.77) scale(0.935,1)" font-size="37.3" text-anchor="start" fill="#000">8</text>
<rect x="137.02" y="358.07" width="14.8" height="1.25" fill="#000"/><text transform="translate(155.32,368.91) scale(0.935,1)" font-size="37.3" text-anchor="start" fill="#000">10</text>
<text transform="translate(891.00,43.22) scale(0.893,1)" font-size="40.6" text-anchor="start" fill="#000">0</text>
<rect x="892.40" y="100.70" width="24.0" height="1.35" fill="#000"/><text transform="translate(921.00,112.50) scale(0.893,1)" font-size="40.6" text-anchor="start" fill="#000">4</text>
<rect x="892.40" y="167.98" width="24.0" height="1.35" fill="#000"/><text transform="translate(921.00,179.78) scale(0.893,1)" font-size="40.6" text-anchor="start" fill="#000">8</text>
<rect x="892.40" y="235.26" width="24.0" height="1.35" fill="#000"/><text transform="translate(921.00,247.06) scale(0.893,1)" font-size="40.6" text-anchor="start" fill="#000">12</text>
<rect x="892.40" y="302.55" width="24.0" height="1.35" fill="#000"/><text transform="translate(921.00,314.34) scale(0.893,1)" font-size="40.6" text-anchor="start" fill="#000">16</text>
<rect x="892.40" y="369.82" width="24.0" height="1.35" fill="#000"/><text transform="translate(921.00,381.62) scale(0.893,1)" font-size="40.6" text-anchor="start" fill="#000">20</text>
<rect x="892.40" y="437.11" width="24.0" height="1.35" fill="#000"/><text transform="translate(921.00,448.90) scale(0.893,1)" font-size="40.6" text-anchor="start" fill="#000">24</text>
<rect x="892.40" y="504.39" width="24.0" height="1.35" fill="#000"/><text transform="translate(921.00,516.18) scale(0.893,1)" font-size="40.6" text-anchor="start" fill="#000">28</text>
<rect x="892.40" y="571.67" width="24.0" height="1.35" fill="#000"/><text transform="translate(921.00,583.46) scale(0.893,1)" font-size="40.6" text-anchor="start" fill="#000">32</text>
<rect x="892.40" y="638.95" width="24.0" height="1.35" fill="#000"/><text transform="translate(921.00,650.74) scale(0.893,1)" font-size="40.6" text-anchor="start" fill="#000">36</text>
<rect x="892.40" y="706.23" width="24.0" height="1.35" fill="#000"/><text transform="translate(921.00,718.02) scale(0.893,1)" font-size="40.6" text-anchor="start" fill="#000">40</text>
<g transform="translate(0,783)" font-size="41.7"><text transform="translate(309.20,0) scale(1.056,1)" stroke="#000" stroke-width="0.75">Wavelength</text><text transform="translate(531.70,0) scale(1.063,1)" stroke="#000" stroke-width="0.75">(nm)</text></g>
<g transform="translate(44.6,584.8) rotate(-90)" font-size="41.7"><text transform="translate(-1.28,0) scale(1.139,1)" stroke="#000" stroke-width="0.75">Internal</text><text transform="translate(161.79,0) scale(1.079,1)" stroke="#000" stroke-width="0.75">angle</text><text transform="translate(270.80,0) scale(0.744,1)" font-style="italic">θ</text><text transform="translate(301.85,0) scale(1.039,1)" stroke="#000" stroke-width="0.75">(degrees)</text></g>
<text transform="translate(998.2,367.9) rotate(-90) scale(1.02,1)" font-size="41.7" stroke="#000" stroke-width="0.75" text-anchor="middle">dB</text>
</g>
<text transform="translate(717.3,650.6) scale(1.02,1)" font-family="Liberation Sans, sans-serif" font-size="70.5" fill="#fff">b</text>
<text x="762.1999999999999" y="646.7" font-family="Liberation Sans, sans-serif" font-size="63" fill="#fff">)</text>
<linearGradient id="cb788" x1="0" y1="0" x2="0" y2="1"><stop offset="0.0000" stop-color="#800000"/><stop offset="0.0250" stop-color="#9c0000"/><stop offset="0.0500" stop-color="#b90000"/><stop offset="0.0750" stop-color="#d60000"/><stop offset="0.1000" stop-color="#f30900"/><stop offset="0.1250" stop-color="#ff2100"/><stop offset="0.1500" stop-color="#ff3900"/><stop offset="0.1750" stop-color="#ff5000"/><stop offset="0.2000" stop-color="#ff6800"/><stop offset="0.2250" stop-color="#ff8000"/><stop offset="0.2500" stop-color="#ff9700"/><stop offset="0.2750" stop-color="#ffaf00"/><stop offset="0.3000" stop-color="#ffc600"/><stop offset="0.3250" stop-color="#ffde00"/><stop offset="0.3500" stop-color="#f7f600"/><stop offset="0.3750" stop-color="#e2ff15"/><stop offset="0.4000" stop-color="#ceff29"/><stop offset="0.4250" stop-color="#b9ff3e"/><stop offset="0.4500" stop-color="#a5ff52"/><stop offset="0.4750" stop-color="#90ff67"/><stop offset="0.5000" stop-color="#7bff7b"/><stop offset="0.5250" stop-color="#67ff90"/><stop offset="0.5500" stop-color="#52ffa5"/><stop offset="0.5750" stop-color="#3effb9"/><stop offset="0.6000" stop-color="#29ffce"/><stop offset="0.6250" stop-color="#15ffe2"/><stop offset="0.6500" stop-color="#00e5f7"/><stop offset="0.6750" stop-color="#00ccff"/><stop offset="0.7000" stop-color="#00b3ff"/><stop offset="0.7250" stop-color="#0099ff"/><stop offset="0.7500" stop-color="#0080ff"/><stop offset="0.7750" stop-color="#0066ff"/><stop offset="0.8000" stop-color="#004cff"/><stop offset="0.8250" stop-color="#0033ff"/><stop offset="0.8500" stop-color="#001aff"/><stop offset="0.8750" stop-color="#0000ff"/><stop offset="0.9000" stop-color="#0000f3"/><stop offset="0.9250" stop-color="#0000d6"/><stop offset="0.9500" stop-color="#0000b9"/><stop offset="0.9750" stop-color="#00009c"/><stop offset="1.0000" stop-color="#000080"/></linearGradient>
<rect x="842.95" y="29.95" width="33.65" height="673.50" fill="url(#cb788)" stroke="#000" stroke-width="1.7"/>
<path d="M877.15 30.30h8.2M877.15 97.58h8.2M877.15 164.86h8.2M877.15 232.14h8.2M877.15 299.42h8.2M877.15 366.70h8.2M877.15 433.98h8.2M877.15 501.26h8.2M877.15 568.54h8.2M877.15 635.82h8.2M877.15 703.10h8.2" stroke="#000" stroke-width="1.25" fill="none"/>
</g>
</svg>
</body></html>
